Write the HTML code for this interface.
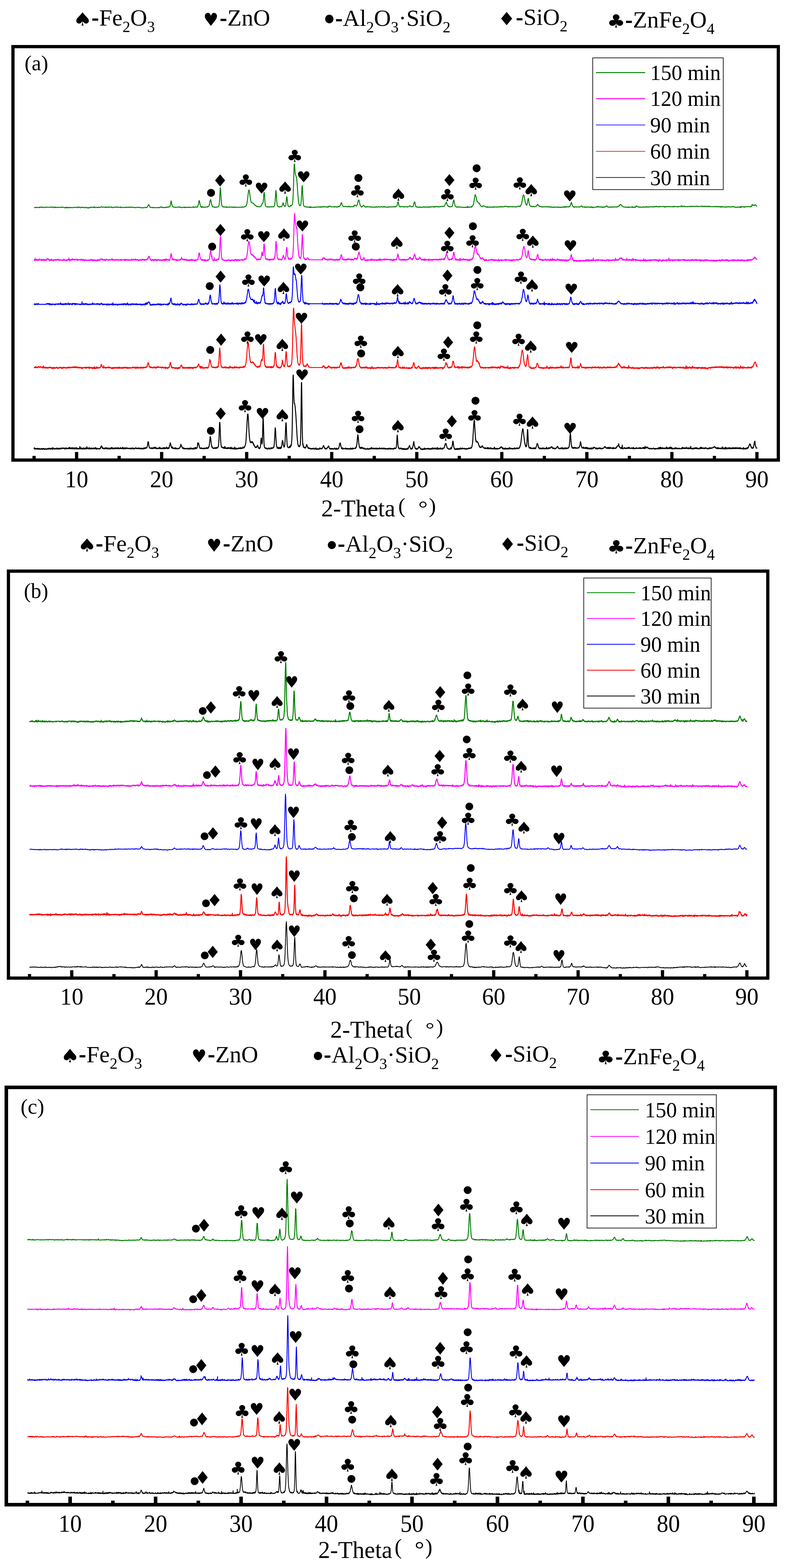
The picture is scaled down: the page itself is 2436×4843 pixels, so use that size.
<!DOCTYPE html>
<html><head><meta charset="utf-8"><style>
html,body{margin:0;padding:0;background:#fff;}
svg{display:block;}
</style></head><body>
<svg width="2436" height="4843" viewBox="0 0 2436 4843">
<rect width="2436" height="4843" fill="#fff"/>
<rect x="40.0" y="144.0" width="2363.0" height="1277.0" fill="none" stroke="#000" stroke-width="10.0"/>
<rect x="100.2" y="1408.0" width="10.0" height="9.0"/>
<rect x="231.5" y="1396.0" width="10.0" height="21.0"/>
<rect x="362.8" y="1408.0" width="10.0" height="9.0"/>
<rect x="494.1" y="1396.0" width="10.0" height="21.0"/>
<rect x="625.3" y="1408.0" width="10.0" height="9.0"/>
<rect x="756.6" y="1396.0" width="10.0" height="21.0"/>
<rect x="887.9" y="1408.0" width="10.0" height="9.0"/>
<rect x="1019.2" y="1396.0" width="10.0" height="21.0"/>
<rect x="1150.5" y="1408.0" width="10.0" height="9.0"/>
<rect x="1281.8" y="1396.0" width="10.0" height="21.0"/>
<rect x="1413.0" y="1408.0" width="10.0" height="9.0"/>
<rect x="1544.3" y="1396.0" width="10.0" height="21.0"/>
<rect x="1675.6" y="1408.0" width="10.0" height="9.0"/>
<rect x="1806.9" y="1396.0" width="10.0" height="21.0"/>
<rect x="1938.2" y="1408.0" width="10.0" height="9.0"/>
<rect x="2069.4" y="1396.0" width="10.0" height="21.0"/>
<rect x="2200.7" y="1408.0" width="10.0" height="9.0"/>
<rect x="2332.0" y="1396.0" width="10.0" height="21.0"/>
<g font-family="'Liberation Serif', serif" font-size="72.0" text-anchor="middle">
<text transform="translate(236.5 1505.0) scale(1 1.040)">10</text>
<text transform="translate(499.1 1505.0) scale(1 1.040)">20</text>
<text transform="translate(761.6 1505.0) scale(1 1.040)">30</text>
<text transform="translate(1024.2 1505.0) scale(1 1.040)">40</text>
<text transform="translate(1286.8 1505.0) scale(1 1.040)">50</text>
<text transform="translate(1549.3 1505.0) scale(1 1.040)">60</text>
<text transform="translate(1811.9 1505.0) scale(1 1.040)">70</text>
<text transform="translate(2074.4 1505.0) scale(1 1.040)">80</text>
<text transform="translate(2337.0 1505.0) scale(1 1.040)">90</text>
</g>
<text x="991.8" y="1594.5" font-family="'Liberation Serif', serif" font-size="73.5">2-Theta</text>
<text x="1229.6" y="1583.9" font-family="'Liberation Serif', serif" font-size="66.2">(</text>
<text x="1324.1" y="1583.9" font-family="'Liberation Serif', serif" font-size="66.2">)</text>
<text transform="translate(1306.0 1558.5) scale(1.189 1)" x="-12.2" y="31.3" font-family="'Liberation Serif', serif" font-size="61.0">°</text>
<text x="75.8" y="216.8" font-family="'Liberation Serif', serif" font-size="66.0">(a)</text>
<g fill="#000" font-family="'DejaVu Sans', sans-serif"><text transform="translate(254.9 58.6) scale(1.179 1)" x="-25.4" y="20.6" font-size="56.6">♠</text></g>
<text transform="translate(294.0 61.5) scale(0.962 1.283)" x="-12.0" y="17.0" font-family="'Liberation Serif', serif" font-size="72.0">-</text>
<text x="306.3" y="78.8" font-family="'Liberation Serif', serif" font-size="72.0">Fe<tspan font-size="48" dy="20">2</tspan><tspan dy="-20">O</tspan><tspan font-size="48" dy="20">3</tspan></text>
<g fill="#000" font-family="'DejaVu Sans', sans-serif"><text transform="translate(651.2 59.8) scale(0.938 1)" x="-24.9" y="20.2" font-size="55.6">♥</text></g>
<text transform="translate(689.8 62.0) scale(0.962 1.283)" x="-12.0" y="17.0" font-family="'Liberation Serif', serif" font-size="72.0">-</text>
<text x="702.1" y="79.2" font-family="'Liberation Serif', serif" font-size="72.0">ZnO</text>
<g fill="#000" font-family="'DejaVu Sans', sans-serif"><text transform="translate(1016.6 58.5) scale(0.954 1)" x="-15.4" y="9.1" font-size="35.4">●</text></g>
<text transform="translate(1046.5 62.7) scale(0.962 1.283)" x="-12.0" y="17.0" font-family="'Liberation Serif', serif" font-size="72.0">-</text>
<text x="1058.8" y="80.0" font-family="'Liberation Serif', serif" font-size="72.0">Al<tspan font-size="48" dy="20">2</tspan><tspan dy="-20">O</tspan><tspan font-size="48" dy="20">3</tspan><tspan dy="-20">·SiO</tspan><tspan font-size="48" dy="20">2</tspan></text>
<g fill="#000" font-family="'DejaVu Sans', sans-serif"><text transform="translate(1564.4 56.9) scale(1.065 1)" x="-25.4" y="20.6" font-size="56.6">♦</text></g>
<text transform="translate(1604.0 59.7) scale(0.962 1.283)" x="-12.0" y="17.0" font-family="'Liberation Serif', serif" font-size="72.0">-</text>
<text x="1616.3" y="77.0" font-family="'Liberation Serif', serif" font-size="72.0">SiO<tspan font-size="48" dy="20">2</tspan></text>
<g fill="#000" font-family="'DejaVu Sans', sans-serif"><text transform="translate(1902.5 64.4) scale(1.128 1)" x="-25.4" y="20.6" font-size="56.6">♣</text></g>
<text transform="translate(1941.8 67.7) scale(0.962 1.283)" x="-12.0" y="17.0" font-family="'Liberation Serif', serif" font-size="72.0">-</text>
<text x="1954.1" y="85.0" font-family="'Liberation Serif', serif" font-size="72.0">ZnFe<tspan font-size="48" dy="20">2</tspan><tspan dy="-20">O</tspan><tspan font-size="48" dy="20">4</tspan></text>
<rect x="1830.0" y="178.7" width="403.0" height="406.9" fill="none" stroke="#000" stroke-width="2.0"/>
<line x1="1840.0" x2="1992.0" y1="224.2" y2="224.2" stroke="#008000" stroke-width="3.0"/>
<text transform="translate(2007.2 247.0) scale(1 1.04)" font-family="'Liberation Serif', serif" font-size="66.0">150 min</text>
<line x1="1840.0" x2="1992.0" y1="304.8" y2="304.8" stroke="#ff00ff" stroke-width="3.0"/>
<text transform="translate(2007.2 326.8) scale(1 1.04)" font-family="'Liberation Serif', serif" font-size="66.0">120 min</text>
<line x1="1840.0" x2="1992.0" y1="386.0" y2="386.0" stroke="#0000ff" stroke-width="2.0"/>
<text transform="translate(2007.2 408.5) scale(1 1.04)" font-family="'Liberation Serif', serif" font-size="66.0">90 min</text>
<line x1="1840.0" x2="1992.0" y1="467.4" y2="467.4" stroke="#ff0000" stroke-width="2.0"/>
<text transform="translate(2007.2 490.0) scale(1 1.04)" font-family="'Liberation Serif', serif" font-size="66.0">60 min</text>
<line x1="1840.0" x2="1992.0" y1="548.3" y2="548.3" stroke="#000000" stroke-width="2.0"/>
<text transform="translate(2007.2 571.7) scale(1 1.04)" font-family="'Liberation Serif', serif" font-size="66.0">30 min</text>
<path d="M105.2 641.0l1 .2 1 -.5 1 .7 1 -.9 1 -.3 1 1.1 1 -.8 1 -.3 1 .4 1 .4 1 .5 1 -.9 1 .4 1 -.6 1 -.1 1 -.1 1 1.5 1 -2.1 1 .6 1 -.9 1 .9 1 -.1 1 .5 1 -.8 1 .7 1 -1.2 1 .7 1 -.1 1 .3 1 .3 1 0 1 .1 1 1 1 -.4 1 -1.4 1 .4 1 -.4 1 -.1 1 .6 1 0 1 -.5 1 .1 1 .1 1 .2 1 -.2 1 .2 1 .3 1 .1 1 -.5 1 -.5 1 .6 1 -.7 1 .6 1 -.9 1 .6 1 .5 1 .1 1 -1.2 1 1 1 .2 1 1.2 1 -.7 1 -.1 1 -2 1 1.6 1 .7 1 -1 1 .3 1 .3 1 .2 1 .3 1 -1.3 1 .6 1 -.7 1 .4 1 .8 1 .2 1 -.3 1 -.4 1 -.3 1 .5 1 -.6 1 -.7 1 .8 1 .7 1 -1.2 1 .6 1 -.5 1 .4 1 .3 1 0 1 0 1 .3 1 .8 1 .4 1 -1.3 1 .3 1 .5 1 -1.5 1 2.2 1 -1.6 1 .5 1 -1.1 1 1.6 1 -.7 1 .1 1 1.2 1 -.9 1 -.5 1 -.5 1 1.2 1 -.6 1 .6 1 -.3 1 -.8 1 .7 1 .1 1 .3 1 -.7 1 .2 1 -.3 1 .9 1 -1.2 1 .3 1 -.3 1 .5 1 -.2 1 -.7 1 -.2 1 .3 1 0 1 .9 1 .4 1 .3 1 -1.3 1 -1.5 1 1.4 1 .1 1 0 1 -.4 1 -.3 1 2.2 1 -.7 1 -.2 1 .7 1 -.8 1 -1.1 1 0 1 .9 1 .7 1 -1.3 1 .5 1 .3 1 -.2 1 -.3 1 .8 1 1.2 1 -1.4 1 -.6 1 -.4 1 .9 1 .4 1 .1 1 .4 1 -1 1 1.1 1 1.4 1 -1.8 1 -.7 1 .6 1 -.4 1 0 1 1 1 -2 1 .1 1 -.6 1 1.3 1 -.2 1 .4 1 -.4 1 0 1 -.3 1 -.3 1 1.1 1 -2.4 1 .3 1 2.2 1 -.2 1 .3 1 -1.2 1 .2 1 -.1 1 0 1 .3 1 1.3 1 -1.6 1 -.6 1 1.1 1 .3 1 -.6 1 -1 1 .9 1 .7 1 -.7 1 -.3 1 -.2 1 -.6 1 -1 1 1.1 1 .5 1 .6 1 -.1 1 -.8 1 -.2 1 .1 1 .7 1 -.3 1 -.1 1 .5 1 .5 1 -1.3 1 -.6 1 2.1 1 -.7 1 -.6 1 .7 1 -.2 1 -.5 1 .7 1 -1.2 1 1.3 1 -.1 1 -.6 1 .1 1 .2 1 -.9 1 .3 1 .7 1 -1 1 1.3 1 1.2 1 -.5 1 .1 1 -.9 1 .8 1 -.9 1 0 1 -.6 1 .5 1 -.7 1 .3 1 1 1 -.8 1 -.6 1 .5 1 -.5 1 1.3 1 -1.3 1 .6 1 .6 1 .1 1 0 1 -.3 1 -.2 1 .7 1 -1 1 -.7 1 2.5 1 -1 1 -.3 1 .2 1 .1 1 -.1 1 .5 1 -.6 1 .8 1 -.2 1 -.4 1 -.1 1 .1 1 .4 1 -.6 1 .5 1 -1.7 1 1.3 1 .4 1 -.3 1 -.4 1 .5 1 -.8 1 -.1 1 .5 1 .7 1 -1.2 1 -.1 1 -.2 1 1.1 1 0 1 -.9 1 -.4 1 1 1 .4 1 -.1 1 -.9 1 .4 1 .8 1 -.2 1 .3 1 -.6 1 .4 1 .4 1 .3 1 -.8 1 .9 1 -.5 1 -.7 1 .3 1 .2 1 -.4 1 -.2 1 -.4 1 1.1 1 -.7 1 -.1 1 .2 1 .6 1 -.6 1 .9 1 .2 1 .3 1 0 1 .1 1 -.9 1 .5 1 0 1 .8 1 -.4 1 -.4 1 -.2 1 -.3 1 -.2 1 .2 1 .1 1 -.4 1 1 1 -1.5 1 1 1 -.5 1 -.8 1 -.5 1 -2.2 1 -3.2 1 -1 1 -1 1 2.2 1 .8 1 3.9 1 .9 1 1.3 1 -.4 1 -.4 1 .5 1 -.1 1 .5 1 .3 1 -.3 1 .1 1 -1.3 1 1.6 1 -.3 1 -.3 1 .1 1 .4 1 -.4 1 .1 1 .4 1 -.1 1 -.3 1 -.2 1 .3 1 -.1 1 .9 1 -1 1 0 1 -.8 1 1.5 1 -.9 1 .4 1 -.8 1 .1 1 -1.3 1 -.8 1 1.4 1 -.5 1 1 1 -.4 1 1.1 1 -.6 1 0 1 1.3 1 -1 1 .1 1 -.5 1 0 1 .3 1 .9 1 -.5 1 -1.6 1 0 1 -.1 1 1.1 1 .1 1 -.7 1 -.5 1 .5 1 -1.3 1 .5 1 -.1 1 -1 1 -.6 1 -4.8 1 -6.1 1 -6.2 1 3.5 1 6 1 4.7 1 2.7 1 1.5 1 .3 1 .9 1 0 1 -.9 1 .4 1 .3 1 .4 1 .7 1 -1 1 -.1 1 .7 1 -.1 1 -.2 1 -.3 1 0 1 -.3 1 .3 1 -.4 1 .1 1 .1 1 1.1 1 -1.3 1 0 1 .1 1 .8 1 -.2 1 1.2 1 -.8 1 1 1 -.9 1 .1 1 -.1 1 -.8 1 .5 1 -.6 1 1 1 .7 1 -1.8 1 1.7 1 -.8 1 .3 1 -.6 1 .5 1 -.3 1 .1 1 -.5 1 .5 1 -.8 1 .6 1 .6 1 -1.3 1 .2 1 1.2 1 .2 1 -.5 1 .1 1 -.6 1 0 1 -.2 1 .5 1 -.3 1 -1 1 -1 1 2 1 -.6 1 .9 1 .1 1 -.9 1 -.8 1 .9 1 -.9 1 .8 1 .2 1 -.8 1 0 1 1.2 1 -3.1 1 -1.7 1 -2.7 1 -5.7 1 -6.1 1 -1.6 1 3.9 1 5.2 1 5.4 1 3 1 2.2 1 -.5 1 2.2 1 -1.3 1 -1.9 1 2.4 1 -.6 1 .6 1 -.2 1 -.1 1 .8 1 -.9 1 .2 1 .3 1 -.8 1 .7 1 -1.1 1 .4 1 -.3 1 -.4 1 1.3 1 -1.1 1 -.6 1 -.9 1 0 1 -1.7 1 -2.7 1 -4.5 1 -6.6 1 -3.5 1 -2 1 3.3 1 4.9 1 4.7 1 4.6 1 1.4 1 3.9 1 -1.4 1 .9 1 .3 1 .5 1 -.1 1 .1 1 1.6 1 -1.2 1 -.3 1 .3 1 .9 1 -1.2 1 -.1 1 -.1 1 0 1 0 1 -.2 1 -1.5 1 -.8 1 -2 1 -7.4 1 -12.4 1 -20.3 1 -15 1 6.4 1 18 1 17.7 1 9.1 1 4.5 1 2.6 1 .7 1 -.4 1 .9 1 -.6 1 1 1 -.7 1 -.2 1 1.1 1 -.1 1 -.1 1 .6 1 -.2 1 -1.8 1 2.2 1 -.4 1 .5 1 -.8 1 .1 1 -.2 1 .5 1 -.2 1 -.3 1 -.8 1 .9 1 .7 1 -.6 1 -.2 1 -.2 1 .4 1 -.1 1 .8 1 -1.2 1 0 1 1.4 1 -.5 1 -.4 1 -1.1 1 1.2 1 1.2 1 -.8 1 -.9 1 .9 1 .1 1 -.1 1 .1 1 -.5 1 .1 1 .3 1 .1 1 -.6 1 .3 1 0 1 0 1 -.1 1 -.4 1 .6 1 .1 1 -.4 1 .6 1 -.7 1 -.9 1 .3 1 .9 1 -.6 1 .4 1 -1 1 .1 1 -.4 1 .2 1 -.5 1 -.1 1 -1.1 1 -1.1 1 -.8 1 -3.6 1 -2.6 1 -5.2 1 -7.2 1 -9.1 1 -8.7 1 -8.3 1 -3.4 1 -.2 1 5 1 7.7 1 7.9 1 7.3 1 4.8 1 4.1 1 2.1 1 .3 1 .4 1 .1 1 0 1 .5 1 1.4 1 1 1 .3 1 1.2 1 1.1 1 2.2 1 -.3 1 .9 1 .4 1 2 1 .6 1 0 1 -.6 1 1 1 .5 1 -.6 1 -.2 1 .5 1 .1 1 .6 1 -.7 1 .2 1 -.8 1 -.6 1 -1.3 1 -2 1 -1.7 1 -2.7 1 -1.9 1 .2 1 -2.1 1 -7.8 1 -13.7 1 -10.4 1 2.2 1 12.8 1 16.4 1 8.3 1 2.4 1 1.4 1 .6 1 .9 1 .2 1 -.3 1 0 1 -.5 1 1.2 1 -.1 1 -.3 1 .3 1 0 1 -.2 1 -.4 1 .4 1 .1 1 -.9 1 .5 1 .2 1 -1 1 .2 1 .2 1 .8 1 -.8 1 -.2 1 -1 1 -2.3 1 -2.5 1 -8.3 1 -13.8 1 -17.3 1 -5.1 1 12 1 16.7 1 11.8 1 6.9 1 1.4 1 .7 1 .2 1 1.2 1 -.7 1 1.6 1 -1 1 -.7 1 .5 1 -.6 1 -.2 1 1.3 1 -.9 1 -1.5 1 -1.2 1 -4 1 -3.4 1 -1.8 1 3.9 1 2.9 1 2.9 1 .8 1 .9 1 0 1 -1.4 1 -3.4 1 -7.7 1 -9.7 1 -7.8 1 2.1 1 10.9 1 9.2 1 5 1 2.2 1 -.3 1 .9 1 .9 1 -.7 1 .4 1 -2.1 1 -1.8 1 1.6 1 -.9 1 0 1 -1.6 1 -1.4 1 -4.1 1 -10.1 1 -17.1 1 -28.7 1 -35 1 -28.2 1 -2.5 1 13 1 12.8 1 7 1 2 1 3.6 1 3.3 1 6.8 1 10.3 1 13.5 1 15.2 1 13.9 1 10.8 1 7 1 4.7 1 3.3 1 1.6 1 -1 1 .7 1 -1.5 1 -4.8 1 -10.2 1 -17.2 1 -22.1 1 -6.2 1 14.8 1 22 1 16.2 1 7.7 1 2.6 1 1 1 .4 1 .8 1 .4 1 -.4 1 .8 1 -.7 1 1.4 1 -1 1 -.1 1 0 1 1 1 -.3 1 1.2 1 -.1 1 -.4 1 -.3 1 .9 1 -3 1 2.4 1 1 1 -1.7 1 -.2 1 1.3 1 -.5 1 .4 1 -.3 1 .6 1 -.5 1 0 1 -.9 1 .5 1 .8 1 -1 1 1.1 1 -.5 1 -.7 1 -.5 1 .4 1 -.3 1 .6 1 -.4 1 -.1 1 .1 1 -.7 1 0 1 .9 1 .6 1 -.7 1 .2 1 -.6 1 1.3 1 -1.5 1 -.7 1 .5 1 .6 1 -.8 1 .5 1 -1 1 1.3 1 -.5 1 -.6 1 .3 1 .8 1 -.6 1 .2 1 -.2 1 .3 1 .5 1 .2 1 -.8 1 .3 1 1 1 -1.3 1 .5 1 -2.1 1 1.1 1 -1.5 1 .3 1 -.7 1 .5 1 -.2 1 1.4 1 .2 1 .4 1 -.1 1 .4 1 -.3 1 -.3 1 .1 1 .4 1 -.2 1 -.7 1 .5 1 1.1 1 -.8 1 -1 1 .4 1 .3 1 1.1 1 -.2 1 -.4 1 1 1 -1.1 1 -.9 1 .5 1 -1.3 1 1.3 1 -1.4 1 .3 1 -.7 1 -1.9 1 -2.3 1 -2 1 -4.4 1 0 1 2.1 1 4.3 1 1.4 1 1.1 1 1.9 1 1.4 1 -.8 1 .1 1 .1 1 .3 1 .3 1 -1.1 1 .7 1 .4 1 -.6 1 .4 1 -.1 1 .4 1 -.1 1 .8 1 -2 1 .5 1 -.6 1 -.3 1 2.5 1 .1 1 -.7 1 .2 1 -.4 1 -.4 1 .5 1 -.2 1 0 1 -.3 1 .5 1 -.8 1 1 1 -1.8 1 .2 1 -2.6 1 -1.2 1 0 1 1.4 1 .4 1 .5 1 1 1 -1.3 1 -1.7 1 -2.1 1 -4.1 1 -3.7 1 -3.8 1 -2.4 1 .4 1 3.2 1 5.5 1 3.6 1 4.1 1 2.1 1 .8 1 1.5 1 1 1 -1.5 1 -.6 1 .2 1 -1.4 1 -1.5 1 -.5 1 -.6 1 2.1 1 1.3 1 1 1 .2 1 1.4 1 -1 1 .5 1 -.6 1 -1.1 1 1.6 1 -.6 1 -.3 1 0 1 .5 1 -.2 1 .4 1 -.2 1 -.1 1 .7 1 -1.1 1 .9 1 -.1 1 -.2 1 .9 1 -.2 1 -.7 1 .4 1 .4 1 -.5 1 .8 1 .4 1 -.4 1 -.6 1 .3 1 .1 1 .2 1 -.5 1 -1.8 1 1.8 1 -.1 1 0 1 .3 1 -.3 1 -.4 1 -1.4 1 1.7 1 -.2 1 -.1 1 -.4 1 1 1 -.4 1 -.4 1 -.4 1 .8 1 -.9 1 .6 1 .1 1 .5 1 -.8 1 .3 1 -.1 1 -1.9 1 2.5 1 -.6 1 -.2 1 .6 1 -.8 1 .7 1 .7 1 .2 1 -.2 1 -.4 1 -.1 1 .1 1 .9 1 -1.7 1 .5 1 -.4 1 .3 1 -.1 1 -.4 1 .1 1 .8 1 -.6 1 -.4 1 .4 1 0 1 .2 1 -.2 1 -.5 1 .6 1 -.9 1 .3 1 .5 1 -.8 1 .9 1 -1.4 1 1.1 1 -1 1 .1 1 -1.3 1 0 1 -3.3 1 -3.8 1 -4.8 1 -1.3 1 3.3 1 5.7 1 3 1 2.9 1 .1 1 -.3 1 1.3 1 -1.7 1 .5 1 .2 1 -.5 1 .4 1 -.3 1 .3 1 .4 1 .4 1 .4 1 -1.5 1 .9 1 .2 1 -.2 1 -.3 1 -.4 1 .1 1 -.5 1 .9 1 0 1 1 1 -.5 1 -.3 1 -1.2 1 .5 1 -.4 1 -.2 1 -.8 1 -1.4 1 .6 1 .5 1 1.1 1 .8 1 .5 1 0 1 -.3 1 -.6 1 .6 1 -.6 1 -2.7 1 -2.3 1 -5.7 1 -3.4 1 -.7 1 2.6 1 5.7 1 2.8 1 4.3 1 -.3 1 .5 1 .8 1 .3 1 .6 1 -1.2 1 .3 1 -.3 1 .8 1 -.8 1 0 1 1.4 1 -.9 1 -.6 1 .8 1 .4 1 .2 1 -.3 1 -.2 1 .2 1 -1.6 1 1.2 1 -.2 1 -.6 1 -.6 1 1.5 1 .3 1 -.9 1 .6 1 -.9 1 -.1 1 .6 1 -.7 1 1.4 1 -.9 1 -.1 1 -.2 1 1.3 1 -1.2 1 .1 1 -.6 1 1.3 1 -.9 1 -.3 1 1.2 1 -1.2 1 .6 1 -.9 1 -.1 1 .4 1 -.5 1 .9 1 -.4 1 .3 1 -.9 1 .3 1 1.3 1 -1.5 1 -.2 1 1.2 1 -1.5 1 1 1 -1.1 1 .7 1 -.6 1 .5 1 -.2 1 1.1 1 -1.1 1 .4 1 1 1 -.6 1 -.2 1 -.9 1 .2 1 .7 1 -.4 1 -.6 1 -.1 1 0 1 -.5 1 1.2 1 -1 1 .4 1 -.3 1 -.6 1 .3 1 -1.3 1 -1.1 1 -2.5 1 -2.8 1 -1.7 1 -1.2 1 -2.4 1 3.7 1 3.6 1 2.4 1 1.8 1 0 1 1.9 1 .4 1 -.2 1 .7 1 .1 1 -.7 1 1.2 1 .1 1 -.4 1 -.1 1 .1 1 -1.3 1 -.6 1 -2.2 1 -4.1 1 -6.5 1 -5.1 1 -1.5 1 3.9 1 5.5 1 5 1 4.2 1 1.3 1 .9 1 1.2 1 .1 1 -.8 1 1.4 1 -.7 1 -.5 1 -.1 1 .8 1 -.7 1 .9 1 -.3 1 .5 1 -.5 1 -.1 1 -.6 1 1.4 1 -.2 1 .1 1 -.3 1 0 1 .6 1 .4 1 -.7 1 .4 1 .2 1 -.9 1 .1 1 .8 1 -.1 1 -.1 1 .4 1 -1.6 1 1.2 1 0 1 .4 1 -3.9 1 2.9 1 .8 1 -1 1 -.5 1 1.4 1 -.7 1 -.8 1 .4 1 -.2 1 .1 1 -.9 1 -.5 1 2.1 1 -2.3 1 -.9 1 -1.1 1 -1.5 1 -2.3 1 -2.8 1 -6.6 1 -5.2 1 -6.9 1 -5.5 1 -4.2 1 2.4 1 2.8 1 3.6 1 6 1 3.5 1 3.1 1 .9 1 1.4 1 .6 1 1.5 1 .5 1 1.5 1 .8 1 -.6 1 4.8 1 1.4 1 .7 1 1.1 1 .5 1 .6 1 .7 1 -.4 1 0 1 -2.8 1 .4 1 -.3 1 -.2 1 .7 1 .8 1 .6 1 1.1 1 -.3 1 .2 1 1 1 .5 1 -.5 1 1.2 1 -2.3 1 1.4 1 -.4 1 .8 1 -.4 1 .5 1 -.4 1 -.4 1 .6 1 -1.3 1 .6 1 .9 1 -.5 1 .3 1 .3 1 -.5 1 .2 1 -1.2 1 1 1 .1 1 -1.4 1 1.3 1 0 1 -.8 1 .1 1 .3 1 -.4 1 .5 1 .6 1 -1.1 1 .1 1 0 1 -.1 1 .5 1 -.9 1 .7 1 -1.2 1 .5 1 .6 1 .5 1 -.4 1 -.6 1 -1.9 1 2.2 1 -.2 1 .5 1 -.2 1 .1 1 -.9 1 .1 1 .4 1 -.2 1 -1.4 1 .8 1 -.8 1 -.2 1 .1 1 -.2 1 .5 1 .2 1 1 1 -.5 1 .5 1 -.6 1 1.4 1 -1.5 1 .6 1 -1 1 1.3 1 .1 1 -.1 1 .3 1 -.7 1 .2 1 -.5 1 .2 1 .6 1 -.4 1 .5 1 -.8 1 -.1 1 .7 1 -.5 1 .8 1 -.6 1 .3 1 -.1 1 .9 1 -1.1 1 -.5 1 .6 1 .5 1 -1.4 1 .2 1 -1.2 1 .3 1 .1 1 0 1 1 1 -1 1 -1.1 1 1.1 1 -.8 1 -2.5 1 -2 1 -2 1 -5.3 1 -4.1 1 -6.9 1 -5.1 1 -5.1 1 -1.5 1 .9 1 2.6 1 5.8 1 5.4 1 4.9 1 4.3 1 3 1 3.4 1 .9 1 .9 1 -2.5 1 -4.8 1 -6 1 -5.4 1 -2.6 1 4.7 1 7.3 1 5.2 1 2.9 1 2.4 1 1.4 1 .7 1 .7 1 -1 1 0 1 1.4 1 -.2 1 .3 1 -1 1 -.2 1 .9 1 -.3 1 .6 1 0 1 -.8 1 .6 1 -.7 1 -.3 1 0 1 -.6 1 -1.8 1 -.7 1 -2.7 1 -.2 1 1.2 1 1.9 1 1.2 1 .5 1 1.5 1 .2 1 .1 1 -1 1 1.5 1 .9 1 -.3 1 -.5 1 -.4 1 1.5 1 .2 1 -.6 1 .1 1 -.5 1 -.3 1 .6 1 -.3 1 -.2 1 0 1 .9 1 -.6 1 .6 1 -.7 1 -.9 1 .3 1 1.3 1 -.6 1 -.7 1 .3 1 1.6 1 -.5 1 -.2 1 -.8 1 .1 1 1.2 1 -.3 1 -1.2 1 1.5 1 -.1 1 1 1 -.7 1 .7 1 -.8 1 -.2 1 .5 1 -1.1 1 1.3 1 -.2 1 .3 1 -.7 1 -.3 1 -.5 1 1.1 1 -.1 1 .2 1 -.8 1 -.1 1 1.7 1 -1.2 1 .1 1 0 1 .9 1 -1.1 1 .1 1 -.1 1 .5 1 -.4 1 1.4 1 -1.4 1 1.1 1 -.9 1 0 1 -.9 1 .5 1 -.2 1 -1.3 1 2.1 1 -.5 1 -.5 1 1.2 1 -2.8 1 1.3 1 .8 1 -1.3 1 .8 1 -.1 1 -.6 1 .3 1 .3 1 .4 1 -1.4 1 .4 1 -.3 1 .6 1 -2 1 -.5 1 -2.1 1 -4 1 -3.6 1 -1.9 1 3.8 1 3.2 1 2.5 1 2.7 1 .8 1 .9 1 .7 1 -.8 1 1.8 1 -.6 1 -.8 1 -.1 1 -.1 1 .5 1 .4 1 -.8 1 .4 1 .1 1 .3 1 -.5 1 -.3 1 -.2 1 .9 1 .3 1 -.7 1 -.4 1 -.3 1 .4 1 -1 1 -2 1 .2 1 .3 1 .5 1 2.5 1 .6 1 -.8 1 .2 1 -.2 1 -.3 1 -.7 1 2.5 1 -.7 1 -.6 1 .2 1 1.1 1 -1.7 1 .7 1 .5 1 -1.3 1 .4 1 .2 1 .8 1 -.7 1 -.6 1 1 1 .9 1 -.6 1 -.6 1 -.1 1 -1.3 1 2.1 1 -.4 1 -.7 1 1.8 1 -1.4 1 2 1 -1.2 1 .1 1 -.5 1 .2 1 -.1 1 .3 1 -.4 1 -.7 1 -.1 1 .4 1 -.3 1 -.7 1 1.1 1 -1.4 1 .7 1 -2.3 1 2.2 1 .7 1 -.3 1 -.3 1 -.3 1 .8 1 .1 1 -1 1 -.1 1 1.2 1 -.1 1 .7 1 -1.3 1 1.5 1 -1 1 .4 1 .9 1 -1.5 1 .1 1 .1 1 -1 1 .2 1 .4 1 -1.4 1 -1 1 .1 1 -1.2 1 1.2 1 1.8 1 0 1 1 1 -.1 1 .5 1 -.5 1 .4 1 .3 1 -.9 1 .7 1 0 1 -.9 1 -.6 1 .5 1 1.2 1 -.4 1 -.8 1 0 1 .6 1 -.7 1 .8 1 -.1 1 -.2 1 -.1 1 -.4 1 .2 1 .2 1 -.2 1 .7 1 -.7 1 -.4 1 -1.1 1 1.2 1 -.6 1 -.4 1 -.2 1 -2.4 1 .2 1 -2.4 1 0 1 -1.1 1 -.7 1 .8 1 1.3 1 1.8 1 .9 1 .7 1 1 1 .2 1 .4 1 1 1 -.1 1 .5 1 -.1 1 -.3 1 .8 1 -.2 1 -.6 1 .8 1 -.6 1 .3 1 -.1 1 0 1 -.1 1 1.8 1 -2.2 1 1.4 1 -1 1 .1 1 .7 1 -.9 1 .7 1 0 1 -.2 1 -.2 1 -.4 1 .6 1 -2.2 1 2.7 1 .5 1 -.9 1 0 1 .6 1 -1.5 1 .7 1 .5 1 -1.8 1 1.1 1 -1.6 1 -1.1 1 -1.4 1 1.7 1 .3 1 .3 1 1.2 1 .5 1 0 1 -.9 1 .9 1 .4 1 .2 1 -1.3 1 1.1 1 .1 1 -.1 1 .6 1 -.5 1 -.2 1 .1 1 -.3 1 -1.5 1 1.5 1 -.6 1 .9 1 -.6 1 -.2 1 .5 1 .2 1 -1.2 1 1.2 1 -.9 1 -.7 1 1.1 1 .5 1 -1.2 1 .3 1 .6 1 .4 1 -.8 1 -.2 1 .7 1 -1.2 1 .5 1 -.3 1 .3 1 -.1 1 .1 1 -.7 1 -.1 1 1 1 -.1 1 -1 1 .8 1 -.7 1 1.3 1 0 1 -1.3 1 0 1 -.8 1 1.5 1 -.6 1 -1.4 1 1.8 1 -.2 1 -.5 1 0 1 .2 1 1.1 1 -.1 1 -.9 1 -.3 1 1.2 1 -1.9 1 .2 1 .7 1 .3 1 -.4 1 -.3 1 .2 1 .2 1 .2 1 -.8 1 .8 1 -1 1 .5 1 1 1 .4 1 -1.6 1 1.9 1 -1.5 1 .8 1 .5 1 -1.1 1 .3 1 -1 1 .4 1 -.1 1 .5 1 -.8 1 1.1 1 -.9 1 1 1 0 1 -.4 1 -.5 1 .4 1 -.1 1 .7 1 -.3 1 -.4 1 .3 1 .2 1 -.7 1 1.2 1 -.9 1 .3 1 -1.8 1 1.1 1 .4 1 .1 1 -.4 1 -.2 1 0 1 .6 1 .1 1 -.1 1 -.4 1 1.3 1 -1.1 1 -.7 1 .3 1 .3 1 0 1 -.5 1 .3 1 -.5 1 .2 1 .2 1 -.7 1 .1 1 -1.9 1 3.1 1 -.9 1 .3 1 -.1 1 -.4 1 -.5 1 .6 1 -.7 1 1.2 1 0 1 .6 1 -.3 1 -.2 1 .1 1 .4 1 -.1 1 0 1 -.9 1 .8 1 -.4 1 .3 1 -.5 1 -.2 1 .6 1 -.7 1 .2 1 .6 1 -.5 1 -1.2 1 1.3 1 -.1 1 -.2 1 .2 1 0 1 -.3 1 .1 1 -.3 1 -.2 1 .6 1 -.2 1 .3 1 -.1 1 -.1 1 -.4 1 -.9 1 .8 1 .1 1 .1 1 -.5 1 .9 1 .1 1 .5 1 -.8 1 -.1 1 0 1 0 1 -.1 1 -.2 1 -.1 1 .4 1 -.1 1 -.9 1 1.1 1 .9 1 -.3 1 -1 1 .8 1 -1.1 1 .6 1 -.6 1 .1 1 1.4 1 -.1 1 -.5 1 -1 1 .8 1 -.2 1 .5 1 .9 1 -1.2 1 .8 1 -1.1 1 .7 1 -1.2 1 1.3 1 0 1 .4 1 -.2 1 -.2 1 .5 1 -.3 1 .1 1 .2 1 -.2 1 .1 1 .4 1 -.7 1 .3 1 -.3 1 .5 1 -.1 1 -.4 1 -.7 1 1.7 1 -.9 1 .5 1 -.5 1 .7 1 -.6 1 -.3 1 1 1 -1.7 1 1.2 1 0 1 -.1 1 .8 1 -.8 1 1 1 -.5 1 .8 1 -1.9 1 2 1 -1 1 .5 1 -1.7 1 1.2 1 -.5 1 .5 1 .5 1 .2 1 -.1 1 .1 1 -.5 1 .4 1 1 1 -1.6 1 0 1 -.6 1 1.4 1 0 1 -.5 1 -.4 1 -.7 1 1.1 1 .1 1 -.7 1 .1 1 .8 1 0 1 .2 1 -1 1 .8 1 .2 1 -.6 1 -1 1 .4 1 -.6 1 1.3 1 -.8 1 .3 1 .7 1 -.7 1 1.7 1 -.3 1 0 1 -.2 1 .8 1 .3 1 -.9 1 -.1 1 -.6 1 .6 1 .8 1 -.8 1 -.5 1 .4 1 .3 1 -.6 1 0 1 1.6 1 -2.8 1 2.9 1 -3.3 1 1 1 -.6 1 1 1 -.3 1 0 1 -.3 1 .3 1 .7 1 -1.2 1 1.4 1 .3 1 -1.2 1 -.2 1 .1 1 -.7 1 .8 1 -.3 1 .3 1 -.5 1 -.5 1 .5 1 -.3 1 .3 1 .2 1 -.4 1 .2 1 -.4 1 .4 1 .4 1 -1.7 1 1.1 1 -.8 1 -1.4 1 -4.8 1 2.2 1 .1 1 .3 1 -.4 1 .7 1 -.2 1 .6 1 -.5 1 -1.7 1 .1 1 1.3 1 1.1 1 .3 1 1.8 1 .6" fill="none" stroke="#008000" stroke-width="2.8" stroke-linejoin="round"/>
<path d="M105.2 803.5l.5 .1 .5 -1.7 .5 2.7 .5 -1.7 .5 1 .5 -1.1 .5 -5.3 .5 6.5 .5 -.9 .5 -.1 .5 -.3 .5 -.3 .5 1.8 .5 -1.1 .5 -2.9 .5 3.4 .5 -.5 .5 .6 .5 -.7 .5 .9 .5 -.3 .5 -1.9 .5 1 .5 .8 .5 -.3 .5 1.8 .5 -3.1 .5 1.1 .5 -.6 .5 0 .5 0 .5 -3.3 .5 2.8 .5 .2 .5 2 .5 -.9 .5 -1 .5 .8 .5 -.2 .5 -.1 .5 -.1 .5 .6 .5 -2 .5 -.9 .5 3.6 .5 -1.6 .5 1.6 .5 -2.8 .5 .9 .5 2.7 .5 -2.4 .5 -.7 .5 1.9 .5 0 .5 .6 .5 -1.1 .5 .8 .5 -2.2 .5 1.9 .5 .9 .5 -4.1 .5 3 .5 -.9 .5 .5 .5 0 .5 -.7 .5 3 .5 -.9 .5 .9 .5 -1.3 .5 .5 .5 -.9 .5 -1.8 .5 .3 .5 -.4 .5 .5 .5 1.9 .5 -1.1 .5 -.3 .5 -1.6 .5 -.2 .5 -2.8 .5 1 .5 .7 .5 -.4 .5 -.3 .5 1.1 .5 .5 .5 -.6 .5 1.2 .5 1 .5 1.7 .5 -1 .5 -.1 .5 -1.5 .5 3.3 .5 -.2 .5 .3 .5 -1.3 .5 0 .5 .6 .5 -2 .5 .9 .5 1.3 .5 .4 .5 -1.2 .5 -2.9 .5 2.1 .5 -.3 .5 .6 .5 .9 .5 .6 .5 -1.8 .5 2 .5 -.9 .5 -.9 .5 .7 .5 -1.2 .5 .6 .5 1.3 .5 1.3 .5 -1.4 .5 -.6 .5 0 .5 -.5 .5 .6 .5 -2.4 .5 1.3 .5 0 .5 .2 .5 -1.1 .5 1.3 .5 1.4 .5 -1.4 .5 -.9 .5 .3 .5 1.2 .5 -.9 .5 -.3 .5 -.1 .5 1.3 .5 -.5 .5 -.9 .5 -.8 .5 2.5 .5 -1.8 .5 -1.6 .5 2.6 .5 -.6 .5 .4 .5 -1.3 .5 0 .5 1.5 .5 .4 .5 -1.8 .5 0 .5 3.3 .5 -2 .5 1.6 .5 -1.5 .5 .1 .5 1.1 .5 -.1 .5 -.9 .5 -.7 .5 -.5 .5 .3 .5 1 .5 .3 .5 -.5 .5 .7 .5 -.7 .5 .4 .5 .4 .5 .4 .5 -1.8 .5 1.7 .5 -.3 .5 -1.1 .5 -.4 .5 2.1 .5 -3.5 .5 1 .5 -1.2 .5 2.8 .5 -1.1 .5 -1.5 .5 2.6 .5 .4 .5 .2 .5 .7 .5 -1.4 .5 .8 .5 -.1 .5 .2 .5 -1.8 .5 .6 .5 1.2 .5 -1 .5 -.5 .5 -.8 .5 1.9 .5 1.7 .5 -2 .5 -.9 .5 .2 .5 -.8 .5 -.6 .5 1.4 .5 0 .5 -1.5 .5 1.8 .5 -2 .5 1.3 .5 -5.5 .5 4 .5 1.7 .5 -1.2 .5 2.2 .5 1.6 .5 -2.1 .5 1.3 .5 -3.3 .5 -.2 .5 .9 .5 1.3 .5 .6 .5 -1.2 .5 -.7 .5 .5 .5 .7 .5 -1.3 .5 1.3 .5 -1.1 .5 -2.9 .5 3 .5 -.1 .5 .1 .5 .8 .5 .7 .5 -3.6 .5 2.4 .5 -.4 .5 0 .5 -1.3 .5 .9 .5 .3 .5 -.9 .5 .3 .5 2.2 .5 -1.6 .5 -.3 .5 -.9 .5 .7 .5 .1 .5 .7 .5 -.1 .5 .5 .5 -.1 .5 -2 .5 1.6 .5 -1.7 .5 2.3 .5 -2.1 .5 1.2 .5 -1.9 .5 4.6 .5 -2.7 .5 .6 .5 .8 .5 -.3 .5 -.7 .5 1.9 .5 -1.7 .5 0 .5 -1 .5 .3 .5 -.1 .5 .5 .5 .6 .5 .1 .5 -.4 .5 -.5 .5 1.9 .5 -2.3 .5 1.7 .5 -2 .5 1.6 .5 -1.4 .5 1.1 .5 1.1 .5 -3.1 .5 2.5 .5 -3 .5 3.8 .5 -1.2 .5 -.7 .5 -.4 .5 .6 .5 -.3 .5 2.1 .5 .9 .5 -.5 .5 -2.2 .5 0 .5 1.2 .5 .1 .5 -.1 .5 -1.2 .5 3.4 .5 -.6 .5 -1.1 .5 -.5 .5 -.9 .5 1 .5 -.2 .5 -1.5 .5 1.6 .5 -1.3 .5 2.7 .5 .3 .5 -1.7 .5 .2 .5 -.4 .5 1.7 .5 -.4 .5 .2 .5 -.3 .5 .2 .5 -1.9 .5 1.2 .5 .2 .5 .1 .5 -.4 .5 -.7 .5 -.2 .5 .9 .5 .5 .5 -.1 .5 .7 .5 -2.2 .5 2.8 .5 -.9 .5 -1.2 .5 .8 .5 -1.9 .5 .7 .5 .3 .5 -.4 .5 -1.2 .5 1.6 .5 1.3 .5 -2.5 .5 .9 .5 -2.2 .5 3.2 .5 .6 .5 -.4 .5 -.4 .5 .1 .5 .4 .5 -2.1 .5 3.1 .5 -2.5 .5 2.4 .5 -3 .5 1.8 .5 .8 .5 -1.2 .5 .8 .5 -1.5 .5 2.2 .5 -2.2 .5 1.8 .5 -1.2 .5 1.1 .5 .3 .5 -2.8 .5 3.2 .5 -.9 .5 .3 .5 -.3 .5 .8 .5 -.4 .5 -.1 .5 .8 .5 -1.9 .5 .6 .5 -2.7 .5 2.8 .5 -.4 .5 2.3 .5 -3.3 .5 .8 .5 .2 .5 -.6 .5 .5 .5 .6 .5 -2.6 .5 .4 .5 2.7 .5 -1.9 .5 .1 .5 .4 .5 -.5 .5 1 .5 .8 .5 -2.3 .5 -2.2 .5 1 .5 -1.9 .5 .1 .5 1.3 .5 -1.4 .5 .8 .5 -.8 .5 .6 .5 1.3 .5 -.6 .5 .5 .5 -1.2 .5 3.4 .5 -.5 .5 .4 .5 0 .5 -1.6 .5 .2 .5 .4 .5 .7 .5 -.7 .5 1.7 .5 -.8 .5 -.1 .5 -.2 .5 -1.4 .5 .5 .5 -.3 .5 1 .5 2.1 .5 -2.2 .5 1.5 .5 -1.1 .5 1.9 .5 -3.2 .5 .3 .5 .3 .5 .1 .5 -2.1 .5 1.9 .5 .5 .5 -.5 .5 .2 .5 -1.2 .5 1.8 .5 -.3 .5 .9 .5 -.9 .5 1.3 .5 -.6 .5 -.6 .5 -.9 .5 1.6 .5 -1.7 .5 1.2 .5 -.3 .5 .8 .5 .4 .5 -2.3 .5 -.4 .5 .6 .5 .5 .5 -.2 .5 .5 .5 .6 .5 .4 .5 -.5 .5 -1.4 .5 .3 .5 .1 .5 -2.8 .5 .9 .5 1.6 .5 1 .5 -2.9 .5 2.7 .5 1.6 .5 .2 .5 -1.9 .5 -.4 .5 .3 .5 -.6 .5 .2 .5 1.2 .5 .8 .5 -1.9 .5 .6 .5 -.1 .5 1.2 .5 .5 .5 -.2 .5 -.4 .5 -.5 .5 -2 .5 1.5 .5 1 .5 -1.5 .5 -.2 .5 1.4 .5 -.5 .5 -.8 .5 -.3 .5 .3 .5 .4 .5 -.1 .5 -1.4 .5 2.9 .5 -2.1 .5 .4 .5 .4 .5 1.1 .5 -1.1 .5 .2 .5 .3 .5 -.2 .5 -.8 .5 .4 .5 1.5 .5 .2 .5 -.2 .5 -.6 .5 -.9 .5 .8 .5 -2.2 .5 3.4 .5 -1.7 .5 -.4 .5 -.6 .5 .7 .5 .9 .5 .5 .5 -1.9 .5 .1 .5 1.4 .5 -.2 .5 -1 .5 1.1 .5 -.2 .5 -.5 .5 -.7 .5 -.3 .5 .1 .5 .9 .5 .3 .5 0 .5 -.4 .5 .8 .5 -.4 .5 -.9 .5 -.1 .5 3.2 .5 -4.2 .5 3.5 .5 .2 .5 -.4 .5 -2.2 .5 1.7 .5 -2.4 .5 .7 .5 -.9 .5 2 .5 -.2 .5 .1 .5 .4 .5 -1.3 .5 -.4 .5 1.7 .5 .7 .5 -1.1 .5 1.6 .5 -2.4 .5 .9 .5 -.2 .5 -.2 .5 -1.3 .5 2.6 .5 .2 .5 -.9 .5 -.3 .5 .1 .5 .1 .5 .8 .5 -1.9 .5 -.1 .5 .3 .5 1.5 .5 -.1 .5 0 .5 -.4 .5 .4 .5 .1 .5 -3.5 .5 .9 .5 2.8 .5 -2.8 .5 2 .5 -.4 .5 -.2 .5 .4 .5 -.8 .5 .7 .5 .4 .5 -3 .5 1.7 .5 1.1 .5 -.8 .5 -.7 .5 .8 .5 -1 .5 .8 .5 .6 .5 .2 .5 -.5 .5 1.3 .5 -2.8 .5 .8 .5 -2.6 .5 3.2 .5 .2 .5 -.4 .5 1.3 .5 .2 .5 -1.8 .5 -.4 .5 1.5 .5 -1.1 .5 -.6 .5 1.9 .5 -.8 .5 .6 .5 -.4 .5 -.9 .5 2.4 .5 -.5 .5 1.1 .5 -1.2 .5 1 .5 -2 .5 .3 .5 .6 .5 .9 .5 -1.8 .5 -.3 .5 1 .5 -1.1 .5 1.5 .5 -1.4 .5 -.7 .5 1.6 .5 -.7 .5 .9 .5 0 .5 1.3 .5 -.8 .5 -2.2 .5 1.9 .5 -2.8 .5 .3 .5 .9 .5 -.1 .5 -1.4 .5 1.7 .5 0 .5 1.2 .5 -.3 .5 -2.1 .5 2 .5 .1 .5 -1.2 .5 1.2 .5 .3 .5 -1.3 .5 2.6 .5 -1.8 .5 .1 .5 -1.2 .5 1.3 .5 -.5 .5 -1.4 .5 1.1 .5 1.3 .5 -2.2 .5 1.3 .5 -.7 .5 .6 .5 -.8 .5 -.8 .5 1.3 .5 -2 .5 .5 .5 .4 .5 -1.5 .5 -2.6 .5 2.6 .5 -.8 .5 -1.6 .5 -1.3 .5 -2.1 .5 -1.1 .5 -1.3 .5 0 .5 2 .5 -.7 .5 2 .5 2.8 .5 -.5 .5 2.1 .5 1.8 .5 .1 .5 -.2 .5 .4 .5 2.4 .5 -1.9 .5 .5 .5 3.4 .5 -2 .5 -1.2 .5 1.1 .5 -2.1 .5 1.6 .5 -1.2 .5 1.2 .5 -.6 .5 -.3 .5 2.7 .5 -1.5 .5 -2.5 .5 3.2 .5 .2 .5 .4 .5 -1.6 .5 -.7 .5 1.5 .5 -2 .5 .3 .5 -.4 .5 -.7 .5 3.3 .5 -1.9 .5 -1.3 .5 1.6 .5 -.2 .5 -.1 .5 -1.9 .5 2.9 .5 .9 .5 -.5 .5 .8 .5 -1.5 .5 -.1 .5 -.6 .5 -.4 .5 3.1 .5 -1.5 .5 -1.2 .5 -1.7 .5 1.5 .5 -.6 .5 0 .5 .8 .5 -.1 .5 -.2 .5 2.1 .5 -2.3 .5 1.7 .5 1.3 .5 -1.8 .5 1.4 .5 -1.1 .5 .4 .5 .2 .5 -.3 .5 .6 .5 -2.5 .5 1.5 .5 .7 .5 -.7 .5 -.7 .5 .6 .5 0 .5 1.5 .5 -1 .5 -.3 .5 .7 .5 -.9 .5 -1.5 .5 1.7 .5 -.9 .5 -.1 .5 -1.1 .5 2.8 .5 -2.3 .5 .9 .5 -.1 .5 2 .5 -3.6 .5 2.1 .5 -.6 .5 -.7 .5 3 .5 -3.3 .5 2.1 .5 .4 .5 -.6 .5 -4.6 .5 2.9 .5 1.3 .5 1.1 .5 -.9 .5 -2.8 .5 .6 .5 1.8 .5 .2 .5 .3 .5 -.1 .5 -1.8 .5 1.1 .5 -.6 .5 0 .5 .7 .5 0 .5 1.1 .5 -.5 .5 -1.9 .5 .2 .5 3.7 .5 -2.6 .5 -1.3 .5 -.4 .5 -.4 .5 -.8 .5 -2.4 .5 -.8 .5 -6.1 .5 .4 .5 -6.3 .5 .6 .5 -1.9 .5 3 .5 1.5 .5 3.6 .5 3.7 .5 2.1 .5 4.8 .5 -3 .5 2.5 .5 .2 .5 .7 .5 -1.6 .5 .6 .5 -1.8 .5 3 .5 -1.5 .5 1.9 .5 -1.1 .5 1.5 .5 -2 .5 1.4 .5 -1.5 .5 .8 .5 -.4 .5 1.5 .5 .2 .5 .1 .5 -1.6 .5 .9 .5 -1.5 .5 1.5 .5 -.8 .5 2.7 .5 -1.1 .5 -1.4 .5 1.1 .5 -.7 .5 -.1 .5 2.6 .5 -1.4 .5 -1.2 .5 .4 .5 -.2 .5 .4 .5 .9 .5 -.1 .5 -1 .5 -.4 .5 1.4 .5 -.9 .5 -1.3 .5 .8 .5 .2 .5 .9 .5 0 .5 -1.4 .5 -.6 .5 -.4 .5 1.4 .5 -1.8 .5 .1 .5 -1.2 .5 1.5 .5 -6.5 .5 4.9 .5 -2.6 .5 2.4 .5 .4 .5 .3 .5 .3 .5 -.5 .5 2.6 .5 -1.3 .5 -.3 .5 -.1 .5 2.1 .5 -2.4 .5 1.7 .5 .8 .5 -1.8 .5 1 .5 -.4 .5 1 .5 1.3 .5 -2.9 .5 1.8 .5 -.1 .5 .2 .5 -2.2 .5 2.2 .5 -1.4 .5 -.7 .5 1.2 .5 -.2 .5 2.6 .5 -1 .5 -2 .5 1 .5 .8 .5 1.9 .5 -1.7 .5 .8 .5 .4 .5 -2.2 .5 -.1 .5 1.2 .5 -.3 .5 -.7 .5 2 .5 -1.6 .5 2.2 .5 -1.4 .5 -.8 .5 -.8 .5 2.5 .5 -.9 .5 -1.5 .5 1.4 .5 -.9 .5 .7 .5 -1.6 .5 2.4 .5 -.5 .5 -.2 .5 -.1 .5 -2.8 .5 2 .5 0 .5 2.3 .5 -3.1 .5 1.7 .5 -1.1 .5 1.4 .5 -1 .5 -1 .5 2 .5 -1.4 .5 .1 .5 .2 .5 .9 .5 -.1 .5 -.7 .5 1.6 .5 -1 .5 1.3 .5 -.8 .5 -1.3 .5 2 .5 -1.9 .5 -.4 .5 .8 .5 2.1 .5 -2.3 .5 1.2 .5 -1.4 .5 .4 .5 .9 .5 -.5 .5 -.7 .5 -.7 .5 -1.8 .5 1.4 .5 0 .5 .4 .5 -.3 .5 -2.2 .5 -1.4 .5 -3.3 .5 -2.9 .5 -2.9 .5 -4.4 .5 -1.2 .5 -2.4 .5 .3 .5 .3 .5 1.6 .5 3 .5 5.7 .5 2.6 .5 1 .5 1.2 .5 3 .5 .1 .5 .4 .5 1.1 .5 .3 .5 .9 .5 .4 .5 -1.9 .5 1.9 .5 .5 .5 -1.2 .5 1.5 .5 .1 .5 -1.3 .5 -1 .5 2.2 .5 -.2 .5 -1.4 .5 1.1 .5 -1.7 .5 1.7 .5 1.7 .5 -1.8 .5 1.3 .5 -1.3 .5 .3 .5 -.1 .5 -2.3 .5 3 .5 1.9 .5 -2.3 .5 -.7 .5 1.9 .5 -.1 .5 -.5 .5 1.3 .5 -1 .5 -.6 .5 .6 .5 .1 .5 -.2 .5 -2.4 .5 2.4 .5 .2 .5 .4 .5 -1.5 .5 -1 .5 1.1 .5 -.1 .5 -.9 .5 -.6 .5 .8 .5 -.9 .5 -1.4 .5 -1 .5 -2.3 .5 -1.9 .5 -4.3 .5 -2.5 .5 -5.9 .5 -2.5 .5 -4.4 .5 -.7 .5 -1.8 .5 2.8 .5 3.1 .5 3.5 .5 3.4 .5 6.3 .5 2.4 .5 -5.9 .5 9.9 .5 1 .5 1.1 .5 1.7 .5 -.8 .5 .7 .5 1.2 .5 -.6 .5 .4 .5 -1.3 .5 3.4 .5 -2 .5 -1 .5 -1.8 .5 3.2 .5 -.9 .5 -6.7 .5 6.6 .5 .1 .5 -.8 .5 1.7 .5 -.3 .5 .1 .5 .9 .5 -1.4 .5 0 .5 -.4 .5 -1.4 .5 3 .5 -2.7 .5 1 .5 -2.1 .5 1 .5 1.2 .5 -1.4 .5 -.3 .5 .7 .5 -.9 .5 -2.1 .5 3.1 .5 -1.4 .5 1.1 .5 -2.7 .5 -.6 .5 -6.1 .5 -2.8 .5 -8.6 .5 -9 .5 -10.1 .5 -13 .5 -10.1 .5 -7.1 .5 -2.1 .5 7.6 .5 10.8 .5 11.9 .5 11.6 .5 8.2 .5 8.5 .5 6.3 .5 3.2 .5 2.6 .5 .3 .5 -1.4 .5 1.5 .5 1.9 .5 .4 .5 -.4 .5 -.6 .5 -.4 .5 1.5 .5 -.2 .5 .5 .5 .6 .5 -.8 .5 1.7 .5 -.9 .5 .1 .5 .6 .5 -1.1 .5 0 .5 .8 .5 -.2 .5 .6 .5 -1.4 .5 .3 .5 .4 .5 1.7 .5 -.3 .5 -1.1 .5 -.6 .5 .9 .5 .5 .5 -2.3 .5 1 .5 .5 .5 .9 .5 -2.3 .5 .1 .5 .1 .5 -.6 .5 1.1 .5 -.5 .5 -1.3 .5 1.9 .5 -.2 .5 -1 .5 .9 .5 1.8 .5 -2.4 .5 1.5 .5 1 .5 -1.5 .5 .9 .5 -.1 .5 -.6 .5 .7 .5 .9 .5 -2.7 .5 -.2 .5 1.3 .5 -.9 .5 -.8 .5 1.7 .5 -1 .5 .3 .5 .7 .5 .3 .5 -.8 .5 -1 .5 1.7 .5 -1.1 .5 -.2 .5 1.4 .5 -.1 .5 -.1 .5 -.8 .5 2.6 .5 -2.2 .5 -1.6 .5 2 .5 .3 .5 -.7 .5 -1.4 .5 1.3 .5 -.9 .5 -2.2 .5 1.1 .5 1.5 .5 -.2 .5 1.4 .5 1.1 .5 -2.5 .5 -1.1 .5 1.6 .5 -.4 .5 .6 .5 -.6 .5 -.9 .5 3.3 .5 -2.6 .5 0 .5 -1.3 .5 1.4 .5 .5 .5 -.9 .5 -1.1 .5 2.1 .5 1.4 .5 -2.2 .5 .5 .5 .7 .5 -.2 .5 -1 .5 .9 .5 -1 .5 .1 .5 -.8 .5 .8 .5 -1.1 .5 .7 .5 .3 .5 0 .5 -.6 .5 1.3 .5 -1.2 .5 -.6 .5 1.7 .5 1.3 .5 -1.5 .5 -.1 .5 -.1 .5 -1.7 .5 1.9 .5 .2 .5 -.6 .5 -.3 .5 -.5 .5 -.5 .5 -.9 .5 1.1 .5 -2.7 .5 3.4 .5 -1.4 .5 -1.1 .5 1.4 .5 -.3 .5 -1.1 .5 -.9 .5 1.7 .5 -2.2 .5 -1.2 .5 -1.6 .5 -1.1 .5 -2.2 .5 -1.5 .5 -4 .5 -1.9 .5 -5.7 .5 -3.1 .5 -3.2 .5 -5.4 .5 -4.9 .5 -4.4 .5 -4.6 .5 -3 .5 -4.1 .5 -1.1 .5 .9 .5 .3 .5 2.2 .5 3.4 .5 2.8 .5 3.7 .5 5.5 .5 4.3 .5 3.3 .5 5.6 .5 2.1 .5 2.2 .5 2.2 .5 1.5 .5 -.7 .5 2.6 .5 -.3 .5 -.6 .5 -1.5 .5 3 .5 -1.5 .5 1.4 .5 -.9 .5 1.9 .5 .5 .5 -.5 .5 -.4 .5 1.8 .5 -.5 .5 2.1 .5 .9 .5 .9 .5 .6 .5 -2.3 .5 1.5 .5 2.3 .5 -.7 .5 0 .5 .7 .5 .6 .5 .8 .5 1.1 .5 -.5 .5 -.1 .5 2 .5 .5 .5 -1 .5 1 .5 1.6 .5 1.7 .5 -3 .5 1.8 .5 -1.5 .5 .6 .5 .4 .5 .1 .5 .5 .5 -.2 .5 -2.2 .5 .4 .5 2 .5 -.2 .5 -2.8 .5 1.5 .5 0 .5 .6 .5 .1 .5 1.2 .5 -2.1 .5 1 .5 -.6 .5 .2 .5 -1.5 .5 .9 .5 -1.8 .5 -3.6 .5 -3 .5 -1.9 .5 -4.5 .5 -3.7 .5 -3.1 .5 -.4 .5 3.2 .5 3.9 .5 2.9 .5 .2 .5 -.4 .5 1.4 .5 -4.9 .5 -4.4 .5 -7.1 .5 -9.5 .5 -6.5 .5 -4.9 .5 1.4 .5 2.9 .5 6.4 .5 8.2 .5 9.3 .5 5.3 .5 5.7 .5 2.8 .5 3.7 .5 1.4 .5 -.1 .5 .6 .5 .5 .5 -1.4 .5 1.2 .5 1 .5 -1.1 .5 1.7 .5 -2.7 .5 2.4 .5 -1.9 .5 3.3 .5 -2.3 .5 0 .5 1 .5 -1 .5 .5 .5 1.1 .5 -.7 .5 1 .5 -2.7 .5 3.9 .5 -.8 .5 -.3 .5 -.4 .5 1.2 .5 -2.7 .5 1.2 .5 .1 .5 -1.5 .5 -.5 .5 2.9 .5 -.9 .5 -.5 .5 -1 .5 1.3 .5 -.7 .5 .4 .5 -.7 .5 -.7 .5 1.5 .5 -.3 .5 .7 .5 -2 .5 1.8 .5 .8 .5 -2 .5 -.8 .5 .2 .5 .2 .5 .6 .5 -1.6 .5 -.9 .5 1.4 .5 -7.5 .5 2.7 .5 -6.3 .5 1.8 .5 -5.1 .5 -6.9 .5 -9.5 .5 -9.5 .5 -6.6 .5 -6.8 .5 -.7 .5 6.1 .5 6.9 .5 11 .5 7.2 .5 6.6 .5 7.4 .5 4.1 .5 .2 .5 2.8 .5 .6 .5 2.1 .5 -.1 .5 1.1 .5 .4 .5 -2.2 .5 1.6 .5 .1 .5 -.1 .5 -.7 .5 -.6 .5 1.5 .5 -.6 .5 -1.3 .5 1.5 .5 -.1 .5 -.5 .5 1.1 .5 .3 .5 .4 .5 -.6 .5 1.8 .5 -.3 .5 -3 .5 0 .5 .8 .5 .9 .5 -3.1 .5 -1.9 .5 -1 .5 -.7 .5 -.9 .5 -4 .5 -1.3 .5 -.1 .5 2.4 .5 -.7 .5 3.4 .5 1.9 .5 -.4 .5 3.7 .5 .9 .5 -1.1 .5 .5 .5 -1.3 .5 1.9 .5 -.9 .5 0 .5 -4 .5 -1.6 .5 -2 .5 -4.8 .5 -7.5 .5 -7 .5 -5 .5 -3.4 .5 .6 .5 3 .5 6 .5 5.4 .5 7 .5 5.8 .5 .9 .5 2.6 .5 2.5 .5 1.7 .5 1 .5 -.1 .5 -2.1 .5 2.6 .5 -2.1 .5 .4 .5 -.4 .5 1.4 .5 -.2 .5 1.5 .5 -.8 .5 -2.2 .5 2.4 .5 -1.1 .5 0 .5 .5 .5 -1.6 .5 -.9 .5 .3 .5 -.5 .5 1.2 .5 -1.8 .5 -1.9 .5 .5 .5 -.6 .5 -1.4 .5 -2.5 .5 -3 .5 -6.2 .5 -10.9 .5 -7 .5 -14.4 .5 -18 .5 -15.3 .5 -18.3 .5 -16.5 .5 -13.9 .5 -8.1 .5 2.1 .5 6.1 .5 5 .5 7.2 .5 6 .5 3.4 .5 3 .5 2.3 .5 2 .5 3.2 .5 1.1 .5 -.2 .5 2.7 .5 3.4 .5 -3.5 .5 12.6 .5 7.6 .5 6.6 .5 10.8 .5 7.6 .5 8.7 .5 8.1 .5 6.2 .5 6.3 .5 2.6 .5 4.8 .5 4 .5 .9 .5 3.1 .5 3.3 .5 -3.1 .5 2.6 .5 1.1 .5 .4 .5 0 .5 -1.8 .5 .3 .5 1.6 .5 -3.5 .5 -1.3 .5 -1.9 .5 -5.3 .5 -11.6 .5 -5.1 .5 -13.2 .5 -12.4 .5 -10.2 .5 -7.8 .5 -1.4 .5 8.3 .5 11.3 .5 12.5 .5 12.6 .5 8.3 .5 10.1 .5 5.3 .5 2.4 .5 3.1 .5 .2 .5 1 .5 -.3 .5 2.1 .5 -1 .5 -2.1 .5 2.2 .5 .7 .5 1.1 .5 -.6 .5 .3 .5 1.3 .5 -2.6 .5 .5 .5 -.6 .5 1.6 .5 -1.9 .5 -.5 .5 .1 .5 1 .5 -1.3 .5 -1.4 .5 .2 .5 -2.2 .5 1.6 .5 1.1 .5 1.4 .5 -1.1 .5 .7 .5 2.4 .5 -1.1 .5 1.6 .5 .6 .5 -.8 .5 .1 .5 .1 .5 .1 .5 0 .5 0 .5 0 .5 0 .5 0 .5 0 .5 0 .5 0 .5 0 .5 0 .5 0 .5 0 .5 0 .5 0 .5 0 .5 0 .5 0 .5 0 .5 0 .5 0 .5 0 .5 0 .5 0 .5 0 .5 0 .5 0 .5 0 .5 0 .5 0 .5 0 .5 0 .5 0 .5 0 .5 0 .5 0 .5 0 .5 0 .5 0 .5 0 .5 0 .5 0 .5 0 .5 0 .5 0 .5 0 .5 0 .5 0 .5 0 .5 0 .5 0 .5 0 .5 0 .5 0 .5 0 .5 0 .5 0 .5 0 .5 0 .5 0 .5 0 .5 0 .5 0 .5 0 .5 0 .5 0 .5 0 .5 0 .5 0 .5 0 .5 0 .5 0 .5 0 .5 0 .5 0 .5 0 .5 -.1 .5 -2.5 .5 3.5 .5 -3.4 .5 -2.8 .5 2.3 .5 -.5 .5 -2.6 .5 1.5 .5 -.3 .5 -.1 .5 .7 .5 .2 .5 -.2 .5 -1.8 .5 3.9 .5 -1.7 .5 .9 .5 .4 .5 1 .5 -1.1 .5 1.7 .5 -.6 .5 .5 .5 -.6 .5 .9 .5 -.6 .5 .8 .5 -.5 .5 .9 .5 -1.5 .5 1.3 .5 .4 .5 -1.4 .5 1.2 .5 2.3 .5 -1.2 .5 -.6 .5 -.7 .5 -.8 .5 1.1 .5 -2 .5 .1 .5 0 .5 .3 .5 0 .5 1.5 .5 -1.2 .5 -1.2 .5 2.7 .5 -2.5 .5 1.1 .5 .5 .5 1.5 .5 -2.6 .5 .6 .5 -.2 .5 -.5 .5 1.4 .5 -1.1 .5 1.9 .5 -.8 .5 .5 .5 -.8 .5 .5 .5 1.5 .5 -.5 .5 -.9 .5 -.7 .5 1.7 .5 .2 .5 .3 .5 0 .5 -.6 .5 .1 .5 .3 .5 -2.3 .5 .8 .5 1.4 .5 -.6 .5 .9 .5 -1.6 .5 1.2 .5 .9 .5 -2.1 .5 -.1 .5 1.2 .5 -1.3 .5 .9 .5 -2.5 .5 3 .5 .1 .5 -1.4 .5 1.7 .5 -.8 .5 -.6 .5 -.4 .5 1.8 .5 1 .5 -3.3 .5 1.5 .5 .9 .5 -.4 .5 -.8 .5 0 .5 -1 .5 -1.1 .5 1.3 .5 .3 .5 -1.9 .5 -.2 .5 1 .5 -1.8 .5 -4.7 .5 .4 .5 -2.4 .5 -3.8 .5 .1 .5 -2.1 .5 1.2 .5 .9 .5 2.5 .5 .9 .5 3.2 .5 .7 .5 3.8 .5 -.8 .5 2.8 .5 -1.6 .5 1.4 .5 -.3 .5 .6 .5 1.2 .5 -2.5 .5 2.2 .5 -1.5 .5 .7 .5 .2 .5 .3 .5 -2 .5 2.9 .5 -2.3 .5 1.1 .5 -.2 .5 .8 .5 -1.5 .5 0 .5 .2 .5 .4 .5 -.8 .5 2.7 .5 -2.8 .5 1.2 .5 -.5 .5 .4 .5 -3.2 .5 3.4 .5 -2.3 .5 2.6 .5 -.8 .5 -.2 .5 .4 .5 -1.3 .5 -.5 .5 -1.4 .5 1.5 .5 .1 .5 1 .5 .5 .5 .5 .5 -1 .5 .4 .5 -1.9 .5 1.4 .5 1 .5 -1.3 .5 .1 .5 .6 .5 2 .5 -2.4 .5 .6 .5 -.2 .5 -2.3 .5 3.4 .5 -1.6 .5 -.2 .5 1.4 .5 -1.1 .5 .2 .5 .4 .5 1.2 .5 -2.3 .5 .4 .5 -.2 .5 2.5 .5 -2.6 .5 .2 .5 -.8 .5 .6 .5 -1.8 .5 .5 .5 -1.4 .5 -1.1 .5 1.6 .5 -1.3 .5 .3 .5 1.3 .5 1.4 .5 -1.7 .5 1.4 .5 -.5 .5 1.7 .5 -2.8 .5 2.3 .5 .8 .5 -2.3 .5 -.4 .5 .5 .5 -3.7 .5 -1.6 .5 -.5 .5 -2.7 .5 -3.3 .5 -.8 .5 -3.6 .5 0 .5 -4.1 .5 -.4 .5 1.2 .5 .2 .5 3 .5 1.5 .5 2.8 .5 2.1 .5 -.4 .5 4.3 .5 1 .5 3.5 .5 -.5 .5 2.9 .5 1.5 .5 -.7 .5 .7 .5 1.6 .5 -1.3 .5 -.4 .5 1.3 .5 .1 .5 -.2 .5 -1.7 .5 -1.3 .5 .1 .5 1.2 .5 -.9 .5 -.8 .5 .5 .5 -2.3 .5 1.2 .5 -4.2 .5 3.1 .5 3 .5 1.1 .5 .5 .5 .3 .5 2.5 .5 -3.3 .5 .5 .5 .1 .5 .3 .5 .9 .5 1.1 .5 -1.1 .5 .1 .5 -.5 .5 1.1 .5 -1.4 .5 -.8 .5 -.2 .5 2.2 .5 -2.8 .5 2.8 .5 -1.6 .5 1.9 .5 .5 .5 -1.2 .5 0 .5 0 .5 -1.6 .5 .1 .5 .3 .5 1.4 .5 -.7 .5 -.6 .5 1.1 .5 .1 .5 -.8 .5 0 .5 0 .5 .4 .5 .1 .5 -3.5 .5 4.7 .5 -2.2 .5 -1 .5 1.9 .5 -1 .5 1.1 .5 1 .5 -3.7 .5 .6 .5 .7 .5 -.5 .5 -1.7 .5 1.9 .5 1.1 .5 -.7 .5 .2 .5 1.9 .5 .3 .5 -.8 .5 -1.5 .5 1.4 .5 -.7 .5 1.2 .5 -1.2 .5 -1 .5 1.4 .5 -1.4 .5 .2 .5 1.5 .5 -1.6 .5 .9 .5 .1 .5 0 .5 -.5 .5 2.5 .5 -.2 .5 -2.3 .5 1.2 .5 -1.1 .5 1.5 .5 -.4 .5 .2 .5 .4 .5 -3.1 .5 -.1 .5 1.5 .5 .9 .5 -2.1 .5 1.6 .5 -.7 .5 1 .5 .7 .5 -.7 .5 -4.3 .5 3.4 .5 1.5 .5 -3 .5 0 .5 1.2 .5 1.6 .5 -4 .5 1.5 .5 3.5 .5 -2.4 .5 -.2 .5 .2 .5 .2 .5 -.6 .5 -.7 .5 .6 .5 -.8 .5 1 .5 .1 .5 -.6 .5 .2 .5 .9 .5 -1.9 .5 1.3 .5 -.7 .5 .2 .5 .3 .5 .3 .5 -.7 .5 1.7 .5 -4.2 .5 3.4 .5 -1.3 .5 1.3 .5 -.6 .5 1.3 .5 -2 .5 .1 .5 1.8 .5 -2 .5 .8 .5 -.6 .5 -1.4 .5 .7 .5 1.7 .5 -1.8 .5 .3 .5 .5 .5 1.2 .5 -2 .5 1.6 .5 -.6 .5 -.3 .5 .9 .5 -.1 .5 -.5 .5 .7 .5 .7 .5 -1.3 .5 .7 .5 -.9 .5 1.3 .5 .5 .5 -2 .5 1.9 .5 -.6 .5 -.1 .5 -1.2 .5 2.2 .5 -1.5 .5 1.4 .5 0 .5 -2.2 .5 .7 .5 1.6 .5 -2 .5 .7 .5 1.6 .5 -1.6 .5 .7 .5 2.8 .5 -2 .5 .2 .5 .8 .5 -2.1 .5 -1.6 .5 1.6 .5 -.1 .5 1.6 .5 -3.2 .5 2.1 .5 -.6 .5 .4 .5 1 .5 -.4 .5 -1.4 .5 .2 .5 -.6 .5 .3 .5 -.1 .5 .7 .5 -.3 .5 .7 .5 -.5 .5 .3 .5 -1.5 .5 -3.7 .5 .3 .5 -2.4 .5 -2.8 .5 -2.9 .5 -2.2 .5 -3 .5 1 .5 1.6 .5 4.1 .5 -.2 .5 4.2 .5 3.2 .5 1.7 .5 2.6 .5 -1.3 .5 1.4 .5 -2.1 .5 2.1 .5 -1.7 .5 1.1 .5 -.1 .5 1.4 .5 -1.3 .5 .7 .5 -.5 .5 1.1 .5 -1.1 .5 -.2 .5 1.9 .5 -2.7 .5 1.1 .5 -1.2 .5 .7 .5 -.2 .5 -.9 .5 1.8 .5 1.3 .5 -1.8 .5 1.3 .5 .8 .5 -.9 .5 -2.4 .5 1.9 .5 .4 .5 -2.1 .5 2.4 .5 -2.7 .5 2.9 .5 -2.4 .5 .5 .5 1.4 .5 -1.4 .5 1.2 .5 1.5 .5 -.5 .5 -1.5 .5 -.6 .5 1.3 .5 -.3 .5 -1.2 .5 -.2 .5 1.3 .5 -.3 .5 -1.1 .5 1.6 .5 -1.7 .5 .1 .5 0 .5 -1.2 .5 1.2 .5 .6 .5 -1.4 .5 .9 .5 -1.4 .5 .5 .5 -.9 .5 -2.7 .5 .5 .5 -2.6 .5 2.4 .5 -2.4 .5 1.4 .5 -1.7 .5 1.5 .5 1.9 .5 1 .5 -.7 .5 3 .5 -1.7 .5 .5 .5 1.6 .5 -.8 .5 -.2 .5 -1.3 .5 -1.1 .5 2.1 .5 2.5 .5 -3.4 .5 -.3 .5 .8 .5 -2.3 .5 0 .5 -1.2 .5 -1.5 .5 -2.9 .5 -3 .5 0 .5 -2.7 .5 -1.3 .5 -.2 .5 1.5 .5 .9 .5 3.8 .5 -1.1 .5 4.2 .5 2.4 .5 1.5 .5 .4 .5 -1.1 .5 3.7 .5 -.3 .5 -1 .5 2.5 .5 -.9 .5 -1.1 .5 1 .5 -1.2 .5 2.5 .5 -.8 .5 -1.2 .5 -.9 .5 1.9 .5 -1.4 .5 .6 .5 -.2 .5 .3 .5 -1 .5 -2.1 .5 -.3 .5 -1.2 .5 1 .5 -3.2 .5 1.9 .5 .6 .5 .5 .5 2.3 .5 -.5 .5 1.8 .5 -.6 .5 .8 .5 .7 .5 .3 .5 1.4 .5 -2 .5 -.5 .5 2.1 .5 -.9 .5 1 .5 -.4 .5 -.4 .5 -.7 .5 1.6 .5 -.5 .5 .7 .5 -1.7 .5 .4 .5 -.3 .5 2.6 .5 -2.9 .5 -1.9 .5 5.2 .5 0 .5 -3 .5 .6 .5 .2 .5 -1.5 .5 1.2 .5 .6 .5 1 .5 -1.2 .5 .1 .5 -1.5 .5 .9 .5 1.4 .5 -1.3 .5 .5 .5 -.4 .5 .6 .5 -.8 .5 0 .5 0 .5 -.8 .5 1 .5 2.6 .5 -2.5 .5 -.1 .5 2.2 .5 -3.8 .5 3.1 .5 -3.5 .5 2.4 .5 .2 .5 -1.2 .5 1.2 .5 -2.1 .5 1.7 .5 .7 .5 -1 .5 .9 .5 -1.1 .5 1.3 .5 -1.5 .5 2.1 .5 0 .5 -.5 .5 -2.1 .5 1.3 .5 -.3 .5 -.9 .5 1.6 .5 1.3 .5 -1.4 .5 -.8 .5 -.3 .5 1 .5 -.3 .5 -2 .5 .3 .5 1.9 .5 -1 .5 .3 .5 1.1 .5 -1 .5 .6 .5 0 .5 -1.6 .5 1.3 .5 -.8 .5 -.2 .5 .4 .5 .8 .5 -.7 .5 1 .5 -.6 .5 -2.2 .5 2.1 .5 .5 .5 0 .5 .1 .5 -1.1 .5 .4 .5 1.2 .5 -.4 .5 -.1 .5 -.9 .5 2 .5 -2.7 .5 2.2 .5 -1.8 .5 -.5 .5 1.6 .5 -2.5 .5 1.5 .5 .5 .5 -2 .5 1 .5 -1 .5 .9 .5 .1 .5 1 .5 1.2 .5 -2.6 .5 -.3 .5 0 .5 1.4 .5 -2.3 .5 1.1 .5 .2 .5 -1 .5 1 .5 .4 .5 .1 .5 -.7 .5 1.3 .5 -.5 .5 .3 .5 -2.1 .5 1.3 .5 -.1 .5 .7 .5 -1.2 .5 -1.6 .5 4.1 .5 -4.2 .5 -.3 .5 -.7 .5 1.7 .5 -3.5 .5 -1.9 .5 .8 .5 -3.8 .5 -.7 .5 -2.2 .5 -.9 .5 -2.5 .5 .1 .5 .7 .5 -7.2 .5 6 .5 5.4 .5 -.4 .5 4 .5 -.3 .5 2.4 .5 -.6 .5 3.8 .5 1.5 .5 .5 .5 -.7 .5 1.6 .5 .1 .5 .2 .5 .6 .5 1.5 .5 -2.9 .5 -.5 .5 2 .5 .1 .5 -1.5 .5 .8 .5 .6 .5 -1.1 .5 -.3 .5 0 .5 -.1 .5 -1 .5 -.4 .5 2.1 .5 0 .5 -1.8 .5 -1.2 .5 1.6 .5 -3.1 .5 .8 .5 .8 .5 -5.4 .5 -2.9 .5 -2.2 .5 -3.6 .5 -3.8 .5 -1.7 .5 1.4 .5 -1 .5 4.3 .5 3.7 .5 2 .5 3.9 .5 2.3 .5 .8 .5 3.2 .5 .2 .5 .2 .5 2.9 .5 .6 .5 -3.1 .5 2 .5 -1.4 .5 -1.3 .5 3.4 .5 -2.6 .5 2.9 .5 .3 .5 -2.3 .5 1.9 .5 -.4 .5 -1 .5 1.5 .5 -.2 .5 -1.2 .5 .4 .5 0 .5 1.3 .5 -1.3 .5 .1 .5 -2.4 .5 1.9 .5 -2.8 .5 5.2 .5 -1.2 .5 -1 .5 .6 .5 -4.9 .5 4.3 .5 1.7 .5 -2.2 .5 .7 .5 .8 .5 -.6 .5 -.1 .5 .9 .5 -2.8 .5 1.3 .5 .9 .5 -1.1 .5 .2 .5 .5 .5 -1 .5 .8 .5 -.2 .5 -3.8 .5 4.8 .5 -1.3 .5 -.6 .5 .7 .5 -.7 .5 2.3 .5 .1 .5 -2.8 .5 1.6 .5 -1.8 .5 .7 .5 .4 .5 .1 .5 1.1 .5 -1.5 .5 2.2 .5 -.4 .5 -.6 .5 -1.8 .5 1.9 .5 -2.3 .5 2.7 .5 -1.7 .5 -.2 .5 .7 .5 .3 .5 2.1 .5 -3.1 .5 2 .5 0 .5 -.7 .5 1.4 .5 -.8 .5 .1 .5 -.3 .5 2.3 .5 -3.5 .5 -.2 .5 3 .5 -.9 .5 -3.4 .5 2.8 .5 .6 .5 -3.1 .5 -.3 .5 2.6 .5 -.8 .5 0 .5 1.1 .5 -2.7 .5 1.4 .5 -1.2 .5 2.6 .5 -2.8 .5 -1.6 .5 -.6 .5 .4 .5 -1.7 .5 3.2 .5 -4.8 .5 .3 .5 -1.6 .5 -4.4 .5 .2 .5 -3.2 .5 -4.5 .5 -3.1 .5 -3.7 .5 -.7 .5 -5.4 .5 -3.8 .5 -.2 .5 -3.7 .5 -1.3 .5 -1.3 .5 3.8 .5 -2.1 .5 3.3 .5 1.9 .5 4.4 .5 1.2 .5 2.8 .5 2.5 .5 3.4 .5 .7 .5 3.1 .5 -1.8 .5 1.1 .5 .1 .5 3.2 .5 .4 .5 -.2 .5 -1.2 .5 .1 .5 1.8 .5 .1 .5 -.6 .5 1.6 .5 1.5 .5 1.1 .5 2.1 .5 .4 .5 1.9 .5 -.4 .5 1.4 .5 1.6 .5 -.3 .5 1.3 .5 -1.1 .5 -2 .5 2.6 .5 -.9 .5 2.2 .5 -.4 .5 -1.3 .5 .1 .5 -.2 .5 -.6 .5 .1 .5 .4 .5 -2.6 .5 2.8 .5 .9 .5 2.4 .5 -1.7 .5 1.1 .5 .1 .5 .7 .5 1.2 .5 1.6 .5 -.8 .5 -1.4 .5 1.6 .5 1.4 .5 -2.6 .5 .6 .5 -.3 .5 .2 .5 1.5 .5 -3.3 .5 .3 .5 1.3 .5 -1.5 .5 .3 .5 3.2 .5 -1.9 .5 1.2 .5 -1.1 .5 .6 .5 0 .5 .3 .5 -.2 .5 .2 .5 -.6 .5 2 .5 -3.3 .5 .5 .5 -.2 .5 0 .5 .2 .5 0 .5 1.2 .5 .4 .5 -1.1 .5 0 .5 .5 .5 .2 .5 -2 .5 1.5 .5 .1 .5 -.4 .5 -2.3 .5 2.4 .5 -.7 .5 .7 .5 .6 .5 -1.1 .5 -1.9 .5 1.8 .5 -.4 .5 1.5 .5 -1.3 .5 2.3 .5 -2.7 .5 .3 .5 -.1 .5 2 .5 -1.4 .5 1.2 .5 .4 .5 -2.4 .5 1.2 .5 -.8 .5 2.9 .5 -.9 .5 -.1 .5 -.5 .5 -1.7 .5 1 .5 1.5 .5 -2.1 .5 1.7 .5 -.3 .5 -1.1 .5 .9 .5 -.7 .5 .5 .5 .3 .5 -.6 .5 2.5 .5 -1.3 .5 -1 .5 2.3 .5 -2.4 .5 1.3 .5 -.6 .5 -1.4 .5 2.5 .5 -4.4 .5 5.1 .5 -2.3 .5 1 .5 1.6 .5 -2.4 .5 1 .5 0 .5 -.9 .5 .5 .5 -.2 .5 -2.4 .5 1.4 .5 .6 .5 -.7 .5 .5 .5 .8 .5 -.7 .5 1.4 .5 -.5 .5 -3.1 .5 3.4 .5 -.7 .5 -.7 .5 .4 .5 1 .5 -.4 .5 -.8 .5 .9 .5 -1 .5 -.4 .5 0 .5 .1 .5 .2 .5 .4 .5 -1 .5 -.5 .5 .6 .5 -.2 .5 .8 .5 1 .5 -1.5 .5 -1.9 .5 1.6 .5 1.5 .5 -.2 .5 0 .5 -2.1 .5 1.5 .5 -1.2 .5 1.2 .5 -.9 .5 .2 .5 .3 .5 .6 .5 .1 .5 -.3 .5 -1.2 .5 1.6 .5 -1 .5 0 .5 .3 .5 1 .5 -1.1 .5 1.4 .5 -.2 .5 -.6 .5 .4 .5 -.6 .5 -1 .5 2 .5 -1.6 .5 1.4 .5 -.2 .5 1.3 .5 -1.3 .5 -.9 .5 -.7 .5 2.7 .5 -1.9 .5 2.8 .5 -1.5 .5 -1.8 .5 1.3 .5 .1 .5 .8 .5 -.3 .5 -1.6 .5 .5 .5 .5 .5 -1.8 .5 1.1 .5 .5 .5 .2 .5 -1.8 .5 -.2 .5 .5 .5 1.4 .5 -1.1 .5 .3 .5 0 .5 .5 .5 -1.3 .5 .3 .5 0 .5 .7 .5 -.1 .5 -.2 .5 .5 .5 -.1 .5 -2.2 .5 -.5 .5 1.3 .5 1.5 .5 -.1 .5 -.7 .5 .8 .5 -1.5 .5 .8 .5 -.4 .5 -.4 .5 1.6 .5 -1 .5 .2 .5 -.4 .5 -.1 .5 -.9 .5 -.3 .5 -1.2 .5 1 .5 -.5 .5 1.4 .5 -2.1 .5 1.8 .5 -1.8 .5 .1 .5 .7 .5 -1.2 .5 -1.3 .5 .5 .5 -2.8 .5 -.4 .5 -2.2 .5 -1.3 .5 -.3 .5 -3.7 .5 -1.8 .5 -3.9 .5 -2.9 .5 -3 .5 -4.9 .5 -.4 .5 -4.7 .5 -2.8 .5 .3 .5 -1.2 .5 -1.5 .5 3.1 .5 .8 .5 2.4 .5 1.9 .5 .7 .5 5.6 .5 2.4 .5 2.8 .5 3.1 .5 4.1 .5 1.5 .5 .7 .5 2.1 .5 1.8 .5 .4 .5 .2 .5 -.3 .5 1.4 .5 .2 .5 -3.3 .5 -2.1 .5 -3.8 .5 -4.1 .5 -2 .5 -3.2 .5 -2.9 .5 2.4 .5 -1.2 .5 5.4 .5 2.1 .5 4.7 .5 5.1 .5 1.4 .5 2.4 .5 .3 .5 1.7 .5 -.2 .5 1.5 .5 1.1 .5 -1.3 .5 -.3 .5 1.3 .5 .8 .5 -.2 .5 .8 .5 -2.5 .5 2.1 .5 0 .5 -1.8 .5 .1 .5 1.2 .5 1.7 .5 -.8 .5 -.7 .5 .7 .5 .2 .5 -.5 .5 .1 .5 -1.4 .5 1.8 .5 1.3 .5 -2.7 .5 .9 .5 -.7 .5 1.5 .5 -1.5 .5 .3 .5 2.2 .5 -.8 .5 0 .5 .2 .5 -1.5 .5 .7 .5 -.9 .5 -2 .5 .5 .5 -.3 .5 -2.5 .5 .7 .5 -3 .5 -4.9 .5 .5 .5 -2.2 .5 -1.6 .5 -1.2 .5 2 .5 3.3 .5 1.2 .5 1.2 .5 2.1 .5 .9 .5 2.3 .5 1.3 .5 .8 .5 2 .5 .3 .5 -1.6 .5 .7 .5 .1 .5 -.4 .5 1.4 .5 -.7 .5 -2.5 .5 3.3 .5 -.3 .5 -1.9 .5 1.6 .5 .9 .5 -.4 .5 .3 .5 -1.3 .5 .6 .5 1.7 .5 -1.3 .5 -1.1 .5 2.2 .5 -2.8 .5 1.8 .5 -1.3 .5 2.8 .5 -1.9 .5 1.1 .5 0 .5 .2 .5 -1.1 .5 -.1 .5 -.5 .5 .2 .5 -.5 .5 -.3 .5 -2.7 .5 2.5 .5 1.7 .5 .9 .5 -1.3 .5 1.3 .5 -.4 .5 -1.4 .5 -.2 .5 .9 .5 .6 .5 -1.4 .5 -1.1 .5 1.5 .5 .6 .5 -1.6 .5 -1.5 .5 1.8 .5 .4 .5 .7 .5 -.1 .5 -.8 .5 2.1 .5 -1.6 .5 1.3 .5 -.8 .5 1.6 .5 -2.9 .5 1.8 .5 0 .5 -.5 .5 -1.9 .5 3.4 .5 -1.6 .5 -3.7 .5 3.4 .5 -.9 .5 1.5 .5 -1.4 .5 3.6 .5 -2.6 .5 .7 .5 -1.7 .5 1.1 .5 .4 .5 -5.8 .5 5.2 .5 -2.1 .5 3.7 .5 -1.9 .5 -.9 .5 -.8 .5 .3 .5 2.8 .5 -.3 .5 -2.1 .5 2.4 .5 -3.3 .5 1.9 .5 .8 .5 -1.5 .5 0 .5 2.1 .5 -1 .5 .3 .5 1.2 .5 -.7 .5 -.2 .5 1 .5 -.8 .5 -.7 .5 -1.1 .5 -1.3 .5 1.6 .5 1.7 .5 -2.4 .5 1.4 .5 -.9 .5 -3 .5 4.3 .5 -.3 .5 -1.4 .5 .6 .5 .9 .5 -.2 .5 1.4 .5 -1.8 .5 1.8 .5 -3.5 .5 2.4 .5 -1 .5 1.2 .5 -.1 .5 .5 .5 1.6 .5 -3.3 .5 1.5 .5 .2 .5 -.9 .5 -1.5 .5 2.6 .5 -1.5 .5 -.2 .5 .7 .5 .4 .5 2 .5 -2.9 .5 .4 .5 -.1 .5 .3 .5 1.9 .5 -2.4 .5 -.5 .5 .1 .5 .8 .5 .6 .5 -.5 .5 .4 .5 1.8 .5 -2.8 .5 .5 .5 .1 .5 2.6 .5 -1 .5 -3 .5 1.8 .5 1.7 .5 .7 .5 -2.9 .5 .7 .5 1.9 .5 -2.7 .5 2.9 .5 .6 .5 -1.2 .5 -.7 .5 -2 .5 .9 .5 1.2 .5 -.5 .5 1 .5 -1.3 .5 -.4 .5 -.2 .5 .1 .5 .8 .5 -2 .5 1.8 .5 -1.3 .5 .5 .5 -.8 .5 -1 .5 -.8 .5 1.1 .5 -2.2 .5 .6 .5 -.7 .5 -3.3 .5 -4.1 .5 -3.3 .5 .6 .5 -.3 .5 -2.9 .5 2.3 .5 3.2 .5 1.4 .5 3.5 .5 .8 .5 1.4 .5 1.7 .5 -3.6 .5 5.5 .5 2.3 .5 -.7 .5 .9 .5 -1.7 .5 4 .5 -3.3 .5 -.2 .5 .9 .5 .5 .5 1 .5 -1.6 .5 -.8 .5 1.3 .5 -.5 .5 .1 .5 1.6 .5 .1 .5 -1.4 .5 -.6 .5 1.7 .5 -1.2 .5 1.6 .5 1.4 .5 -2.7 .5 .6 .5 -1.3 .5 1.8 .5 .2 .5 -.7 .5 1.3 .5 -.9 .5 -1.3 .5 1.3 .5 -1.3 .5 1.5 .5 -1 .5 .2 .5 .8 .5 -1.4 .5 .4 .5 2.7 .5 -.6 .5 -3.2 .5 1.4 .5 .8 .5 -.3 .5 -2 .5 .8 .5 2 .5 -1.3 .5 .6 .5 -1.9 .5 .9 .5 .1 .5 -.2 .5 .6 .5 0 .5 -.9 .5 1.6 .5 -1.6 .5 1 .5 .2 .5 .8 .5 -2.6 .5 1.6 .5 -.8 .5 .7 .5 -1.6 .5 .5 .5 .8 .5 .7 .5 .4 .5 .2 .5 -1.5 .5 1.7 .5 -1.4 .5 -.7 .5 .7 .5 -3.4 .5 3.4 .5 -1.6 .5 -.2 .5 2.5 .5 -.6 .5 .2 .5 -3.4 .5 3.2 .5 0 .5 -3 .5 0 .5 1.7 .5 .1 .5 .7 .5 1.1 .5 -4.6 .5 3.7 .5 -2.3 .5 .3 .5 .4 .5 .3 .5 3.1 .5 -3.9 .5 1.4 .5 .2 .5 -1.8 .5 1.8 .5 .1 .5 -.4 .5 .7 .5 -.9 .5 -1.1 .5 2.8 .5 -3.3 .5 1.6 .5 .2 .5 -2.2 .5 2.3 .5 -1.7 .5 .9 .5 1.7 .5 -2 .5 .2 .5 1 .5 .5 .5 -2.2 .5 -6.1 .5 8.9 .5 -1.8 .5 -.2 .5 .3 .5 -.5 .5 .1 .5 -.2 .5 -.5 .5 .6 .5 1.5 .5 -1.1 .5 .6 .5 1.7 .5 -.7 .5 -1.1 .5 -1.6 .5 1.8 .5 -1.9 .5 -.2 .5 1.9 .5 -.3 .5 -2 .5 .3 .5 .1 .5 -.3 .5 1.5 .5 .4 .5 -2.3 .5 3.6 .5 -3.6 .5 .5 .5 .3 .5 -.3 .5 1.1 .5 1 .5 -.9 .5 -.4 .5 -.3 .5 .7 .5 0 .5 -.3 .5 .9 .5 -1.1 .5 -.3 .5 -.5 .5 .5 .5 1.7 .5 -.2 .5 .9 .5 -1.1 .5 .2 .5 .2 .5 1.3 .5 -.2 .5 -.3 .5 -3.6 .5 3 .5 .5 .5 -.7 .5 -.5 .5 .8 .5 -1.3 .5 .9 .5 -.9 .5 -.4 .5 .8 .5 -.1 .5 1.7 .5 -1.3 .5 -1 .5 1.9 .5 .3 .5 -1.7 .5 2.3 .5 -2.4 .5 -.1 .5 1.8 .5 -.2 .5 -1.3 .5 1.3 .5 -1.3 .5 -1.3 .5 1.1 .5 .5 .5 .3 .5 -1 .5 .7 .5 -1.1 .5 -1.2 .5 1.5 .5 .9 .5 -1.1 .5 -.4 .5 1.8 .5 1.9 .5 -3.9 .5 -.2 .5 3.2 .5 -1.1 .5 .2 .5 .6 .5 -2.2 .5 .9 .5 .9 .5 -.8 .5 0 .5 -.6 .5 1.4 .5 -.4 .5 -.2 .5 0 .5 -1.1 .5 -.1 .5 2.2 .5 -2.4 .5 0 .5 .1 .5 1.4 .5 -1.7 .5 .5 .5 .3 .5 .7 .5 -.6 .5 -.2 .5 -1.4 .5 -.2 .5 2.1 .5 1 .5 -.7 .5 .7 .5 -.6 .5 -1.3 .5 2.1 .5 -2 .5 1 .5 0 .5 -6.5 .5 5.8 .5 -.9 .5 -.6 .5 2.2 .5 -1.1 .5 -.1 .5 1 .5 -1.2 .5 .7 .5 -.5 .5 1.1 .5 -3 .5 2.8 .5 -.6 .5 -.3 .5 1.1 .5 -1.2 .5 .5 .5 .2 .5 -1.8 .5 .5 .5 -.6 .5 -.6 .5 -1.6 .5 -.8 .5 1 .5 -2.4 .5 .9 .5 -.8 .5 .3 .5 .2 .5 -.8 .5 .6 .5 1.5 .5 -2 .5 -.4 .5 .9 .5 2.5 .5 -.5 .5 -3.3 .5 4.6 .5 .6 .5 0 .5 -.3 .5 2.1 .5 -1.9 .5 .7 .5 1.9 .5 -.7 .5 0 .5 0 .5 -1.4 .5 -.4 .5 .9 .5 -.1 .5 .1 .5 .9 .5 .7 .5 .1 .5 -.7 .5 -1.2 .5 2.5 .5 -1.3 .5 .2 .5 0 .5 0 .5 -1.4 .5 .5 .5 1.7 .5 -6.5 .5 5.5 .5 -1.3 .5 .1 .5 2.2 .5 -.2 .5 -.5 .5 -.8 .5 .3 .5 .1 .5 1 .5 -2.5 .5 -.3 .5 .7 .5 2.5 .5 -3.3 .5 .8 .5 -.5 .5 1.5 .5 -1 .5 1.4 .5 .1 .5 -.4 .5 1.1 .5 -.8 .5 -1.4 .5 .4 .5 1.6 .5 -1.7 .5 -1 .5 1.2 .5 .1 .5 2.8 .5 -1.6 .5 -1.4 .5 .8 .5 -1.9 .5 -3.3 .5 3.6 .5 0 .5 3.2 .5 -1.1 .5 -.9 .5 -1.4 .5 -.1 .5 1.5 .5 -1.2 .5 1 .5 .7 .5 0 .5 .1 .5 .7 .5 -1.4 .5 -1.4 .5 .3 .5 -1.6 .5 5 .5 -.6 .5 -.7 .5 .4 .5 -1.2 .5 .9 .5 .7 .5 -1.2 .5 -.5 .5 1.4 .5 -.9 .5 1.3 .5 -.7 .5 -.3 .5 -.6 .5 .6 .5 1 .5 -2 .5 1.8 .5 -1.1 .5 1.5 .5 -.9 .5 .2 .5 -.6 .5 1.6 .5 .7 .5 -.7 .5 -1.5 .5 -.6 .5 2.1 .5 1.4 .5 -2.2 .5 -1.7 .5 .1 .5 2.5 .5 -1.9 .5 1.3 .5 -.8 .5 .9 .5 -1.1 .5 .8 .5 .7 .5 -1 .5 -.6 .5 2.4 .5 -.1 .5 .1 .5 -.1 .5 -6.2 .5 5.9 .5 -1.3 .5 -1 .5 2 .5 -2.4 .5 -.4 .5 2 .5 -1.1 .5 2 .5 .7 .5 -4.5 .5 .8 .5 3.8 .5 -2.9 .5 -.7 .5 2.3 .5 .4 .5 -.5 .5 1.9 .5 -2.1 .5 -.1 .5 0 .5 -.6 .5 .5 .5 .9 .5 -2.7 .5 1.9 .5 .6 .5 -.3 .5 -.4 .5 -.5 .5 -.8 .5 1 .5 -1.6 .5 1.1 .5 -.4 .5 3 .5 -2.5 .5 1.5 .5 -2.1 .5 .9 .5 .6 .5 -3.2 .5 2.6 .5 1.9 .5 -2.6 .5 1.7 .5 -1.1 .5 -.2 .5 .2 .5 -1.1 .5 1.1 .5 -.8 .5 -.7 .5 .9 .5 .4 .5 -1.3 .5 1.2 .5 -.9 .5 .3 .5 1.4 .5 -1.8 .5 .9 .5 -.4 .5 -.3 .5 -.3 .5 -.9 .5 2.6 .5 -.7 .5 -.8 .5 -.6 .5 .8 .5 -.5 .5 -.4 .5 3.2 .5 -2.3 .5 .4 .5 -.2 .5 1.9 .5 -2.5 .5 .4 .5 .9 .5 -.1 .5 2 .5 -3 .5 1.8 .5 0 .5 -1.6 .5 .9 .5 .1 .5 1.3 .5 -2 .5 2.1 .5 2.9 .5 -6.3 .5 1.4 .5 -.9 .5 1.6 .5 -1.3 .5 2.1 .5 -1.1 .5 .2 .5 -1 .5 .9 .5 .1 .5 .7 .5 .2 .5 -.9 .5 2.1 .5 1.4 .5 -2.6 .5 1 .5 -2.7 .5 .6 .5 2.6 .5 -2.8 .5 -.5 .5 2.6 .5 -3.4 .5 1.3 .5 1.1 .5 -.8 .5 .7 .5 -1 .5 1.7 .5 -2.8 .5 1.6 .5 -.3 .5 .6 .5 .7 .5 -.6 .5 -.3 .5 .1 .5 -.2 .5 1.6 .5 -1.6 .5 0 .5 -1.7 .5 3.5 .5 -1 .5 -.1 .5 1.3 .5 -3.5 .5 1.1 .5 -2.6 .5 2.8 .5 -.4 .5 0 .5 1.2 .5 .2 .5 -1.3 .5 -.3 .5 .8 .5 -.1 .5 .2 .5 -7.2 .5 6.1 .5 1.1 .5 -.6 .5 .8 .5 -1.1 .5 1.1 .5 2.2 .5 -2.8 .5 -.5 .5 -.6 .5 -.7 .5 1.9 .5 -1.8 .5 1.7 .5 .2 .5 -1.1 .5 .2 .5 .4 .5 1.2 .5 -.7 .5 -1.2 .5 3.6 .5 -3 .5 -.2 .5 -.7 .5 1.4 .5 1.1 .5 -2.1 .5 1.2 .5 .6 .5 -.7 .5 1.4 .5 -1.6 .5 .7 .5 -1.9 .5 1.4 .5 -.8 .5 -2 .5 3 .5 -2 .5 1 .5 .8 .5 -.3 .5 -.1 .5 0 .5 .3 .5 -.9 .5 .8 .5 -.5 .5 .4 .5 -.6 .5 -1 .5 2.3 .5 -1 .5 -1.2 .5 3 .5 -2.2 .5 1.1 .5 -2 .5 1.5 .5 0 .5 -1.7 .5 3.7 .5 -2 .5 1.7 .5 -2.8 .5 1 .5 -.1 .5 -.8 .5 1.9 .5 -1.4 .5 -.4 .5 1.5 .5 -.5 .5 -1.2 .5 1 .5 .2 .5 -.6 .5 -.2 .5 .3 .5 .5 .5 -.4 .5 -.6 .5 0 .5 .7 .5 -.6 .5 -1.3 .5 .8 .5 -.1 .5 2.1 .5 -2.5 .5 1.1 .5 -1 .5 3.6 .5 -2.1 .5 -1.5 .5 2.1 .5 0 .5 -2 .5 .5 .5 .9 .5 -.8 .5 .9 .5 1.8 .5 -1.6 .5 1.5 .5 -2 .5 1.8 .5 -1.2 .5 -.4 .5 1.6 .5 -.7 .5 -.6 .5 -.5 .5 -.4 .5 2.4 .5 -2.9 .5 1.8 .5 -1.9 .5 1.1 .5 -.1 .5 -.1 .5 .6 .5 1.6 .5 -1.2 .5 .4 .5 -1.6 .5 3.2 .5 -2.3 .5 0 .5 -.5 .5 -.2 .5 1.1 .5 .1 .5 -1.7 .5 .8 .5 1.8 .5 -1.9 .5 .1 .5 .6 .5 -2.2 .5 2.9 .5 -1 .5 -.3 .5 -.5 .5 .4 .5 -1.6 .5 2 .5 .4 .5 -1.3 .5 2.8 .5 -2.5 .5 .4 .5 -.2 .5 .5 .5 -.5 .5 -.4 .5 1.6 .5 -1 .5 1.2 .5 -2.7 .5 1.9 .5 -.6 .5 -1.2 .5 1 .5 1.1 .5 -2.8 .5 1.5 .5 1.8 .5 -1.2 .5 -.9 .5 1.7 .5 -1.9 .5 1 .5 1.7 .5 -1 .5 0 .5 -.1 .5 -.8 .5 .5 .5 .3 .5 -1.4 .5 .8 .5 .5 .5 .9 .5 -1.1 .5 -.7 .5 -.1 .5 .3 .5 1.9 .5 -2.2 .5 2.8 .5 -2.5 .5 2.3 .5 -3.3 .5 1.7 .5 -.3 .5 .1 .5 3.4 .5 -4.1 .5 2.7 .5 -2.3 .5 .8 .5 .5 .5 -.3 .5 -1.4 .5 2.1 .5 -1.3 .5 .4 .5 -1 .5 1.3 .5 .5 .5 1 .5 -2 .5 1.2 .5 1.6 .5 -3.1 .5 .4 .5 .7 .5 .6 .5 -2.6 .5 2.7 .5 -.7 .5 -1.7 .5 2.3 .5 -2.6 .5 1.5 .5 -2.7 .5 1.8 .5 .2 .5 .3 .5 1.1 .5 -.3 .5 -1.7 .5 1.8 .5 -.3 .5 -2.3 .5 1.7 .5 0 .5 -.2 .5 .7 .5 -.2 .5 -.1 .5 1.6 .5 -1.1 .5 .3 .5 -1.7 .5 .9 .5 .3 .5 .5 .5 -.5 .5 1.2 .5 0 .5 -1.6 .5 1.1 .5 .1 .5 -1.3 .5 1.6 .5 -1.1 .5 .9 .5 -.7 .5 .7 .5 -1.8 .5 2.8 .5 -3 .5 2.2 .5 -1.5 .5 1.6 .5 -1.1 .5 .1 .5 1.9 .5 -.5 .5 -1 .5 -.5 .5 -1.7 .5 2.1 .5 1.2 .5 .3 .5 -1.8 .5 1.2 .5 1.3 .5 -1.9 .5 -1.2 .5 .6 .5 .7 .5 -.9 .5 1.4 .5 .9 .5 -1.1 .5 -1.3 .5 .1 .5 1.3 .5 1.4 .5 -3.5 .5 -.6 .5 1.4 .5 .8 .5 -1 .5 .4 .5 .8 .5 -.9 .5 1.2 .5 -.1 .5 -1.6 .5 1.1 .5 -.6 .5 -.8 .5 .3 .5 -.6 .5 1.6 .5 -1.2 .5 -1.1 .5 .7 .5 .7 .5 .3 .5 1.5 .5 .6 .5 -3.1 .5 .5 .5 .7 .5 -.8 .5 -.1 .5 2 .5 -.9 .5 -1.5 .5 0 .5 -.8 .5 2.8 .5 -2.4 .5 -1.2 .5 1.8 .5 -1.1 .5 1.3 .5 1.4 .5 -1.3 .5 -.4 .5 -.2 .5 0 .5 -.3 .5 1.5 .5 .4 .5 -.6 .5 .5 .5 -1 .5 .7 .5 .5 .5 -.3 .5 -.4 .5 -1.7 .5 1.8 .5 -.7 .5 -1.9 .5 3 .5 -.1 .5 -1.6 .5 1.9 .5 -1.3 .5 .3 .5 1.2 .5 -2.9 .5 1.7 .5 .3 .5 -1.3 .5 0 .5 .4 .5 .8 .5 1.4 .5 1.7 .5 -2.1 .5 -.4 .5 .3 .5 .2 .5 -1.8 .5 2.6 .5 -.6 .5 -.2 .5 -.6 .5 .5 .5 -.5 .5 -1.2 .5 1.9 .5 -.3 .5 -1 .5 0 .5 -.7 .5 .4 .5 .9 .5 -2.1 .5 .7 .5 .7 .5 .1 .5 1.7 .5 -1.9 .5 -.8 .5 1.6 .5 -2.3 .5 1.4 .5 1.3 .5 1.6 .5 -2.7 .5 .1 .5 -.1 .5 -1.8 .5 1.8 .5 -.9 .5 .9 .5 .8 .5 -1.3 .5 2.2 .5 -1.3 .5 -1.4 .5 1.4 .5 -.4 .5 -.1 .5 1.1 .5 -.8 .5 -.8 .5 1.1 .5 -.5 .5 1.9 .5 -.1 .5 -1.9 .5 -1 .5 3 .5 -2.2 .5 -1.4 .5 2 .5 .1 .5 -1.1 .5 1.5 .5 -1.6 .5 2.1 .5 -1.1 .5 .2 .5 -1.1 .5 0 .5 2.3 .5 -1.9 .5 .1 .5 1.5 .5 .2 .5 -.4 .5 -1.6 .5 .6 .5 -1.4 .5 1.7 .5 1.6 .5 -3.2 .5 2.7 .5 -1.1 .5 -.2 .5 -.6 .5 -.8 .5 1.3 .5 .1 .5 -.3 .5 2.4 .5 -2.7 .5 .7 .5 1.2 .5 -.5 .5 -.1 .5 -2 .5 2.5 .5 .1 .5 1.2 .5 -1.6 .5 -1.4 .5 1.8 .5 .4 .5 -1.7 .5 .3 .5 .1 .5 -.1 .5 1.3 .5 0 .5 -1.5 .5 -.2 .5 .3 .5 2.2 .5 -2.4 .5 0 .5 1.2 .5 -2.2 .5 -1.7 .5 3.9 .5 -.6 .5 1.6 .5 -3.1 .5 .7 .5 -.4 .5 .8 .5 -2 .5 .7 .5 -1.9 .5 2.6 .5 .5 .5 -1.2 .5 .4 .5 1.4 .5 -1.6 .5 1.5 .5 -2 .5 -1.4 .5 1.5 .5 -1 .5 .2 .5 1.4 .5 -.3 .5 1.1 .5 -.4 .5 -1.5 .5 1.5 .5 -2.1 .5 1.2 .5 -1.6 .5 -.5 .5 .3 .5 -1.2 .5 -.4 .5 .9 .5 -1.4 .5 -.2 .5 -1.9 .5 -.1 .5 1.8 .5 -.8 .5 -3.5 .5 -.4 .5 1 .5 0 .5 -.2 .5 1 .5 2.6 .5 -.7 .5 1 .5 -1.3 .5 2.2 .5 1.7 .5 -1.4 .5 1.6 .5 -1.2 .5 .8 .5 1" fill="none" stroke="#ff00ff" stroke-width="2.8" stroke-linejoin="round"/>
<path d="M105.2 938.5l.5 2 .5 -1.2 .5 -.5 .5 -.1 .5 1.2 .5 -1.9 .5 3.3 .5 -1.4 .5 .3 .5 -.4 .5 -.7 .5 1.9 .5 -.4 .5 -2.4 .5 .5 .5 -.5 .5 .9 .5 -.4 .5 .5 .5 .4 .5 -.2 .5 1.6 .5 -2.7 .5 1.9 .5 -.5 .5 -3 .5 2.8 .5 .5 .5 0 .5 0 .5 0 .5 0 .5 0 .5 0 .5 0 .5 0 .5 0 .5 0 .5 0 .5 0 .5 0 .5 0 .5 0 .5 0 .5 0 .5 0 .5 0 .5 0 .5 0 .5 0 .5 0 .5 0 .5 0 .5 0 .5 0 .5 0 .5 0 .5 0 .5 0 .5 0 .5 0 .5 0 .5 0 .5 0 .5 0 .5 0 .5 0 .5 0 .5 0 .5 0 .5 0 .5 0 .5 0 .5 0 .5 0 .5 -1.8 .5 .7 .5 .3 .5 -1.2 .5 .4 .5 -1 .5 2.1 .5 -.7 .5 -.5 .5 .8 .5 -1.5 .5 2 .5 -.9 .5 -1 .5 -.4 .5 3 .5 -.8 .5 .5 .5 -.4 .5 .4 .5 -2.7 .5 2.2 .5 .7 .5 2.1 .5 -3.4 .5 1.5 .5 -1.4 .5 .5 .5 0 .5 -.7 .5 .1 .5 .7 .5 2.4 .5 -2.5 .5 -.3 .5 0 .5 1.1 .5 .6 .5 -1.6 .5 -.3 .5 .9 .5 -.7 .5 .5 .5 .2 .5 -.7 .5 -.5 .5 1.7 .5 -.5 .5 .1 .5 .8 .5 -.9 .5 1 .5 -.1 .5 .9 .5 -1 .5 -2 .5 1.3 .5 .3 .5 -1.5 .5 2.1 .5 -1.8 .5 .8 .5 -1.2 .5 .8 .5 -.7 .5 .3 .5 -.3 .5 .3 .5 -.2 .5 1.1 .5 .8 .5 -2 .5 .6 .5 -1.6 .5 1.2 .5 1.1 .5 -2.1 .5 2.1 .5 -.4 .5 -1 .5 .7 .5 .8 .5 -1.4 .5 .6 .5 -1.2 .5 .9 .5 .2 .5 -4.6 .5 4.3 .5 1.4 .5 -1.6 .5 1.9 .5 -2.2 .5 1.8 .5 -2.1 .5 2.3 .5 -.1 .5 .6 .5 -.9 .5 -1.5 .5 1 .5 -1.2 .5 1.8 .5 -.8 .5 -.3 .5 1.6 .5 .7 .5 -.3 .5 -2.8 .5 1.9 .5 .1 .5 -1.4 .5 .2 .5 1 .5 -1.5 .5 1.6 .5 -2.7 .5 1.1 .5 2.7 .5 -2.2 .5 0 .5 -.5 .5 -2.1 .5 1.7 .5 .4 .5 .5 .5 1.9 .5 -1.3 .5 .3 .5 -.6 .5 -.1 .5 0 .5 .1 .5 -.5 .5 -3.6 .5 4.9 .5 -2.3 .5 .6 .5 .5 .5 -.6 .5 2.6 .5 -.7 .5 .3 .5 -1 .5 -1.8 .5 3.1 .5 -1.5 .5 -.9 .5 -1.1 .5 1.2 .5 .5 .5 .2 .5 -.3 .5 -.3 .5 .7 .5 -.3 .5 1.6 .5 -2.2 .5 1 .5 1.6 .5 -3.7 .5 1.6 .5 .1 .5 1.2 .5 -1 .5 -2.5 .5 1.4 .5 -.8 .5 .1 .5 .8 .5 -1 .5 .6 .5 -.1 .5 -.4 .5 3.7 .5 -2.7 .5 .3 .5 1.5 .5 -2.7 .5 2.7 .5 -2.1 .5 1.7 .5 -2.4 .5 3.8 .5 -1.3 .5 -1.1 .5 -.6 .5 1.1 .5 -.5 .5 .8 .5 -1.7 .5 .9 .5 .2 .5 .8 .5 -.2 .5 .5 .5 -.6 .5 -.6 .5 .8 .5 -.8 .5 .9 .5 -.2 .5 -.7 .5 1.7 .5 -.4 .5 -.3 .5 -.7 .5 .2 .5 1.4 .5 -.8 .5 -.7 .5 .8 .5 -.7 .5 1.6 .5 -.7 .5 -.8 .5 1.4 .5 -3 .5 1.1 .5 -.2 .5 -6.8 .5 6.9 .5 -.5 .5 1.6 .5 .7 .5 .1 .5 0 .5 -1.2 .5 -.1 .5 -2.6 .5 3.2 .5 -1.1 .5 -.4 .5 0 .5 2.5 .5 -1.6 .5 .4 .5 -1.5 .5 .3 .5 -.6 .5 1.9 .5 .1 .5 -.9 .5 -1.9 .5 2.3 .5 -1.2 .5 2.2 .5 -2.3 .5 .9 .5 1.2 .5 -2.7 .5 2.4 .5 -1.4 .5 1.8 .5 .6 .5 -1.7 .5 .5 .5 .5 .5 0 .5 .3 .5 .6 .5 .1 .5 -.8 .5 -2 .5 2.2 .5 -1.3 .5 1.6 .5 .1 .5 0 .5 -1.4 .5 -.8 .5 .2 .5 -.3 .5 .9 .5 .5 .5 -.6 .5 -.5 .5 -.1 .5 1.5 .5 -2 .5 0 .5 1.2 .5 -.3 .5 .9 .5 -3.3 .5 -2 .5 4.3 .5 .6 .5 -.1 .5 .4 .5 -2.1 .5 1.6 .5 -.4 .5 .3 .5 -.4 .5 -1.3 .5 1.1 .5 0 .5 .4 .5 -.7 .5 1.3 .5 -.8 .5 .4 .5 0 .5 -.7 .5 .3 .5 -.4 .5 1.1 .5 .6 .5 -1.5 .5 -.6 .5 -.7 .5 1.7 .5 -.8 .5 -.9 .5 1.7 .5 .1 .5 .6 .5 -2.4 .5 1.9 .5 .1 .5 -.7 .5 .9 .5 -1.5 .5 1.8 .5 -1.2 .5 1.3 .5 -1.8 .5 1.4 .5 -1.7 .5 2.8 .5 -1.5 .5 1.6 .5 -1.8 .5 .4 .5 -.5 .5 -.7 .5 .5 .5 -3.3 .5 2.5 .5 -.6 .5 -.4 .5 2.2 .5 -1 .5 1.7 .5 -1.6 .5 1.3 .5 1.4 .5 -1.6 .5 -1 .5 1.5 .5 -.6 .5 1.8 .5 -1.6 .5 -.2 .5 .6 .5 -1.2 .5 1 .5 .7 .5 -.3 .5 .2 .5 -1.4 .5 .6 .5 .6 .5 -1.3 .5 .5 .5 1 .5 -.7 .5 .2 .5 .2 .5 -.9 .5 .9 .5 2.4 .5 -4 .5 1.8 .5 -.3 .5 -.2 .5 1.7 .5 -.5 .5 -.3 .5 1.1 .5 -3.5 .5 2.1 .5 -.8 .5 1.9 .5 -1.3 .5 -1.4 .5 1.9 .5 -1.6 .5 -.1 .5 2.7 .5 -1.8 .5 .1 .5 .2 .5 .5 .5 -1.2 .5 .9 .5 -.2 .5 .3 .5 -2.3 .5 1.5 .5 1.5 .5 -1.7 .5 .6 .5 -.4 .5 -.7 .5 1.5 .5 -2.2 .5 2.8 .5 -2.1 .5 3 .5 -7.1 .5 4.8 .5 .6 .5 -.8 .5 1.5 .5 -1.1 .5 1.5 .5 -.9 .5 .1 .5 -1.6 .5 .6 .5 -.1 .5 .9 .5 1.2 .5 -1.1 .5 -.8 .5 .7 .5 .5 .5 -2 .5 .6 .5 1.1 .5 .1 .5 -1.5 .5 1.5 .5 .1 .5 .5 .5 -1.2 .5 .7 .5 -.6 .5 2.7 .5 -2 .5 -1.8 .5 .4 .5 1.6 .5 0 .5 -1.6 .5 -.5 .5 1 .5 .2 .5 .9 .5 -1.6 .5 0 .5 .4 .5 -1.2 .5 2.1 .5 .4 .5 -1.5 .5 -.5 .5 .3 .5 -.2 .5 .9 .5 -1.3 .5 -.3 .5 1.6 .5 .8 .5 -1.9 .5 .3 .5 .1 .5 -.8 .5 1.8 .5 -2.3 .5 1 .5 -1 .5 2 .5 1.3 .5 -.9 .5 -.8 .5 .8 .5 -2.6 .5 -.3 .5 2 .5 .3 .5 -2.5 .5 2.2 .5 -.9 .5 .3 .5 -.7 .5 2.5 .5 -2.8 .5 2.4 .5 1.3 .5 -2.1 .5 0 .5 -1.3 .5 1 .5 .7 .5 -1.5 .5 .4 .5 -1.7 .5 3 .5 -5 .5 6.1 .5 -1.8 .5 .2 .5 .8 .5 .1 .5 -2.1 .5 3.3 .5 -2.2 .5 1.1 .5 .7 .5 -2.6 .5 1.5 .5 .3 .5 -1.7 .5 .3 .5 1.2 .5 -1.6 .5 1.7 .5 -.3 .5 -1.4 .5 3.2 .5 -1.5 .5 -1.9 .5 -.2 .5 1.6 .5 -1.2 .5 -.3 .5 1.8 .5 -2 .5 .3 .5 .7 .5 -2 .5 1.9 .5 .4 .5 .9 .5 -.9 .5 .1 .5 -1.2 .5 1.9 .5 -.3 .5 -.3 .5 -1.5 .5 .3 .5 1.5 .5 -1.4 .5 -.2 .5 1.2 .5 .8 .5 .3 .5 -2.1 .5 .9 .5 .1 .5 .4 .5 -.8 .5 -2 .5 3.6 .5 -.3 .5 -1.8 .5 .4 .5 1.1 .5 -1.2 .5 1 .5 .4 .5 .6 .5 .2 .5 -2.1 .5 -.5 .5 1.2 .5 0 .5 .6 .5 -1.2 .5 -.5 .5 1.3 .5 -.5 .5 .3 .5 -1.1 .5 1.8 .5 .1 .5 -1.3 .5 -.2 .5 2.9 .5 -1.3 .5 -2.3 .5 1.4 .5 .8 .5 -1.2 .5 .3 .5 .1 .5 2.4 .5 -1.2 .5 -1.4 .5 -.2 .5 -.5 .5 .3 .5 1.8 .5 .2 .5 -2.1 .5 .8 .5 -.8 .5 2.4 .5 -1.8 .5 .3 .5 -.1 .5 -1.9 .5 -.1 .5 1.8 .5 .7 .5 1.4 .5 -2.3 .5 .7 .5 -1.3 .5 -3.8 .5 3.9 .5 .7 .5 -.3 .5 -2.6 .5 2.2 .5 .4 .5 -4.7 .5 2.6 .5 2.3 .5 -1.3 .5 -.9 .5 .1 .5 -2.9 .5 -.9 .5 -1.1 .5 .4 .5 -.3 .5 0 .5 -.8 .5 2.1 .5 -.6 .5 -.6 .5 2.2 .5 .8 .5 -.9 .5 1.3 .5 3.1 .5 3.2 .5 -1.5 .5 -1.4 .5 1.5 .5 -.7 .5 1.1 .5 -.4 .5 -.3 .5 1.7 .5 -1.8 .5 1.4 .5 -2 .5 -.9 .5 2.5 .5 -2.4 .5 1.7 .5 -1.6 .5 1.5 .5 .3 .5 0 .5 -1.2 .5 0 .5 -1 .5 2.8 .5 -1.2 .5 .5 .5 -2.1 .5 2.2 .5 -2.2 .5 0 .5 .3 .5 1.6 .5 .1 .5 -1.2 .5 .7 .5 -.1 .5 .7 .5 -.4 .5 -1.1 .5 -.8 .5 2.1 .5 -1.4 .5 1.1 .5 -1.5 .5 .9 .5 .6 .5 -1.5 .5 -1 .5 1.6 .5 -1.8 .5 2.4 .5 -1.5 .5 1.1 .5 -1.8 .5 2.2 .5 .4 .5 .8 .5 -1.1 .5 -1.6 .5 0 .5 2.4 .5 -3.2 .5 -.5 .5 3 .5 -1.4 .5 .3 .5 1.5 .5 1.8 .5 -.8 .5 .2 .5 -2.6 .5 -.1 .5 .4 .5 -.3 .5 -.3 .5 1.2 .5 .2 .5 -.9 .5 1.3 .5 -2.5 .5 1.5 .5 1 .5 -.6 .5 -.8 .5 0 .5 -.5 .5 .5 .5 -.3 .5 -.2 .5 -.5 .5 .4 .5 .8 .5 0 .5 .2 .5 .4 .5 -.7 .5 1.1 .5 -1.8 .5 .5 .5 .1 .5 .8 .5 -1.6 .5 .4 .5 2.2 .5 -2.1 .5 -.1 .5 1.7 .5 -1.7 .5 -.9 .5 2.6 .5 1.3 .5 -2.1 .5 -2.4 .5 1.1 .5 1 .5 -3.7 .5 1.3 .5 1.8 .5 -.6 .5 -1.9 .5 0 .5 -2.4 .5 -1 .5 -1.1 .5 -4.2 .5 -.7 .5 -3.8 .5 -.9 .5 -2 .5 -.4 .5 4.7 .5 1.9 .5 3.5 .5 4 .5 3.1 .5 -.2 .5 0 .5 1.4 .5 -1.3 .5 1.3 .5 .7 .5 .3 .5 -2 .5 1.9 .5 1.2 .5 -1.6 .5 .4 .5 .6 .5 -2.5 .5 1.8 .5 -.1 .5 -.4 .5 .2 .5 -1.7 .5 4.1 .5 -2.5 .5 1.1 .5 -1 .5 2 .5 -1.3 .5 1.6 .5 -1.5 .5 -.8 .5 2.5 .5 -1.6 .5 -.8 .5 0 .5 -.7 .5 .2 .5 2.8 .5 0 .5 -4 .5 1.9 .5 .6 .5 .6 .5 -.4 .5 -.8 .5 2.1 .5 -1 .5 -.7 .5 1.5 .5 1 .5 -1.9 .5 -2.3 .5 2.8 .5 -2.1 .5 2 .5 -.3 .5 -3.2 .5 .3 .5 -1 .5 -.6 .5 1.3 .5 -1.5 .5 -.1 .5 1.2 .5 .4 .5 2.2 .5 -.8 .5 1 .5 .5 .5 -.7 .5 1.2 .5 -.2 .5 1.5 .5 -2.3 .5 -.8 .5 .9 .5 -.1 .5 1.4 .5 -.3 .5 -.9 .5 .8 .5 -1.2 .5 .4 .5 .9 .5 .6 .5 -1.1 .5 .3 .5 .2 .5 -1.9 .5 3.5 .5 -.7 .5 -1.3 .5 .2 .5 1.4 .5 -1.6 .5 -2.1 .5 1 .5 1.6 .5 .2 .5 -2.2 .5 .5 .5 -.5 .5 -.5 .5 .3 .5 1.1 .5 -.7 .5 -.3 .5 .2 .5 1 .5 -.7 .5 .8 .5 -.7 .5 1.4 .5 -.7 .5 -1 .5 .4 .5 1.1 .5 -.8 .5 1.5 .5 -.4 .5 -1.7 .5 -.7 .5 1.1 .5 -1.8 .5 .4 .5 -.7 .5 3 .5 -2.4 .5 .1 .5 1.1 .5 .1 .5 -.1 .5 1.7 .5 -1.5 .5 .3 .5 .5 .5 -.8 .5 .5 .5 -1.9 .5 1.6 .5 .5 .5 -.9 .5 -.4 .5 1 .5 -1 .5 .6 .5 -.9 .5 -.7 .5 .9 .5 .1 .5 .9 .5 -.5 .5 -.2 .5 -.7 .5 -.6 .5 -.1 .5 1.3 .5 -.1 .5 0 .5 -1.1 .5 -.7 .5 -2.8 .5 -1.6 .5 .7 .5 -4 .5 -3 .5 -1.9 .5 .1 .5 -.6 .5 .3 .5 3 .5 1 .5 2.3 .5 1.1 .5 4.2 .5 -.7 .5 .5 .5 2.1 .5 .3 .5 2 .5 -3.2 .5 2.6 .5 .1 .5 -1.8 .5 1.3 .5 -1.3 .5 2.5 .5 -.4 .5 -1.7 .5 1.4 .5 .4 .5 -.1 .5 0 .5 -1.4 .5 1 .5 -.2 .5 -1.9 .5 1.5 .5 1.1 .5 -.3 .5 -.1 .5 -1.4 .5 1.5 .5 -1.2 .5 -.8 .5 1.1 .5 -2 .5 -.1 .5 .6 .5 0 .5 -1 .5 -1.7 .5 3.3 .5 -.3 .5 1 .5 -.4 .5 .3 .5 -.7 .5 -.9 .5 1.7 .5 -.8 .5 2.6 .5 -2.1 .5 -1.1 .5 1.9 .5 -.1 .5 -3.6 .5 2.4 .5 -1.4 .5 .4 .5 -3.6 .5 .5 .5 -3.2 .5 -2.9 .5 -3.6 .5 -2.8 .5 -5.1 .5 -1.5 .5 -3.7 .5 1.6 .5 -1 .5 4.3 .5 3.5 .5 5.2 .5 5.2 .5 -.4 .5 3.2 .5 1.1 .5 .7 .5 3.5 .5 -1 .5 2 .5 -1.6 .5 -1.1 .5 3 .5 -1.2 .5 -.3 .5 .1 .5 -.1 .5 -.1 .5 .5 .5 0 .5 -.8 .5 2.2 .5 -.9 .5 -1.4 .5 1 .5 -.7 .5 1.7 .5 -1.2 .5 .2 .5 .5 .5 1.2 .5 -2 .5 -1.2 .5 -.4 .5 2.2 .5 -.4 .5 -.9 .5 1 .5 -.9 .5 2.9 .5 -3.9 .5 .4 .5 .6 .5 0 .5 -1.3 .5 -.2 .5 .1 .5 -2.8 .5 1 .5 -3.5 .5 -3.1 .5 -7.6 .5 -5.7 .5 -9.3 .5 -9.8 .5 -10.1 .5 -5.5 .5 1.4 .5 4.1 .5 8.8 .5 9 .5 10.6 .5 7.7 .5 5.9 .5 4.6 .5 1.6 .5 1.5 .5 2.8 .5 .3 .5 -1.5 .5 1.5 .5 .8 .5 -1.9 .5 .4 .5 2.3 .5 -2.3 .5 1.6 .5 -.1 .5 -1.1 .5 .5 .5 -.3 .5 -5.7 .5 4.6 .5 1.2 .5 0 .5 .1 .5 -.2 .5 -2.6 .5 3.2 .5 .5 .5 -.9 .5 .8 .5 -.1 .5 -2.8 .5 1.9 .5 1 .5 -.6 .5 -.1 .5 1.6 .5 -3.3 .5 1.4 .5 .3 .5 -.5 .5 1.3 .5 -3.8 .5 2.5 .5 -.4 .5 -.4 .5 1.6 .5 -2.1 .5 3.1 .5 -3.6 .5 2.4 .5 -.5 .5 .7 .5 -1.4 .5 2.1 .5 -.8 .5 -1.5 .5 -.1 .5 .6 .5 1.8 .5 -1.8 .5 1.2 .5 .4 .5 -1.5 .5 .1 .5 -2.2 .5 3.3 .5 .3 .5 -2.1 .5 2.1 .5 -.9 .5 -.1 .5 -3.8 .5 4 .5 .2 .5 -2.4 .5 3.1 .5 -.5 .5 -.1 .5 -.4 .5 .2 .5 0 .5 .9 .5 -2.1 .5 .5 .5 -1 .5 .5 .5 .6 .5 -.3 .5 .6 .5 .4 .5 -1.2 .5 -.3 .5 .9 .5 .4 .5 -.1 .5 -2.2 .5 1.6 .5 1.6 .5 -.1 .5 -.9 .5 -.1 .5 -.8 .5 -1.8 .5 3.1 .5 -.6 .5 -1.8 .5 4.4 .5 -4.1 .5 1.5 .5 .8 .5 -2 .5 2 .5 -1.7 .5 -.7 .5 .8 .5 .4 .5 .4 .5 -2.2 .5 .6 .5 .6 .5 2 .5 -2.6 .5 1.1 .5 1.5 .5 -2.5 .5 2 .5 -.4 .5 .6 .5 -2.1 .5 1.1 .5 -3.2 .5 3.6 .5 -1 .5 .6 .5 -2 .5 2.7 .5 -1.3 .5 .2 .5 .7 .5 -1.1 .5 -.3 .5 -1.2 .5 2.2 .5 -1.7 .5 1 .5 -1.6 .5 .7 .5 -1.3 .5 -.5 .5 1.8 .5 -2.1 .5 -1.4 .5 2.2 .5 -.1 .5 -1.9 .5 -3.8 .5 -1.8 .5 -.7 .5 -1.8 .5 -3.6 .5 -2.7 .5 -4.3 .5 -2.5 .5 -3.6 .5 -3.9 .5 -4.9 .5 -2.4 .5 -2.9 .5 .3 .5 .3 .5 -1.2 .5 2.5 .5 2.9 .5 1.8 .5 4.6 .5 2.5 .5 2.7 .5 3.9 .5 2 .5 1.4 .5 2.3 .5 -.5 .5 1.2 .5 3.1 .5 .3 .5 1 .5 -.1 .5 1 .5 -1.6 .5 .2 .5 .8 .5 -.6 .5 -.4 .5 1 .5 -1.8 .5 2.2 .5 1.2 .5 -1.4 .5 1.6 .5 1.2 .5 -.8 .5 5.1 .5 -2.7 .5 -1.9 .5 2.8 .5 -.2 .5 2 .5 -5.9 .5 9.3 .5 -3.1 .5 1.4 .5 .3 .5 1.4 .5 .8 .5 -1.1 .5 1.2 .5 -.4 .5 -.6 .5 .4 .5 -5.4 .5 6.7 .5 -1.7 .5 1.3 .5 .4 .5 -.2 .5 1.7 .5 -3.2 .5 -1.8 .5 2.3 .5 -.6 .5 .1 .5 .7 .5 .8 .5 -.8 .5 -2.8 .5 2.4 .5 .4 .5 .3 .5 -2 .5 1.7 .5 -.6 .5 -.2 .5 .5 .5 0 .5 -4 .5 1.2 .5 -2.1 .5 -1.6 .5 -1.8 .5 -3.1 .5 -2 .5 -3.9 .5 -2.1 .5 -1.6 .5 -1.5 .5 -1.6 .5 .9 .5 .8 .5 -.3 .5 -4.7 .5 -3.1 .5 -4.7 .5 -8.6 .5 -3.3 .5 1.2 .5 6.4 .5 6.1 .5 6.6 .5 9.3 .5 7.3 .5 -2.3 .5 7.9 .5 3.8 .5 -1.3 .5 1.6 .5 1.6 .5 -.2 .5 -1.6 .5 2.5 .5 0 .5 -1.5 .5 1.2 .5 -.4 .5 0 .5 1.1 .5 .6 .5 -.4 .5 -.5 .5 -.6 .5 -.3 .5 1.5 .5 -.3 .5 .2 .5 .7 .5 -.9 .5 -.1 .5 -.8 .5 2.1 .5 -1.1 .5 -.7 .5 2.4 .5 -2.4 .5 .6 .5 1.6 .5 -1.1 .5 -1.5 .5 1.7 .5 -1.3 .5 1.2 .5 -.6 .5 .7 .5 -.6 .5 -1 .5 1.9 .5 -1.7 .5 -.3 .5 1.2 .5 .6 .5 .1 .5 -2.2 .5 -.4 .5 0 .5 -.3 .5 -.3 .5 1.2 .5 -1.1 .5 -1.7 .5 -1.4 .5 .1 .5 -4.2 .5 -5.3 .5 -4.1 .5 -9.3 .5 -7.5 .5 -4.7 .5 -6.8 .5 -.3 .5 3.2 .5 9.5 .5 5.7 .5 6.5 .5 8.8 .5 2.8 .5 3.1 .5 2.8 .5 -.4 .5 1.7 .5 1.9 .5 1.9 .5 -1.6 .5 1.5 .5 -2.3 .5 2.5 .5 -5.7 .5 5.6 .5 -2.5 .5 1.4 .5 1.4 .5 -3.8 .5 3.3 .5 .5 .5 -.5 .5 .5 .5 .2 .5 -1.2 .5 2.3 .5 -3.5 .5 2.7 .5 -1.4 .5 2.8 .5 -1.1 .5 -1.8 .5 -1.9 .5 -.8 .5 0 .5 1.2 .5 -1.9 .5 -1.6 .5 1 .5 -1.5 .5 -1.1 .5 -1 .5 2 .5 -.5 .5 4.2 .5 .2 .5 -.9 .5 2.7 .5 -1.2 .5 0 .5 -1 .5 2.2 .5 -.6 .5 -2.1 .5 .2 .5 1 .5 -2.7 .5 -1.2 .5 -4.7 .5 -3.1 .5 -2.2 .5 -7.1 .5 -4.6 .5 -3.4 .5 -.5 .5 2.9 .5 5.6 .5 4.2 .5 4.1 .5 3.2 .5 3.5 .5 1.1 .5 2.4 .5 1.8 .5 -1.1 .5 1.5 .5 1 .5 -.7 .5 .1 .5 .2 .5 .5 .5 -2.2 .5 -1 .5 1.7 .5 -2.4 .5 1.8 .5 -1.9 .5 1.2 .5 -.3 .5 1.1 .5 -2.2 .5 -.4 .5 -.6 .5 .7 .5 -.3 .5 -1.8 .5 1.1 .5 -2.5 .5 -4.6 .5 -4.7 .5 -6 .5 -8.9 .5 -12.5 .5 -16.5 .5 -15.5 .5 -16.9 .5 -14.2 .5 -5.4 .5 1.1 .5 5.8 .5 7.7 .5 6.1 .5 3.3 .5 -2.6 .5 2.9 .5 -2.8 .5 1.1 .5 -.2 .5 2 .5 2.6 .5 4 .5 1.7 .5 2.6 .5 4.9 .5 -.3 .5 2.8 .5 2 .5 8.5 .5 6.6 .5 5.3 .5 6.9 .5 5.6 .5 5.9 .5 7.9 .5 4 .5 2.5 .5 3.3 .5 2 .5 2.7 .5 0 .5 2.6 .5 .2 .5 -1.7 .5 1.7 .5 .1 .5 -1.2 .5 1 .5 -.3 .5 -.3 .5 -1.6 .5 -.8 .5 -6.4 .5 -3.9 .5 -7.6 .5 -10.6 .5 -16.1 .5 -13.2 .5 -13.6 .5 -6.3 .5 -1.4 .5 6.8 .5 15.9 .5 12.8 .5 12.9 .5 11.9 .5 4.9 .5 9.2 .5 4.1 .5 .9 .5 4 .5 .3 .5 .2 .5 .3 .5 1.1 .5 -.8 .5 2.6 .5 .8 .5 -.1 .5 -2 .5 -.3 .5 -2.8 .5 5.9 .5 -2.8 .5 .9 .5 .9 .5 -.7 .5 -2.2 .5 1.8 .5 -.4 .5 1.5 .5 -1 .5 1.1 .5 -.1 .5 -.9 .5 -.2 .5 .1 .5 -.3 .5 3.1 .5 -1.3 .5 -.5 .5 2.3 .5 -2.5 .5 .2 .5 .9 .5 1.6 .5 -3.3 .5 .8 .5 0 .5 0 .5 0 .5 0 .5 0 .5 0 .5 0 .5 0 .5 0 .5 0 .5 0 .5 0 .5 0 .5 0 .5 0 .5 0 .5 0 .5 0 .5 0 .5 0 .5 0 .5 0 .5 0 .5 0 .5 0 .5 0 .5 0 .5 0 .5 0 .5 0 .5 0 .5 0 .5 0 .5 0 .5 0 .5 0 .5 0 .5 0 .5 0 .5 0 .5 0 .5 0 .5 0 .5 0 .5 0 .5 0 .5 0 .5 0 .5 0 .5 0 .5 0 .5 0 .5 0 .5 0 .5 0 .5 0 .5 0 .5 0 .5 0 .5 0 .5 0 .5 0 .5 0 .5 0 .5 0 .5 0 .5 0 .5 0 .5 0 .5 0 .5 0 .5 0 .5 0 .5 0 .5 0 .5 0 .5 0 .5 0 .5 0 .5 -2.5 .5 1.7 .5 2 .5 .2 .5 -2.3 .5 .9 .5 1 .5 .6 .5 -1 .5 -.3 .5 .7 .5 .5 .5 -.8 .5 1.1 .5 -1.7 .5 -1.6 .5 1.5 .5 -.2 .5 .5 .5 1.2 .5 -1.2 .5 -.8 .5 .8 .5 1.2 .5 -1.1 .5 .1 .5 -.9 .5 -.8 .5 2.4 .5 -.8 .5 -.6 .5 0 .5 -.6 .5 2.3 .5 -.9 .5 .5 .5 -.6 .5 -.2 .5 .4 .5 -1.1 .5 1.9 .5 -.7 .5 -1.4 .5 2 .5 -1.4 .5 .5 .5 -2.3 .5 2.4 .5 .3 .5 -.8 .5 -.6 .5 -1 .5 2.8 .5 -.1 .5 -1.3 .5 -.8 .5 1.5 .5 .8 .5 -1.7 .5 1.8 .5 -.7 .5 -1.4 .5 1.1 .5 -1.4 .5 -.1 .5 2.7 .5 -2.5 .5 .8 .5 .1 .5 .8 .5 1 .5 -2.8 .5 .4 .5 .8 .5 -.2 .5 1 .5 -1 .5 -.5 .5 .8 .5 -.6 .5 .1 .5 -1.2 .5 1.9 .5 -.2 .5 .6 .5 -.5 .5 .3 .5 -2.3 .5 1.2 .5 .7 .5 2.1 .5 -2.8 .5 1.1 .5 .4 .5 .2 .5 -1.8 .5 2.6 .5 -1 .5 -.5 .5 .6 .5 0 .5 .6 .5 -1.2 .5 -.5 .5 -.2 .5 -.6 .5 -2.3 .5 -1.3 .5 .1 .5 -.8 .5 -2 .5 -1.7 .5 -2.7 .5 -1.9 .5 -.6 .5 3.2 .5 -1.5 .5 .6 .5 2.8 .5 1.1 .5 1.3 .5 .9 .5 2.3 .5 .6 .5 -.9 .5 .9 .5 .9 .5 .8 .5 -1.7 .5 2.6 .5 0 .5 0 .5 -1.1 .5 1 .5 -2.5 .5 3.5 .5 -2.2 .5 2.2 .5 -.6 .5 -.6 .5 -1.5 .5 .8 .5 1.1 .5 -1.3 .5 2.3 .5 -.5 .5 1.1 .5 -1.1 .5 -2 .5 .8 .5 .4 .5 1.7 .5 -1.2 .5 .9 .5 -2 .5 2.5 .5 -.8 .5 -1.4 .5 1.1 .5 -1.1 .5 -.3 .5 -.1 .5 .8 .5 2.5 .5 -1.7 .5 -.5 .5 -2.3 .5 1.8 .5 -2.2 .5 2.5 .5 -1 .5 .6 .5 -1.2 .5 2.1 .5 0 .5 -1.3 .5 -.8 .5 -.5 .5 -.1 .5 2.4 .5 -1.3 .5 2.7 .5 -.9 .5 -2.1 .5 .8 .5 1.8 .5 -.2 .5 -2.6 .5 1.1 .5 1.7 .5 1 .5 -1.3 .5 1.4 .5 -3.8 .5 -1 .5 3.8 .5 -1.9 .5 -.1 .5 0 .5 -.3 .5 -1.6 .5 1.2 .5 -.4 .5 -.9 .5 .8 .5 1.8 .5 -2.7 .5 .3 .5 0 .5 -.1 .5 -2.4 .5 1.7 .5 -1 .5 -2.3 .5 -2 .5 -2.7 .5 -2.8 .5 -2.9 .5 -2.3 .5 -4.8 .5 -.5 .5 -.8 .5 -3.2 .5 .4 .5 1.1 .5 .8 .5 2.6 .5 3.2 .5 3.7 .5 3.3 .5 4.4 .5 -.4 .5 2.1 .5 2.5 .5 1.9 .5 -.7 .5 .1 .5 1.6 .5 .2 .5 1 .5 -1.7 .5 4.5 .5 -3 .5 .9 .5 -2 .5 1.7 .5 -.5 .5 1 .5 -.3 .5 -.8 .5 2 .5 -2.4 .5 3.4 .5 -2.3 .5 1.1 .5 -1.7 .5 1 .5 -.2 .5 -1.1 .5 1.6 .5 .2 .5 -1.2 .5 -.8 .5 1.9 .5 1.9 .5 -3.5 .5 .8 .5 .7 .5 -2.9 .5 1.3 .5 3.5 .5 -3.1 .5 2.4 .5 -1.4 .5 -.5 .5 -1.2 .5 1.6 .5 -.1 .5 1.5 .5 -1.5 .5 1.4 .5 -.8 .5 -.2 .5 -.4 .5 .7 .5 -.5 .5 1.4 .5 -1.3 .5 -.1 .5 .7 .5 .3 .5 -.9 .5 2.1 .5 -1 .5 -1 .5 -2.9 .5 4.3 .5 -2.4 .5 1.9 .5 -.2 .5 .1 .5 -1.6 .5 -.4 .5 1.2 .5 -1.1 .5 .8 .5 0 .5 -.5 .5 .1 .5 -.4 .5 -.7 .5 1.3 .5 -.6 .5 -.1 .5 -.7 .5 .1 .5 1.8 .5 .8 .5 -1.1 .5 -.1 .5 .4 .5 -1.4 .5 .1 .5 1.4 .5 1 .5 -1.6 .5 3.2 .5 -2.3 .5 -1.6 .5 3.1 .5 -1.9 .5 1.2 .5 -.5 .5 2.5 .5 -3.5 .5 2.2 .5 -7.6 .5 4.4 .5 1.7 .5 1 .5 0 .5 -.7 .5 -.6 .5 -.1 .5 -.1 .5 .4 .5 -1.5 .5 3.4 .5 -1.7 .5 -.1 .5 -1.1 .5 -.3 .5 3.1 .5 -.2 .5 -1.6 .5 0 .5 -.4 .5 .1 .5 -.4 .5 -.9 .5 1.5 .5 -.3 .5 -1.1 .5 1 .5 -.8 .5 -.9 .5 1.5 .5 -.4 .5 1.5 .5 -1.4 .5 .7 .5 -3.8 .5 3.2 .5 -.5 .5 -.4 .5 2 .5 -2.8 .5 .6 .5 1 .5 .4 .5 0 .5 .2 .5 -.4 .5 -.8 .5 2.2 .5 -1.9 .5 -.1 .5 -1.7 .5 2.9 .5 -1.6 .5 2.3 .5 -3.1 .5 -.9 .5 3.4 .5 -2.3 .5 -1.4 .5 2.5 .5 -.6 .5 1.4 .5 -.7 .5 -.5 .5 .5 .5 -2.2 .5 .4 .5 .8 .5 -.9 .5 1.2 .5 -1 .5 .9 .5 1.2 .5 -.8 .5 .7 .5 -1.9 .5 1.5 .5 1.3 .5 -1.3 .5 .4 .5 -.9 .5 .5 .5 .8 .5 -.4 .5 -1 .5 .8 .5 .6 .5 -2.5 .5 1.2 .5 -1 .5 .9 .5 -.1 .5 0 .5 .1 .5 .4 .5 .6 .5 1.6 .5 -4.1 .5 2.4 .5 -.5 .5 -.7 .5 .5 .5 -.3 .5 -.5 .5 .8 .5 -.6 .5 -1.1 .5 2.1 .5 -1.3 .5 .2 .5 -2.8 .5 2.1 .5 .6 .5 .6 .5 -.6 .5 .6 .5 -.2 .5 -1.2 .5 .1 .5 0 .5 -1 .5 -2.9 .5 .8 .5 -2.3 .5 -3.2 .5 -2.2 .5 -4.7 .5 -2.3 .5 -1.1 .5 2.8 .5 4.8 .5 3.7 .5 1.9 .5 2.2 .5 -.9 .5 2.8 .5 2 .5 .5 .5 -5.3 .5 5.4 .5 1.4 .5 -.5 .5 -.7 .5 -1.5 .5 2.9 .5 -.1 .5 -1.1 .5 -1 .5 1.3 .5 -1.2 .5 .7 .5 .6 .5 .5 .5 -.2 .5 .4 .5 -1.8 .5 1 .5 1.3 .5 -2.1 .5 .3 .5 -.2 .5 -.2 .5 .5 .5 .3 .5 -.4 .5 1.6 .5 -3.5 .5 2 .5 -.5 .5 2 .5 .2 .5 -3.4 .5 3 .5 -.1 .5 1.2 .5 -6.8 .5 5.3 .5 -.2 .5 .5 .5 -.8 .5 .5 .5 -.6 .5 -1.1 .5 2.1 .5 -.7 .5 -.7 .5 -.1 .5 1.3 .5 -1 .5 -2.5 .5 1.5 .5 3.2 .5 -.4 .5 -.2 .5 -3.2 .5 2.4 .5 -.1 .5 -3 .5 -.2 .5 -1.8 .5 -1.4 .5 1.2 .5 3 .5 -3.5 .5 1.3 .5 .8 .5 -.1 .5 .3 .5 -.7 .5 1.9 .5 .6 .5 .8 .5 .4 .5 -1.2 .5 .4 .5 -.1 .5 2 .5 -2.3 .5 .2 .5 -.6 .5 .2 .5 .9 .5 -2.4 .5 -2.4 .5 -.3 .5 -3.3 .5 -2.2 .5 -1.4 .5 -1.9 .5 -1.3 .5 -.1 .5 1.6 .5 .6 .5 1.8 .5 3.2 .5 2 .5 1.7 .5 1.3 .5 1.6 .5 -1 .5 1.1 .5 3.9 .5 -.6 .5 -2.6 .5 1 .5 1 .5 -.8 .5 0 .5 -.6 .5 .7 .5 .8 .5 -.6 .5 -1.1 .5 -.9 .5 -1.2 .5 2.1 .5 -1.5 .5 .2 .5 -.5 .5 1.1 .5 -1.5 .5 -1.5 .5 .9 .5 -.8 .5 .4 .5 1 .5 -.5 .5 -.5 .5 1 .5 1.9 .5 -.4 .5 .7 .5 1.5 .5 -2.7 .5 -.9 .5 3.4 .5 -1 .5 1.2 .5 0 .5 -2.5 .5 3.7 .5 -2.9 .5 -.4 .5 2.1 .5 0 .5 1.1 .5 -2.1 .5 2.5 .5 -.8 .5 -.5 .5 -1 .5 -1 .5 .8 .5 2.5 .5 -2.6 .5 -.1 .5 1.4 .5 .8 .5 -2.3 .5 2.1 .5 -1.6 .5 -.2 .5 1.8 .5 -1.8 .5 1.1 .5 .2 .5 -1.6 .5 .4 .5 2.5 .5 -1.3 .5 .3 .5 .1 .5 .2 .5 -1.4 .5 1.6 .5 -.9 .5 -.3 .5 .8 .5 -2.7 .5 .7 .5 1.6 .5 -.1 .5 0 .5 -1 .5 1.2 .5 -.3 .5 .1 .5 1.2 .5 -2.8 .5 2.5 .5 -1.2 .5 2.3 .5 -1.9 .5 -.3 .5 0 .5 .6 .5 -1.4 .5 .6 .5 -.8 .5 1.1 .5 -.9 .5 .6 .5 .3 .5 .5 .5 -2.5 .5 .3 .5 2.2 .5 -.4 .5 .7 .5 -1.1 .5 -1.2 .5 -.6 .5 1.2 .5 -.3 .5 1.7 .5 -.9 .5 -.8 .5 .1 .5 2.3 .5 -.8 .5 -.5 .5 .2 .5 -.5 .5 .9 .5 -.2 .5 -2 .5 3.3 .5 -1.4 .5 1.2 .5 -2.1 .5 -.9 .5 2.9 .5 -1.7 .5 .7 .5 -2.1 .5 1.4 .5 -.9 .5 .4 .5 0 .5 1.7 .5 -1.5 .5 2.1 .5 -1.5 .5 .7 .5 -.6 .5 .1 .5 0 .5 -.4 .5 1.4 .5 -1.1 .5 1.3 .5 -2 .5 .4 .5 -1.1 .5 1.6 .5 -.6 .5 -.3 .5 .5 .5 .6 .5 -1.4 .5 2.2 .5 -1.4 .5 .1 .5 -1.4 .5 1.5 .5 -.5 .5 1.5 .5 -2.1 .5 1 .5 1 .5 -1.3 .5 .3 .5 -1.3 .5 1.9 .5 -.2 .5 1.3 .5 -1.8 .5 -2.5 .5 .4 .5 .5 .5 -2.4 .5 -2.3 .5 -.1 .5 -1.7 .5 -2.4 .5 .9 .5 -2.9 .5 -.1 .5 .9 .5 0 .5 1.2 .5 .3 .5 2.4 .5 1 .5 2.6 .5 -.7 .5 1.2 .5 -.2 .5 .6 .5 1.2 .5 1.6 .5 -.4 .5 .5 .5 1.2 .5 -1.8 .5 3 .5 -2.8 .5 -1.1 .5 2.6 .5 -.8 .5 0 .5 -1 .5 .4 .5 1.1 .5 -.7 .5 1.1 .5 -2.1 .5 1.6 .5 -2.4 .5 1.9 .5 -2.5 .5 .8 .5 -2.1 .5 0 .5 -1.5 .5 -3.4 .5 -3.4 .5 -2.7 .5 -3 .5 -2.4 .5 -4.1 .5 .4 .5 1.1 .5 6.9 .5 .9 .5 4.3 .5 1.8 .5 3.5 .5 .1 .5 3 .5 .4 .5 .7 .5 3.3 .5 -1 .5 -1.2 .5 -1.6 .5 1.5 .5 .1 .5 1.7 .5 -1.2 .5 -.3 .5 .9 .5 -1 .5 -.5 .5 .7 .5 -.9 .5 3.2 .5 -2.2 .5 -.5 .5 1.4 .5 -1.8 .5 2.7 .5 -2.3 .5 1.5 .5 -.7 .5 0 .5 -.1 .5 -1.2 .5 .6 .5 .3 .5 -2.1 .5 3.9 .5 -1.3 .5 -1.2 .5 .8 .5 1.2 .5 -.1 .5 -.9 .5 .7 .5 1 .5 -2.3 .5 1.5 .5 .1 .5 -1.1 .5 .3 .5 -.3 .5 -2.5 .5 3.4 .5 .4 .5 -1.1 .5 1 .5 0 .5 -.9 .5 1.9 .5 -.4 .5 -3.3 .5 1.5 .5 -2.3 .5 3.2 .5 -1.5 .5 -.1 .5 .4 .5 -.1 .5 -.1 .5 -1.5 .5 3 .5 -1 .5 -2.5 .5 2.2 .5 .1 .5 .2 .5 .7 .5 -.7 .5 -.3 .5 -.3 .5 -.5 .5 .7 .5 -.7 .5 1.3 .5 -.5 .5 .2 .5 0 .5 2 .5 -.6 .5 .3 .5 -2.5 .5 -.5 .5 1.3 .5 1.4 .5 -1.8 .5 -.9 .5 .6 .5 -.8 .5 .7 .5 1.1 .5 -1.8 .5 -.6 .5 1.2 .5 -1.5 .5 .1 .5 1.8 .5 -2.8 .5 1.5 .5 1.2 .5 -2.6 .5 -.2 .5 .7 .5 -1.8 .5 -.7 .5 -1.9 .5 -.8 .5 -1.7 .5 -1.6 .5 -4.2 .5 -1.7 .5 -3.1 .5 -2 .5 -4.2 .5 -5 .5 -.4 .5 -5.4 .5 -2.8 .5 1.2 .5 -.8 .5 3.9 .5 -1.8 .5 1.6 .5 5.1 .5 .2 .5 3.1 .5 3.3 .5 .4 .5 2.6 .5 1.3 .5 2.5 .5 .9 .5 2.4 .5 1.2 .5 -2.3 .5 .4 .5 1.4 .5 -1.9 .5 .8 .5 2.5 .5 -2.1 .5 1.5 .5 1.2 .5 -.4 .5 1.6 .5 -.1 .5 1.5 .5 2.5 .5 -1.2 .5 2.5 .5 .3 .5 2.1 .5 2 .5 -2.1 .5 -1.1 .5 2.2 .5 -.3 .5 .6 .5 -1.4 .5 3 .5 -1 .5 -1.9 .5 0 .5 -1.6 .5 .7 .5 -.2 .5 -2.6 .5 -.2 .5 .9 .5 1 .5 -2.9 .5 1.8 .5 2.9 .5 -.4 .5 -.2 .5 1.7 .5 -.6 .5 1.3 .5 1.7 .5 -1.2 .5 -.2 .5 1.5 .5 .3 .5 -.7 .5 -.3 .5 -1.3 .5 1.5 .5 .1 .5 1.5 .5 -1.6 .5 -1.1 .5 2.2 .5 -1.6 .5 2.1 .5 -1.2 .5 -.1 .5 .7 .5 -.3 .5 -.4 .5 -.8 .5 1.1 .5 .1 .5 -1.9 .5 1.3 .5 -.5 .5 3 .5 -2.2 .5 .3 .5 .6 .5 -1.5 .5 .7 .5 3 .5 -3.5 .5 -1 .5 .3 .5 .5 .5 .2 .5 .4 .5 .6 .5 -1 .5 .6 .5 .4 .5 -2.3 .5 2.7 .5 -1.6 .5 .7 .5 .1 .5 -.6 .5 -4.8 .5 4 .5 -.1 .5 3.5 .5 -2 .5 -3.8 .5 4.4 .5 .7 .5 -2.3 .5 1 .5 .6 .5 -1.9 .5 1 .5 .4 .5 .7 .5 -1.4 .5 3.1 .5 -2.1 .5 .9 .5 -.6 .5 -1 .5 .6 .5 1.2 .5 .1 .5 -3 .5 1.5 .5 -.3 .5 1.8 .5 -.7 .5 -1.5 .5 1.1 .5 -.3 .5 -1.6 .5 .8 .5 -.1 .5 1 .5 1 .5 -2.9 .5 .5 .5 .8 .5 1.7 .5 -2.2 .5 -.6 .5 -1 .5 1.2 .5 1 .5 -.1 .5 -2.2 .5 1.5 .5 .6 .5 -.4 .5 .3 .5 .6 .5 -3.5 .5 2 .5 .5 .5 -.6 .5 .7 .5 -3 .5 3.7 .5 -.4 .5 -2.5 .5 -1.1 .5 -.6 .5 -.5 .5 -.1 .5 -1.9 .5 1.1 .5 2.2 .5 .3 .5 1 .5 -1 .5 1.3 .5 0 .5 1.6 .5 .7 .5 -.5 .5 -.5 .5 .4 .5 -1.4 .5 1.9 .5 1.8 .5 -1.7 .5 -.8 .5 2 .5 .2 .5 -2.1 .5 1.4 .5 .9 .5 -1.4 .5 -1.1 .5 1.1 .5 -2.8 .5 2.7 .5 .1 .5 1.1 .5 -1.3 .5 .2 .5 .1 .5 -1.2 .5 .8 .5 -1.4 .5 1.4 .5 -.6 .5 1.9 .5 -2.6 .5 -.2 .5 4.1 .5 -2.8 .5 1.3 .5 -1.5 .5 .2 .5 -.6 .5 .7 .5 2.2 .5 0 .5 -2.9 .5 -.5 .5 1 .5 -.8 .5 .9 .5 -1.4 .5 2.3 .5 -.7 .5 -1 .5 -.4 .5 .6 .5 1 .5 .7 .5 -1.6 .5 1.5 .5 -1.7 .5 -1.1 .5 .6 .5 .2 .5 .5 .5 .8 .5 -.1 .5 -.2 .5 .5 .5 -.5 .5 -2.3 .5 2.5 .5 -1.3 .5 1.2 .5 -.4 .5 .3 .5 -.5 .5 -1.4 .5 1.5 .5 -.9 .5 .3 .5 -.1 .5 .3 .5 -.1 .5 -.6 .5 1.3 .5 -1.3 .5 1.2 .5 -.9 .5 -.8 .5 1.7 .5 -1 .5 1.8 .5 -1.1 .5 -1.3 .5 .2 .5 2.2 .5 -1.8 .5 .8 .5 -.8 .5 -.7 .5 -.9 .5 -.4 .5 0 .5 -1.5 .5 .1 .5 -.4 .5 -2.5 .5 .8 .5 -4.1 .5 -1.7 .5 -1.5 .5 -3 .5 -.5 .5 -3.4 .5 -3.7 .5 -3.8 .5 -2.8 .5 -3 .5 -3.3 .5 -3.5 .5 -2.7 .5 -1.1 .5 .8 .5 3 .5 -.2 .5 3.4 .5 2.1 .5 2.5 .5 3.9 .5 3 .5 3.3 .5 4.1 .5 1.8 .5 3.1 .5 1.1 .5 2.8 .5 1.2 .5 1.2 .5 .2 .5 .3 .5 .3 .5 -3.2 .5 .7 .5 -1.9 .5 -4.4 .5 -1.1 .5 -5.3 .5 -1.5 .5 -4.1 .5 1.6 .5 1 .5 2.5 .5 2.2 .5 7 .5 1.6 .5 3 .5 3.1 .5 1.3 .5 2 .5 1 .5 -1.6 .5 .2 .5 1.3 .5 -.5 .5 3.4 .5 -.8 .5 -.9 .5 .4 .5 -1.4 .5 -.2 .5 -.2 .5 1.2 .5 .5 .5 .2 .5 -3.6 .5 4.2 .5 -1.2 .5 .1 .5 0 .5 -.8 .5 .8 .5 .6 .5 -.8 .5 -1.9 .5 1.5 .5 1 .5 1.3 .5 -2.9 .5 .4 .5 -.2 .5 -1.2 .5 .5 .5 1.3 .5 -.8 .5 -1 .5 .4 .5 -.5 .5 .7 .5 1.8 .5 -1.4 .5 -2.7 .5 .7 .5 .2 .5 -1.7 .5 -2 .5 -1.4 .5 -1.6 .5 -3.6 .5 -1.3 .5 2.4 .5 2 .5 1.7 .5 .5 .5 1.5 .5 1.5 .5 1.5 .5 1 .5 -1.1 .5 2.8 .5 2.1 .5 -.2 .5 -.6 .5 -.6 .5 .3 .5 1 .5 -2.5 .5 1.5 .5 -.3 .5 1.6 .5 -.6 .5 .1 .5 -.6 .5 .6 .5 -1.6 .5 1.4 .5 -1.7 .5 .9 .5 -.6 .5 .8 .5 .3 .5 -.9 .5 1.4 .5 -1.8 .5 .9 .5 1.4 .5 -2.7 .5 1.3 .5 1.8 .5 .3 .5 -7.8 .5 6.3 .5 3.1 .5 -4.3 .5 2.4 .5 -1.1 .5 -2 .5 2.6 .5 -.7 .5 .1 .5 -1.4 .5 1.2 .5 -.8 .5 -.6 .5 -.1 .5 1.4 .5 .3 .5 -1.5 .5 1.4 .5 0 .5 -.1 .5 1.6 .5 -.7 .5 -.7 .5 1.4 .5 -2.7 .5 .7 .5 -.2 .5 2.7 .5 -2.3 .5 -2.5 .5 5.2 .5 -4.7 .5 2.6 .5 .2 .5 -1.1 .5 .7 .5 .2 .5 .1 .5 -.3 .5 2.6 .5 -2.2 .5 1.3 .5 -.4 .5 .7 .5 .2 .5 -3.5 .5 -2.2 .5 4 .5 -.5 .5 -.5 .5 1.9 .5 -1.2 .5 .2 .5 -.7 .5 2.3 .5 -1.9 .5 .5 .5 -.6 .5 .8 .5 1.2 .5 -.9 .5 -1.5 .5 -.5 .5 -.1 .5 1.8 .5 -.5 .5 .6 .5 -.8 .5 -.3 .5 1.4 .5 .5 .5 -1 .5 -.8 .5 -.4 .5 -.1 .5 2.5 .5 -2 .5 1.2 .5 -.3 .5 -1.3 .5 -1.9 .5 3.9 .5 -3.4 .5 1.6 .5 -.4 .5 .1 .5 1.8 .5 .2 .5 -1.3 .5 -.8 .5 1.4 .5 -.7 .5 -1.7 .5 1.9 .5 -2.2 .5 1.4 .5 1.9 .5 -2.1 .5 3.3 .5 -1.7 .5 .2 .5 -1.1 .5 -.2 .5 -.5 .5 -.9 .5 2.1 .5 -.2 .5 .8 .5 -.7 .5 -1.2 .5 .6 .5 .8 .5 1.2 .5 -1.9 .5 -.9 .5 -.9 .5 .2 .5 1.7 .5 -.1 .5 -.9 .5 .2 .5 -.7 .5 .9 .5 1.3 .5 -.3 .5 -1.9 .5 .3 .5 2.1 .5 -1 .5 -.4 .5 .4 .5 1.8 .5 -2.2 .5 -1.3 .5 2.3 .5 .1 .5 1.2 .5 -.5 .5 -.9 .5 -1.9 .5 1.9 .5 -1.2 .5 2.4 .5 -1.5 .5 .3 .5 -.6 .5 -.1 .5 1.2 .5 -1.8 .5 .7 .5 -1.2 .5 .1 .5 1.3 .5 -1.1 .5 -1 .5 -2 .5 -1.7 .5 -.3 .5 -1.4 .5 -5 .5 -.5 .5 -3.5 .5 -4.8 .5 .5 .5 1.8 .5 -.3 .5 2.1 .5 4.2 .5 .8 .5 4.7 .5 2.5 .5 -.5 .5 1.7 .5 .7 .5 -.2 .5 2.4 .5 1.3 .5 .5 .5 -1.9 .5 2.2 .5 -2.4 .5 2.1 .5 -1.6 .5 2.9 .5 -.2 .5 -3.4 .5 .8 .5 1.5 .5 -.3 .5 .1 .5 -2.4 .5 1.6 .5 -1.4 .5 1.7 .5 -.6 .5 .7 .5 -.5 .5 -.2 .5 .5 .5 -.6 .5 -2.3 .5 3.5 .5 .4 .5 -.3 .5 -1 .5 1.9 .5 -1.5 .5 .4 .5 -1.4 .5 .4 .5 2.6 .5 -2 .5 1.1 .5 -1.7 .5 -2.2 .5 -.4 .5 2.8 .5 -3.5 .5 1.5 .5 -1.9 .5 -1.6 .5 .3 .5 -1.5 .5 -1.9 .5 1 .5 .2 .5 1 .5 .2 .5 2.8 .5 1.7 .5 -2 .5 1.6 .5 1.6 .5 -.1 .5 0 .5 1.4 .5 -3.3 .5 3.1 .5 1.7 .5 -.9 .5 -2.9 .5 3.1 .5 0 .5 -.8 .5 -1.5 .5 1 .5 1.7 .5 -1.4 .5 .6 .5 .1 .5 -.6 .5 -.1 .5 .2 .5 -1.3 .5 .9 .5 .2 .5 -.8 .5 .4 .5 .1 .5 -.2 .5 -.3 .5 1.6 .5 -1.2 .5 -2.7 .5 .5 .5 2 .5 -.1 .5 -.4 .5 -.9 .5 1.3 .5 -1.5 .5 1.5 .5 1.3 .5 -.9 .5 -1.3 .5 1.3 .5 -2 .5 .7 .5 .2 .5 -.6 .5 -1 .5 -.7 .5 1.9 .5 2 .5 -2.1 .5 -.4 .5 .4 .5 -1.1 .5 1.8 .5 -.3 .5 .9 .5 -.6 .5 -.6 .5 1.2 .5 -.3 .5 -1.1 .5 1 .5 -.8 .5 .5 .5 1.4 .5 -1 .5 .2 .5 -1.9 .5 .9 .5 -.9 .5 -.3 .5 0 .5 2.6 .5 -1.2 .5 .7 .5 -1.7 .5 2 .5 -2.4 .5 -.3 .5 1.1 .5 .3 .5 -1.7 .5 1.4 .5 .5 .5 -.7 .5 1.7 .5 -1.2 .5 -.4 .5 .1 .5 1.4 .5 -1.6 .5 0 .5 0 .5 .1 .5 1.9 .5 -.5 .5 -2 .5 1.1 .5 -1.2 .5 .9 .5 -.2 .5 -.7 .5 1.2 .5 -2.1 .5 1.9 .5 -.2 .5 2 .5 -2.8 .5 .8 .5 .7 .5 .7 .5 -1.5 .5 -.7 .5 -.2 .5 .6 .5 -.3 .5 .7 .5 -1 .5 -.1 .5 -.2 .5 2 .5 -1.1 .5 1.7 .5 -1.8 .5 2.4 .5 -2.1 .5 1.6 .5 -1.9 .5 1.7 .5 -.1 .5 1 .5 -1.7 .5 -.8 .5 2.3 .5 -3.6 .5 2.7 .5 -.4 .5 -2 .5 .2 .5 2 .5 -.3 .5 -3.2 .5 1.4 .5 1 .5 -1.2 .5 .6 .5 -.4 .5 .6 .5 .8 .5 -1.8 .5 1.9 .5 -.1 .5 -.2 .5 -1.1 .5 1 .5 .9 .5 -1.7 .5 1.3 .5 -.2 .5 -.5 .5 1.8 .5 -1.4 .5 .2 .5 .5 .5 -.8 .5 -.4 .5 -1.1 .5 -.5 .5 3.5 .5 -2.1 .5 1.6 .5 -.9 .5 .2 .5 .4 .5 .2 .5 -.7 .5 .5 .5 -.8 .5 -.8 .5 .1 .5 1.7 .5 -.5 .5 1.1 .5 0 .5 -1.3 .5 -.1 .5 .9 .5 -.2 .5 -.9 .5 1.5 .5 .8 .5 -1.4 .5 -.1 .5 1.7 .5 -.6 .5 -.7 .5 0 .5 .3 .5 -.7 .5 .1 .5 .1 .5 1.5 .5 -.9 .5 -1.6 .5 0 .5 2.2 .5 -1.3 .5 -2 .5 3.1 .5 -1.2 .5 -.3 .5 .1 .5 -.8 .5 -.4 .5 -2.2 .5 1.6 .5 -1.8 .5 -.7 .5 -.5 .5 -.8 .5 -1.5 .5 1.1 .5 -1.4 .5 -.5 .5 .5 .5 -.6 .5 1.5 .5 .7 .5 1.1 .5 .1 .5 .6 .5 -.5 .5 -.3 .5 1.3 .5 2.1 .5 -.6 .5 .7 .5 1.4 .5 -.5 .5 1.4 .5 .2 .5 -1.3 .5 -.6 .5 1.6 .5 -.4 .5 -.5 .5 1 .5 -1.5 .5 .9 .5 -.1 .5 .7 .5 .7 .5 -.1 .5 .6 .5 -1.5 .5 .3 .5 -.8 .5 2.4 .5 -3.7 .5 2.3 .5 -.4 .5 .3 .5 .6 .5 -1.1 .5 1.3 .5 -.4 .5 0 .5 -.6 .5 .5 .5 1.1 .5 -3.2 .5 -.5 .5 .8 .5 1.5 .5 -.8 .5 .5 .5 -1.3 .5 2.2 .5 -1.3 .5 -1 .5 -.9 .5 2.6 .5 -1.6 .5 .3 .5 -1.5 .5 .7 .5 1.2 .5 .7 .5 .8 .5 -1.9 .5 -1.1 .5 .7 .5 .2 .5 .8 .5 0 .5 -.2 .5 .7 .5 -.1 .5 -.2 .5 -.6 .5 1.8 .5 -2.2 .5 -.3 .5 1 .5 .9 .5 .5 .5 -1.6 .5 1.1 .5 -.8 .5 .7 .5 -.3 .5 1.3 .5 -.4 .5 1.4 .5 -2.9 .5 .1 .5 .9 .5 2 .5 -2.7 .5 1.8 .5 0 .5 -.9 .5 -2.5 .5 .5 .5 1.4 .5 1.3 .5 -1.8 .5 .6 .5 1 .5 -.1 .5 -1.6 .5 .2 .5 .5 .5 1.3 .5 1.1 .5 -2.1 .5 .3 .5 -2 .5 .3 .5 1.6 .5 -.8 .5 -1.2 .5 2.2 .5 1.1 .5 -.7 .5 -1 .5 .2 .5 -.4 .5 -.6 .5 -.7 .5 2.6 .5 -2 .5 .6 .5 -1.8 .5 2.1 .5 -.8 .5 -2.1 .5 3.6 .5 -1.6 .5 .7 .5 -1.1 .5 .2 .5 -.7 .5 1.1 .5 -.2 .5 1.5 .5 -1.2 .5 1.2 .5 -.6 .5 -.3 .5 -2.8 .5 2.3 .5 .2 .5 1.7 .5 -1 .5 .3 .5 -2.5 .5 1.6 .5 1.5 .5 -.3 .5 -.6 .5 .2 .5 -1.3 .5 1.9 .5 -1.3 .5 1.5 .5 -2.7 .5 2 .5 -.2 .5 1 .5 -1.7 .5 1.7 .5 -1.7 .5 -.1 .5 1.5 .5 -.6 .5 -.8 .5 1.2 .5 -1.7 .5 1.8 .5 -2.6 .5 1.9 .5 0 .5 .3 .5 -1.3 .5 -.5 .5 .3 .5 .3 .5 -1.1 .5 2.8 .5 -1.5 .5 -.8 .5 .3 .5 -.5 .5 .2 .5 -.5 .5 .3 .5 1.8 .5 -1.7 .5 .9 .5 -.9 .5 0 .5 -.5 .5 .3 .5 -1.5 .5 3.1 .5 -.5 .5 0 .5 -.9 .5 .6 .5 2.5 .5 -4.1 .5 1.5 .5 -1.2 .5 .3 .5 1.3 .5 -2.2 .5 1 .5 -.2 .5 -.9 .5 -.2 .5 .1 .5 .6 .5 .8 .5 -.4 .5 .3 .5 2.3 .5 -1.3 .5 -.6 .5 -.1 .5 1.6 .5 -3.3 .5 .9 .5 .9 .5 1.5 .5 0 .5 -.7 .5 -.8 .5 -1 .5 2.1 .5 -1.1 .5 .5 .5 1.4 .5 -3.1 .5 1.1 .5 .4 .5 -.6 .5 -.3 .5 .8 .5 -1.5 .5 1 .5 .3 .5 -1.4 .5 1.8 .5 .7 .5 -.2 .5 .7 .5 -.9 .5 -.4 .5 -1.1 .5 .2 .5 0 .5 -.3 .5 1.2 .5 .4 .5 -1.1 .5 .8 .5 -.8 .5 .7 .5 -1 .5 1.1 .5 -.8 .5 2.2 .5 -1.2 .5 1.6 .5 -.8 .5 -1.9 .5 1.2 .5 1.2 .5 -1.8 .5 .8 .5 .7 .5 -1.6 .5 -.4 .5 .2 .5 1.5 .5 -1 .5 -1.3 .5 .4 .5 1.7 .5 -2.2 .5 1.2 .5 -.1 .5 0 .5 1.7 .5 -1.1 .5 -.6 .5 0 .5 -1.9 .5 1 .5 1.1 .5 -1.1 .5 .6 .5 1.5 .5 -4 .5 2.2 .5 1.2 .5 .9 .5 -1.8 .5 .2 .5 1 .5 -.1 .5 -2.3 .5 1.5 .5 -.8 .5 .6 .5 -1 .5 1.1 .5 -.2 .5 -1.5 .5 2 .5 -1.1 .5 .6 .5 .2 .5 .7 .5 0 .5 .2 .5 .3 .5 -1.1 .5 0 .5 -1.6 .5 1.6 .5 -.2 .5 1.6 .5 -.9 .5 .9 .5 -2.3 .5 1.1 .5 -.6 .5 .8 .5 -1.6 .5 1.5 .5 -.6 .5 2.1 .5 -1.6 .5 .5 .5 -3.3 .5 5.6 .5 -3.6 .5 -1 .5 .8 .5 2.2 .5 -.9 .5 -1.1 .5 3.4 .5 -2.4 .5 -.1 .5 .3 .5 .3 .5 .5 .5 -.4 .5 -.7 .5 -.4 .5 -.2 .5 -3.2 .5 1.7 .5 1.5 .5 -1.5 .5 .9 .5 .4 .5 1.9 .5 .2 .5 -1.6 .5 -.6 .5 1 .5 1.7 .5 -3.5 .5 1.2 .5 2.1 .5 -2.8 .5 .8 .5 -1.3 .5 .7 .5 .2 .5 1.1 .5 1 .5 0 .5 -1.8 .5 -.7 .5 -.1 .5 2.1 .5 .3 .5 -1.4 .5 -.2 .5 .9 .5 -1.4 .5 .9 .5 .5 .5 0 .5 -.8 .5 -2.3 .5 3 .5 -.5 .5 -.7 .5 1.4 .5 -1.8 .5 -.1 .5 1 .5 -.8 .5 -.8 .5 2.3 .5 -.4 .5 .6 .5 -2.2 .5 .5 .5 0 .5 2.8 .5 -3 .5 .1 .5 1.8 .5 -2.4 .5 3.1 .5 -2.7 .5 .3 .5 1.5 .5 -1.1 .5 .8 .5 .2 .5 -1 .5 -.1 .5 -1.4 .5 1.3 .5 1.1 .5 .4 .5 -1 .5 -.5 .5 -.3 .5 1.5 .5 .2 .5 -1.9 .5 2.1 .5 .5 .5 -1.7 .5 -.4 .5 1.5 .5 -2.7 .5 1.3 .5 -1.5 .5 .3 .5 -1.6 .5 3.7 .5 -.4 .5 -.6 .5 1.8 .5 -1 .5 .7 .5 -1.7 .5 -3.2 .5 2.6 .5 .5 .5 -1.4 .5 2.8 .5 -1.4 .5 -4.2 .5 6.1 .5 -.6 .5 -1.6 .5 -.2 .5 -1 .5 3.3 .5 -1.2 .5 -.8 .5 1.2 .5 .7 .5 -1.9 .5 1.4 .5 -1.2 .5 2.1 .5 -2.3 .5 .4 .5 .8 .5 .9 .5 -1.1 .5 .3 .5 -.8 .5 .4 .5 .1 .5 0 .5 -.1 .5 .3 .5 .5 .5 -1.1 .5 .2 .5 1.1 .5 .5 .5 -1.3 .5 -.7 .5 2 .5 -1.2 .5 -.1 .5 1.6 .5 .2 .5 -.3 .5 .2 .5 -1.5 .5 1.4 .5 -.1 .5 -.4 .5 .6 .5 .3 .5 .3 .5 -2.4 .5 -1.4 .5 1.9 .5 -.2 .5 .5 .5 -.9 .5 .6 .5 -1.9 .5 3 .5 -1.1 .5 -.5 .5 .7 .5 -.2 .5 2 .5 -.3 .5 -1.4 .5 2 .5 -2.4 .5 2.3 .5 -.6 .5 -1.1 .5 .7 .5 .6 .5 -1.5 .5 .8 .5 -2.5 .5 0 .5 1.9 .5 -.6 .5 -.2 .5 -1.7 .5 1.9 .5 1 .5 -1.8 .5 -.3 .5 0 .5 1.2 .5 .4 .5 -2.5 .5 -1.1 .5 2.5 .5 1.8 .5 -1.8 .5 -.6 .5 .9 .5 -.1 .5 -.4 .5 .3 .5 1.3 .5 -1.2 .5 -.6 .5 -.8 .5 .9 .5 -1.9 .5 1 .5 -.3 .5 -.2 .5 .5 .5 .3 .5 .1 .5 1.7 .5 .2 .5 -1.1 .5 -.3 .5 -.3 .5 1.6 .5 .3 .5 -1.9 .5 .8 .5 .6 .5 -2.7 .5 2.6 .5 -2.1 .5 1 .5 -.8 .5 1 .5 2 .5 -.2 .5 .6 .5 -4.4 .5 -.9 .5 4.1 .5 -2.1 .5 .4 .5 -.3 .5 .3 .5 .2 .5 1.2 .5 -.6 .5 .2 .5 -2.3 .5 1.1 .5 -1.1 .5 .3 .5 .7 .5 1.2 .5 -2.3 .5 1.6 .5 -.5 .5 1.5 .5 1 .5 -1.9 .5 .1 .5 .1 .5 2.5 .5 -3.1 .5 .1 .5 .9 .5 .2 .5 2 .5 -1.3 .5 -.6 .5 -.1 .5 0 .5 .8 .5 .5 .5 -1.2 .5 1.3 .5 -1 .5 .8 .5 -1.5 .5 .3 .5 .5 .5 1.3 .5 .4 .5 -1.7 .5 -1.8 .5 .5 .5 .5 .5 1.2 .5 .3 .5 -1.4 .5 -1.5 .5 2.8 .5 .2 .5 -.3 .5 .4 .5 -.6 .5 .4 .5 -2.9 .5 4.8 .5 -3 .5 -1.3 .5 .3 .5 .8 .5 .9 .5 1 .5 -1.2 .5 .1 .5 -1.1 .5 -1 .5 2.6 .5 -1.6 .5 .8 .5 -.2 .5 -1.7 .5 .2 .5 0 .5 2.5 .5 -1.2 .5 -.4 .5 -.3 .5 1.9 .5 -.5 .5 -2.8 .5 1.4 .5 .7 .5 .2 .5 -.1 .5 .7 .5 .4 .5 -1.3 .5 .1 .5 .3 .5 1.3 .5 -2 .5 .8 .5 2.4 .5 -2.6 .5 -.1 .5 1.1 .5 -2.9 .5 2.9 .5 -.7 .5 -.5 .5 -1.5 .5 3.3 .5 -2.2 .5 .4 .5 -.9 .5 -3.4 .5 4.6 .5 -.4 .5 -.3 .5 2.4 .5 -1.6 .5 .1 .5 1 .5 -1.3 .5 .7 .5 -2.3 .5 .9 .5 .7 .5 -.4 .5 0 .5 -.2 .5 .4 .5 -1.4 .5 1 .5 -1.3 .5 .7 .5 .4 .5 -.7 .5 .6 .5 -1 .5 1.4 .5 .1 .5 -2.8 .5 .5 .5 .8 .5 -.2 .5 .8 .5 -.4 .5 .7 .5 .7 .5 -2.9 .5 2.3 .5 -1.8 .5 2.3 .5 -.7 .5 .8 .5 -.6 .5 1.2 .5 .3 .5 -.9 .5 -2.1 .5 1.3 .5 -.6 .5 -1.2 .5 1.4 .5 .6 .5 -1.1 .5 1.3 .5 1.2 .5 .1 .5 -1.9 .5 -1.2 .5 .8 .5 -1.1 .5 1.6 .5 -.9 .5 1 .5 -1 .5 1.7 .5 .1 .5 -1.9 .5 .6 .5 1.1 .5 0 .5 -1.1 .5 -1 .5 .5 .5 .8 .5 -.2 .5 .5 .5 -2.9 .5 2.3 .5 1.6 .5 -1.1 .5 .7 .5 -1 .5 1 .5 .2 .5 -.5 .5 .9 .5 -1.8 .5 -.5 .5 1.2 .5 1.1 .5 -.7 .5 .5 .5 -1.6 .5 -.3 .5 -.8 .5 -2.8 .5 5 .5 1.9 .5 -3 .5 1.3 .5 -.2 .5 .2 .5 -.3 .5 0 .5 -3.5 .5 2.3 .5 -.7 .5 2.7 .5 -1.5 .5 2 .5 -.3 .5 -.6 .5 .6 .5 -2 .5 -.1 .5 1.5 .5 .3 .5 -.7 .5 -1 .5 .3 .5 .5 .5 -2.8 .5 1.3 .5 .3 .5 -.5 .5 .3 .5 .1 .5 1.7 .5 -.2 .5 -2.2 .5 -1.6 .5 1.8 .5 .7 .5 -3 .5 .7 .5 -3.6 .5 .3 .5 -.5 .5 -2.2 .5 2.1 .5 -3.2 .5 -1.7 .5 1 .5 -.2 .5 .8 .5 -2 .5 4.6 .5 -1.4 .5 1.3 .5 1.6 .5 -1.4 .5 2.2 .5 -.4 .5 .9 .5 2.2 .5 1.4 .5 -.9 .5 3.3 .5 -1.6" fill="none" stroke="#0000ff" stroke-width="2.8" stroke-linejoin="round"/>
<path d="M105.2 1133.8l.5 1.2 .5 1.2 .5 -.5 .5 -1.5 .5 0 .5 1.1 .5 .1 .5 -1.2 .5 -2.1 .5 2.6 .5 .9 .5 -.1 .5 -2.1 .5 .1 .5 2.1 .5 -.7 .5 -.9 .5 .5 .5 1.2 .5 -1.1 .5 -.7 .5 2.2 .5 -3.1 .5 .8 .5 -.1 .5 .6 .5 -1.6 .5 .4 .5 -1.4 .5 .4 .5 2.1 .5 -.4 .5 0 .5 1.1 .5 -1.2 .5 1.3 .5 .2 .5 -.6 .5 -2.2 .5 -.3 .5 1.8 .5 -.8 .5 .4 .5 .1 .5 .5 .5 .2 .5 -.7 .5 2.5 .5 -.8 .5 -1 .5 .2 .5 -.3 .5 .8 .5 -1 .5 3.1 .5 -1.2 .5 -5.7 .5 6.2 .5 -2 .5 .8 .5 -.3 .5 -1.8 .5 2.7 .5 -1.4 .5 0 .5 2.7 .5 -2.1 .5 1.9 .5 -.3 .5 -.8 .5 1 .5 -1.5 .5 .5 .5 -2.1 .5 .1 .5 2.5 .5 -1.1 .5 .2 .5 .3 .5 1.4 .5 .2 .5 -2.5 .5 0 .5 1.2 .5 -.1 .5 1.4 .5 -2.1 .5 -.4 .5 -.2 .5 2.1 .5 -.2 .5 -.3 .5 -1.2 .5 -.6 .5 .4 .5 .1 .5 -1.3 .5 1 .5 -.3 .5 1.7 .5 -.5 .5 -1.2 .5 .9 .5 -.8 .5 .6 .5 1.4 .5 .4 .5 -1.7 .5 3.4 .5 -2.5 .5 -.5 .5 .3 .5 -.5 .5 1.4 .5 .2 .5 1.4 .5 -2.7 .5 2.1 .5 -1.5 .5 -.6 .5 1 .5 -2.2 .5 3.3 .5 -.9 .5 -.7 .5 -.1 .5 -.5 .5 .4 .5 .8 .5 1.7 .5 -1.9 .5 -.9 .5 -.4 .5 .2 .5 0 .5 -.5 .5 .2 .5 1.6 .5 -.4 .5 -.6 .5 -1.9 .5 2.6 .5 -.8 .5 0 .5 1.6 .5 1.1 .5 -1.2 .5 -1.1 .5 1.3 .5 -1.4 .5 .3 .5 0 .5 -.4 .5 .1 .5 .6 .5 .6 .5 -2 .5 -.4 .5 -.6 .5 1.5 .5 -1 .5 1.1 .5 -1.4 .5 1.8 .5 -.8 .5 .7 .5 0 .5 .5 .5 -1.8 .5 .1 .5 3.6 .5 -2.8 .5 3 .5 -2.3 .5 -1.4 .5 1.8 .5 -.6 .5 .7 .5 .4 .5 -.3 .5 -.3 .5 -2.5 .5 -.6 .5 2.8 .5 -1 .5 .3 .5 -.3 .5 -.3 .5 1.7 .5 -1.5 .5 .4 .5 -.8 .5 .1 .5 .8 .5 .1 .5 1.3 .5 -1.9 .5 1.4 .5 -.6 .5 -.1 .5 1.6 .5 -.8 .5 -1 .5 .4 .5 -1.9 .5 1 .5 1 .5 -.8 .5 -.2 .5 0 .5 1.7 .5 -1.5 .5 -1.8 .5 2.2 .5 -2.7 .5 3.4 .5 -1.5 .5 -.7 .5 .3 .5 1.4 .5 -1.5 .5 1.6 .5 -1.5 .5 .8 .5 -.4 .5 0 .5 .8 .5 -.7 .5 -.7 .5 1.5 .5 -.7 .5 0 .5 -1.5 .5 .6 .5 -.7 .5 1.5 .5 .4 .5 -1 .5 0 .5 .9 .5 -2 .5 2 .5 -.8 .5 -1.3 .5 1.5 .5 .4 .5 -.6 .5 -1.5 .5 .4 .5 .8 .5 -1 .5 2.6 .5 -2.2 .5 -1.5 .5 .1 .5 2.7 .5 -1 .5 .5 .5 -.4 .5 .5 .5 -1 .5 -.4 .5 3.5 .5 -2.7 .5 -.7 .5 1 .5 -.2 .5 .4 .5 .2 .5 .4 .5 -.6 .5 -1 .5 3.1 .5 -.9 .5 -.4 .5 .2 .5 .5 .5 -1.5 .5 .2 .5 2 .5 -1.8 .5 1.7 .5 -1 .5 .2 .5 -1.7 .5 .8 .5 1.4 .5 .1 .5 -.5 .5 .2 .5 .3 .5 1 .5 -1.5 .5 -.1 .5 -1.6 .5 1.8 .5 2.7 .5 -3.3 .5 2.7 .5 -2.1 .5 .4 .5 -.4 .5 -.5 .5 .4 .5 .4 .5 -1.2 .5 .4 .5 -.4 .5 .1 .5 .9 .5 -1.7 .5 1.8 .5 -1.5 .5 1.6 .5 -1.3 .5 .9 .5 -.6 .5 1 .5 1.4 .5 -1.8 .5 -2.5 .5 3.6 .5 -1.8 .5 1.1 .5 0 .5 -1.2 .5 .8 .5 -1.5 .5 1 .5 -.1 .5 -.4 .5 .5 .5 -1.4 .5 2.8 .5 -2.6 .5 .3 .5 -.2 .5 1.3 .5 -1.7 .5 1.5 .5 3.1 .5 -2.1 .5 0 .5 -2 .5 1.8 .5 -1.4 .5 -.1 .5 .5 .5 1.6 .5 0 .5 -.5 .5 -1.1 .5 -.1 .5 -.1 .5 2.5 .5 -.2 .5 -1.5 .5 0 .5 -1.1 .5 1.7 .5 .7 .5 1.5 .5 -.2 .5 -1.3 .5 -.7 .5 -.8 .5 -1.2 .5 1.4 .5 1 .5 1.4 .5 .3 .5 -1.3 .5 .7 .5 -5.4 .5 4.5 .5 1.3 .5 -1.4 .5 -.8 .5 1.9 .5 .3 .5 -1.1 .5 -1.3 .5 2 .5 -.2 .5 -4.2 .5 2.7 .5 .8 .5 -1 .5 1.1 .5 -.6 .5 -3.1 .5 3 .5 -.3 .5 1.6 .5 -.3 .5 -1.1 .5 -.8 .5 1 .5 -.1 .5 -.9 .5 .5 .5 -.5 .5 .4 .5 .4 .5 -1.4 .5 -.1 .5 .2 .5 1 .5 -.7 .5 -1.8 .5 -.8 .5 -2.4 .5 .1 .5 -5.4 .5 4 .5 -1.5 .5 -.5 .5 2.2 .5 1.9 .5 .8 .5 .6 .5 2.3 .5 -1.1 .5 1.5 .5 .2 .5 -.2 .5 1.3 .5 -.6 .5 .9 .5 -7.8 .5 6.2 .5 -.5 .5 .8 .5 -.8 .5 1 .5 -.1 .5 .8 .5 -.7 .5 -1 .5 0 .5 1.1 .5 1 .5 -2.1 .5 2.7 .5 -1.7 .5 .5 .5 -1 .5 1 .5 -1.8 .5 .2 .5 -.4 .5 .4 .5 .2 .5 .6 .5 -1 .5 .4 .5 .2 .5 -1.4 .5 -.2 .5 3.3 .5 -2.8 .5 .6 .5 1.1 .5 -2 .5 .8 .5 .7 .5 1.3 .5 -.2 .5 -1.5 .5 -.2 .5 1.8 .5 -1 .5 -1 .5 1 .5 1 .5 -.6 .5 .5 .5 2.1 .5 -1.6 .5 -.3 .5 0 .5 2.2 .5 -2.4 .5 -.1 .5 -1.5 .5 .9 .5 1.9 .5 .8 .5 -.8 .5 -.4 .5 -1.4 .5 -.6 .5 .9 .5 -1 .5 2.9 .5 -1.8 .5 -.3 .5 1.4 .5 -2.3 .5 -.2 .5 1.3 .5 .9 .5 -1.8 .5 -.5 .5 1.6 .5 -.4 .5 1.4 .5 -1.1 .5 .1 .5 -.2 .5 1.8 .5 -2.1 .5 -.7 .5 .2 .5 -.8 .5 .6 .5 -.4 .5 3.5 .5 -1.8 .5 -.7 .5 1.2 .5 -.4 .5 -.6 .5 -.3 .5 -2.1 .5 3.6 .5 .4 .5 .7 .5 -2.6 .5 -.3 .5 .1 .5 .4 .5 1.2 .5 -.7 .5 .9 .5 -1.1 .5 .1 .5 -1.4 .5 .9 .5 1.6 .5 .3 .5 .8 .5 -2.1 .5 1.7 .5 -3 .5 1.4 .5 -1 .5 1.1 .5 .5 .5 -2 .5 2.3 .5 -1.3 .5 -.7 .5 1.1 .5 -1 .5 -.7 .5 2.7 .5 -.9 .5 -1.2 .5 .3 .5 -1.3 .5 1.7 .5 -1.5 .5 2.5 .5 -1.8 .5 1 .5 -1.6 .5 -.2 .5 1.2 .5 1.5 .5 -2.1 .5 1.2 .5 1.1 .5 -2.6 .5 2.6 .5 .8 .5 -2.9 .5 2.2 .5 -.8 .5 .5 .5 0 .5 -1.2 .5 1 .5 .9 .5 -1.2 .5 -1.4 .5 1.9 .5 -1.2 .5 -.1 .5 .9 .5 -.4 .5 1.5 .5 -2.1 .5 .6 .5 .6 .5 -1.6 .5 1.4 .5 -.7 .5 .5 .5 -.3 .5 -.1 .5 .1 .5 -.4 .5 1.1 .5 -1.1 .5 .6 .5 -.6 .5 -.6 .5 -1.7 .5 3 .5 -.9 .5 .7 .5 -.9 .5 -.1 .5 .8 .5 -1.7 .5 1.2 .5 -.6 .5 0 .5 .1 .5 1.7 .5 .2 .5 -2.1 .5 -1.1 .5 .3 .5 1.5 .5 2.6 .5 -.9 .5 -1.4 .5 .8 .5 -2.4 .5 3 .5 -1.8 .5 -1.5 .5 1.2 .5 -1.1 .5 1.2 .5 2.6 .5 -1.6 .5 .3 .5 -2.7 .5 2.2 .5 -.3 .5 .9 .5 .7 .5 -.1 .5 -1 .5 -1.3 .5 .6 .5 .9 .5 -1.2 .5 .1 .5 -.7 .5 2.1 .5 -1.4 .5 -.2 .5 2.6 .5 -3.7 .5 .4 .5 -.2 .5 3.3 .5 -2.7 .5 .4 .5 -.1 .5 -.9 .5 1.8 .5 -.5 .5 -.1 .5 0 .5 2 .5 -.6 .5 -2.1 .5 .4 .5 -1.4 .5 2.5 .5 .8 .5 -.6 .5 -.5 .5 .2 .5 -1 .5 -1.2 .5 .4 .5 1.7 .5 -1.3 .5 .9 .5 .2 .5 -.4 .5 .3 .5 0 .5 .1 .5 -2.8 .5 2.7 .5 -1.4 .5 -.9 .5 -.4 .5 -1.1 .5 -.6 .5 1.8 .5 -6.4 .5 0 .5 -1.1 .5 .3 .5 -5.5 .5 .4 .5 -.2 .5 .2 .5 .7 .5 1.3 .5 3.3 .5 3.2 .5 2.5 .5 1.7 .5 -1.6 .5 2 .5 -.4 .5 .2 .5 .1 .5 1.6 .5 .1 .5 -2.1 .5 -.5 .5 3.3 .5 -1.4 .5 .8 .5 -.1 .5 -1.2 .5 1.2 .5 .9 .5 -1.4 .5 .5 .5 -.6 .5 -.4 .5 2 .5 -.6 .5 1.1 .5 -2.9 .5 1 .5 .1 .5 -.4 .5 0 .5 1.3 .5 -.9 .5 -.2 .5 -1 .5 -1 .5 1.6 .5 -.5 .5 2.5 .5 .3 .5 -3 .5 .3 .5 1.3 .5 2 .5 -2.6 .5 -.5 .5 -.3 .5 -.9 .5 2.8 .5 -2.9 .5 1.2 .5 .8 .5 -1.7 .5 .4 .5 1.2 .5 -2.1 .5 -.5 .5 .9 .5 1.6 .5 -.1 .5 -.8 .5 0 .5 -.6 .5 1.9 .5 -.2 .5 -.1 .5 .1 .5 -.4 .5 -.3 .5 .4 .5 .4 .5 -.8 .5 -.6 .5 .5 .5 2.1 .5 -.3 .5 .8 .5 -1.1 .5 -1.7 .5 .6 .5 1.9 .5 -3.2 .5 .6 .5 -.5 .5 1.2 .5 .2 .5 .7 .5 .9 .5 -1.8 .5 .1 .5 .4 .5 .8 .5 1 .5 -.9 .5 -.3 .5 0 .5 -.2 .5 0 .5 -2.2 .5 1.2 .5 3.2 .5 -3 .5 3.1 .5 -.7 .5 -2.3 .5 2.1 .5 -1.9 .5 2 .5 .2 .5 -1.3 .5 -.1 .5 .5 .5 .8 .5 -2 .5 1.1 .5 -.2 .5 2.4 .5 -3.2 .5 -.1 .5 -.4 .5 .6 .5 .5 .5 -1.6 .5 1.2 .5 -2.3 .5 .9 .5 -2.7 .5 -3 .5 .1 .5 -4.8 .5 -1.3 .5 -2.8 .5 0 .5 2.1 .5 2.7 .5 2 .5 2.5 .5 2.1 .5 3.4 .5 -.7 .5 2 .5 -2.6 .5 2.3 .5 -1.5 .5 3.3 .5 0 .5 -2.1 .5 1.1 .5 .1 .5 -.9 .5 .5 .5 .1 .5 .9 .5 -1.2 .5 -.5 .5 1.5 .5 -.2 .5 -.3 .5 1.8 .5 -.5 .5 -.9 .5 -.7 .5 2.1 .5 -1.7 .5 1.5 .5 -1.4 .5 2.1 .5 -3.1 .5 2.4 .5 -.5 .5 .7 .5 -1.7 .5 1 .5 -1.1 .5 .4 .5 .6 .5 .5 .5 -1.2 .5 4 .5 -3 .5 -2.3 .5 1.5 .5 -1 .5 1 .5 -.8 .5 .7 .5 -1.3 .5 3.1 .5 -2.5 .5 .4 .5 -1.9 .5 2.2 .5 -2.2 .5 -.9 .5 -.8 .5 -.3 .5 -1.1 .5 -2.3 .5 -2.1 .5 .5 .5 1.2 .5 .7 .5 .4 .5 .6 .5 2.4 .5 3.2 .5 -1.5 .5 .7 .5 1.8 .5 -2.1 .5 .8 .5 2.6 .5 -1 .5 -.6 .5 -2 .5 2.1 .5 -.9 .5 -.4 .5 -.5 .5 1 .5 .3 .5 -.4 .5 2.7 .5 -2.5 .5 .1 .5 .2 .5 -1.1 .5 1 .5 .2 .5 -1.1 .5 1.2 .5 -1.4 .5 2 .5 -1.8 .5 2.6 .5 -1.2 .5 .6 .5 -2.4 .5 1.9 .5 -2.4 .5 1.3 .5 .7 .5 -1.8 .5 2.5 .5 .1 .5 .6 .5 .2 .5 -3 .5 1.9 .5 -.6 .5 .5 .5 .1 .5 -2.8 .5 3.8 .5 -3 .5 .5 .5 1.7 .5 -1.9 .5 .6 .5 1.2 .5 -2.1 .5 1.8 .5 -1.1 .5 -.8 .5 2.4 .5 -1 .5 -.1 .5 1.7 .5 -2.5 .5 1.7 .5 -1.4 .5 1.5 .5 -1.7 .5 3.4 .5 -3.9 .5 1.5 .5 -1 .5 -.9 .5 .2 .5 .2 .5 0 .5 -.9 .5 2.3 .5 -.3 .5 -1.1 .5 -.8 .5 .8 .5 1.4 .5 -.2 .5 .4 .5 -1.3 .5 .5 .5 -.9 .5 -.5 .5 1.3 .5 -2.2 .5 -.3 .5 -.4 .5 -1.2 .5 -.7 .5 2.2 .5 -2.6 .5 -.9 .5 -2.3 .5 -.8 .5 -2.3 .5 -.1 .5 .5 .5 1.3 .5 1.3 .5 2.9 .5 1.6 .5 1 .5 1.9 .5 .6 .5 -1.9 .5 2 .5 -.2 .5 2.1 .5 -6 .5 2 .5 3.1 .5 .5 .5 .6 .5 -5.1 .5 3.9 .5 -.3 .5 .2 .5 -.6 .5 -1.6 .5 4 .5 -1.2 .5 -2.3 .5 .6 .5 1.4 .5 -.5 .5 .1 .5 1 .5 .5 .5 -1 .5 0 .5 1.7 .5 -1.5 .5 -1.8 .5 1.5 .5 .5 .5 -1.6 .5 .9 .5 -.2 .5 -.6 .5 .2 .5 -.2 .5 -.4 .5 1.7 .5 -1.5 .5 0 .5 .4 .5 -1.3 .5 2.9 .5 -1.7 .5 1.9 .5 -2.8 .5 .5 .5 1 .5 .6 .5 -1 .5 -1.7 .5 -1 .5 -1.3 .5 -.3 .5 -2.8 .5 -4.6 .5 -3.4 .5 -.9 .5 -3.8 .5 -5.5 .5 1.9 .5 0 .5 .6 .5 2 .5 3.5 .5 4.1 .5 3.5 .5 .4 .5 4 .5 1.8 .5 .3 .5 .4 .5 -.4 .5 1.3 .5 .8 .5 .7 .5 -.5 .5 -.2 .5 -.5 .5 .2 .5 0 .5 1.8 .5 -1.8 .5 -1.1 .5 2 .5 -.8 .5 .7 .5 .1 .5 -.6 .5 .9 .5 -.6 .5 1.3 .5 -1 .5 -1.2 .5 1.4 .5 -1 .5 2.3 .5 -.3 .5 -.5 .5 -.2 .5 .1 .5 -2.7 .5 1.5 .5 .3 .5 -1.7 .5 1.1 .5 .7 .5 .4 .5 -2.7 .5 -1.1 .5 1.5 .5 .4 .5 -4.5 .5 -1.3 .5 -5.1 .5 -3.7 .5 -9.9 .5 -9.3 .5 -10.1 .5 -9.1 .5 -4.8 .5 0 .5 6.5 .5 6.6 .5 10.1 .5 10.2 .5 7.6 .5 8.1 .5 2.3 .5 2.1 .5 4.2 .5 .1 .5 .8 .5 -.7 .5 -.5 .5 .2 .5 2.6 .5 -1.3 .5 1.3 .5 -.6 .5 1 .5 -1.1 .5 1.4 .5 -.1 .5 -2.2 .5 .8 .5 -.3 .5 .3 .5 .8 .5 -1 .5 -.2 .5 0 .5 .6 .5 -3 .5 3.4 .5 -1 .5 2.1 .5 -1.5 .5 .5 .5 -.1 .5 1 .5 -1.3 .5 .5 .5 -2.4 .5 1.2 .5 .3 .5 1.4 .5 -.7 .5 -.1 .5 -.4 .5 1.9 .5 -2.2 .5 1.4 .5 -.3 .5 1.1 .5 -.2 .5 -2.1 .5 1.4 .5 -.8 .5 .2 .5 1.9 .5 -2.6 .5 1.3 .5 -5.3 .5 2.6 .5 1.6 .5 -.7 .5 .6 .5 -.2 .5 -1.3 .5 1.8 .5 .5 .5 -.1 .5 .8 .5 -1.1 .5 1 .5 -2.7 .5 1.5 .5 .6 .5 -.2 .5 1.6 .5 -2.4 .5 .1 .5 1.4 .5 -.7 .5 -.7 .5 .3 .5 2.1 .5 -1 .5 -.1 .5 .2 .5 -1.2 .5 .5 .5 -3.7 .5 3.4 .5 .5 .5 -.8 .5 .3 .5 .7 .5 -.5 .5 -1.3 .5 -1 .5 1.3 .5 1.7 .5 -3.1 .5 3.2 .5 -1.3 .5 .2 .5 -.1 .5 .4 .5 -.6 .5 1.2 .5 -2.1 .5 1.3 .5 .1 .5 -.4 .5 -.7 .5 0 .5 3.1 .5 -1.5 .5 .3 .5 -.4 .5 -2.2 .5 2.1 .5 .9 .5 -2.5 .5 .9 .5 -.5 .5 1.6 .5 -2.1 .5 1 .5 -1.6 .5 1.5 .5 -.2 .5 -.6 .5 .4 .5 .3 .5 -.9 .5 .2 .5 .2 .5 1.1 .5 -.8 .5 -.8 .5 -.1 .5 .7 .5 -2.8 .5 3.1 .5 -1.3 .5 2.3 .5 -4 .5 .6 .5 .5 .5 0 .5 -.1 .5 .9 .5 -1 .5 -.8 .5 -1.7 .5 -1.5 .5 .2 .5 -2.2 .5 -2.2 .5 -1.5 .5 -4.1 .5 -4.1 .5 -5.8 .5 -2.8 .5 -4.6 .5 -7.1 .5 -5.9 .5 -8.8 .5 -3.5 .5 -8.2 .5 -3.3 .5 -2.9 .5 -1.9 .5 -2.9 .5 4.3 .5 2 .5 3.3 .5 7.3 .5 4.5 .5 5.7 .5 7.3 .5 4.8 .5 1.9 .5 8 .5 4.7 .5 1.5 .5 3.2 .5 1.9 .5 -1 .5 3.4 .5 .3 .5 .8 .5 -1.6 .5 1.5 .5 -1.3 .5 -.3 .5 .3 .5 .1 .5 -.1 .5 .6 .5 -.8 .5 -2 .5 2.1 .5 .6 .5 -.9 .5 1.2 .5 1.4 .5 .6 .5 1.6 .5 -.7 .5 .4 .5 -.6 .5 3.3 .5 -1.4 .5 3 .5 -.8 .5 0 .5 2.2 .5 .8 .5 -1.2 .5 1 .5 2.4 .5 -1.1 .5 .4 .5 .7 .5 -.2 .5 .2 .5 .3 .5 .4 .5 2.3 .5 -2.4 .5 1.3 .5 -1.3 .5 -1.9 .5 .3 .5 2.2 .5 .7 .5 -.2 .5 .4 .5 -2 .5 .5 .5 .8 .5 -.4 .5 -3.4 .5 2.9 .5 -1 .5 -1.8 .5 1.5 .5 -3.8 .5 -1.5 .5 -1 .5 -3.3 .5 -.8 .5 -7.5 .5 -1.2 .5 -1.2 .5 -1.1 .5 .7 .5 2.6 .5 1 .5 -.4 .5 -4.9 .5 -.6 .5 -8.5 .5 -8.6 .5 -11.2 .5 -11.2 .5 -5.1 .5 -.5 .5 5.1 .5 12.5 .5 9.3 .5 12.8 .5 10.7 .5 2.4 .5 8.7 .5 2.8 .5 1.4 .5 2.3 .5 -1.1 .5 .5 .5 2.4 .5 -1.4 .5 .1 .5 2.5 .5 -1.8 .5 .2 .5 2.4 .5 -2.5 .5 2.1 .5 .8 .5 -1.1 .5 -1.7 .5 1.7 .5 -1.1 .5 .8 .5 -.5 .5 1 .5 1.3 .5 -3.2 .5 .5 .5 -.5 .5 .5 .5 .6 .5 0 .5 -1.2 .5 2.4 .5 -.8 .5 0 .5 1.4 .5 -3.2 .5 -.1 .5 1.9 .5 .5 .5 1.4 .5 -4.2 .5 3.3 .5 .1 .5 -.6 .5 -2.1 .5 3.5 .5 -1.2 .5 .5 .5 -.2 .5 -1.6 .5 1.1 .5 0 .5 .4 .5 -2.8 .5 -1.5 .5 2.6 .5 -2 .5 -.9 .5 -1.8 .5 -3.2 .5 -3.3 .5 -6.7 .5 -9.4 .5 -4.9 .5 -7.9 .5 -4.5 .5 -.2 .5 3.4 .5 8 .5 6.5 .5 7.1 .5 6.1 .5 3.9 .5 6.3 .5 .5 .5 2.1 .5 -2.8 .5 4.8 .5 -.3 .5 -1.6 .5 2.2 .5 -.7 .5 .1 .5 -1 .5 -.3 .5 3.3 .5 -2.3 .5 1.8 .5 .4 .5 .5 .5 -.6 .5 .9 .5 -2 .5 -.3 .5 .8 .5 -.6 .5 .5 .5 -1.9 .5 3.3 .5 -1.5 .5 -1.2 .5 .2 .5 -.4 .5 -2.2 .5 -.5 .5 -3.2 .5 -.2 .5 -6.3 .5 -1.5 .5 -7.5 .5 2.3 .5 -.2 .5 3.2 .5 2.5 .5 3.6 .5 3.3 .5 .1 .5 3.2 .5 .3 .5 -1.6 .5 4.1 .5 -3 .5 .7 .5 .3 .5 -.2 .5 -3.2 .5 -3.5 .5 -4.7 .5 -4.7 .5 -10.2 .5 -5.2 .5 -7.2 .5 -6.4 .5 0 .5 4.5 .5 6.1 .5 9.6 .5 7.4 .5 5.5 .5 5.3 .5 3.1 .5 2.9 .5 -.4 .5 1 .5 1.9 .5 -1.4 .5 .4 .5 -.6 .5 .1 .5 1.4 .5 -1.8 .5 1.4 .5 -1 .5 -.1 .5 1.5 .5 -3.1 .5 2.5 .5 -2.2 .5 .2 .5 .2 .5 -1.1 .5 .4 .5 -.7 .5 -2.3 .5 .3 .5 -3.2 .5 .5 .5 -4.7 .5 -6.6 .5 -6.1 .5 -10.5 .5 -13.5 .5 -17.8 .5 -20 .5 -25.4 .5 -24.4 .5 -20.7 .5 -16.1 .5 -6.8 .5 1 .5 5.9 .5 8.8 .5 13.9 .5 10.2 .5 4.4 .5 7.5 .5 3.1 .5 3.7 .5 5.9 .5 2.4 .5 4.6 .5 3.6 .5 4.6 .5 6.2 .5 4.7 .5 9.8 .5 8.5 .5 3.8 .5 13.4 .5 10.3 .5 6.5 .5 8.2 .5 2.5 .5 6.9 .5 5 .5 2.2 .5 3.3 .5 2.2 .5 .1 .5 -.3 .5 1.5 .5 1.1 .5 .7 .5 .2 .5 -1.1 .5 1 .5 -1.9 .5 -1.7 .5 -.8 .5 -3.4 .5 -7.6 .5 -6.7 .5 -12.2 .5 -14.7 .5 -21.9 .5 -22 .5 -20.1 .5 -13.7 .5 .4 .5 11.3 .5 19.4 .5 22.9 .5 19.7 .5 18.2 .5 13.1 .5 9.4 .5 5.2 .5 2.2 .5 2.9 .5 1.9 .5 2.2 .5 -.4 .5 2.4 .5 -.8 .5 -1.2 .5 .5 .5 .9 .5 -.8 .5 .4 .5 -.7 .5 1.5 .5 -.1 .5 -.1 .5 .1 .5 -1.7 .5 2.1 .5 -1.3 .5 -3.2 .5 2.1 .5 -1.5 .5 -1.7 .5 .1 .5 -3 .5 1.5 .5 -.3 .5 .9 .5 0 .5 3.5 .5 .1 .5 1.4 .5 1.1 .5 1 .5 -1.7 .5 .5 .5 1.7 .5 1.2 .5 .2 .5 .1 .5 .1 .5 .1 .5 .1 .5 0 .5 0 .5 0 .5 0 .5 0 .5 0 .5 0 .5 0 .5 0 .5 0 .5 0 .5 0 .5 0 .5 0 .5 0 .5 0 .5 0 .5 0 .5 0 .5 0 .5 0 .5 0 .5 0 .5 0 .5 0 .5 0 .5 0 .5 0 .5 0 .5 0 .5 0 .5 0 .5 0 .5 0 .5 0 .5 0 .5 0 .5 0 .5 0 .5 0 .5 0 .5 0 .5 0 .5 0 .5 0 .5 0 .5 0 .5 0 .5 0 .5 0 .5 0 .5 0 .5 0 .5 0 .5 0 .5 0 .5 0 .5 0 .5 0 .5 0 .5 0 .5 0 .5 0 .5 0 .5 0 .5 0 .5 0 .5 0 .5 0 .5 0 .5 0 .5 -.1 .5 -.1 .5 -.1 .5 -.2 .5 1 .5 -2.1 .5 0 .5 -2.3 .5 .6 .5 -1.1 .5 .2 .5 -.2 .5 -1.5 .5 3.6 .5 -1.3 .5 -1.3 .5 3.1 .5 -.3 .5 1.1 .5 -.2 .5 2.2 .5 .6 .5 -1.3 .5 -.6 .5 .6 .5 1.7 .5 .4 .5 -2.6 .5 .8 .5 .9 .5 -.1 .5 -1.1 .5 .3 .5 1 .5 -.5 .5 -.2 .5 -2 .5 1 .5 -1.3 .5 .7 .5 -4.3 .5 1.8 .5 -.4 .5 .9 .5 .6 .5 -2.8 .5 1.6 .5 .6 .5 -.1 .5 1.1 .5 .2 .5 1.7 .5 .4 .5 .6 .5 -2.2 .5 -.3 .5 1.4 .5 .4 .5 .2 .5 -.7 .5 1.7 .5 -1.7 .5 2.3 .5 -3.2 .5 2.8 .5 -1.4 .5 .7 .5 -.4 .5 .2 .5 -.9 .5 -.7 .5 -.2 .5 1.4 .5 -2.2 .5 1.5 .5 -.3 .5 .2 .5 1.4 .5 -2.3 .5 .8 .5 2.5 .5 -1 .5 .6 .5 -1.5 .5 .8 .5 -1.4 .5 -1 .5 2 .5 -.3 .5 -.3 .5 -.5 .5 2.7 .5 -1.5 .5 -.2 .5 -.1 .5 -.2 .5 .2 .5 -2.2 .5 1.1 .5 1.2 .5 .2 .5 -.9 .5 -.6 .5 -.1 .5 -.3 .5 .4 .5 .1 .5 .8 .5 -1.8 .5 1.8 .5 -3.1 .5 .3 .5 -3.1 .5 1.1 .5 -1.4 .5 -3.2 .5 -3 .5 -.1 .5 -2.5 .5 1.3 .5 .9 .5 -1.6 .5 5.6 .5 -1.7 .5 3.1 .5 3.3 .5 .8 .5 1.9 .5 -1.8 .5 1.7 .5 2.1 .5 -.9 .5 -.1 .5 3.6 .5 -2 .5 -.1 .5 .4 .5 .1 .5 -.8 .5 -.6 .5 1.9 .5 -.3 .5 .7 .5 -2.1 .5 2.5 .5 -1.4 .5 -.9 .5 1.8 .5 -2.4 .5 1.7 .5 -.2 .5 -.3 .5 -1.2 .5 1.3 .5 -.8 .5 2 .5 -2.8 .5 1.6 .5 -3 .5 1.9 .5 1.8 .5 -1.3 .5 .1 .5 -1 .5 1 .5 -.5 .5 1 .5 -4.6 .5 4.1 .5 -2.3 .5 1.5 .5 .8 .5 1.6 .5 -2.8 .5 .8 .5 -.5 .5 -.7 .5 .9 .5 .4 .5 -1 .5 .7 .5 .6 .5 1.7 .5 -2.1 .5 .2 .5 -1.6 .5 -.6 .5 .4 .5 .9 .5 .2 .5 -.3 .5 -.2 .5 .9 .5 .1 .5 -.5 .5 -.2 .5 1.8 .5 -2.7 .5 -.5 .5 .2 .5 .6 .5 1.2 .5 -.2 .5 -.3 .5 .2 .5 -.5 .5 -.7 .5 -.5 .5 1.3 .5 -3.5 .5 1.2 .5 -.8 .5 -1 .5 -2.8 .5 .9 .5 -2.1 .5 -.7 .5 -3.7 .5 -4.1 .5 -1.9 .5 -4.1 .5 -.4 .5 -2.3 .5 -2 .5 .6 .5 -.5 .5 1.8 .5 3.7 .5 1.7 .5 5.8 .5 -1.1 .5 4.7 .5 1.8 .5 2.7 .5 3 .5 -.9 .5 2.4 .5 -.6 .5 0 .5 1.7 .5 1.5 .5 .4 .5 -.6 .5 0 .5 0 .5 -1.5 .5 3.2 .5 -1.1 .5 -1.2 .5 -.5 .5 .4 .5 1.1 .5 -.8 .5 .5 .5 -1 .5 1.8 .5 .5 .5 -2.9 .5 1.5 .5 .3 .5 -.9 .5 .7 .5 .7 .5 -2.5 .5 .4 .5 1.7 .5 -1 .5 .3 .5 .5 .5 .7 .5 -3.2 .5 1.6 .5 1.4 .5 -2.1 .5 1.8 .5 -3.5 .5 1.6 .5 .2 .5 2.7 .5 -3 .5 1.8 .5 -.8 .5 -.3 .5 .8 .5 2.2 .5 -.5 .5 -1.3 .5 .3 .5 1.5 .5 -2.4 .5 1.4 .5 -.2 .5 .1 .5 -.2 .5 .1 .5 -.3 .5 1.5 .5 -1.1 .5 1.5 .5 -2.2 .5 -1.3 .5 2.1 .5 -.1 .5 -1.6 .5 3.4 .5 -.8 .5 -2 .5 2.4 .5 -.9 .5 -1.8 .5 0 .5 -3.6 .5 4.9 .5 -.5 .5 1.2 .5 -.1 .5 -.9 .5 2.3 .5 -2.9 .5 1.6 .5 .6 .5 -1.6 .5 1.2 .5 -1.3 .5 -.6 .5 -.3 .5 1.4 .5 -.5 .5 .7 .5 -.3 .5 .4 .5 -.2 .5 -.5 .5 0 .5 1.7 .5 -1.8 .5 .3 .5 -1.4 .5 1.9 .5 -.2 .5 -1.1 .5 -.3 .5 1.3 .5 .2 .5 0 .5 -.9 .5 -2.2 .5 2.4 .5 -.6 .5 -.3 .5 -.2 .5 .5 .5 1.1 .5 -2 .5 1 .5 0 .5 1.1 .5 -.7 .5 -1 .5 1.5 .5 -.1 .5 .2 .5 -1.8 .5 .5 .5 1.3 .5 -1.7 .5 1.4 .5 -.4 .5 0 .5 .4 .5 -1.5 .5 .4 .5 .1 .5 .3 .5 .5 .5 -1.6 .5 .6 .5 1.4 .5 -.9 .5 -.1 .5 -.7 .5 2.6 .5 -.5 .5 -.5 .5 -.3 .5 .8 .5 -.7 .5 -1.1 .5 -.5 .5 .5 .5 1.3 .5 -1.8 .5 1.6 .5 .2 .5 -.6 .5 -.3 .5 -1.3 .5 3.1 .5 .1 .5 -1.9 .5 .1 .5 .6 .5 .6 .5 -1.4 .5 -.1 .5 .9 .5 -.6 .5 .7 .5 .8 .5 -1.7 .5 1.8 .5 -3 .5 .5 .5 -1.5 .5 1.3 .5 -.8 .5 -.5 .5 1.3 .5 1.3 .5 -1.2 .5 -.4 .5 -.2 .5 1.5 .5 .9 .5 -2.5 .5 1.1 .5 .5 .5 -.7 .5 1.1 .5 -.7 .5 0 .5 .5 .5 .8 .5 -2.1 .5 -.1 .5 1.4 .5 -1 .5 .2 .5 .8 .5 .1 .5 -1.6 .5 2.6 .5 -1.9 .5 1.3 .5 -.9 .5 .1 .5 -.3 .5 .6 .5 0 .5 .2 .5 -.8 .5 1.5 .5 -1.5 .5 0 .5 -.2 .5 -1.4 .5 .7 .5 -.1 .5 .6 .5 -5.3 .5 4.7 .5 -4.7 .5 3.4 .5 -4.2 .5 -2.3 .5 -5.1 .5 -3.9 .5 -2.6 .5 -1.3 .5 -3.2 .5 2.9 .5 4.1 .5 3.2 .5 4.3 .5 4 .5 1.9 .5 1 .5 3.5 .5 -1.1 .5 2 .5 -1.8 .5 .7 .5 .7 .5 -.1 .5 -1.6 .5 1.2 .5 -.8 .5 2.5 .5 .3 .5 .2 .5 -1.3 .5 -.3 .5 -.1 .5 1.2 .5 -.3 .5 .1 .5 -.6 .5 .6 .5 -1.5 .5 -2.8 .5 3.8 .5 1.6 .5 -.4 .5 -1 .5 -.6 .5 1.6 .5 .2 .5 -2.6 .5 -.7 .5 2 .5 -2.9 .5 3.6 .5 -.4 .5 -.4 .5 1.3 .5 -1.3 .5 .9 .5 -.1 .5 -.6 .5 .3 .5 -.5 .5 -.1 .5 1 .5 -1.5 .5 -.8 .5 2.2 .5 .3 .5 .2 .5 0 .5 -.4 .5 -1.3 .5 .9 .5 -.8 .5 .6 .5 1.9 .5 -1.8 .5 1.6 .5 -2.5 .5 .1 .5 1.2 .5 -1.9 .5 3.3 .5 -.6 .5 -1.7 .5 1.8 .5 -.9 .5 0 .5 -.7 .5 .8 .5 1 .5 -1.6 .5 .3 .5 -.5 .5 .7 .5 -2.9 .5 2 .5 1.1 .5 -3 .5 1.7 .5 -.8 .5 -.3 .5 -.9 .5 -2 .5 -.4 .5 -4.7 .5 0 .5 -4.3 .5 -1.1 .5 -1.6 .5 .1 .5 1.6 .5 3.6 .5 -.1 .5 2.7 .5 4.5 .5 1.5 .5 1.7 .5 -1.1 .5 2 .5 .3 .5 -1 .5 0 .5 -.7 .5 3 .5 -.3 .5 -.7 .5 .4 .5 -.4 .5 .3 .5 -.4 .5 -1.4 .5 .4 .5 -.5 .5 -1.6 .5 -1.6 .5 -.5 .5 1.3 .5 -2 .5 .1 .5 -.7 .5 1.4 .5 .7 .5 .9 .5 2.2 .5 -1.2 .5 -.3 .5 2.8 .5 -.6 .5 1.2 .5 -1.1 .5 1.7 .5 -.4 .5 -.5 .5 1.2 .5 -1.8 .5 .4 .5 -.1 .5 -.7 .5 .6 .5 3.2 .5 -2.2 .5 -1.3 .5 1.1 .5 -1.2 .5 0 .5 -1 .5 1 .5 .8 .5 -2.9 .5 2.7 .5 .2 .5 1.7 .5 -.9 .5 -.4 .5 0 .5 -2 .5 2.1 .5 -.8 .5 -.2 .5 -1.8 .5 2.6 .5 -2.5 .5 -.1 .5 2 .5 1.3 .5 -2.1 .5 -.9 .5 -.4 .5 -.2 .5 3 .5 -1 .5 -.5 .5 0 .5 2 .5 -.9 .5 -2 .5 3.1 .5 -2.5 .5 1.8 .5 .3 .5 -3.1 .5 2.6 .5 0 .5 -3 .5 1.4 .5 .4 .5 -.9 .5 1.3 .5 -.9 .5 -.5 .5 3.3 .5 -2.8 .5 1.1 .5 .1 .5 .9 .5 -.4 .5 0 .5 -.5 .5 -1 .5 .2 .5 0 .5 -1.7 .5 1.2 .5 -.5 .5 1.7 .5 -2 .5 2.2 .5 .7 .5 0 .5 -2.8 .5 2.7 .5 .6 .5 -1.4 .5 -1.4 .5 .9 .5 1.5 .5 -3.5 .5 1 .5 .3 .5 3.3 .5 -2.4 .5 -2.9 .5 2.1 .5 1.4 .5 -.8 .5 -1.7 .5 2.6 .5 -1.3 .5 1.3 .5 -2.1 .5 0 .5 -.8 .5 3.8 .5 -2.7 .5 .7 .5 1.9 .5 -1 .5 -.2 .5 -.7 .5 .4 .5 .7 .5 -1.4 .5 1 .5 -.6 .5 .8 .5 -1.3 .5 1.2 .5 -.2 .5 -.1 .5 -1.2 .5 1.5 .5 .5 .5 -.6 .5 .4 .5 -1.3 .5 .5 .5 -.8 .5 -1.5 .5 2.1 .5 -1.1 .5 .8 .5 -.2 .5 .5 .5 1.3 .5 -1.7 .5 .9 .5 3 .5 -5 .5 1 .5 3.1 .5 -2 .5 .6 .5 -1.2 .5 .5 .5 -1.6 .5 .9 .5 -.2 .5 -.7 .5 -1.7 .5 -.7 .5 .3 .5 -2 .5 -1.5 .5 -.3 .5 -3.4 .5 -1.1 .5 -1.4 .5 -3.2 .5 3 .5 -2.5 .5 3.6 .5 -.4 .5 .2 .5 3.4 .5 -3.6 .5 5.8 .5 -.5 .5 4 .5 -.7 .5 1.8 .5 -.3 .5 1.2 .5 .4 .5 .3 .5 .7 .5 -.2 .5 -.7 .5 -.1 .5 -1.7 .5 3 .5 -2 .5 .8 .5 -2 .5 .1 .5 1.3 .5 0 .5 .9 .5 -2.2 .5 1.5 .5 -.8 .5 -.1 .5 -.3 .5 -1.3 .5 1.3 .5 -1.9 .5 -2 .5 -2.5 .5 -2.7 .5 -2.4 .5 -2.1 .5 -4.8 .5 .6 .5 -.6 .5 1.4 .5 2.4 .5 -.6 .5 3.4 .5 5.6 .5 .8 .5 1.1 .5 4.3 .5 -1 .5 .7 .5 -.9 .5 .5 .5 2.3 .5 .5 .5 -1.1 .5 -1.5 .5 1.9 .5 -.8 .5 -.3 .5 0 .5 .4 .5 -.5 .5 -.5 .5 -.1 .5 1 .5 -.6 .5 -1.9 .5 2.1 .5 1.9 .5 -2.3 .5 1.1 .5 1 .5 .3 .5 1.7 .5 -6.1 .5 3.8 .5 .3 .5 0 .5 -2.3 .5 2 .5 0 .5 1.2 .5 -1.2 .5 -1.6 .5 1.5 .5 -1.5 .5 1 .5 1 .5 -1 .5 1.9 .5 -3.3 .5 -1.7 .5 4.3 .5 -1.3 .5 -.3 .5 2.3 .5 -4 .5 3.7 .5 -2.4 .5 -.6 .5 .7 .5 .5 .5 -1 .5 -1.2 .5 2 .5 .4 .5 -1 .5 .6 .5 -.5 .5 1.3 .5 -.8 .5 2.2 .5 -2.1 .5 -1.4 .5 1.5 .5 -1.3 .5 .5 .5 2 .5 -1.5 .5 -.4 .5 .2 .5 1.7 .5 -1.1 .5 -.1 .5 1.4 .5 .3 .5 -1.1 .5 .8 .5 -2.6 .5 -.4 .5 1.6 .5 .4 .5 1 .5 -.5 .5 -.6 .5 2 .5 -.3 .5 -1 .5 -2.5 .5 .1 .5 -.2 .5 .5 .5 1.3 .5 .1 .5 -2.6 .5 1.6 .5 -.8 .5 -.7 .5 2.1 .5 -1.8 .5 1.1 .5 -1 .5 -1.6 .5 -.7 .5 .6 .5 -1.2 .5 -.7 .5 -2 .5 -.7 .5 -3.8 .5 -4.4 .5 -2.5 .5 -4.8 .5 -4.8 .5 -4.7 .5 -7.2 .5 -6.6 .5 -6.6 .5 -2.3 .5 -4.7 .5 -.5 .5 -2.8 .5 2.8 .5 0 .5 4.4 .5 8 .5 4 .5 5 .5 4.6 .5 3 .5 1.5 .5 8.5 .5 -.4 .5 1.4 .5 3.1 .5 -.6 .5 .6 .5 -.2 .5 -3.4 .5 3.5 .5 -1.8 .5 1.8 .5 .8 .5 0 .5 0 .5 1.7 .5 .8 .5 1.6 .5 1.1 .5 2.1 .5 -4 .5 6.6 .5 -.2 .5 2.2 .5 2.8 .5 .3 .5 .5 .5 1.2 .5 -1.5 .5 3.1 .5 -1.3 .5 .3 .5 2.4 .5 -2.9 .5 -.1 .5 1.8 .5 -1.1 .5 -.9 .5 .1 .5 1.8 .5 -.6 .5 -.4 .5 .8 .5 .1 .5 .8 .5 -1.1 .5 1.8 .5 -1 .5 .4 .5 -.2 .5 -1.1 .5 -.5 .5 .3 .5 1.5 .5 .2 .5 -2.1 .5 .2 .5 -.8 .5 2.7 .5 -1.9 .5 1.8 .5 -.7 .5 .5 .5 -.5 .5 -.7 .5 .4 .5 -.2 .5 -.4 .5 .4 .5 .6 .5 -.3 .5 -.2 .5 -.5 .5 -.1 .5 -.8 .5 2.4 .5 .2 .5 -.9 .5 -.6 .5 -.6 .5 2.3 .5 -1.8 .5 -.2 .5 .6 .5 -1.9 .5 .8 .5 .9 .5 1.3 .5 -1.8 .5 .1 .5 1.1 .5 -.4 .5 -1.7 .5 0 .5 1.4 .5 .2 .5 -2.6 .5 1.3 .5 2 .5 -2.3 .5 2.4 .5 -4 .5 2.2 .5 1 .5 -.8 .5 -1.2 .5 1.7 .5 -.7 .5 -.7 .5 .4 .5 0 .5 -1.2 .5 1.4 .5 .9 .5 .5 .5 .3 .5 -.4 .5 -1.2 .5 -1.3 .5 .7 .5 1.1 .5 .3 .5 -1.3 .5 1.9 .5 -2.1 .5 .2 .5 1.2 .5 .8 .5 .3 .5 -1 .5 -1.4 .5 .6 .5 2.8 .5 -2.8 .5 .6 .5 -.3 .5 -1 .5 -.6 .5 1.1 .5 1.5 .5 -3.3 .5 2.4 .5 -.3 .5 -1.4 .5 1.9 .5 2.7 .5 -3.2 .5 1.4 .5 -1.7 .5 -.4 .5 1.5 .5 .7 .5 -1.1 .5 -4.8 .5 3 .5 0 .5 -1.6 .5 -.4 .5 1 .5 0 .5 -.9 .5 -.4 .5 .9 .5 -.4 .5 1.6 .5 -.4 .5 2 .5 -2 .5 3.1 .5 -1.4 .5 -1.9 .5 2.1 .5 -.3 .5 .3 .5 -1.4 .5 1.9 .5 1 .5 -2.2 .5 .9 .5 -.8 .5 3.4 .5 -2.1 .5 -.2 .5 -.7 .5 .6 .5 .1 .5 -1.7 .5 1.8 .5 1.3 .5 -2 .5 .5 .5 1.6 .5 -.4 .5 1 .5 -1 .5 -.7 .5 -5 .5 5.6 .5 -2.2 .5 1.3 .5 .4 .5 2.7 .5 -1.7 .5 .1 .5 1 .5 -1.4 .5 1.9 .5 -1.6 .5 -1.8 .5 .9 .5 -.8 .5 2.4 .5 .9 .5 -3.9 .5 1 .5 2.6 .5 -2.6 .5 .5 .5 -.1 .5 1 .5 -1.1 .5 0 .5 1 .5 -.6 .5 -1.7 .5 1.3 .5 0 .5 .1 .5 .7 .5 -1.7 .5 1.5 .5 -1 .5 -.3 .5 1.3 .5 -1.2 .5 3.1 .5 -3.3 .5 1 .5 -.4 .5 -.6 .5 .4 .5 -1.4 .5 3.3 .5 -1 .5 -.2 .5 -1.5 .5 1.2 .5 -.3 .5 .2 .5 -.3 .5 .8 .5 -.9 .5 0 .5 .3 .5 .1 .5 .6 .5 -1.3 .5 .3 .5 .1 .5 -1.3 .5 3.2 .5 -1.5 .5 -1.5 .5 1.1 .5 -3.1 .5 .9 .5 -3.1 .5 .6 .5 1.1 .5 -3.6 .5 -.5 .5 -1.7 .5 -1.9 .5 -1.4 .5 -3.5 .5 -3 .5 -3.7 .5 -4.7 .5 -3.2 .5 -3.5 .5 -3.5 .5 -5.7 .5 -2.2 .5 -4.3 .5 .7 .5 -4.6 .5 .1 .5 1.7 .5 1.6 .5 3.1 .5 2 .5 6 .5 2.6 .5 5 .5 4.8 .5 3.4 .5 6.1 .5 .3 .5 4.4 .5 2.3 .5 .4 .5 .4 .5 2.5 .5 1.3 .5 1.1 .5 -.6 .5 .8 .5 1.7 .5 -3.4 .5 1.2 .5 -2.7 .5 .2 .5 -3.8 .5 -6 .5 -3.8 .5 -6 .5 -3.3 .5 -4.7 .5 -4.9 .5 1.6 .5 2.4 .5 2.6 .5 7.6 .5 5 .5 4 .5 4.6 .5 3.1 .5 4.7 .5 1.4 .5 .5 .5 .4 .5 .9 .5 -.5 .5 -.1 .5 3 .5 -.9 .5 -1.3 .5 -1.1 .5 3.9 .5 -1.8 .5 1 .5 -.2 .5 1.4 .5 -.7 .5 -.6 .5 2.6 .5 -2 .5 .3 .5 -.2 .5 .4 .5 -1.8 .5 1.4 .5 -.9 .5 1.6 .5 .1 .5 -2.1 .5 2.8 .5 -1.9 .5 1.1 .5 -1.1 .5 .3 .5 -.2 .5 -.4 .5 -.8 .5 1.3 .5 0 .5 -2 .5 1.6 .5 -2.1 .5 -.5 .5 -.2 .5 0 .5 .2 .5 -3.5 .5 -2 .5 -1.5 .5 -2.2 .5 -2.6 .5 1.8 .5 -.8 .5 0 .5 1.5 .5 .4 .5 3.6 .5 .7 .5 .9 .5 3.7 .5 1.3 .5 -1.5 .5 2.2 .5 -1.8 .5 1.4 .5 .5 .5 .2 .5 -1.1 .5 .1 .5 1.2 .5 -1.7 .5 1 .5 .6 .5 1.5 .5 -.6 .5 -1 .5 .8 .5 -1.2 .5 .1 .5 -1.2 .5 .6 .5 1.3 .5 -.5 .5 .4 .5 1.9 .5 -2.7 .5 1.4 .5 -.6 .5 1.8 .5 -.2 .5 -1 .5 -.6 .5 1.4 .5 -3 .5 2.7 .5 -.6 .5 -.7 .5 .7 .5 .5 .5 -.3 .5 -.2 .5 -.3 .5 -.6 .5 -.5 .5 -.5 .5 -.2 .5 3 .5 -1.3 .5 -2.2 .5 .8 .5 .2 .5 -4.9 .5 4.3 .5 1.4 .5 -.2 .5 1.8 .5 -.6 .5 -.9 .5 .7 .5 -.9 .5 .4 .5 -.3 .5 2.1 .5 -3 .5 .1 .5 -.3 .5 1.4 .5 2.4 .5 -1.4 .5 -2.6 .5 .4 .5 1 .5 -1.4 .5 -2.2 .5 2.1 .5 2.4 .5 -1.9 .5 -.2 .5 .8 .5 -.6 .5 2.3 .5 -.1 .5 -2.1 .5 -1.6 .5 .5 .5 2.1 .5 -1.1 .5 -.3 .5 1.5 .5 -.9 .5 -.2 .5 1 .5 -.7 .5 1.6 .5 -1.7 .5 -.3 .5 .6 .5 1.3 .5 -1.7 .5 .9 .5 -.4 .5 -.5 .5 1.1 .5 .5 .5 -2 .5 .3 .5 .7 .5 -.5 .5 2.3 .5 -1 .5 -.8 .5 -.1 .5 -2.1 .5 3 .5 -2.1 .5 .6 .5 .8 .5 -.2 .5 -.2 .5 .2 .5 -1.8 .5 .6 .5 1.5 .5 1 .5 -1 .5 -.1 .5 -1.9 .5 1.3 .5 -.8 .5 .8 .5 -1.7 .5 2.1 .5 -1.1 .5 -.6 .5 1.3 .5 -1.6 .5 1.4 .5 -1.6 .5 -3.9 .5 6.2 .5 -.8 .5 1.3 .5 -1.5 .5 1.6 .5 -1.3 .5 .1 .5 -1.4 .5 -1.3 .5 2.5 .5 1.3 .5 -3.2 .5 2.6 .5 1.1 .5 -.7 .5 -.9 .5 -.9 .5 1.4 .5 -.6 .5 .3 .5 .4 .5 -.2 .5 .8 .5 -1.2 .5 -.4 .5 1 .5 -1.3 .5 -.7 .5 1.3 .5 .1 .5 .1 .5 .6 .5 -.9 .5 -.3 .5 .3 .5 .8 .5 -1.8 .5 1.8 .5 -1.7 .5 1.4 .5 .2 .5 -1.6 .5 -.2 .5 0 .5 2.5 .5 -.7 .5 -1.9 .5 0 .5 0 .5 1.8 .5 -1.7 .5 -3.1 .5 -.8 .5 -.5 .5 -3.1 .5 -3 .5 -4.1 .5 -5.2 .5 -5.7 .5 -2.5 .5 -1 .5 2.1 .5 5.7 .5 5.8 .5 3.6 .5 5.8 .5 2.8 .5 -.5 .5 3.2 .5 .8 .5 2.1 .5 -1.5 .5 -1.6 .5 1.3 .5 -.3 .5 1 .5 .5 .5 -1.2 .5 .5 .5 .4 .5 -.4 .5 .1 .5 .6 .5 -1.1 .5 -.5 .5 2 .5 -.1 .5 -.1 .5 .7 .5 -.8 .5 -1.3 .5 0 .5 1.2 .5 -1.1 .5 .9 .5 -.6 .5 .7 .5 -2.1 .5 2.9 .5 -.5 .5 -.5 .5 -.1 .5 .2 .5 0 .5 -5.5 .5 6.7 .5 -1.2 .5 .7 .5 -1.1 .5 1.1 .5 1.2 .5 -4.5 .5 1.8 .5 -.4 .5 -1.6 .5 -1.1 .5 -1.7 .5 -1.6 .5 -2.4 .5 -1.1 .5 -2.8 .5 3.3 .5 1.1 .5 3.4 .5 -.3 .5 .4 .5 2.9 .5 3 .5 -.6 .5 -.8 .5 .4 .5 -.6 .5 .5 .5 .9 .5 -1.7 .5 1.6 .5 -.8 .5 -.3 .5 1 .5 -1.7 .5 1.2 .5 .1 .5 1.2 .5 -.9 .5 -1.1 .5 2.6 .5 -1.4 .5 -1.1 .5 2.3 .5 -1.1 .5 -.1 .5 -.8 .5 1.2 .5 2.4 .5 -2.1 .5 -1.1 .5 .7 .5 .4 .5 -2.3 .5 -.3 .5 2.1 .5 -1.6 .5 .9 .5 .9 .5 -1.7 .5 2.9 .5 -.6 .5 -1.4 .5 1 .5 0 .5 -1.9 .5 .6 .5 .8 .5 -.3 .5 -1.1 .5 .8 .5 -1.1 .5 2.4 .5 -2.1 .5 .9 .5 -.3 .5 .2 .5 .4 .5 1.1 .5 -.8 .5 0 .5 1.5 .5 -1.7 .5 -.1 .5 -1.8 .5 2.7 .5 -.3 .5 -1.1 .5 -1.1 .5 .2 .5 2.2 .5 -3 .5 2.7 .5 .1 .5 -1.5 .5 .4 .5 -.4 .5 1.3 .5 -.9 .5 .7 .5 -.1 .5 -1.9 .5 1 .5 -1.7 .5 2.4 .5 -1.6 .5 -1 .5 3.7 .5 -1.5 .5 .4 .5 .6 .5 -.6 .5 .4 .5 .2 .5 -.5 .5 -1.3 .5 1.4 .5 -.8 .5 -.4 .5 2.1 .5 -.7 .5 -.8 .5 .1 .5 .6 .5 -3.1 .5 2.2 .5 .8 .5 -.9 .5 1.7 .5 -1.1 .5 -.3 .5 1.6 .5 -.5 .5 -2.3 .5 .4 .5 3.7 .5 -3.2 .5 1.2 .5 -1.4 .5 .9 .5 -.6 .5 -.4 .5 .8 .5 -.6 .5 .7 .5 1 .5 .9 .5 -1.2 .5 1.6 .5 -1.7 .5 -.5 .5 .3 .5 -.7 .5 -.9 .5 -.6 .5 1.3 .5 0 .5 1.8 .5 -1.4 .5 -.3 .5 .1 .5 -1.9 .5 2.8 .5 -.8 .5 -1.3 .5 .9 .5 1.2 .5 -.7 .5 1.2 .5 -1 .5 .5 .5 -.1 .5 1.3 .5 -1.7 .5 .8 .5 -2.1 .5 .9 .5 1.2 .5 -.6 .5 -.4 .5 -.3 .5 .8 .5 -2.9 .5 1 .5 .7 .5 -.3 .5 2 .5 -1.1 .5 -.9 .5 1.1 .5 -1.1 .5 1.3 .5 -1.9 .5 1.6 .5 1.4 .5 -3.3 .5 -.2 .5 2.5 .5 -2.3 .5 .8 .5 .5 .5 -.4 .5 1.4 .5 -1.2 .5 .7 .5 .5 .5 -.6 .5 1.2 .5 -1 .5 -.4 .5 .2 .5 1 .5 -1.8 .5 1.8 .5 -.8 .5 -.5 .5 -.3 .5 -.2 .5 .1 .5 -.2 .5 1.2 .5 -.4 .5 1 .5 -2.5 .5 2.4 .5 -1.9 .5 -.3 .5 2 .5 -1.9 .5 -.6 .5 0 .5 1 .5 -.5 .5 1.4 .5 -1.3 .5 -.4 .5 -1.9 .5 -1 .5 1.6 .5 1.9 .5 -2.9 .5 -1.4 .5 -.3 .5 -1.9 .5 -.5 .5 -.6 .5 .3 .5 -1.3 .5 -3.7 .5 1.9 .5 -1.2 .5 2.8 .5 -1.3 .5 .7 .5 1 .5 3.4 .5 -2.4 .5 1.3 .5 1.9 .5 -.2 .5 2.2 .5 .9 .5 -1.5 .5 2.1 .5 .2 .5 2.2 .5 -1.5 .5 .8 .5 -.4 .5 -.6 .5 3.5 .5 -1.7 .5 -.6 .5 0 .5 .6 .5 -2 .5 2.9 .5 -1.9 .5 -.4 .5 .4 .5 .2 .5 -2.3 .5 1.1 .5 .5 .5 2.3 .5 -1.9 .5 -1.7 .5 .3 .5 3 .5 -1.4 .5 -.7 .5 1.1 .5 1 .5 -.3 .5 -1.8 .5 2.7 .5 -.6 .5 .3 .5 -1.7 .5 .6 .5 .4 .5 .8 .5 -.1 .5 -.9 .5 1.4 .5 -1.8 .5 .8 .5 -1.9 .5 3.8 .5 -3.2 .5 1.4 .5 -1.7 .5 -5.4 .5 4.7 .5 1.7 .5 .3 .5 1.7 .5 -2.2 .5 .9 .5 -1.1 .5 1.1 .5 -.3 .5 -1 .5 .3 .5 -.6 .5 1.2 .5 1.3 .5 -.9 .5 -.1 .5 2.1 .5 -1.8 .5 -.1 .5 1.7 .5 -.8 .5 .2 .5 -1.8 .5 1.2 .5 -2.5 .5 .5 .5 2.8 .5 -2.6 .5 2.9 .5 0 .5 -1.9 .5 .1 .5 .9 .5 1 .5 -.2 .5 -1.2 .5 1.9 .5 -.2 .5 -1 .5 .1 .5 -.2 .5 -1.2 .5 1.6 .5 .3 .5 -1.8 .5 .9 .5 -.5 .5 .4 .5 -.6 .5 0 .5 -.2 .5 .5 .5 2.4 .5 -2.8 .5 1.8 .5 .4 .5 -2.3 .5 .1 .5 .7 .5 -.5 .5 .9 .5 -.6 .5 3 .5 -3.2 .5 1.3 .5 -1.4 .5 0 .5 .3 .5 1.4 .5 -1.9 .5 0 .5 .6 .5 -.6 .5 -.4 .5 -.4 .5 .3 .5 2.2 .5 -1.5 .5 -.4 .5 -.3 .5 -.8 .5 .5 .5 .6 .5 -1 .5 1.4 .5 .8 .5 -.9 .5 -.9 .5 1.5 .5 -.2 .5 -.1 .5 1.6 .5 -2.3 .5 .6 .5 1.5 .5 -.6 .5 .8 .5 -2.5 .5 1.4 .5 -.8 .5 -1.1 .5 1.6 .5 .9 .5 -2.8 .5 2.8 .5 -1.4 .5 -.4 .5 1.2 .5 -2.7 .5 1.8 .5 0 .5 .8 .5 -1.1 .5 2.2 .5 -2.8 .5 2.4 .5 -1.8 .5 .7 .5 -.2 .5 1.6 .5 -.6 .5 -1.2 .5 .4 .5 -.7 .5 1.2 .5 -1.8 .5 1.2 .5 .8 .5 1 .5 -1.2 .5 .1 .5 -.7 .5 1 .5 -.8 .5 -1 .5 .4 .5 -.2 .5 -1.4 .5 2.7 .5 -1.5 .5 3 .5 -1.4 .5 0 .5 -1.3 .5 0 .5 -.1 .5 -.6 .5 2.4 .5 -2.3 .5 2.4 .5 -2.7 .5 2 .5 .5 .5 -3.2 .5 -.7 .5 .4 .5 1.7 .5 .4 .5 -1.2 .5 1.3 .5 -.9 .5 1.3 .5 -2.3 .5 3.5 .5 -1.7 .5 1 .5 -1.8 .5 -.2 .5 .8 .5 1.3 .5 -.7 .5 .1 .5 -3.6 .5 4.3 .5 -1.6 .5 -1 .5 -.7 .5 -.8 .5 2.3 .5 -.3 .5 1 .5 -1.8 .5 -.9 .5 3.7 .5 -.3 .5 -1.7 .5 .3 .5 2.8 .5 -2.9 .5 .3 .5 .1 .5 1.4 .5 -2.4 .5 .6 .5 -.4 .5 -.2 .5 1.5 .5 -.8 .5 .3 .5 -1.6 .5 .4 .5 .1 .5 .7 .5 .7 .5 -1.5 .5 1.3 .5 .4 .5 -2.2 .5 .7 .5 .9 .5 .5 .5 -2.3 .5 -1.3 .5 -.9 .5 3.1 .5 1.3 .5 -.9 .5 1 .5 .1 .5 -.2 .5 -.1 .5 .3 .5 .8 .5 -2.7 .5 1.3 .5 .1 .5 .4 .5 -2.1 .5 .9 .5 -.7 .5 .8 .5 .7 .5 .3 .5 -1.5 .5 -.6 .5 2.6 .5 -.8 .5 -2 .5 2.3 .5 -.8 .5 -1.1 .5 -.2 .5 1.9 .5 -1.1 .5 .1 .5 -2 .5 1.6 .5 1.5 .5 -.6 .5 -2.2 .5 .7 .5 1.6 .5 -1.4 .5 .7 .5 .7 .5 .2 .5 -.1 .5 -2.9 .5 -.1 .5 3 .5 -.4 .5 -.6 .5 .8 .5 -.7 .5 1.3 .5 -1.9 .5 1.4 .5 -.3 .5 -.4 .5 3.8 .5 -1.8 .5 -.1 .5 -2.2 .5 1.9 .5 -2.3 .5 2.5 .5 -.8 .5 -1.3 .5 .5 .5 .7 .5 -.7 .5 -.5 .5 -1 .5 1.1 .5 .7 .5 -.9 .5 1.7 .5 -.7 .5 1.5 .5 -1.3 .5 -1 .5 1.4 .5 .5 .5 .1 .5 -1.1 .5 .6 .5 -.4 .5 .4 .5 -.4 .5 -.6 .5 -.6 .5 .7 .5 -1.3 .5 1.3 .5 -.9 .5 1.4 .5 -1.1 .5 .9 .5 -.3 .5 .3 .5 -1.1 .5 .2 .5 1.2 .5 -.2 .5 -2.1 .5 3 .5 -1.1 .5 -1.3 .5 2.8 .5 -.7 .5 -1.9 .5 1 .5 .5 .5 -1 .5 -.3 .5 -.1 .5 1.7 .5 .4 .5 .2 .5 .2 .5 0 .5 -1.5 .5 .7 .5 -2.1 .5 1.7 .5 .1 .5 -2.2 .5 3.2 .5 .2 .5 .5 .5 -1.9 .5 .5 .5 .3 .5 .7 .5 .9 .5 -2.7 .5 1.9 .5 .5 .5 -.8 .5 -1 .5 -1 .5 1.1 .5 2.3 .5 -8.1 .5 4.8 .5 2.6 .5 -2 .5 -1.9 .5 -.2 .5 2.5 .5 -.8 .5 2.8 .5 -4.5 .5 2.2 .5 -.9 .5 2 .5 -.8 .5 1.8 .5 -.2 .5 -1.8 .5 -.7 .5 -1.2 .5 1.5 .5 .4 .5 -.8 .5 -.1 .5 -1.9 .5 2.4 .5 .8 .5 1.2 .5 -.3 .5 -1.4 .5 -.4 .5 1.4 .5 -.8 .5 2.3 .5 -1.3 .5 -2.5 .5 .8 .5 -1.5 .5 2.8 .5 -4.8 .5 4.8 .5 -5.5 .5 5.8 .5 -1.1 .5 .2 .5 .4 .5 .1 .5 .1 .5 -2.5 .5 1.8 .5 1 .5 -2.4 .5 2.9 .5 -.8 .5 -.3 .5 -1.5 .5 .6 .5 1.4 .5 -.6 .5 1 .5 .3 .5 -1.5 .5 0 .5 -.7 .5 -.7 .5 2.7 .5 -.5 .5 1.2 .5 -.6 .5 -1.4 .5 1.1 .5 1.6 .5 -3.6 .5 1 .5 1.5 .5 -.6 .5 -2.4 .5 3.3 .5 -.8 .5 .4 .5 -2 .5 -.5 .5 .3 .5 -.3 .5 2 .5 -1.2 .5 .2 .5 .3 .5 -.2 .5 1.4 .5 -1.4 .5 .1 .5 -.3 .5 .1 .5 .2 .5 2.2 .5 -1.4 .5 1.5 .5 -4 .5 .9 .5 1.7 .5 .5 .5 -1.8 .5 -.3 .5 1.4 .5 1 .5 -1.7 .5 -1 .5 2.1 .5 -1.9 .5 1.5 .5 1.3 .5 -1.7 .5 .3 .5 1.3 .5 -.1 .5 -.3 .5 -3 .5 3.1 .5 -.1 .5 -.2 .5 .5 .5 .5 .5 -2.6 .5 1.6 .5 -.3 .5 .1 .5 1.1 .5 .3 .5 -1.8 .5 0 .5 .1 .5 3.1 .5 -.8 .5 -1.2 .5 -1 .5 -.6 .5 -.3 .5 .3 .5 1 .5 .3 .5 -1.4 .5 -.4 .5 -.1 .5 .1 .5 .1 .5 -.9 .5 -.7 .5 1.4 .5 .4 .5 -.9 .5 2.3 .5 .4 .5 -1.5 .5 -1.6 .5 .4 .5 -.1 .5 .7 .5 .1 .5 -.5 .5 -1.7 .5 1.2 .5 1 .5 0 .5 -1.7 .5 .4 .5 1.4 .5 -2 .5 .4 .5 -.4 .5 1 .5 -1 .5 .9 .5 -.1 .5 .4 .5 -1.6 .5 .6 .5 -1.1 .5 2.4 .5 -1.5 .5 .9 .5 -1.2 .5 1.3 .5 -2.3 .5 2.2 .5 -.3 .5 -.5 .5 1.3 .5 -.7 .5 .7 .5 -2.6 .5 .7 .5 -.1 .5 -.8 .5 1.9 .5 -.7 .5 0 .5 .6 .5 .3 .5 -.7 .5 -.6 .5 .2 .5 .2 .5 -.6 .5 2.8 .5 -3.6 .5 1.6 .5 -.7 .5 -.3 .5 -.1 .5 0 .5 -.2 .5 2.1 .5 -.7 .5 .1 .5 0 .5 -1.6 .5 1.6 .5 1 .5 -.5 .5 -2.2 .5 2.5 .5 -2.3 .5 2.3 .5 .3 .5 .1 .5 -2 .5 .4 .5 .5 .5 .2 .5 -1 .5 .9 .5 -.4 .5 -1.4 .5 3 .5 1.6 .5 -1.8 .5 -.9 .5 1.3 .5 -1.6 .5 -.6 .5 .8 .5 .3 .5 -.9 .5 1.1 .5 -1.8 .5 3 .5 -1.7 .5 -.7 .5 1.9 .5 -.2 .5 -1.3 .5 -.6 .5 2.5 .5 -3.8 .5 2.4 .5 1 .5 -1.2 .5 .2 .5 2.6 .5 -.4 .5 -1.5 .5 -1.1 .5 .3 .5 -1.6 .5 .3 .5 2 .5 -.8 .5 .2 .5 .8 .5 0 .5 -.8 .5 -1.4 .5 -.1 .5 .8 .5 3.2 .5 -1.4 .5 -.1 .5 -1.6 .5 .1 .5 1.6 .5 -.4 .5 -1.2 .5 1 .5 -.7 .5 -.3 .5 1.2 .5 -1.4 .5 1.1 .5 1.2 .5 0 .5 -1.9 .5 3.1 .5 -2 .5 -.1 .5 .2 .5 .3 .5 1.7 .5 -2.3 .5 -.5 .5 .3 .5 -1.7 .5 2 .5 -.8 .5 .1 .5 2 .5 -.5 .5 -3.1 .5 3.6 .5 -3.9 .5 3.7 .5 .9 .5 -.1 .5 -1.8 .5 1 .5 -1.2 .5 -1.5 .5 2.8 .5 -2.5 .5 1.9 .5 .2 .5 -1.1 .5 -.1 .5 -2 .5 2.8 .5 .4 .5 .9 .5 .4 .5 -.2 .5 -2.3 .5 1.1 .5 .2 .5 1.3 .5 -1.6 .5 -.5 .5 .6 .5 .9 .5 -6.5 .5 5.8 .5 .4 .5 -1.4 .5 .5 .5 -.4 .5 -2.2 .5 3.7 .5 .3 .5 -.8 .5 -.1 .5 -.8 .5 1.3 .5 -2 .5 1.2 .5 -3.5 .5 5 .5 -1.7 .5 1.7 .5 -3.3 .5 1.8 .5 -1 .5 1.6 .5 -2.7 .5 1.5 .5 -.2 .5 -.2 .5 .5 .5 -1 .5 1.7 .5 -.7 .5 -.1 .5 1.4 .5 -1.2 .5 .2 .5 .6 .5 -.4 .5 -.7 .5 .7 .5 -.5 .5 .9 .5 -.9 .5 -.9 .5 1.1 .5 2 .5 -3.7 .5 1.5 .5 -1.4 .5 .4 .5 -.6 .5 .8 .5 1.5 .5 -.6 .5 1.1 .5 -2.2 .5 -.8 .5 1.6 .5 -.5 .5 .3 .5 .2 .5 .6 .5 .5 .5 .7 .5 -2.4 .5 .4 .5 -1.2 .5 .9 .5 2.3 .5 -1.9 .5 -2.2 .5 2 .5 -1.4 .5 -.7 .5 -1.2 .5 2.5 .5 -.6 .5 -.6 .5 -2.1 .5 .7 .5 -.3 .5 -3.7 .5 -.6 .5 -.4 .5 -1.8 .5 -.1 .5 -1.8 .5 -1.7 .5 -1.9 .5 -.1 .5 -.1 .5 -.4 .5 -.5 .5 .6 .5 .4 .5 3 .5 1.5 .5 1.6 .5 1.9 .5 1.3 .5 1.1 .5 -1.8 .5 2.9 .5 3.4" fill="none" stroke="#ff0000" stroke-width="2.8" stroke-linejoin="round"/>
<path d="M105.2 1387.4l.5 -4.1 .5 2.1 .5 1.6 .5 -1.2 .5 -1.9 .5 2 .5 1.1 .5 -.2 .5 -1.2 .5 .4 .5 1.1 .5 -.1 .5 -1 .5 -.8 .5 1.3 .5 .2 .5 -.3 .5 .5 .5 -2.2 .5 1.8 .5 -1 .5 1.5 .5 -1.8 .5 .8 .5 -1.3 .5 2.6 .5 -.2 .5 -.4 .5 -.4 .5 1.2 .5 -1.1 .5 -.3 .5 -1 .5 .4 .5 .9 .5 1.3 .5 -.2 .5 -1.1 .5 -.1 .5 1.1 .5 -.4 .5 .2 .5 .1 .5 -1.5 .5 1 .5 .5 .5 -2.3 .5 1.7 .5 .2 .5 .8 .5 0 .5 -1.3 .5 1 .5 -.6 .5 .8 .5 -2.6 .5 1.8 .5 -1.7 .5 1.6 .5 .3 .5 -.9 .5 .9 .5 .6 .5 -.3 .5 .4 .5 -.2 .5 -2 .5 1 .5 .8 .5 -1.1 .5 0 .5 1.3 .5 -.1 .5 -.8 .5 1.2 .5 -1.2 .5 1 .5 -.2 .5 -.7 .5 .6 .5 -.5 .5 .6 .5 -.9 .5 -1.4 .5 1.2 .5 -1 .5 -.7 .5 2.4 .5 -1.8 .5 1.9 .5 -.6 .5 -.7 .5 -1.1 .5 1.1 .5 .8 .5 -2.2 .5 1 .5 .9 .5 .1 .5 .6 .5 -2.2 .5 2.6 .5 -1.9 .5 .2 .5 -.3 .5 .3 .5 .6 .5 .2 .5 -2.4 .5 3.1 .5 -1.7 .5 1.6 .5 .3 .5 -4.3 .5 2.7 .5 1.5 .5 -3.5 .5 0 .5 2.7 .5 -2.6 .5 2.5 .5 -.6 .5 .4 .5 -1.1 .5 -.1 .5 1.3 .5 .1 .5 .8 .5 -1.5 .5 1.5 .5 -.8 .5 -.6 .5 -.5 .5 .1 .5 -.6 .5 1.1 .5 .2 .5 -2.1 .5 3 .5 -.2 .5 -.3 .5 -.3 .5 -1.1 .5 -1.1 .5 3 .5 -1.5 .5 .8 .5 -1 .5 1.6 .5 -2 .5 1.6 .5 -.7 .5 .7 .5 .4 .5 -2.1 .5 1.7 .5 .7 .5 -.3 .5 -1.7 .5 1.3 .5 -.3 .5 -1.6 .5 -.9 .5 2.7 .5 -1.5 .5 .9 .5 .3 .5 -1.8 .5 .7 .5 -.2 .5 -.9 .5 1.7 .5 -.1 .5 .1 .5 -1.3 .5 .7 .5 -.6 .5 -.8 .5 1.2 .5 -.4 .5 -.4 .5 -.2 .5 1.4 .5 -.4 .5 .3 .5 .4 .5 -1.8 .5 2.1 .5 1 .5 -1.3 .5 -.7 .5 1.4 .5 -1.1 .5 1.4 .5 -3.3 .5 2.4 .5 -1.2 .5 1.9 .5 -.5 .5 -1.3 .5 1 .5 -1.9 .5 1.9 .5 -.5 .5 .8 .5 .3 .5 -.8 .5 .4 .5 -.1 .5 .3 .5 -.1 .5 -1.5 .5 .7 .5 .8 .5 -3.7 .5 3.5 .5 -.9 .5 -.2 .5 -2.5 .5 3.6 .5 -2.6 .5 .7 .5 1.1 .5 1.2 .5 -.5 .5 -.8 .5 .3 .5 -1.9 .5 2.4 .5 .7 .5 -1.3 .5 -1.5 .5 .8 .5 1.7 .5 -1.3 .5 1.7 .5 -3.8 .5 1.5 .5 2.1 .5 .1 .5 0 .5 -.3 .5 0 .5 .4 .5 -.5 .5 -3.2 .5 3.1 .5 .5 .5 -1.1 .5 .5 .5 .5 .5 -1 .5 1.5 .5 -3.1 .5 2 .5 -1.2 .5 -.1 .5 1.6 .5 -.7 .5 -2.6 .5 3 .5 1.1 .5 -1.6 .5 1.5 .5 -.8 .5 -1.8 .5 1.8 .5 .7 .5 -1.2 .5 1.5 .5 -1.1 .5 1 .5 -.2 .5 -.6 .5 .8 .5 -.4 .5 .1 .5 .3 .5 -2.9 .5 .9 .5 1.5 .5 0 .5 -6.9 .5 6.8 .5 -1.1 .5 1.2 .5 -1.3 .5 1.2 .5 .5 .5 -1.4 .5 -2.3 .5 2.4 .5 1.6 .5 -1.2 .5 0 .5 .2 .5 .1 .5 -.9 .5 -.6 .5 2.8 .5 -1.4 .5 -1.6 .5 2.1 .5 -1 .5 -.7 .5 -1.2 .5 2 .5 .6 .5 -2.4 .5 3.2 .5 -.4 .5 .2 .5 .3 .5 -.4 .5 -.8 .5 .1 .5 .1 .5 -3 .5 2.7 .5 -.1 .5 1.3 .5 -.8 .5 -.1 .5 .2 .5 -1.7 .5 -4.6 .5 4.5 .5 .2 .5 0 .5 1.2 .5 -1.5 .5 1 .5 -1.1 .5 1.5 .5 -.5 .5 -1.2 .5 2.3 .5 -.2 .5 -1 .5 1.7 .5 -2.6 .5 -1.5 .5 3 .5 .6 .5 -.3 .5 0 .5 .5 .5 -.4 .5 -.4 .5 -1.5 .5 2 .5 -1.3 .5 .7 .5 -1.9 .5 2.6 .5 .4 .5 -1 .5 -1.1 .5 1.4 .5 -1.9 .5 2.3 .5 .2 .5 -1.4 .5 .4 .5 0 .5 .4 .5 -2 .5 .7 .5 -.4 .5 1.5 .5 .2 .5 .2 .5 .3 .5 -2.8 .5 1.3 .5 .1 .5 -.3 .5 1 .5 .4 .5 -3.9 .5 2.9 .5 1.4 .5 -1.5 .5 .5 .5 1.9 .5 -.4 .5 0 .5 -2.8 .5 1.8 .5 -1 .5 .9 .5 -.5 .5 .6 .5 -.8 .5 .4 .5 .6 .5 -.1 .5 -.3 .5 -.3 .5 -.7 .5 1.5 .5 .6 .5 -.4 .5 -.2 .5 .4 .5 -.3 .5 -1.3 .5 1.1 .5 -.7 .5 -2.5 .5 .7 .5 -4.1 .5 .2 .5 .3 .5 -.5 .5 -2.6 .5 1.4 .5 .2 .5 3.1 .5 -1.6 .5 4.1 .5 .8 .5 0 .5 0 .5 -2 .5 1.3 .5 1.3 .5 -.9 .5 .4 .5 .8 .5 -.7 .5 .9 .5 -.9 .5 1.1 .5 -1.5 .5 1.3 .5 -2.4 .5 0 .5 -.1 .5 1 .5 1.2 .5 -1.8 .5 -.9 .5 1.4 .5 -1.7 .5 2.6 .5 .8 .5 -2 .5 .7 .5 .7 .5 -1.9 .5 2.5 .5 .4 .5 -1.5 .5 1.2 .5 -2.1 .5 .5 .5 1.4 .5 -.5 .5 -1.8 .5 2.6 .5 -2.1 .5 1.9 .5 -2.3 .5 1.4 .5 1.2 .5 -1.5 .5 .2 .5 1.6 .5 -.4 .5 -.6 .5 1 .5 -.8 .5 -3 .5 1.4 .5 1.1 .5 -3.6 .5 3.3 .5 -2.4 .5 2.9 .5 -.1 .5 0 .5 -.7 .5 -1.2 .5 -.9 .5 3.3 .5 -2.3 .5 2.7 .5 -2.3 .5 1.7 .5 -1 .5 .7 .5 -.7 .5 1.4 .5 -.6 .5 -.3 .5 -1.9 .5 1.9 .5 .4 .5 .2 .5 -2.4 .5 1 .5 -1.6 .5 2.4 .5 0 .5 -2.2 .5 1 .5 -.9 .5 2.4 .5 .2 .5 -1.5 .5 .2 .5 1.2 .5 0 .5 -.4 .5 -.5 .5 -.3 .5 -2.8 .5 3.7 .5 -1.2 .5 .5 .5 1.1 .5 -.2 .5 -.2 .5 .7 .5 -1.7 .5 -.3 .5 .9 .5 -.4 .5 .9 .5 -.3 .5 -.6 .5 -2.5 .5 2 .5 -.8 .5 2.4 .5 -.5 .5 -.2 .5 -.4 .5 .7 .5 -1 .5 .9 .5 .3 .5 -1 .5 -1.7 .5 2.5 .5 -.7 .5 1 .5 -4.4 .5 4.5 .5 -.4 .5 1 .5 -2 .5 2.1 .5 -1 .5 .3 .5 -1.5 .5 -.1 .5 1.9 .5 -.6 .5 -1.1 .5 -2.2 .5 3.1 .5 .6 .5 -.1 .5 -1 .5 1.4 .5 -.3 .5 -.1 .5 -2.3 .5 .5 .5 -.8 .5 -.2 .5 1.5 .5 .4 .5 .2 .5 -.7 .5 1.5 .5 -1.4 .5 .4 .5 -.5 .5 1.2 .5 .1 .5 0 .5 -.1 .5 -.2 .5 -.7 .5 .6 .5 -.9 .5 1.5 .5 -.7 .5 -.4 .5 -.1 .5 1.4 .5 -.9 .5 .9 .5 -1.9 .5 1 .5 -1.2 .5 1.3 .5 .4 .5 .9 .5 -2.8 .5 2.1 .5 -.4 .5 .5 .5 -1.1 .5 -.2 .5 -.2 .5 .5 .5 -1.8 .5 1.5 .5 1.3 .5 .6 .5 -.8 .5 -1 .5 1.4 .5 .5 .5 -.5 .5 -.9 .5 -.3 .5 1 .5 -1.3 .5 .4 .5 -1.7 .5 1.5 .5 -1.3 .5 -.5 .5 .8 .5 -.1 .5 1.1 .5 .9 .5 -1.3 .5 .6 .5 .3 .5 -1.2 .5 .2 .5 .9 .5 -1 .5 .8 .5 .3 .5 -1.4 .5 1.9 .5 -.9 .5 -.2 .5 -.5 .5 1.3 .5 -.3 .5 -2.2 .5 3 .5 -.5 .5 .5 .5 -.7 .5 .3 .5 .1 .5 -.5 .5 .2 .5 .7 .5 -2 .5 .7 .5 1.5 .5 -2.4 .5 2.7 .5 -1.1 .5 -.4 .5 -.1 .5 .4 .5 .4 .5 .9 .5 -.2 .5 -2.1 .5 1.8 .5 .4 .5 -.6 .5 -1.1 .5 .8 .5 -2.4 .5 2.3 .5 -1.5 .5 .9 .5 1 .5 -2.4 .5 1.5 .5 .2 .5 .3 .5 -3.5 .5 2.1 .5 -1.1 .5 .1 .5 .5 .5 .1 .5 .4 .5 -1 .5 .8 .5 -1.8 .5 1.1 .5 -1.7 .5 -2.5 .5 .3 .5 -2.8 .5 -3.4 .5 -3.4 .5 -3.7 .5 -2 .5 .5 .5 .4 .5 3.9 .5 3.7 .5 2.8 .5 3.3 .5 1.8 .5 1.3 .5 1.4 .5 .6 .5 -.5 .5 1.5 .5 0 .5 -.2 .5 -.3 .5 -.6 .5 .7 .5 -.3 .5 -1.1 .5 2.3 .5 -.2 .5 -1.6 .5 1.5 .5 -.8 .5 -.1 .5 -.5 .5 1.9 .5 -1.1 .5 -1.4 .5 .4 .5 1.4 .5 -.9 .5 1.3 .5 -.4 .5 -.1 .5 -3.2 .5 .6 .5 -.8 .5 3.3 .5 -1.4 .5 -1.6 .5 2 .5 .3 .5 -.4 .5 -.1 .5 -2.2 .5 3 .5 1.4 .5 -.8 .5 .9 .5 -2.4 .5 .4 .5 1.3 .5 .5 .5 -.5 .5 -.4 .5 0 .5 1.1 .5 .1 .5 -1.2 .5 -.1 .5 1.2 .5 -.7 .5 -.7 .5 -1.1 .5 1.5 .5 -.5 .5 -.8 .5 1.6 .5 -1.9 .5 2.3 .5 -4.3 .5 4.7 .5 -3.3 .5 2.4 .5 -.1 .5 -.1 .5 -.3 .5 .4 .5 1.2 .5 -.3 .5 -1.3 .5 .5 .5 -.6 .5 1.2 .5 -.4 .5 -1.2 .5 1.2 .5 .6 .5 -.4 .5 .1 .5 -1 .5 -1.4 .5 2.4 .5 -.7 .5 -1.6 .5 2 .5 .9 .5 -3.9 .5 3.8 .5 .3 .5 -3.1 .5 1.5 .5 -1.5 .5 2 .5 .4 .5 -2 .5 2.1 .5 -.1 .5 -.4 .5 -.3 .5 -2.3 .5 -1.8 .5 3.3 .5 -.1 .5 .5 .5 -2 .5 3.3 .5 -2.7 .5 2.7 .5 -2.2 .5 1.6 .5 -1.4 .5 1.8 .5 0 .5 -1.1 .5 -2.2 .5 2.9 .5 -1.5 .5 -.2 .5 -3.1 .5 -3.8 .5 .7 .5 -3 .5 -.4 .5 -4.1 .5 -1.9 .5 .7 .5 1.7 .5 1.5 .5 2.2 .5 3.9 .5 1.8 .5 1.2 .5 1.8 .5 .8 .5 0 .5 -.1 .5 .5 .5 -4 .5 2.5 .5 2.7 .5 -3.3 .5 2.9 .5 .2 .5 .1 .5 -1.2 .5 .6 .5 .1 .5 1.2 .5 .5 .5 -1.6 .5 .1 .5 -.3 .5 .7 .5 -2 .5 2.6 .5 .4 .5 -2.9 .5 2.7 .5 -2.1 .5 2.2 .5 -.8 .5 0 .5 -.5 .5 1.4 .5 -1 .5 .8 .5 .3 .5 -.3 .5 .1 .5 -.8 .5 .5 .5 -.3 .5 .8 .5 -.8 .5 .8 .5 -1.4 .5 .9 .5 -.3 .5 -1.5 .5 .1 .5 1 .5 -.1 .5 -1.7 .5 .3 .5 -.9 .5 -2.8 .5 .7 .5 -1.6 .5 -.9 .5 -5.9 .5 3.6 .5 .2 .5 0 .5 .3 .5 2 .5 -.2 .5 1.8 .5 2.5 .5 .3 .5 .5 .5 .8 .5 .7 .5 .9 .5 .1 .5 -.8 .5 -2.2 .5 2.6 .5 1 .5 -.9 .5 0 .5 -1 .5 1 .5 .9 .5 -1.3 .5 1.6 .5 -.7 .5 .2 .5 -.2 .5 .7 .5 -1.4 .5 -.1 .5 .9 .5 -.7 .5 .7 .5 0 .5 .2 .5 -.8 .5 1.2 .5 -.2 .5 -.4 .5 -1.4 .5 1.6 .5 -1.5 .5 2 .5 -.4 .5 -1.4 .5 2.1 .5 -.1 .5 -.1 .5 .1 .5 .6 .5 -1.3 .5 .1 .5 .3 .5 -3.1 .5 3 .5 -1.3 .5 1 .5 -.9 .5 1.5 .5 -.7 .5 -.2 .5 -2.3 .5 -.1 .5 2.1 .5 .6 .5 -1 .5 2 .5 -1 .5 -.8 .5 .5 .5 .3 .5 -.1 .5 -1.1 .5 1.8 .5 0 .5 .6 .5 -1.7 .5 -1.8 .5 1.6 .5 1.1 .5 .4 .5 -1.9 .5 1 .5 -1.9 .5 1.5 .5 -.2 .5 .2 .5 -3.9 .5 3.9 .5 .6 .5 -1 .5 .7 .5 -3.2 .5 2.2 .5 .5 .5 -1.4 .5 1 .5 -.2 .5 -2.4 .5 .3 .5 -3 .5 -.2 .5 -11.6 .5 6.3 .5 -1.7 .5 -3.9 .5 .4 .5 -.7 .5 -.1 .5 3.9 .5 2 .5 1.4 .5 1.9 .5 2.4 .5 2.9 .5 .6 .5 .4 .5 1.2 .5 -.9 .5 1.3 .5 -.7 .5 -.4 .5 -1 .5 .9 .5 1.4 .5 -2.2 .5 1.2 .5 .6 .5 .1 .5 .2 .5 -.6 .5 1 .5 -.2 .5 -.6 .5 -.1 .5 1 .5 -1.6 .5 .4 .5 1.1 .5 .3 .5 -.8 .5 -1 .5 .7 .5 .7 .5 -1.6 .5 1.6 .5 -.6 .5 .2 .5 0 .5 -1.5 .5 1.8 .5 -.9 .5 .7 .5 -.6 .5 .4 .5 -.4 .5 -2.4 .5 1.3 .5 -.1 .5 -.7 .5 2.3 .5 -1.6 .5 1.3 .5 -.2 .5 -.6 .5 1 .5 -.2 .5 -3.7 .5 1.5 .5 -2.4 .5 2.4 .5 -2.5 .5 -1.1 .5 -2 .5 -4.1 .5 -1.7 .5 -4.9 .5 -5.6 .5 -5.5 .5 -4.6 .5 -2.3 .5 .7 .5 3.6 .5 2.1 .5 5.3 .5 5.3 .5 5.1 .5 3.6 .5 2.8 .5 .2 .5 3.5 .5 -1.8 .5 2.9 .5 1.9 .5 -.9 .5 .2 .5 .2 .5 1 .5 .2 .5 0 .5 1.1 .5 -1.2 .5 .5 .5 -.3 .5 -.8 .5 -.9 .5 2.4 .5 -1.7 .5 -.1 .5 1.4 .5 -.3 .5 -.6 .5 1.2 .5 .1 .5 -1 .5 -2.1 .5 2.8 .5 -.3 .5 -1.3 .5 -.7 .5 1.9 .5 -1.9 .5 -.2 .5 .1 .5 1.5 .5 -1.1 .5 -.4 .5 -.2 .5 -.8 .5 -2.8 .5 0 .5 -5.2 .5 -3.7 .5 -8.1 .5 -9.8 .5 -15.2 .5 -11.7 .5 -14.1 .5 -6.3 .5 .1 .5 6.3 .5 11.8 .5 12.8 .5 14.3 .5 10.6 .5 4.7 .5 6.1 .5 4.9 .5 1.8 .5 2.6 .5 1.2 .5 -1.7 .5 1.2 .5 -.1 .5 .9 .5 -.1 .5 -.1 .5 -.1 .5 1.2 .5 1.2 .5 -1 .5 -1.3 .5 2 .5 -.2 .5 -1 .5 2.3 .5 -.8 .5 .7 .5 -4.9 .5 4.9 .5 -.7 .5 -4.6 .5 4.5 .5 1 .5 -.1 .5 -1.4 .5 1.3 .5 -1.1 .5 -.1 .5 1.7 .5 -.3 .5 -.2 .5 .1 .5 -.7 .5 1.3 .5 -2.9 .5 1.5 .5 1.7 .5 -.9 .5 -.7 .5 -1.1 .5 1 .5 -1.2 .5 2 .5 -2.2 .5 1.5 .5 .8 .5 -.2 .5 -.9 .5 1.1 .5 -.6 .5 -1.5 .5 2.2 .5 .3 .5 -.2 .5 -.1 .5 .8 .5 0 .5 -4.9 .5 4.7 .5 -1.2 .5 1.3 .5 -2.5 .5 2.7 .5 -.2 .5 -1 .5 1.6 .5 -2 .5 2 .5 -2.3 .5 -.5 .5 .4 .5 1.6 .5 .7 .5 .1 .5 .2 .5 -2 .5 .3 .5 .6 .5 .9 .5 -.4 .5 -5.1 .5 2.6 .5 3.7 .5 -1.1 .5 .1 .5 -1.5 .5 .3 .5 -.9 .5 2.8 .5 -3 .5 1.2 .5 .8 .5 -.7 .5 1.7 .5 -.9 .5 .1 .5 -.5 .5 .4 .5 -.6 .5 .7 .5 -.8 .5 .2 .5 -1.8 .5 2.4 .5 -2.7 .5 .1 .5 1.8 .5 .1 .5 -.3 .5 0 .5 -.4 .5 .7 .5 -.2 .5 -2.7 .5 1.2 .5 1.4 .5 .3 .5 -.5 .5 .7 .5 -2.9 .5 2 .5 -1.5 .5 1.2 .5 .9 .5 -.1 .5 -.6 .5 -.3 .5 -.3 .5 -.1 .5 .3 .5 -3.4 .5 3.1 .5 -.3 .5 .4 .5 -1 .5 -1.5 .5 1.7 .5 -.1 .5 -.2 .5 -.7 .5 -.4 .5 -2.6 .5 .5 .5 -2.2 .5 -.8 .5 -1.9 .5 -1.6 .5 -2.5 .5 -2.1 .5 -4.4 .5 -6.1 .5 -7.1 .5 -10.3 .5 -4.8 .5 -10.2 .5 -9.2 .5 -12.3 .5 -7.1 .5 -8 .5 -6.7 .5 -3.5 .5 0 .5 .4 .5 7.7 .5 3.8 .5 11.3 .5 8.7 .5 10.4 .5 9.6 .5 8.1 .5 6 .5 6.3 .5 3.7 .5 3.9 .5 3.1 .5 -.2 .5 4.3 .5 -.9 .5 2.1 .5 .1 .5 -.1 .5 -1 .5 -1.1 .5 1.3 .5 .1 .5 -1.9 .5 .3 .5 -1.3 .5 1.6 .5 -1 .5 2.9 .5 -.5 .5 1.8 .5 1.5 .5 -2.1 .5 4.5 .5 1.2 .5 -.3 .5 .9 .5 -1.2 .5 3.7 .5 .9 .5 .4 .5 -.4 .5 1.7 .5 1.3 .5 .1 .5 1.2 .5 -.6 .5 -.9 .5 2.5 .5 -.3 .5 -.4 .5 -1.9 .5 1.2 .5 .4 .5 -1.9 .5 -1.5 .5 -.1 .5 .4 .5 -3.4 .5 .7 .5 2.3 .5 -.3 .5 1.8 .5 1.5 .5 -.1 .5 2.8 .5 .6 .5 -1 .5 -.2 .5 -.4 .5 2.9 .5 -.1 .5 -.8 .5 -.9 .5 -1.2 .5 0 .5 -3.3 .5 -2.3 .5 -5.9 .5 -6.7 .5 -6.1 .5 -4.1 .5 -1.3 .5 3.3 .5 5.5 .5 5 .5 3.7 .5 .5 .5 -4.5 .5 -9 .5 -14.2 .5 -17.7 .5 -21.1 .5 -12.2 .5 0 .5 11.5 .5 19.8 .5 16.4 .5 18.9 .5 9.4 .5 7.8 .5 3.6 .5 1.5 .5 1.2 .5 .3 .5 1.1 .5 -1.1 .5 1 .5 1.1 .5 .3 .5 -1.2 .5 -.9 .5 1.3 .5 1.5 .5 -1.5 .5 1.5 .5 -.2 .5 -.3 .5 -.6 .5 1.3 .5 .7 .5 -1.9 .5 -.3 .5 1.7 .5 0 .5 -.2 .5 -.5 .5 0 .5 0 .5 -2.6 .5 2.4 .5 .2 .5 -.8 .5 1.6 .5 .6 .5 -1.1 .5 .1 .5 .1 .5 -.3 .5 -2.1 .5 -.2 .5 2.2 .5 -2.5 .5 -.6 .5 2.6 .5 -.5 .5 1.2 .5 -.8 .5 -.5 .5 -1.2 .5 -.4 .5 1.6 .5 -.7 .5 .3 .5 -.3 .5 -1.9 .5 -.5 .5 1.7 .5 -2.3 .5 .5 .5 -1.7 .5 -2.2 .5 -5.2 .5 -5.5 .5 -10.8 .5 -7.6 .5 -10 .5 -9.6 .5 -7.4 .5 .8 .5 4.7 .5 8.7 .5 11.5 .5 9.6 .5 8.1 .5 6.9 .5 3 .5 5 .5 .4 .5 .3 .5 3.6 .5 .1 .5 0 .5 -.2 .5 .9 .5 -3.3 .5 3.1 .5 .6 .5 -2.7 .5 1.8 .5 .2 .5 -.3 .5 -.1 .5 1.1 .5 -3.9 .5 4.1 .5 -.5 .5 -.8 .5 -.1 .5 1.7 .5 -3 .5 2.4 .5 -4.4 .5 4.3 .5 -1.2 .5 -.6 .5 -1 .5 -1.5 .5 -2.5 .5 -3.4 .5 -4.5 .5 -4.7 .5 -1.8 .5 -3.6 .5 1 .5 1.3 .5 2.7 .5 4.8 .5 2.3 .5 3.9 .5 1 .5 -.3 .5 4 .5 -1.8 .5 1.3 .5 -1.4 .5 -1.4 .5 -4.4 .5 -5.5 .5 -5.3 .5 -10.4 .5 -12.7 .5 -16.4 .5 -9.3 .5 -7 .5 -1 .5 5.8 .5 13.5 .5 13 .5 12.8 .5 8.8 .5 8.2 .5 6.5 .5 3.8 .5 1.9 .5 .8 .5 .9 .5 -.3 .5 .4 .5 .5 .5 .3 .5 .5 .5 -1.7 .5 1.2 .5 -.1 .5 .1 .5 -4 .5 2.9 .5 -.9 .5 -1 .5 2.1 .5 -.9 .5 -3.1 .5 2.5 .5 -6.3 .5 4.7 .5 -2.4 .5 -.6 .5 -2.4 .5 -4.3 .5 -7 .5 -7.5 .5 -14.1 .5 -20 .5 -27.2 .5 -32.3 .5 -36.4 .5 -32.9 .5 -24.9 .5 -8.4 .5 7.7 .5 16 .5 21.9 .5 18.2 .5 12.1 .5 9.1 .5 3.1 .5 0 .5 0 .5 4.1 .5 3.5 .5 2.6 .5 4.8 .5 7.7 .5 2.4 .5 7.3 .5 6.8 .5 8.6 .5 8.2 .5 9.1 .5 9.4 .5 6.7 .5 11.4 .5 8.2 .5 6.9 .5 6 .5 2.3 .5 6.1 .5 3.2 .5 2.3 .5 .1 .5 2.6 .5 2.1 .5 -.5 .5 .5 .5 -1.6 .5 3 .5 -3.2 .5 1.2 .5 .5 .5 -2.3 .5 .1 .5 -1.8 .5 -4.2 .5 -8.7 .5 -11.5 .5 -25 .5 -30 .5 -39.8 .5 -43.1 .5 -29.8 .5 -1.3 .5 27 .5 41.9 .5 37.5 .5 37.7 .5 21.9 .5 15.4 .5 7.6 .5 5 .5 -3.9 .5 6 .5 3.2 .5 .8 .5 .6 .5 -2 .5 2.2 .5 -.5 .5 1.6 .5 -1.8 .5 1.4 .5 -1.3 .5 2.3 .5 -.1 .5 -.3 .5 .2 .5 -2.5 .5 1.4 .5 -2.5 .5 .2 .5 -2.5 .5 -2.7 .5 -2.1 .5 1.2 .5 1.4 .5 .6 .5 .4 .5 2.3 .5 .9 .5 1.5 .5 1.9 .5 -.4 .5 1.5 .5 .1 .5 1.1 .5 -.3 .5 -2.7 .5 3.2 .5 -1.2 .5 .9 .5 .4 .5 -1.1 .5 .8 .5 -.9 .5 1.1 .5 -.6 .5 .1 .5 .7 .5 1.2 .5 -1.4 .5 1.3 .5 -1.4 .5 .6 .5 .3 .5 .4 .5 -1.7 .5 1.8 .5 -.2 .5 0 .5 -1.6 .5 -.1 .5 .9 .5 -1 .5 1.5 .5 -.6 .5 0 .5 -1.5 .5 0 .5 0 .5 2.6 .5 0 .5 .4 .5 -.8 .5 1.1 .5 -1.5 .5 .5 .5 -.9 .5 -1.2 .5 1.2 .5 .7 .5 -3.2 .5 4.5 .5 -1.1 .5 .9 .5 -.9 .5 .9 .5 .2 .5 .2 .5 -.1 .5 -.3 .5 -2 .5 2.1 .5 -1 .5 .1 .5 .7 .5 -1 .5 1 .5 -.3 .5 -.2 .5 .6 .5 -2.4 .5 -.3 .5 1.9 .5 -3.3 .5 2.2 .5 -.4 .5 .2 .5 -.7 .5 1.6 .5 -1.6 .5 1.4 .5 -.7 .5 .3 .5 -1.1 .5 1.8 .5 -.2 .5 .1 .5 -.4 .5 -.6 .5 -1.1 .5 -.8 .5 -1.9 .5 -.8 .5 -.1 .5 -1.3 .5 -2.5 .5 -.9 .5 .4 .5 .8 .5 2.6 .5 1 .5 1.3 .5 .9 .5 1.4 .5 .2 .5 1.3 .5 -2.1 .5 2.5 .5 .2 .5 .3 .5 -1.5 .5 .4 .5 .7 .5 .2 .5 .4 .5 -.5 .5 -.8 .5 -.4 .5 -1.9 .5 .4 .5 -.1 .5 -1.4 .5 .4 .5 -.9 .5 -2.1 .5 .4 .5 .3 .5 -3 .5 3.3 .5 -2.1 .5 1 .5 2.4 .5 1.4 .5 1.2 .5 1.4 .5 -.3 .5 -1 .5 1.7 .5 .8 .5 -.3 .5 -.3 .5 .5 .5 -1.7 .5 .4 .5 1 .5 -.2 .5 .1 .5 .5 .5 -2.1 .5 1.3 .5 -1.1 .5 1.8 .5 -.8 .5 .2 .5 .5 .5 -.4 .5 -.8 .5 1.5 .5 .1 .5 -1.6 .5 -.1 .5 .5 .5 -1.1 .5 1.5 .5 -3 .5 3.1 .5 -.7 .5 -.8 .5 .7 .5 .3 .5 1.6 .5 -1.1 .5 .8 .5 -1.3 .5 .6 .5 -2.7 .5 1.3 .5 .5 .5 1.8 .5 -1 .5 -.7 .5 1.9 .5 -.5 .5 -.3 .5 -1.2 .5 -.4 .5 1.5 .5 -.6 .5 -1.3 .5 .7 .5 -1.5 .5 -2.1 .5 -.9 .5 -2.6 .5 -1.3 .5 -3.8 .5 -2.4 .5 -1.8 .5 -.4 .5 -.8 .5 1.2 .5 2.5 .5 1.9 .5 3 .5 1.3 .5 2.7 .5 1.1 .5 1.6 .5 2 .5 .5 .5 .2 .5 -1.5 .5 1.5 .5 .2 .5 -3.2 .5 1.7 .5 2.2 .5 .1 .5 -1.6 .5 .5 .5 -.7 .5 .3 .5 -.1 .5 .6 .5 -.5 .5 -.4 .5 .2 .5 .3 .5 .3 .5 .2 .5 -1 .5 .9 .5 -2.3 .5 1.9 .5 .6 .5 .7 .5 -.5 .5 -1.5 .5 2 .5 -.9 .5 -.7 .5 .9 .5 -.7 .5 1.6 .5 0 .5 -1.9 .5 -.6 .5 1.4 .5 .4 .5 -.6 .5 .5 .5 0 .5 .1 .5 -.8 .5 1 .5 .4 .5 .4 .5 -.1 .5 -2.1 .5 .2 .5 1 .5 .4 .5 .1 .5 -.2 .5 -3.2 .5 3.4 .5 -1 .5 .6 .5 -1.2 .5 .2 .5 1.8 .5 -1.8 .5 1.7 .5 -1.5 .5 -.2 .5 -1.8 .5 2.3 .5 .5 .5 -1.2 .5 -.5 .5 -.1 .5 1 .5 -.9 .5 0 .5 .6 .5 0 .5 -.4 .5 -.3 .5 .2 .5 .3 .5 .1 .5 -.2 .5 -.1 .5 -1.5 .5 1.3 .5 -.3 .5 -3 .5 -1.1 .5 1.3 .5 -.3 .5 -3.5 .5 -1.1 .5 -3.6 .5 -4.8 .5 -4.2 .5 -6.2 .5 -6.9 .5 -3.4 .5 -5.1 .5 2.2 .5 1.9 .5 4.5 .5 5.1 .5 6.8 .5 5.8 .5 2.9 .5 4.1 .5 1.6 .5 3.8 .5 -.7 .5 2.6 .5 -.2 .5 1.5 .5 -2 .5 2.1 .5 -3 .5 3.3 .5 -2.7 .5 2.5 .5 -1.1 .5 1.1 .5 -2.1 .5 -1.9 .5 3.4 .5 -2.2 .5 2.7 .5 -1 .5 1 .5 -.2 .5 -1.8 .5 .1 .5 2.9 .5 -1.3 .5 1.1 .5 1.1 .5 -2 .5 .5 .5 0 .5 .8 .5 -1.9 .5 1.6 .5 1.2 .5 -.4 .5 -1 .5 -.1 .5 1.8 .5 -1.3 .5 .8 .5 .1 .5 .8 .5 -.5 .5 .6 .5 -.4 .5 .3 .5 -.8 .5 -.4 .5 .8 .5 -2.7 .5 2.7 .5 -.4 .5 .2 .5 -.3 .5 1 .5 -.5 .5 .5 .5 -1.6 .5 .7 .5 .7 .5 -.2 .5 -.7 .5 -1.1 .5 -.5 .5 1.7 .5 -1.9 .5 1.8 .5 -.9 .5 -.1 .5 1.2 .5 -.4 .5 -.3 .5 .3 .5 -4 .5 1.7 .5 -.1 .5 .1 .5 2.2 .5 -2.7 .5 1.8 .5 .5 .5 -.1 .5 -.1 .5 -.6 .5 1.7 .5 -2.7 .5 1.4 .5 .2 .5 -.3 .5 -.4 .5 1.4 .5 -1.5 .5 .8 .5 -.9 .5 .6 .5 1.1 .5 -.6 .5 -1 .5 -.6 .5 2.6 .5 -1.5 .5 -.1 .5 .1 .5 -1.3 .5 .7 .5 .9 .5 1.5 .5 0 .5 -2.1 .5 -.6 .5 1.9 .5 -1.4 .5 1.3 .5 -1.3 .5 1.6 .5 -1.1 .5 -.1 .5 1 .5 .1 .5 -.1 .5 -.4 .5 -.8 .5 -1.3 .5 -.2 .5 2.9 .5 -.5 .5 -2.3 .5 2.3 .5 -.5 .5 .7 .5 -.4 .5 -1.1 .5 1.3 .5 -.3 .5 -.8 .5 -.1 .5 .3 .5 .5 .5 .5 .5 -2.5 .5 2.1 .5 -1 .5 1 .5 -.4 .5 1 .5 .5 .5 -.7 .5 -1.5 .5 1.9 .5 -2.2 .5 -.7 .5 2.4 .5 -1.3 .5 -.2 .5 .1 .5 1.1 .5 1 .5 -.1 .5 -.1 .5 -1.9 .5 2.4 .5 -1.9 .5 1.9 .5 -.1 .5 -.2 .5 -1 .5 -.2 .5 -.1 .5 .7 .5 -.5 .5 -.5 .5 2.2 .5 -1 .5 .2 .5 .3 .5 .4 .5 -.1 .5 -1.9 .5 1.5 .5 -.5 .5 .3 .5 .3 .5 -2.6 .5 1.7 .5 -.1 .5 .7 .5 -1.5 .5 -.3 .5 2 .5 .5 .5 -2 .5 .8 .5 -.9 .5 -.6 .5 2.4 .5 -.3 .5 -1 .5 .9 .5 -1.1 .5 1.2 .5 .1 .5 -1.1 .5 -.2 .5 1.3 .5 -.3 .5 -.2 .5 .5 .5 -.9 .5 1 .5 -1.5 .5 1.5 .5 -1.8 .5 .6 .5 1 .5 -1.6 .5 .2 .5 -.1 .5 -.9 .5 -.8 .5 1.6 .5 -.8 .5 .8 .5 .8 .5 -.4 .5 -.5 .5 -.5 .5 -1.1 .5 -1 .5 -2.9 .5 -5 .5 -5.8 .5 -8.1 .5 -9.9 .5 -6.5 .5 1.2 .5 4.3 .5 8 .5 10.5 .5 7.1 .5 3.4 .5 1.8 .5 3 .5 .7 .5 -1.5 .5 1 .5 1.6 .5 1 .5 -.1 .5 .5 .5 -.8 .5 -.6 .5 -.7 .5 1.6 .5 -.5 .5 .6 .5 -1.2 .5 .5 .5 -2.1 .5 1.9 .5 -.5 .5 .7 .5 2 .5 -.8 .5 -1.3 .5 .9 .5 1.1 .5 -1.9 .5 2.1 .5 -1.3 .5 -.3 .5 1.4 .5 .1 .5 -2.6 .5 2.9 .5 .2 .5 -.6 .5 .9 .5 -2.4 .5 .7 .5 -1 .5 2 .5 .8 .5 -1 .5 0 .5 -.7 .5 -.7 .5 .7 .5 1 .5 .7 .5 -.4 .5 -1.9 .5 1.5 .5 -1.5 .5 -.5 .5 2.2 .5 -.7 .5 -1.6 .5 -1.1 .5 1 .5 1.7 .5 -.9 .5 .1 .5 -1.4 .5 -3.2 .5 -.3 .5 -.9 .5 -.2 .5 -.8 .5 -2.8 .5 -1 .5 3.4 .5 -1 .5 3.4 .5 .8 .5 1.1 .5 1.3 .5 .1 .5 1.9 .5 .2 .5 .5 .5 -1.2 .5 -1.1 .5 2 .5 -2.6 .5 1.5 .5 .2 .5 -.6 .5 -.2 .5 -1.8 .5 -1.8 .5 -1.6 .5 -2.9 .5 -2.7 .5 -4.2 .5 -2.9 .5 .2 .5 -4.1 .5 4.8 .5 2.9 .5 2.1 .5 2.8 .5 2.5 .5 1.8 .5 2.4 .5 1.8 .5 .5 .5 .9 .5 -.1 .5 -.7 .5 .8 .5 -1.5 .5 .9 .5 2.1 .5 -1.2 .5 .9 .5 .3 .5 -.3 .5 -.2 .5 -1.7 .5 1.4 .5 -.4 .5 -.3 .5 -.9 .5 -.9 .5 -2.2 .5 .6 .5 -2.3 .5 -.9 .5 .7 .5 0 .5 -.5 .5 1.7 .5 .7 .5 1.2 .5 .7 .5 .8 .5 .6 .5 -1.5 .5 3.2 .5 -.6 .5 .7 .5 .4 .5 0 .5 -1 .5 .7 .5 .2 .5 1.2 .5 -2.6 .5 1.9 .5 -.1 .5 .1 .5 -1.4 .5 .9 .5 1 .5 -.2 .5 -1.3 .5 -.8 .5 1.8 .5 -.3 .5 -1.5 .5 .5 .5 -3 .5 3.7 .5 .3 .5 -.6 .5 -.4 .5 -.5 .5 .9 .5 -2.1 .5 .4 .5 2 .5 -.5 .5 -.6 .5 .3 .5 -.8 .5 0 .5 -.4 .5 .1 .5 0 .5 1.3 .5 0 .5 -.3 .5 .5 .5 -2.2 .5 .7 .5 -.6 .5 2 .5 -.3 .5 -.3 .5 -1.4 .5 .4 .5 2.5 .5 -.8 .5 -.4 .5 .5 .5 -1.3 .5 1.3 .5 -.6 .5 -.8 .5 .8 .5 .7 .5 -1.4 .5 2.2 .5 -1.5 .5 .3 .5 -1.9 .5 1.2 .5 .4 .5 -.3 .5 .2 .5 -2.4 .5 1.8 .5 -2.7 .5 3.9 .5 -.4 .5 -1.7 .5 .5 .5 -.1 .5 -.8 .5 2.2 .5 -.7 .5 .7 .5 -1.8 .5 .5 .5 -1.7 .5 .4 .5 2.2 .5 -1.4 .5 -.7 .5 1.9 .5 -1.1 .5 1.4 .5 -.5 .5 -1.6 .5 1.5 .5 -2.2 .5 3.4 .5 -2.4 .5 2.1 .5 .7 .5 -.4 .5 -1.1 .5 .4 .5 -4.3 .5 5.2 .5 -1.1 .5 -.3 .5 -.1 .5 1.7 .5 -.4 .5 -.7 .5 .3 .5 .2 .5 -1 .5 -1.7 .5 1.9 .5 .1 .5 0 .5 .5 .5 .2 .5 -1.4 .5 -.4 .5 -1.9 .5 3.7 .5 -1.4 .5 1 .5 .5 .5 0 .5 .2 .5 -1 .5 .9 .5 -1.1 .5 1.3 .5 -2.6 .5 -.7 .5 1.7 .5 .2 .5 -.4 .5 -.6 .5 -.7 .5 -.1 .5 .6 .5 -.7 .5 -1.9 .5 -.4 .5 -2.1 .5 -.4 .5 -3.3 .5 0 .5 -2.6 .5 -2.4 .5 -.7 .5 .2 .5 -.6 .5 .6 .5 1.1 .5 -.6 .5 4.4 .5 1.6 .5 .6 .5 2.9 .5 2 .5 .9 .5 .4 .5 1.3 .5 -.8 .5 1.3 .5 .4 .5 .3 .5 -.4 .5 .5 .5 -.7 .5 2.1 .5 .1 .5 -.6 .5 .4 .5 -.1 .5 -.5 .5 .3 .5 -1.7 .5 .9 .5 -1.5 .5 .4 .5 -2.6 .5 4.2 .5 -2.4 .5 1.3 .5 .5 .5 -.7 .5 -1.1 .5 -2.8 .5 -1.7 .5 -.1 .5 -3.7 .5 -1.7 .5 -5.2 .5 -5.6 .5 -1.3 .5 .5 .5 3.6 .5 2.6 .5 5.1 .5 1.9 .5 5.4 .5 .8 .5 .8 .5 3.3 .5 .9 .5 -1.5 .5 2 .5 -1.4 .5 .1 .5 1 .5 .2 .5 .6 .5 -2.1 .5 2.2 .5 -.7 .5 -1.7 .5 1.8 .5 -1.9 .5 2.2 .5 -.5 .5 .2 .5 -2.2 .5 -.2 .5 1 .5 1.2 .5 -2.9 .5 2.3 .5 1.2 .5 -2.5 .5 1.7 .5 .2 .5 0 .5 0 .5 -.3 .5 -1.8 .5 2.1 .5 -1.9 .5 1.2 .5 -.5 .5 -2.5 .5 2.7 .5 .2 .5 -.8 .5 -2.4 .5 3.1 .5 -.4 .5 -1.1 .5 1.8 .5 -1.4 .5 .3 .5 .1 .5 0 .5 -2.1 .5 1.7 .5 -.9 .5 1.1 .5 -.9 .5 1.4 .5 -1.7 .5 1.3 .5 .2 .5 0 .5 -.3 .5 -.3 .5 -.6 .5 1.3 .5 -1.6 .5 0 .5 2.4 .5 -1 .5 .7 .5 -1 .5 .4 .5 -.1 .5 .5 .5 1.1 .5 -1.2 .5 -.2 .5 1.3 .5 -.5 .5 -.6 .5 -1.5 .5 1.2 .5 -1.1 .5 .6 .5 .7 .5 -.1 .5 .6 .5 -.5 .5 -.6 .5 -.1 .5 -.1 .5 -2.1 .5 1.7 .5 -.2 .5 .5 .5 -.9 .5 -.2 .5 .3 .5 .4 .5 -.2 .5 -1.4 .5 1.1 .5 -1.5 .5 1.9 .5 -2.2 .5 1.8 .5 -.4 .5 -1.2 .5 0 .5 -1.5 .5 -1.1 .5 -2.1 .5 -2.7 .5 -2.7 .5 -1.8 .5 -4.7 .5 -7.1 .5 -5.5 .5 -11.7 .5 -5.7 .5 -10 .5 -7.1 .5 -8.8 .5 -6.2 .5 -3.4 .5 -2.7 .5 4.1 .5 5.5 .5 8.1 .5 7.5 .5 8.6 .5 7.1 .5 7.5 .5 6.2 .5 5.5 .5 2 .5 2.3 .5 1.9 .5 .8 .5 -.2 .5 -2.7 .5 1.9 .5 1 .5 .4 .5 -1.1 .5 1 .5 -.8 .5 1.9 .5 .1 .5 2.2 .5 .1 .5 1.2 .5 3.2 .5 1.2 .5 1.8 .5 -.5 .5 2.8 .5 -.1 .5 .7 .5 1.7 .5 -1.6 .5 2.8 .5 .4 .5 -.7 .5 -.8 .5 1.1 .5 -1.7 .5 .1 .5 .4 .5 .5 .5 -1.1 .5 -1.1 .5 -.7 .5 .8 .5 -2.9 .5 .3 .5 2.3 .5 .5 .5 1.3 .5 .8 .5 -.2 .5 -.2 .5 .9 .5 .6 .5 .2 .5 0 .5 1.8 .5 -1.1 .5 .6 .5 -1.1 .5 1.8 .5 -.9 .5 .7 .5 .5 .5 -2.4 .5 2.7 .5 .1 .5 -1.1 .5 .7 .5 -1 .5 .9 .5 -.1 .5 -1.4 .5 1.2 .5 .4 .5 .2 .5 -2.7 .5 2.6 .5 -.6 .5 1.1 .5 -3.8 .5 4.1 .5 -.5 .5 .2 .5 -2.1 .5 1.2 .5 -.9 .5 .8 .5 0 .5 1.3 .5 -.7 .5 .2 .5 -2 .5 .4 .5 1.4 .5 -1.1 .5 1.8 .5 -3.4 .5 0 .5 1.9 .5 1.2 .5 -.1 .5 -.4 .5 .5 .5 -.3 .5 .8 .5 -.4 .5 .2 .5 .4 .5 -1.1 .5 -.9 .5 2 .5 -.6 .5 -.1 .5 -.7 .5 -1 .5 1.2 .5 1 .5 -.4 .5 -.9 .5 -4.2 .5 5.8 .5 .3 .5 -.1 .5 -2.4 .5 1.8 .5 -1.2 .5 .7 .5 .9 .5 -.5 .5 -.6 .5 1.6 .5 -2.1 .5 .3 .5 .4 .5 -1.1 .5 2 .5 -1.6 .5 1.5 .5 -1 .5 .9 .5 0 .5 -1.1 .5 .4 .5 -.5 .5 .9 .5 -.2 .5 0 .5 -.7 .5 .5 .5 -1.3 .5 -1.2 .5 2.2 .5 -1.8 .5 -.6 .5 .4 .5 .8 .5 -.7 .5 -1.8 .5 .5 .5 -2.3 .5 1 .5 .4 .5 -1.5 .5 1.1 .5 .4 .5 -.3 .5 2.6 .5 .4 .5 .7 .5 .9 .5 -2.4 .5 1.8 .5 1.1 .5 .6 .5 -2.5 .5 2 .5 -1.6 .5 1.9 .5 .3 .5 -1.1 .5 1.5 .5 -.8 .5 .2 .5 -.3 .5 -2.7 .5 2.5 .5 .6 .5 -1.5 .5 -1 .5 1.9 .5 .5 .5 -.6 .5 -.4 .5 .9 .5 -1.8 .5 1.9 .5 -.7 .5 -.1 .5 -.4 .5 1.8 .5 -.4 .5 0 .5 -1 .5 -1.6 .5 1.1 .5 .6 .5 -1.3 .5 1.9 .5 -1.3 .5 .2 .5 .9 .5 -.1 .5 -4.1 .5 4.4 .5 -.5 .5 -.3 .5 .6 .5 -1.8 .5 1.1 .5 -1.3 .5 .9 .5 .5 .5 0 .5 -.1 .5 .4 .5 -1.5 .5 1.5 .5 .9 .5 -1.6 .5 0 .5 .9 .5 .1 .5 -1.6 .5 .7 .5 .9 .5 -.2 .5 -.6 .5 1.1 .5 -1.8 .5 .7 .5 -.6 .5 .8 .5 -1.9 .5 1.6 .5 -2.1 .5 3.2 .5 -.8 .5 -1.2 .5 1.7 .5 -1.4 .5 .9 .5 0 .5 -.2 .5 -.8 .5 -1.2 .5 2.1 .5 -1.7 .5 -.2 .5 -.2 .5 1.8 .5 .6 .5 -.4 .5 -1.3 .5 -.7 .5 2.1 .5 -.5 .5 -1.6 .5 1.9 .5 -.7 .5 -.3 .5 -.6 .5 .8 .5 -2 .5 .4 .5 -.9 .5 -1 .5 -2.8 .5 1 .5 -2.9 .5 -2.3 .5 -1.3 .5 -2.8 .5 -3.9 .5 -2.4 .5 -5.2 .5 -3.8 .5 -5.4 .5 -5 .5 -4.1 .5 -3.3 .5 -3.7 .5 -3.5 .5 -2.9 .5 -1.1 .5 -1.5 .5 2.2 .5 1.9 .5 4 .5 4.3 .5 3 .5 5.2 .5 5.3 .5 .9 .5 5.5 .5 5 .5 3.1 .5 4.2 .5 -.7 .5 5.3 .5 1.2 .5 1.3 .5 1.5 .5 0 .5 2.8 .5 -2.8 .5 -2.4 .5 3.9 .5 -2.9 .5 -2.7 .5 -5.5 .5 -9.3 .5 -11.6 .5 -11 .5 -9.4 .5 .7 .5 6.9 .5 12.2 .5 12 .5 7.7 .5 8.5 .5 2.5 .5 3.4 .5 .6 .5 2.1 .5 -1.8 .5 .3 .5 .2 .5 2 .5 1.1 .5 -.1 .5 -2.1 .5 1 .5 1.6 .5 -3.6 .5 2.4 .5 .7 .5 -.3 .5 .5 .5 0 .5 -.7 .5 .1 .5 1.2 .5 -.1 .5 -.9 .5 1.1 .5 .1 .5 -1.7 .5 .3 .5 .8 .5 -.4 .5 .4 .5 -1.7 .5 1.3 .5 -2.1 .5 3.2 .5 -.8 .5 -1.4 .5 1.7 .5 .5 .5 -.7 .5 -1.3 .5 .9 .5 -1.3 .5 2.2 .5 -2.1 .5 -1.4 .5 -1.7 .5 -1 .5 -1.5 .5 -1.4 .5 -1.8 .5 -2.7 .5 -1.5 .5 -.8 .5 .6 .5 .2 .5 1.6 .5 1.6 .5 2.2 .5 4 .5 1.7 .5 .4 .5 -1 .5 2.4 .5 -.3 .5 2.2 .5 -.8 .5 .1 .5 1.5 .5 -2.2 .5 0 .5 2.1 .5 -.9 .5 .1 .5 .5 .5 -2 .5 1.8 .5 .4 .5 -1.7 .5 2.1 .5 -.8 .5 .3 .5 -1.2 .5 .5 .5 -1 .5 1.9 .5 -1.5 .5 -.6 .5 -1.1 .5 .5 .5 2.4 .5 -.6 .5 -.2 .5 -1 .5 1.9 .5 0 .5 .4 .5 -1.9 .5 .9 .5 .2 .5 -1.1 .5 .9 .5 1 .5 -.5 .5 -.6 .5 -.3 .5 .6 .5 -1.5 .5 -.7 .5 2.8 .5 -3.3 .5 -1.7 .5 3.8 .5 -.7 .5 .6 .5 .9 .5 .6 .5 -1.9 .5 2 .5 -1.3 .5 -.3 .5 .7 .5 0 .5 -2 .5 1.3 .5 -3 .5 3.2 .5 -1.7 .5 2 .5 -.9 .5 .2 .5 -.8 .5 .9 .5 -2 .5 1 .5 -.2 .5 -1.6 .5 .3 .5 -1.9 .5 .5 .5 .3 .5 0 .5 .1 .5 -1.7 .5 2.7 .5 -1.5 .5 3.2 .5 1 .5 -.9 .5 .1 .5 -.6 .5 .5 .5 .6 .5 -.5 .5 -.5 .5 .7 .5 .6 .5 1.4 .5 -.6 .5 -.5 .5 .1 .5 -1.4 .5 1.9 .5 0 .5 -.7 .5 -.2 .5 -.3 .5 1.3 .5 -1.2 .5 -.8 .5 .1 .5 -.1 .5 -.5 .5 -.9 .5 -.4 .5 -1.6 .5 -1.6 .5 1.5 .5 -2 .5 2 .5 -.1 .5 -.7 .5 3.4 .5 .5 .5 -.1 .5 1.7 .5 .1 .5 -.9 .5 .3 .5 .5 .5 .9 .5 .1 .5 -.4 .5 .2 .5 .2 .5 -1.8 .5 .1 .5 1 .5 -.9 .5 -1.2 .5 2.3 .5 -1 .5 0 .5 .4 .5 -.5 .5 .1 .5 1.2 .5 -4.2 .5 1.9 .5 2.1 .5 0 .5 .4 .5 -1.1 .5 .4 .5 1.1 .5 -.7 .5 .1 .5 .6 .5 -3.3 .5 1.1 .5 1.9 .5 -2.3 .5 1.3 .5 .4 .5 -1 .5 1 .5 -.2 .5 -2.7 .5 1 .5 1.3 .5 -.8 .5 .2 .5 1.9 .5 -1.9 .5 .3 .5 -.1 .5 -1.4 .5 1.6 .5 .6 .5 -.1 .5 -.7 .5 -.3 .5 .6 .5 -.5 .5 -1.3 .5 .1 .5 .2 .5 -1.5 .5 -.4 .5 -.6 .5 -2.2 .5 -2.6 .5 -5.1 .5 -4.9 .5 -8.4 .5 -8.1 .5 -5.4 .5 -4 .5 -.4 .5 4.5 .5 5.8 .5 7.2 .5 7.8 .5 6.3 .5 3.7 .5 2.3 .5 3 .5 -1.5 .5 2.4 .5 2.3 .5 .6 .5 .1 .5 -.4 .5 .6 .5 -1.9 .5 1.2 .5 .7 .5 -1.9 .5 .9 .5 1.2 .5 -.2 .5 -2.5 .5 2 .5 -2.1 .5 0 .5 1.8 .5 -.5 .5 -1.7 .5 2.7 .5 -.2 .5 -.3 .5 1 .5 -1.2 .5 0 .5 .2 .5 .6 .5 -.7 .5 .4 .5 -.8 .5 .4 .5 1 .5 -.1 .5 -.4 .5 .1 .5 -.2 .5 -1.1 .5 .8 .5 -1 .5 -.3 .5 .9 .5 .1 .5 -1.2 .5 -.7 .5 -1.7 .5 -2.1 .5 .7 .5 -1.5 .5 -3.1 .5 -2.7 .5 -3 .5 -3.8 .5 1.7 .5 1 .5 4.8 .5 2.2 .5 .7 .5 4 .5 1.9 .5 .5 .5 1.3 .5 1.2 .5 -1.3 .5 .2 .5 1.1 .5 .5 .5 -1.1 .5 1.3 .5 -3.3 .5 2.9 .5 0 .5 .7 .5 -3.3 .5 1.7 .5 .8 .5 .5 .5 .6 .5 -.3 .5 .1 .5 -1.2 .5 -.7 .5 -.7 .5 2 .5 1 .5 .2 .5 -1.4 .5 .6 .5 -3 .5 1.8 .5 2.3 .5 0 .5 -1.4 .5 -.1 .5 1.9 .5 -.3 .5 -3.6 .5 4 .5 -.1 .5 0 .5 -.7 .5 .6 .5 -1.8 .5 1.8 .5 -.2 .5 .8 .5 -.2 .5 .3 .5 -2.2 .5 1.4 .5 .9 .5 -2 .5 1.4 .5 -1.8 .5 1.2 .5 -.8 .5 2 .5 -3.4 .5 2.4 .5 .7 .5 0 .5 -2.1 .5 2.5 .5 -2.6 .5 1.4 .5 .6 .5 -.1 .5 -2.9 .5 2.4 .5 -.2 .5 -2.1 .5 0 .5 1.3 .5 -3 .5 1.9 .5 -.5 .5 -1 .5 -.3 .5 -.1 .5 .6 .5 .2 .5 .5 .5 -.5 .5 1.7 .5 -.1 .5 1.8 .5 -.8 .5 .9 .5 .6 .5 -1.5 .5 1.1 .5 -2.7 .5 1.3 .5 -1.3 .5 3 .5 -.8 .5 1.5 .5 -1.1 .5 -.1 .5 -1.1 .5 -.1 .5 .5 .5 .6 .5 .1 .5 -.4 .5 -2.3 .5 1.7 .5 -.5 .5 .3 .5 -1.2 .5 1.7 .5 .2 .5 -1.4 .5 -.8 .5 1 .5 -.3 .5 2.2 .5 .3 .5 -1.1 .5 .6 .5 -.1 .5 -1.2 .5 0 .5 1.5 .5 -1.1 .5 1.1 .5 -.4 .5 .2 .5 -.9 .5 -.4 .5 .7 .5 -1.1 .5 .2 .5 .3 .5 0 .5 -.3 .5 -1.2 .5 -1 .5 -.1 .5 -2.1 .5 1.6 .5 -.1 .5 .1 .5 -.4 .5 -2.2 .5 1.7 .5 1.2 .5 -.7 .5 1.3 .5 .8 .5 .8 .5 .2 .5 .1 .5 -1.2 .5 -.1 .5 1.3 .5 -.1 .5 .8 .5 -2.4 .5 1.9 .5 -1.4 .5 -1.5 .5 2.2 .5 .5 .5 .9 .5 -1.7 .5 .5 .5 .4 .5 .6 .5 -4.1 .5 4.2 .5 -1.7 .5 2 .5 -2.3 .5 1.3 .5 -1 .5 -.4 .5 .8 .5 .5 .5 -2.5 .5 1.8 .5 .7 .5 .2 .5 -.2 .5 -.2 .5 .3 .5 -.3 .5 1.3 .5 -2 .5 1.1 .5 .1 .5 1.4 .5 -1.4 .5 -2.4 .5 1.3 .5 1.4 .5 .5 .5 -2.1 .5 1.5 .5 .5 .5 -1.8 .5 1 .5 -.1 .5 0 .5 .7 .5 -1.3 .5 -.4 .5 1 .5 .6 .5 -.3 .5 -.6 .5 -.3 .5 .2 .5 -3 .5 1.4 .5 -1.2 .5 .8 .5 -3 .5 .6 .5 -.7 .5 -1.5 .5 .3 .5 -.7 .5 -.4 .5 -1.2 .5 1.4 .5 -2 .5 1.2 .5 -5.5 .5 6 .5 1.5 .5 -.5 .5 3 .5 -1.1 .5 1.5 .5 1.2 .5 -.2 .5 .7 .5 .6 .5 -.3 .5 .7 .5 1.8 .5 -.4 .5 .2 .5 -3.6 .5 2.8 .5 1.3 .5 -.1 .5 -.4 .5 -1.8 .5 -8.8 .5 7.5 .5 3.8 .5 -2.1 .5 2.1 .5 0 .5 -.3 .5 .2 .5 -.7 .5 -.2 .5 -.3 .5 -1.7 .5 -.7 .5 2.2 .5 -1 .5 -.3 .5 1.7 .5 -.8 .5 1.5 .5 -1 .5 .9 .5 -1.3 .5 1.3 .5 -2.2 .5 1.4 .5 -.8 .5 1.4 .5 -.4 .5 -.6 .5 -.7 .5 .8 .5 .4 .5 0 .5 -2.1 .5 1.7 .5 .6 .5 .3 .5 -.8 .5 .4 .5 -3.5 .5 3.5 .5 -1.1 .5 0 .5 -1 .5 -1 .5 2.5 .5 .5 .5 -.4 .5 1 .5 -.7 .5 -.2 .5 -.1 .5 .5 .5 -.5 .5 .2 .5 -.3 .5 -1.1 .5 .2 .5 1.3 .5 .2 .5 -1.1 .5 1.2 .5 .2 .5 .3 .5 -2.1 .5 2.1 .5 -2.4 .5 -.2 .5 2.4 .5 -3.5 .5 3.5 .5 .5 .5 -.5 .5 .7 .5 -1.3 .5 .1 .5 1.1 .5 -.6 .5 .3 .5 -.7 .5 .3 .5 -.6 .5 -.3 .5 1.3 .5 -2 .5 1 .5 -1.6 .5 1.3 .5 -1.5 .5 2.4 .5 -.3 .5 -.2 .5 .1 .5 .3 .5 -.7 .5 -.4 .5 -.1 .5 .6 .5 .5 .5 .3 .5 -1.9 .5 1.3 .5 .2 .5 -.1 .5 .3 .5 -1 .5 .3 .5 .6 .5 -.2 .5 -2.9 .5 2.9 .5 -1.8 .5 2.1 .5 .1 .5 -.3 .5 .5 .5 -1.5 .5 1.2 .5 -1.2 .5 1.2 .5 -.2 .5 .1 .5 -.1 .5 -.4 .5 -.8 .5 .5 .5 0 .5 .4 .5 -2.8 .5 1.1 .5 1.9 .5 .2 .5 -.4 .5 .5 .5 .1 .5 -4 .5 4.6 .5 -2.7 .5 .4 .5 1.4 .5 -1.6 .5 1 .5 -5.6 .5 4.9 .5 0 .5 1 .5 0 .5 -2.4 .5 .8 .5 -1.6 .5 .3 .5 .1 .5 -.2 .5 -.4 .5 -.6 .5 .5 .5 2 .5 .2 .5 1.1 .5 -.4 .5 .4 .5 .7 .5 -1.6 .5 .6 .5 1.1 .5 .4 .5 .1 .5 .7 .5 -1 .5 -.7 .5 .7 .5 -.7 .5 1.5 .5 .3 .5 -.3 .5 -.1 .5 0 .5 -1.1 .5 -.6 .5 .4 .5 .8 .5 -.2 .5 1.6 .5 -.5 .5 .2 .5 -.4 .5 .2 .5 -.3 .5 -1 .5 .5 .5 -.5 .5 .4 .5 -.2 .5 -1.8 .5 1.7 .5 -.2 .5 1.2 .5 -1.6 .5 .5 .5 .4 .5 1.7 .5 -.1 .5 -1.7 .5 1.2 .5 -1.3 .5 1.5 .5 -.2 .5 -1.1 .5 1.4 .5 -2 .5 .6 .5 -.3 .5 .4 .5 -.4 .5 .4 .5 .6 .5 -.2 .5 -.2 .5 -.8 .5 -.9 .5 2.2 .5 -1.3 .5 -1.5 .5 2.6 .5 .4 .5 -3 .5 1.1 .5 -2.5 .5 .1 .5 3.8 .5 -1 .5 .8 .5 .4 .5 -4.6 .5 1.1 .5 .3 .5 2.7 .5 -4.1 .5 4 .5 -.1 .5 -2.7 .5 2.8 .5 -1 .5 -.5 .5 .1 .5 1 .5 -1.3 .5 -1.2 .5 .6 .5 2.4 .5 -2.5 .5 -.3 .5 2.5 .5 -1.7 .5 1.7 .5 0 .5 .2 .5 0 .5 -1.4 .5 .3 .5 .4 .5 .1 .5 .5 .5 -.7 .5 -1.6 .5 1.1 .5 1.6 .5 -.9 .5 -.3 .5 0 .5 .3 .5 -.5 .5 .3 .5 -4.3 .5 3.8 .5 .2 .5 1.3 .5 -3.6 .5 3.7 .5 -1.1 .5 .5 .5 .2 .5 -.8 .5 -1.3 .5 1.6 .5 -.5 .5 .9 .5 -1.3 .5 .8 .5 .4 .5 -.9 .5 -3.1 .5 4 .5 -1.6 .5 -.9 .5 2.7 .5 -.2 .5 -.3 .5 -.2 .5 -4.5 .5 4 .5 -.3 .5 .9 .5 .6 .5 .8 .5 -1.3 .5 -3.1 .5 2 .5 2.5 .5 -1.1 .5 1.4 .5 -1.2 .5 -.2 .5 .9 .5 -1.3 .5 .2 .5 .3 .5 -.8 .5 -.1 .5 1.2 .5 .3 .5 -1.9 .5 2.3 .5 -2 .5 1.7 .5 -.4 .5 .4 .5 -.8 .5 -2.9 .5 2.6 .5 .8 .5 -2.1 .5 1.5 .5 -1.2 .5 -.8 .5 .8 .5 1.3 .5 -.8 .5 0 .5 0 .5 1.1 .5 .6 .5 -.1 .5 -.4 .5 -.9 .5 -.5 .5 .4 .5 .9 .5 -.4 .5 .7 .5 -1.6 .5 0 .5 1.6 .5 .1 .5 0 .5 -1.5 .5 1.5 .5 -.7 .5 .1 .5 .5 .5 0 .5 -.1 .5 0 .5 .1 .5 .2 .5 -.8 .5 .1 .5 -2.3 .5 2.6 .5 -2.3 .5 .9 .5 -2 .5 2.4 .5 -3.3 .5 4.2 .5 -.1 .5 -.1 .5 -.5 .5 -1.4 .5 1.3 .5 -1.6 .5 .8 .5 .1 .5 .5 .5 -1.5 .5 1.3 .5 1.2 .5 -1 .5 -.9 .5 1.3 .5 -.4 .5 -.1 .5 .8 .5 -.3 .5 -.3 .5 -3.7 .5 4 .5 -.4 .5 -.9 .5 .7 .5 -.3 .5 .9 .5 -.9 .5 -.7 .5 1.1 .5 .7 .5 -1 .5 1.6 .5 .1 .5 -3.1 .5 2.7 .5 -1.1 .5 1.4 .5 -1.3 .5 .2 .5 -.4 .5 1.4 .5 -.1 .5 -3 .5 1.1 .5 1.8 .5 -.5 .5 .1 .5 -6.5 .5 6.4 .5 -.5 .5 .6 .5 .2 .5 -.5 .5 1.5 .5 -1.6 .5 1.6 .5 .2 .5 -2.2 .5 .2 .5 1.6 .5 -.7 .5 1 .5 0 .5 -.3 .5 -2.2 .5 2.5 .5 -.8 .5 -.2 .5 .4 .5 -1.9 .5 1.6 .5 -.7 .5 -.5 .5 -.9 .5 1.6 .5 -2.5 .5 2.3 .5 .5 .5 -1.4 .5 -.1 .5 1.5 .5 -2.7 .5 3 .5 -.9 .5 .9 .5 -1.4 .5 -1.3 .5 1.9 .5 -.1 .5 -.8 .5 2.2 .5 .3 .5 -.2 .5 -1.1 .5 .9 .5 .2 .5 -.4 .5 .1 .5 0 .5 -.6 .5 .2 .5 .6 .5 -2.4 .5 1.6 .5 -.1 .5 -2.7 .5 1.9 .5 .8 .5 -2.8 .5 2.2 .5 -3.6 .5 3 .5 1.5 .5 -3.4 .5 .2 .5 1.7 .5 .1 .5 1 .5 -1.6 .5 1.6 .5 -.4 .5 -1.4 .5 1.1 .5 -.1 .5 .3 .5 -.6 .5 .8 .5 .5 .5 0 .5 .4 .5 -2.9 .5 1.8 .5 .4 .5 -.7 .5 1.3 .5 -1 .5 .3 .5 -.4 .5 .8 .5 -.5 .5 -3.1 .5 2.9 .5 0 .5 0 .5 .2 .5 .2 .5 .3 .5 -.5 .5 .7 .5 -.7 .5 1.7 .5 -1.4 .5 -.3 .5 .3 .5 1.3 .5 -1.6 .5 1.3 .5 -1.7 .5 0 .5 1 .5 -.6 .5 .9 .5 -3.1 .5 .9 .5 -.8 .5 2.4 .5 -1 .5 -.8 .5 1.8 .5 -.9 .5 1.1 .5 -1.2 .5 -.7 .5 .3 .5 -.6 .5 1.5 .5 -.6 .5 .3 .5 -1.3 .5 0 .5 .2 .5 .2 .5 -.6 .5 .3 .5 -.7 .5 -.1 .5 .4 .5 -.6 .5 -1.3 .5 .4 .5 -.8 .5 0 .5 -1.1 .5 1.2 .5 -.6 .5 1 .5 -.2 .5 1 .5 0 .5 .8 .5 -1 .5 1.8 .5 .2 .5 .9 .5 -1.4 .5 2 .5 -1.8 .5 1.3 .5 -.5 .5 1.3 .5 -1.2 .5 1.2 .5 .5 .5 -3.5 .5 3.7 .5 -1.1 .5 -2.2 .5 1.8 .5 .6 .5 -.4 .5 .5 .5 -1.7 .5 .5 .5 .9 .5 .2 .5 .3 .5 .3 .5 -1.6 .5 .3 .5 1.2 .5 -.8 .5 .2 .5 .8 .5 -.2 .5 -1.8 .5 2 .5 .2 .5 -2.2 .5 2.4 .5 -1.9 .5 .1 .5 .1 .5 -4.5 .5 5.5 .5 -1.9 .5 .5 .5 .7 .5 1.2 .5 -1.8 .5 1.7 .5 -2.4 .5 -.2 .5 2.8 .5 -.7 .5 1.2 .5 0 .5 -1.9 .5 1.7 .5 -.8 .5 .4 .5 -4.8 .5 4 .5 .9 .5 .4 .5 -.1 .5 -1 .5 -3.1 .5 2.9 .5 -.5 .5 1.6 .5 -.2 .5 -1.5 .5 -.5 .5 1.3 .5 -.8 .5 .6 .5 -1.9 .5 2.9 .5 -1.1 .5 -1.1 .5 -.9 .5 1 .5 1.1 .5 -.6 .5 -1.6 .5 1 .5 -1.2 .5 2 .5 1.3 .5 -.4 .5 -2.6 .5 1.3 .5 -.7 .5 2.2 .5 .1 .5 -.1 .5 -.9 .5 .1 .5 -1.2 .5 1.5 .5 -.2 .5 -2 .5 1.6 .5 -1.8 .5 2.8 .5 .1 .5 -.7 .5 -.6 .5 .2 .5 -2.5 .5 3.2 .5 -1.3 .5 -.2 .5 .4 .5 -.8 .5 1.6 .5 .4 .5 -.7 .5 -.7 .5 -.9 .5 -.8 .5 2.6 .5 -2.1 .5 1.4 .5 1 .5 -.1 .5 -2 .5 .6 .5 -1.3 .5 2.3 .5 -.8 .5 .5 .5 -1.2 .5 1 .5 .9 .5 -2 .5 -.3 .5 2.5 .5 -2.8 .5 1.3 .5 1.1 .5 -.9 .5 .3 .5 -.8 .5 1.8 .5 -1.2 .5 1.4 .5 -1.1 .5 .1 .5 .8 .5 -3.8 .5 4 .5 -.1 .5 -1.5 .5 1.4 .5 .3 .5 -1.1 .5 -1 .5 2 .5 .1 .5 -.2 .5 -.3 .5 -.5 .5 .4 .5 -.4 .5 .1 .5 1.2 .5 -1.7 .5 .7 .5 1.9 .5 -.1 .5 -2.1 .5 1.1 .5 -3.7 .5 4.4 .5 .3 .5 -.7 .5 .1 .5 -.3 .5 -.7 .5 .3 .5 -.6 .5 1.6 .5 -.3 .5 -.4 .5 -1.9 .5 2.7 .5 -2.3 .5 2.5 .5 -1 .5 0 .5 .1 .5 -1.4 .5 -1.4 .5 2.1 .5 .3 .5 -2.8 .5 -.4 .5 2.4 .5 -2.7 .5 2.1 .5 -1.2 .5 -.2 .5 -2.4 .5 -.1 .5 -1.2 .5 -1.7 .5 -1.8 .5 -.9 .5 -.4 .5 -2.4 .5 .6 .5 -1.6 .5 1.7 .5 1 .5 1.4 .5 -1.8 .5 2.7 .5 3.5 .5 -.5 .5 1.3 .5 -.7 .5 3.4 .5 .8 .5 .6 .5 .3 .5 -.2 .5 -.4 .5 -.1 .5 -1.8 .5 2.5 .5 0 .5 -1.9 .5 .4 .5 -2 .5 -1.1 .5 -2.4 .5 -3.3 .5 -2.2 .5 -4.8 .5 .6 .5 -3.8 .5 1.9 .5 -3.5 .5 6.4 .5 4 .5 1.8 .5 3.1 .5 1.3 .5 .2 .5 3.8 .5 .6 .5 .1 .5 .5 .5 .1 .5 -.8 .5 1.6" fill="none" stroke="#000000" stroke-width="3.0" stroke-linejoin="round"/>
<g fill="#000" font-family="'DejaVu Sans', sans-serif">
<text transform="translate(651.5 596.0) scale(1.001 1)" x="-14.0" y="8.3" font-size="32.1">●</text>
<text transform="translate(679.5 557.5) scale(1.076 1)" x="-23.0" y="18.8" font-size="51.5">♦</text>
<text transform="translate(759.0 557.5) scale(1.125 1)" x="-23.1" y="18.8" font-size="51.5">♣</text>
<text transform="translate(807.5 581.0) scale(1.058 1)" x="-20.9" y="17.0" font-size="46.7">♥</text>
<text transform="translate(880.0 579.0) scale(1.180 1)" x="-23.2" y="18.9" font-size="51.8">♠</text>
<text transform="translate(910.0 481.0) scale(1.125 1)" x="-23.1" y="18.8" font-size="51.5">♣</text>
<text transform="translate(937.5 546.0) scale(1.058 1)" x="-20.9" y="17.0" font-size="46.7">♥</text>
<text transform="translate(1106.5 550.0) scale(1.001 1)" x="-14.0" y="8.3" font-size="32.1">●</text>
<text transform="translate(1103.5 590.0) scale(1.125 1)" x="-23.1" y="18.8" font-size="51.5">♣</text>
<text transform="translate(1230.0 601.0) scale(1.180 1)" x="-23.2" y="18.9" font-size="51.8">♠</text>
<text transform="translate(1387.5 556.5) scale(1.076 1)" x="-23.0" y="18.8" font-size="51.5">♦</text>
<text transform="translate(1381.5 602.5) scale(1.125 1)" x="-23.1" y="18.8" font-size="51.5">♣</text>
<text transform="translate(1471.5 520.0) scale(1.001 1)" x="-14.0" y="8.3" font-size="32.1">●</text>
<text transform="translate(1468.5 567.5) scale(1.125 1)" x="-23.1" y="18.8" font-size="51.5">♣</text>
<text transform="translate(1605.0 566.0) scale(1.125 1)" x="-23.1" y="18.8" font-size="51.5">♣</text>
<text transform="translate(1640.0 587.5) scale(1.180 1)" x="-23.2" y="18.9" font-size="51.8">♠</text>
<text transform="translate(1759.0 605.0) scale(1.058 1)" x="-20.9" y="17.0" font-size="46.7">♥</text>
<text transform="translate(655.0 761.5) scale(1.001 1)" x="-14.0" y="8.3" font-size="32.1">●</text>
<text transform="translate(680.5 710.0) scale(1.076 1)" x="-23.0" y="18.8" font-size="51.5">♦</text>
<text transform="translate(763.5 726.5) scale(1.125 1)" x="-23.1" y="18.8" font-size="51.5">♣</text>
<text transform="translate(814.5 731.0) scale(1.058 1)" x="-20.9" y="17.0" font-size="46.7">♥</text>
<text transform="translate(876.5 724.0) scale(1.180 1)" x="-23.2" y="18.9" font-size="51.8">♠</text>
<text transform="translate(933.5 697.5) scale(1.058 1)" x="-20.9" y="17.0" font-size="46.7">♥</text>
<text transform="translate(1095.0 730.0) scale(1.125 1)" x="-23.1" y="18.8" font-size="51.5">♣</text>
<text transform="translate(1098.5 761.5) scale(1.001 1)" x="-14.0" y="8.3" font-size="32.1">●</text>
<text transform="translate(1225.0 749.0) scale(1.180 1)" x="-23.2" y="18.9" font-size="51.8">♠</text>
<text transform="translate(1387.5 719.0) scale(1.076 1)" x="-23.0" y="18.8" font-size="51.5">♦</text>
<text transform="translate(1381.0 762.5) scale(1.125 1)" x="-23.1" y="18.8" font-size="51.5">♣</text>
<text transform="translate(1460.0 699.0) scale(1.001 1)" x="-14.0" y="8.3" font-size="32.1">●</text>
<text transform="translate(1459.0 745.0) scale(1.125 1)" x="-23.1" y="18.8" font-size="51.5">♣</text>
<text transform="translate(1614.0 725.0) scale(1.125 1)" x="-23.1" y="18.8" font-size="51.5">♣</text>
<text transform="translate(1645.0 746.0) scale(1.180 1)" x="-23.2" y="18.9" font-size="51.8">♠</text>
<text transform="translate(1761.0 758.5) scale(1.058 1)" x="-20.9" y="17.0" font-size="46.7">♥</text>
<text transform="translate(647.5 884.0) scale(1.001 1)" x="-14.0" y="8.3" font-size="32.1">●</text>
<text transform="translate(681.0 854.0) scale(1.076 1)" x="-23.0" y="18.8" font-size="51.5">♦</text>
<text transform="translate(767.0 866.0) scale(1.125 1)" x="-23.1" y="18.8" font-size="51.5">♣</text>
<text transform="translate(815.5 867.5) scale(1.058 1)" x="-20.9" y="17.0" font-size="46.7">♥</text>
<text transform="translate(875.0 889.0) scale(1.180 1)" x="-23.2" y="18.9" font-size="51.8">♠</text>
<text transform="translate(928.5 831.0) scale(1.058 1)" x="-20.9" y="17.0" font-size="46.7">♥</text>
<text transform="translate(1109.0 863.5) scale(1.125 1)" x="-23.1" y="18.8" font-size="51.5">♣</text>
<text transform="translate(1112.5 887.5) scale(1.001 1)" x="-14.0" y="8.3" font-size="32.1">●</text>
<text transform="translate(1227.5 896.0) scale(1.180 1)" x="-23.2" y="18.9" font-size="51.8">♠</text>
<text transform="translate(1381.5 851.0) scale(1.076 1)" x="-23.0" y="18.8" font-size="51.5">♦</text>
<text transform="translate(1375.0 896.0) scale(1.125 1)" x="-23.1" y="18.8" font-size="51.5">♣</text>
<text transform="translate(1474.0 834.0) scale(1.001 1)" x="-14.0" y="8.3" font-size="32.1">●</text>
<text transform="translate(1473.5 877.5) scale(1.125 1)" x="-23.1" y="18.8" font-size="51.5">♣</text>
<text transform="translate(1608.5 857.5) scale(1.125 1)" x="-23.1" y="18.8" font-size="51.5">♣</text>
<text transform="translate(1642.5 881.5) scale(1.180 1)" x="-23.2" y="18.9" font-size="51.8">♠</text>
<text transform="translate(1763.5 892.5) scale(1.058 1)" x="-20.9" y="17.0" font-size="46.7">♥</text>
<text transform="translate(649.0 1081.0) scale(1.001 1)" x="-14.0" y="8.3" font-size="32.1">●</text>
<text transform="translate(682.5 1049.0) scale(1.076 1)" x="-23.0" y="18.8" font-size="51.5">♦</text>
<text transform="translate(764.0 1042.5) scale(1.125 1)" x="-23.1" y="18.8" font-size="51.5">♣</text>
<text transform="translate(805.0 1048.5) scale(1.058 1)" x="-20.9" y="17.0" font-size="46.7">♥</text>
<text transform="translate(871.5 1065.0) scale(1.180 1)" x="-23.2" y="18.9" font-size="51.8">♠</text>
<text transform="translate(930.5 982.5) scale(1.058 1)" x="-20.9" y="17.0" font-size="46.7">♥</text>
<text transform="translate(1114.0 1055.0) scale(1.125 1)" x="-23.1" y="18.8" font-size="51.5">♣</text>
<text transform="translate(1115.0 1091.5) scale(1.001 1)" x="-14.0" y="8.3" font-size="32.1">●</text>
<text transform="translate(1228.5 1087.5) scale(1.180 1)" x="-23.2" y="18.9" font-size="51.8">♠</text>
<text transform="translate(1383.5 1057.5) scale(1.076 1)" x="-23.0" y="18.8" font-size="51.5">♦</text>
<text transform="translate(1370.5 1095.0) scale(1.125 1)" x="-23.1" y="18.8" font-size="51.5">♣</text>
<text transform="translate(1473.5 1005.0) scale(1.001 1)" x="-14.0" y="8.3" font-size="32.1">●</text>
<text transform="translate(1470.5 1042.5) scale(1.125 1)" x="-23.1" y="18.8" font-size="51.5">♣</text>
<text transform="translate(1601.0 1049.0) scale(1.125 1)" x="-23.1" y="18.8" font-size="51.5">♣</text>
<text transform="translate(1638.5 1070.0) scale(1.180 1)" x="-23.2" y="18.9" font-size="51.8">♠</text>
<text transform="translate(1765.0 1072.5) scale(1.058 1)" x="-20.9" y="17.0" font-size="46.7">♥</text>
<text transform="translate(651.0 1331.0) scale(1.001 1)" x="-14.0" y="8.3" font-size="32.1">●</text>
<text transform="translate(681.4 1277.0) scale(1.076 1)" x="-23.0" y="18.8" font-size="51.5">♦</text>
<text transform="translate(756.6 1254.0) scale(1.125 1)" x="-23.1" y="18.8" font-size="51.5">♣</text>
<text transform="translate(810.3 1276.6) scale(1.058 1)" x="-20.9" y="17.0" font-size="46.7">♥</text>
<text transform="translate(871.5 1282.0) scale(1.180 1)" x="-23.2" y="18.9" font-size="51.8">♠</text>
<text transform="translate(932.5 1157.5) scale(1.058 1)" x="-20.9" y="17.0" font-size="46.7">♥</text>
<text transform="translate(1105.5 1287.5) scale(1.125 1)" x="-23.1" y="18.8" font-size="51.5">♣</text>
<text transform="translate(1110.0 1326.0) scale(1.001 1)" x="-14.0" y="8.3" font-size="32.1">●</text>
<text transform="translate(1228.5 1316.0) scale(1.180 1)" x="-23.2" y="18.9" font-size="51.8">♠</text>
<text transform="translate(1395.0 1301.0) scale(1.076 1)" x="-23.0" y="18.8" font-size="51.5">♦</text>
<text transform="translate(1376.0 1342.5) scale(1.125 1)" x="-23.1" y="18.8" font-size="51.5">♣</text>
<text transform="translate(1468.0 1237.5) scale(1.001 1)" x="-14.0" y="8.3" font-size="32.1">●</text>
<text transform="translate(1465.0 1285.0) scale(1.125 1)" x="-23.1" y="18.8" font-size="51.5">♣</text>
<text transform="translate(1604.0 1296.0) scale(1.125 1)" x="-23.1" y="18.8" font-size="51.5">♣</text>
<text transform="translate(1644.0 1305.0) scale(1.180 1)" x="-23.2" y="18.9" font-size="51.8">♠</text>
<text transform="translate(1760.0 1322.5) scale(1.058 1)" x="-20.9" y="17.0" font-size="46.7">♥</text>
</g>
<rect x="26.0" y="1764.0" width="2344.5" height="1257.0" fill="none" stroke="#000" stroke-width="10.0"/>
<rect x="86.2" y="3008.5" width="10.0" height="8.5"/>
<rect x="216.5" y="2996.5" width="10.0" height="20.5"/>
<rect x="346.8" y="3008.5" width="10.0" height="8.5"/>
<rect x="477.1" y="2996.5" width="10.0" height="20.5"/>
<rect x="607.3" y="3008.5" width="10.0" height="8.5"/>
<rect x="737.6" y="2996.5" width="10.0" height="20.5"/>
<rect x="867.9" y="3008.5" width="10.0" height="8.5"/>
<rect x="998.2" y="2996.5" width="10.0" height="20.5"/>
<rect x="1128.5" y="3008.5" width="10.0" height="8.5"/>
<rect x="1258.8" y="2996.5" width="10.0" height="20.5"/>
<rect x="1389.0" y="3008.5" width="10.0" height="8.5"/>
<rect x="1519.3" y="2996.5" width="10.0" height="20.5"/>
<rect x="1649.6" y="3008.5" width="10.0" height="8.5"/>
<rect x="1779.9" y="2996.5" width="10.0" height="20.5"/>
<rect x="1910.2" y="3008.5" width="10.0" height="8.5"/>
<rect x="2040.4" y="2996.5" width="10.0" height="20.5"/>
<rect x="2170.7" y="3008.5" width="10.0" height="8.5"/>
<rect x="2301.0" y="2996.5" width="10.0" height="20.5"/>
<g font-family="'Liberation Serif', serif" font-size="72.0" text-anchor="middle">
<text transform="translate(221.5 3103.0) scale(1 1.040)">10</text>
<text transform="translate(482.1 3103.0) scale(1 1.040)">20</text>
<text transform="translate(742.6 3103.0) scale(1 1.040)">30</text>
<text transform="translate(1003.2 3103.0) scale(1 1.040)">40</text>
<text transform="translate(1263.8 3103.0) scale(1 1.040)">50</text>
<text transform="translate(1524.3 3103.0) scale(1 1.040)">60</text>
<text transform="translate(1784.9 3103.0) scale(1 1.040)">70</text>
<text transform="translate(2045.4 3103.0) scale(1 1.040)">80</text>
<text transform="translate(2306.0 3103.0) scale(1 1.040)">90</text>
</g>
<text x="1019.8" y="3204.5" font-family="'Liberation Serif', serif" font-size="73.5">2-Theta</text>
<text x="1252.2" y="3194.3" font-family="'Liberation Serif', serif" font-size="64.5">(</text>
<text x="1346.7" y="3194.3" font-family="'Liberation Serif', serif" font-size="64.5">)</text>
<text transform="translate(1327.2 3168.8) scale(1.200 1)" x="-11.5" y="29.6" font-family="'Liberation Serif', serif" font-size="57.7">°</text>
<text x="73.7" y="1847.2" font-family="'Liberation Serif', serif" font-size="64.5">(b)</text>
<g fill="#000" font-family="'DejaVu Sans', sans-serif"><text transform="translate(268.8 1682.5) scale(1.208 1)" x="-24.6" y="20.0" font-size="54.9">♠</text></g>
<text transform="translate(307.0 1685.2) scale(0.962 1.283)" x="-12.0" y="17.0" font-family="'Liberation Serif', serif" font-size="72.0">-</text>
<text x="319.3" y="1702.5" font-family="'Liberation Serif', serif" font-size="72.0">Fe<tspan font-size="48" dy="20">2</tspan><tspan dy="-20">O</tspan><tspan font-size="48" dy="20">3</tspan></text>
<g fill="#000" font-family="'DejaVu Sans', sans-serif"><text transform="translate(661.2 1683.8) scale(0.950 1)" x="-24.6" y="20.0" font-size="54.9">♥</text></g>
<text transform="translate(699.8 1685.2) scale(0.962 1.283)" x="-12.0" y="17.0" font-family="'Liberation Serif', serif" font-size="72.0">-</text>
<text x="712.1" y="1702.5" font-family="'Liberation Serif', serif" font-size="72.0">ZnO</text>
<g fill="#000" font-family="'DejaVu Sans', sans-serif"><text transform="translate(1024.5 1683.0) scale(1.001 1)" x="-14.3" y="8.5" font-size="32.7">●</text></g>
<text transform="translate(1054.0 1686.5) scale(0.962 1.283)" x="-12.0" y="17.0" font-family="'Liberation Serif', serif" font-size="72.0">-</text>
<text x="1066.3" y="1703.8" font-family="'Liberation Serif', serif" font-size="72.0">Al<tspan font-size="48" dy="20">2</tspan><tspan dy="-20">O</tspan><tspan font-size="48" dy="20">3</tspan><tspan dy="-20">·SiO</tspan><tspan font-size="48" dy="20">2</tspan></text>
<g fill="#000" font-family="'DejaVu Sans', sans-serif"><text transform="translate(1567.2 1680.6) scale(1.042 1)" x="-25.4" y="20.6" font-size="56.6">♦</text></g>
<text transform="translate(1606.5 1683.5) scale(0.962 1.283)" x="-12.0" y="17.0" font-family="'Liberation Serif', serif" font-size="72.0">-</text>
<text x="1618.8" y="1700.8" font-family="'Liberation Serif', serif" font-size="72.0">SiO<tspan font-size="48" dy="20">2</tspan></text>
<g fill="#000" font-family="'DejaVu Sans', sans-serif"><text transform="translate(1903.0 1688.6) scale(1.128 1)" x="-25.4" y="20.6" font-size="56.6">♣</text></g>
<text transform="translate(1942.5 1692.0) scale(0.962 1.283)" x="-12.0" y="17.0" font-family="'Liberation Serif', serif" font-size="72.0">-</text>
<text x="1954.8" y="1709.2" font-family="'Liberation Serif', serif" font-size="72.0">ZnFe<tspan font-size="48" dy="20">2</tspan><tspan dy="-20">O</tspan><tspan font-size="48" dy="20">4</tspan></text>
<rect x="1802.3" y="1785.3" width="393.4" height="401.9" fill="none" stroke="#000" stroke-width="2.0"/>
<line x1="1812.0" x2="1961.0" y1="1830.4" y2="1830.4" stroke="#008000" stroke-width="2.5"/>
<text transform="translate(1977.2 1853.5) scale(1 1.04)" font-family="'Liberation Serif', serif" font-size="66.0">150 min</text>
<line x1="1812.0" x2="1961.0" y1="1910.3" y2="1910.3" stroke="#ff00ff" stroke-width="2.5"/>
<text transform="translate(1977.2 1933.3) scale(1 1.04)" font-family="'Liberation Serif', serif" font-size="66.0">120 min</text>
<line x1="1812.0" x2="1961.0" y1="1990.1" y2="1990.1" stroke="#0000ff" stroke-width="2.5"/>
<text transform="translate(1977.2 2013.2) scale(1 1.04)" font-family="'Liberation Serif', serif" font-size="66.0">90 min</text>
<line x1="1812.0" x2="1961.0" y1="2070.0" y2="2070.0" stroke="#ff0000" stroke-width="2.5"/>
<text transform="translate(1977.2 2093.0) scale(1 1.04)" font-family="'Liberation Serif', serif" font-size="66.0">60 min</text>
<line x1="1812.0" x2="1961.0" y1="2149.8" y2="2149.8" stroke="#000000" stroke-width="2.5"/>
<text transform="translate(1977.2 2172.9) scale(1 1.04)" font-family="'Liberation Serif', serif" font-size="66.0">30 min</text>
<path d="M91.2 2227.3l.5 1.1 .5 .9 .5 -1 .5 .3 .5 -.7 .5 .4 .5 .2 .5 -.1 .5 -.3 .5 -1.2 .5 1.7 .5 -.4 .5 -1.2 .5 1.4 .5 .7 .5 -1.8 .5 -1.2 .5 1.5 .5 -.9 .5 1.6 .5 -.1 .5 .6 .5 .4 .5 -1.1 .5 .6 .5 -.6 .5 1.5 .5 -.1 .5 -1 .5 -.1 .5 -.1 .5 .3 .5 .9 .5 -1.1 .5 -1 .5 .4 .5 .2 .5 -2.1 .5 2.2 .5 .9 .5 -.6 .5 0 .5 -3.8 .5 2.6 .5 .4 .5 2.5 .5 -2.1 .5 -.7 .5 .1 .5 1.6 .5 -.7 .5 .9 .5 -2.3 .5 -2.6 .5 3.7 .5 -1.2 .5 1.8 .5 -1 .5 -.4 .5 1 .5 .2 .5 -1.1 .5 1.3 .5 -.1 .5 -.2 .5 -.9 .5 -.8 .5 2.6 .5 -.8 .5 0 .5 -.1 .5 .7 .5 -1.1 .5 1.6 .5 -1.5 .5 1.2 .5 -.3 .5 .7 .5 -4.7 .5 3.1 .5 -.3 .5 -.9 .5 1.8 .5 .6 .5 .6 .5 -.9 .5 .1 .5 -1.5 .5 0 .5 1.1 .5 -.4 .5 -1.3 .5 3.5 .5 -2 .5 1.1 .5 -1 .5 -.7 .5 .6 .5 1.1 .5 -1.7 .5 -.7 .5 1.2 .5 -1.1 .5 1.1 .5 .9 .5 -1 .5 .8 .5 -.7 .5 1.5 .5 -1.2 .5 1.1 .5 -1.4 .5 .9 .5 -.6 .5 -.2 .5 .9 .5 -1.3 .5 -.5 .5 -.4 .5 .8 .5 -1.2 .5 .2 .5 1.1 .5 1.8 .5 -1.9 .5 .3 .5 1.8 .5 -1.8 .5 1.1 .5 -.8 .5 -.4 .5 -.4 .5 -.3 .5 .4 .5 .8 .5 -.3 .5 .4 .5 .4 .5 -.4 .5 1 .5 -.8 .5 .2 .5 .8 .5 -1 .5 -.3 .5 1.5 .5 -.5 .5 .2 .5 -.9 .5 -.2 .5 0 .5 -.4 .5 -.4 .5 .9 .5 -.4 .5 -.2 .5 .5 .5 -.5 .5 .5 .5 -.3 .5 .6 .5 -1.4 .5 1.3 .5 -.4 .5 .8 .5 -1.7 .5 .9 .5 -.8 .5 .5 .5 .3 .5 -.6 .5 .4 .5 -.6 .5 .1 .5 -.4 .5 0 .5 0 .5 -.1 .5 0 .5 -.2 .5 .7 .5 .1 .5 .1 .5 .1 .5 .7 .5 -.9 .5 1.2 .5 -1.3 .5 .8 .5 .8 .5 -.9 .5 .5 .5 0 .5 -1.4 .5 .3 .5 -.5 .5 .5 .5 0 .5 .3 .5 -.1 .5 -1.4 .5 2 .5 -2 .5 1 .5 .2 .5 .9 .5 -.7 .5 .1 .5 -.3 .5 1.6 .5 .3 .5 -.3 .5 -.3 .5 1.3 .5 -1.2 .5 0 .5 .2 .5 -1.3 .5 -.7 .5 2 .5 -.7 .5 -.4 .5 .4 .5 -.4 .5 -.1 .5 1.2 .5 .3 .5 -.2 .5 -1.7 .5 .5 .5 2 .5 -.9 .5 -1.4 .5 .7 .5 .3 .5 0 .5 -.6 .5 -1 .5 .8 .5 -1.5 .5 .7 .5 1.1 .5 -.6 .5 -.1 .5 -.7 .5 -.1 .5 .3 .5 -.5 .5 0 .5 0 .5 .3 .5 -.2 .5 1.4 .5 -.1 .5 .4 .5 .6 .5 .8 .5 -1.8 .5 -1.5 .5 1.6 .5 .6 .5 -1.4 .5 -.6 .5 1.2 .5 .5 .5 -1 .5 -.6 .5 1 .5 -1.1 .5 1.4 .5 -.3 .5 -.4 .5 -.3 .5 2.7 .5 -2.5 .5 -.7 .5 2.3 .5 -2.1 .5 1.1 .5 -.6 .5 .7 .5 -1 .5 .9 .5 -.6 .5 1.1 .5 -.4 .5 1.3 .5 -.8 .5 -.5 .5 1 .5 0 .5 -.5 .5 2.3 .5 -2.1 .5 1.7 .5 -1.2 .5 -.3 .5 1.3 .5 -.5 .5 -1.5 .5 .2 .5 .4 .5 1.1 .5 .9 .5 -2.7 .5 -.3 .5 -.4 .5 1.1 .5 .3 .5 0 .5 -.7 .5 -.9 .5 -.6 .5 1.9 .5 .4 .5 -1.5 .5 .4 .5 .3 .5 -.9 .5 -.5 .5 .2 .5 1.5 .5 -1.6 .5 1.2 .5 .3 .5 -.3 .5 -.2 .5 1 .5 -1.3 .5 -.5 .5 .2 .5 1.3 .5 -.5 .5 1 .5 -1.6 .5 1.1 .5 -1 .5 1 .5 -1.5 .5 -.4 .5 1.3 .5 2.1 .5 -1.5 .5 -1.1 .5 1.9 .5 -.3 .5 -.1 .5 -1.1 .5 1.3 .5 -.7 .5 -.7 .5 .9 .5 0 .5 -2.3 .5 2.4 .5 -1.1 .5 .7 .5 0 .5 .2 .5 1.4 .5 -2.9 .5 2.6 .5 -2.6 .5 1.2 .5 -.4 .5 .2 .5 .2 .5 1.4 .5 -.9 .5 -.8 .5 .6 .5 -.4 .5 .2 .5 1.2 .5 -1.4 .5 1.4 .5 -.4 .5 -.7 .5 1.6 .5 -1.1 .5 1.9 .5 -1.8 .5 1.3 .5 -.4 .5 -.3 .5 -1.6 .5 1.2 .5 -.6 .5 .7 .5 0 .5 -1.6 .5 1 .5 1.8 .5 -.8 .5 -.2 .5 -.8 .5 -.8 .5 .4 .5 -.8 .5 1.6 .5 -.4 .5 .2 .5 -.4 .5 -.3 .5 .3 .5 -.6 .5 .4 .5 -1.6 .5 1 .5 .4 .5 -2.1 .5 1.1 .5 -.3 .5 .5 .5 0 .5 .5 .5 -.7 .5 1.1 .5 1.1 .5 -.6 .5 -1.6 .5 .6 .5 -.2 .5 .8 .5 -.8 .5 .7 .5 -1 .5 -.3 .5 .3 .5 1 .5 .5 .5 -.7 .5 1.6 .5 -.8 .5 -.7 .5 -.1 .5 .5 .5 1.8 .5 -1.8 .5 -.5 .5 .7 .5 -4.4 .5 2.7 .5 1.8 .5 -.8 .5 0 .5 1.2 .5 -.3 .5 .1 .5 -.2 .5 1.4 .5 -.9 .5 -1.5 .5 1 .5 -.7 .5 -.5 .5 2.8 .5 -.6 .5 -1.1 .5 -.1 .5 .1 .5 -.4 .5 .5 .5 -2.3 .5 1.6 .5 .3 .5 -.2 .5 .4 .5 0 .5 -1 .5 -.9 .5 2 .5 -1.6 .5 -1 .5 .1 .5 .7 .5 .2 .5 2.3 .5 -.9 .5 -1.2 .5 -.7 .5 1 .5 -.3 .5 .5 .5 -.9 .5 .2 .5 -.1 .5 1.1 .5 -1.6 .5 .7 .5 -.5 .5 .4 .5 .6 .5 -1.9 .5 1.2 .5 -1.8 .5 3.6 .5 -1.5 .5 .3 .5 -.4 .5 1.2 .5 0 .5 1.4 .5 -2.4 .5 .7 .5 1.5 .5 -2.6 .5 .8 .5 -.2 .5 .6 .5 -.6 .5 .1 .5 .1 .5 .5 .5 .8 .5 -1.6 .5 .6 .5 .6 .5 1.1 .5 -1.9 .5 1.1 .5 .5 .5 -2.2 .5 .4 .5 1.4 .5 .6 .5 -1.3 .5 2.2 .5 -2.9 .5 .6 .5 .1 .5 -.2 .5 .9 .5 .5 .5 -1.2 .5 -.9 .5 .2 .5 -.7 .5 .7 .5 1.2 .5 .4 .5 -1.7 .5 0 .5 2.5 .5 -2.8 .5 .5 .5 1.9 .5 -2.7 .5 0 .5 1 .5 .3 .5 -.5 .5 1.1 .5 -1 .5 -.1 .5 .5 .5 .9 .5 .7 .5 -1.4 .5 -.7 .5 .8 .5 2.6 .5 -3.7 .5 1.4 .5 -.2 .5 .9 .5 .3 .5 -2.2 .5 1.2 .5 -.4 .5 -.6 .5 2.1 .5 -1.2 .5 -.3 .5 .4 .5 .1 .5 .1 .5 -1.3 .5 .7 .5 .9 .5 .5 .5 -.8 .5 -.4 .5 -.5 .5 .3 .5 -.4 .5 .6 .5 -.2 .5 -1.9 .5 .3 .5 .3 .5 1.6 .5 -1 .5 1.2 .5 -.2 .5 -1 .5 -.6 .5 .7 .5 -1.2 .5 1.9 .5 0 .5 -1.4 .5 -.6 .5 1.5 .5 .5 .5 -1.7 .5 1 .5 .3 .5 -.3 .5 .4 .5 -.5 .5 -.8 .5 1.4 .5 -1.5 .5 .3 .5 .3 .5 -1.5 .5 1 .5 1.4 .5 -1.3 .5 -1.1 .5 .5 .5 -.7 .5 -.3 .5 1.2 .5 -1.2 .5 1.3 .5 -1.3 .5 .9 .5 .8 .5 -.6 .5 .4 .5 -.5 .5 -1 .5 .6 .5 .7 .5 1 .5 -1.3 .5 2.5 .5 -3.1 .5 1.5 .5 .9 .5 -2.9 .5 1.2 .5 -.2 .5 .1 .5 .7 .5 .4 .5 -1.6 .5 1.9 .5 -.6 .5 -1.1 .5 .4 .5 .7 .5 -.6 .5 -.1 .5 -.1 .5 -.3 .5 .6 .5 .5 .5 .4 .5 -.6 .5 -.7 .5 0 .5 .2 .5 1.8 .5 -.2 .5 -1 .5 0 .5 .9 .5 .5 .5 -1.5 .5 -.1 .5 1.3 .5 -.5 .5 -.5 .5 .6 .5 .2 .5 1.1 .5 -1.5 .5 .1 .5 -.3 .5 -1 .5 .4 .5 -1.9 .5 -1.1 .5 -1.2 .5 -.1 .5 -.6 .5 -1.8 .5 -3.2 .5 2 .5 .2 .5 1.2 .5 .9 .5 2.3 .5 1.1 .5 -.6 .5 .9 .5 .9 .5 1.5 .5 -.6 .5 .2 .5 1.1 .5 -.8 .5 .8 .5 -.3 .5 -.3 .5 .9 .5 .2 .5 -1.3 .5 -.4 .5 -.8 .5 .9 .5 2.6 .5 -.6 .5 -1.2 .5 1.1 .5 -1.4 .5 .3 .5 1.3 .5 -.3 .5 -1.5 .5 -3.4 .5 4.7 .5 -.2 .5 .5 .5 -1.1 .5 -.5 .5 1.9 .5 -2 .5 1.7 .5 -.3 .5 -.3 .5 -1.2 .5 .2 .5 1 .5 -1.6 .5 1.4 .5 -1.3 .5 -.1 .5 1.8 .5 -.8 .5 1.9 .5 -2.2 .5 .2 .5 1 .5 -.2 .5 .3 .5 -1.8 .5 3 .5 -.9 .5 -2 .5 .8 .5 -.4 .5 .4 .5 .5 .5 1 .5 -1.1 .5 .3 .5 -.9 .5 .6 .5 -1.5 .5 -.4 .5 .6 .5 .7 .5 -.6 .5 .9 .5 -1.1 .5 1 .5 -1.3 .5 1.8 .5 .3 .5 -2.1 .5 1.8 .5 -1.4 .5 .6 .5 .1 .5 .2 .5 .5 .5 -.8 .5 .6 .5 -.9 .5 .8 .5 -.3 .5 -.3 .5 .1 .5 -.1 .5 .1 .5 -.5 .5 .8 .5 -.9 .5 .8 .5 -.1 .5 -1.4 .5 .6 .5 2.6 .5 -1.4 .5 .9 .5 0 .5 -.2 .5 -.7 .5 1.5 .5 -3.1 .5 .7 .5 1 .5 0 .5 -.1 .5 -.5 .5 -.5 .5 .4 .5 .5 .5 .9 .5 .1 .5 -.3 .5 .5 .5 -.8 .5 .5 .5 -1.5 .5 2.1 .5 1.1 .5 -.6 .5 -2.2 .5 -.1 .5 .3 .5 .6 .5 .1 .5 .6 .5 -.6 .5 -.2 .5 1.1 .5 -1.7 .5 1.3 .5 1 .5 .3 .5 -.8 .5 .4 .5 .5 .5 -1.5 .5 .1 .5 -.1 .5 .2 .5 .5 .5 -1.8 .5 1.2 .5 -1.9 .5 .6 .5 -.1 .5 .6 .5 -1.6 .5 2.4 .5 -1.3 .5 1.2 .5 1.3 .5 -4.5 .5 1 .5 1.5 .5 .1 .5 -.2 .5 -.4 .5 .1 .5 .8 .5 .7 .5 -2.8 .5 .2 .5 .1 .5 2.5 .5 -1.1 .5 -.2 .5 .8 .5 -.6 .5 -1 .5 .4 .5 1.4 .5 -1.7 .5 .7 .5 .3 .5 -.9 .5 -.2 .5 .3 .5 -1 .5 .4 .5 -.7 .5 .7 .5 0 .5 2.2 .5 -3.9 .5 .7 .5 .6 .5 -1 .5 .5 .5 -.9 .5 1.4 .5 -1.2 .5 -2.5 .5 1.7 .5 .2 .5 .4 .5 .2 .5 .3 .5 1.7 .5 -1.4 .5 .4 .5 0 .5 1 .5 .9 .5 -.4 .5 0 .5 0 .5 .3 .5 1 .5 -2.3 .5 .4 .5 -.1 .5 1.9 .5 -.6 .5 .1 .5 -1 .5 .6 .5 -.6 .5 -1.1 .5 2.5 .5 -1.2 .5 .6 .5 -.3 .5 -.5 .5 .6 .5 -.7 .5 -1.1 .5 1.1 .5 -.8 .5 .4 .5 1.3 .5 -.3 .5 -1 .5 1.4 .5 -1.4 .5 -.9 .5 0 .5 .4 .5 1.4 .5 -1.3 .5 .9 .5 -.3 .5 .9 .5 -.9 .5 -.9 .5 1.5 .5 -.9 .5 -.1 .5 1.4 .5 -1.5 .5 .2 .5 -.2 .5 -.7 .5 0 .5 1.2 .5 -.7 .5 -1 .5 1 .5 .3 .5 -.6 .5 .7 .5 -.5 .5 -.5 .5 .6 .5 1.5 .5 -.7 .5 -.3 .5 -1.9 .5 1.4 .5 .6 .5 -.9 .5 2 .5 -1.8 .5 1.1 .5 -.7 .5 -.6 .5 1.4 .5 -.1 .5 1.8 .5 -2.4 .5 .8 .5 -.2 .5 1.5 .5 -2.5 .5 1.7 .5 .5 .5 -1.1 .5 -2.1 .5 1.3 .5 -.4 .5 -.7 .5 .6 .5 .7 .5 -.3 .5 1.9 .5 -1.3 .5 -.6 .5 1.6 .5 1.5 .5 -2.4 .5 1.3 .5 -.8 .5 -.3 .5 -.9 .5 1.3 .5 -1 .5 -.9 .5 -2 .5 2.7 .5 1.7 .5 -1.4 .5 -1.7 .5 2.1 .5 -.2 .5 .3 .5 .6 .5 -.7 .5 1.2 .5 -.7 .5 -1 .5 1.4 .5 -1.3 .5 -.9 .5 1 .5 .3 .5 1.4 .5 -1.3 .5 -.2 .5 .1 .5 2.2 .5 -2.6 .5 .5 .5 1.3 .5 0 .5 -.1 .5 .6 .5 -.7 .5 -1.1 .5 .5 .5 .3 .5 -1.2 .5 -.1 .5 .6 .5 -.4 .5 -2 .5 2 .5 -.1 .5 1.3 .5 -1.3 .5 1 .5 -1 .5 .1 .5 -.8 .5 .4 .5 1.2 .5 -.1 .5 -1.3 .5 -.7 .5 0 .5 .6 .5 -1.4 .5 -.5 .5 -2.4 .5 2.3 .5 -2.7 .5 -.8 .5 -3 .5 .1 .5 -1.1 .5 -2.2 .5 1.9 .5 -2.9 .5 3.6 .5 -.1 .5 2.3 .5 -.6 .5 4 .5 -.2 .5 1 .5 .6 .5 1.3 .5 -.7 .5 .4 .5 .4 .5 1.2 .5 -.6 .5 -1.3 .5 .1 .5 2.1 .5 -.4 .5 -1 .5 .8 .5 .9 .5 .5 .5 -.4 .5 -2.8 .5 3.8 .5 1.4 .5 -1.1 .5 -1 .5 -.7 .5 1.4 .5 1.4 .5 -2 .5 -.2 .5 -1.1 .5 1.5 .5 -.1 .5 -.9 .5 .8 .5 -.5 .5 1.4 .5 -1.1 .5 .8 .5 .9 .5 -1.4 .5 -.2 .5 -1.2 .5 .8 .5 -.6 .5 .1 .5 .4 .5 -.5 .5 1.3 .5 -1.3 .5 -.2 .5 1.2 .5 -1 .5 1.2 .5 -.9 .5 1.2 .5 -.7 .5 0 .5 0 .5 .1 .5 .3 .5 -1.3 .5 -.4 .5 .9 .5 .8 .5 .3 .5 -.6 .5 .3 .5 -.2 .5 0 .5 -.4 .5 -.2 .5 -1.9 .5 1.7 .5 -.8 .5 2 .5 -1.8 .5 -.6 .5 .4 .5 1.2 .5 -.9 .5 .7 .5 .7 .5 -2.5 .5 .3 .5 .1 .5 1.4 .5 -1 .5 1.4 .5 .3 .5 -1 .5 -.5 .5 .4 .5 1.3 .5 -.2 .5 -.5 .5 1 .5 -.5 .5 .3 .5 .2 .5 -1.5 .5 .2 .5 -.6 .5 2.1 .5 -1.3 .5 .8 .5 -1.4 .5 -.6 .5 1.9 .5 .5 .5 1.6 .5 -2 .5 0 .5 -.7 .5 -.2 .5 -1.1 .5 .8 .5 -.2 .5 1.5 .5 -1.3 .5 .2 .5 0 .5 -.9 .5 2 .5 -1.9 .5 -.2 .5 1 .5 .8 .5 -.7 .5 -1.8 .5 .2 .5 .8 .5 1 .5 -.8 .5 -1.2 .5 .6 .5 2.1 .5 -1.5 .5 .2 .5 .8 .5 -.6 .5 -.6 .5 -.4 .5 .9 .5 -.8 .5 .6 .5 -1.8 .5 1.4 .5 -1.7 .5 1.2 .5 .8 .5 -1.2 .5 .5 .5 .4 .5 -.1 .5 .1 .5 .4 .5 .8 .5 -1.6 .5 .2 .5 -1.5 .5 1.2 .5 -.2 .5 -.6 .5 .7 .5 -.5 .5 1.6 .5 -1.7 .5 .5 .5 -.3 .5 -.8 .5 2 .5 -.6 .5 .7 .5 -.4 .5 -.4 .5 -.3 .5 1.7 .5 -.1 .5 -.3 .5 .1 .5 -1.1 .5 -1 .5 1.4 .5 -1 .5 -.3 .5 .8 .5 -1.3 .5 0 .5 1.8 .5 -.1 .5 -1.2 .5 -.1 .5 1.7 .5 -3.1 .5 2.4 .5 -.8 .5 1.8 .5 -.9 .5 .4 .5 -.4 .5 -1.6 .5 .9 .5 -.3 .5 -.3 .5 .8 .5 .8 .5 -2.2 .5 1.2 .5 -1 .5 .5 .5 -2 .5 .9 .5 1.1 .5 -1.1 .5 -2.1 .5 -.9 .5 .7 .5 -4.6 .5 -4 .5 -4.8 .5 -5.8 .5 -9.2 .5 -6.7 .5 -8.4 .5 -7.1 .5 -4.7 .5 1.7 .5 2.5 .5 8.4 .5 8.4 .5 5.8 .5 8.6 .5 8.1 .5 4.3 .5 3.4 .5 4 .5 -.3 .5 2.7 .5 .6 .5 .3 .5 .7 .5 -1.4 .5 1.7 .5 1.2 .5 -1.9 .5 1.3 .5 -.5 .5 1 .5 -1.3 .5 .9 .5 1.5 .5 -.6 .5 -1.9 .5 1.4 .5 -.1 .5 1.4 .5 -1.7 .5 -.1 .5 -.5 .5 .6 .5 -1.1 .5 .4 .5 .1 .5 -.5 .5 1.8 .5 -.5 .5 .2 .5 -.1 .5 .3 .5 0 .5 .8 .5 -.5 .5 -1.7 .5 2.1 .5 -.9 .5 -.8 .5 1 .5 -.1 .5 -1.3 .5 -1.5 .5 1.4 .5 -1 .5 .1 .5 -.4 .5 -1 .5 .8 .5 .4 .5 -2.1 .5 -.5 .5 .3 .5 .2 .5 .2 .5 1.9 .5 -.5 .5 -.4 .5 1.4 .5 -.3 .5 .4 .5 .6 .5 .1 .5 -2.5 .5 3 .5 -1.3 .5 .5 .5 -1.8 .5 2.7 .5 -2.2 .5 1.3 .5 -1.4 .5 .5 .5 -1.1 .5 -1.8 .5 .7 .5 -3.2 .5 -2.4 .5 -4.2 .5 -7.1 .5 -8.6 .5 -8 .5 -8.4 .5 -3.8 .5 -2.3 .5 6 .5 8.8 .5 6.3 .5 7.7 .5 7.1 .5 4.3 .5 4.5 .5 1.2 .5 3.4 .5 -1 .5 -.1 .5 1.6 .5 -.2 .5 .1 .5 .6 .5 .9 .5 -1.3 .5 1.9 .5 -.7 .5 -.9 .5 1.7 .5 -1 .5 -.5 .5 .9 .5 .2 .5 -.4 .5 -.5 .5 1.9 .5 -.1 .5 -.1 .5 .1 .5 -.7 .5 .7 .5 .6 .5 -.1 .5 .6 .5 -1.3 .5 1.1 .5 .1 .5 -1.1 .5 -.2 .5 .5 .5 -.2 .5 .4 .5 .2 .5 -1.9 .5 .1 .5 .3 .5 1.4 .5 -.6 .5 .9 .5 -.3 .5 .3 .5 -1.2 .5 3 .5 -3.1 .5 1 .5 -.5 .5 .4 .5 .1 .5 -.5 .5 -.9 .5 -.5 .5 -.4 .5 2.2 .5 -2 .5 1.5 .5 -.1 .5 -.5 .5 .2 .5 .3 .5 -1.4 .5 .8 .5 -.9 .5 .1 .5 2.1 .5 -1.4 .5 .5 .5 -.7 .5 -.4 .5 1.7 .5 -2.7 .5 .8 .5 .4 .5 -.7 .5 .4 .5 1.1 .5 -1.4 .5 1.2 .5 -.4 .5 0 .5 .1 .5 -1.3 .5 1.7 .5 -.5 .5 .6 .5 -.7 .5 0 .5 -.7 .5 1.4 .5 .3 .5 -4.7 .5 3.3 .5 1 .5 -1.7 .5 .3 .5 1.3 .5 .5 .5 -.8 .5 -.6 .5 .2 .5 .7 .5 .6 .5 -.1 .5 -.2 .5 -2 .5 .6 .5 -.4 .5 1 .5 .2 .5 -.2 .5 1.1 .5 -2.1 .5 .5 .5 .2 .5 -.4 .5 -.4 .5 -1 .5 -.2 .5 -1.1 .5 -3.9 .5 -3.4 .5 -3.7 .5 -5.7 .5 -7.1 .5 -5.1 .5 -3.1 .5 -.6 .5 2.4 .5 4.3 .5 5.8 .5 8.1 .5 5.3 .5 2 .5 1.9 .5 2.2 .5 1.4 .5 .2 .5 0 .5 .6 .5 0 .5 -1.1 .5 -.8 .5 .8 .5 -.5 .5 .6 .5 .6 .5 -1.1 .5 .3 .5 .8 .5 -1.5 .5 -.5 .5 -.3 .5 -.9 .5 .6 .5 -2.4 .5 .6 .5 -.9 .5 -1.3 .5 -2.8 .5 -5.1 .5 -4 .5 -7.1 .5 -8.4 .5 -16.4 .5 -19.3 .5 -20.8 .5 -26.4 .5 -24.2 .5 -19.3 .5 -12.9 .5 -4.4 .5 13.3 .5 20.7 .5 22.7 .5 21.8 .5 23.3 .5 17.5 .5 12.2 .5 5.7 .5 14.4 .5 5.4 .5 5.8 .5 2.8 .5 2.1 .5 3.2 .5 1.1 .5 1.7 .5 1.3 .5 1.2 .5 -.2 .5 .6 .5 .1 .5 -.2 .5 1.1 .5 0 .5 1.3 .5 -1 .5 -.6 .5 .6 .5 -.6 .5 .8 .5 -.7 .5 1.6 .5 .1 .5 -.8 .5 .6 .5 -.5 .5 .9 .5 -1.7 .5 -2.2 .5 2.7 .5 -1.8 .5 -1.3 .5 -2.7 .5 -5.4 .5 -5.1 .5 -8.3 .5 -10.3 .5 -16.7 .5 -14.5 .5 -14.2 .5 -8.8 .5 -.9 .5 7.7 .5 13 .5 16.5 .5 14.5 .5 13 .5 6.3 .5 8.5 .5 2.8 .5 2.8 .5 2.3 .5 1.2 .5 0 .5 1 .5 -.6 .5 1.3 .5 -1.2 .5 .1 .5 1 .5 0 .5 -1.2 .5 1 .5 -.3 .5 -.3 .5 -.1 .5 -.5 .5 -2.7 .5 -1.3 .5 -1.9 .5 -1.6 .5 0 .5 .6 .5 -.4 .5 2.2 .5 .1 .5 2.5 .5 1.2 .5 1.8 .5 2.1 .5 .2 .5 -1.3 .5 1.8 .5 1.4 .5 -1.1 .5 -.7 .5 1.3 .5 -.2 .5 .4 .5 1.5 .5 -1.6 .5 -.3 .5 -2.7 .5 4.7 .5 -2.7 .5 0 .5 .7 .5 .2 .5 .4 .5 1.1 .5 -.5 .5 -1.6 .5 1.9 .5 -.1 .5 -.6 .5 -1.1 .5 .8 .5 -1.1 .5 1 .5 -1.3 .5 0 .5 1.6 .5 .1 .5 -.4 .5 -.4 .5 .4 .5 -1.5 .5 .6 .5 2.5 .5 -2.2 .5 1.2 .5 1 .5 -1.3 .5 -.4 .5 -.3 .5 0 .5 -.9 .5 .4 .5 -.2 .5 .3 .5 -.8 .5 2 .5 -.6 .5 -.2 .5 .2 .5 -.3 .5 1.5 .5 -1.6 .5 1.2 .5 -1 .5 .2 .5 .1 .5 0 .5 .8 .5 .3 .5 -1.6 .5 .5 .5 .3 .5 -.7 .5 1.1 .5 -.3 .5 -.3 .5 .6 .5 -1.3 .5 1 .5 -.1 .5 -1.2 .5 .3 .5 -.3 .5 0 .5 1.3 .5 -.6 .5 -1.5 .5 .8 .5 -2.2 .5 .6 .5 -1.2 .5 -.1 .5 -2.4 .5 2.5 .5 -1.8 .5 1.3 .5 -.8 .5 1 .5 -2.9 .5 2.5 .5 .9 .5 .7 .5 .4 .5 1.1 .5 -1.4 .5 .1 .5 1.8 .5 -1.5 .5 1.7 .5 -.7 .5 1.2 .5 -.7 .5 .1 .5 -1.7 .5 2.1 .5 -1.2 .5 -.4 .5 .7 .5 .3 .5 .2 .5 -.6 .5 -.9 .5 2.2 .5 -.5 .5 -.7 .5 1 .5 .1 .5 -.4 .5 1.6 .5 -2.1 .5 .5 .5 -.2 .5 .6 .5 .5 .5 -1 .5 .9 .5 -2.8 .5 1 .5 1 .5 -.2 .5 .4 .5 .6 .5 1.7 .5 -3.6 .5 1 .5 1.6 .5 -1.2 .5 .4 .5 -.9 .5 1 .5 -.3 .5 1.1 .5 -1.4 .5 -.4 .5 .7 .5 0 .5 .6 .5 -1.2 .5 .9 .5 -.3 .5 -1.2 .5 .3 .5 1.5 .5 -.9 .5 .8 .5 -.3 .5 .4 .5 -.8 .5 1.5 .5 -2.3 .5 -.4 .5 1.2 .5 -.2 .5 2.1 .5 -.9 .5 -.5 .5 .5 .5 -.5 .5 -.3 .5 -1.3 .5 1.7 .5 .1 .5 -.9 .5 1.1 .5 -.1 .5 -.8 .5 .9 .5 .5 .5 .6 .5 -.3 .5 .5 .5 -2.8 .5 .7 .5 1 .5 -.6 .5 -.1 .5 -.2 .5 .8 .5 .1 .5 -.7 .5 1.7 .5 -1.1 .5 .1 .5 0 .5 -.4 .5 -.9 .5 .7 .5 .4 .5 -1.4 .5 1.3 .5 -.8 .5 .3 .5 1.3 .5 -.5 .5 -.2 .5 -.1 .5 0 .5 -1.2 .5 3 .5 -2.4 .5 .4 .5 -4.8 .5 4.9 .5 1 .5 -.9 .5 1.6 .5 -.9 .5 .1 .5 -.9 .5 -.1 .5 1.3 .5 -1.4 .5 .2 .5 .1 .5 -.2 .5 .2 .5 -.2 .5 -.4 .5 .8 .5 -.3 .5 -.5 .5 .7 .5 1 .5 -2.6 .5 3.4 .5 -2.2 .5 -.4 .5 -.2 .5 -.4 .5 1.1 .5 -.9 .5 0 .5 1.6 .5 -.7 .5 -1.3 .5 .1 .5 .7 .5 -.6 .5 .6 .5 1.1 .5 -1.1 .5 -1.2 .5 1 .5 1.3 .5 -2.3 .5 -.2 .5 .9 .5 -1.2 .5 2.3 .5 -2.8 .5 1.6 .5 .4 .5 -2 .5 1.4 .5 1.3 .5 -.6 .5 .2 .5 -1.6 .5 1.6 .5 -1.4 .5 .2 .5 -.5 .5 .6 .5 0 .5 -.4 .5 .4 .5 -.1 .5 -.2 .5 -.1 .5 .9 .5 -.9 .5 -1.5 .5 2.3 .5 -.3 .5 -.2 .5 -.5 .5 -.5 .5 -.6 .5 .4 .5 -2.6 .5 -2.2 .5 -1.5 .5 -2.2 .5 -3.8 .5 -2.7 .5 -3.8 .5 -3.7 .5 -2.1 .5 -.5 .5 -.3 .5 1.3 .5 2.2 .5 2.9 .5 3.8 .5 2 .5 3.5 .5 4 .5 2.6 .5 .1 .5 1.3 .5 2.3 .5 -.1 .5 .6 .5 1.2 .5 -1.1 .5 .8 .5 .6 .5 -.5 .5 -.2 .5 .5 .5 1.4 .5 -1.6 .5 .7 .5 -1.9 .5 2 .5 -.2 .5 -.7 .5 -.3 .5 1.3 .5 -1.5 .5 2.9 .5 -3.3 .5 .5 .5 .8 .5 -.7 .5 1.4 .5 -1.2 .5 -1 .5 -.1 .5 1.4 .5 -.5 .5 -1.4 .5 .8 .5 .3 .5 -.2 .5 .4 .5 .3 .5 .3 .5 -1.5 .5 2.1 .5 -2.9 .5 2.8 .5 1.5 .5 -.6 .5 -.3 .5 -.4 .5 -1 .5 -.2 .5 1.6 .5 -2.4 .5 1.2 .5 -1.2 .5 -.9 .5 3.3 .5 -.6 .5 .2 .5 0 .5 -.9 .5 -.3 .5 -1.3 .5 2.4 .5 -.2 .5 .7 .5 -.9 .5 .1 .5 -1.5 .5 .9 .5 .2 .5 -.2 .5 0 .5 -.3 .5 1 .5 .2 .5 -.5 .5 -.3 .5 -.6 .5 .6 .5 .5 .5 -2 .5 2.1 .5 -1.1 .5 -.6 .5 2.2 .5 -2.3 .5 1.1 .5 -.3 .5 0 .5 .2 .5 -.8 .5 1.3 .5 -.6 .5 0 .5 1.4 .5 -.8 .5 -1.2 .5 1.3 .5 -4.3 .5 3.1 .5 -.6 .5 .6 .5 .5 .5 1.1 .5 -1.2 .5 1.2 .5 -2.3 .5 -.2 .5 .9 .5 -.5 .5 -.6 .5 2.4 .5 -1 .5 .9 .5 -2.3 .5 .1 .5 1.7 .5 -.8 .5 .8 .5 -.3 .5 1.9 .5 -.4 .5 -1.9 .5 1.7 .5 -2.1 .5 1.5 .5 2.1 .5 -1.2 .5 -1.7 .5 1.8 .5 .8 .5 1 .5 -2.1 .5 -.2 .5 -1 .5 .2 .5 1.3 .5 -1.5 .5 1.1 .5 -.7 .5 -1 .5 -.6 .5 1.7 .5 .8 .5 -.8 .5 1.3 .5 -1 .5 -.7 .5 1.2 .5 -.9 .5 -.2 .5 -.5 .5 1.8 .5 .6 .5 -1.6 .5 .2 .5 .1 .5 -.1 .5 2.1 .5 .1 .5 -1.2 .5 .2 .5 .4 .5 -.2 .5 -1.5 .5 -.5 .5 1 .5 1 .5 -.1 .5 -1.3 .5 2.5 .5 -2.7 .5 2.6 .5 -1.7 .5 .5 .5 -.8 .5 .8 .5 -.8 .5 .3 .5 .6 .5 -1.3 .5 .1 .5 .4 .5 -.5 .5 0 .5 .5 .5 -.3 .5 .8 .5 -.6 .5 -.6 .5 1 .5 -.6 .5 -1.3 .5 .1 .5 2.1 .5 .7 .5 -2.5 .5 .5 .5 -1.2 .5 1.9 .5 -.6 .5 -.2 .5 -.2 .5 .1 .5 -.4 .5 .2 .5 1 .5 .7 .5 -.9 .5 -.1 .5 .9 .5 -.4 .5 -.7 .5 -1.4 .5 2.9 .5 -.3 .5 .3 .5 -3.5 .5 1 .5 .8 .5 1 .5 -.4 .5 .8 .5 -.2 .5 -2.3 .5 .8 .5 -1.7 .5 -1 .5 -2.1 .5 -4.4 .5 -2.1 .5 -4.5 .5 -4.5 .5 -3.2 .5 .8 .5 1.5 .5 3.7 .5 6.6 .5 2.1 .5 4 .5 1.8 .5 2.3 .5 0 .5 1.1 .5 .4 .5 -2.9 .5 .6 .5 2.7 .5 -1.3 .5 -1 .5 2.2 .5 -2.2 .5 .8 .5 0 .5 1.3 .5 -1.9 .5 .7 .5 .6 .5 .2 .5 -1.2 .5 .7 .5 .6 .5 -.8 .5 1.3 .5 -.1 .5 -.9 .5 1.1 .5 -2 .5 1.7 .5 -.4 .5 .6 .5 -.5 .5 -2.2 .5 1 .5 1.3 .5 .2 .5 -1.4 .5 0 .5 1.9 .5 -.9 .5 -.4 .5 .1 .5 -.4 .5 1.8 .5 -1.1 .5 -1 .5 1.5 .5 -.3 .5 .3 .5 -.3 .5 .4 .5 -1 .5 1.1 .5 -1 .5 -.5 .5 1.5 .5 -1.9 .5 -.1 .5 1.1 .5 -1.3 .5 .3 .5 -.5 .5 -1.1 .5 -.8 .5 .7 .5 -1.1 .5 -1.1 .5 -.4 .5 .4 .5 1.3 .5 -.2 .5 .5 .5 .1 .5 .8 .5 .7 .5 -.4 .5 1.7 .5 1.3 .5 -1.1 .5 1.9 .5 -1.4 .5 -.9 .5 2.2 .5 -1.2 .5 .4 .5 .6 .5 -1.9 .5 1.5 .5 .8 .5 -2.1 .5 1.2 .5 0 .5 -.7 .5 .2 .5 1.3 .5 -.8 .5 -.5 .5 .3 .5 -1.7 .5 2.5 .5 -.1 .5 -.1 .5 -1 .5 .8 .5 .9 .5 1.6 .5 -1.8 .5 -.8 .5 1 .5 -2.4 .5 1.3 .5 1.1 .5 0 .5 -.9 .5 .7 .5 -.5 .5 .8 .5 -1.1 .5 1.1 .5 -1 .5 -1.1 .5 .4 .5 1.5 .5 -1.4 .5 .5 .5 -.1 .5 -1.4 .5 2 .5 -1.1 .5 1 .5 -1.1 .5 -.9 .5 1.1 .5 .7 .5 -.5 .5 -1.2 .5 2.4 .5 -2.8 .5 1 .5 .9 .5 -.7 .5 -.7 .5 1.7 .5 -1.1 .5 .4 .5 -.9 .5 -.6 .5 .7 .5 .9 .5 -.2 .5 2.5 .5 -2.3 .5 -.1 .5 .5 .5 .9 .5 -2.5 .5 2.5 .5 -1.7 .5 1.4 .5 -.8 .5 .6 .5 -.7 .5 -.7 .5 -.7 .5 1.4 .5 .6 .5 -.3 .5 -3.7 .5 3.9 .5 -2 .5 1.6 .5 -1.2 .5 .4 .5 .4 .5 .5 .5 -1.3 .5 2.9 .5 -2.6 .5 2 .5 -1.4 .5 1.2 .5 -.2 .5 -.9 .5 1.6 .5 -.1 .5 -1.7 .5 .9 .5 .8 .5 -.6 .5 -.5 .5 2.3 .5 -2.7 .5 2.7 .5 -.9 .5 -1.5 .5 -1.1 .5 2.1 .5 -1.5 .5 1.8 .5 .9 .5 -3.2 .5 2.6 .5 -.4 .5 -1.5 .5 1.8 .5 -.6 .5 .4 .5 -1.3 .5 .1 .5 .7 .5 -1.3 .5 1.3 .5 -1.5 .5 1.5 .5 -.5 .5 -.2 .5 .9 .5 .1 .5 .8 .5 -1.3 .5 -.7 .5 1.2 .5 -.8 .5 .1 .5 -.5 .5 .8 .5 .2 .5 -.7 .5 -1.3 .5 1.2 .5 -.6 .5 .1 .5 .1 .5 .8 .5 -.4 .5 -.4 .5 .7 .5 -1.3 .5 1.9 .5 -.4 .5 .1 .5 -.4 .5 1.7 .5 -1.6 .5 -.1 .5 -.2 .5 .8 .5 -.4 .5 -.7 .5 -.8 .5 1.2 .5 0 .5 -1.2 .5 .6 .5 .8 .5 -1.2 .5 .2 .5 .7 .5 -1 .5 -.2 .5 -2 .5 3.5 .5 -3.1 .5 2.6 .5 -.7 .5 1.5 .5 -.1 .5 -1.2 .5 .1 .5 .5 .5 -1.2 .5 -1.9 .5 1.6 .5 -1.6 .5 .3 .5 -.6 .5 -4 .5 1.6 .5 -2 .5 -2 .5 -1.7 .5 -2 .5 -2.3 .5 -1.1 .5 -2.1 .5 .8 .5 -1.2 .5 .2 .5 1.5 .5 2.9 .5 .6 .5 1.7 .5 1.9 .5 2.1 .5 .6 .5 2.3 .5 .6 .5 1.2 .5 .7 .5 .2 .5 1.4 .5 .7 .5 -.2 .5 -1.3 .5 1.6 .5 -.5 .5 -.7 .5 1.2 .5 -.5 .5 .1 .5 .2 .5 -1.1 .5 -.2 .5 1.6 .5 -1.7 .5 -1.9 .5 2.9 .5 .3 .5 -.8 .5 1.1 .5 -.5 .5 .2 .5 -.4 .5 .8 .5 -1 .5 1.3 .5 0 .5 -2.3 .5 1 .5 3.2 .5 -2.8 .5 -.6 .5 2.2 .5 -1.2 .5 -.7 .5 .6 .5 -1.6 .5 .6 .5 .7 .5 -1 .5 2.8 .5 -2.7 .5 1.3 .5 .4 .5 -.5 .5 -.7 .5 1.1 .5 .4 .5 .1 .5 -2.2 .5 1.4 .5 .1 .5 -1.7 .5 1 .5 .1 .5 -.9 .5 1.7 .5 -1.7 .5 .3 .5 .3 .5 -.1 .5 -.2 .5 .9 .5 0 .5 -2 .5 2.9 .5 -.1 .5 -1 .5 -1.1 .5 2.7 .5 -2.7 .5 1.2 .5 .1 .5 .4 .5 -.1 .5 .2 .5 -.4 .5 -.2 .5 -1.3 .5 2.7 .5 -1.4 .5 .2 .5 -.6 .5 -1 .5 1.8 .5 -.4 .5 1.3 .5 1 .5 -.2 .5 -2 .5 1.8 .5 -.1 .5 -1.5 .5 .8 .5 -.7 .5 -4.8 .5 3.7 .5 .7 .5 -.7 .5 -.3 .5 .4 .5 .9 .5 -.6 .5 2.3 .5 -3.2 .5 1.8 .5 -.1 .5 1.8 .5 -1.4 .5 -.8 .5 .7 .5 1.7 .5 -1.8 .5 -.5 .5 1.2 .5 -.1 .5 -1.6 .5 -.3 .5 1.1 .5 -.6 .5 1 .5 -.1 .5 -1 .5 .6 .5 -.4 .5 -1.7 .5 1.5 .5 -.1 .5 0 .5 -.6 .5 1 .5 -1.6 .5 1.6 .5 -1.3 .5 -.7 .5 .3 .5 1 .5 -2.3 .5 1.9 .5 -.2 .5 -.1 .5 0 .5 1.3 .5 -1.4 .5 .2 .5 -3.2 .5 2.2 .5 -.4 .5 .3 .5 2.2 .5 -2.5 .5 1.2 .5 -.9 .5 -1.9 .5 -1.1 .5 -.3 .5 0 .5 -3.3 .5 -2.6 .5 -5.4 .5 -6.2 .5 -7.9 .5 -8.2 .5 -9.8 .5 -10 .5 -8.8 .5 -8 .5 -3.2 .5 .1 .5 2.6 .5 9.7 .5 5.6 .5 12 .5 8.7 .5 9 .5 6.5 .5 6.3 .5 4.8 .5 3 .5 3.6 .5 1.2 .5 2.1 .5 -1.3 .5 2.2 .5 .6 .5 1.1 .5 -1.6 .5 .1 .5 1.5 .5 -.4 .5 -.5 .5 1.1 .5 -.2 .5 1.6 .5 -1.9 .5 -.6 .5 .9 .5 .5 .5 .2 .5 -.6 .5 1.6 .5 -.5 .5 .4 .5 -.9 .5 1.1 .5 .1 .5 .7 .5 -1.1 .5 .6 .5 .3 .5 -1.4 .5 2.1 .5 -2.6 .5 2.2 .5 .1 .5 1.4 .5 -2 .5 .5 .5 0 .5 -1.2 .5 -.9 .5 .2 .5 .4 .5 .5 .5 .4 .5 2.2 .5 -2.7 .5 0 .5 .4 .5 .4 .5 -.8 .5 .5 .5 1.6 .5 -1.5 .5 -.3 .5 -.9 .5 1 .5 -.3 .5 .8 .5 -1.1 .5 .7 .5 -.6 .5 -.5 .5 0 .5 1.4 .5 -.1 .5 -.8 .5 -1.5 .5 1.6 .5 -.9 .5 .9 .5 -.3 .5 .5 .5 -.4 .5 -.3 .5 .8 .5 -3.8 .5 3.2 .5 -.1 .5 2 .5 -3.1 .5 1.2 .5 -.5 .5 2.1 .5 -.9 .5 0 .5 -1 .5 -.5 .5 .6 .5 .1 .5 .8 .5 -2.1 .5 1.7 .5 -.8 .5 -.2 .5 -.1 .5 .9 .5 .2 .5 -.7 .5 2.2 .5 -1.7 .5 -.1 .5 1.1 .5 .5 .5 .3 .5 -1.1 .5 -.1 .5 1.2 .5 -2.5 .5 .8 .5 -.4 .5 -.1 .5 -.2 .5 1.1 .5 1.2 .5 .4 .5 -2.3 .5 .6 .5 -4.1 .5 3 .5 1.8 .5 -.7 .5 -.3 .5 1.7 .5 -1.1 .5 .3 .5 -.5 .5 .7 .5 -.8 .5 .2 .5 .7 .5 .2 .5 -2.3 .5 1.6 .5 .5 .5 -1 .5 .5 .5 .3 .5 .3 .5 0 .5 .2 .5 .7 .5 -.8 .5 -.5 .5 .7 .5 .3 .5 -.4 .5 -1.1 .5 .6 .5 1.5 .5 -1.1 .5 -1.3 .5 2.7 .5 -1.4 .5 -.4 .5 .9 .5 -.6 .5 .9 .5 -.5 .5 .3 .5 -.5 .5 .2 .5 1.5 .5 -2.4 .5 .8 .5 2.1 .5 -1.4 .5 -.2 .5 -1 .5 2.3 .5 -.9 .5 -1.4 .5 -.2 .5 -.6 .5 1.6 .5 -1.2 .5 .5 .5 -1.2 .5 1.3 .5 -1.2 .5 0 .5 1 .5 1.6 .5 -2.2 .5 1.3 .5 -3.2 .5 3.3 .5 -.5 .5 -.5 .5 1 .5 .7 .5 -1.5 .5 .3 .5 -1.3 .5 .9 .5 -2.2 .5 1.5 .5 -1.2 .5 1.4 .5 .7 .5 -.8 .5 1.9 .5 -2.6 .5 -.2 .5 1.4 .5 -.6 .5 .7 .5 -1 .5 -.8 .5 .9 .5 -.3 .5 -.2 .5 1.7 .5 -.6 .5 -.6 .5 .9 .5 -1.2 .5 -1.7 .5 .6 .5 1 .5 -.1 .5 -1.2 .5 1.2 .5 .3 .5 .5 .5 -.7 .5 -.2 .5 -.7 .5 1.2 .5 1.1 .5 -.7 .5 -.9 .5 .4 .5 .5 .5 -1.3 .5 .1 .5 .7 .5 0 .5 1.4 .5 -.7 .5 -.8 .5 -.9 .5 -.3 .5 2.2 .5 -1.1 .5 -1.1 .5 .1 .5 -.7 .5 .1 .5 .9 .5 .1 .5 -.9 .5 -.1 .5 -.6 .5 1.9 .5 -1.9 .5 1.1 .5 -1.7 .5 1.6 .5 -1 .5 .3 .5 -1.5 .5 1.5 .5 -.3 .5 -1.5 .5 -.6 .5 .8 .5 -1.5 .5 -2.3 .5 -2.4 .5 -4.8 .5 -4.1 .5 -5.9 .5 -7.2 .5 -7 .5 -8.1 .5 -6.6 .5 -6.2 .5 -2.2 .5 .2 .5 2.7 .5 6.5 .5 5.8 .5 5.6 .5 9 .5 6.2 .5 5.8 .5 6.5 .5 1.9 .5 3.3 .5 1.8 .5 1.7 .5 -.4 .5 1.4 .5 .5 .5 1.3 .5 -1 .5 .2 .5 0 .5 -.1 .5 .6 .5 -1.3 .5 -2.5 .5 .7 .5 -1.1 .5 -2.8 .5 -2.7 .5 -1.4 .5 -1.5 .5 0 .5 2.6 .5 1.6 .5 2.1 .5 .9 .5 3.2 .5 1 .5 1.9 .5 0 .5 .8 .5 -.5 .5 2.1 .5 -1.9 .5 1.4 .5 -.9 .5 -.3 .5 1.4 .5 .2 .5 -1 .5 -.1 .5 .3 .5 .5 .5 1 .5 -1.1 .5 1 .5 0 .5 -.5 .5 0 .5 1 .5 -1.4 .5 -.3 .5 .2 .5 -1 .5 2.5 .5 -1.5 .5 -.1 .5 1.5 .5 -.4 .5 -1.7 .5 -.9 .5 1 .5 -.2 .5 1.3 .5 -1.5 .5 -.1 .5 .7 .5 -.3 .5 -.2 .5 .9 .5 -1.5 .5 1.3 .5 -.7 .5 -.5 .5 .2 .5 1.7 .5 -.4 .5 -2 .5 1 .5 -.6 .5 2.2 .5 .3 .5 -3 .5 2.5 .5 .5 .5 -2.5 .5 1.3 .5 2.5 .5 -2.5 .5 1.1 .5 .3 .5 .9 .5 -1 .5 -2.1 .5 1.5 .5 .1 .5 -.1 .5 -1.6 .5 1.2 .5 -.5 .5 .5 .5 .7 .5 -1.4 .5 1.3 .5 .3 .5 -.3 .5 -.7 .5 .4 .5 .8 .5 1 .5 -.3 .5 -.7 .5 -.2 .5 -.7 .5 .7 .5 -1.6 .5 1.2 .5 -.6 .5 .9 .5 -1.6 .5 2.8 .5 -1.2 .5 -.4 .5 1.2 .5 -2.4 .5 3.1 .5 -2 .5 -.1 .5 1.5 .5 .1 .5 -.2 .5 -.2 .5 -.7 .5 .8 .5 -.6 .5 -.7 .5 -.8 .5 -.4 .5 1.9 .5 .7 .5 -3.3 .5 3 .5 -.6 .5 1.6 .5 -2.3 .5 -.5 .5 3 .5 -1 .5 -1.5 .5 1.4 .5 -1.2 .5 .1 .5 .6 .5 -1.4 .5 .1 .5 -.9 .5 1.3 .5 -1.4 .5 1.6 .5 .1 .5 0 .5 -2.4 .5 1.7 .5 .3 .5 0 .5 -.9 .5 2.4 .5 -1 .5 -1.1 .5 1.5 .5 .1 .5 -1.3 .5 .4 .5 .6 .5 -.3 .5 -.5 .5 1.6 .5 -1.1 .5 1.8 .5 -.7 .5 -.6 .5 0 .5 .4 .5 -.8 .5 -.8 .5 .7 .5 2.3 .5 -2.8 .5 .1 .5 1.7 .5 -.6 .5 -.5 .5 -.6 .5 .8 .5 .2 .5 .1 .5 0 .5 0 .5 -.4 .5 .7 .5 -1.9 .5 1.1 .5 -.6 .5 1.8 .5 -1.2 .5 1.5 .5 -1.7 .5 1.2 .5 .5 .5 -.4 .5 -1.1 .5 .8 .5 1.3 .5 -1.5 .5 -1.1 .5 .9 .5 .4 .5 .1 .5 -.2 .5 -.4 .5 0 .5 1.5 .5 -1.1 .5 -.6 .5 0 .5 .2 .5 0 .5 -1.7 .5 2.3 .5 -.9 .5 -2.5 .5 3.2 .5 -1.4 .5 1.5 .5 -.6 .5 -1 .5 0 .5 .3 .5 0 .5 .8 .5 .8 .5 -1.4 .5 -.7 .5 1.2 .5 -.6 .5 -.3 .5 .6 .5 -.7 .5 -.7 .5 1 .5 1.4 .5 -1.1 .5 -.5 .5 1 .5 -.9 .5 .3 .5 1 .5 -.6 .5 -.5 .5 1.7 .5 -.8 .5 -.7 .5 .9 .5 -1.2 .5 -.8 .5 1.4 .5 -1.1 .5 .5 .5 -.2 .5 2.4 .5 -2.9 .5 1.2 .5 -2.3 .5 1.3 .5 .2 .5 1 .5 -2.3 .5 .7 .5 -.3 .5 -.1 .5 .6 .5 -.9 .5 -.3 .5 -2.8 .5 -.6 .5 -2.7 .5 -2.7 .5 -4.1 .5 -5.2 .5 -1.7 .5 2.1 .5 .8 .5 4.3 .5 1.6 .5 3.1 .5 3.2 .5 2.4 .5 .7 .5 .3 .5 .7 .5 .6 .5 1.5 .5 1 .5 -1.8 .5 -.5 .5 .9 .5 1 .5 -1.3 .5 1.2 .5 -.5 .5 1.1 .5 .3 .5 -2.3 .5 1.3 .5 .2 .5 0 .5 .9 .5 -.6 .5 -.2 .5 -.4 .5 1.7 .5 -1.1 .5 -.6 .5 0 .5 .2 .5 -.6 .5 1.1 .5 -.4 .5 0 .5 -.5 .5 -.4 .5 -.9 .5 2.4 .5 .8 .5 -1.1 .5 .6 .5 1 .5 -2.6 .5 .5 .5 0 .5 .7 .5 -1.2 .5 -.2 .5 -.2 .5 -2.1 .5 -2 .5 -1.7 .5 -1.8 .5 -3.7 .5 .2 .5 .8 .5 1 .5 .9 .5 2.8 .5 .1 .5 1.1 .5 2.7 .5 .5 .5 -1.7 .5 2.6 .5 .6 .5 .5 .5 -1.6 .5 0 .5 .6 .5 1 .5 -1.3 .5 1.1 .5 -.8 .5 1.4 .5 .8 .5 -1.9 .5 1.9 .5 -1.3 .5 1.4 .5 -.4 .5 -.4 .5 1.3 .5 .4 .5 -.4 .5 .1 .5 -1.5 .5 -.3 .5 1.6 .5 -.6 .5 -.3 .5 -.9 .5 .7 .5 .7 .5 -.4 .5 -.5 .5 .9 .5 -.6 .5 -.8 .5 .4 .5 .7 .5 .2 .5 .1 .5 -.3 .5 -2.8 .5 1.9 .5 -.9 .5 2.3 .5 -2 .5 .9 .5 -1.5 .5 2.4 .5 -2.2 .5 1.6 .5 .4 .5 -2.6 .5 2.1 .5 -.4 .5 .5 .5 -.4 .5 -.6 .5 .6 .5 -1.2 .5 -.4 .5 -.4 .5 -.9 .5 -2.6 .5 1.6 .5 .4 .5 -1.4 .5 .4 .5 1.6 .5 .5 .5 1.4 .5 -1.5 .5 2 .5 1.1 .5 .2 .5 -.5 .5 .8 .5 .3 .5 .2 .5 -1.1 .5 -1.1 .5 1.3 .5 -.4 .5 -.7 .5 1 .5 -.2 .5 1 .5 -.4 .5 .5 .5 .8 .5 -.7 .5 -1.2 .5 -.7 .5 .4 .5 .9 .5 0 .5 -1.4 .5 -.7 .5 -.2 .5 1.6 .5 .2 .5 -.6 .5 .9 .5 -.4 .5 -.8 .5 1.8 .5 -.9 .5 .7 .5 .4 .5 -.7 .5 -.5 .5 .3 .5 0 .5 -1.6 .5 2 .5 -1 .5 .4 .5 -.4 .5 .7 .5 -1.4 .5 1 .5 -2.5 .5 2.7 .5 .7 .5 -1 .5 -.1 .5 2.2 .5 -2.4 .5 2.5 .5 -1.8 .5 .6 .5 -.1 .5 .3 .5 -.8 .5 .2 .5 -1 .5 1.3 .5 -.8 .5 -.1 .5 .6 .5 -.5 .5 1.2 .5 0 .5 -1.3 .5 .3 .5 -.7 .5 1.1 .5 -1.2 .5 -.2 .5 .2 .5 .2 .5 -.5 .5 .6 .5 .2 .5 -.4 .5 -.1 .5 2.2 .5 -.5 .5 -2.1 .5 .9 .5 .2 .5 .8 .5 1.2 .5 -3.3 .5 -.5 .5 .6 .5 1.4 .5 -.2 .5 .3 .5 -1.1 .5 .5 .5 -.8 .5 1 .5 -.9 .5 1.4 .5 -1.7 .5 .5 .5 .6 .5 -.3 .5 -2.5 .5 2.6 .5 .3 .5 .3 .5 -1.3 .5 2.4 .5 -.2 .5 .1 .5 0 .5 -1.1 .5 .2 .5 1.4 .5 -.8 .5 -.4 .5 -.5 .5 .1 .5 -.3 .5 .3 .5 .8 .5 -.2 .5 .1 .5 -1.1 .5 -.2 .5 1.4 .5 -.7 .5 -1.1 .5 .2 .5 .9 .5 .2 .5 -1.1 .5 .3 .5 .6 .5 -1.1 .5 -.3 .5 -.4 .5 -1.4 .5 .2 .5 -.7 .5 -.3 .5 -1.4 .5 -1 .5 .5 .5 -3.2 .5 -.6 .5 -.3 .5 -3.3 .5 1.6 .5 1.3 .5 .3 .5 -.4 .5 1.5 .5 1.1 .5 1.5 .5 1.4 .5 2.4 .5 -.6 .5 .6 .5 .2 .5 2.1 .5 -.6 .5 -.3 .5 1 .5 -1.6 .5 .9 .5 -.1 .5 1.5 .5 -.6 .5 1.6 .5 -.7 .5 -.4 .5 -.1 .5 0 .5 -.8 .5 .3 .5 2.5 .5 -.8 .5 -1.5 .5 .7 .5 -1.7 .5 2.4 .5 -1 .5 1.4 .5 -4.4 .5 3.8 .5 -.9 .5 -.4 .5 .6 .5 .2 .5 -.7 .5 .5 .5 -1.2 .5 .9 .5 -1.8 .5 1 .5 -2.7 .5 -.2 .5 -2.3 .5 -.3 .5 -.4 .5 -1 .5 1.9 .5 1.9 .5 -.7 .5 1.6 .5 .4 .5 .3 .5 2.6 .5 -2 .5 1.2 .5 .7 .5 .8 .5 -1 .5 1.6 .5 -1.8 .5 1.6 .5 -1.8 .5 -.2 .5 .4 .5 -.3 .5 1.1 .5 -1.5 .5 1 .5 -.9 .5 -1.8 .5 1.9 .5 1.6 .5 -1.8 .5 0 .5 .1 .5 1 .5 -.7 .5 0 .5 -.3 .5 -.4 .5 -.3 .5 1.3 .5 -.2 .5 -1 .5 .8 .5 -.3 .5 .2 .5 .1 .5 -.5 .5 -.3 .5 2.1 .5 -1.5 .5 -.2 .5 .6 .5 .3 .5 .8 .5 -.9 .5 .7 .5 -.4 .5 -.9 .5 -.2 .5 .6 .5 .3 .5 -.6 .5 1.2 .5 -.2 .5 .1 .5 -1.8 .5 1.8 .5 -.2 .5 -1.4 .5 .4 .5 .4 .5 1.4 .5 -1.2 .5 -.4 .5 0 .5 .7 .5 .2 .5 -1.3 .5 1.6 .5 -1 .5 .8 .5 -.8 .5 -.9 .5 .3 .5 1 .5 .6 .5 -2 .5 1.2 .5 -.7 .5 .7 .5 .2 .5 1.6 .5 -1.4 .5 -1.7 .5 .2 .5 1.9 .5 -1.6 .5 .2 .5 -2.4 .5 2.7 .5 -.8 .5 .7 .5 .8 .5 .5 .5 0 .5 -1.1 .5 1.5 .5 -.8 .5 -.1 .5 -1.2 .5 .6 .5 -.2 .5 -.1 .5 .1 .5 -.3 .5 -1.6 .5 1.1 .5 .1 .5 -1.3 .5 .1 .5 -.6 .5 -.7 .5 .2 .5 .3 .5 -.1 .5 .5 .5 -.1 .5 1.8 .5 -1.1 .5 1.7 .5 -.8 .5 2.3 .5 -1 .5 -1.3 .5 1.6 .5 -.3 .5 -.8 .5 -.7 .5 .5 .5 1.6 .5 -1.3 .5 .1 .5 -.7 .5 -1.3 .5 2.6 .5 -2.3 .5 2 .5 -.3 .5 -.3 .5 .6 .5 .9 .5 -1.4 .5 1.4 .5 -3.4 .5 1.2 .5 2.6 .5 -1.7 .5 0 .5 -.4 .5 1.3 .5 .5 .5 -.4 .5 -.7 .5 -.9 .5 .6 .5 .8 .5 -.1 .5 1.7 .5 -1.2 .5 -.2 .5 0 .5 -.8 .5 .3 .5 -1.4 .5 1.3 .5 -.5 .5 -1.2 .5 .4 .5 1.5 .5 -.1 .5 1.2 .5 -2.8 .5 1.3 .5 .8 .5 -1 .5 1.2 .5 -.9 .5 .2 .5 .1 .5 -1.1 .5 .7 .5 -1.5 .5 -.2 .5 1.5 .5 -1.1 .5 2.7 .5 -1.2 .5 .7 .5 -.2 .5 -1 .5 .9 .5 -2 .5 .9 .5 -1.2 .5 .5 .5 .2 .5 .3 .5 -.1 .5 -.7 .5 1.4 .5 -.5 .5 -.8 .5 .8 .5 -.5 .5 .3 .5 .2 .5 -2.2 .5 .5 .5 2.3 .5 -4.3 .5 3.5 .5 -.3 .5 1 .5 .5 .5 -.7 .5 .2 .5 .7 .5 -1.5 .5 -.2 .5 1.5 .5 .5 .5 -2 .5 1.2 .5 -.4 .5 -.8 .5 0 .5 1.1 .5 1.3 .5 -1.3 .5 .3 .5 -1.1 .5 1.5 .5 -1.2 .5 2.7 .5 -1.7 .5 .6 .5 -1.7 .5 -.6 .5 2.3 .5 -.8 .5 -1.1 .5 1.8 .5 -.4 .5 -1.4 .5 1.7 .5 -.1 .5 .1 .5 -.9 .5 -.7 .5 3.2 .5 -2.5 .5 .4 .5 -.5 .5 .3 .5 .7 .5 -.1 .5 -1.1 .5 1.4 .5 .4 .5 -1.4 .5 .3 .5 1 .5 -1.8 .5 1 .5 -.5 .5 -.4 .5 1.1 .5 0 .5 -.9 .5 0 .5 -2.3 .5 1.9 .5 2.2 .5 .4 .5 -.2 .5 -1.9 .5 .3 .5 .2 .5 -.8 .5 1.8 .5 -1.5 .5 -.9 .5 .1 .5 1.7 .5 -2 .5 .7 .5 -2.1 .5 1.5 .5 .7 .5 -1.4 .5 3.3 .5 -1.3 .5 -2 .5 1.3 .5 1.3 .5 -1.4 .5 .2 .5 -1.2 .5 .9 .5 -.2 .5 -.9 .5 -1 .5 2.4 .5 -1.3 .5 1.6 .5 -.5 .5 -1.5 .5 1.8 .5 -.5 .5 -1 .5 .5 .5 -1.3 .5 2.1 .5 0 .5 -.7 .5 1.9 .5 .2 .5 -1.6 .5 .1 .5 .1 .5 .3 .5 -.4 .5 .5 .5 .8 .5 -.9 .5 -.6 .5 -.5 .5 .8 .5 .2 .5 -.9 .5 1.4 .5 .4 .5 -1 .5 1.1 .5 -1 .5 -.6 .5 -.8 .5 1.1 .5 -.8 .5 -.4 .5 -.8 .5 .7 .5 0 .5 -.7 .5 -1.3 .5 -.8 .5 1.4 .5 0 .5 -1.7 .5 .7 .5 -.2 .5 .8 .5 1.4 .5 .3 .5 .8 .5 -1 .5 .1 .5 -.6 .5 1.7 .5 -2.1 .5 1.7 .5 .3 .5 1.7 .5 -2.3 .5 -4.3 .5 4.4 .5 -.4 .5 .9 .5 -.1 .5 -.9 .5 -.5 .5 .6 .5 -.1 .5 .4 .5 1.5 .5 -.9 .5 -.5 .5 -.3 .5 .1 .5 1.9 .5 -.1 .5 -1.2 .5 1.9 .5 -1.4 .5 -1.1 .5 .7 .5 -1 .5 1.3 .5 -.5 .5 -.5 .5 .5 .5 .4 .5 .2 .5 -.6 .5 -.3 .5 .3 .5 .7 .5 -.4 .5 -.2 .5 .8 .5 -.9 .5 -.7 .5 2.3 .5 .9 .5 -1.9 .5 -.4 .5 3.3 .5 -2.6 .5 .2 .5 -2.2 .5 2.6 .5 -.1 .5 -2.4 .5 2 .5 -.7 .5 .6 .5 -1.1 .5 2.8 .5 -1.9 .5 -1.4 .5 2.6 .5 -1.2 .5 -1.1 .5 .5 .5 1 .5 -2 .5 .8 .5 .3 .5 -.9 .5 1.6 .5 -.3 .5 0 .5 .4 .5 -.6 .5 .1 .5 -.3 .5 .2 .5 -1 .5 .6 .5 .9 .5 -.3 .5 .3 .5 -2.6 .5 2.5 .5 -4.7 .5 2.8 .5 .3 .5 1.3 .5 -.1 .5 -.2 .5 1.1 .5 -.7 .5 -.8 .5 .5 .5 .7 .5 -1.3 .5 1.2 .5 -1.2 .5 -.7 .5 1.3 .5 .6 .5 -.8 .5 -.4 .5 1.4 .5 -.8 .5 -.4 .5 -.5 .5 3.2 .5 -2 .5 -.4 .5 .1 .5 -1.4 .5 1.5 .5 -.5 .5 -1.9 .5 2.4 .5 -3 .5 2.1 .5 -.2 .5 .1 .5 -.6 .5 -.7 .5 1.5 .5 -1.2 .5 1.8 .5 -1.3 .5 -.3 .5 .9 .5 -1.1 .5 1.3 .5 1.1 .5 -.2 .5 .3 .5 .1 .5 -.8 .5 -.7 .5 -.7 .5 .9 .5 -.7 .5 1.2 .5 -.3 .5 .4 .5 .7 .5 .3 .5 -2.1 .5 .7 .5 .6 .5 -.1 .5 .9 .5 -1.2 .5 -.2 .5 2.1 .5 -1.7 .5 -.5 .5 -.1 .5 .6 .5 -1.2 .5 2.2 .5 -.3 .5 .5 .5 -.7 .5 -.9 .5 .3 .5 0 .5 .9 .5 -1.2 .5 .6 .5 -3.1 .5 .9 .5 1 .5 .4 .5 -.8 .5 2.2 .5 -.3 .5 -.2 .5 .5 .5 -.2 .5 -.3 .5 .2 .5 -1.1 .5 .3 .5 -.2 .5 1.5 .5 -2.4 .5 .2 .5 -.6 .5 0 .5 1.3 .5 .9 .5 -.6 .5 0 .5 .5 .5 -1.6 .5 1.5 .5 -.5 .5 1.1 .5 -.6 .5 0 .5 -.7 .5 .7 .5 1.1 .5 -1.8 .5 -.7 .5 1 .5 .4 .5 .1 .5 -.6 .5 1.1 .5 -1 .5 .3 .5 -.7 .5 .5 .5 .3 .5 .8 .5 -3.6 .5 1.9 .5 0 .5 .4 .5 .7 .5 .9 .5 -2.3 .5 .6 .5 .3 .5 -.7 .5 -.6 .5 1.7 .5 -1.2 .5 -2 .5 .3 .5 .3 .5 .8 .5 .5 .5 -.5 .5 -2.2 .5 1.8 .5 -.5 .5 .9 .5 -.5 .5 -1 .5 -.1 .5 2.9 .5 -.6 .5 .6 .5 1.4 .5 -1.7 .5 -.3 .5 .6 .5 1.5 .5 -1.7 .5 -1 .5 1 .5 -.3 .5 .4 .5 -1.5 .5 1 .5 .9 .5 -1.3 .5 2 .5 -.3 .5 -.7 .5 .7 .5 -1.5 .5 .8 .5 -.3 .5 1.1 .5 -.9 .5 -.5 .5 .8 .5 -.7 .5 1 .5 .4 .5 -.4 .5 -.3 .5 1.2 .5 -2 .5 1.6 .5 .4 .5 -1.9 .5 .2 .5 2.7 .5 -1.9 .5 -.8 .5 .9 .5 1 .5 -1.5 .5 2.5 .5 -.9 .5 -.1 .5 -1.3 .5 .4 .5 .4 .5 -.8 .5 -.3 .5 1 .5 .4 .5 -.8 .5 -.4 .5 1.1 .5 .6 .5 -.7 .5 .2 .5 1.3 .5 -1.5 .5 0 .5 -.6 .5 1.1 .5 -.1 .5 -1.2 .5 .5 .5 -.4 .5 -.2 .5 .9 .5 -.6 .5 .2 .5 .6 .5 -.1 .5 .4 .5 .3 .5 -1.7 .5 .4 .5 .8 .5 -.2 .5 .2 .5 -.5 .5 -.8 .5 0 .5 2 .5 .2 .5 -1 .5 .3 .5 -1.4 .5 .1 .5 .4 .5 -1 .5 1.5 .5 -1.2 .5 1.6 .5 -.6 .5 -.1 .5 .7 .5 -2.1 .5 1.5 .5 -.4 .5 .1 .5 .8 .5 -.6 .5 .9 .5 -.9 .5 .4 .5 -.9 .5 .9 .5 -.8 .5 1.3 .5 -.4 .5 .3 .5 -1.5 .5 2 .5 -1.8 .5 1.1 .5 -.2 .5 0 .5 0 .5 -1.3 .5 1.5 .5 -.1 .5 -1 .5 .1 .5 -.1 .5 0 .5 -1.4 .5 .8 .5 -.3 .5 1.6 .5 -1.2 .5 -.2 .5 -1.1 .5 .1 .5 -.1 .5 -.9 .5 -.6 .5 -2.8 .5 .4 .5 -2.2 .5 -1.1 .5 -2.1 .5 -1.8 .5 -2.6 .5 .5 .5 -.7 .5 1.9 .5 -1.4 .5 1.9 .5 2.1 .5 1.5 .5 1.3 .5 .5 .5 2 .5 2 .5 .8 .5 .1 .5 -.7 .5 2 .5 1.3 .5 -.9 .5 -.2 .5 .8 .5 -4 .5 3.6 .5 1.3 .5 -2.4 .5 -.9 .5 -1.6 .5 .1 .5 .1 .5 -1.4 .5 -1.6 .5 .1 .5 .4 .5 0 .5 1.6 .5 1.4 .5 0 .5 3.1 .5 -.3 .5 .9 .5 .2 .5 1.2 .5 -1.4 .5 .1 .5 .3 .5 -.7 .5 2.2 .5 0" fill="none" stroke="#008000" stroke-width="3.0" stroke-linejoin="round"/>
<path d="M91.2 2426.3l.5 .3 .5 .2 .5 1 .5 .1 .5 -2 .5 1.7 .5 1.4 .5 -2.5 .5 1.5 .5 .1 .5 -.5 .5 .1 .5 0 .5 .8 .5 0 .5 .1 .5 -.1 .5 -.3 .5 -1.1 .5 2.2 .5 -.9 .5 -1.2 .5 .9 .5 -.6 .5 -.3 .5 .6 .5 -.9 .5 .6 .5 2.8 .5 -.6 .5 -.5 .5 -2.6 .5 1.7 .5 -1.2 .5 .8 .5 -.1 .5 -1.3 .5 1.2 .5 -.4 .5 1.1 .5 -1.6 .5 .1 .5 2.1 .5 -1.9 .5 -.1 .5 1 .5 -.5 .5 0 .5 -.2 .5 .4 .5 -1.1 .5 .7 .5 .3 .5 .1 .5 .1 .5 -1.2 .5 .8 .5 -.1 .5 .7 .5 -.5 .5 -.8 .5 .9 .5 .6 .5 -3 .5 2.2 .5 .3 .5 -1.2 .5 2.7 .5 -2.7 .5 .7 .5 1.6 .5 -2.1 .5 .9 .5 1.3 .5 .1 .5 -1.1 .5 -1.1 .5 -.2 .5 1.7 .5 .1 .5 -1.7 .5 2.9 .5 -2.1 .5 -.3 .5 1.2 .5 -.6 .5 .6 .5 -.6 .5 .1 .5 .1 .5 .5 .5 .2 .5 .4 .5 .5 .5 -2 .5 .2 .5 .6 .5 -.3 .5 -.4 .5 .9 .5 -1.4 .5 1.2 .5 -1.3 .5 .6 .5 -.9 .5 .6 .5 .7 .5 -.9 .5 .1 .5 -.6 .5 1.9 .5 -2.6 .5 1.2 .5 1 .5 -1.1 .5 -.8 .5 1.1 .5 -1.4 .5 1.8 .5 .1 .5 .2 .5 -1.1 .5 .2 .5 .9 .5 -.3 .5 -1.5 .5 1.2 .5 -1.2 .5 1.9 .5 .3 .5 -.8 .5 -.1 .5 -1.4 .5 1.2 .5 .7 .5 -.4 .5 1.1 .5 -1.5 .5 -.3 .5 1.2 .5 -.5 .5 -.4 .5 0 .5 -.3 .5 .6 .5 .5 .5 -.9 .5 .6 .5 -.1 .5 -1 .5 1.3 .5 .8 .5 -.5 .5 -.3 .5 0 .5 -.2 .5 .5 .5 -.2 .5 -.4 .5 1.7 .5 -2.2 .5 1.1 .5 -1.1 .5 -.5 .5 1.2 .5 0 .5 -.4 .5 -1.5 .5 1.5 .5 3.2 .5 -3.1 .5 1 .5 .1 .5 -.8 .5 .1 .5 .7 .5 -2.2 .5 1.7 .5 .4 .5 -2.6 .5 1.4 .5 -.1 .5 -.9 .5 2.4 .5 -1.2 .5 -.4 .5 -.3 .5 .5 .5 .6 .5 -.6 .5 -.3 .5 1.6 .5 -2.9 .5 1.5 .5 .2 .5 .1 .5 -.5 .5 .4 .5 .1 .5 .1 .5 .7 .5 -1.6 .5 .5 .5 1.3 .5 -.7 .5 .8 .5 -.3 .5 -2 .5 -.6 .5 1.4 .5 -.3 .5 0 .5 1.1 .5 -1.3 .5 .8 .5 -.9 .5 1.5 .5 .7 .5 -.3 .5 -1.1 .5 -.6 .5 .4 .5 -.7 .5 .1 .5 1.4 .5 -.3 .5 -1.1 .5 1.5 .5 -1.2 .5 .5 .5 .4 .5 -1.6 .5 2.5 .5 -1.4 .5 1 .5 -.5 .5 .5 .5 -1.7 .5 .9 .5 .4 .5 -.1 .5 0 .5 -1 .5 1.3 .5 .5 .5 -1.2 .5 .6 .5 -2.1 .5 1.4 .5 .2 .5 1 .5 -1.6 .5 -.4 .5 1.6 .5 .8 .5 -.3 .5 -1.4 .5 0 .5 -.2 .5 1.2 .5 -.7 .5 .5 .5 0 .5 -1.7 .5 -.3 .5 -.1 .5 -.1 .5 -.6 .5 2.1 .5 -.9 .5 -.3 .5 1.1 .5 -2 .5 1.4 .5 -.3 .5 -2.7 .5 1 .5 .5 .5 .7 .5 1.3 .5 1.6 .5 -1.8 .5 -1 .5 .5 .5 1 .5 -2.4 .5 .9 .5 .9 .5 -1.3 .5 1.9 .5 -.9 .5 -.1 .5 1.1 .5 -1 .5 .2 .5 -.9 .5 -2.8 .5 1.6 .5 1.4 .5 -.2 .5 -1.3 .5 3.1 .5 -1.8 .5 1.1 .5 -.5 .5 .8 .5 -1.2 .5 .6 .5 .1 .5 .4 .5 -.7 .5 1.2 .5 -.7 .5 .1 .5 1.1 .5 -1.8 .5 -.9 .5 2 .5 .6 .5 -3.7 .5 2.3 .5 .7 .5 -.6 .5 1.4 .5 -2 .5 1.7 .5 -.6 .5 1.1 .5 -1.4 .5 -1 .5 1.4 .5 0 .5 .5 .5 -1 .5 .8 .5 -1.1 .5 0 .5 -.4 .5 2.3 .5 -.8 .5 -1.4 .5 1.4 .5 -1 .5 .9 .5 -.3 .5 0 .5 .7 .5 -.2 .5 -.8 .5 .3 .5 1.1 .5 -2.6 .5 3.4 .5 -.8 .5 .1 .5 -.5 .5 -.1 .5 -.8 .5 1.5 .5 0 .5 -1.2 .5 .4 .5 .8 .5 -.3 .5 -.5 .5 .8 .5 1.5 .5 -2.7 .5 -.1 .5 .9 .5 -.6 .5 .4 .5 0 .5 1.7 .5 -1.5 .5 .5 .5 -1 .5 -.6 .5 .5 .5 1 .5 -.1 .5 -.3 .5 .1 .5 .3 .5 .1 .5 1 .5 -2.3 .5 .5 .5 -1.1 .5 .5 .5 -1.1 .5 .8 .5 2 .5 -2.4 .5 -.3 .5 0 .5 .2 .5 .3 .5 1.7 .5 -.7 .5 1.1 .5 -.4 .5 .2 .5 -.2 .5 -1 .5 -2.8 .5 2.5 .5 .5 .5 -.2 .5 -.2 .5 .7 .5 .4 .5 -.8 .5 .7 .5 1 .5 -1.7 .5 -.3 .5 -.7 .5 0 .5 1.6 .5 -1 .5 .4 .5 -1.1 .5 .5 .5 .3 .5 -.4 .5 1.9 .5 -2.4 .5 -.2 .5 3.3 .5 -1.8 .5 .5 .5 -1.5 .5 1.9 .5 0 .5 .1 .5 -.8 .5 .4 .5 1.5 .5 -2.2 .5 -.5 .5 .8 .5 .7 .5 -.7 .5 .9 .5 -.3 .5 .9 .5 -1.6 .5 -.6 .5 1.1 .5 .3 .5 -.7 .5 -1.3 .5 2.6 .5 -1.5 .5 .8 .5 -.3 .5 .1 .5 -1.5 .5 2.3 .5 -1 .5 1.3 .5 -1.5 .5 -.2 .5 .5 .5 -.5 .5 1.2 .5 -1.1 .5 -.7 .5 1.2 .5 -.1 .5 .2 .5 -1 .5 .4 .5 -.3 .5 1.8 .5 0 .5 -.5 .5 -.1 .5 .3 .5 -.3 .5 -.5 .5 .2 .5 .2 .5 -1.2 .5 1.1 .5 .4 .5 .9 .5 -2.8 .5 1.9 .5 -2.7 .5 2.4 .5 -1.2 .5 -.6 .5 .9 .5 -.3 .5 .7 .5 -2.2 .5 1.1 .5 -.1 .5 1.5 .5 -.7 .5 -.1 .5 -1 .5 2.3 .5 -2.1 .5 1.4 .5 .1 .5 -.9 .5 -.3 .5 .8 .5 -1.1 .5 .9 .5 -1 .5 1.4 .5 -1.8 .5 -1.1 .5 -.1 .5 3.8 .5 -2.2 .5 -.4 .5 -.9 .5 .5 .5 1.6 .5 -.3 .5 -.8 .5 .7 .5 -1.7 .5 1.6 .5 -.7 .5 1 .5 -1.3 .5 .9 .5 .9 .5 -.5 .5 .1 .5 1.1 .5 -1.8 .5 .3 .5 -1.8 .5 .7 .5 .9 .5 -.5 .5 -1.2 .5 .7 .5 -.2 .5 2.1 .5 -.7 .5 -1.6 .5 2.1 .5 -.5 .5 -.8 .5 1.8 .5 .3 .5 -1 .5 -1.3 .5 0 .5 -.8 .5 1.2 .5 1.2 .5 -.3 .5 -2 .5 -.4 .5 1 .5 -.2 .5 .1 .5 .7 .5 .6 .5 -1.1 .5 .3 .5 .5 .5 -.6 .5 -1 .5 1 .5 -.2 .5 .6 .5 0 .5 -1.5 .5 1.5 .5 -.5 .5 .7 .5 -.7 .5 .4 .5 .6 .5 -.7 .5 .3 .5 .4 .5 -.6 .5 .3 .5 .6 .5 -.2 .5 -.9 .5 1.8 .5 -1.3 .5 .2 .5 .7 .5 -.3 .5 -.9 .5 .1 .5 -.1 .5 1.3 .5 -1.2 .5 1.8 .5 -1.7 .5 .8 .5 0 .5 -.9 .5 1.6 .5 .4 .5 0 .5 -2.6 .5 .8 .5 .8 .5 .2 .5 -.6 .5 1.9 .5 -1.6 .5 .4 .5 .7 .5 -.1 .5 .3 .5 -1.3 .5 1 .5 -1.2 .5 .1 .5 .8 .5 -2.2 .5 1.1 .5 -1 .5 1 .5 0 .5 .8 .5 0 .5 -.8 .5 .2 .5 -1.1 .5 0 .5 .3 .5 -.7 .5 .8 .5 -1.5 .5 -.4 .5 1.4 .5 .7 .5 -.8 .5 -.1 .5 .2 .5 -.8 .5 .3 .5 .4 .5 1.3 .5 .6 .5 -.2 .5 -1.6 .5 1.3 .5 -1.3 .5 .6 .5 -.8 .5 -.2 .5 -.6 .5 1.2 .5 -.2 .5 -1.1 .5 1.4 .5 -.4 .5 .3 .5 -.5 .5 -1.5 .5 .6 .5 1.7 .5 .4 .5 .5 .5 -2.9 .5 2.7 .5 .4 .5 -1.3 .5 0 .5 -1 .5 1.7 .5 -1.7 .5 -.1 .5 -.4 .5 .1 .5 -1.4 .5 -.2 .5 -1.8 .5 -.8 .5 -.3 .5 -3.3 .5 .9 .5 -1.2 .5 -3 .5 2.9 .5 1 .5 2 .5 .9 .5 2.4 .5 -1.7 .5 2.5 .5 0 .5 .3 .5 1.3 .5 -.2 .5 .4 .5 -.2 .5 0 .5 .2 .5 1.5 .5 -1.1 .5 1.2 .5 -.7 .5 -1.6 .5 2.9 .5 -1 .5 -1.6 .5 3.1 .5 -.2 .5 -.4 .5 -1.5 .5 1.1 .5 -.9 .5 -.4 .5 .5 .5 .3 .5 .6 .5 -2.8 .5 2.6 .5 .3 .5 -1.8 .5 1.9 .5 -2.3 .5 1.9 .5 -.4 .5 -1.6 .5 2 .5 -.1 .5 .3 .5 1.2 .5 -2.4 .5 1.3 .5 -.1 .5 -.4 .5 1.7 .5 -.8 .5 .3 .5 .6 .5 -.8 .5 -1.2 .5 1.3 .5 -1 .5 .2 .5 -.1 .5 .1 .5 .1 .5 1 .5 -.2 .5 -1 .5 .3 .5 .1 .5 -1 .5 2.2 .5 -1.9 .5 -.4 .5 1.4 .5 -.3 .5 -1.1 .5 1.9 .5 .5 .5 -1.5 .5 1 .5 -1.7 .5 .7 .5 .4 .5 -.9 .5 1.9 .5 -1.4 .5 1.7 .5 -1 .5 -1.8 .5 1.5 .5 -.1 .5 .3 .5 -1.7 .5 1.5 .5 -.4 .5 -2.1 .5 1.6 .5 -.3 .5 .4 .5 1.5 .5 -.6 .5 .3 .5 -1 .5 1.7 .5 -1.2 .5 .2 .5 .4 .5 -.8 .5 -1 .5 2 .5 -.8 .5 .3 .5 -.5 .5 .1 .5 1.2 .5 -1 .5 -1.4 .5 2.2 .5 .1 .5 -1.5 .5 1.2 .5 -1.2 .5 -.9 .5 1.7 .5 -1.4 .5 -.6 .5 1.2 .5 -.3 .5 1.2 .5 -.5 .5 0 .5 -2.4 .5 2.5 .5 -1.3 .5 -1.1 .5 .8 .5 -.6 .5 1 .5 1.5 .5 -1.7 .5 .5 .5 .1 .5 -.6 .5 -.1 .5 1.1 .5 -.5 .5 .2 .5 -1.6 .5 1.3 .5 -.1 .5 -1.2 .5 .7 .5 1.4 .5 -2.3 .5 .3 .5 -.4 .5 0 .5 1.9 .5 .1 .5 -.5 .5 .1 .5 .7 .5 -1.2 .5 1.9 .5 -1.4 .5 -.4 .5 1.4 .5 .2 .5 -1.3 .5 .9 .5 -2.1 .5 .8 .5 .5 .5 .8 .5 -1.7 .5 2 .5 -.4 .5 -.8 .5 .2 .5 1.5 .5 -.3 .5 -1.1 .5 1.1 .5 -.7 .5 -.2 .5 .7 .5 .5 .5 -.9 .5 -.2 .5 .1 .5 -.5 .5 .1 .5 -.6 .5 1.3 .5 .1 .5 -.7 .5 -1 .5 -.6 .5 -1.1 .5 .6 .5 -1.1 .5 1.4 .5 -2 .5 .5 .5 -.7 .5 1.2 .5 -1.2 .5 .5 .5 .3 .5 -.6 .5 1.9 .5 1.5 .5 -1 .5 3 .5 -1.2 .5 -.9 .5 .9 .5 -.1 .5 -1.8 .5 3.2 .5 -1.6 .5 -.1 .5 1.2 .5 -.1 .5 .1 .5 -.1 .5 -.4 .5 .6 .5 .4 .5 -4.1 .5 4.4 .5 -.2 .5 -.1 .5 -1.2 .5 .7 .5 -.2 .5 -.2 .5 -.4 .5 .4 .5 .7 .5 -.8 .5 -.2 .5 .6 .5 -.8 .5 -1.2 .5 3.7 .5 -1.1 .5 -1.2 .5 -.2 .5 .2 .5 .9 .5 0 .5 -1.1 .5 .5 .5 .3 .5 0 .5 -.7 .5 .4 .5 1.1 .5 -1.2 .5 1.2 .5 -3.9 .5 3.4 .5 -1.6 .5 1.3 .5 -.2 .5 -1.8 .5 .8 .5 .9 .5 -1.1 .5 -.9 .5 1.8 .5 -1 .5 0 .5 .5 .5 .9 .5 -1.4 .5 2.1 .5 -1.3 .5 -.2 .5 -.7 .5 -.5 .5 1.4 .5 -.9 .5 -.2 .5 .5 .5 1 .5 -.3 .5 -.5 .5 1.4 .5 -1.7 .5 1.1 .5 -.1 .5 -1.2 .5 1.3 .5 .3 .5 -.5 .5 1.2 .5 -1.3 .5 -.1 .5 1 .5 -1.7 .5 1.1 .5 -1 .5 1.4 .5 -1.5 .5 2.5 .5 .2 .5 -1.9 .5 -.3 .5 .5 .5 .1 .5 -1.1 .5 1.3 .5 -3.1 .5 1.2 .5 2.4 .5 .3 .5 -1.4 .5 .3 .5 -.9 .5 -5.9 .5 6.3 .5 -.7 .5 .6 .5 1.8 .5 -1 .5 -1.1 .5 -1.2 .5 2.2 .5 -2.3 .5 1.8 .5 -.3 .5 -.5 .5 .5 .5 .3 .5 0 .5 .3 .5 -3.3 .5 2.7 .5 -1.3 .5 -.2 .5 2.8 .5 -3.6 .5 1 .5 1.3 .5 .7 .5 -.2 .5 -.6 .5 .4 .5 .3 .5 -3.4 .5 2.2 .5 -.2 .5 .5 .5 -.6 .5 2.1 .5 .2 .5 -2 .5 -.1 .5 1.2 .5 -1.9 .5 .8 .5 -.5 .5 .7 .5 -.5 .5 1.2 .5 .3 .5 -2.2 .5 .2 .5 .4 .5 1.3 .5 -.1 .5 -2.9 .5 -.7 .5 -.5 .5 -3.2 .5 -.5 .5 -1.7 .5 -.1 .5 -3.5 .5 .3 .5 -.6 .5 .7 .5 2.8 .5 0 .5 1.4 .5 2.1 .5 1.6 .5 -.8 .5 2.6 .5 -.8 .5 1.7 .5 .2 .5 -.7 .5 1.8 .5 .5 .5 .8 .5 -1.4 .5 .3 .5 0 .5 .3 .5 -.5 .5 .5 .5 -1.6 .5 1.3 .5 .3 .5 1.1 .5 -2.5 .5 .9 .5 1.2 .5 .9 .5 -.7 .5 -.3 .5 -1.3 .5 1.1 .5 .2 .5 -.5 .5 -.2 .5 -.8 .5 .8 .5 -.1 .5 -.5 .5 .8 .5 -.5 .5 1.3 .5 .5 .5 -1.9 .5 .4 .5 -.9 .5 -2.4 .5 3.8 .5 -1.4 .5 -.7 .5 .2 .5 .9 .5 .2 .5 .3 .5 .6 .5 -1.3 .5 .9 .5 -1.6 .5 .8 .5 .3 .5 -.4 .5 -1 .5 .9 .5 .6 .5 .5 .5 -.5 .5 -1.5 .5 1.5 .5 0 .5 -.4 .5 .2 .5 -1.3 .5 1.5 .5 .5 .5 -.6 .5 .2 .5 -.4 .5 -.7 .5 .4 .5 1.1 .5 .6 .5 -.3 .5 -1.2 .5 -.2 .5 1.3 .5 -.5 .5 -.5 .5 1 .5 -.1 .5 -.1 .5 -.8 .5 1.5 .5 -.1 .5 -1.3 .5 -.7 .5 -.1 .5 .8 .5 -.5 .5 -.2 .5 1.1 .5 -1.4 .5 2 .5 -1.6 .5 -.6 .5 .4 .5 2.2 .5 -.5 .5 .3 .5 -.4 .5 .3 .5 -.2 .5 -2.4 .5 1.3 .5 -.7 .5 1.8 .5 .1 .5 -.3 .5 -1.6 .5 .5 .5 1.7 .5 -1.3 .5 -.1 .5 -.5 .5 1.7 .5 -4.3 .5 3.9 .5 -.1 .5 1.1 .5 -2.8 .5 2 .5 -.1 .5 -.1 .5 -1 .5 1.6 .5 -.8 .5 -.1 .5 .7 .5 -2.5 .5 1.8 .5 -.5 .5 .5 .5 1 .5 -1 .5 -2.1 .5 1.7 .5 -.2 .5 -1.5 .5 1.9 .5 -.3 .5 -1.1 .5 .5 .5 -.3 .5 -.8 .5 1.6 .5 .8 .5 -.5 .5 .7 .5 -.2 .5 -.3 .5 -.3 .5 1.5 .5 -.9 .5 -.1 .5 .5 .5 -2.3 .5 2.1 .5 -1.8 .5 -.5 .5 2.1 .5 .3 .5 -1.5 .5 1.3 .5 -.5 .5 -.3 .5 -.6 .5 1 .5 -1.8 .5 2.6 .5 -.9 .5 -3 .5 3.2 .5 -.6 .5 .9 .5 -.6 .5 -.9 .5 .2 .5 .5 .5 1.3 .5 -1.7 .5 -.9 .5 1.3 .5 -1.1 .5 1 .5 1.3 .5 -.3 .5 -.3 .5 -1.6 .5 2 .5 -1.4 .5 -.2 .5 -.2 .5 1.1 .5 .5 .5 -.9 .5 -.4 .5 -.2 .5 -.3 .5 1 .5 -1.2 .5 -.4 .5 .3 .5 -.8 .5 .1 .5 -.2 .5 2.2 .5 -.7 .5 -4.1 .5 .3 .5 1.4 .5 -2 .5 -1.2 .5 -3.4 .5 -2.7 .5 -7.3 .5 -5.9 .5 -6.3 .5 -10.7 .5 -8.7 .5 -5.6 .5 -4.5 .5 -1 .5 6.1 .5 4.6 .5 9.6 .5 9.4 .5 6.3 .5 7.6 .5 3.4 .5 5.5 .5 1.8 .5 2.7 .5 1.7 .5 -.3 .5 1.1 .5 .8 .5 -.2 .5 -.1 .5 1.1 .5 .5 .5 -.7 .5 .5 .5 1.6 .5 -1.3 .5 .3 .5 -.6 .5 -.1 .5 -.1 .5 .5 .5 -.4 .5 .5 .5 -2.8 .5 2.7 .5 -.1 .5 .2 .5 1.3 .5 -2.3 .5 1.6 .5 -1.3 .5 1 .5 -1.1 .5 .2 .5 -1 .5 .1 .5 .9 .5 -1.2 .5 2.9 .5 -1.9 .5 1.3 .5 -.9 .5 .2 .5 .7 .5 -1.4 .5 1.1 .5 -.7 .5 -.2 .5 .6 .5 .1 .5 -.5 .5 .3 .5 -.7 .5 -.1 .5 .8 .5 1.8 .5 -.4 .5 -1.4 .5 .1 .5 .1 .5 -.8 .5 -.7 .5 1.9 .5 -.3 .5 -.1 .5 -.5 .5 .7 .5 -.2 .5 -1.5 .5 .5 .5 -.5 .5 -.5 .5 -1.5 .5 .8 .5 -.2 .5 .5 .5 -1.2 .5 -1 .5 -.5 .5 -1.6 .5 .3 .5 -2.5 .5 -5.2 .5 -3.6 .5 -4.9 .5 -8.8 .5 -6.5 .5 -4.5 .5 .7 .5 2.6 .5 5.9 .5 9 .5 6.6 .5 5.3 .5 2.7 .5 4.2 .5 -.1 .5 3.1 .5 2.2 .5 .4 .5 -.3 .5 -.7 .5 -1.3 .5 2.4 .5 -.3 .5 .6 .5 -.6 .5 -.3 .5 1.7 .5 -.3 .5 -2.1 .5 2.1 .5 -2.4 .5 2.2 .5 -.6 .5 .1 .5 -.7 .5 1.5 .5 -.8 .5 1 .5 -.9 .5 -.9 .5 -.5 .5 2.9 .5 -.9 .5 -.1 .5 -1.2 .5 1.8 .5 .2 .5 .5 .5 -2.1 .5 1 .5 -3.6 .5 4.3 .5 -1.7 .5 -1.5 .5 2.3 .5 -1.1 .5 .7 .5 -.8 .5 .4 .5 -.9 .5 .5 .5 .4 .5 -1.4 .5 1.3 .5 -1 .5 1.1 .5 -.2 .5 -2.2 .5 2.2 .5 -1.1 .5 -1.7 .5 .3 .5 -1.5 .5 1.1 .5 -.5 .5 0 .5 0 .5 .1 .5 .5 .5 1.5 .5 -.7 .5 1.3 .5 1 .5 .6 .5 -2.8 .5 .7 .5 .5 .5 -.4 .5 1.4 .5 -.4 .5 .3 .5 -.8 .5 .8 .5 -.2 .5 1.8 .5 -1.4 .5 .6 .5 -1.2 .5 1.1 .5 .3 .5 -1.6 .5 2.2 .5 -.6 .5 -1.1 .5 0 .5 .7 .5 .4 .5 -1.1 .5 -.8 .5 -.8 .5 2.6 .5 -1.4 .5 -.6 .5 -.5 .5 -.6 .5 -2.2 .5 -3 .5 .1 .5 -.9 .5 -3.8 .5 -1.3 .5 1.4 .5 -2.9 .5 2.1 .5 1.8 .5 2.5 .5 -.9 .5 2.8 .5 .6 .5 2.5 .5 -.3 .5 3.7 .5 -1.1 .5 1 .5 -1.1 .5 .6 .5 .3 .5 -5 .5 -.6 .5 -1.5 .5 -4.9 .5 -5.4 .5 -5.2 .5 -4.3 .5 -1.4 .5 -2 .5 3.2 .5 4.3 .5 5.5 .5 6 .5 4.6 .5 1.2 .5 2.6 .5 1.3 .5 .2 .5 .6 .5 .3 .5 .3 .5 -1.3 .5 .8 .5 .2 .5 1.2 .5 -.9 .5 1.1 .5 -1.1 .5 .1 .5 -1.6 .5 1.3 .5 -1.3 .5 -.2 .5 1.2 .5 -1.6 .5 -.8 .5 -.4 .5 -.4 .5 -.3 .5 -2.3 .5 -2.6 .5 -3.2 .5 -7.2 .5 -6.1 .5 -10.1 .5 -15.4 .5 -18.1 .5 -22.5 .5 -23.9 .5 -25.9 .5 -19.5 .5 -13 .5 -1.8 .5 13 .5 15.7 .5 24.7 .5 23.2 .5 19.6 .5 20.5 .5 13.8 .5 11.3 .5 7 .5 6 .5 3.7 .5 5.6 .5 4.1 .5 .8 .5 .6 .5 2.7 .5 -.5 .5 1.4 .5 2.6 .5 -2.7 .5 2.4 .5 -.5 .5 -.9 .5 1 .5 -1 .5 1.8 .5 -1 .5 .1 .5 -.5 .5 1.8 .5 -.4 .5 -1.5 .5 1.5 .5 .2 .5 -.2 .5 -.6 .5 .5 .5 -1 .5 -.6 .5 -.3 .5 -1.2 .5 -1.2 .5 -.4 .5 -3.9 .5 -4.8 .5 -5.2 .5 -10.8 .5 -12.9 .5 -10.5 .5 -11.6 .5 -6 .5 -2.1 .5 7.4 .5 10.4 .5 13.9 .5 10.9 .5 8.9 .5 7.2 .5 6.5 .5 2.8 .5 2 .5 -.3 .5 1.1 .5 1.4 .5 .3 .5 -.1 .5 -1 .5 1.1 .5 1.7 .5 -1.4 .5 1.2 .5 .1 .5 -.8 .5 -2.1 .5 1.1 .5 -2.8 .5 .2 .5 -.7 .5 -2.5 .5 -1.6 .5 -3.2 .5 1.3 .5 -2 .5 1.2 .5 1.5 .5 3 .5 -.3 .5 2.9 .5 2.2 .5 .2 .5 0 .5 1.2 .5 .4 .5 .8 .5 .2 .5 -.8 .5 .9 .5 -.1 .5 -.2 .5 .4 .5 -.9 .5 .5 .5 2 .5 -.6 .5 -.2 .5 -2 .5 2.3 .5 -1.4 .5 0 .5 -1.3 .5 2.3 .5 -.1 .5 .2 .5 .1 .5 -1.4 .5 1.4 .5 -1.5 .5 .7 .5 0 .5 .8 .5 -.2 .5 0 .5 -1.4 .5 .5 .5 1 .5 -.7 .5 -.1 .5 -.1 .5 -1.5 .5 1.9 .5 0 .5 -1.4 .5 1 .5 .6 .5 -.5 .5 .1 .5 -1.7 .5 2.1 .5 -1.1 .5 -1.5 .5 2.8 .5 -4.3 .5 4.1 .5 -.8 .5 -.4 .5 -1 .5 1.3 .5 .2 .5 -.4 .5 1.8 .5 -2.8 .5 .8 .5 -1 .5 .6 .5 -.3 .5 .3 .5 1.1 .5 .3 .5 -.9 .5 .2 .5 .2 .5 .9 .5 -1.9 .5 0 .5 .4 .5 -.4 .5 -.1 .5 .1 .5 -.2 .5 1.1 .5 -1.9 .5 -.8 .5 -1.8 .5 2.7 .5 .3 .5 -1 .5 -.7 .5 0 .5 -.8 .5 -.9 .5 -1.2 .5 .7 .5 -.4 .5 .2 .5 .4 .5 1.8 .5 -1.1 .5 .5 .5 3 .5 -1.5 .5 .6 .5 .6 .5 -1.1 .5 .7 .5 -.4 .5 1.5 .5 .3 .5 -.3 .5 -.1 .5 1.1 .5 1 .5 -1.7 .5 .2 .5 .3 .5 -.5 .5 .4 .5 -.6 .5 1.3 .5 .7 .5 -1.7 .5 .1 .5 1.1 .5 .7 .5 -.9 .5 -1.1 .5 1.2 .5 1.7 .5 -2.3 .5 .4 .5 -.8 .5 .6 .5 .5 .5 -1.6 .5 2.2 .5 1 .5 -1.1 .5 -1.6 .5 .2 .5 -.5 .5 1 .5 .3 .5 .8 .5 .1 .5 -.9 .5 .9 .5 -2.5 .5 2.2 .5 0 .5 -.5 .5 -.7 .5 .7 .5 -2.7 .5 3.9 .5 -1.7 .5 1.1 .5 .2 .5 -2.4 .5 1.5 .5 .5 .5 -1.5 .5 -1.6 .5 2.1 .5 -.6 .5 -.3 .5 1 .5 .1 .5 -.4 .5 -.5 .5 -1.2 .5 2.3 .5 -2.4 .5 1.8 .5 .3 .5 .5 .5 -.2 .5 0 .5 .5 .5 -.3 .5 1.7 .5 -.7 .5 -1.1 .5 -.9 .5 1 .5 -.9 .5 .9 .5 -.4 .5 -.3 .5 .2 .5 -.3 .5 -.8 .5 -1 .5 .6 .5 .4 .5 -.6 .5 -1.2 .5 .6 .5 1.1 .5 .3 .5 1.6 .5 -2.8 .5 .8 .5 0 .5 .8 .5 .3 .5 -.1 .5 -.1 .5 -.1 .5 -1.2 .5 1.3 .5 -.8 .5 0 .5 1.7 .5 -1.7 .5 .2 .5 -.2 .5 .5 .5 -2.2 .5 1 .5 -.2 .5 .5 .5 .4 .5 .1 .5 -.5 .5 0 .5 0 .5 -.2 .5 1.9 .5 .1 .5 -2.5 .5 1.6 .5 -1 .5 .6 .5 1 .5 -.4 .5 -.7 .5 1.2 .5 -.2 .5 .4 .5 -1.2 .5 .6 .5 -.4 .5 1.5 .5 -.8 .5 1.1 .5 .1 .5 -.9 .5 -.7 .5 -.1 .5 .3 .5 -1 .5 -.4 .5 1.2 .5 .4 .5 -1.3 .5 1.1 .5 .7 .5 -.1 .5 .1 .5 -.5 .5 -.2 .5 .9 .5 -.2 .5 -.3 .5 1.8 .5 -1.4 .5 -.1 .5 .7 .5 -.4 .5 -.9 .5 .9 .5 -1.6 .5 .4 .5 .6 .5 -.9 .5 1.5 .5 .7 .5 -1.5 .5 1.4 .5 -.1 .5 -.4 .5 -.1 .5 .9 .5 -1.1 .5 -1.9 .5 2.2 .5 -2.5 .5 1.2 .5 -.4 .5 -.7 .5 .9 .5 -1 .5 -.6 .5 -2.5 .5 -1.9 .5 1.2 .5 -.8 .5 -3.7 .5 -1.9 .5 -3.9 .5 -1.9 .5 -5.3 .5 -2.5 .5 -3 .5 -1.5 .5 -1 .5 1.1 .5 2.1 .5 3.8 .5 4.4 .5 3.8 .5 2 .5 3.6 .5 2.3 .5 2.4 .5 1.3 .5 .6 .5 1.5 .5 .3 .5 -.4 .5 -.5 .5 .8 .5 -.4 .5 -.5 .5 .2 .5 2.5 .5 -.9 .5 .7 .5 -.6 .5 .5 .5 .3 .5 2.8 .5 -2.4 .5 0 .5 .3 .5 -2.1 .5 .3 .5 1.3 .5 .5 .5 -2.4 .5 .7 .5 1.8 .5 -.9 .5 1 .5 -.8 .5 -2.2 .5 3.7 .5 -2.6 .5 1.4 .5 -.8 .5 -.7 .5 .7 .5 -.5 .5 2 .5 -.1 .5 -.6 .5 -.3 .5 .3 .5 -.2 .5 1 .5 -.2 .5 -1.4 .5 1.3 .5 .4 .5 -1.9 .5 1.3 .5 -2.4 .5 1.8 .5 -.9 .5 1 .5 -.8 .5 0 .5 1.4 .5 -2 .5 1.5 .5 -1.2 .5 .7 .5 .2 .5 -.3 .5 -.5 .5 1.4 .5 -1.8 .5 .1 .5 1.9 .5 .4 .5 -2.2 .5 -.5 .5 1.3 .5 -.9 .5 1.4 .5 -.2 .5 -.6 .5 1.3 .5 .3 .5 -2.1 .5 1.8 .5 -.7 .5 .4 .5 .8 .5 -.3 .5 -2.2 .5 .9 .5 -1.1 .5 1.7 .5 .1 .5 -.7 .5 -.1 .5 1 .5 -.8 .5 -.9 .5 .7 .5 1.7 .5 -1 .5 -.8 .5 1.2 .5 -.6 .5 -.4 .5 -.2 .5 2.4 .5 -1.1 .5 .8 .5 -1.8 .5 2 .5 -2 .5 0 .5 .2 .5 .1 .5 -.3 .5 -.3 .5 .8 .5 -.5 .5 1.2 .5 -2 .5 0 .5 .2 .5 .3 .5 -1.5 .5 1.3 .5 1.3 .5 -2 .5 1.7 .5 -1.2 .5 -1.2 .5 2.2 .5 -1 .5 .8 .5 -.8 .5 .2 .5 1 .5 .6 .5 -1.6 .5 .8 .5 .1 .5 -.1 .5 -.6 .5 -.3 .5 -.4 .5 -.3 .5 -.9 .5 3.2 .5 -1.6 .5 1.6 .5 -1.2 .5 .5 .5 .4 .5 .2 .5 .1 .5 -1.2 .5 -.2 .5 .7 .5 -1.5 .5 1.9 .5 .1 .5 -.9 .5 .1 .5 .1 .5 -2.3 .5 2.5 .5 -3.3 .5 .9 .5 .5 .5 0 .5 .2 .5 .6 .5 -1.1 .5 1.1 .5 .6 .5 -.6 .5 -.3 .5 -.9 .5 2.9 .5 -.5 .5 -2 .5 1.2 .5 .3 .5 -1 .5 2.3 .5 -1.1 .5 -.7 .5 1.9 .5 -1.9 .5 -.4 .5 -1.1 .5 2.6 .5 -1 .5 .3 .5 1.3 .5 .4 .5 -.9 .5 -.3 .5 .6 .5 0 .5 -1.6 .5 -.4 .5 2.3 .5 -.6 .5 -2.3 .5 1.9 .5 -.4 .5 .3 .5 0 .5 -.2 .5 -.2 .5 1.4 .5 -.6 .5 -2 .5 1.2 .5 1 .5 -2.7 .5 2.4 .5 -1.1 .5 .6 .5 .1 .5 -1.3 .5 -.3 .5 .2 .5 .2 .5 .5 .5 .3 .5 -.6 .5 -.8 .5 -1.2 .5 -.9 .5 -1.3 .5 -.7 .5 -2.8 .5 -2.6 .5 -2.6 .5 -2.7 .5 -1.7 .5 -.4 .5 1 .5 1.7 .5 4.2 .5 2 .5 3.9 .5 1.2 .5 1.8 .5 -.9 .5 -.3 .5 .9 .5 2.3 .5 -.1 .5 1.2 .5 -.6 .5 -1.1 .5 0 .5 1.3 .5 -.6 .5 -1.8 .5 2.5 .5 -.2 .5 .4 .5 -.4 .5 -.7 .5 .5 .5 -.4 .5 0 .5 -.5 .5 1.1 .5 .4 .5 -.7 .5 -.2 .5 -.8 .5 1.4 .5 -.8 .5 .7 .5 .7 .5 -.4 .5 -1 .5 .7 .5 1.5 .5 -2 .5 -1.1 .5 2.7 .5 -.6 .5 -.7 .5 -.2 .5 1.5 .5 -.7 .5 -1.1 .5 1.1 .5 -.3 .5 1.8 .5 -1 .5 -.9 .5 .5 .5 -.5 .5 -.2 .5 .8 .5 -1 .5 1.2 .5 -1.1 .5 .6 .5 -.3 .5 -.5 .5 -.3 .5 -2 .5 .9 .5 -1.7 .5 .3 .5 -1 .5 -.3 .5 .8 .5 .5 .5 .2 .5 2 .5 -.7 .5 .6 .5 -1.4 .5 .5 .5 2.4 .5 1.2 .5 -2.1 .5 1 .5 .7 .5 -1.8 .5 .6 .5 .2 .5 -.2 .5 1.2 .5 -.4 .5 .3 .5 -1 .5 1.1 .5 -1 .5 .5 .5 -.4 .5 -.6 .5 3.2 .5 -1.3 .5 -1 .5 .7 .5 -1.1 .5 .8 .5 -.8 .5 .5 .5 .5 .5 .3 .5 -.8 .5 -.7 .5 -.2 .5 2.2 .5 -2.9 .5 -.4 .5 4.4 .5 .2 .5 -1.2 .5 -.6 .5 .3 .5 .1 .5 0 .5 -1.1 .5 -.7 .5 -.1 .5 1.2 .5 -.5 .5 1.1 .5 -1.4 .5 1 .5 0 .5 -.7 .5 -.3 .5 -1 .5 .4 .5 -.9 .5 -.5 .5 -.3 .5 -.6 .5 .1 .5 -.2 .5 -1 .5 1.4 .5 -.2 .5 -.1 .5 2.7 .5 .2 .5 .3 .5 -1.1 .5 1.5 .5 0 .5 -2.2 .5 0 .5 2.1 .5 .8 .5 -1.2 .5 .6 .5 .2 .5 -1.5 .5 .6 .5 1 .5 -.2 .5 .2 .5 -1.3 .5 .5 .5 .5 .5 -.9 .5 .3 .5 1.3 .5 -1.8 .5 1.2 .5 -.2 .5 -.2 .5 -.3 .5 1.4 .5 .6 .5 -1.6 .5 .7 .5 .9 .5 -1.3 .5 1.7 .5 -1.3 .5 -.9 .5 1.7 .5 -.3 .5 -.5 .5 -.6 .5 .3 .5 -.7 .5 .5 .5 -2.1 .5 .7 .5 1 .5 .8 .5 -3 .5 2 .5 .5 .5 -.4 .5 -.5 .5 -2.2 .5 2 .5 0 .5 .2 .5 1 .5 -4.4 .5 4.3 .5 -.5 .5 -.3 .5 .4 .5 .1 .5 1.8 .5 -1.2 .5 -.9 .5 1.2 .5 -1.2 .5 .7 .5 .1 .5 -.4 .5 .3 .5 -.5 .5 1.5 .5 .3 .5 -.5 .5 .6 .5 -1.7 .5 .6 .5 -.5 .5 -.2 .5 2.4 .5 -3.3 .5 2.1 .5 .1 .5 -.9 .5 -2.6 .5 .9 .5 0 .5 .2 .5 .9 .5 -.9 .5 -.2 .5 1.2 .5 -1.4 .5 .2 .5 -.2 .5 1.4 .5 .9 .5 -.2 .5 -.8 .5 .1 .5 -1.5 .5 -.4 .5 1.8 .5 .6 .5 .3 .5 -1.2 .5 .6 .5 -.6 .5 -.1 .5 -.3 .5 -.3 .5 .2 .5 .1 .5 .3 .5 .9 .5 -2 .5 1.5 .5 -.3 .5 -.8 .5 1.3 .5 -.6 .5 .3 .5 -.6 .5 .9 .5 .3 .5 -.1 .5 -1.4 .5 -1.6 .5 -.1 .5 .1 .5 1.5 .5 .6 .5 -3.8 .5 -.7 .5 -1.2 .5 -1.4 .5 -3.6 .5 -2.8 .5 -.1 .5 -3.4 .5 -1.4 .5 -2.3 .5 0 .5 -.3 .5 .5 .5 1.1 .5 3.3 .5 1 .5 2.2 .5 2.8 .5 1.2 .5 1.4 .5 2.1 .5 .7 .5 1.6 .5 -.7 .5 .2 .5 2.8 .5 .8 .5 -2.6 .5 1.7 .5 -.6 .5 .9 .5 -1.2 .5 .6 .5 -.5 .5 1.5 .5 -1.7 .5 -.1 .5 .7 .5 -.2 .5 .8 .5 -1.8 .5 1.2 .5 .3 .5 1.1 .5 -.2 .5 -.9 .5 2.1 .5 -2.1 .5 .8 .5 .7 .5 -.3 .5 -3.5 .5 3.8 .5 -1.1 .5 .4 .5 -.8 .5 1.1 .5 .3 .5 -1.9 .5 -.6 .5 1.7 .5 .9 .5 -2.2 .5 1.5 .5 .3 .5 -.8 .5 .7 .5 -.5 .5 -1.1 .5 .2 .5 .5 .5 .3 .5 .8 .5 -.4 .5 -1.1 .5 .2 .5 -.2 .5 1.1 .5 -.9 .5 .2 .5 1.4 .5 -1.4 .5 1.6 .5 -.1 .5 -.3 .5 -.3 .5 .4 .5 -2 .5 1.3 .5 .1 .5 -.1 .5 -.2 .5 -.3 .5 .4 .5 .5 .5 -.9 .5 .8 .5 .6 .5 .1 .5 -1.6 .5 0 .5 .5 .5 -.6 .5 1.9 .5 -1.6 .5 1.6 .5 -.3 .5 1 .5 -1.3 .5 -3.5 .5 4.8 .5 -.1 .5 -2.1 .5 .9 .5 .7 .5 -1 .5 .3 .5 .5 .5 0 .5 .8 .5 -1.6 .5 .4 .5 .7 .5 .5 .5 -.1 .5 .4 .5 -1.8 .5 -.5 .5 1.4 .5 -.8 .5 1.1 .5 -.8 .5 .8 .5 -1 .5 -.4 .5 1.3 .5 -3 .5 3.1 .5 0 .5 -.6 .5 0 .5 .8 .5 -1 .5 .5 .5 -.2 .5 -.4 .5 1.8 .5 -2.3 .5 .1 .5 1 .5 -1 .5 0 .5 -.4 .5 -.1 .5 .5 .5 .6 .5 -.2 .5 -.2 .5 -1 .5 1.1 .5 -1 .5 -.6 .5 .1 .5 1.8 .5 .6 .5 -1.5 .5 -.9 .5 -1 .5 .4 .5 .9 .5 -1.6 .5 -1.1 .5 1.3 .5 -1.1 .5 -.1 .5 .1 .5 .4 .5 -1.8 .5 -2.4 .5 -.6 .5 -3.1 .5 -3.4 .5 -4.3 .5 -5 .5 -8.3 .5 -6.7 .5 -11.1 .5 -9 .5 -8.5 .5 -7 .5 -3.6 .5 -.2 .5 2.2 .5 8 .5 9.9 .5 8.3 .5 9.3 .5 7.9 .5 8.4 .5 5.6 .5 3.7 .5 4.7 .5 1.7 .5 3.4 .5 .2 .5 1.5 .5 -2.2 .5 2.5 .5 .8 .5 -.2 .5 .3 .5 1.8 .5 -2.3 .5 3 .5 -1.3 .5 -2 .5 1.9 .5 -.3 .5 .7 .5 1.1 .5 -1.1 .5 -.3 .5 1.3 .5 -.6 .5 0 .5 .5 .5 -.8 .5 .2 .5 -.3 .5 1 .5 -1.5 .5 .5 .5 -.6 .5 .6 .5 .6 .5 -.2 .5 -.2 .5 .8 .5 .6 .5 -.2 .5 .6 .5 0 .5 -.3 .5 0 .5 -2.1 .5 .8 .5 -.4 .5 1.1 .5 .9 .5 -.9 .5 .1 .5 -.4 .5 1.2 .5 -2.6 .5 1.9 .5 -1.1 .5 -1 .5 3.1 .5 -1.5 .5 1.1 .5 -.2 .5 -1.8 .5 2 .5 -.1 .5 .5 .5 -2.1 .5 1.5 .5 .8 .5 -2.8 .5 3.2 .5 -5.9 .5 4.3 .5 -.1 .5 .6 .5 -.2 .5 .2 .5 -.4 .5 -2.5 .5 2.1 .5 .1 .5 1 .5 .2 .5 .7 .5 .5 .5 -.6 .5 1.1 .5 -1.8 .5 -3.3 .5 3.8 .5 -1.9 .5 1.3 .5 -1.5 .5 1 .5 .5 .5 -2.2 .5 2 .5 -.6 .5 2.7 .5 -2.8 .5 1 .5 -.4 .5 .3 .5 -1 .5 .8 .5 -.9 .5 2.1 .5 -2 .5 .2 .5 -.1 .5 -.1 .5 .6 .5 -.3 .5 .9 .5 -.7 .5 .7 .5 -.9 .5 1.2 .5 -2.3 .5 1.1 .5 .7 .5 .5 .5 -3 .5 2.1 .5 -.4 .5 -.6 .5 1.6 .5 -2.2 .5 .8 .5 -1 .5 .7 .5 -.6 .5 1.9 .5 -.1 .5 .5 .5 .4 .5 -.7 .5 .4 .5 -1.2 .5 1.3 .5 .5 .5 -1.1 .5 -1.4 .5 -.2 .5 2.6 .5 -1.2 .5 .6 .5 -1.3 .5 1.7 .5 .5 .5 .9 .5 -2.2 .5 1.9 .5 -1.8 .5 .2 .5 .8 .5 -1.7 .5 1.2 .5 -1 .5 -1.9 .5 2.9 .5 -1.4 .5 1.2 .5 -.3 .5 -.6 .5 0 .5 .8 .5 1.2 .5 -2.2 .5 .3 .5 -.8 .5 1.6 .5 -2.4 .5 1.4 .5 .4 .5 .1 .5 -.5 .5 1.6 .5 -1.1 .5 .6 .5 .1 .5 -2.4 .5 1.8 .5 -1.1 .5 .8 .5 .1 .5 -.6 .5 .5 .5 -.2 .5 .2 .5 -.4 .5 -.2 .5 -.4 .5 .9 .5 -.2 .5 -.1 .5 -.5 .5 .5 .5 .8 .5 .2 .5 -1.7 .5 .9 .5 -.9 .5 .7 .5 1.3 .5 -.9 .5 .4 .5 -1.5 .5 .4 .5 -.2 .5 .3 .5 -.4 .5 .8 .5 .5 .5 -.6 .5 -.6 .5 1.8 .5 -.9 .5 .3 .5 -1.1 .5 -1.2 .5 2.4 .5 -1.3 .5 .7 .5 .8 .5 -.9 .5 -1 .5 .2 .5 .8 .5 -.9 .5 -.4 .5 1.1 .5 -.3 .5 .6 .5 .4 .5 -.4 .5 -.1 .5 .8 .5 -1.7 .5 .8 .5 .8 .5 .3 .5 -1 .5 1.3 .5 -.8 .5 .2 .5 1 .5 -1 .5 -.9 .5 1.1 .5 -1.2 .5 0 .5 .3 .5 -1.1 .5 .7 .5 .3 .5 -.1 .5 -.9 .5 1.6 .5 -.6 .5 -1.5 .5 .7 .5 1.1 .5 -3 .5 2.3 .5 .4 .5 -1.2 .5 -1.3 .5 -.6 .5 -.3 .5 -.4 .5 -2.2 .5 -2.8 .5 -3.6 .5 -4.6 .5 -4.2 .5 -3.2 .5 -8.6 .5 -9.2 .5 -7.6 .5 -7 .5 -6.9 .5 -2.9 .5 .3 .5 .4 .5 7.9 .5 6.4 .5 7.7 .5 10.2 .5 6.9 .5 7.7 .5 4.2 .5 5.7 .5 .5 .5 2.6 .5 2.7 .5 -.2 .5 .8 .5 -.1 .5 2.6 .5 -.4 .5 .3 .5 -.9 .5 -.4 .5 2.3 .5 -1.6 .5 -.1 .5 .3 .5 -.8 .5 -.6 .5 .3 .5 -3.6 .5 -1.5 .5 -3.6 .5 -5.8 .5 -4.5 .5 -7 .5 -1.2 .5 -.6 .5 4.2 .5 3.6 .5 6.1 .5 4.9 .5 2.2 .5 5.6 .5 1.1 .5 -1.5 .5 2.7 .5 1.2 .5 -1.2 .5 -.3 .5 .5 .5 1.3 .5 -.9 .5 1.6 .5 -1.6 .5 -.1 .5 .4 .5 -1.3 .5 2.8 .5 -.3 .5 -1.6 .5 .9 .5 -.3 .5 -.3 .5 -.9 .5 1.2 .5 -.3 .5 .3 .5 -.9 .5 1.8 .5 -2.2 .5 -.4 .5 1.1 .5 -.5 .5 1.5 .5 -1.1 .5 -1 .5 2.2 .5 -.5 .5 -1.1 .5 1.1 .5 -1 .5 -.5 .5 -1.2 .5 -1 .5 2 .5 .7 .5 -1.7 .5 1.3 .5 .6 .5 1 .5 -.4 .5 1 .5 -1.8 .5 .9 .5 -1.1 .5 1 .5 .3 .5 .3 .5 -.3 .5 .1 .5 -1.4 .5 1.2 .5 -.1 .5 .2 .5 -1.8 .5 .7 .5 1.9 .5 -1.1 .5 .7 .5 -.7 .5 -2.2 .5 2.4 .5 -.5 .5 .2 .5 -1.1 .5 1.8 .5 -1.9 .5 1.1 .5 .7 .5 .1 .5 .9 .5 -.3 .5 -1.5 .5 1.8 .5 -1.1 .5 -2.3 .5 2.3 .5 2.6 .5 -2.6 .5 .8 .5 -.2 .5 .9 .5 -1.3 .5 1.2 .5 -.3 .5 .1 .5 -.3 .5 -.7 .5 .9 .5 -2.6 .5 2.8 .5 -.1 .5 .4 .5 1.1 .5 -2.6 .5 1.3 .5 -.3 .5 -.4 .5 .2 .5 1.5 .5 -1.1 .5 .6 .5 -1.3 .5 -.1 .5 -.2 .5 -1.4 .5 2.1 .5 -.1 .5 -1.6 .5 .7 .5 .9 .5 -.5 .5 .2 .5 -.9 .5 .9 .5 -1 .5 -.2 .5 1 .5 0 .5 1 .5 -2 .5 1.3 .5 -1.6 .5 1.9 .5 0 .5 -1 .5 .5 .5 0 .5 .1 .5 -1.3 .5 2.4 .5 -.6 .5 .6 .5 -1.2 .5 1 .5 -2 .5 1.4 .5 -1.6 .5 1.6 .5 -.1 .5 .2 .5 0 .5 -.5 .5 -1.6 .5 1.4 .5 -.5 .5 -.4 .5 2.1 .5 -2.4 .5 1 .5 -.4 .5 -.1 .5 1 .5 -.2 .5 1.3 .5 -.8 .5 -2.2 .5 .6 .5 .9 .5 -.1 .5 -1 .5 1.6 .5 -.8 .5 2.2 .5 -.6 .5 -1.1 .5 -1.3 .5 -.3 .5 2.7 .5 -1.1 .5 .4 .5 .9 .5 -2.9 .5 3 .5 -2.2 .5 1.6 .5 -.5 .5 0 .5 .2 .5 -1.8 .5 2.2 .5 -1 .5 -.4 .5 .4 .5 -.3 .5 .4 .5 .3 .5 -2.2 .5 2.8 .5 -3.9 .5 1.9 .5 .2 .5 1.2 .5 -1.4 .5 .2 .5 -1.2 .5 2.1 .5 -.4 .5 1 .5 1.4 .5 -2.3 .5 1 .5 -.5 .5 .3 .5 .2 .5 -1.5 .5 0 .5 .2 .5 .2 .5 -.7 .5 .2 .5 1.1 .5 -1.1 .5 -.5 .5 1 .5 -.5 .5 .4 .5 -.8 .5 1 .5 -.2 .5 .1 .5 -.2 .5 .8 .5 -.4 .5 .5 .5 -.2 .5 -.3 .5 -1.1 .5 1 .5 0 .5 -.2 .5 -.6 .5 1.5 .5 -1.2 .5 -.3 .5 .8 .5 -1.7 .5 -.3 .5 1.1 .5 .8 .5 -2.2 .5 .8 .5 -1.6 .5 -1.2 .5 -1.9 .5 -3.9 .5 -2.7 .5 -3.7 .5 -3.2 .5 -1.9 .5 -1 .5 2.5 .5 1.3 .5 4.6 .5 3.8 .5 3.3 .5 2.3 .5 2.1 .5 1.1 .5 -.6 .5 .4 .5 .5 .5 -.8 .5 1.1 .5 1.2 .5 -1.9 .5 -.3 .5 2 .5 -.6 .5 .7 .5 -1 .5 -1 .5 2.3 .5 -.2 .5 .5 .5 -2.2 .5 .4 .5 1 .5 -.5 .5 0 .5 -.4 .5 -.2 .5 .6 .5 .8 .5 .3 .5 -1.5 .5 1.4 .5 -1.8 .5 .9 .5 -.1 .5 -.2 .5 -1 .5 -.2 .5 .5 .5 .9 .5 1.7 .5 -1 .5 0 .5 .3 .5 -2.2 .5 1.9 .5 -.6 .5 -1.3 .5 1.1 .5 -.8 .5 -1.3 .5 -2.2 .5 -1 .5 -1.7 .5 -.3 .5 -1.4 .5 2 .5 .9 .5 1.6 .5 1.1 .5 1.2 .5 -.3 .5 -.3 .5 1 .5 1 .5 .6 .5 -.2 .5 -.1 .5 -1.2 .5 .4 .5 .7 .5 1.3 .5 -1.3 .5 -.1 .5 .9 .5 -.6 .5 -.4 .5 -.7 .5 1.4 .5 .9 .5 .3 .5 -.9 .5 -.4 .5 0 .5 -1.1 .5 .8 .5 1.4 .5 -2.9 .5 2.6 .5 -1.3 .5 1.3 .5 -1.7 .5 -.1 .5 .8 .5 0 .5 -.6 .5 .5 .5 1.5 .5 -2.4 .5 .6 .5 1.1 .5 -.4 .5 -1.9 .5 2.5 .5 -2.1 .5 2 .5 .3 .5 -1.4 .5 1.3 .5 -.3 .5 .8 .5 -2 .5 .5 .5 0 .5 -.8 .5 .9 .5 -.8 .5 .9 .5 -2.1 .5 .6 .5 -.4 .5 1 .5 -.8 .5 -.3 .5 .8 .5 -2.5 .5 .1 .5 -1.3 .5 .9 .5 -2 .5 -2.6 .5 4.8 .5 1.9 .5 -.8 .5 1.7 .5 .5 .5 1.2 .5 -2.1 .5 1.7 .5 .6 .5 -.6 .5 .1 .5 .2 .5 -.2 .5 2.1 .5 -2 .5 .5 .5 -.4 .5 -1 .5 .3 .5 .4 .5 -.3 .5 1.4 .5 -1.5 .5 .2 .5 .2 .5 .8 .5 -1.2 .5 -1 .5 2.2 .5 -.3 .5 0 .5 -1 .5 .9 .5 -.1 .5 .7 .5 -1.2 .5 -.5 .5 1.6 .5 -2.1 .5 2.2 .5 -1.2 .5 -1 .5 .9 .5 .1 .5 .4 .5 -.9 .5 .7 .5 -.4 .5 -1.1 .5 .4 .5 -.1 .5 -.6 .5 1.1 .5 .5 .5 -1.1 .5 1 .5 -1.4 .5 1.7 .5 .4 .5 -.9 .5 .5 .5 .8 .5 -.8 .5 .3 .5 -.7 .5 -.2 .5 .4 .5 -1.4 .5 1.8 .5 -.8 .5 .8 .5 -.3 .5 0 .5 .9 .5 -.1 .5 -.3 .5 -.1 .5 .2 .5 -.5 .5 -1 .5 2.3 .5 -.2 .5 -2.1 .5 0 .5 -.4 .5 1.4 .5 -.2 .5 -1.2 .5 .4 .5 -.4 .5 -.2 .5 1 .5 1.1 .5 -.3 .5 -1.6 .5 1.7 .5 -1.6 .5 .3 .5 .2 .5 -1 .5 1.3 .5 -.9 .5 1 .5 .1 .5 -1 .5 .9 .5 -.1 .5 .6 .5 -.6 .5 .7 .5 .3 .5 -.4 .5 -.6 .5 -.7 .5 -2.4 .5 4.9 .5 -2.5 .5 .8 .5 -.6 .5 1.4 .5 -.6 .5 .4 .5 -.2 .5 .6 .5 -.3 .5 -.3 .5 -.4 .5 .6 .5 -.8 .5 1.1 .5 -.5 .5 -.7 .5 1.1 .5 .7 .5 -1.7 .5 1 .5 -.9 .5 -.3 .5 2.2 .5 -1.5 .5 -1.4 .5 0 .5 0 .5 -.4 .5 .6 .5 -.5 .5 -2.5 .5 .8 .5 .5 .5 -2.2 .5 -1.1 .5 -1.2 .5 -.8 .5 -.8 .5 -.2 .5 -3.4 .5 -.3 .5 .4 .5 -.1 .5 -1.4 .5 1.9 .5 .2 .5 1.1 .5 1.7 .5 1.5 .5 3 .5 -.5 .5 0 .5 2.6 .5 -1 .5 1.2 .5 -.1 .5 1.7 .5 -.9 .5 .3 .5 .2 .5 .2 .5 -.6 .5 .7 .5 .9 .5 -.3 .5 -1.3 .5 0 .5 -.3 .5 -.1 .5 .6 .5 -.9 .5 1.2 .5 -2.2 .5 -.7 .5 3.1 .5 -1.8 .5 .9 .5 .7 .5 .3 .5 -.2 .5 1.2 .5 .3 .5 -.4 .5 -1.2 .5 0 .5 0 .5 -.4 .5 .9 .5 1.7 .5 -3.6 .5 1 .5 1.1 .5 -2.5 .5 -1.1 .5 1.1 .5 .5 .5 -1.1 .5 .5 .5 .1 .5 1.7 .5 1 .5 -.4 .5 -.3 .5 2.2 .5 -.5 .5 -1.7 .5 .3 .5 1.2 .5 -.3 .5 -.6 .5 -.9 .5 .7 .5 .3 .5 1.4 .5 -1.4 .5 1.4 .5 -1.5 .5 2.8 .5 -2.1 .5 -.7 .5 1.4 .5 -.8 .5 1 .5 .4 .5 -.3 .5 .2 .5 .6 .5 -1.2 .5 1.3 .5 -.9 .5 -.3 .5 .4 .5 -.3 .5 .9 .5 -3.1 .5 3.8 .5 -1.5 .5 -.4 .5 -4.2 .5 3.7 .5 2.1 .5 -1.4 .5 .2 .5 -.5 .5 .8 .5 -.3 .5 1.9 .5 -2 .5 .5 .5 -.6 .5 .2 .5 -.8 .5 .7 .5 -.5 .5 .1 .5 -.7 .5 .3 .5 .7 .5 1.4 .5 -1.6 .5 -.5 .5 1.4 .5 -2.3 .5 2.7 .5 -2.8 .5 0 .5 -.2 .5 .4 .5 .7 .5 -.2 .5 1.4 .5 -.9 .5 .6 .5 -.4 .5 .6 .5 -.1 .5 .4 .5 -1.6 .5 2.4 .5 .1 .5 -1.9 .5 1 .5 .9 .5 -.4 .5 -1.2 .5 1.5 .5 -1.3 .5 1.5 .5 -3.6 .5 2.2 .5 .7 .5 -.5 .5 -.1 .5 -.5 .5 -1.2 .5 1.8 .5 -1.4 .5 1.4 .5 .5 .5 -.8 .5 .8 .5 -1 .5 2 .5 -1.3 .5 -.9 .5 -.5 .5 1.6 .5 -2.4 .5 -.1 .5 1.1 .5 -1.7 .5 .8 .5 -.8 .5 2.3 .5 -1.7 .5 1.4 .5 .8 .5 -1.1 .5 0 .5 -.1 .5 .5 .5 -1.6 .5 .9 .5 1.6 .5 -2 .5 3.1 .5 -1.7 .5 .8 .5 -.8 .5 1.2 .5 -1.1 .5 .4 .5 -.7 .5 .1 .5 -.1 .5 1.1 .5 -1.9 .5 1 .5 .3 .5 -1.2 .5 1.5 .5 -1.1 .5 -1.4 .5 1.1 .5 .4 .5 -.1 .5 -.9 .5 .7 .5 1.4 .5 -1.1 .5 .2 .5 -1.2 .5 .5 .5 -.8 .5 .5 .5 1.1 .5 .6 .5 -3.4 .5 2 .5 1.7 .5 -.4 .5 0 .5 .2 .5 -1.1 .5 -.2 .5 .4 .5 .5 .5 -.5 .5 -1.2 .5 2.2 .5 -.6 .5 -.1 .5 .4 .5 .1 .5 -.9 .5 -.8 .5 1.6 .5 .1 .5 -.6 .5 .1 .5 .5 .5 -1.4 .5 -1.7 .5 1.8 .5 .5 .5 -.1 .5 .9 .5 -.9 .5 -.5 .5 .1 .5 1.7 .5 -2.4 .5 1.2 .5 -.9 .5 -.8 .5 2.4 .5 -1.9 .5 -.3 .5 -.4 .5 -1.1 .5 .8 .5 -1.5 .5 -.1 .5 .5 .5 .7 .5 -.1 .5 -.4 .5 1.3 .5 -.6 .5 1.2 .5 -.3 .5 1.4 .5 -2.1 .5 1.4 .5 -3.8 .5 2.9 .5 1 .5 -.3 .5 .1 .5 2 .5 -.3 .5 -.7 .5 -.4 .5 -.6 .5 .7 .5 .6 .5 -1.9 .5 .7 .5 .8 .5 -.2 .5 -.3 .5 -.3 .5 .7 .5 .2 .5 -1.3 .5 1.4 .5 -1.1 .5 -.4 .5 -.3 .5 1.7 .5 0 .5 -.1 .5 -.3 .5 -.3 .5 -.6 .5 2.1 .5 -.3 .5 -1.4 .5 .3 .5 1.1 .5 .9 .5 -3.2 .5 2.3 .5 1.2 .5 -1.9 .5 -.1 .5 -1 .5 .4 .5 .3 .5 -.2 .5 .9 .5 -.6 .5 1.3 .5 -.3 .5 -.2 .5 -.7 .5 -.9 .5 1 .5 -.1 .5 -1.3 .5 .4 .5 0 .5 -.3 .5 -.1 .5 .4 .5 1.1 .5 -.7 .5 -.3 .5 .1 .5 .6 .5 -.2 .5 -1.6 .5 .2 .5 -1.1 .5 1.1 .5 .2 .5 -.1 .5 .3 .5 -.6 .5 -.7 .5 .5 .5 -2.6 .5 2 .5 2 .5 -.8 .5 1.1 .5 -.2 .5 -1.7 .5 -.4 .5 2.8 .5 .5 .5 -1.2 .5 -1 .5 .3 .5 .1 .5 -1.2 .5 .6 .5 1.4 .5 -.9 .5 .4 .5 -.1 .5 .3 .5 .8 .5 -.5 .5 -.2 .5 .7 .5 -1.4 .5 -.2 .5 -.4 .5 1.9 .5 -1.6 .5 1.3 .5 -5.2 .5 5.5 .5 -.5 .5 .3 .5 .2 .5 .1 .5 .3 .5 -2.5 .5 1.7 .5 .7 .5 0 .5 -.7 .5 1 .5 -1 .5 .3 .5 -.2 .5 1.3 .5 -.1 .5 -.6 .5 -.2 .5 -.3 .5 1.1 .5 -.2 .5 -.5 .5 -.3 .5 .4 .5 -.7 .5 .4 .5 -.2 .5 -1.7 .5 1 .5 -4 .5 3.5 .5 .9 .5 -.9 .5 1 .5 -.7 .5 2.6 .5 -1.2 .5 -.7 .5 -1.5 .5 .7 .5 0 .5 1.9 .5 -.7 .5 .2 .5 -.5 .5 -1.3 .5 1.8 .5 -1.8 .5 .4 .5 1.3 .5 -1.5 .5 .3 .5 .5 .5 -.2 .5 -1.3 .5 1.2 .5 -.2 .5 .4 .5 .4 .5 -.8 .5 .8 .5 -3.3 .5 .6 .5 1.8 .5 -1.6 .5 .7 .5 1.5 .5 -1.2 .5 -.2 .5 .9 .5 1.1 .5 .8 .5 -2.1 .5 .7 .5 .3 .5 .6 .5 .1 .5 -.7 .5 -1 .5 .6 .5 -1 .5 -.5 .5 1.3 .5 .3 .5 .1 .5 -.8 .5 2.2 .5 -1.4 .5 .6 .5 -.7 .5 -.6 .5 -.3 .5 .5 .5 .7 .5 -.3 .5 -1.3 .5 .2 .5 .6 .5 -2.2 .5 2.9 .5 -1.9 .5 1.4 .5 -.6 .5 .1 .5 .1 .5 .5 .5 .1 .5 1.1 .5 -1.5 .5 .2 .5 .8 .5 0 .5 -.6 .5 -.6 .5 -.5 .5 .7 .5 -.4 .5 2.1 .5 -2 .5 -.6 .5 1.1 .5 -.4 .5 -.8 .5 .6 .5 .9 .5 -1.3 .5 1.1 .5 -.9 .5 3.2 .5 -2.4 .5 -.2 .5 .2 .5 1.2 .5 -.6 .5 -4.8 .5 5.6 .5 -.3 .5 -1.3 .5 1.2 .5 -.7 .5 -1.9 .5 2.1 .5 -1.8 .5 1.6 .5 .4 .5 0 .5 0 .5 -.4 .5 -.4 .5 .9 .5 -.9 .5 -.1 .5 .4 .5 0 .5 -1 .5 1 .5 -.3 .5 -.4 .5 .3 .5 -.5 .5 .2 .5 1 .5 .2 .5 -1.4 .5 1.1 .5 -.8 .5 .4 .5 1.6 .5 -2 .5 .7 .5 .7 .5 -.3 .5 .1 .5 1.2 .5 -1.6 .5 -.2 .5 -.4 .5 -.3 .5 1.4 .5 -1.1 .5 -.2 .5 1 .5 -.8 .5 -.7 .5 2 .5 -1.8 .5 1.1 .5 .3 .5 1.1 .5 -1.8 .5 .5 .5 1.2 .5 -.4 .5 -1 .5 0 .5 .1 .5 -1.4 .5 .4 .5 1.6 .5 -1.5 .5 .8 .5 .3 .5 -.6 .5 -.6 .5 .9 .5 .3 .5 -.7 .5 1.1 .5 .2 .5 -.8 .5 -1.5 .5 1 .5 1.5 .5 -2.5 .5 1.9 .5 -.4 .5 0 .5 .3 .5 -1.2 .5 -1.6 .5 2.9 .5 -.6 .5 .1 .5 .9 .5 -1.6 .5 -.1 .5 .1 .5 -.2 .5 1.6 .5 -1.1 .5 -2.4 .5 1.7 .5 .4 .5 .6 .5 0 .5 2.3 .5 -1.7 .5 0 .5 -.3 .5 .8 .5 -2.1 .5 .1 .5 1.3 .5 -.3 .5 .8 .5 -.6 .5 .3 .5 -.8 .5 .9 .5 -.3 .5 .9 .5 -1.4 .5 1.6 .5 -1.4 .5 1.4 .5 -1.2 .5 .9 .5 -2.8 .5 2.9 .5 -1.3 .5 1.4 .5 -3 .5 2.6 .5 -.6 .5 -1.3 .5 .3 .5 -.2 .5 3.1 .5 -1.4 .5 -1.9 .5 .4 .5 -.5 .5 2.5 .5 -2.6 .5 1 .5 .5 .5 -.6 .5 .4 .5 .9 .5 0 .5 -2.2 .5 2.6 .5 -2 .5 0 .5 .4 .5 1.5 .5 -1 .5 -.1 .5 .6 .5 -.5 .5 .5 .5 .6 .5 .8 .5 -5.3 .5 3.9 .5 -1.1 .5 1.6 .5 -1.2 .5 1 .5 -.4 .5 -.6 .5 1.7 .5 -1.2 .5 -.2 .5 -1 .5 2.3 .5 -.1 .5 -1.2 .5 1.1 .5 0 .5 .2 .5 -2.1 .5 .7 .5 -.2 .5 2.8 .5 -1.3 .5 -.6 .5 -.5 .5 .6 .5 .5 .5 -.5 .5 -.7 .5 1.4 .5 -1.3 .5 .9 .5 -.3 .5 -2.1 .5 2.1 .5 -.3 .5 1.2 .5 -1.6 .5 .1 .5 -.8 .5 1.7 .5 -.7 .5 .3 .5 .2 .5 .3 .5 .1 .5 -2.2 .5 .2 .5 .7 .5 -.5 .5 .8 .5 -.2 .5 -.7 .5 0 .5 1.2 .5 .6 .5 -2.6 .5 .7 .5 1.1 .5 .4 .5 -1 .5 -.9 .5 1.6 .5 -.2 .5 -1.1 .5 .7 .5 0 .5 -1.4 .5 1.3 .5 1.7 .5 -1.2 .5 -.2 .5 .1 .5 0 .5 -.9 .5 1.4 .5 .1 .5 -1 .5 .7 .5 .8 .5 -1.3 .5 2 .5 -3.6 .5 -.1 .5 1.9 .5 -.1 .5 -.3 .5 1.3 .5 .1 .5 -1.3 .5 .8 .5 -.7 .5 -.3 .5 1.6 .5 -.2 .5 -.8 .5 -.5 .5 0 .5 .6 .5 0 .5 -.7 .5 3 .5 -2.3 .5 .4 .5 -.6 .5 -.1 .5 -.1 .5 .7 .5 -.6 .5 .6 .5 -1 .5 .9 .5 -.1 .5 2.4 .5 -1.4 .5 -.3 .5 -.5 .5 0 .5 -.9 .5 .1 .5 -.4 .5 -.5 .5 -.9 .5 -.8 .5 -2.9 .5 1 .5 -2.3 .5 -3 .5 .1 .5 -2.4 .5 -1.4 .5 -.4 .5 -.1 .5 .9 .5 -.1 .5 2.5 .5 1.6 .5 1.3 .5 1 .5 1.5 .5 1.9 .5 -.7 .5 2.1 .5 -.3 .5 1.6 .5 .2 .5 1.1 .5 -1 .5 .3 .5 .3 .5 -.2 .5 -.2 .5 -1.6 .5 -.2 .5 -.1 .5 0 .5 -.9 .5 -1.2 .5 .1 .5 -.9 .5 1.5 .5 1.5 .5 -1.9 .5 1.4 .5 1.1 .5 .7 .5 1 .5 -.2 .5 .4 .5 -.6 .5 1.3 .5 .6 .5 -1 .5 .6 .5 .6 .5 -1.4 .5 .8" fill="none" stroke="#ff00ff" stroke-width="3.0" stroke-linejoin="round"/>
<path d="M91.2 2623.6l1 -.5 1 .3 1 -.1 1 -.6 1 -.1 1 .4 1 .6 1 -.1 1 -.2 1 .7 1 .1 1 -.7 1 .4 1 .1 1 -.5 1 .4 1 .6 1 0 1 -.7 1 .6 1 -.5 1 -.1 1 .8 1 -.8 1 0 1 1 1 -.9 1 .9 1 -.5 1 .4 1 .7 1 -2.2 1 .8 1 -.3 1 1.6 1 -.3 1 -.2 1 .1 1 -.6 1 -.3 1 .2 1 .1 1 -.8 1 .4 1 .5 1 -.8 1 .6 1 -1 1 1.7 1 -.4 1 .5 1 -.5 1 -.7 1 1.1 1 0 1 -1 1 0 1 .8 1 -.4 1 .4 1 -.9 1 .7 1 .1 1 -.4 1 -.5 1 -.1 1 .1 1 .4 1 .7 1 .1 1 -.2 1 -1.1 1 .1 1 .8 1 .2 1 -.4 1 -.6 1 -.6 1 .9 1 .3 1 .6 1 -.4 1 .1 1 -.8 1 1 1 0 1 .4 1 -.1 1 -.1 1 -.5 1 -.7 1 -.2 1 -.5 1 0 1 .2 1 .3 1 .3 1 -1.8 1 1.3 1 -.5 1 -.7 1 .8 1 .8 1 .1 1 -.2 1 -.5 1 .3 1 -.3 1 .8 1 -.1 1 -.8 1 1.7 1 -2 1 .6 1 -.6 1 1.2 1 -1.2 1 1 1 -.6 1 -.1 1 -.3 1 1 1 -.7 1 -.4 1 .7 1 .6 1 -.7 1 .4 1 .7 1 -.9 1 -.1 1 .4 1 -.5 1 -.2 1 -.1 1 .7 1 -1 1 .5 1 .4 1 -.1 1 -.5 1 -.5 1 0 1 1.3 1 -.5 1 -.9 1 .7 1 .6 1 .4 1 -.4 1 .5 1 -.6 1 1.1 1 -.9 1 -.1 1 -1.5 1 .4 1 .8 1 -.8 1 0 1 1.2 1 .4 1 -1.7 1 1 1 0 1 -.5 1 .5 1 -.2 1 .7 1 -.3 1 .3 1 -1.6 1 .3 1 1 1 -.3 1 .1 1 .9 1 -.4 1 .4 1 -1.1 1 1.4 1 -.2 1 0 1 .3 1 .9 1 .1 1 -1.6 1 1.2 1 -.9 1 -1 1 .2 1 .8 1 .2 1 -.8 1 .6 1 -1.1 1 .4 1 1.5 1 -.1 1 -1.5 1 1.4 1 -.7 1 0 1 .4 1 -.2 1 -.9 1 .5 1 -.1 1 0 1 -.6 1 .9 1 .4 1 -.4 1 .6 1 .4 1 -1 1 -.2 1 -.7 1 1.2 1 .5 1 .6 1 -1.1 1 .9 1 -.5 1 0 1 -.2 1 .3 1 .1 1 .6 1 -1.1 1 .5 1 -.4 1 0 1 -.9 1 .8 1 -.3 1 .9 1 -1.4 1 .8 1 -.4 1 0 1 -.1 1 -.3 1 .5 1 -.5 1 -.4 1 .6 1 -1 1 0 1 1.1 1 .2 1 -.2 1 -.5 1 -1 1 1.4 1 .1 1 -.5 1 -.4 1 .1 1 .3 1 -.5 1 .4 1 -.6 1 .4 1 -1.9 1 1.7 1 -.1 1 -.2 1 .5 1 -.1 1 -.8 1 .3 1 -.1 1 -1.2 1 .5 1 .8 1 -.5 1 -.1 1 .3 1 .2 1 0 1 -.4 1 .3 1 -.3 1 .7 1 .1 1 0 1 -.5 1 -.1 1 0 1 .5 1 -.2 1 .2 1 -.6 1 0 1 1 1 -.9 1 -.5 1 .1 1 .1 1 .9 1 -.2 1 -.7 1 .9 1 -.4 1 -.5 1 -.7 1 .5 1 .4 1 .2 1 .3 1 -.2 1 -.7 1 -.2 1 .4 1 .3 1 -.5 1 -.3 1 .6 1 .2 1 -.1 1 1 1 -1.4 1 -.3 1 1.1 1 -.1 1 -.6 1 -1.2 1 .5 1 .3 1 -.5 1 .7 1 .8 1 0 1 .4 1 -.4 1 -.4 1 0 1 0 1 -1 1 1 1 -1.3 1 -1.8 1 -1.7 1 -1.9 1 -1.3 1 1.2 1 2.8 1 .8 1 1.2 1 1 1 1.1 1 -.6 1 .7 1 -.3 1 0 1 .8 1 .3 1 0 1 .1 1 .3 1 .3 1 -1 1 .7 1 -.7 1 -.2 1 .1 1 .3 1 -.1 1 1.3 1 -.4 1 0 1 -.7 1 1.3 1 -1.3 1 .2 1 -.5 1 .1 1 0 1 .3 1 -.2 1 .4 1 -.8 1 -.4 1 0 1 .5 1 .1 1 -.6 1 -.7 1 1.3 1 .4 1 -1.2 1 .6 1 .5 1 -1 1 1.5 1 -1.5 1 1.8 1 -.2 1 .3 1 -.1 1 .3 1 -.5 1 .8 1 -1.2 1 0 1 .5 1 .4 1 .6 1 -.2 1 .2 1 .1 1 -.7 1 .9 1 -.8 1 0 1 -.2 1 .4 1 -.5 1 .2 1 .6 1 -.1 1 .1 1 .8 1 -.6 1 .5 1 -1.1 1 .5 1 -.5 1 -.1 1 -.5 1 .8 1 -1.1 1 .3 1 .2 1 -.1 1 .2 1 -.2 1 -.3 1 .5 1 -1.1 1 0 1 .2 1 -1.8 1 -.6 1 -.4 1 -2 1 1.9 1 -.1 1 1 1 .6 1 .4 1 .1 1 1.5 1 -1.4 1 .3 1 0 1 -.3 1 .7 1 .1 1 -.8 1 .4 1 -.9 1 .7 1 -.7 1 .5 1 .8 1 -1.6 1 .3 1 1 1 -.7 1 .3 1 .1 1 0 1 -.2 1 -.8 1 .2 1 .2 1 -.7 1 .8 1 -.3 1 .4 1 .3 1 .1 1 .2 1 -1 1 .1 1 .1 1 .2 1 .3 1 -1.3 1 1.2 1 .2 1 -.7 1 0 1 .6 1 1 1 -.9 1 -.3 1 .4 1 -.2 1 -.8 1 1.6 1 -1 1 -.5 1 2 1 -1.1 1 -.8 1 -.2 1 1 1 -.7 1 .5 1 0 1 -.4 1 .3 1 .8 1 -1.4 1 1.3 1 .2 1 -.9 1 0 1 .7 1 -.3 1 0 1 -.7 1 1 1 -.1 1 -1.2 1 .5 1 -1.1 1 .4 1 -1.6 1 -.9 1 -3.2 1 -2.1 1 -2.6 1 1.8 1 1.8 1 3 1 1.9 1 2.1 1 .6 1 1.5 1 -.4 1 0 1 .5 1 .1 1 -.1 1 -.5 1 .8 1 -1.1 1 .9 1 .1 1 -.8 1 .7 1 -.6 1 .3 1 1.1 1 -1 1 -.8 1 -.4 1 -.7 1 -.3 1 -1 1 .1 1 .4 1 1 1 -.4 1 -.3 1 1.3 1 .1 1 .1 1 .2 1 -.1 1 .2 1 -1.2 1 1.2 1 -.9 1 .5 1 .6 1 -.5 1 -.7 1 .2 1 .5 1 0 1 .1 1 .5 1 -.7 1 -.1 1 .6 1 -1.2 1 .8 1 -.1 1 -.4 1 .1 1 -.6 1 .4 1 -.6 1 -.1 1 .1 1 .2 1 .7 1 -1.1 1 .6 1 -.8 1 .8 1 -.2 1 -.5 1 .6 1 .7 1 .8 1 -1.1 1 .1 1 -.5 1 .1 1 .5 1 .1 1 1.1 1 -1 1 -.1 1 -.3 1 .2 1 -.7 1 .3 1 .2 1 .5 1 -.4 1 .3 1 .2 1 -1 1 1.1 1 -.1 1 -.1 1 -.2 1 .1 1 -.2 1 -.5 1 .6 1 1.8 1 .1 1 -1 1 -.9 1 -.7 1 .1 1 -.7 1 -.3 1 -3.1 1 -4 1 -7.8 1 -13.9 1 -16.7 1 -10.4 1 2.9 1 14.8 1 15.7 1 11.4 1 5.7 1 5 1 .7 1 -.3 1 1.5 1 -.1 1 1 1 -.3 1 -.8 1 0 1 .7 1 -.3 1 -.4 1 -.3 1 -1.9 1 0 1 .8 1 -1.9 1 1.7 1 1.1 1 .8 1 -.2 1 -.2 1 -.9 1 .5 1 .3 1 .3 1 -1 1 1.5 1 -.5 1 -1.1 1 0 1 .1 1 .5 1 -.5 1 -.8 1 -.6 1 .6 1 -1.8 1 -3.2 1 -6.8 1 -16.1 1 -15.5 1 -5.1 1 13 1 16 1 10.8 1 6.7 1 1.7 1 1 1 .3 1 .5 1 -.2 1 .4 1 .7 1 -.3 1 -1.1 1 1.2 1 .8 1 -.9 1 -.6 1 1.3 1 .4 1 .4 1 -.6 1 .1 1 -.6 1 .8 1 -.4 1 -.8 1 1.3 1 0 1 -.2 1 .6 1 -.1 1 0 1 .1 1 .3 1 -1 1 .3 1 .2 1 -1.1 1 .7 1 0 1 -.2 1 1.3 1 -1.9 1 .5 1 -.8 1 0 1 .8 1 -1.6 1 .6 1 -.9 1 -.3 1 .3 1 -.4 1 -1.8 1 -1.9 1 -2.1 1 -4.6 1 -1.2 1 3 1 3.3 1 2.6 1 2.1 1 -.1 1 -.3 1 -2.8 1 -5.7 1 -8.8 1 -11.5 1 -3.9 1 9 1 10.7 1 8.6 1 2.6 1 1.4 1 1.6 1 -1.4 1 1.3 1 -.2 1 -.7 1 -.4 1 -.8 1 -.9 1 -.6 1 -3.2 1 -4.4 1 -13.2 1 -25.6 1 -40.1 1 -46.8 1 -32.1 1 8.8 1 40.2 1 43.4 1 32.6 1 18.7 1 10.4 1 6.1 1 4 1 3.1 1 .4 1 .7 1 -.3 1 .7 1 -.3 1 1.1 1 -.5 1 .3 1 -1.1 1 -.2 1 0 1 -1.3 1 -3.9 1 -10.1 1 -20.1 1 -31.2 1 -23 1 8.3 1 29.9 1 26.9 1 15.2 1 5.7 1 2.6 1 2.8 1 -.7 1 .3 1 1.4 1 -1.6 1 -.1 1 -.8 1 -4.3 1 -2.9 1 -1.9 1 -.4 1 3.5 1 2.7 1 2.2 1 1.9 1 .1 1 .4 1 .6 1 -.2 1 -.4 1 .3 1 -.6 1 .9 1 -.1 1 -.2 1 -1 1 .9 1 .3 1 -.8 1 1.5 1 -1.6 1 .6 1 .9 1 -.2 1 -.8 1 -.3 1 .2 1 .2 1 -.1 1 -.9 1 .2 1 1.3 1 -1.7 1 .8 1 .6 1 -.3 1 .8 1 -1.1 1 .2 1 -.6 1 1.3 1 -1.5 1 .8 1 .2 1 -.7 1 -1.2 1 -.8 1 -.9 1 -1.3 1 -.5 1 -.4 1 .8 1 .4 1 .8 1 2.3 1 -.2 1 1.5 1 -1.1 1 .7 1 .4 1 .7 1 -.1 1 -.9 1 0 1 -.4 1 1.5 1 .3 1 -.7 1 -.1 1 .1 1 .5 1 -.5 1 -.2 1 .2 1 .1 1 -.4 1 -.4 1 .3 1 .8 1 -1.1 1 .5 1 0 1 .4 1 -.2 1 .6 1 -.4 1 0 1 -.7 1 -.4 1 -.5 1 1.8 1 -.5 1 -.1 1 -.8 1 .2 1 -.2 1 .6 1 .6 1 -1.2 1 .9 1 -.7 1 -.5 1 -.2 1 .4 1 -1.4 1 -.3 1 -1.8 1 .8 1 1.2 1 2.2 1 -.4 1 -.3 1 .6 1 1.1 1 -.2 1 0 1 -.2 1 1 1 -.6 1 .4 1 -1.1 1 .4 1 -.3 1 .7 1 -.2 1 -.1 1 -.1 1 .5 1 -.1 1 1 1 -.9 1 -.3 1 -.2 1 .1 1 .2 1 -.3 1 -1 1 .4 1 .4 1 .3 1 0 1 -.2 1 .3 1 -1.1 1 -.2 1 -1 1 1 1 .2 1 -.5 1 -.7 1 -1.5 1 -1.5 1 -3.6 1 -5.1 1 -6.8 1 -6.3 1 -1.7 1 4.7 1 5.6 1 7.3 1 3.6 1 4 1 1.5 1 -.6 1 1.1 1 0 1 .2 1 .5 1 -.8 1 -.1 1 .6 1 -.5 1 .8 1 .1 1 -.1 1 -.1 1 .3 1 -1.2 1 .2 1 -.6 1 .8 1 -.1 1 -.6 1 0 1 .8 1 .1 1 -.8 1 -.4 1 .9 1 -.3 1 .6 1 -.9 1 1.1 1 -.4 1 -.7 1 .6 1 1.1 1 -1.9 1 1.5 1 -1.3 1 .8 1 -.2 1 .5 1 -.1 1 -.6 1 1.3 1 -.6 1 .3 1 -.9 1 .2 1 .2 1 .2 1 -1.5 1 1.2 1 -.4 1 1.2 1 .2 1 -.3 1 .1 1 -.1 1 .3 1 -.2 1 -.2 1 -.1 1 -.6 1 .1 1 .1 1 .3 1 .1 1 0 1 .6 1 -1.3 1 .3 1 .1 1 .6 1 -.4 1 -.5 1 .5 1 -.4 1 -.7 1 1.5 1 1.3 1 -1.5 1 1 1 -.7 1 -.2 1 .2 1 -.3 1 .6 1 -1 1 .8 1 0 1 -.6 1 -.6 1 1 1 -.2 1 0 1 -.5 1 .1 1 .4 1 .3 1 -1.3 1 .8 1 -.8 1 .9 1 -.5 1 .3 1 -.2 1 .6 1 .1 1 -.4 1 .6 1 -1 1 .6 1 -1.9 1 -2.5 1 -4.3 1 -8.7 1 -6.3 1 1.6 1 8.6 1 6.6 1 4.1 1 .8 1 1 1 0 1 .3 1 .4 1 -.8 1 1 1 .5 1 -.2 1 -.1 1 -1.4 1 .5 1 .4 1 -.2 1 -.6 1 .2 1 2.2 1 -.9 1 -.2 1 0 1 -.5 1 .9 1 -.5 1 -.3 1 .4 1 .6 1 -.3 1 -1.2 1 -1.2 1 1.4 1 -2.8 1 -.9 1 0 1 .7 1 1.4 1 1.7 1 1.2 1 -.3 1 .5 1 .2 1 -1 1 -.1 1 -.7 1 .7 1 .2 1 .3 1 -.9 1 .9 1 -.4 1 -.2 1 .1 1 -.5 1 .8 1 -.6 1 .5 1 -.1 1 .5 1 -.2 1 -.3 1 .4 1 -.9 1 -.2 1 .8 1 0 1 .4 1 0 1 -.5 1 .4 1 .4 1 .3 1 -.7 1 .3 1 -1.5 1 2.4 1 -2.3 1 .2 1 .8 1 .7 1 0 1 .4 1 .3 1 -2.1 1 1.7 1 -1 1 .4 1 -.6 1 -.1 1 -.1 1 -.1 1 -.1 1 .1 1 -.6 1 .1 1 .3 1 -.3 1 .9 1 -.6 1 .6 1 -.3 1 1.1 1 .4 1 -1.7 1 1.6 1 -.9 1 .8 1 .3 1 -.3 1 .8 1 .2 1 .2 1 -.8 1 -.8 1 0 1 1.3 1 -.4 1 -.2 1 -.6 1 .4 1 .4 1 .4 1 -1.4 1 .3 1 1.1 1 -1 1 -.1 1 -.4 1 .8 1 -1.8 1 .7 1 -.4 1 1 1 -.9 1 -.8 1 .3 1 -.5 1 -1 1 -3.3 1 -3.4 1 -3.4 1 -3.7 1 -2.4 1 1.3 1 3.1 1 3.3 1 4.8 1 2.2 1 1.1 1 1.7 1 .4 1 0 1 .7 1 .8 1 -.5 1 .1 1 -.2 1 .7 1 -.5 1 -1 1 .1 1 0 1 -.4 1 -.4 1 .1 1 0 1 -.4 1 -.8 1 .6 1 .9 1 1 1 -1 1 -.4 1 .6 1 -.7 1 .5 1 -.1 1 -.1 1 .3 1 0 1 -1.4 1 -.8 1 1.3 1 -.5 1 -.2 1 .7 1 -.3 1 .4 1 -.8 1 .8 1 -.1 1 .3 1 -.6 1 -.3 1 .8 1 .7 1 -1.1 1 -.3 1 -.9 1 .4 1 .3 1 .4 1 -.7 1 -.2 1 .3 1 .6 1 -.1 1 -.9 1 .8 1 -1 1 1 1 -.3 1 -.1 1 .5 1 -.5 1 -.7 1 .2 1 .8 1 .7 1 -1 1 0 1 -.2 1 -.6 1 -.1 1 -1.2 1 -.6 1 -1.4 1 -3.6 1 -5.6 1 -10 1 -16.3 1 -17.5 1 -16.7 1 -3.9 1 9.9 1 18 1 18 1 13.3 1 8.8 1 4 1 2 1 1.7 1 .9 1 -.1 1 .9 1 -.1 1 .5 1 .5 1 1 1 -.4 1 -.1 1 .1 1 -.2 1 -.4 1 0 1 1 1 -.9 1 .3 1 -1.2 1 .5 1 -.4 1 .6 1 0 1 -1.1 1 1.2 1 -.5 1 .1 1 0 1 0 1 1.2 1 -.7 1 .6 1 -.5 1 .4 1 -1.4 1 1 1 -.3 1 -.6 1 .3 1 .9 1 -.6 1 -.2 1 .4 1 0 1 -1.4 1 1.8 1 .8 1 -.6 1 -.8 1 .4 1 .6 1 .5 1 -.8 1 .4 1 .3 1 -.1 1 .9 1 .1 1 .1 1 -.4 1 .3 1 -.2 1 .1 1 -.6 1 1 1 -.2 1 .8 1 -1.1 1 -.2 1 .4 1 .2 1 -.1 1 .2 1 -.6 1 .3 1 .5 1 -.8 1 .2 1 .7 1 0 1 -.7 1 .9 1 -.6 1 -.5 1 .4 1 -1 1 -.6 1 .6 1 .2 1 .9 1 -1.2 1 -.2 1 .7 1 -1.1 1 .9 1 .2 1 -.6 1 -1.2 1 2.1 1 -.3 1 -.7 1 0 1 -.6 1 1 1 -.3 1 .5 1 .2 1 .3 1 -.5 1 -.1 1 .4 1 -.6 1 -.7 1 .4 1 -.8 1 -.3 1 .6 1 .6 1 .3 1 -.2 1 -2.5 1 1.1 1 .5 1 -.7 1 -.8 1 1.4 1 -1.4 1 .7 1 -.8 1 -.9 1 0 1 -.2 1 -.9 1 -2.4 1 -4.4 1 -7.9 1 -11.2 1 -14 1 -11.9 1 -3.4 1 8.3 1 12.6 1 13.3 1 10.3 1 6.8 1 3.2 1 1 1 1.6 1 -.2 1 1.1 1 -.5 1 -.7 1 -.4 1 -3.7 1 -7.3 1 -10.1 1 -7.5 1 1.5 1 11.2 1 8.6 1 5.8 1 1.7 1 .9 1 .8 1 .9 1 -.8 1 1.5 1 -.3 1 .3 1 -.3 1 .1 1 .1 1 0 1 -.2 1 0 1 -.2 1 .9 1 -.1 1 .4 1 -.4 1 -.3 1 .6 1 -.4 1 -.3 1 1.4 1 -1 1 .5 1 .1 1 .1 1 .4 1 -.5 1 -.5 1 -.1 1 -.9 1 .1 1 1.3 1 -.5 1 .4 1 -.3 1 .1 1 .5 1 -.9 1 -.8 1 -.1 1 1.7 1 -.8 1 -1.1 1 1.4 1 -1.3 1 .9 1 -.5 1 -.5 1 .6 1 -.5 1 1.8 1 -.9 1 -1.3 1 .4 1 0 1 .4 1 -.1 1 -.1 1 .3 1 -1.2 1 1.1 1 .2 1 1 1 -1.4 1 -.2 1 -.5 1 .3 1 .8 1 -.3 1 -.3 1 .7 1 -.4 1 .1 1 .8 1 -.4 1 .1 1 -.8 1 .3 1 -.1 1 .5 1 -1.1 1 -.5 1 -1.8 1 .4 1 -.8 1 1.4 1 .3 1 1.5 1 .9 1 .3 1 0 1 0 1 .1 1 -.9 1 .6 1 .4 1 -.3 1 .5 1 .1 1 .3 1 .3 1 1.1 1 -1.6 1 1 1 .6 1 -.3 1 -.5 1 0 1 -.6 1 -.6 1 1.3 1 -.5 1 -.5 1 .8 1 -.5 1 -1.1 1 .7 1 .3 1 -.1 1 -1.9 1 -1.4 1 -2.1 1 -5.4 1 -8.1 1 -5.2 1 1.8 1 7 1 6.7 1 5.3 1 1.6 1 .6 1 1.4 1 -1.1 1 .4 1 .6 1 -.9 1 .5 1 .4 1 -1 1 .1 1 .4 1 .2 1 -1 1 .8 1 -.2 1 0 1 .9 1 -.3 1 -.2 1 -1.2 1 -.2 1 -1.5 1 -3.3 1 -3.1 1 -2.9 1 1.2 1 3 1 3.9 1 1.6 1 1.2 1 -.5 1 .1 1 .6 1 -.4 1 -.6 1 .7 1 1.1 1 -1.4 1 .3 1 -.1 1 0 1 -.2 1 1.7 1 -.5 1 -1 1 .3 1 -.5 1 .8 1 -.5 1 -.3 1 -.8 1 .5 1 -.1 1 .1 1 1 1 -.5 1 .6 1 -.6 1 -1.2 1 -1.8 1 .4 1 -.8 1 .9 1 .9 1 1.5 1 .5 1 1 1 .1 1 -.2 1 .3 1 -.4 1 0 1 .1 1 1.3 1 -.3 1 -.7 1 .1 1 .3 1 .4 1 -.3 1 -.5 1 -.9 1 -.5 1 1.6 1 -.5 1 -.1 1 .1 1 .9 1 -.3 1 -1.4 1 .5 1 .3 1 -1 1 .9 1 -.1 1 -.1 1 .4 1 .6 1 -1.6 1 .4 1 .3 1 .2 1 .5 1 -.3 1 -1.2 1 .1 1 .9 1 -.3 1 -.2 1 .5 1 -.5 1 .2 1 -.5 1 -.3 1 .1 1 -.1 1 -.6 1 .4 1 -1.3 1 1.1 1 -.2 1 1.2 1 -2 1 .7 1 -.1 1 1 1 -.6 1 .2 1 .2 1 -1.5 1 1.1 1 .4 1 -.4 1 -.5 1 -.5 1 .1 1 -1.3 1 -.4 1 -2.7 1 -1.7 1 -2.5 1 -.9 1 .6 1 1 1 2.6 1 1 1 3.1 1 .5 1 .7 1 -.3 1 .9 1 .5 1 -.7 1 -.3 1 .5 1 -.8 1 .5 1 .5 1 .3 1 -1.2 1 .5 1 -.6 1 .2 1 -.9 1 -.8 1 -1.3 1 -2.2 1 -.8 1 0 1 2.5 1 1.9 1 .7 1 2.5 1 -1.4 1 .4 1 -.1 1 -.3 1 1 1 .4 1 -.1 1 .9 1 -.8 1 .7 1 -.6 1 0 1 .2 1 -.6 1 0 1 .7 1 -.1 1 .6 1 -.7 1 .5 1 0 1 -.3 1 .3 1 -.2 1 .4 1 .4 1 -.7 1 1 1 -1 1 -.3 1 -.8 1 1.5 1 0 1 .5 1 -.4 1 0 1 1 1 -.5 1 .1 1 -.8 1 -.2 1 1.5 1 -1.3 1 1 1 -1.8 1 1.2 1 .1 1 -.4 1 .4 1 -.2 1 -.4 1 1 1 0 1 -.1 1 -.4 1 1 1 -.4 1 .2 1 .1 1 .3 1 -.4 1 -.1 1 1.3 1 -.3 1 -.9 1 .5 1 -.4 1 -.3 1 0 1 1 1 -1 1 1.4 1 -.4 1 -.7 1 -.1 1 1 1 -1.8 1 1.9 1 -.7 1 -.5 1 .7 1 -.6 1 .7 1 -.6 1 .5 1 -.8 1 .2 1 .5 1 0 1 .5 1 -.5 1 -.5 1 1.5 1 -.4 1 1.1 1 -.7 1 -.9 1 .8 1 .7 1 -.4 1 -.6 1 -.4 1 0 1 -.4 1 1.3 1 0 1 -.5 1 -1 1 .2 1 1 1 .2 1 -.3 1 -.7 1 -.3 1 .1 1 .5 1 .1 1 .3 1 -1 1 -.4 1 .6 1 .2 1 -1 1 1.1 1 -.2 1 .1 1 .3 1 -.6 1 .5 1 -.1 1 -.3 1 -.1 1 1.1 1 -.1 1 -1 1 .1 1 -.5 1 .4 1 1.5 1 -1.4 1 -.5 1 1.5 1 -.5 1 .1 1 -.7 1 .4 1 -.8 1 .3 1 -.8 1 0 1 1.6 1 -1.1 1 .1 1 -.1 1 .2 1 -.9 1 .4 1 .3 1 -.2 1 .8 1 -1 1 -.3 1 .8 1 -.3 1 -1.3 1 .7 1 .4 1 1.1 1 -1 1 -.1 1 .4 1 -.2 1 .3 1 -1 1 .6 1 .4 1 -.5 1 .3 1 .5 1 -.5 1 .6 1 -1.1 1 .4 1 .2 1 .5 1 .2 1 -.5 1 .5 1 .5 1 -1.8 1 1.5 1 -.2 1 -.1 1 .7 1 -1.4 1 1 1 -1.3 1 .6 1 .4 1 -.1 1 -.5 1 0 1 .8 1 .2 1 -.6 1 .9 1 1 1 0 1 -1 1 .4 1 .1 1 -1 1 .1 1 .2 1 -.5 1 .9 1 -.3 1 0 1 -.3 1 -.6 1 .8 1 .1 1 1 1 -.2 1 -.4 1 -.1 1 -.6 1 .1 1 -.9 1 .6 1 -.3 1 .4 1 -1.1 1 .3 1 0 1 .1 1 -.7 1 1 1 .1 1 -.3 1 -.8 1 .9 1 .1 1 -.6 1 .7 1 -.6 1 1.1 1 .5 1 -1.7 1 -.5 1 .8 1 -.7 1 -.1 1 -.2 1 1.8 1 -1.8 1 .3 1 .2 1 .4 1 -.3 1 .2 1 0 1 -.6 1 .2 1 .4 1 -.1 1 -.1 1 .3 1 -.3 1 .6 1 0 1 .1 1 -.6 1 1 1 -.4 1 -.5 1 .9 1 -.1 1 -1.6 1 .4 1 1.4 1 -.8 1 0 1 1 1 -.1 1 0 1 -.9 1 -.2 1 1.1 1 -1.4 1 .5 1 -.2 1 .1 1 -.7 1 1.1 1 -.3 1 -.7 1 1 1 -.6 1 .2 1 -.5 1 .3 1 .4 1 -.5 1 1.5 1 -.7 1 -.9 1 1.4 1 -1.4 1 .3 1 -.7 1 -.5 1 .8 1 -.1 1 0 1 -.9 1 1.2 1 -.2 1 -.6 1 .6 1 .2 1 0 1 -.1 1 0 1 0 1 .3 1 .4 1 -2.1 1 .3 1 .7 1 -1.1 1 0 1 -.2 1 .8 1 1 1 -1.6 1 -.1 1 .6 1 -1 1 .3 1 .8 1 -1 1 .5 1 1 1 -.6 1 -.1 1 -.3 1 1.4 1 -.7 1 .4 1 -.7 1 .1 1 -.9 1 -.3 1 .6 1 -.3 1 .4 1 -.5 1 -.6 1 1.1 1 .8 1 -1.3 1 .6 1 -.4 1 .2 1 -1 1 .4 1 -1 1 -1.2 1 -3.5 1 -2.8 1 -1.4 1 -1.4 1 1.7 1 1.8 1 2.5 1 2.4 1 1.1 1 1.8 1 -.2 1 -.3 1 1.2 1 .2 1 -.5 1 -3 1 -.4 1 -.9 1 -.6 1 2.3 1 .9 1 1.9 1 .1 1 .4 1 -.7 1 0" fill="none" stroke="#0000ff" stroke-width="2.6" stroke-linejoin="round"/>
<path d="M91.2 2826.6l.5 -1.6 .5 -1 .5 2 .5 -1.5 .5 -.2 .5 1.5 .5 -.8 .5 .2 .5 -1.3 .5 1.8 .5 -1 .5 1.2 .5 -1.4 .5 1.8 .5 -1.7 .5 .1 .5 -.7 .5 1.7 .5 -.4 .5 .3 .5 -1 .5 0 .5 .1 .5 .5 .5 -.6 .5 -.2 .5 1.4 .5 -1.2 .5 -.2 .5 1.2 .5 -1 .5 .9 .5 -.5 .5 .3 .5 -.8 .5 -.7 .5 1.2 .5 -.4 .5 .4 .5 .4 .5 .1 .5 -1.2 .5 -.5 .5 1.3 .5 -.7 .5 .1 .5 -.5 .5 -1.4 .5 1.9 .5 -1.1 .5 2.2 .5 -1.5 .5 .2 .5 -1.1 .5 .9 .5 1.3 .5 -1.9 .5 1.3 .5 -2.5 .5 2.1 .5 .9 .5 -2.3 .5 1.6 .5 -.3 .5 .5 .5 -.4 .5 1 .5 .3 .5 -2.2 .5 .7 .5 1.8 .5 -.5 .5 -.5 .5 -1.6 .5 2.7 .5 -1.1 .5 .2 .5 .7 .5 -1 .5 -.6 .5 1.8 .5 -1.3 .5 .4 .5 -.3 .5 -.6 .5 1.4 .5 -.6 .5 .9 .5 .1 .5 -1.1 .5 .2 .5 .1 .5 -.3 .5 -.4 .5 -.6 .5 1 .5 -.4 .5 .7 .5 .8 .5 -1.5 .5 .7 .5 -.4 .5 -.2 .5 -.5 .5 .6 .5 -1 .5 1 .5 .6 .5 -2.1 .5 3.9 .5 -1.5 .5 .4 .5 .3 .5 -2.5 .5 2.9 .5 -3.4 .5 1.6 .5 2 .5 -2.1 .5 .3 .5 .4 .5 .4 .5 -1.3 .5 -.4 .5 .8 .5 1.5 .5 -2.3 .5 2.9 .5 .8 .5 -5.6 .5 4.1 .5 -.7 .5 1.3 .5 -3 .5 1.6 .5 -1.2 .5 1.4 .5 -.9 .5 -.8 .5 .6 .5 .8 .5 -1.1 .5 1.1 .5 -1.7 .5 1.5 .5 .2 .5 -.3 .5 -.4 .5 -.6 .5 .1 .5 -.3 .5 .9 .5 .6 .5 -.7 .5 .2 .5 -.9 .5 .7 .5 .5 .5 -.3 .5 -.6 .5 .3 .5 -1.1 .5 -2.5 .5 3.8 .5 .6 .5 -.4 .5 -.5 .5 -.3 .5 -.9 .5 2.9 .5 -2.1 .5 1.7 .5 -.8 .5 -.8 .5 .5 .5 .6 .5 -1.1 .5 .7 .5 -.6 .5 .9 .5 -.9 .5 1.8 .5 -1.7 .5 -.8 .5 .5 .5 1.1 .5 .4 .5 -1 .5 .5 .5 -.1 .5 1.2 .5 -.6 .5 -1.3 .5 .6 .5 1.3 .5 -.1 .5 -1.6 .5 .6 .5 .4 .5 -.1 .5 1.2 .5 -1.5 .5 -.2 .5 -1.1 .5 .5 .5 -.7 .5 0 .5 .2 .5 .4 .5 .9 .5 -.3 .5 .3 .5 -.8 .5 -1.3 .5 2.3 .5 -.8 .5 -1.2 .5 -.5 .5 .8 .5 -1.5 .5 .8 .5 -.2 .5 .7 .5 .2 .5 .9 .5 .8 .5 -1 .5 .2 .5 -.1 .5 -.3 .5 .6 .5 .1 .5 -1.4 .5 2.1 .5 -1.6 .5 .9 .5 -.7 .5 1.5 .5 -1.8 .5 -.2 .5 -.8 .5 1.5 .5 .2 .5 -.2 .5 .5 .5 -1.6 .5 -.9 .5 2.8 .5 -.4 .5 -2 .5 -.3 .5 -.1 .5 3.6 .5 -2 .5 0 .5 2.6 .5 -3 .5 -.4 .5 -.7 .5 1.9 .5 -2.1 .5 2 .5 -1.2 .5 .4 .5 .4 .5 1.6 .5 -1.4 .5 -.8 .5 -.6 .5 3.3 .5 -2.9 .5 1 .5 .6 .5 -.8 .5 -.3 .5 1.2 .5 .2 .5 .1 .5 0 .5 -1.9 .5 .2 .5 -.1 .5 -.9 .5 1 .5 .6 .5 -1 .5 1.2 .5 -1.1 .5 1.8 .5 .6 .5 -2.8 .5 2.3 .5 -.8 .5 -.3 .5 1.5 .5 -.9 .5 1.3 .5 -1.5 .5 .8 .5 -.2 .5 .9 .5 -.7 .5 .7 .5 -1.5 .5 .4 .5 -.5 .5 .7 .5 -2.1 .5 .5 .5 1.1 .5 1.5 .5 -1.4 .5 .6 .5 -.1 .5 1.2 .5 -3 .5 1.5 .5 -1 .5 1.4 .5 .8 .5 -1 .5 1.4 .5 -1.7 .5 .6 .5 1.7 .5 -.2 .5 -1.8 .5 -.7 .5 2 .5 -1.8 .5 1.4 .5 -.9 .5 1.1 .5 .1 .5 -.2 .5 -2 .5 -.4 .5 .8 .5 1.1 .5 -.5 .5 .8 .5 -2.6 .5 1.7 .5 -.6 .5 -.4 .5 .7 .5 1.1 .5 -1.7 .5 1.4 .5 .7 .5 -2 .5 -.8 .5 .7 .5 0 .5 .5 .5 0 .5 -.8 .5 2.4 .5 -1.6 .5 -.5 .5 2.2 .5 -1.1 .5 -.4 .5 .7 .5 -.7 .5 -.3 .5 1.6 .5 -.2 .5 -1 .5 .5 .5 -.3 .5 -1.2 .5 1.2 .5 -.2 .5 .6 .5 -1 .5 .2 .5 1 .5 -1.4 .5 .6 .5 -.8 .5 .8 .5 -.1 .5 -.7 .5 -.4 .5 3.7 .5 -2.3 .5 -.5 .5 .6 .5 -1.9 .5 2.4 .5 -2.1 .5 1.4 .5 .2 .5 -.5 .5 .2 .5 .8 .5 -1.1 .5 -1.3 .5 1.5 .5 -1.1 .5 -.3 .5 1.7 .5 -1.2 .5 .8 .5 -.8 .5 .3 .5 .9 .5 .7 .5 -3.7 .5 1.6 .5 2.4 .5 -1.4 .5 .5 .5 .6 .5 -.8 .5 -.3 .5 -.1 .5 -.7 .5 -.2 .5 1.9 .5 -.3 .5 -2.7 .5 2.4 .5 .3 .5 1.4 .5 -3.6 .5 2.6 .5 -.6 .5 -1.9 .5 1.1 .5 -.2 .5 .4 .5 -.4 .5 1.2 .5 .5 .5 .5 .5 -1.7 .5 2 .5 -3.3 .5 .8 .5 .7 .5 -.5 .5 -.2 .5 .1 .5 .7 .5 -1.4 .5 1 .5 -.7 .5 .4 .5 .5 .5 .9 .5 -2.2 .5 1.6 .5 -1.5 .5 .9 .5 1.3 .5 -3.6 .5 3.3 .5 -.2 .5 -.9 .5 -2 .5 2.8 .5 -1.5 .5 -1.2 .5 1.8 .5 1.1 .5 -.8 .5 -.1 .5 .2 .5 -1.7 .5 3.4 .5 -2.1 .5 .1 .5 1.5 .5 -.5 .5 -1.5 .5 -5.2 .5 6.1 .5 1.5 .5 -1.4 .5 .1 .5 -1.3 .5 1.7 .5 -1.5 .5 2.2 .5 -4.4 .5 2.9 .5 .5 .5 -.6 .5 1.5 .5 1.3 .5 -3.1 .5 -.2 .5 .8 .5 1 .5 -.3 .5 .1 .5 -1.2 .5 .4 .5 1 .5 -.3 .5 .5 .5 -.9 .5 .7 .5 -.2 .5 -.6 .5 .6 .5 -.9 .5 1 .5 -1 .5 .3 .5 -.4 .5 -.3 .5 0 .5 .8 .5 0 .5 -.5 .5 .5 .5 1.1 .5 -.9 .5 -.5 .5 .3 .5 -.9 .5 .7 .5 -.4 .5 .3 .5 .8 .5 -2.3 .5 .8 .5 .8 .5 .1 .5 -.3 .5 .7 .5 -1.1 .5 1.7 .5 -1.7 .5 .7 .5 .5 .5 -.3 .5 -.5 .5 .3 .5 .4 .5 .9 .5 -.4 .5 -1.1 .5 0 .5 .4 .5 -.9 .5 1.7 .5 .2 .5 -.9 .5 -.7 .5 2.9 .5 -1.2 .5 -1.3 .5 .8 .5 -1.4 .5 2.1 .5 -.7 .5 -.9 .5 .2 .5 .3 .5 -1.2 .5 1.3 .5 1 .5 -1.6 .5 -.7 .5 -.1 .5 -.7 .5 .1 .5 .9 .5 .7 .5 -1.3 .5 .7 .5 .1 .5 .2 .5 -.6 .5 -.7 .5 1.4 .5 -2.1 .5 .4 .5 2.2 .5 .1 .5 -.5 .5 -3.7 .5 2.6 .5 -1.4 .5 1.2 .5 .9 .5 -1.1 .5 -.6 .5 1.6 .5 -.9 .5 -.4 .5 .7 .5 .8 .5 -.7 .5 0 .5 -.6 .5 -.6 .5 2.6 .5 -.5 .5 -1.6 .5 .3 .5 .3 .5 .3 .5 -.2 .5 -.3 .5 1 .5 -.5 .5 -.8 .5 .9 .5 .8 .5 -.1 .5 .3 .5 -.4 .5 -1 .5 1 .5 -1.4 .5 1.9 .5 -1.9 .5 .3 .5 0 .5 .2 .5 .7 .5 .8 .5 -1.2 .5 -.7 .5 1 .5 .5 .5 -1.1 .5 0 .5 .6 .5 .5 .5 -.6 .5 -.6 .5 1.4 .5 .1 .5 -1.4 .5 1 .5 -1.2 .5 .3 .5 .7 .5 .6 .5 -.9 .5 1.1 .5 -.7 .5 -1.9 .5 3.5 .5 -.8 .5 -.3 .5 -.3 .5 -.7 .5 -.1 .5 .4 .5 -1.3 .5 1.6 .5 1.4 .5 -.9 .5 -.3 .5 .9 .5 -2.2 .5 .8 .5 -1.6 .5 2.4 .5 -.2 .5 -1.3 .5 -.5 .5 .9 .5 -2.3 .5 2.1 .5 -1.5 .5 .5 .5 -.2 .5 .5 .5 .1 .5 -.7 .5 .1 .5 1.4 .5 -.9 .5 .1 .5 .4 .5 .2 .5 -1.8 .5 2.3 .5 -3.9 .5 -1.8 .5 -.7 .5 -2.5 .5 -.5 .5 .1 .5 1.3 .5 .7 .5 3.3 .5 -1 .5 2.3 .5 0 .5 2.1 .5 .8 .5 -.2 .5 -.1 .5 0 .5 .8 .5 -.5 .5 .2 .5 -.2 .5 -.5 .5 1.4 .5 -1.1 .5 .2 .5 .7 .5 -.4 .5 .6 .5 -.8 .5 -.4 .5 1 .5 -.3 .5 1.7 .5 -1.3 .5 -.8 .5 -.6 .5 2.1 .5 -2.2 .5 2.2 .5 -.5 .5 -1.5 .5 1.4 .5 -2 .5 .9 .5 .5 .5 .5 .5 -.6 .5 .9 .5 -.3 .5 -1.5 .5 .8 .5 1 .5 -1.2 .5 -.4 .5 .2 .5 .6 .5 -1 .5 -.1 .5 .2 .5 .8 .5 -.3 .5 .4 .5 -2.8 .5 2.8 .5 -2 .5 1.1 .5 0 .5 1.1 .5 -1.3 .5 .1 .5 .8 .5 -1.1 .5 1.2 .5 -.6 .5 1.9 .5 -3.1 .5 1.5 .5 -.4 .5 .3 .5 .2 .5 1 .5 .2 .5 -.8 .5 -.5 .5 -1 .5 1.4 .5 .3 .5 -.5 .5 1.1 .5 -.6 .5 .6 .5 -1.1 .5 0 .5 1.9 .5 -1 .5 -.7 .5 .3 .5 .1 .5 -.9 .5 .4 .5 1.4 .5 -1.2 .5 .6 .5 -.9 .5 .4 .5 -.3 .5 1.1 .5 -1.1 .5 .1 .5 1.2 .5 -.5 .5 -.3 .5 1.1 .5 -.5 .5 .6 .5 -.6 .5 -.4 .5 .2 .5 -.6 .5 2 .5 -1.6 .5 -.3 .5 3 .5 -1.3 .5 -1.2 .5 .4 .5 -.4 .5 0 .5 -.2 .5 1.7 .5 -.4 .5 -1.5 .5 .1 .5 -.2 .5 -1 .5 1.2 .5 1.1 .5 -1.9 .5 .6 .5 -.7 .5 .5 .5 -.3 .5 -.6 .5 -.7 .5 .5 .5 1.5 .5 -1.2 .5 1.2 .5 -1 .5 -.1 .5 1.5 .5 -1.1 .5 .6 .5 .9 .5 -.3 .5 -1 .5 .1 .5 -.3 .5 -.9 .5 .5 .5 .5 .5 -.1 .5 1.9 .5 -1 .5 -2.1 .5 -.1 .5 .7 .5 .9 .5 -1.3 .5 1.5 .5 -1.9 .5 -.1 .5 1.3 .5 -.9 .5 .6 .5 1.6 .5 -.5 .5 -3.5 .5 4.1 .5 -1.3 .5 -.3 .5 -.8 .5 .7 .5 0 .5 -.4 .5 -1.2 .5 2.8 .5 0 .5 -.6 .5 .2 .5 .7 .5 -.5 .5 -1.1 .5 -.3 .5 1 .5 .4 .5 -1.4 .5 1.2 .5 1.8 .5 -2.8 .5 -1 .5 -.4 .5 .9 .5 -1 .5 -.8 .5 .2 .5 -1.3 .5 .7 .5 -1.6 .5 .7 .5 1.5 .5 -.8 .5 3.2 .5 -.8 .5 -.3 .5 .1 .5 -.9 .5 .2 .5 2.9 .5 -2.4 .5 2.4 .5 .3 .5 -.8 .5 -2 .5 2.4 .5 -.2 .5 -.3 .5 -.3 .5 1.7 .5 -.4 .5 -.4 .5 -.2 .5 .6 .5 -.7 .5 2.4 .5 -1.6 .5 .9 .5 -.7 .5 .4 .5 -1.2 .5 1.6 .5 -1.8 .5 1.5 .5 -.4 .5 -.8 .5 -.8 .5 -1.1 .5 2.2 .5 .6 .5 .7 .5 -2 .5 1.6 .5 -1.2 .5 1 .5 -1.1 .5 -.5 .5 .3 .5 .4 .5 -.9 .5 1.4 .5 -1.9 .5 1.8 .5 -2.4 .5 3 .5 -2.4 .5 2 .5 -.1 .5 -.6 .5 -1.2 .5 1.6 .5 .5 .5 -1.2 .5 -1.4 .5 1.2 .5 .3 .5 -1.7 .5 1 .5 .4 .5 0 .5 -.7 .5 1.3 .5 -7.8 .5 6.7 .5 -1.1 .5 1.3 .5 .4 .5 .1 .5 -1.3 .5 1.3 .5 2.1 .5 -1.1 .5 -.6 .5 -1.6 .5 1 .5 1.2 .5 -.9 .5 1.3 .5 -.6 .5 -.9 .5 .8 .5 -.4 .5 -2 .5 1.8 .5 -1.1 .5 1.8 .5 -1.8 .5 2.3 .5 .2 .5 -.5 .5 1 .5 -.8 .5 -.7 .5 .5 .5 0 .5 .9 .5 .6 .5 0 .5 -1.9 .5 .4 .5 .8 .5 -.4 .5 1.8 .5 -1.2 .5 .6 .5 -1.5 .5 1.6 .5 -.3 .5 -5.6 .5 5.4 .5 -.7 .5 .1 .5 .4 .5 -.6 .5 2 .5 -.1 .5 -1.8 .5 -.9 .5 1.9 .5 -1.1 .5 1.3 .5 -1.6 .5 1 .5 -.4 .5 0 .5 -2.8 .5 2.9 .5 -1.1 .5 1.1 .5 0 .5 -.6 .5 -.1 .5 -.3 .5 .6 .5 .3 .5 -1.2 .5 2.5 .5 -3.3 .5 2.4 .5 -.4 .5 .4 .5 -1 .5 -1.2 .5 1.3 .5 .9 .5 -1.6 .5 0 .5 .6 .5 -.9 .5 -.4 .5 1 .5 -1.2 .5 1.1 .5 -1.6 .5 1 .5 .3 .5 .6 .5 -.5 .5 0 .5 -.7 .5 -1.2 .5 -.2 .5 -1.6 .5 1.2 .5 -2.3 .5 .3 .5 -3 .5 -1.3 .5 -.6 .5 .7 .5 -.8 .5 .8 .5 1 .5 2.2 .5 -1.2 .5 3.8 .5 -.6 .5 .8 .5 1.1 .5 -.5 .5 .1 .5 1.8 .5 -2.4 .5 3.2 .5 -1.4 .5 .1 .5 1.3 .5 1 .5 -1.5 .5 -.1 .5 -1 .5 1.4 .5 .6 .5 -1.1 .5 1.8 .5 -3.4 .5 1.4 .5 -1.7 .5 4.1 .5 -.5 .5 -1.3 .5 -.6 .5 -.2 .5 .4 .5 .1 .5 -1.4 .5 1.9 .5 -.7 .5 -.4 .5 1.4 .5 -2.1 .5 1.8 .5 -.7 .5 -1.1 .5 -.2 .5 .5 .5 .3 .5 .7 .5 -.6 .5 .5 .5 -.1 .5 -.2 .5 .2 .5 -.1 .5 .2 .5 .4 .5 -.8 .5 .6 .5 -.9 .5 1 .5 0 .5 .3 .5 .1 .5 -.2 .5 -.2 .5 .4 .5 0 .5 -.2 .5 1.5 .5 -1.3 .5 -.8 .5 .7 .5 .7 .5 -1.2 .5 .4 .5 .3 .5 -.7 .5 .6 .5 .4 .5 .2 .5 -.2 .5 .2 .5 -1.6 .5 1.3 .5 -1.2 .5 -.8 .5 1.7 .5 -.8 .5 -.7 .5 1 .5 -.4 .5 2.2 .5 -2 .5 .8 .5 -.4 .5 .6 .5 .5 .5 -.8 .5 .6 .5 .4 .5 -.9 .5 .5 .5 0 .5 .3 .5 .2 .5 -.6 .5 .1 .5 1.1 .5 -.7 .5 -1 .5 2.1 .5 -2 .5 -.1 .5 .2 .5 .4 .5 -.7 .5 1.8 .5 -1.6 .5 .9 .5 -.5 .5 .4 .5 .4 .5 .5 .5 -1.6 .5 1.3 .5 -1.3 .5 .1 .5 -1.3 .5 1.8 .5 -.3 .5 -1.6 .5 1.1 .5 .3 .5 1.5 .5 -.9 .5 -.5 .5 1.3 .5 -2.2 .5 .1 .5 .4 .5 1.7 .5 .3 .5 -2.1 .5 1.1 .5 -.6 .5 .2 .5 -.8 .5 .6 .5 .1 .5 .1 .5 .1 .5 -.3 .5 .5 .5 -1.5 .5 1.2 .5 1.3 .5 -1.9 .5 1 .5 .1 .5 .3 .5 -.7 .5 .1 .5 -.3 .5 1.4 .5 -.6 .5 -1.1 .5 1.1 .5 0 .5 -.6 .5 -1.1 .5 1.5 .5 -.2 .5 -1.3 .5 1.4 .5 .7 .5 .4 .5 -7.7 .5 5.9 .5 -.5 .5 .9 .5 1.7 .5 -.8 .5 -1.2 .5 .9 .5 -1 .5 -.1 .5 .6 .5 -1 .5 2 .5 -1.8 .5 .2 .5 -.5 .5 .7 .5 -1.1 .5 1.8 .5 .5 .5 -.9 .5 1.5 .5 -1.2 .5 -1.4 .5 1.2 .5 -.9 .5 -.1 .5 -.7 .5 0 .5 .6 .5 .2 .5 -2 .5 1.7 .5 -.4 .5 1.6 .5 -1.2 .5 -1.3 .5 .9 .5 -.1 .5 -.4 .5 .9 .5 -.4 .5 -1 .5 1.2 .5 -2.7 .5 1.4 .5 -1.9 .5 -1.2 .5 -3.9 .5 -4.8 .5 -6.8 .5 -7.3 .5 -10.1 .5 -9.4 .5 -10.1 .5 -6.8 .5 1.8 .5 5.3 .5 6.4 .5 12.3 .5 8.9 .5 9.1 .5 5.1 .5 4.8 .5 3.6 .5 1.9 .5 .2 .5 1 .5 -.5 .5 2.3 .5 -.7 .5 1.6 .5 -.3 .5 -1 .5 .5 .5 -2.1 .5 2.2 .5 1.3 .5 -1 .5 -.6 .5 .1 .5 .6 .5 .9 .5 -.3 .5 -1.3 .5 .5 .5 .3 .5 1.5 .5 -1.1 .5 1.6 .5 .1 .5 -.3 .5 -1.2 .5 .8 .5 .4 .5 -1.3 .5 .7 .5 .8 .5 -.9 .5 -.3 .5 1 .5 -.3 .5 1 .5 -.4 .5 1 .5 -1.1 .5 -1.4 .5 .5 .5 -.2 .5 1.4 .5 -1.6 .5 .2 .5 1.9 .5 -2.3 .5 1.1 .5 1.1 .5 -.6 .5 .9 .5 -.6 .5 -1.4 .5 2.5 .5 -1.7 .5 -1 .5 -.1 .5 -1.1 .5 1.3 .5 .6 .5 -.6 .5 .7 .5 -.9 .5 .6 .5 -.4 .5 1 .5 .3 .5 .1 .5 .1 .5 -.4 .5 -1 .5 -.3 .5 -.1 .5 -1.6 .5 -.9 .5 -2.9 .5 -.3 .5 -2.3 .5 -6.2 .5 -7.5 .5 -8.9 .5 -9.9 .5 -5.8 .5 -6.5 .5 .5 .5 3.7 .5 8.1 .5 9.1 .5 9 .5 6.2 .5 5.4 .5 4.4 .5 3 .5 -.5 .5 2 .5 1.1 .5 .3 .5 -1 .5 .3 .5 .4 .5 1 .5 -.6 .5 .5 .5 .5 .5 .5 .5 -1.1 .5 1.3 .5 -.6 .5 .2 .5 -1.7 .5 1.7 .5 -.8 .5 -.4 .5 1.5 .5 .4 .5 -.6 .5 1.5 .5 -1.4 .5 .7 .5 -.8 .5 .9 .5 -.4 .5 .1 .5 -.9 .5 .7 .5 0 .5 -.3 .5 1 .5 0 .5 -.3 .5 -1.8 .5 1.3 .5 .8 .5 .3 .5 -.2 .5 -.5 .5 -.1 .5 1.5 .5 -1.2 .5 .7 .5 -.8 .5 .1 .5 .1 .5 .4 .5 -1.3 .5 1.2 .5 -.6 .5 .7 .5 -1.4 .5 .9 .5 -1.1 .5 .4 .5 .4 .5 -.7 .5 -1 .5 1.5 .5 -.2 .5 .6 .5 -.3 .5 .4 .5 -2.3 .5 1.8 .5 .1 .5 .1 .5 .4 .5 1.5 .5 -3.4 .5 1.7 .5 .4 .5 -1.7 .5 1.3 .5 -.1 .5 .2 .5 -1.1 .5 .8 .5 .3 .5 -.6 .5 .7 .5 .3 .5 -3.5 .5 2.1 .5 -.2 .5 .6 .5 -.8 .5 -.8 .5 0 .5 2.1 .5 -1.2 .5 -1.5 .5 2.9 .5 -2.4 .5 -1.3 .5 -1.1 .5 -.7 .5 -1 .5 -1.7 .5 -.1 .5 -1.2 .5 -1.6 .5 1.7 .5 -.6 .5 .2 .5 1.8 .5 2.1 .5 1.5 .5 -.9 .5 1 .5 .3 .5 1.1 .5 2.1 .5 -1.1 .5 -.3 .5 -1.3 .5 .8 .5 -.2 .5 -1.6 .5 .2 .5 -3.2 .5 -4.4 .5 -7.9 .5 -6.7 .5 -7.8 .5 -5.6 .5 -1.6 .5 6 .5 5 .5 10.9 .5 7 .5 2.2 .5 5.6 .5 1.5 .5 -2.7 .5 3.2 .5 .1 .5 0 .5 -.2 .5 .2 .5 -.5 .5 1.6 .5 -.7 .5 0 .5 1.1 .5 -1.6 .5 .1 .5 -.8 .5 1 .5 -.1 .5 -.4 .5 -.1 .5 -1.4 .5 -.5 .5 .2 .5 -.7 .5 -1 .5 -1.2 .5 -2.4 .5 -1 .5 -1.6 .5 -5.1 .5 -6.9 .5 -11.5 .5 -17.5 .5 -22 .5 -28.2 .5 -29.8 .5 -26.6 .5 -19.1 .5 -2.1 .5 13.7 .5 23.6 .5 28.8 .5 26.7 .5 21.9 .5 14.4 .5 11.5 .5 5.8 .5 2.6 .5 5.3 .5 3.8 .5 2.8 .5 3.6 .5 3.6 .5 1.6 .5 3.7 .5 2.4 .5 -.1 .5 .8 .5 -.2 .5 1.9 .5 .4 .5 1.5 .5 -2 .5 .2 .5 .6 .5 -.3 .5 .3 .5 -.2 .5 -1.1 .5 .8 .5 0 .5 -.3 .5 .5 .5 1.2 .5 -.7 .5 .9 .5 -.8 .5 -.9 .5 -.8 .5 .1 .5 -2.2 .5 .3 .5 -1.8 .5 -3.3 .5 -5.5 .5 -9.3 .5 -16.1 .5 -17.1 .5 -20.1 .5 -11.7 .5 -3.2 .5 13.6 .5 19.2 .5 18.2 .5 15.3 .5 9.4 .5 5.5 .5 4.3 .5 2.9 .5 -.4 .5 2.5 .5 -.9 .5 .9 .5 -.7 .5 2.1 .5 -2.1 .5 1.7 .5 .6 .5 -.4 .5 -.4 .5 .6 .5 .3 .5 -.8 .5 -.1 .5 -.4 .5 -1.6 .5 -1.1 .5 -2.1 .5 -2.3 .5 -4.1 .5 -1.4 .5 -1.7 .5 -.3 .5 3.4 .5 .6 .5 2.8 .5 2.7 .5 2.6 .5 .6 .5 3 .5 -1.3 .5 -.3 .5 2.4 .5 .1 .5 .1 .5 1.8 .5 -.7 .5 -3.1 .5 1.5 .5 .2 .5 1.7 .5 -1 .5 -.1 .5 .9 .5 -1.2 .5 .2 .5 .6 .5 -.4 .5 -.2 .5 1.1 .5 .4 .5 -1.3 .5 2 .5 -2.2 .5 .7 .5 -.2 .5 1.4 .5 -2.1 .5 1.6 .5 -1.9 .5 1.5 .5 -.7 .5 1.2 .5 -.9 .5 2.1 .5 -2.3 .5 .5 .5 .2 .5 2 .5 -3 .5 1.4 .5 .4 .5 -.5 .5 -.5 .5 1.7 .5 -1 .5 -2.8 .5 2.9 .5 1.4 .5 -2.6 .5 .8 .5 .2 .5 .9 .5 -1 .5 -.9 .5 -1 .5 .1 .5 .3 .5 1.7 .5 .4 .5 -.5 .5 .3 .5 1.4 .5 0 .5 -2.7 .5 .3 .5 .7 .5 .7 .5 -1.2 .5 .3 .5 .9 .5 -.3 .5 -1.1 .5 -.1 .5 .4 .5 .3 .5 -2.3 .5 2.7 .5 -1.4 .5 .6 .5 .5 .5 -.9 .5 -.4 .5 .7 .5 .2 .5 -3.4 .5 2.2 .5 -1.2 .5 -.2 .5 -.1 .5 -.7 .5 -.3 .5 -.2 .5 -.2 .5 -1.6 .5 .9 .5 1 .5 -.3 .5 .6 .5 .8 .5 .6 .5 1.1 .5 -1.9 .5 2 .5 0 .5 .9 .5 -1.9 .5 1.8 .5 -1.1 .5 .2 .5 0 .5 1.3 .5 -.5 .5 -.5 .5 .2 .5 .1 .5 .1 .5 -.4 .5 -.3 .5 2 .5 -.1 .5 -2.8 .5 .8 .5 0 .5 .5 .5 -.1 .5 0 .5 .3 .5 -.2 .5 .5 .5 .7 .5 -2.2 .5 .2 .5 .5 .5 -1.1 .5 2.3 .5 -.3 .5 .1 .5 -.9 .5 .3 .5 -.4 .5 .9 .5 0 .5 1.3 .5 -.5 .5 -.2 .5 .4 .5 -.1 .5 -1.6 .5 1.8 .5 -3.1 .5 2.3 .5 -2 .5 1.5 .5 -1 .5 2 .5 -1.1 .5 .7 .5 -1.5 .5 .4 .5 -.5 .5 -.1 .5 1.1 .5 -2 .5 2.1 .5 -.2 .5 -.6 .5 .3 .5 .4 .5 -.6 .5 .9 .5 -.9 .5 -.3 .5 -.1 .5 0 .5 -.2 .5 1.7 .5 -1.3 .5 -.5 .5 1.7 .5 -3 .5 1.7 .5 .5 .5 .7 .5 -.6 .5 -.5 .5 .3 .5 -.3 .5 -.6 .5 -.1 .5 -.1 .5 -1.4 .5 -.2 .5 .1 .5 -2.5 .5 1.9 .5 -.4 .5 .2 .5 .2 .5 2.7 .5 -2.5 .5 1.9 .5 .7 .5 .2 .5 .2 .5 .4 .5 -1.3 .5 .3 .5 -.5 .5 .9 .5 .2 .5 1.1 .5 -1 .5 1 .5 -1.6 .5 1.1 .5 -2 .5 1.5 .5 -.3 .5 1.1 .5 -.3 .5 .2 .5 .3 .5 -.6 .5 1.2 .5 -1.9 .5 1.1 .5 0 .5 -.5 .5 -.7 .5 1.4 .5 -.3 .5 -.4 .5 -4.1 .5 3.6 .5 .5 .5 -.6 .5 .6 .5 -.5 .5 1.7 .5 -1.3 .5 0 .5 .9 .5 -1.9 .5 1.2 .5 2.2 .5 -2.7 .5 1.4 .5 .3 .5 .9 .5 -1.8 .5 -.3 .5 -1 .5 -.2 .5 .9 .5 -.4 .5 .4 .5 .2 .5 -1.9 .5 2.1 .5 -2.4 .5 1.6 .5 .1 .5 -.8 .5 1 .5 .5 .5 -.5 .5 -.6 .5 -.5 .5 1.4 .5 0 .5 -1 .5 .9 .5 -.7 .5 2.7 .5 -1.8 .5 -.2 .5 -.1 .5 -.5 .5 -1 .5 1.2 .5 -1 .5 .8 .5 .7 .5 -2.4 .5 2.5 .5 .9 .5 -1.8 .5 0 .5 -1.3 .5 .6 .5 .6 .5 -.9 .5 -.9 .5 -1.6 .5 -1.8 .5 -2.2 .5 -2.6 .5 -5.6 .5 -5.5 .5 -4 .5 -3.3 .5 -2.3 .5 1.1 .5 -.4 .5 5 .5 3.4 .5 4.9 .5 3.6 .5 4.6 .5 2.7 .5 2.7 .5 .5 .5 .7 .5 1.4 .5 .8 .5 .5 .5 -.4 .5 -2.3 .5 2.5 .5 0 .5 1.8 .5 -2.3 .5 1.1 .5 -.3 .5 -.1 .5 1.2 .5 -1.6 .5 -.4 .5 .5 .5 -.6 .5 .8 .5 -.5 .5 -1.5 .5 .6 .5 3 .5 -2.8 .5 0 .5 0 .5 1.1 .5 -.2 .5 0 .5 .2 .5 -1 .5 2.2 .5 -1.3 .5 .4 .5 1 .5 0 .5 -2.1 .5 2.3 .5 -1.1 .5 .1 .5 -.1 .5 -.9 .5 1.1 .5 -1.7 .5 1.2 .5 -.4 .5 0 .5 -1.5 .5 1.7 .5 -.5 .5 .4 .5 .1 .5 -.7 .5 .5 .5 .4 .5 -1.5 .5 -.3 .5 2.4 .5 -1.3 .5 .6 .5 -.4 .5 -.5 .5 1.2 .5 1.2 .5 -.8 .5 -2.6 .5 2.1 .5 0 .5 0 .5 -.3 .5 -.6 .5 -.4 .5 2 .5 -2.4 .5 2 .5 -1.1 .5 .7 .5 -.2 .5 -1.8 .5 2 .5 -1.9 .5 .5 .5 -.4 .5 .4 .5 -.7 .5 3.1 .5 -2.6 .5 1.7 .5 -1.4 .5 .8 .5 .4 .5 -1.6 .5 -.3 .5 .4 .5 .3 .5 -1 .5 2.6 .5 -2.2 .5 1 .5 -1 .5 .9 .5 -.2 .5 1.2 .5 -3.4 .5 1.7 .5 .9 .5 -.7 .5 -.6 .5 1.4 .5 .2 .5 -.4 .5 -.7 .5 .3 .5 -2.9 .5 2.8 .5 1.2 .5 -.7 .5 -.7 .5 0 .5 -.4 .5 -.6 .5 .7 .5 -.1 .5 -.5 .5 .7 .5 .1 .5 -.1 .5 1.7 .5 -.8 .5 -.9 .5 -.2 .5 .5 .5 .2 .5 -.9 .5 1.5 .5 -.3 .5 -1.6 .5 .8 .5 1 .5 -1.2 .5 .1 .5 .2 .5 -2 .5 1.8 .5 -1 .5 1 .5 -.8 .5 2.2 .5 -1 .5 .9 .5 .5 .5 -1.3 .5 .4 .5 -.1 .5 .5 .5 -.6 .5 .3 .5 -.1 .5 0 .5 -1.1 .5 .7 .5 0 .5 1 .5 .1 .5 -1.6 .5 .1 .5 1.6 .5 .3 .5 -1 .5 -.3 .5 -.3 .5 -.7 .5 2.1 .5 -1.7 .5 1.1 .5 -.1 .5 -.1 .5 .6 .5 -1.1 .5 -.8 .5 .1 .5 1 .5 -.5 .5 1.5 .5 -1.4 .5 .8 .5 0 .5 1.2 .5 -2.3 .5 1.5 .5 -1.6 .5 .7 .5 .5 .5 .3 .5 -.3 .5 .1 .5 -.4 .5 .6 .5 -1.2 .5 -1.3 .5 1.6 .5 -1.9 .5 .2 .5 -.5 .5 .5 .5 -2.2 .5 .3 .5 -3.1 .5 3 .5 .7 .5 .3 .5 2.2 .5 -.9 .5 .3 .5 1.1 .5 .3 .5 -2 .5 1.3 .5 .2 .5 .7 .5 -1 .5 .4 .5 -1.1 .5 .4 .5 .4 .5 -.8 .5 1.1 .5 -2.4 .5 -1.5 .5 -2.2 .5 -2.1 .5 -3.1 .5 -5 .5 -2.9 .5 -2.5 .5 .6 .5 1 .5 4 .5 3.6 .5 3.4 .5 3 .5 1.6 .5 3.3 .5 .8 .5 -.5 .5 0 .5 1.2 .5 -1.1 .5 -.5 .5 1.7 .5 -1.6 .5 2 .5 -.3 .5 1.2 .5 .4 .5 .3 .5 -.1 .5 -.2 .5 -1.3 .5 .8 .5 1.5 .5 -1.7 .5 .1 .5 .9 .5 -.3 .5 1.1 .5 -1.2 .5 1.1 .5 -2.2 .5 .1 .5 1.2 .5 0 .5 .5 .5 -.5 .5 0 .5 .4 .5 0 .5 .7 .5 -.8 .5 -1.8 .5 1.4 .5 .1 .5 .1 .5 -.3 .5 -.3 .5 1.1 .5 1.8 .5 -1.8 .5 -.4 .5 -.8 .5 1.1 .5 -.3 .5 .4 .5 -.2 .5 -1.4 .5 -.3 .5 1.6 .5 -1 .5 .8 .5 -.6 .5 -1.3 .5 1.2 .5 -.7 .5 -2.1 .5 1.7 .5 -.6 .5 -1.9 .5 2.1 .5 -2.2 .5 .6 .5 -2.4 .5 -.4 .5 .3 .5 .5 .5 .7 .5 -.4 .5 .3 .5 1.9 .5 .7 .5 -.6 .5 2.7 .5 -1.7 .5 -.2 .5 .4 .5 .7 .5 -.6 .5 -.9 .5 .9 .5 -.5 .5 -.2 .5 .6 .5 -1.1 .5 1.1 .5 1 .5 -.5 .5 .1 .5 -.3 .5 -.7 .5 -.2 .5 1.5 .5 .3 .5 -.5 .5 -.4 .5 -1.2 .5 1.4 .5 -2 .5 1.9 .5 -.2 .5 .6 .5 1.3 .5 -3 .5 1.8 .5 -.2 .5 .5 .5 -.4 .5 .9 .5 -1.7 .5 1.1 .5 -.9 .5 .1 .5 .6 .5 .2 .5 -.7 .5 -.2 .5 .4 .5 .3 .5 1.1 .5 .6 .5 -1.8 .5 -.2 .5 .8 .5 1.2 .5 -1.8 .5 -.8 .5 .3 .5 1.2 .5 1.4 .5 -1.2 .5 -.5 .5 1.5 .5 -1.5 .5 -.1 .5 .8 .5 .2 .5 -.2 .5 -.4 .5 -.5 .5 1.1 .5 -1.3 .5 .2 .5 .1 .5 .8 .5 -.6 .5 -.4 .5 .2 .5 -.4 .5 -.2 .5 .7 .5 -.5 .5 .7 .5 -.2 .5 -.9 .5 .7 .5 .4 .5 -.4 .5 .9 .5 -2.1 .5 1.6 .5 1.8 .5 -1.8 .5 .4 .5 0 .5 .7 .5 -1.2 .5 -1.1 .5 .1 .5 1.3 .5 -.7 .5 .5 .5 -.5 .5 .6 .5 -.2 .5 0 .5 -.5 .5 .1 .5 .9 .5 .4 .5 -2.1 .5 .7 .5 1.1 .5 -1 .5 -.3 .5 -.2 .5 1.4 .5 -1.6 .5 .8 .5 .3 .5 -.3 .5 .3 .5 -.6 .5 .4 .5 .1 .5 -.4 .5 0 .5 .3 .5 .5 .5 -.5 .5 -.7 .5 .5 .5 .9 .5 0 .5 0 .5 .9 .5 -1 .5 -.9 .5 .5 .5 -.4 .5 1 .5 -1.4 .5 .7 .5 -1 .5 .8 .5 .7 .5 -.4 .5 .9 .5 -2.6 .5 1.7 .5 1.2 .5 -1.4 .5 -2 .5 1.1 .5 1.2 .5 .3 .5 0 .5 -.8 .5 -1.6 .5 2.1 .5 -1.3 .5 1.7 .5 -.4 .5 .2 .5 -1.1 .5 -.2 .5 .1 .5 -.3 .5 1 .5 -5.1 .5 4.7 .5 .1 .5 .1 .5 -1.7 .5 1.6 .5 -.1 .5 -1.6 .5 2.1 .5 -1.6 .5 1.3 .5 0 .5 -.7 .5 -.5 .5 1.1 .5 .4 .5 -1.6 .5 .4 .5 .4 .5 0 .5 -.7 .5 .5 .5 0 .5 .2 .5 -1.9 .5 2.9 .5 -.8 .5 -.9 .5 -.7 .5 -.6 .5 1 .5 -3.1 .5 -1.1 .5 -1.3 .5 -.5 .5 -7.5 .5 2.6 .5 -1.7 .5 -2.4 .5 -.9 .5 -1.4 .5 -.1 .5 -.6 .5 3.1 .5 1.6 .5 4 .5 2.7 .5 -.4 .5 4.5 .5 -.3 .5 2.4 .5 1 .5 -.4 .5 1.2 .5 -1.5 .5 .2 .5 .4 .5 .3 .5 -.3 .5 -.6 .5 1.7 .5 .5 .5 -.5 .5 1.5 .5 -2.5 .5 .6 .5 1.8 .5 -2.6 .5 .1 .5 .9 .5 -.9 .5 -.5 .5 .5 .5 .5 .5 .9 .5 -.2 .5 -1.4 .5 .8 .5 .5 .5 .3 .5 .5 .5 -.9 .5 -1.1 .5 1 .5 -.5 .5 -.6 .5 .9 .5 -1 .5 0 .5 2 .5 -.4 .5 -.6 .5 -.6 .5 .9 .5 1.2 .5 -2.4 .5 1.7 .5 -.4 .5 .1 .5 -.4 .5 .5 .5 .5 .5 .7 .5 -.8 .5 .4 .5 -.8 .5 -1.5 .5 1.9 .5 -1.1 .5 -2.5 .5 3.4 .5 -1.3 .5 1.5 .5 -.8 .5 1.2 .5 -2.3 .5 1.8 .5 -2.1 .5 2.5 .5 -.2 .5 .3 .5 -.5 .5 .3 .5 -.7 .5 -.8 .5 1.5 .5 -.3 .5 -.1 .5 -.6 .5 -.8 .5 -.2 .5 2.3 .5 -1.8 .5 1.6 .5 -1 .5 .2 .5 .3 .5 -.8 .5 .7 .5 -.1 .5 1.3 .5 -.9 .5 -.6 .5 .6 .5 2 .5 -1.6 .5 0 .5 .5 .5 -.8 .5 .1 .5 0 .5 -1.4 .5 1.6 .5 -.2 .5 .6 .5 -.4 .5 -1.8 .5 -.4 .5 2.2 .5 -.1 .5 -.8 .5 .7 .5 -.6 .5 -.7 .5 1.5 .5 -.4 .5 -1.6 .5 1.6 .5 -2.1 .5 1.3 .5 .2 .5 .5 .5 -.7 .5 -.4 .5 -.3 .5 1.5 .5 -.1 .5 -.6 .5 -.4 .5 .7 .5 .2 .5 .4 .5 -1.9 .5 .7 .5 1 .5 -1.1 .5 .3 .5 -1.2 .5 1.2 .5 .2 .5 .1 .5 -.9 .5 .2 .5 -.1 .5 -.9 .5 1.5 .5 -1.4 .5 -.2 .5 -.2 .5 -.6 .5 2.9 .5 -3.5 .5 1.4 .5 -1.6 .5 0 .5 1 .5 .1 .5 -1.9 .5 -.1 .5 1.1 .5 -1.2 .5 -3.7 .5 -2.7 .5 -5.2 .5 -4 .5 -7.3 .5 -9.8 .5 -7.2 .5 -8.5 .5 -5.9 .5 -7.5 .5 2.8 .5 2.2 .5 6.9 .5 8 .5 10.9 .5 8.2 .5 7.4 .5 3.9 .5 5.3 .5 2.5 .5 2.6 .5 0 .5 .5 .5 1.4 .5 2.8 .5 -5 .5 3 .5 .7 .5 -.3 .5 .1 .5 1.5 .5 -1.6 .5 .9 .5 .1 .5 -.2 .5 -.5 .5 1.8 .5 -1.5 .5 1.4 .5 -.2 .5 -.8 .5 .3 .5 .4 .5 -.1 .5 -.4 .5 -1.8 .5 2.1 .5 1.6 .5 -1.2 .5 -.8 .5 2.2 .5 -.5 .5 -.5 .5 -1.5 .5 .9 .5 .4 .5 -.4 .5 .1 .5 .7 .5 .9 .5 -1.8 .5 -2 .5 3.7 .5 -1.6 .5 1.9 .5 -2.6 .5 .9 .5 .3 .5 .3 .5 -1.5 .5 -.5 .5 .8 .5 1 .5 -1 .5 1.3 .5 -.8 .5 0 .5 .1 .5 1 .5 -1.1 .5 -.9 .5 .7 .5 -1.1 .5 2.7 .5 -2 .5 -.1 .5 .6 .5 .2 .5 .8 .5 .7 .5 -.6 .5 -1.3 .5 1.1 .5 -.7 .5 .2 .5 -1.7 .5 2.5 .5 1 .5 -1.9 .5 .9 .5 -2.2 .5 3 .5 -.4 .5 -1.8 .5 .3 .5 1.3 .5 .3 .5 -1.7 .5 1.4 .5 -.7 .5 .9 .5 .2 .5 -.8 .5 1 .5 -.1 .5 -.1 .5 -.3 .5 .7 .5 -.8 .5 .6 .5 -.9 .5 1.1 .5 -1.7 .5 .8 .5 .8 .5 -1.4 .5 1.3 .5 -.2 .5 -.8 .5 1.6 .5 -.7 .5 -.3 .5 .1 .5 -.2 .5 -.2 .5 .7 .5 -.7 .5 -1.1 .5 .8 .5 .5 .5 -.1 .5 -.4 .5 .1 .5 .4 .5 -.9 .5 1.7 .5 -.9 .5 .3 .5 -.2 .5 1.1 .5 -1.9 .5 .2 .5 1.8 .5 -1.6 .5 .1 .5 1.1 .5 -.4 .5 .4 .5 0 .5 -.9 .5 -.9 .5 2.6 .5 -4.4 .5 2.9 .5 -1.4 .5 1.4 .5 -1.4 .5 2.8 .5 -3.1 .5 1.6 .5 .6 .5 0 .5 -.5 .5 -.9 .5 .4 .5 -.3 .5 -2.3 .5 2 .5 -.1 .5 1.5 .5 -1.2 .5 -1.3 .5 .6 .5 .3 .5 -.1 .5 -1.5 .5 2.2 .5 .1 .5 -1.2 .5 1.1 .5 .9 .5 -1 .5 0 .5 -1 .5 -1.1 .5 2.3 .5 -1 .5 1.6 .5 -.4 .5 -1.5 .5 2.2 .5 -.6 .5 -1.1 .5 .4 .5 .2 .5 -.5 .5 -.6 .5 .8 .5 .1 .5 .3 .5 .5 .5 -2.2 .5 1.6 .5 .1 .5 -.8 .5 0 .5 -.1 .5 .4 .5 -.2 .5 .5 .5 -2.7 .5 3.9 .5 -2.7 .5 .8 .5 1.3 .5 -.9 .5 -1.3 .5 2.7 .5 -2.2 .5 .7 .5 .1 .5 .9 .5 .7 .5 -2.5 .5 1.2 .5 1.2 .5 -1.3 .5 .3 .5 .7 .5 -2 .5 1.6 .5 -.8 .5 .2 .5 .3 .5 -1.2 .5 .6 .5 -1.5 .5 1.5 .5 1.2 .5 .1 .5 -1.4 .5 .9 .5 -.1 .5 -.8 .5 0 .5 -1.1 .5 2.9 .5 -1.2 .5 .6 .5 -.1 .5 1.8 .5 .3 .5 -2.9 .5 -.4 .5 -.2 .5 0 .5 .6 .5 -.4 .5 -.3 .5 .9 .5 -2.2 .5 1.7 .5 -.4 .5 1 .5 -1.3 .5 .5 .5 .6 .5 .9 .5 -.3 .5 -.7 .5 .3 .5 -1.3 .5 -.6 .5 .8 .5 .3 .5 -2.5 .5 2.5 .5 -1.8 .5 -.9 .5 .3 .5 -2.5 .5 -1 .5 -3.7 .5 -4.6 .5 -4.9 .5 -5.6 .5 -7.6 .5 -6.5 .5 -5.5 .5 -5.3 .5 3.1 .5 .7 .5 7.1 .5 5.1 .5 7.9 .5 5.9 .5 5.5 .5 3.9 .5 3.9 .5 2.2 .5 1.4 .5 -1.1 .5 2.6 .5 -.2 .5 -.5 .5 2.2 .5 .5 .5 -.9 .5 .6 .5 -.1 .5 -.5 .5 .2 .5 .6 .5 -1.5 .5 .9 .5 -.8 .5 -1.8 .5 .6 .5 -1.2 .5 -1.3 .5 -2.5 .5 -5 .5 -1.9 .5 -4.8 .5 -4.5 .5 -1.8 .5 -1.9 .5 3.8 .5 5.1 .5 3.3 .5 5.1 .5 1.1 .5 2.9 .5 3.2 .5 .5 .5 1.1 .5 -.8 .5 1.3 .5 .4 .5 1.1 .5 -.6 .5 -1.4 .5 1.2 .5 .6 .5 -5.7 .5 5.2 .5 .6 .5 .2 .5 -1.5 .5 .8 .5 -.3 .5 -.2 .5 2 .5 -1 .5 -1.5 .5 .7 .5 -1.4 .5 2.6 .5 -1.3 .5 1.9 .5 -1.6 .5 -1.1 .5 1 .5 .5 .5 -.4 .5 1.1 .5 -1.5 .5 1.6 .5 -1.2 .5 -.4 .5 0 .5 -.5 .5 1.7 .5 -1.1 .5 0 .5 .5 .5 1.4 .5 -2.9 .5 2.3 .5 .1 .5 0 .5 -.8 .5 -.2 .5 .6 .5 -.4 .5 1.2 .5 1.3 .5 -.9 .5 -1 .5 1 .5 .1 .5 .6 .5 -1.8 .5 -.3 .5 -.1 .5 .6 .5 -1.3 .5 .2 .5 2.5 .5 -2 .5 -.5 .5 1.2 .5 -1.7 .5 .8 .5 .4 .5 -.2 .5 -1.4 .5 2.2 .5 -1.5 .5 1.4 .5 -.5 .5 -.9 .5 -.3 .5 -.4 .5 -.7 .5 -.2 .5 2.4 .5 -2 .5 1.3 .5 -.8 .5 .4 .5 .4 .5 -1.1 .5 1.3 .5 -.1 .5 -.6 .5 .1 .5 -.6 .5 .6 .5 -.6 .5 1 .5 -1.6 .5 .5 .5 -.4 .5 1.7 .5 -1.1 .5 1 .5 -.1 .5 -.9 .5 1.6 .5 -1.7 .5 1.4 .5 -.4 .5 1.2 .5 -1.5 .5 .5 .5 1.2 .5 -1.3 .5 .8 .5 -.2 .5 .3 .5 -1.5 .5 1.6 .5 -1.5 .5 1.3 .5 -.3 .5 -1 .5 1.7 .5 -.7 .5 .3 .5 -.7 .5 .8 .5 -1 .5 -.8 .5 1.8 .5 .2 .5 -.8 .5 .1 .5 .2 .5 .2 .5 0 .5 -1 .5 .1 .5 .7 .5 -.6 .5 -2.1 .5 .9 .5 2.1 .5 -.2 .5 -.7 .5 -.2 .5 .6 .5 -.7 .5 1.8 .5 -.7 .5 -.7 .5 .9 .5 .4 .5 -.5 .5 -.2 .5 .7 .5 -.4 .5 -.3 .5 -.4 .5 .5 .5 -.2 .5 -.9 .5 1.4 .5 .9 .5 -.8 .5 .4 .5 -1 .5 1.8 .5 -2.9 .5 .4 .5 1.5 .5 -1.9 .5 .8 .5 -.2 .5 -.1 .5 .5 .5 -.2 .5 -.2 .5 .8 .5 .1 .5 -1.4 .5 0 .5 .3 .5 -.2 .5 .6 .5 -.5 .5 .4 .5 -1.2 .5 .8 .5 -.9 .5 .1 .5 -1.2 .5 2.4 .5 .7 .5 -.4 .5 -1.6 .5 .2 .5 -.4 .5 1.2 .5 .9 .5 .3 .5 -1.6 .5 1.2 .5 -1.2 .5 1.4 .5 -.6 .5 .3 .5 -1.7 .5 -4.1 .5 3.3 .5 1.6 .5 .4 .5 -1.1 .5 .8 .5 .8 .5 .6 .5 -2.9 .5 1.5 .5 1.4 .5 -1.3 .5 -.8 .5 1.4 .5 -.2 .5 .4 .5 -3 .5 2.5 .5 .1 .5 -.5 .5 .8 .5 .1 .5 .8 .5 0 .5 -.3 .5 .1 .5 -1.4 .5 .9 .5 -.5 .5 .3 .5 1 .5 -1.3 .5 -.1 .5 -.9 .5 1.1 .5 -.5 .5 -.9 .5 -.3 .5 -1 .5 1.9 .5 -2.4 .5 -2.4 .5 -3.4 .5 -3.3 .5 -2.9 .5 -4.6 .5 -.4 .5 .3 .5 2.3 .5 1.2 .5 3.6 .5 5 .5 1 .5 3.1 .5 1.6 .5 2 .5 .3 .5 .5 .5 -1.9 .5 .3 .5 1.8 .5 -.5 .5 .5 .5 -.3 .5 -.6 .5 .4 .5 .3 .5 -1.4 .5 .5 .5 .3 .5 .9 .5 -1.1 .5 .4 .5 -.1 .5 -.2 .5 -.6 .5 2.3 .5 -2.5 .5 -.1 .5 3.3 .5 -2.4 .5 -.2 .5 0 .5 1.6 .5 -.6 .5 -1.4 .5 .4 .5 1.7 .5 -1.8 .5 .8 .5 .7 .5 -.8 .5 -.4 .5 1.7 .5 -2.5 .5 -.5 .5 .8 .5 -.3 .5 -.1 .5 -.9 .5 -.4 .5 .1 .5 -3.7 .5 -.1 .5 -2.8 .5 -1.5 .5 .7 .5 -.7 .5 1.8 .5 -.1 .5 3.1 .5 1.4 .5 .9 .5 1.3 .5 .4 .5 1.1 .5 .2 .5 .1 .5 -.6 .5 -.2 .5 1.4 .5 -.1 .5 -.4 .5 -.2 .5 -.4 .5 -1.1 .5 1.5 .5 .1 .5 0 .5 -.6 .5 .4 .5 .4 .5 -.5 .5 -.4 .5 .5 .5 -.6 .5 -.8 .5 2.5 .5 -2 .5 1.6 .5 -.2 .5 -1.2 .5 1.3 .5 -1.3 .5 0 .5 1.2 .5 .6 .5 -1.6 .5 .4 .5 0 .5 .5 .5 -.5 .5 .6 .5 .3 .5 -.2 .5 -1.1 .5 1 .5 0 .5 .4 .5 -.2 .5 -.1 .5 -.5 .5 -3.4 .5 2.2 .5 1.2 .5 -1.5 .5 .1 .5 1.8 .5 .3 .5 1.2 .5 -3.3 .5 1 .5 -.3 .5 -.8 .5 -.7 .5 1.1 .5 -1.7 .5 .6 .5 .1 .5 -2 .5 -1.4 .5 2.4 .5 -.4 .5 -1.4 .5 .9 .5 1.3 .5 -.3 .5 1 .5 .9 .5 -.1 .5 .8 .5 .3 .5 .4 .5 -1.2 .5 -.9 .5 .8 .5 1.1 .5 -.9 .5 -.4 .5 .7 .5 .6 .5 1 .5 -1.9 .5 .1 .5 1.1 .5 .8 .5 -.7 .5 -.8 .5 .2 .5 .1 .5 .1 .5 .3 .5 .3 .5 -1.4 .5 .5 .5 -1 .5 2.4 .5 -.2 .5 -1.9 .5 1.3 .5 .7 .5 -.1 .5 .6 .5 -1.2 .5 0 .5 .7 .5 -3.2 .5 .6 .5 1.2 .5 -.5 .5 .2 .5 .5 .5 -1.2 .5 .3 .5 2 .5 -.7 .5 -1.7 .5 1.4 .5 -1.3 .5 1.6 .5 .3 .5 -.7 .5 .3 .5 -.9 .5 .5 .5 0 .5 .1 .5 -1.6 .5 2 .5 -2.4 .5 .5 .5 .7 .5 .3 .5 -.8 .5 -.2 .5 1.9 .5 -2.3 .5 1.9 .5 .3 .5 -1 .5 -1 .5 .7 .5 .4 .5 -.6 .5 .4 .5 1.6 .5 -1.9 .5 -1.4 .5 2.8 .5 -.5 .5 .4 .5 -.4 .5 -.3 .5 -.7 .5 -.5 .5 2.7 .5 -1.9 .5 .8 .5 .6 .5 -1.1 .5 .5 .5 -.5 .5 -.2 .5 .5 .5 -.2 .5 1.3 .5 .9 .5 -1.5 .5 2.2 .5 -3.2 .5 -.8 .5 1.7 .5 -.3 .5 .5 .5 .5 .5 -2.5 .5 .7 .5 -.7 .5 1 .5 -.5 .5 -.8 .5 2.5 .5 -.5 .5 0 .5 0 .5 -1.4 .5 1.8 .5 .1 .5 -.6 .5 .1 .5 0 .5 .3 .5 -1 .5 1.3 .5 -1.1 .5 -1.3 .5 .8 .5 2.2 .5 -.5 .5 -2 .5 1.2 .5 -1.6 .5 2.1 .5 -1 .5 -.7 .5 -.1 .5 .7 .5 -1.7 .5 1 .5 1.3 .5 -1.5 .5 .2 .5 -1.1 .5 -1.4 .5 -.9 .5 -1.5 .5 .5 .5 -1.2 .5 -.2 .5 -.7 .5 .6 .5 1.6 .5 1.3 .5 1.3 .5 -1.7 .5 2.7 .5 1 .5 -.1 .5 1 .5 -1 .5 .2 .5 1.2 .5 1 .5 -1.7 .5 -.8 .5 1.4 .5 -1.4 .5 1.7 .5 .3 .5 .4 .5 .1 .5 -1.1 .5 -1 .5 .5 .5 .8 .5 -.3 .5 -.2 .5 -.3 .5 -1.3 .5 .7 .5 1.3 .5 -1.8 .5 1 .5 -.4 .5 -.5 .5 .8 .5 .1 .5 -2.1 .5 1 .5 -.3 .5 .7 .5 .1 .5 1 .5 -1 .5 .2 .5 .4 .5 .6 .5 -.1 .5 1 .5 -2.2 .5 2 .5 -1.8 .5 -2.8 .5 3.5 .5 .1 .5 1 .5 -1.3 .5 .1 .5 -.3 .5 1.1 .5 -1.4 .5 .1 .5 -.9 .5 .7 .5 0 .5 -.4 .5 1.3 .5 1.4 .5 -.6 .5 -.7 .5 -.5 .5 .8 .5 .5 .5 -.8 .5 -.1 .5 -1.3 .5 .9 .5 -.7 .5 2.1 .5 -1.8 .5 .4 .5 .1 .5 -1.1 .5 1 .5 .7 .5 -.2 .5 .9 .5 -.5 .5 1.2 .5 -.3 .5 -1.5 .5 1.2 .5 -1.6 .5 1.6 .5 -1.1 .5 1 .5 -.5 .5 1 .5 -1.6 .5 -4.1 .5 4.5 .5 -.7 .5 -.2 .5 1.1 .5 .6 .5 -.6 .5 .8 .5 -.7 .5 .7 .5 0 .5 1.4 .5 -2.3 .5 1.7 .5 -2.1 .5 -.4 .5 1.5 .5 1 .5 -2 .5 -.2 .5 .9 .5 -.3 .5 -.6 .5 -.5 .5 1.4 .5 -1 .5 .3 .5 .1 .5 0 .5 1.2 .5 -1.8 .5 2.1 .5 -.8 .5 -1 .5 .4 .5 -.8 .5 .2 .5 .7 .5 .1 .5 0 .5 -.3 .5 0 .5 1.1 .5 -.9 .5 .7 .5 .6 .5 -.6 .5 .7 .5 -1 .5 0 .5 .2 .5 .3 .5 1 .5 -2.5 .5 2.6 .5 -1.5 .5 -.4 .5 -.9 .5 .1 .5 2.6 .5 -.7 .5 -1.2 .5 2.1 .5 -2.6 .5 .5 .5 -.1 .5 .7 .5 -.7 .5 0 .5 -.5 .5 2.2 .5 -.9 .5 -.7 .5 1.5 .5 -3 .5 1 .5 -.4 .5 -1.8 .5 2 .5 -1.5 .5 2.1 .5 -.2 .5 -.1 .5 -2.7 .5 2.1 .5 .1 .5 .6 .5 -1.1 .5 -1.8 .5 4.3 .5 -.7 .5 -.5 .5 -.8 .5 .5 .5 -1.1 .5 2 .5 -.7 .5 -1.3 .5 .4 .5 .7 .5 -.2 .5 .5 .5 .1 .5 -.5 .5 -.5 .5 -.1 .5 -2 .5 2 .5 .5 .5 -1.5 .5 2 .5 -.5 .5 .9 .5 -1.6 .5 2.1 .5 -.9 .5 .7 .5 -1 .5 -3.1 .5 2.7 .5 0 .5 -2.1 .5 3.3 .5 -.2 .5 -.3 .5 -.2 .5 -.4 .5 .3 .5 -1.5 .5 1.1 .5 -.9 .5 2.2 .5 -2.2 .5 1 .5 .7 .5 .3 .5 1.2 .5 -.3 .5 -1.6 .5 .9 .5 -.9 .5 .5 .5 -.1 .5 -1.3 .5 1.7 .5 -.4 .5 .7 .5 .3 .5 -3.2 .5 1.8 .5 .9 .5 -1 .5 1.9 .5 -.7 .5 0 .5 -.6 .5 1.3 .5 -.3 .5 -.4 .5 1.3 .5 -1.4 .5 .4 .5 .1 .5 .7 .5 -1.3 .5 -.2 .5 -.1 .5 2.1 .5 -1.5 .5 .2 .5 .8 .5 -1.7 .5 -.2 .5 .4 .5 .5 .5 -1 .5 .6 .5 0 .5 1 .5 .5 .5 -1.9 .5 0 .5 .8 .5 0 .5 .4 .5 -1.4 .5 -.8 .5 1.6 .5 -1 .5 .5 .5 .5 .5 .6 .5 -.9 .5 -1.5 .5 2.6 .5 -1.5 .5 -.3 .5 1.5 .5 .2 .5 .6 .5 .6 .5 -1.6 .5 .9 .5 -.2 .5 .9 .5 -1.2 .5 -.4 .5 .9 .5 -1 .5 1.4 .5 -1.5 .5 .1 .5 1 .5 -.9 .5 .2 .5 -.2 .5 .8 .5 -.8 .5 .4 .5 -3 .5 1.7 .5 1.6 .5 -.3 .5 .5 .5 -3 .5 1.8 .5 1 .5 .2 .5 .3 .5 -.3 .5 -.3 .5 2.2 .5 -3.2 .5 -1.7 .5 2.7 .5 -.8 .5 .4 .5 .3 .5 -1.3 .5 1.2 .5 -1.1 .5 .4 .5 1.2 .5 -.4 .5 -3.8 .5 3 .5 1.1 .5 -.9 .5 -.1 .5 -.1 .5 -.4 .5 1.2 .5 -1.2 .5 .3 .5 .9 .5 .4 .5 0 .5 -.6 .5 -.8 .5 -.4 .5 -.9 .5 1.4 .5 1.8 .5 -.2 .5 -.8 .5 .8 .5 -1.6 .5 0 .5 2 .5 -.8 .5 -1.8 .5 1.7 .5 .5 .5 .2 .5 -1.4 .5 -.2 .5 .6 .5 .3 .5 .9 .5 .5 .5 -.2 .5 .1 .5 -2.5 .5 2.2 .5 -.8 .5 -.1 .5 .8 .5 -.4 .5 -.2 .5 1.6 .5 -1.1 .5 -.7 .5 .5 .5 .4 .5 -.2 .5 -.3 .5 -.8 .5 1.2 .5 -1 .5 1.6 .5 -1.7 .5 -.8 .5 0 .5 .1 .5 2.2 .5 -1.9 .5 .1 .5 .4 .5 -.2 .5 -.9 .5 2.5 .5 -1.7 .5 -.1 .5 1 .5 -.7 .5 1 .5 -.2 .5 -.7 .5 -.4 .5 .1 .5 -.2 .5 1 .5 -.1 .5 .9 .5 -.6 .5 -.3 .5 -.5 .5 1.2 .5 -.7 .5 -1.5 .5 -.1 .5 1 .5 -.1 .5 1.4 .5 -1.3 .5 .2 .5 .9 .5 -.6 .5 -1.5 .5 .8 .5 -1.2 .5 -.7 .5 1.8 .5 -.4 .5 .2 .5 -1.1 .5 1.3 .5 -1.6 .5 .2 .5 .4 .5 1.4 .5 1.3 .5 -1.2 .5 1.4 .5 -1.6 .5 -1.7 .5 1.4 .5 .6 .5 .7 .5 -.7 .5 -.4 .5 -.2 .5 -1.2 .5 3 .5 -2.6 .5 .8 .5 .9 .5 0 .5 -1.9 .5 1.3 .5 -.4 .5 -.7 .5 -1 .5 1.7 .5 -.7 .5 .3 .5 -.2 .5 .4 .5 -.8 .5 .6 .5 -.4 .5 1.1 .5 -.3 .5 0 .5 1.6 .5 -1.9 .5 .2 .5 -1.9 .5 2.6 .5 -2.4 .5 2.3 .5 .5 .5 -2 .5 .4 .5 -.6 .5 2.4 .5 -1.5 .5 -1.7 .5 3.2 .5 .1 .5 -1 .5 -.1 .5 -.3 .5 .4 .5 -1 .5 .5 .5 -1.8 .5 .4 .5 1.6 .5 -.5 .5 1.4 .5 -1.4 .5 .7 .5 .2 .5 .9 .5 -.8 .5 .3 .5 -.4 .5 .8 .5 -2.2 .5 1 .5 -.7 .5 .4 .5 2.1 .5 -.3 .5 -3.7 .5 4.7 .5 -3 .5 -1.1 .5 .6 .5 1.2 .5 -1.8 .5 1.7 .5 -.2 .5 -.7 .5 1.4 .5 -1.7 .5 2.1 .5 -.6 .5 -.7 .5 2.3 .5 -2.4 .5 -.8 .5 2 .5 -1.9 .5 -.2 .5 1.2 .5 -.9 .5 1.5 .5 -.5 .5 .7 .5 -.8 .5 -.1 .5 -.3 .5 .6 .5 -.1 .5 0 .5 -.7 .5 .4 .5 .2 .5 .8 .5 -.2 .5 -.2 .5 -1.6 .5 0 .5 .7 .5 .7 .5 -.3 .5 .7 .5 -1.7 .5 .1 .5 1.4 .5 -1.1 .5 -1.6 .5 2.6 .5 -.7 .5 1.7 .5 -.9 .5 -.3 .5 -.9 .5 .2 .5 -.3 .5 -.4 .5 -.1 .5 .5 .5 -1 .5 .6 .5 -.2 .5 1.6 .5 -.9 .5 .5 .5 1.4 .5 -1.7 .5 .7 .5 0 .5 -.1 .5 -1 .5 1 .5 .3 .5 1.4 .5 -1.8 .5 -.2 .5 -.9 .5 .9 .5 -.3 .5 .6 .5 -.4 .5 0 .5 2 .5 -2.2 .5 -.3 .5 -.8 .5 2 .5 .1 .5 -1.5 .5 3.1 .5 -2.2 .5 1.5 .5 -3 .5 .9 .5 1.4 .5 -2.1 .5 1 .5 -.6 .5 -.1 .5 .5 .5 .2 .5 1.4 .5 .3 .5 -.8 .5 -.9 .5 .2 .5 1.6 .5 -.4 .5 -.3 .5 -.3 .5 .6 .5 .3 .5 -.8 .5 1 .5 -1.4 .5 .6 .5 .4 .5 -1.2 .5 .6 .5 -.2 .5 .6 .5 .1 .5 -1.7 .5 .8 .5 .7 .5 .3 .5 .7 .5 -1.1 .5 .1 .5 .1 .5 .9 .5 .1 .5 -2.5 .5 2.4 .5 .4 .5 0 .5 -1.6 .5 .6 .5 -.4 .5 .5 .5 -.4 .5 .5 .5 -.5 .5 -1.1 .5 1.4 .5 1.1 .5 -.4 .5 -1.8 .5 1.1 .5 -1.2 .5 .9 .5 -.8 .5 .2 .5 1.2 .5 1.3 .5 -3.5 .5 1.8 .5 -2.6 .5 1.2 .5 .8 .5 .4 .5 -.7 .5 1.6 .5 -2.5 .5 1.2 .5 -1.1 .5 1.2 .5 -.5 .5 .5 .5 -2 .5 2.6 .5 -1 .5 -.6 .5 .2 .5 -.3 .5 .8 .5 0 .5 -.6 .5 .5 .5 .4 .5 -.9 .5 2.4 .5 -1.3 .5 -.8 .5 -.2 .5 .5 .5 1 .5 -1.5 .5 .2 .5 .4 .5 -.8 .5 .3 .5 .8 .5 -.4 .5 -.9 .5 .5 .5 .5 .5 .1 .5 .7 .5 -.1 .5 -1.3 .5 .7 .5 .7 .5 -.5 .5 -1.3 .5 .2 .5 .6 .5 -.1 .5 -.6 .5 .5 .5 .6 .5 0 .5 -.6 .5 .8 .5 -.5 .5 -.2 .5 .5 .5 1.6 .5 -1.9 .5 .3 .5 -.9 .5 .2 .5 1.5 .5 -1.5 .5 -.9 .5 .3 .5 1.2 .5 -.4 .5 0 .5 1.1 .5 -.5 .5 -5 .5 3.8 .5 .2 .5 -.2 .5 1.4 .5 -1.6 .5 .1 .5 .5 .5 -.8 .5 0 .5 1 .5 -.8 .5 .5 .5 -1 .5 -.1 .5 .6 .5 -.2 .5 .4 .5 .3 .5 -1.1 .5 .9 .5 -.1 .5 -.3 .5 1.6 .5 -.7 .5 .3 .5 -.6 .5 -1.2 .5 .7 .5 .8 .5 -.9 .5 .5 .5 -.7 .5 .1 .5 3.5 .5 -3.8 .5 .6 .5 -.8 .5 -.2 .5 -.5 .5 -1.4 .5 -.6 .5 -1.8 .5 -.3 .5 -5.6 .5 3 .5 -3.9 .5 2.2 .5 -1.5 .5 .8 .5 -.4 .5 1.8 .5 -1.2 .5 2.2 .5 .5 .5 2.9 .5 .5 .5 1 .5 1.8 .5 -.9 .5 2.7 .5 -.9 .5 2.1 .5 -1.8 .5 -.6 .5 1.7 .5 -1.7 .5 1.1 .5 .3 .5 1.1 .5 -.5 .5 .2 .5 -1.5 .5 .8 .5 -1 .5 -1 .5 1 .5 -2.4 .5 -1.5 .5 -.4 .5 1 .5 -1.3 .5 -.6 .5 1.8 .5 -.8 .5 3 .5 .1 .5 0 .5 -.3 .5 1.3 .5 .4 .5 1.7 .5 -5.2 .5 3.4" fill="none" stroke="#ff0000" stroke-width="3.0" stroke-linejoin="round"/>
<path d="M91.2 2987.0l1 1 1 0 1 -1.3 1 -.1 1 .4 1 -.4 1 1 1 .1 1 -.4 1 -.6 1 -.8 1 1.1 1 .3 1 -.6 1 .3 1 .5 1 -1.2 1 .6 1 .4 1 -.4 1 .3 1 .5 1 -.7 1 .2 1 0 1 1.1 1 -.3 1 .5 1 -.5 1 -.6 1 .7 1 -.9 1 .2 1 -.8 1 1.2 1 -.4 1 .3 1 .6 1 -1.3 1 .3 1 .4 1 1.1 1 -.3 1 -.7 1 -.2 1 .8 1 -1 1 -.9 1 -.2 1 1.4 1 -.4 1 1 1 -.5 1 -.3 1 .7 1 .4 1 -.2 1 -1.1 1 .3 1 .6 1 .4 1 -1.2 1 -.3 1 .5 1 .6 1 -.3 1 .1 1 1.4 1 -1.8 1 0 1 -.1 1 .1 1 .6 1 -.5 1 0 1 -.6 1 .6 1 .3 1 .6 1 -1.8 1 .7 1 -.8 1 .2 1 .4 1 -1.1 1 1 1 -1.8 1 .4 1 .1 1 -.7 1 .9 1 -.1 1 -.5 1 -1 1 .1 1 1.6 1 -.7 1 .1 1 1.5 1 -1 1 .6 1 -.8 1 .5 1 -.1 1 .5 1 -1 1 .6 1 .1 1 1.1 1 -1.1 1 1.2 1 -.9 1 .1 1 -.1 1 -.1 1 .3 1 .2 1 -.1 1 -.7 1 .5 1 -.1 1 .4 1 .3 1 .1 1 -.6 1 -.4 1 -.2 1 .6 1 .6 1 -.5 1 -.6 1 .1 1 -.6 1 .3 1 .3 1 -.5 1 .3 1 .2 1 .3 1 -.6 1 -1 1 1.1 1 .4 1 -.1 1 -.6 1 .7 1 -2.5 1 1.9 1 .1 1 -.8 1 -.5 1 .2 1 1.1 1 -.1 1 .7 1 -.7 1 -.6 1 1.3 1 -1.6 1 1.4 1 -.8 1 .4 1 .7 1 -.1 1 -.4 1 .5 1 -.4 1 -.2 1 0 1 .5 1 -.4 1 .1 1 0 1 -.3 1 -.8 1 1 1 .9 1 .7 1 -.3 1 -.1 1 -.1 1 -.2 1 .6 1 -.3 1 .5 1 .1 1 0 1 -.4 1 -.4 1 .7 1 -.9 1 .5 1 .1 1 .5 1 -1.9 1 .7 1 .2 1 -.1 1 -.3 1 .9 1 -1.6 1 1.5 1 -.1 1 -.4 1 -.4 1 1.6 1 -1.2 1 -.8 1 1.3 1 .4 1 -.8 1 .8 1 -1.3 1 .6 1 -.6 1 -.1 1 .5 1 -.6 1 .9 1 .3 1 .2 1 -.9 1 .4 1 1.6 1 -1.4 1 .4 1 .1 1 -.5 1 -.2 1 .7 1 -.8 1 -.1 1 .6 1 .3 1 -1.1 1 .1 1 .3 1 .5 1 -.5 1 .4 1 -.5 1 .6 1 0 1 -.5 1 .1 1 -.7 1 0 1 -.5 1 .2 1 .7 1 .7 1 -.9 1 .3 1 .3 1 .2 1 .3 1 -1 1 .4 1 0 1 -.2 1 .4 1 0 1 -.6 1 -.3 1 0 1 -.2 1 .5 1 -1.2 1 1.8 1 -1.2 1 0 1 1.5 1 -.9 1 -.4 1 .1 1 -.1 1 -.3 1 -.2 1 -.1 1 .5 1 -1 1 .7 1 .3 1 0 1 -.3 1 .3 1 -.2 1 .3 1 0 1 .6 1 -.3 1 0 1 .6 1 0 1 -1.5 1 .5 1 1.6 1 -.6 1 -.5 1 1 1 .4 1 0 1 -.6 1 .1 1 -.1 1 .4 1 .3 1 -.5 1 .4 1 .2 1 -.8 1 -.4 1 1 1 .2 1 .4 1 -.5 1 .6 1 -1.2 1 1.5 1 -.8 1 0 1 .1 1 -.6 1 1.2 1 -.7 1 .3 1 -1.1 1 -.2 1 .8 1 -.6 1 -.1 1 -.6 1 .6 1 -.5 1 -.1 1 .5 1 -1.8 1 .9 1 1.4 1 -.7 1 -1.4 1 -.5 1 -1.4 1 -2.3 1 -2.1 1 -1.2 1 1.3 1 3.7 1 .8 1 2.1 1 1.4 1 -.9 1 .9 1 0 1 -.5 1 .8 1 -1.2 1 .3 1 .1 1 -.1 1 -1.1 1 1.4 1 -1.8 1 1.4 1 -.8 1 .8 1 -.2 1 2 1 -1.1 1 -.5 1 -.1 1 -.1 1 .8 1 0 1 .2 1 .7 1 -1.6 1 -.3 1 -.4 1 0 1 1.6 1 -1.1 1 .1 1 .6 1 0 1 -1.1 1 .1 1 .7 1 -.6 1 -.2 1 .4 1 -.4 1 -.3 1 .8 1 -.5 1 1 1 -.9 1 .7 1 .7 1 -.4 1 -.4 1 -.1 1 .2 1 -1.6 1 .6 1 -.2 1 .6 1 .1 1 1.2 1 -1.4 1 .8 1 .3 1 .1 1 -.4 1 -.2 1 .6 1 -1.7 1 .2 1 0 1 -.4 1 .8 1 .1 1 -.8 1 -.7 1 1.1 1 -.2 1 .3 1 -.2 1 .1 1 -.7 1 -.4 1 .4 1 .8 1 0 1 -.2 1 -.2 1 -.1 1 -.1 1 .5 1 .4 1 .5 1 -1.8 1 .6 1 -1.5 1 0 1 -1.3 1 -.2 1 -.8 1 .8 1 1.6 1 1.3 1 .3 1 1.4 1 -.6 1 -.3 1 .9 1 -1.2 1 .3 1 -.6 1 .9 1 -.4 1 .3 1 -.3 1 .1 1 .4 1 .7 1 -1 1 -.8 1 .2 1 -.5 1 .3 1 .4 1 -.5 1 .7 1 -.6 1 -.4 1 .8 1 -.4 1 -.4 1 .3 1 .9 1 -1.9 1 .9 1 .4 1 -.8 1 .3 1 .5 1 -.8 1 .5 1 .2 1 1.8 1 .5 1 -1.8 1 .3 1 -.5 1 -.5 1 .3 1 .4 1 -.4 1 1.1 1 -1.1 1 -.2 1 1.6 1 -.9 1 -.3 1 .3 1 -.1 1 -.5 1 .4 1 1.5 1 -.5 1 -.3 1 -1.2 1 1.7 1 -1.2 1 .4 1 1 1 -.5 1 -.6 1 -.4 1 .5 1 .1 1 -.3 1 -.1 1 .2 1 -.7 1 .8 1 .4 1 -1.2 1 -.8 1 -.1 1 -.1 1 -.6 1 -3.4 1 -1.6 1 -3 1 -1.8 1 -.1 1 1.3 1 2.5 1 2.2 1 2.3 1 1.4 1 1.4 1 .5 1 .4 1 -.1 1 -.4 1 .5 1 .3 1 -.4 1 -.1 1 -.1 1 -.8 1 1.1 1 -.2 1 -.5 1 -.5 1 .7 1 -.9 1 -.3 1 .6 1 -.3 1 -1.4 1 -.9 1 -.5 1 .2 1 .9 1 .3 1 1.4 1 0 1 2.9 1 -1.1 1 0 1 -1.2 1 .5 1 0 1 -.4 1 .2 1 -.3 1 .8 1 .3 1 .3 1 -1.1 1 .2 1 .4 1 .1 1 -.2 1 -.3 1 -.7 1 .9 1 -.6 1 .9 1 -.1 1 -.5 1 1.2 1 0 1 .3 1 -1.2 1 1.3 1 -.6 1 .3 1 -1 1 1 1 -1.1 1 0 1 -.1 1 .3 1 -.7 1 .2 1 -.7 1 .9 1 .2 1 .6 1 0 1 -.6 1 .4 1 -.3 1 -.4 1 -.5 1 -.2 1 .3 1 .9 1 -.2 1 -.6 1 -.2 1 .2 1 -.3 1 -.3 1 .6 1 .8 1 -1.2 1 .6 1 .4 1 -1.3 1 1.3 1 .1 1 -1 1 .5 1 -.6 1 .3 1 -2.1 1 1.9 1 -.5 1 -.5 1 -1.9 1 -2.3 1 -1.3 1 -5.6 1 -7.7 1 -9.9 1 -10.4 1 -8.4 1 -1.7 1 5.9 1 9.6 1 11.5 1 8.4 1 5.7 1 4.3 1 2.2 1 .9 1 .2 1 .7 1 .2 1 .1 1 0 1 1.3 1 .3 1 .6 1 -.1 1 -.5 1 .2 1 0 1 -.9 1 1.4 1 -1.5 1 .3 1 .1 1 .5 1 .4 1 .1 1 -.9 1 -.1 1 .3 1 -.9 1 .2 1 -.4 1 -.6 1 .5 1 -.1 1 -1 1 1.6 1 -2.2 1 -1.2 1 -3.1 1 -5.5 1 -8.6 1 -12.6 1 -12.6 1 -7.7 1 2 1 11.1 1 12.1 1 11.4 1 7.4 1 3.9 1 1.5 1 1.3 1 .9 1 .3 1 .1 1 .3 1 .6 1 .6 1 .3 1 -.3 1 -.8 1 1.2 1 -.3 1 .8 1 .4 1 -.3 1 -1.4 1 -.4 1 1.5 1 -.5 1 .5 1 -.8 1 -.3 1 .1 1 .6 1 .2 1 -.8 1 0 1 -.1 1 .7 1 -.1 1 .6 1 -.2 1 -1.1 1 .4 1 -.3 1 .2 1 .5 1 -1.5 1 1.6 1 -.4 1 .7 1 -1.3 1 -.6 1 1.1 1 -2.1 1 .7 1 -.4 1 -1.2 1 -1.6 1 -.5 1 -1.5 1 .9 1 1.6 1 1.7 1 -.4 1 -.3 1 -.1 1 -3.7 1 -5 1 -7.3 1 -10.9 1 -7.3 1 3.3 1 8.5 1 8.8 1 8.9 1 3.3 1 2.7 1 -.5 1 -.9 1 1.8 1 -.6 1 -.4 1 -.3 1 -.2 1 -.8 1 -2.1 1 -2.1 1 -4.4 1 -11.3 1 -17.9 1 -28.9 1 -33 1 -27.6 1 -8.7 1 17.4 1 30.2 1 31.8 1 21.8 1 15.1 1 8.9 1 5.2 1 2.5 1 2.5 1 .8 1 .2 1 1.8 1 -.9 1 .1 1 -.2 1 .5 1 -.8 1 -.5 1 .9 1 -2.6 1 -2.9 1 -4.9 1 -14.7 1 -25.2 1 -29 1 -9.2 1 21.6 1 29.9 1 20.3 1 9.9 1 4.8 1 1.8 1 .6 1 .6 1 .2 1 .2 1 -.5 1 -.1 1 -2.7 1 -1.5 1 -2.9 1 .2 1 .1 1 3.7 1 2.7 1 2.4 1 .4 1 1.3 1 -.6 1 -.2 1 -.2 1 -.5 1 -.1 1 0 1 .1 1 -.3 1 .3 1 -1.1 1 1 1 -.9 1 -.6 1 .2 1 .3 1 -1.3 1 1.3 1 1.2 1 -1.6 1 .7 1 0 1 .3 1 .5 1 .2 1 -.2 1 .5 1 .8 1 .1 1 -.1 1 -2.1 1 1.9 1 -1.3 1 1 1 -1.2 1 .5 1 -.1 1 .4 1 -1 1 -.4 1 -1.2 1 -.9 1 -.5 1 -.3 1 .6 1 .6 1 1.3 1 -.4 1 2.1 1 -.7 1 .6 1 -.7 1 1 1 -.9 1 .8 1 -.5 1 .6 1 -.5 1 .2 1 .5 1 -.2 1 -.3 1 -.4 1 .3 1 -.5 1 .6 1 .2 1 -1 1 -.7 1 1.1 1 .7 1 .1 1 -.4 1 .1 1 -.9 1 .6 1 .3 1 -.8 1 .3 1 .1 1 .4 1 -.1 1 -.1 1 -.6 1 .7 1 .2 1 -.5 1 .4 1 -.6 1 .1 1 -.1 1 .2 1 .1 1 -.8 1 1.5 1 -.3 1 -1.4 1 1.3 1 -.2 1 -.3 1 0 1 -.2 1 .2 1 -.1 1 .7 1 -.2 1 .8 1 .3 1 -.8 1 .3 1 -.8 1 .3 1 .6 1 -.4 1 1.2 1 -.2 1 0 1 -.6 1 -1.7 1 1.6 1 -1 1 1.4 1 .5 1 -1.1 1 .2 1 -.9 1 .4 1 1 1 -1.3 1 -.2 1 1.7 1 -1.5 1 1 1 -.2 1 -.6 1 -.3 1 -.6 1 .3 1 .4 1 -.3 1 -.9 1 .3 1 -.8 1 -2.1 1 -.3 1 -3.2 1 -2.4 1 -5.9 1 -3.3 1 -1.8 1 -.4 1 2.7 1 3.6 1 5.8 1 3.1 1 1.3 1 1.3 1 .9 1 1.6 1 0 1 .6 1 -.7 1 -.7 1 .3 1 2.1 1 -1.4 1 -.5 1 .5 1 -.2 1 .2 1 -.4 1 .6 1 -.4 1 .2 1 .5 1 .9 1 -.9 1 .5 1 .1 1 -.7 1 .3 1 .6 1 -1.3 1 .4 1 -.2 1 .6 1 -.2 1 1 1 -.5 1 .8 1 -.6 1 -.6 1 0 1 .9 1 .1 1 .5 1 0 1 .4 1 -.3 1 -.6 1 .1 1 0 1 -.2 1 -.4 1 .4 1 -.5 1 -.5 1 1.2 1 -1.4 1 .9 1 -1.3 1 .1 1 .2 1 .7 1 -1 1 1.4 1 -.4 1 -.2 1 .9 1 -.5 1 -.3 1 0 1 1.1 1 -.8 1 .4 1 -1 1 1.1 1 -.8 1 -.4 1 .2 1 -.3 1 .3 1 0 1 -.5 1 1 1 .4 1 -.6 1 .8 1 -1 1 .6 1 0 1 -.1 1 .2 1 -.3 1 -1.1 1 .7 1 -.5 1 -.4 1 1.5 1 -.9 1 .8 1 -.6 1 -.1 1 1 1 -1.1 1 1 1 -.2 1 -1 1 -.1 1 -.1 1 .6 1 -.3 1 .7 1 -.3 1 -.5 1 .5 1 -.6 1 -1.6 1 -1 1 -4.5 1 -6.1 1 -7 1 -2.4 1 5.2 1 7.8 1 4.8 1 2.8 1 1 1 .2 1 .6 1 0 1 -1.2 1 .3 1 .2 1 -.1 1 .4 1 -.3 1 .1 1 -.4 1 -.2 1 0 1 -.5 1 1.1 1 -1.6 1 .7 1 .9 1 .2 1 -1.1 1 .6 1 .5 1 .3 1 .2 1 -.7 1 .5 1 -.1 1 -1.1 1 -.8 1 -1.3 1 -.5 1 -.6 1 .5 1 1.3 1 2 1 .2 1 .9 1 .5 1 -.1 1 .3 1 .6 1 -2.1 1 1.4 1 -.4 1 .1 1 .3 1 -1.2 1 .9 1 -.6 1 -.8 1 .7 1 .7 1 .3 1 -1.2 1 .4 1 .7 1 -.1 1 -.4 1 -.2 1 .3 1 .6 1 0 1 -.4 1 .1 1 0 1 -.1 1 0 1 -.1 1 -.1 1 .6 1 -.8 1 1.1 1 -1.2 1 .3 1 .1 1 -.4 1 .4 1 .2 1 -.1 1 0 1 -.5 1 1.3 1 .1 1 -.8 1 0 1 .1 1 .6 1 -.3 1 -.1 1 -1.3 1 1.2 1 -.2 1 -.9 1 .7 1 .1 1 .1 1 -.4 1 .6 1 -1.9 1 1.4 1 .5 1 .3 1 -.6 1 -.1 1 -.5 1 1.2 1 -.7 1 1.3 1 -1.5 1 .9 1 -1.5 1 1.1 1 -.5 1 1.3 1 -1 1 -.7 1 .8 1 .4 1 -1.2 1 0 1 -.4 1 .7 1 .3 1 -.2 1 .6 1 .1 1 -1.1 1 .9 1 -.4 1 -.8 1 -.9 1 .2 1 -.4 1 -.9 1 -.7 1 -3.3 1 -2 1 -1.9 1 -3.1 1 -1 1 -.2 1 1.4 1 1.4 1 1.9 1 2 1 3.3 1 1.3 1 .1 1 1.2 1 1 1 -.6 1 1.2 1 -.1 1 .9 1 -.4 1 .3 1 .1 1 -.5 1 .1 1 -.7 1 .3 1 0 1 -.2 1 .3 1 -.3 1 .4 1 .3 1 .5 1 -1.4 1 1.2 1 -.2 1 -1.2 1 .1 1 .6 1 .8 1 .3 1 -.2 1 -1.1 1 .7 1 -.5 1 -.1 1 -.6 1 1.1 1 -.5 1 .5 1 -.3 1 .2 1 0 1 0 1 .2 1 0 1 -.3 1 .7 1 -.5 1 -.3 1 -.4 1 .1 1 1.1 1 -1 1 -1.5 1 1.9 1 -.1 1 -.1 1 .2 1 .4 1 -1 1 1.1 1 -.1 1 -1.1 1 .9 1 0 1 .2 1 -.8 1 .1 1 -.2 1 -.7 1 -.1 1 .1 1 0 1 -.5 1 -.4 1 -2.2 1 -2.8 1 -3.4 1 -7.5 1 -11.2 1 -13.4 1 -14.9 1 -12.2 1 -3 1 8.6 1 13.2 1 15.5 1 12.7 1 9.5 1 4.8 1 3.1 1 1.8 1 2 1 .7 1 -.5 1 .2 1 1.8 1 -.8 1 .2 1 -.7 1 .4 1 -.6 1 1.2 1 .8 1 -.7 1 1.1 1 -.6 1 -.2 1 1.4 1 -1.7 1 .6 1 1.7 1 -1.4 1 -.2 1 .8 1 -1.2 1 .6 1 .6 1 -.7 1 -.3 1 .2 1 -.7 1 1 1 -1.2 1 .8 1 .2 1 -.7 1 .6 1 -.2 1 -.9 1 .5 1 -1 1 0 1 .3 1 -.9 1 -.1 1 .3 1 1.5 1 0 1 -1.2 1 -.1 1 .7 1 .2 1 .3 1 .2 1 -.5 1 -.1 1 1.3 1 -.5 1 -.3 1 -.1 1 .2 1 .5 1 -.4 1 -.1 1 .2 1 -.7 1 .7 1 -.6 1 .2 1 .1 1 -1.2 1 1.1 1 -.6 1 .6 1 1.6 1 .7 1 -.3 1 -1.1 1 .3 1 -.1 1 -.1 1 -.1 1 -.6 1 1.5 1 -1.8 1 .4 1 .5 1 .6 1 -1.2 1 -.2 1 .7 1 .6 1 -1.2 1 -.7 1 1.2 1 -1 1 .9 1 -1 1 .7 1 .1 1 -1 1 .8 1 -.8 1 .8 1 -.4 1 .8 1 .6 1 .2 1 -1.1 1 0 1 .1 1 -.4 1 -.1 1 .7 1 -.4 1 -.3 1 0 1 -2.2 1 1.7 1 -.1 1 .5 1 -1.5 1 .6 1 .4 1 0 1 -.2 1 -.8 1 1 1 -.8 1 -1.2 1 -1.3 1 -1.6 1 -2.9 1 -5.8 1 -6.9 1 -9.2 1 -7.7 1 -6.8 1 -.3 1 2.9 1 8.2 1 7.6 1 8.4 1 5.8 1 5 1 3 1 .9 1 1.1 1 .5 1 .5 1 -.6 1 -.7 1 -3.1 1 -4.3 1 -7.9 1 -9.3 1 -4.7 1 8.5 1 9.2 1 7.5 1 4.5 1 2 1 1 1 -.8 1 -.3 1 .2 1 .4 1 1.3 1 -1 1 1 1 -1.1 1 .7 1 .8 1 .5 1 -1.4 1 -.4 1 .4 1 .4 1 -.3 1 0 1 -.8 1 .8 1 .7 1 -.4 1 .3 1 -.9 1 1.3 1 0 1 -.1 1 0 1 -.3 1 .3 1 -.8 1 .5 1 -.4 1 -.6 1 .9 1 .9 1 -1 1 -.8 1 .6 1 -.1 1 -.1 1 -.4 1 .3 1 0 1 -.2 1 -.7 1 .1 1 -.3 1 .6 1 .3 1 -1.3 1 .8 1 -.3 1 -.2 1 -.5 1 1.6 1 -1.2 1 0 1 .9 1 -.3 1 0 1 -1.2 1 -1.9 1 .2 1 0 1 .5 1 1.3 1 .9 1 -.3 1 2 1 -1.1 1 .4 1 -.4 1 .9 1 -.9 1 -.4 1 .4 1 -.7 1 -.2 1 .8 1 -.7 1 0 1 .2 1 .4 1 0 1 -.2 1 -.5 1 -.2 1 -.1 1 1.9 1 -1.8 1 .2 1 -.2 1 1.2 1 -1.1 1 1 1 -.4 1 -.7 1 .7 1 .6 1 .1 1 -.6 1 .6 1 .2 1 -1.3 1 .9 1 .3 1 -1 1 0 1 .5 1 -.3 1 .2 1 .3 1 -1.1 1 .1 1 .3 1 1.2 1 -1.6 1 .7 1 .4 1 -.3 1 -1.9 1 .1 1 -4.3 1 -7.1 1 -7.5 1 -1.9 1 5 1 7.8 1 4.8 1 3.2 1 1.4 1 .6 1 .2 1 .6 1 0 1 -.8 1 -.5 1 .6 1 -1.6 1 .3 1 .3 1 0 1 .5 1 0 1 -1.1 1 .1 1 .2 1 1.3 1 -1 1 -1.5 1 0 1 -.7 1 -.8 1 -4.7 1 -3 1 -1.1 1 3.1 1 3.8 1 2.6 1 1.1 1 -.4 1 1.1 1 .2 1 -.2 1 .1 1 .2 1 -.2 1 -.2 1 1.3 1 -.8 1 .3 1 -.1 1 -.3 1 -.1 1 .6 1 -.5 1 -.2 1 -.4 1 1 1 -.5 1 -.2 1 .1 1 .2 1 -.2 1 .9 1 -1.2 1 -.1 1 -.7 1 .8 1 -1.5 1 1.2 1 -2 1 -.7 1 .8 1 .8 1 .7 1 1.3 1 .4 1 .8 1 -1.1 1 1 1 0 1 0 1 -1.1 1 1.4 1 -.7 1 .1 1 -.1 1 -.7 1 .8 1 .2 1 -1.1 1 -.1 1 1.2 1 -1 1 .4 1 1 1 -.8 1 .6 1 -.2 1 -.5 1 .7 1 -.1 1 -.2 1 -.1 1 0 1 -.2 1 0 1 -.2 1 .1 1 -.6 1 .5 1 .1 1 -.5 1 1.4 1 -.9 1 1.2 1 -2 1 .4 1 .3 1 .7 1 -1 1 .3 1 -.6 1 .8 1 -.3 1 .1 1 1.1 1 -.9 1 .4 1 .8 1 -.2 1 .1 1 0 1 -.3 1 1.3 1 -.6 1 -.6 1 .4 1 .7 1 .8 1 -.5 1 -.6 1 .7 1 -1.8 1 1.2 1 -2.3 1 -.4 1 -2 1 -1.1 1 -2.3 1 1 1 .2 1 1.4 1 1.8 1 .7 1 1.6 1 .7 1 -.9 1 1.3 1 .8 1 .3 1 -.5 1 .5 1 -.7 1 .1 1 -.5 1 1.1 1 -.6 1 .5 1 -.1 1 .4 1 -.2 1 .3 1 -2.3 1 1.5 1 0 1 -.5 1 .3 1 .1 1 -.1 1 -.5 1 .5 1 -.2 1 -.7 1 .2 1 1.6 1 -1 1 0 1 .6 1 -.3 1 1.1 1 -.1 1 -.3 1 -1.4 1 1.4 1 -.9 1 .9 1 .3 1 -1 1 .2 1 .4 1 -1.2 1 -.5 1 1.7 1 -1.4 1 .5 1 .2 1 -.7 1 .9 1 0 1 -.5 1 -1.5 1 1.2 1 -1 1 1.4 1 -1.2 1 .5 1 .4 1 .4 1 0 1 -.8 1 .5 1 -.2 1 -.8 1 1.2 1 -1.9 1 .7 1 .5 1 -.3 1 -.1 1 .4 1 -.9 1 -.2 1 .3 1 .6 1 -1 1 1.6 1 -.7 1 1 1 -1 1 0 1 1 1 -.4 1 .4 1 .2 1 -.7 1 0 1 .1 1 .1 1 -.6 1 -.3 1 -.1 1 .4 1 -.4 1 .4 1 -.3 1 .1 1 .3 1 .2 1 -1 1 .5 1 -.4 1 .7 1 -.1 1 -.4 1 -.3 1 .1 1 .5 1 .7 1 .8 1 -1.6 1 -.8 1 .3 1 .4 1 -.9 1 .5 1 .2 1 -.4 1 .5 1 -.8 1 -.4 1 1 1 -.4 1 1.2 1 -.1 1 -1.2 1 .5 1 0 1 -.2 1 .6 1 0 1 -1.4 1 1.3 1 .4 1 -1.4 1 .1 1 -1.2 1 1.3 1 -.3 1 -.6 1 .2 1 -.2 1 .9 1 -.1 1 .2 1 .4 1 .9 1 -.5 1 .6 1 -.3 1 .3 1 .6 1 -.2 1 -.1 1 -.5 1 1.1 1 -1 1 -.2 1 1 1 0 1 -.4 1 .2 1 .9 1 -.2 1 -.5 1 -.2 1 -.8 1 1 1 .4 1 -.9 1 .5 1 -.1 1 .1 1 .7 1 -1 1 -.3 1 .6 1 .3 1 -.4 1 0 1 1.2 1 -1.4 1 -.3 1 0 1 .8 1 .2 1 -.5 1 .1 1 .2 1 -1.8 1 1.9 1 -1.6 1 .5 1 .1 1 -.6 1 .4 1 .2 1 -1 1 1.6 1 -1.4 1 .3 1 -.9 1 .7 1 -.1 1 .1 1 -1 1 .6 1 -.3 1 -.5 1 .4 1 -.9 1 .9 1 0 1 .4 1 -.5 1 .4 1 -1.2 1 -.6 1 2.6 1 -1 1 -.8 1 .8 1 -1.5 1 1.9 1 -1.3 1 -.1 1 .3 1 .2 1 -.5 1 .5 1 -1.4 1 1.2 1 .1 1 -.8 1 .4 1 -.1 1 .2 1 .5 1 -.2 1 -1 1 .5 1 .6 1 -.2 1 .2 1 1.1 1 .3 1 -1.1 1 1 1 -.7 1 -.1 1 -.3 1 0 1 -.7 1 .8 1 -1 1 1.2 1 -1.1 1 2.3 1 -1.4 1 -.7 1 1.1 1 -.3 1 -.9 1 1 1 -1.6 1 .6 1 1.1 1 .2 1 -.4 1 .7 1 .4 1 .8 1 -.6 1 0 1 -.3 1 -.4 1 .7 1 -.6 1 -.3 1 .7 1 0 1 -.1 1 -.4 1 .2 1 -.1 1 -.9 1 1.7 1 -1.2 1 -.2 1 .1 1 -.5 1 .7 1 -.1 1 -.4 1 .2 1 .4 1 -.5 1 -.2 1 .3 1 -.3 1 .4 1 -1 1 -.3 1 .4 1 .5 1 -1.4 1 1.2 1 1.4 1 -.9 1 -.3 1 -.1 1 -.2 1 .6 1 -1.1 1 -.1 1 2 1 -2 1 1.7 1 .2 1 -1.2 1 -.2 1 .2 1 .5 1 -.8 1 .4 1 .5 1 -.6 1 .6 1 -.8 1 -.1 1 .5 1 0 1 .1 1 -.2 1 -.6 1 .9 1 .3 1 -.5 1 .4 1 -.7 1 .9 1 -1.2 1 .5 1 .1 1 -.2 1 .9 1 -.1 1 -.3 1 -.5 1 .7 1 -.3 1 0 1 -.5 1 1.9 1 -.6 1 .6 1 -.5 1 -.5 1 -.2 1 .2 1 .6 1 -.9 1 1.3 1 .4 1 -.5 1 -.3 1 .7 1 -.5 1 -1 1 .3 1 .8 1 -1.5 1 .3 1 -.2 1 -.4 1 .7 1 -.4 1 -.2 1 -.6 1 .5 1 .2 1 -.2 1 .7 1 .2 1 -2.2 1 -.1 1 .1 1 -.6 1 -1.1 1 -2.4 1 -2.9 1 -1.1 1 -1.7 1 -1.1 1 .3 1 3.1 1 2.4 1 2.1 1 2.3 1 .6 1 .4 1 .8 1 -2 1 .8 1 -1.9 1 -1.3 1 -2.7 1 -3.1 1 .5 1 .8 1 3.8 1 1.9 1 1 1 .6 1 .8 1 -.6" fill="none" stroke="#000000" stroke-width="2.4" stroke-linejoin="round"/>
<g fill="#000" font-family="'DejaVu Sans', sans-serif">
<text transform="translate(626.0 2196.0) scale(1.001 1)" x="-13.7" y="8.1" font-size="31.4">●</text>
<text transform="translate(651.0 2185.0) scale(1.071 1)" x="-23.4" y="19.0" font-size="52.2">♦</text>
<text transform="translate(738.5 2137.5) scale(1.148 1)" x="-22.8" y="18.5" font-size="50.8">♣</text>
<text transform="translate(783.5 2149.0) scale(0.949 1)" x="-22.0" y="17.9" font-size="49.1">♥</text>
<text transform="translate(855.5 2167.5) scale(1.168 1)" x="-22.3" y="18.1" font-size="49.8">♠</text>
<text transform="translate(867.5 2029.0) scale(1.148 1)" x="-22.8" y="18.5" font-size="50.8">♣</text>
<text transform="translate(900.5 2106.0) scale(0.949 1)" x="-22.0" y="17.9" font-size="49.1">♥</text>
<text transform="translate(1077.5 2150.0) scale(1.148 1)" x="-22.8" y="18.5" font-size="50.8">♣</text>
<text transform="translate(1081.5 2181.0) scale(1.001 1)" x="-13.7" y="8.1" font-size="31.4">●</text>
<text transform="translate(1200.5 2180.0) scale(1.168 1)" x="-22.3" y="18.1" font-size="49.8">♠</text>
<text transform="translate(1359.0 2137.5) scale(1.071 1)" x="-23.4" y="19.0" font-size="52.2">♦</text>
<text transform="translate(1353.5 2179.0) scale(1.148 1)" x="-22.8" y="18.5" font-size="50.8">♣</text>
<text transform="translate(1443.0 2086.0) scale(1.001 1)" x="-13.7" y="8.1" font-size="31.4">●</text>
<text transform="translate(1445.5 2129.0) scale(1.148 1)" x="-22.8" y="18.5" font-size="50.8">♣</text>
<text transform="translate(1576.0 2132.5) scale(1.148 1)" x="-22.8" y="18.5" font-size="50.8">♣</text>
<text transform="translate(1613.5 2176.0) scale(1.168 1)" x="-22.3" y="18.1" font-size="49.8">♠</text>
<text transform="translate(1720.5 2184.0) scale(0.949 1)" x="-22.0" y="17.9" font-size="49.1">♥</text>
<text transform="translate(639.0 2394.0) scale(1.001 1)" x="-13.7" y="8.1" font-size="31.4">●</text>
<text transform="translate(665.0 2382.5) scale(1.071 1)" x="-23.4" y="19.0" font-size="52.2">♦</text>
<text transform="translate(740.0 2341.0) scale(1.148 1)" x="-22.8" y="18.5" font-size="50.8">♣</text>
<text transform="translate(796.0 2361.0) scale(0.949 1)" x="-22.0" y="17.9" font-size="49.1">♥</text>
<text transform="translate(849.0 2359.0) scale(1.168 1)" x="-22.3" y="18.1" font-size="49.8">♠</text>
<text transform="translate(906.0 2329.0) scale(0.949 1)" x="-22.0" y="17.9" font-size="49.1">♥</text>
<text transform="translate(1075.0 2343.5) scale(1.148 1)" x="-22.8" y="18.5" font-size="50.8">♣</text>
<text transform="translate(1078.5 2378.5) scale(1.001 1)" x="-13.7" y="8.1" font-size="31.4">●</text>
<text transform="translate(1197.5 2380.0) scale(1.168 1)" x="-22.3" y="18.1" font-size="49.8">♠</text>
<text transform="translate(1357.5 2335.0) scale(1.071 1)" x="-23.4" y="19.0" font-size="52.2">♦</text>
<text transform="translate(1351.5 2378.5) scale(1.148 1)" x="-22.8" y="18.5" font-size="50.8">♣</text>
<text transform="translate(1441.0 2284.0) scale(1.001 1)" x="-13.7" y="8.1" font-size="31.4">●</text>
<text transform="translate(1449.0 2328.5) scale(1.148 1)" x="-22.8" y="18.5" font-size="50.8">♣</text>
<text transform="translate(1576.0 2336.5) scale(1.148 1)" x="-22.8" y="18.5" font-size="50.8">♣</text>
<text transform="translate(1609.0 2367.5) scale(1.168 1)" x="-22.3" y="18.1" font-size="49.8">♠</text>
<text transform="translate(1718.5 2382.5) scale(0.949 1)" x="-22.0" y="17.9" font-size="49.1">♥</text>
<text transform="translate(631.5 2582.5) scale(1.001 1)" x="-13.7" y="8.1" font-size="31.4">●</text>
<text transform="translate(657.5 2574.0) scale(1.071 1)" x="-23.4" y="19.0" font-size="52.2">♦</text>
<text transform="translate(744.0 2542.5) scale(1.148 1)" x="-22.8" y="18.5" font-size="50.8">♣</text>
<text transform="translate(791.0 2545.0) scale(0.949 1)" x="-22.0" y="17.9" font-size="49.1">♥</text>
<text transform="translate(849.0 2564.0) scale(1.168 1)" x="-22.3" y="18.1" font-size="49.8">♠</text>
<text transform="translate(906.0 2509.0) scale(0.949 1)" x="-22.0" y="17.9" font-size="49.1">♥</text>
<text transform="translate(1083.0 2550.0) scale(1.148 1)" x="-22.8" y="18.5" font-size="50.8">♣</text>
<text transform="translate(1086.5 2585.0) scale(1.001 1)" x="-13.7" y="8.1" font-size="31.4">●</text>
<text transform="translate(1205.0 2585.0) scale(1.168 1)" x="-22.3" y="18.1" font-size="49.8">♠</text>
<text transform="translate(1365.0 2541.0) scale(1.071 1)" x="-23.4" y="19.0" font-size="52.2">♦</text>
<text transform="translate(1358.5 2585.0) scale(1.148 1)" x="-22.8" y="18.5" font-size="50.8">♣</text>
<text transform="translate(1449.0 2491.0) scale(1.001 1)" x="-13.7" y="8.1" font-size="31.4">●</text>
<text transform="translate(1445.5 2528.5) scale(1.148 1)" x="-22.8" y="18.5" font-size="50.8">♣</text>
<text transform="translate(1581.5 2531.5) scale(1.148 1)" x="-22.8" y="18.5" font-size="50.8">♣</text>
<text transform="translate(1617.5 2556.0) scale(1.168 1)" x="-22.3" y="18.1" font-size="49.8">♠</text>
<text transform="translate(1725.5 2590.0) scale(0.949 1)" x="-22.0" y="17.9" font-size="49.1">♥</text>
<text transform="translate(636.0 2790.0) scale(1.001 1)" x="-13.7" y="8.1" font-size="31.4">●</text>
<text transform="translate(662.5 2780.0) scale(1.071 1)" x="-23.4" y="19.0" font-size="52.2">♦</text>
<text transform="translate(741.0 2731.0) scale(1.148 1)" x="-22.8" y="18.5" font-size="50.8">♣</text>
<text transform="translate(793.5 2746.0) scale(0.949 1)" x="-22.0" y="17.9" font-size="49.1">♥</text>
<text transform="translate(855.0 2756.0) scale(1.168 1)" x="-22.3" y="18.1" font-size="49.8">♠</text>
<text transform="translate(908.5 2706.0) scale(0.949 1)" x="-22.0" y="17.9" font-size="49.1">♥</text>
<text transform="translate(1088.0 2739.0) scale(1.148 1)" x="-22.8" y="18.5" font-size="50.8">♣</text>
<text transform="translate(1092.5 2775.0) scale(1.001 1)" x="-13.7" y="8.1" font-size="31.4">●</text>
<text transform="translate(1195.0 2779.0) scale(1.168 1)" x="-22.3" y="18.1" font-size="49.8">♠</text>
<text transform="translate(1336.0 2742.5) scale(1.071 1)" x="-23.4" y="19.0" font-size="52.2">♦</text>
<text transform="translate(1345.5 2779.0) scale(1.148 1)" x="-22.8" y="18.5" font-size="50.8">♣</text>
<text transform="translate(1453.5 2681.0) scale(1.001 1)" x="-13.7" y="8.1" font-size="31.4">●</text>
<text transform="translate(1450.0 2729.0) scale(1.148 1)" x="-22.8" y="18.5" font-size="50.8">♣</text>
<text transform="translate(1576.0 2745.0) scale(1.148 1)" x="-22.8" y="18.5" font-size="50.8">♣</text>
<text transform="translate(1610.0 2767.5) scale(1.168 1)" x="-22.3" y="18.1" font-size="49.8">♠</text>
<text transform="translate(1731.0 2777.5) scale(0.949 1)" x="-22.0" y="17.9" font-size="49.1">♥</text>
<text transform="translate(632.1 2950.4) scale(1.001 1)" x="-13.7" y="8.1" font-size="31.4">●</text>
<text transform="translate(656.9 2939.8) scale(1.071 1)" x="-23.4" y="19.0" font-size="52.2">♦</text>
<text transform="translate(735.4 2905.2) scale(1.148 1)" x="-22.8" y="18.5" font-size="50.8">♣</text>
<text transform="translate(788.8 2917.1) scale(0.949 1)" x="-22.0" y="17.9" font-size="49.1">♥</text>
<text transform="translate(855.6 2919.4) scale(1.168 1)" x="-22.3" y="18.1" font-size="49.8">♠</text>
<text transform="translate(908.5 2876.5) scale(0.949 1)" x="-22.0" y="17.9" font-size="49.1">♥</text>
<text transform="translate(1076.5 2909.0) scale(1.148 1)" x="-22.8" y="18.5" font-size="50.8">♣</text>
<text transform="translate(1086.5 2950.0) scale(1.001 1)" x="-13.7" y="8.1" font-size="31.4">●</text>
<text transform="translate(1190.0 2952.5) scale(1.168 1)" x="-22.3" y="18.1" font-size="49.8">♠</text>
<text transform="translate(1330.0 2917.5) scale(1.071 1)" x="-23.4" y="19.0" font-size="52.2">♦</text>
<text transform="translate(1340.0 2951.0) scale(1.148 1)" x="-22.8" y="18.5" font-size="50.8">♣</text>
<text transform="translate(1449.0 2854.0) scale(1.001 1)" x="-13.7" y="8.1" font-size="31.4">●</text>
<text transform="translate(1445.5 2892.5) scale(1.148 1)" x="-22.8" y="18.5" font-size="50.8">♣</text>
<text transform="translate(1576.0 2907.5) scale(1.148 1)" x="-22.8" y="18.5" font-size="50.8">♣</text>
<text transform="translate(1608.5 2925.0) scale(1.168 1)" x="-22.3" y="18.1" font-size="49.8">♠</text>
<text transform="translate(1725.5 2952.5) scale(0.949 1)" x="-22.0" y="17.9" font-size="49.1">♥</text>
</g>
<rect x="19.5" y="3358.5" width="2374.0" height="1289.0" fill="none" stroke="#000" stroke-width="11.0"/>
<rect x="79.1" y="4635.0" width="11.0" height="8.0"/>
<rect x="211.0" y="4622.5" width="11.0" height="20.5"/>
<rect x="342.9" y="4635.0" width="11.0" height="8.0"/>
<rect x="474.9" y="4622.5" width="11.0" height="20.5"/>
<rect x="606.8" y="4635.0" width="11.0" height="8.0"/>
<rect x="738.8" y="4622.5" width="11.0" height="20.5"/>
<rect x="870.7" y="4635.0" width="11.0" height="8.0"/>
<rect x="1002.6" y="4622.5" width="11.0" height="20.5"/>
<rect x="1134.6" y="4635.0" width="11.0" height="8.0"/>
<rect x="1266.5" y="4622.5" width="11.0" height="20.5"/>
<rect x="1398.4" y="4635.0" width="11.0" height="8.0"/>
<rect x="1530.4" y="4622.5" width="11.0" height="20.5"/>
<rect x="1662.3" y="4635.0" width="11.0" height="8.0"/>
<rect x="1794.2" y="4622.5" width="11.0" height="20.5"/>
<rect x="1926.2" y="4635.0" width="11.0" height="8.0"/>
<rect x="2058.1" y="4622.5" width="11.0" height="20.5"/>
<rect x="2190.1" y="4635.0" width="11.0" height="8.0"/>
<rect x="2322.0" y="4622.5" width="11.0" height="20.5"/>
<g font-family="'Liberation Serif', serif" font-size="72.0" text-anchor="middle">
<text transform="translate(216.5 4730.5) scale(1 1.060)">10</text>
<text transform="translate(480.4 4730.5) scale(1 1.060)">20</text>
<text transform="translate(744.2 4730.5) scale(1 1.060)">30</text>
<text transform="translate(1008.1 4730.5) scale(1 1.060)">40</text>
<text transform="translate(1272.0 4730.5) scale(1 1.060)">50</text>
<text transform="translate(1535.9 4730.5) scale(1 1.060)">60</text>
<text transform="translate(1799.8 4730.5) scale(1 1.060)">70</text>
<text transform="translate(2063.6 4730.5) scale(1 1.060)">80</text>
<text transform="translate(2327.5 4730.5) scale(1 1.060)">90</text>
</g>
<text x="982.5" y="4812.0" font-family="'Liberation Serif', serif" font-size="73.5">2-Theta</text>
<text x="1218.3" y="4800.2" font-family="'Liberation Serif', serif" font-size="67.0">(</text>
<text x="1312.8" y="4800.2" font-family="'Liberation Serif', serif" font-size="67.0">)</text>
<text transform="translate(1295.0 4772.8) scale(1.098 1)" x="-13.5" y="34.7" font-family="'Liberation Serif', serif" font-size="67.6">°</text>
<text x="63.6" y="3440.0" font-family="'Liberation Serif', serif" font-size="66.0">(c)</text>
<g fill="#000" font-family="'DejaVu Sans', sans-serif"><text transform="translate(216.2 3259.6) scale(1.157 1)" x="-25.7" y="20.9" font-size="57.3">♠</text></g>
<text transform="translate(254.5 3263.2) scale(0.962 1.283)" x="-12.0" y="17.0" font-family="'Liberation Serif', serif" font-size="72.0">-</text>
<text x="266.8" y="3280.5" font-family="'Liberation Serif', serif" font-size="72.0">Fe<tspan font-size="48" dy="20">2</tspan><tspan dy="-20">O</tspan><tspan font-size="48" dy="20">3</tspan></text>
<g fill="#000" font-family="'DejaVu Sans', sans-serif"><text transform="translate(614.5 3261.2) scale(0.950 1)" x="-24.6" y="20.0" font-size="54.9">♥</text></g>
<text transform="translate(652.8 3263.4) scale(0.962 1.283)" x="-12.0" y="17.0" font-family="'Liberation Serif', serif" font-size="72.0">-</text>
<text x="665.1" y="3280.8" font-family="'Liberation Serif', serif" font-size="72.0">ZnO</text>
<g fill="#000" font-family="'DejaVu Sans', sans-serif"><text transform="translate(981.6 3260.9) scale(1.001 1)" x="-14.7" y="8.7" font-size="33.7">●</text></g>
<text transform="translate(1011.0 3264.4) scale(0.962 1.283)" x="-12.0" y="17.0" font-family="'Liberation Serif', serif" font-size="72.0">-</text>
<text x="1023.3" y="3281.8" font-family="'Liberation Serif', serif" font-size="72.0">Al<tspan font-size="48" dy="20">2</tspan><tspan dy="-20">O</tspan><tspan font-size="48" dy="20">3</tspan><tspan dy="-20">·SiO</tspan><tspan font-size="48" dy="20">2</tspan></text>
<g fill="#000" font-family="'DejaVu Sans', sans-serif"><text transform="translate(1531.2 3258.8) scale(1.051 1)" x="-25.5" y="20.8" font-size="57.0">♦</text></g>
<text transform="translate(1571.0 3261.9) scale(0.962 1.283)" x="-12.0" y="17.0" font-family="'Liberation Serif', serif" font-size="72.0">-</text>
<text x="1583.3" y="3279.2" font-family="'Liberation Serif', serif" font-size="72.0">SiO<tspan font-size="48" dy="20">2</tspan></text>
<g fill="#000" font-family="'DejaVu Sans', sans-serif"><text transform="translate(1870.0 3266.0) scale(1.095 1)" x="-25.8" y="21.0" font-size="57.7">♣</text></g>
<text transform="translate(1911.5 3269.7) scale(0.962 1.283)" x="-12.0" y="17.0" font-family="'Liberation Serif', serif" font-size="72.0">-</text>
<text x="1923.8" y="3287.0" font-family="'Liberation Serif', serif" font-size="72.0">ZnFe<tspan font-size="48" dy="20">2</tspan><tspan dy="-20">O</tspan><tspan font-size="48" dy="20">4</tspan></text>
<rect x="1812.5" y="3381.4" width="399.1" height="411.6" fill="none" stroke="#000" stroke-width="2.0"/>
<line x1="1822.6" x2="1972.6" y1="3427.4" y2="3427.4" stroke="#008000" stroke-width="2.5"/>
<text transform="translate(1990.9 3450.7) scale(1 1.04)" font-family="'Liberation Serif', serif" font-size="66.0">150 min</text>
<line x1="1822.6" x2="1972.6" y1="3510.0" y2="3510.0" stroke="#ff00ff" stroke-width="2.5"/>
<text transform="translate(1990.9 3533.0) scale(1 1.04)" font-family="'Liberation Serif', serif" font-size="66.0">120 min</text>
<line x1="1822.6" x2="1972.6" y1="3592.2" y2="3592.2" stroke="#0000ff" stroke-width="2.5"/>
<text transform="translate(1990.9 3615.2) scale(1 1.04)" font-family="'Liberation Serif', serif" font-size="66.0">90 min</text>
<line x1="1822.6" x2="1972.6" y1="3674.4" y2="3674.4" stroke="#ff0000" stroke-width="2.5"/>
<text transform="translate(1990.9 3697.8) scale(1 1.04)" font-family="'Liberation Serif', serif" font-size="66.0">60 min</text>
<line x1="1822.6" x2="1972.6" y1="3755.2" y2="3755.2" stroke="#000000" stroke-width="2.5"/>
<text transform="translate(1990.9 3779.3) scale(1 1.04)" font-family="'Liberation Serif', serif" font-size="66.0">30 min</text>
<path d="M84.6 3828.9l1 .3 1 -1.1 1 1.6 1 -.5 1 -1.4 1 1.1 1 -.3 1 .9 1 -.7 1 -.4 1 1.2 1 0 1 -.4 1 -.4 1 1 1 -2 1 1.3 1 .7 1 -.6 1 .8 1 .4 1 -1.4 1 .2 1 .5 1 -.5 1 .6 1 0 1 -.5 1 -.1 1 -.6 1 -.5 1 .7 1 .1 1 .4 1 -.1 1 0 1 .1 1 0 1 .5 1 .2 1 -1 1 .1 1 .6 1 -.6 1 .6 1 -.3 1 -.1 1 -.3 1 .6 1 .2 1 -.2 1 .1 1 -.7 1 .5 1 -.7 1 -.2 1 .5 1 -.4 1 .7 1 0 1 0 1 -1 1 .1 1 1.1 1 -.9 1 .7 1 .2 1 -1.1 1 -.7 1 1 1 .1 1 -.1 1 .4 1 -.5 1 .2 1 .4 1 -.7 1 .4 1 0 1 -.5 1 .7 1 -.1 1 1.3 1 -.9 1 .2 1 .2 1 -1 1 -.5 1 .7 1 .8 1 -.8 1 -.5 1 1.1 1 -.4 1 .6 1 -1.1 1 .2 1 .7 1 -1.2 1 1.2 1 -.1 1 0 1 .3 1 -.5 1 -1.1 1 1.5 1 -.7 1 .4 1 -.2 1 .7 1 -.1 1 -.1 1 .4 1 -.2 1 -.4 1 -.7 1 .5 1 -.7 1 0 1 -.2 1 .1 1 -1.2 1 2.2 1 -2 1 1.1 1 .9 1 -1.1 1 .2 1 .5 1 -.5 1 -.5 1 .1 1 1.5 1 -1 1 .1 1 0 1 1.2 1 -1.6 1 1.2 1 -.4 1 -1.6 1 .8 1 .1 1 .7 1 .2 1 -1.4 1 1.2 1 .3 1 .6 1 -.9 1 -.4 1 .5 1 -.6 1 .5 1 .2 1 -.4 1 -.4 1 .1 1 .1 1 0 1 .2 1 .1 1 -.4 1 .5 1 -.2 1 -.4 1 -.2 1 .7 1 .6 1 -.3 1 -.4 1 .1 1 .8 1 -.9 1 .2 1 .3 1 .4 1 -1.3 1 1.3 1 -.3 1 -.6 1 .8 1 -1.1 1 .1 1 .3 1 .6 1 -.7 1 .8 1 -1 1 1.1 1 -.9 1 1.2 1 -1.7 1 .1 1 .1 1 1.2 1 -1.3 1 .4 1 -.3 1 .4 1 0 1 0 1 -.1 1 -.4 1 1.1 1 -.6 1 -.2 1 0 1 .6 1 .1 1 .3 1 -1.3 1 .8 1 .5 1 -.7 1 .6 1 -.2 1 -.5 1 -3 1 3.5 1 -.1 1 -.1 1 1.1 1 -.6 1 .1 1 -.2 1 -.2 1 -.4 1 1.1 1 -.7 1 -.4 1 .3 1 -.1 1 .3 1 -.4 1 .1 1 -.2 1 -1 1 1.3 1 0 1 .6 1 -.5 1 -.5 1 -1.6 1 1.8 1 -.6 1 -.3 1 -.2 1 1.1 1 -.8 1 -.1 1 1.4 1 -.7 1 .1 1 .5 1 -.3 1 .9 1 -1.4 1 .2 1 1.5 1 -.4 1 -1.2 1 -.2 1 .7 1 .6 1 .6 1 -1.4 1 .2 1 .3 1 .6 1 -.9 1 1 1 -1.5 1 2.2 1 -1.5 1 .7 1 .2 1 -.4 1 -.3 1 .3 1 -.3 1 .6 1 -.3 1 1.5 1 -.4 1 -.1 1 -.4 1 .3 1 0 1 1.5 1 -1.2 1 -.4 1 .3 1 .3 1 -.8 1 1.5 1 -1.2 1 .3 1 -.3 1 0 1 -.1 1 -.7 1 .8 1 -.5 1 .3 1 .7 1 -.7 1 .3 1 -.2 1 .1 1 -.8 1 .7 1 -1.4 1 .4 1 .5 1 -.7 1 .9 1 -.3 1 .2 1 .4 1 -.3 1 -.2 1 .4 1 -1.2 1 1.1 1 -.5 1 .1 1 -.4 1 .2 1 .7 1 -.4 1 -.8 1 1 1 -.5 1 .2 1 .1 1 -.9 1 -.2 1 .3 1 -.1 1 .2 1 .4 1 -.2 1 -.2 1 .5 1 -1 1 -1 1 .3 1 -2.5 1 -2.7 1 -1.5 1 .6 1 2.2 1 2.1 1 2.2 1 0 1 .6 1 .3 1 .1 1 -.6 1 .3 1 .3 1 .9 1 -.6 1 -1.6 1 1 1 1 1 -1.4 1 .7 1 .2 1 -.2 1 .3 1 -.2 1 .5 1 -.5 1 .5 1 -.6 1 1.1 1 -.4 1 -.1 1 .9 1 -.5 1 .2 1 -1.1 1 1.2 1 -1 1 0 1 .4 1 -.6 1 -.7 1 1.1 1 -.5 1 1 1 .3 1 -1.3 1 0 1 .2 1 1.4 1 -1 1 -.4 1 -.5 1 .7 1 -1 1 1.6 1 -.6 1 -.7 1 1.4 1 .4 1 -1.4 1 -.1 1 .7 1 -.5 1 -.1 1 .6 1 .1 1 .3 1 0 1 -.6 1 -.4 1 .2 1 -.2 1 .4 1 -.5 1 .4 1 0 1 -1 1 1.2 1 -.3 1 .2 1 -.2 1 .8 1 -.3 1 -1.9 1 .5 1 1.1 1 -.8 1 0 1 .4 1 0 1 -.2 1 .3 1 -.2 1 -.4 1 .3 1 -.2 1 .1 1 -.7 1 .5 1 -.1 1 -.1 1 -1.9 1 -.6 1 0 1 .1 1 -.3 1 1 1 1 1 -.1 1 2.6 1 -1.4 1 .1 1 -.1 1 1.5 1 -.3 1 .1 1 -1.1 1 .8 1 .1 1 .5 1 -1.2 1 .4 1 -.7 1 -.6 1 1.2 1 .2 1 -.1 1 -.5 1 -.6 1 .5 1 .6 1 .1 1 -.1 1 -.7 1 -.4 1 -.4 1 1.5 1 -.1 1 .2 1 -1.1 1 .5 1 -.7 1 .6 1 .4 1 -.1 1 -1.3 1 1.4 1 -1.1 1 .8 1 0 1 .1 1 -.7 1 1.7 1 -.9 1 -.7 1 1 1 -.5 1 -.4 1 -.6 1 .3 1 .9 1 -.5 1 .1 1 .9 1 -1.1 1 -1.2 1 1.4 1 .5 1 .6 1 -.7 1 .5 1 -.8 1 .8 1 .2 1 -.2 1 -.3 1 .2 1 -.5 1 .5 1 -.2 1 -.3 1 1.4 1 -1.2 1 .7 1 -.3 1 .1 1 -.7 1 -1.2 1 .3 1 -.1 1 -2 1 -1.5 1 -2 1 -2.7 1 -2.2 1 .3 1 2.3 1 2.9 1 3.1 1 .9 1 .6 1 .9 1 -2.3 1 1.7 1 .9 1 .3 1 -.3 1 -.6 1 .4 1 .4 1 .6 1 .3 1 -.7 1 .1 1 1.4 1 -.6 1 -.3 1 -.7 1 -.2 1 .3 1 -.1 1 -1.6 1 -1.4 1 -.7 1 1.8 1 1.7 1 -.2 1 0 1 .9 1 -.1 1 .2 1 .3 1 -1.2 1 .9 1 .7 1 -1 1 .2 1 -.4 1 .2 1 .1 1 .9 1 .3 1 .1 1 -1 1 .3 1 .1 1 -.2 1 -.3 1 .5 1 .1 1 .5 1 -.4 1 .6 1 -.9 1 .4 1 0 1 -.6 1 0 1 0 1 .1 1 1.1 1 -1 1 -.5 1 1.1 1 -.8 1 -.5 1 .4 1 .4 1 -.4 1 -.3 1 -.1 1 1 1 .4 1 0 1 .2 1 -1.2 1 .4 1 -.7 1 -.1 1 1 1 -.3 1 .6 1 -.1 1 -.4 1 .6 1 .4 1 -1.1 1 .8 1 -.2 1 -.6 1 .9 1 -1.3 1 .8 1 .1 1 -.9 1 -.1 1 -.2 1 -.5 1 .6 1 -.7 1 0 1 .3 1 -1.4 1 1.5 1 -1.1 1 -1.4 1 -1.6 1 -3.4 1 -9.4 1 -13 1 -18.1 1 -13.7 1 1.8 1 13.6 1 19 1 11.6 1 9.5 1 2.4 1 2.8 1 -.7 1 2.1 1 -1 1 -.5 1 .2 1 -.5 1 1.3 1 .7 1 -1.5 1 .8 1 -.8 1 1.5 1 -.9 1 -.5 1 -.4 1 -1.5 1 -.1 1 0 1 1 1 .8 1 1.5 1 .1 1 -.6 1 -1.9 1 1.7 1 .5 1 .5 1 -1.4 1 .8 1 -.7 1 -.7 1 .9 1 .5 1 -.1 1 .1 1 -2 1 -1.8 1 -4.4 1 -11.6 1 -18.1 1 -14.5 1 .5 1 18.1 1 15.4 1 10.1 1 4.5 1 2 1 0 1 .8 1 -.5 1 .3 1 .8 1 -.9 1 .5 1 .5 1 0 1 -.4 1 .4 1 -.6 1 .7 1 -.1 1 .5 1 -.3 1 0 1 0 1 -.6 1 0 1 .7 1 -.3 1 .2 1 -.5 1 -.7 1 1.8 1 -2.9 1 2.9 1 .5 1 -2.2 1 1.1 1 .4 1 -.3 1 .2 1 -.2 1 1.2 1 -.9 1 .1 1 .7 1 -.5 1 -.3 1 -.5 1 1.2 1 -1 1 0 1 -.4 1 -.1 1 .4 1 -.7 1 -1.1 1 -1.3 1 -3.3 1 -3.3 1 -2.4 1 1.2 1 4.9 1 2.9 1 2.9 1 -1.7 1 0 1 -3 1 -8.7 1 -11.2 1 -9.2 1 .3 1 11.5 1 11 1 6.8 1 1.5 1 1.4 1 1.1 1 .2 1 -.8 1 .2 1 -1 1 -.7 1 -.1 1 -1.2 1 -1.7 1 -1.9 1 -5.1 1 -5.5 1 -18.6 1 -32.8 1 -48.6 1 -49.8 1 -20.3 1 25.3 1 49.3 1 46.3 1 30.5 1 16.7 1 7.9 1 4 1 2.5 1 1.3 1 1 1 .8 1 -.4 1 .3 1 .2 1 .4 1 -.7 1 -.6 1 -.6 1 1.1 1 -.8 1 -1 1 -4.3 1 -8.7 1 -20.4 1 -30.9 1 -28.3 1 1.3 1 30.7 1 30.4 1 18.7 1 8.4 1 2.7 1 1.8 1 .4 1 1.1 1 -.1 1 -.7 1 .5 1 -.9 1 -3.3 1 -1.8 1 -4.9 1 .3 1 4.1 1 3.8 1 2.8 1 .5 1 1.6 1 -.9 1 .1 1 .6 1 -.9 1 1.2 1 .7 1 -.8 1 .1 1 .1 1 .9 1 -1.2 1 0 1 .5 1 -.3 1 -.2 1 .6 1 -1 1 .7 1 .6 1 .4 1 -.7 1 -.5 1 -.1 1 .2 1 .1 1 -.2 1 -.5 1 -.2 1 -.1 1 .4 1 -.4 1 .1 1 1.6 1 -.9 1 -.1 1 -.7 1 .2 1 .5 1 .2 1 -.2 1 -2.7 1 .5 1 -.6 1 -1.4 1 -1.1 1 .7 1 -.7 1 2.8 1 .8 1 .9 1 .3 1 -.1 1 -.7 1 .9 1 .6 1 -.9 1 1 1 .1 1 .3 1 -.1 1 -.5 1 .1 1 -.1 1 -.3 1 -.1 1 1.6 1 -1.5 1 .4 1 -.2 1 .3 1 .2 1 -.1 1 -.2 1 .2 1 -1.6 1 .7 1 1.1 1 -.4 1 1.4 1 -2.1 1 .9 1 -1.4 1 1 1 -.1 1 1 1 -.9 1 .2 1 .1 1 -.4 1 .6 1 -.1 1 .4 1 -1.4 1 -.4 1 .9 1 .1 1 -.5 1 -.4 1 .7 1 .4 1 .6 1 -.8 1 .2 1 -1 1 1.7 1 -.7 1 -.8 1 .5 1 .3 1 -.4 1 .3 1 0 1 -.4 1 -.2 1 1.3 1 -.4 1 .4 1 .4 1 -1.1 1 -.2 1 .7 1 -.6 1 -.5 1 .5 1 1 1 -1 1 .3 1 .2 1 .2 1 .4 1 -.8 1 .4 1 -1.3 1 .9 1 .6 1 -.1 1 -1.7 1 1 1 0 1 -.5 1 -.1 1 -.7 1 .5 1 -.6 1 -1.7 1 .2 1 -3.3 1 -3.4 1 -6.6 1 -8.8 1 -5 1 1.2 1 4.8 1 7.9 1 6.7 1 3.6 1 2.7 1 2.3 1 1 1 -.1 1 .4 1 -.1 1 -.6 1 .8 1 -.1 1 -.1 1 -1.4 1 1.8 1 0 1 -.1 1 -.9 1 1.9 1 -1.1 1 -.7 1 .5 1 -.5 1 1.2 1 -.5 1 -.1 1 -.2 1 -.1 1 .7 1 -.7 1 .1 1 .2 1 .3 1 -.3 1 -.2 1 .5 1 .3 1 -.3 1 -1.1 1 -.8 1 1.7 1 -.7 1 -1.1 1 0 1 .5 1 .3 1 .2 1 -.8 1 .2 1 -.7 1 1.9 1 -.1 1 -.2 1 -1.2 1 1.1 1 -.1 1 .2 1 -.2 1 1.2 1 -1.4 1 .3 1 .5 1 -.7 1 0 1 .1 1 0 1 .3 1 -1 1 -.4 1 .7 1 .5 1 .4 1 -1.5 1 1 1 -1.4 1 -.2 1 1.5 1 .4 1 -.3 1 .1 1 .4 1 -1.1 1 .2 1 .8 1 -.4 1 -.3 1 -.5 1 .2 1 1 1 0 1 .1 1 .1 1 -.4 1 -.5 1 .8 1 .1 1 .2 1 .1 1 -.7 1 -.4 1 1 1 .3 1 -.5 1 .8 1 -.9 1 -1 1 .3 1 .7 1 -.5 1 .7 1 -.3 1 .4 1 .6 1 -.9 1 .4 1 -.7 1 .1 1 -1.6 1 -2.5 1 -4.7 1 -8.8 1 -7.8 1 .6 1 8.5 1 9 1 3.3 1 2.8 1 .6 1 .7 1 -.1 1 -1 1 .9 1 .1 1 -.1 1 0 1 .9 1 -.6 1 -.1 1 .1 1 -.1 1 -1 1 1.7 1 -.4 1 -1.1 1 .8 1 0 1 -.9 1 1 1 -.6 1 1.6 1 -1.1 1 .6 1 .3 1 -.5 1 -.3 1 .7 1 -1.3 1 .2 1 .7 1 -.8 1 .1 1 -2.3 1 -.2 1 -.9 1 .1 1 .5 1 1.7 1 -.3 1 .9 1 -.3 1 .4 1 .6 1 0 1 -.1 1 .3 1 .4 1 -.9 1 -.5 1 .9 1 -.1 1 -.4 1 1.4 1 -.6 1 -.5 1 -.3 1 -.4 1 1.1 1 .2 1 -.9 1 -.1 1 .5 1 .4 1 -1.4 1 .7 1 .7 1 -.8 1 -.5 1 .9 1 -.2 1 .7 1 -1.3 1 .9 1 -.4 1 -1.1 1 .3 1 .8 1 .8 1 -1.6 1 -.5 1 .1 1 .2 1 .7 1 -1 1 .8 1 -.3 1 .3 1 -.2 1 .7 1 -.3 1 -.6 1 .2 1 .6 1 -1 1 -.4 1 .8 1 .9 1 -.8 1 .8 1 -1 1 -1 1 0 1 1.5 1 -.4 1 .7 1 -.1 1 -.6 1 .3 1 .1 1 -.9 1 .2 1 .6 1 1.1 1 -.2 1 -.9 1 1.1 1 -.6 1 -.8 1 1.1 1 .4 1 -1 1 -.2 1 -.8 1 1 1 .2 1 -1.2 1 .4 1 0 1 -.2 1 -.9 1 1 1 -.2 1 .3 1 -.9 1 -.2 1 -1 1 -1.7 1 -1.4 1 -2.8 1 -3.7 1 -3.9 1 -1.6 1 -.2 1 3.1 1 3.9 1 3 1 2.5 1 2.6 1 .9 1 .4 1 1.2 1 -.4 1 1.5 1 -.5 1 -.9 1 .6 1 .9 1 -.1 1 -.2 1 -.1 1 -.3 1 1.1 1 .4 1 -1.3 1 -1.1 1 -.7 1 -1.1 1 -1.1 1 .6 1 -.1 1 2.2 1 .2 1 .7 1 .7 1 -.4 1 .4 1 .2 1 -1.4 1 1.2 1 -.5 1 .3 1 .5 1 -.9 1 1.2 1 -.9 1 .4 1 -.4 1 2 1 -1.4 1 -.3 1 -.9 1 1.1 1 -.9 1 -.5 1 1.1 1 -.4 1 .1 1 -.7 1 0 1 1.2 1 -.5 1 -.1 1 -.1 1 -1.1 1 1.1 1 .7 1 -.8 1 .6 1 -.7 1 .8 1 .3 1 -1.9 1 1 1 .2 1 .4 1 -.8 1 .4 1 -.4 1 -1.2 1 .2 1 1.2 1 -.3 1 -.9 1 -1.2 1 -.6 1 -1 1 -2.5 1 -3.8 1 -7.7 1 -13.2 1 -18.6 1 -19.8 1 -12.9 1 1.4 1 15.2 1 18.8 1 17 1 13.5 1 6.9 1 3.5 1 2.2 1 .4 1 -.1 1 .4 1 -.5 1 1.4 1 .8 1 -.5 1 1.6 1 -2.2 1 1.1 1 .8 1 -1.4 1 -.2 1 1.3 1 -.1 1 .7 1 -.6 1 .7 1 -.5 1 -.5 1 .9 1 -.4 1 -1.2 1 1.6 1 -.8 1 -.3 1 -.3 1 -.2 1 1.3 1 -2.1 1 .8 1 .7 1 1 1 -1.6 1 .6 1 -.9 1 .9 1 -.1 1 .3 1 .6 1 -1.6 1 2 1 -.9 1 -.2 1 -1 1 1.5 1 -.3 1 -.2 1 1.4 1 -.8 1 0 1 -.6 1 .8 1 .8 1 -1.2 1 -.2 1 1.4 1 -.9 1 .3 1 0 1 -1.2 1 .9 1 .9 1 -1.1 1 .6 1 1.7 1 -1.4 1 .1 1 -.3 1 -1 1 0 1 -1.6 1 1.1 1 .3 1 -.3 1 .5 1 .7 1 .3 1 -1 1 -.6 1 .3 1 .9 1 -1 1 1.2 1 -.1 1 -.6 1 -.4 1 1.1 1 -1.2 1 .9 1 0 1 .1 1 -.5 1 -1 1 1.4 1 -.2 1 -.9 1 1 1 .3 1 -.4 1 -.1 1 .1 1 -.4 1 -.5 1 -.5 1 -1.6 1 1.1 1 -1.7 1 1.5 1 .2 1 .4 1 0 1 .8 1 -.3 1 .8 1 .2 1 -1.9 1 1.5 1 -.8 1 -.6 1 .4 1 -.8 1 .5 1 .5 1 -.5 1 -.5 1 1.4 1 -.1 1 -1 1 .1 1 -.9 1 -.3 1 -.7 1 -2 1 -3.5 1 -8.9 1 -12.9 1 -14.9 1 -12.7 1 -5.8 1 7.7 1 13.2 1 14.6 1 12.2 1 6.5 1 5.4 1 .7 1 1.3 1 1.5 1 -.8 1 .5 1 .1 1 -.6 1 -2.9 1 -5.9 1 -11.5 1 -9 1 .5 1 9.3 1 11.5 1 6.4 1 1.8 1 1.7 1 .7 1 -.8 1 1.5 1 0 1 -.8 1 1 1 0 1 -.3 1 -.4 1 -.2 1 .2 1 .7 1 -.3 1 -.5 1 .7 1 -.7 1 .4 1 -2.3 1 2.5 1 .2 1 -.4 1 .9 1 -1.1 1 -.9 1 1.5 1 -.8 1 1.8 1 -.3 1 -3.1 1 2.2 1 .5 1 -.3 1 -1.2 1 1.6 1 -.5 1 .8 1 -1 1 .8 1 -.7 1 .4 1 -.1 1 -1.2 1 .5 1 -.5 1 .1 1 .6 1 .6 1 -1.5 1 .6 1 -.4 1 1.1 1 -.9 1 .6 1 -.9 1 1.4 1 -1.3 1 .8 1 -1.2 1 .7 1 1.2 1 -1.1 1 -.9 1 -.2 1 -1 1 2.2 1 -1.5 1 -.6 1 -1 1 -1.3 1 0 1 .9 1 .6 1 1.9 1 -.4 1 .1 1 1.2 1 -.7 1 1 1 -.9 1 -.5 1 1.2 1 -.5 1 -.8 1 -.5 1 .8 1 -.7 1 -1.1 1 .8 1 .1 1 .3 1 1 1 -.1 1 .2 1 1.4 1 -.1 1 .2 1 .5 1 -1 1 .5 1 -.3 1 .5 1 -.1 1 -.4 1 .6 1 0 1 -.6 1 -.1 1 -.3 1 -.1 1 .9 1 -.1 1 .2 1 -.4 1 -.9 1 1.2 1 1.4 1 -1.8 1 .7 1 -.4 1 -.7 1 .8 1 -.1 1 -1.1 1 -.6 1 -1.9 1 -4.4 1 -6.1 1 -7 1 1.2 1 5.5 1 7.6 1 3.3 1 3.7 1 -.8 1 .7 1 -.1 1 .5 1 .6 1 -1.4 1 -.1 1 .9 1 .8 1 -1.3 1 .4 1 -.3 1 -.1 1 .5 1 -.2 1 -.4 1 -.7 1 -1.6 1 1.1 1 1.1 1 -1.2 1 1 1 -.6 1 -.3 1 -.3 1 .8 1 .3 1 -1.3 1 0 1 2.5 1 -.1 1 -1.3 1 -.3 1 .7 1 .5 1 -.7 1 .7 1 -1.5 1 .3 1 .5 1 .5 1 -.9 1 .5 1 0 1 -.3 1 -.1 1 .9 1 -.7 1 -.1 1 .9 1 -1.6 1 .3 1 1 1 -.9 1 1 1 0 1 -1.5 1 1.6 1 -.5 1 1.5 1 -1.2 1 .2 1 .3 1 .3 1 -.2 1 .3 1 -.2 1 .1 1 .2 1 -1.9 1 1.4 1 .1 1 -.8 1 1 1 -.5 1 -.2 1 -.1 1 -.1 1 .4 1 -.7 1 .1 1 -.9 1 .9 1 -.3 1 .6 1 .1 1 -1.8 1 1.1 1 .5 1 -.8 1 1.1 1 -1 1 .6 1 -.6 1 .4 1 -.5 1 1.5 1 -.7 1 -1 1 .1 1 1.1 1 -.3 1 -.2 1 .3 1 0 1 -1.3 1 1.1 1 .5 1 .3 1 -.1 1 -.7 1 .2 1 -.6 1 .1 1 0 1 .2 1 -1 1 1 1 -.8 1 .2 1 -.3 1 2 1 0 1 -1.4 1 -.4 1 .2 1 .4 1 .4 1 .4 1 -1 1 -1 1 1.2 1 -.1 1 .2 1 -.3 1 -1.2 1 0 1 -.3 1 -.7 1 -2.1 1 -1.6 1 -1.5 1 -2 1 -.2 1 1.7 1 2.9 1 2 1 1.5 1 .8 1 .6 1 -.7 1 -.1 1 1.3 1 -.4 1 .7 1 -1.3 1 .2 1 .6 1 -.2 1 0 1 -.3 1 .3 1 .8 1 -1.2 1 0 1 .1 1 -1.8 1 -1.7 1 -1.5 1 .8 1 -.5 1 2.8 1 1.8 1 .4 1 .6 1 .1 1 .2 1 -.6 1 .4 1 1.2 1 -.8 1 0 1 .5 1 -.6 1 -.1 1 -.2 1 .6 1 -.7 1 .5 1 -.2 1 -.3 1 1.2 1 -.8 1 .1 1 .4 1 -.9 1 -.3 1 -1.2 1 1.5 1 -.3 1 .5 1 -.6 1 -.3 1 1.2 1 .1 1 1.4 1 -1.8 1 .6 1 .1 1 .1 1 .1 1 0 1 -.6 1 1.2 1 -.7 1 -.1 1 .1 1 -.4 1 .2 1 .8 1 -.5 1 .3 1 -.5 1 -1.3 1 1.5 1 -.2 1 .6 1 -1.4 1 1.9 1 -1.3 1 0 1 .7 1 .1 1 -.1 1 -.8 1 -.3 1 0 1 -.2 1 -.1 1 -1.3 1 2.6 1 -1.3 1 .3 1 -.4 1 0 1 -.3 1 .4 1 -.3 1 .5 1 -.7 1 0 1 .4 1 .3 1 .8 1 -1.1 1 .2 1 1.1 1 -.6 1 .3 1 -.2 1 -.1 1 .1 1 .2 1 .2 1 -1.4 1 .7 1 .7 1 -1.6 1 .9 1 .3 1 -.7 1 0 1 .3 1 .3 1 -.1 1 .1 1 -.4 1 .3 1 .3 1 -.8 1 .5 1 0 1 -.7 1 -.2 1 .5 1 -.5 1 .3 1 -1.1 1 .8 1 .6 1 -.5 1 .1 1 0 1 -.6 1 -.4 1 .1 1 .1 1 -.3 1 .2 1 .6 1 .7 1 -.8 1 1 1 -.5 1 .8 1 -.6 1 .2 1 -1 1 .5 1 .6 1 .3 1 -.6 1 .1 1 -.1 1 -.3 1 1.1 1 -.6 1 0 1 .3 1 .3 1 .4 1 -.8 1 .5 1 -.2 1 -.1 1 -.5 1 1 1 0 1 .8 1 -.2 1 -.3 1 -.2 1 .4 1 -.5 1 0 1 -.5 1 1 1 -.8 1 .3 1 .3 1 .2 1 -.4 1 -.2 1 .5 1 .5 1 .2 1 -.2 1 .5 1 -2.1 1 .6 1 -.2 1 .9 1 -.1 1 -.3 1 1.4 1 -.5 1 -1.5 1 .6 1 -1.2 1 1.6 1 .1 1 -.9 1 .7 1 -.8 1 0 1 .4 1 .4 1 -.1 1 -.2 1 .1 1 -.4 1 .2 1 -.3 1 .7 1 -.7 1 -.5 1 0 1 1.2 1 -1.8 1 .9 1 -.3 1 .6 1 .3 1 -.6 1 .7 1 -.7 1 -.2 1 .5 1 .3 1 -.5 1 .3 1 .2 1 -1.4 1 1.1 1 -1 1 1.2 1 -.2 1 .8 1 -.9 1 .5 1 .3 1 -.9 1 .6 1 .3 1 -.5 1 -.7 1 .8 1 .2 1 .6 1 -.1 1 -3 1 2.7 1 .5 1 -.3 1 .8 1 -.3 1 -.2 1 -.5 1 -1 1 .3 1 .1 1 .8 1 -.3 1 -.5 1 .5 1 .5 1 -.4 1 -1.1 1 .9 1 -.8 1 1.1 1 -1.3 1 1 1 -.1 1 -.2 1 .4 1 -1.1 1 1.4 1 -2.1 1 1.7 1 -1.2 1 -.3 1 .5 1 .2 1 0 1 1 1 -.6 1 -.4 1 -.6 1 .1 1 .4 1 -.6 1 .1 1 .8 1 -1.3 1 1.3 1 .1 1 -1.5 1 .2 1 .2 1 .8 1 -.5 1 .5 1 -.6 1 -.3 1 1.4 1 -.9 1 -.5 1 1 1 .3 1 -.1 1 -.8 1 .9 1 -.7 1 -.1 1 -.4 1 .5 1 -.5 1 -.1 1 .5 1 -.4 1 .7 1 0 1 .2 1 .3 1 -.7 1 .7 1 .3 1 -.2 1 0 1 -1.2 1 .6 1 -.7 1 .7 1 .3 1 .1 1 .3 1 -1.4 1 1.1 1 -.5 1 .1 1 -.3 1 -.8 1 .6 1 -.2 1 .8 1 -.6 1 -.2 1 -.2 1 .5 1 .3 1 -.7 1 .3 1 0 1 .6 1 -.4 1 -.3 1 .8 1 -.4 1 -.2 1 -.1 1 .4 1 .3 1 -1.2 1 1.1 1 .8 1 -.4 1 -.4 1 -.6 1 .2 1 .3 1 -.2 1 -.1 1 1.2 1 -1.4 1 .5 1 -.2 1 -.7 1 -.1 1 .8 1 -.2 1 -.3 1 .7 1 -1.5 1 .8 1 -.8 1 -.6 1 -.8 1 -.8 1 -3.2 1 -2.5 1 -1.9 1 -1.7 1 1.6 1 1.8 1 3.2 1 1.8 1 2.8 1 0 1 .6 1 -.3 1 .5 1 -.1 1 -1.5 1 -.3 1 -1 1 -1.8 1 -.4 1 .1 1 2 1 .6 1 1.8 1 -.1 1 .7 1 .3 1 -.4" fill="none" stroke="#008000" stroke-width="2.8" stroke-linejoin="round"/>
<path d="M84.6 4043.7l1 .5 1 -1 1 1 1 -.2 1 -.1 1 .9 1 -1.2 1 .2 1 -.1 1 -.2 1 .4 1 .6 1 0 1 -1.1 1 .3 1 .1 1 .4 1 -.1 1 -.3 1 -.2 1 .1 1 .3 1 -.5 1 .4 1 -.1 1 .3 1 -.3 1 1.2 1 -2.2 1 1.4 1 -.5 1 2.2 1 -.9 1 -.6 1 -1 1 0 1 1.1 1 -1.3 1 .3 1 -.7 1 1.4 1 -.8 1 0 1 2.4 1 -1.7 1 -.1 1 .6 1 -.8 1 .1 1 .6 1 -.5 1 1 1 -.3 1 -.7 1 .1 1 .2 1 .9 1 -1.1 1 .8 1 .1 1 -1.7 1 .5 1 -.7 1 1.3 1 0 1 -.3 1 .5 1 -1.2 1 1 1 .6 1 -.1 1 -.3 1 -.1 1 -.4 1 1 1 -.4 1 .3 1 -.9 1 -.9 1 1.7 1 -2.1 1 .5 1 1.8 1 -1.2 1 -.6 1 .4 1 .1 1 -.2 1 .7 1 -.8 1 -.1 1 .1 1 -.1 1 .8 1 -.9 1 .3 1 0 1 -1.1 1 .3 1 .1 1 1 1 1.1 1 -.8 1 -.1 1 -.7 1 .2 1 0 1 -.4 1 .4 1 -.2 1 -.4 1 1.2 1 -.2 1 -1.3 1 .7 1 .8 1 -1 1 1.3 1 -1.3 1 -.1 1 1 1 -1.3 1 .3 1 -.7 1 1.6 1 0 1 -3.5 1 3.2 1 -.9 1 .5 1 .1 1 -.3 1 1.1 1 -.9 1 -.2 1 .6 1 .9 1 -.4 1 .1 1 -1.3 1 1.1 1 -1.5 1 0 1 .9 1 -1.4 1 1 1 -1.7 1 2.6 1 -.3 1 -.4 1 .2 1 .9 1 -2.3 1 1 1 -.4 1 1.1 1 -.4 1 1.5 1 -.6 1 .6 1 -.5 1 -.6 1 .6 1 -.3 1 .4 1 -1.9 1 1.6 1 .8 1 -2.1 1 .1 1 1.7 1 .2 1 -1 1 .8 1 -1.6 1 1.3 1 -.2 1 -.9 1 .5 1 1 1 .6 1 -1.5 1 -.1 1 .4 1 .5 1 -.4 1 -1 1 1.2 1 -.6 1 .3 1 .2 1 -.7 1 1.3 1 -1.4 1 .8 1 .2 1 -.9 1 .4 1 -.9 1 1.1 1 -.4 1 .1 1 .9 1 -1.3 1 .8 1 .2 1 .4 1 -.9 1 .4 1 -.3 1 .4 1 -.6 1 .6 1 -1 1 .5 1 .4 1 -.8 1 .6 1 -.4 1 .9 1 -.2 1 -1.3 1 -.6 1 1.5 1 -.9 1 .5 1 .8 1 .7 1 -.8 1 -.4 1 -.1 1 -.2 1 .2 1 .2 1 -1 1 1.4 1 .1 1 -.3 1 -.2 1 -.4 1 -.1 1 .8 1 -.6 1 .5 1 -1 1 1.2 1 .3 1 .5 1 -.8 1 .5 1 -.2 1 -.1 1 -1.6 1 1.1 1 -.2 1 .2 1 -.6 1 .6 1 .7 1 -2.2 1 .7 1 1.4 1 -1.6 1 -.3 1 1 1 -.4 1 .7 1 -4.2 1 4.5 1 -.1 1 1.5 1 -2.2 1 1.1 1 .1 1 -1.6 1 .8 1 .4 1 .1 1 -.1 1 .1 1 .5 1 .3 1 .2 1 -1.7 1 0 1 .9 1 .7 1 -.3 1 -.1 1 -1.1 1 1 1 -1.5 1 .5 1 .5 1 1.1 1 -1.7 1 .2 1 .2 1 .7 1 -.8 1 .5 1 -1 1 1.3 1 -.4 1 .1 1 0 1 -.1 1 -.1 1 -.7 1 1.2 1 -.8 1 .4 1 .3 1 -.1 1 -1.2 1 1.5 1 .9 1 -1.5 1 -.4 1 1.2 1 -.7 1 .3 1 .1 1 -.5 1 0 1 .1 1 0 1 1 1 -.9 1 1.4 1 -1.5 1 0 1 -1.1 1 .6 1 .1 1 -1.2 1 .6 1 -.6 1 .5 1 .3 1 1.3 1 -2 1 1 1 .1 1 -1.1 1 1.1 1 -1.5 1 -.6 1 -2.5 1 -1.4 1 -2.9 1 .4 1 2.2 1 .7 1 3.6 1 2 1 -2.2 1 1.8 1 -.5 1 -.1 1 1 1 -1.1 1 0 1 1.4 1 .3 1 -2.1 1 -.1 1 1.1 1 .1 1 -.6 1 .4 1 -.4 1 .2 1 -.1 1 .7 1 0 1 .1 1 -.7 1 -.5 1 0 1 -.2 1 .4 1 .8 1 -.2 1 -.2 1 -.4 1 .7 1 .9 1 -1.4 1 -.3 1 -.2 1 .7 1 -.7 1 .9 1 -.8 1 -.6 1 1.3 1 -.3 1 .5 1 .2 1 -1.2 1 .2 1 .3 1 .9 1 -1.6 1 -.1 1 -.4 1 2 1 -1.5 1 .8 1 .1 1 .1 1 -1.3 1 1.8 1 -1.5 1 0 1 .1 1 1 1 .9 1 -.9 1 -.2 1 .2 1 -.5 1 1.3 1 -.7 1 .9 1 -.1 1 -1.3 1 -.2 1 1 1 .2 1 0 1 -.7 1 .6 1 -1.1 1 -.1 1 1 1 -.8 1 1.4 1 -.6 1 -.1 1 1.1 1 -1.1 1 -.1 1 .7 1 -1.6 1 1.3 1 -.8 1 .2 1 -1.1 1 -1.7 1 -2.5 1 1.5 1 .7 1 .2 1 1 1 -.7 1 1.8 1 0 1 .6 1 -.1 1 -.5 1 1.2 1 .1 1 -.5 1 .9 1 .1 1 .3 1 .1 1 -.8 1 -.8 1 .8 1 -.5 1 0 1 1.5 1 .8 1 -1.3 1 0 1 0 1 -4.1 1 2.9 1 1.8 1 -.4 1 .1 1 0 1 .8 1 -1.7 1 .2 1 1.4 1 -.8 1 .1 1 -.9 1 1.3 1 .1 1 .6 1 -.6 1 -.8 1 0 1 -.8 1 .1 1 1.6 1 -1.2 1 .7 1 .5 1 -.1 1 -1.5 1 .3 1 1 1 -1 1 .1 1 .3 1 -.2 1 .3 1 -.1 1 -.6 1 1.8 1 -2.7 1 -.3 1 0 1 .3 1 .7 1 .8 1 -.1 1 .6 1 -2.3 1 .8 1 .6 1 .6 1 -1.2 1 .4 1 1.2 1 -1.4 1 .8 1 -1.3 1 1.1 1 -1.7 1 1 1 .3 1 -1.8 1 -1.5 1 -1.7 1 -2.7 1 -2.9 1 -2.4 1 .5 1 2.6 1 1.9 1 3.1 1 2.2 1 .7 1 .5 1 -.7 1 1.8 1 .3 1 -1 1 .7 1 -.5 1 -.6 1 0 1 1.4 1 -1.3 1 .9 1 -.1 1 -.2 1 .6 1 .8 1 -1.7 1 .2 1 -.5 1 -.8 1 -2 1 .2 1 -2.4 1 1.5 1 1.7 1 1 1 1.8 1 -.3 1 .3 1 -.9 1 .3 1 .3 1 -.2 1 .7 1 -.5 1 .9 1 -1.9 1 .9 1 .3 1 .4 1 0 1 .7 1 0 1 -.3 1 .6 1 -.4 1 -.5 1 1.8 1 -2.2 1 .2 1 1 1 .6 1 -1.3 1 -.4 1 -.3 1 -.4 1 .8 1 .4 1 -.6 1 .9 1 .1 1 -.5 1 .2 1 .4 1 -.5 1 -.4 1 -.8 1 -1.2 1 -1 1 -.6 1 -.3 1 1.4 1 .6 1 .7 1 .1 1 2 1 -.6 1 -.8 1 -1.9 1 2 1 -.4 1 .7 1 -1 1 .4 1 -.5 1 .1 1 .4 1 -2.6 1 2.6 1 -.6 1 -1.7 1 0 1 1.2 1 -1 1 1.5 1 0 1 -.2 1 -.6 1 -.3 1 -.3 1 -.6 1 1.5 1 -1.5 1 -.2 1 -.8 1 -.9 1 -1.9 1 -5.6 1 -14.6 1 -20.6 1 -19.4 1 2.2 1 19 1 22 1 12 1 5.8 1 1.3 1 3 1 -1.4 1 1 1 .3 1 -.4 1 1.9 1 -.2 1 -1 1 .7 1 .1 1 -.3 1 -.4 1 1.2 1 -.7 1 .5 1 -1 1 .6 1 .3 1 -.2 1 0 1 -.7 1 0 1 1.3 1 -.7 1 -.7 1 1.4 1 -1.5 1 1.1 1 0 1 -1.7 1 2.6 1 -.4 1 -1.1 1 .5 1 -1.4 1 1.1 1 -1.4 1 -1.5 1 -4.6 1 -11.1 1 -14.6 1 -14 1 2 1 13.9 1 13.7 1 9.9 1 5.5 1 .5 1 .9 1 -.5 1 .6 1 .6 1 -1.1 1 .9 1 1.1 1 -1 1 1.5 1 -.3 1 -.1 1 -2.8 1 3.5 1 -.6 1 -1.2 1 .5 1 1.2 1 -.1 1 -.8 1 0 1 .9 1 -.5 1 -.8 1 .8 1 -.8 1 1.7 1 -1 1 .9 1 -.4 1 -.5 1 .3 1 .2 1 -.9 1 .2 1 -1 1 .3 1 .4 1 0 1 1.8 1 -.3 1 -.4 1 -.4 1 1.2 1 -.2 1 -.3 1 0 1 1.2 1 -1.4 1 -1.3 1 -.4 1 .2 1 -2.4 1 -5 1 -2.1 1 .2 1 3.2 1 3.6 1 2.9 1 -1 1 -.6 1 -1.2 1 -4.6 1 -10.5 1 -9.8 1 -6.3 1 8 1 10.4 1 8.5 1 4.1 1 2.1 1 .8 1 -1 1 1 1 .9 1 0 1 -.1 1 -.7 1 -.4 1 -1 1 -.8 1 -.6 1 -2.9 1 -3 1 -11.8 1 -26.4 1 -51.8 1 -63.6 1 -30.7 1 36.1 1 58.8 1 45.3 1 19.7 1 10.6 1 6.6 1 6.1 1 3.5 1 2.7 1 1.1 1 1.7 1 -.3 1 .3 1 0 1 -.2 1 1.1 1 -1.1 1 0 1 -.3 1 -1.7 1 -1.9 1 -3.2 1 -10.4 1 -20.8 1 -25.4 1 -11.6 1 14.9 1 25.6 1 17.9 1 10.8 1 4.6 1 1 1 .6 1 .6 1 -1.3 1 2.5 1 -1.2 1 -.2 1 -.3 1 -3 1 -3.9 1 -2.7 1 -.6 1 4.3 1 3.1 1 3.2 1 .3 1 .4 1 .9 1 0 1 -.7 1 1 1 -.3 1 -.3 1 .4 1 -1.2 1 -.1 1 .1 1 -1.3 1 1.7 1 -1 1 1.2 1 -1.5 1 -2.3 1 2.7 1 .5 1 -.1 1 -.7 1 .3 1 .4 1 -1.2 1 0 1 .2 1 -.1 1 .7 1 -.4 1 -.9 1 -1.8 1 3 1 1.3 1 -1.5 1 .7 1 -1.6 1 .4 1 .7 1 -.3 1 -.4 1 .2 1 -2.3 1 -.5 1 -.9 1 .1 1 -.1 1 0 1 1.6 1 .3 1 .4 1 .5 1 .5 1 1.7 1 -1 1 -.4 1 -1 1 2.5 1 -.4 1 .7 1 -1.2 1 .7 1 .6 1 -.9 1 .4 1 .8 1 -.7 1 -.3 1 .3 1 -1.2 1 1 1 -.2 1 .5 1 0 1 .4 1 .7 1 -.8 1 -.1 1 -1.1 1 1.8 1 -1.5 1 .8 1 -.9 1 0 1 1.5 1 -.8 1 .1 1 -.1 1 .5 1 -1.1 1 1.7 1 -1.1 1 .9 1 -1.8 1 1.1 1 -.9 1 -1.4 1 .2 1 -1.3 1 -.4 1 1.7 1 .9 1 .5 1 -.6 1 -.3 1 2.3 1 -2.7 1 1.8 1 -1.1 1 1.8 1 -.4 1 -.5 1 0 1 .8 1 -.3 1 -.4 1 1.5 1 -1.7 1 -.7 1 1.4 1 -.4 1 .4 1 -2 1 1.9 1 -.6 1 .8 1 .2 1 .5 1 -.4 1 .8 1 -.8 1 .2 1 -.6 1 .7 1 1.2 1 -.9 1 -.4 1 -.7 1 .7 1 -.6 1 -.1 1 -1.4 1 1.7 1 -.1 1 -.7 1 .7 1 0 1 -3.8 1 -1.2 1 -5.9 1 -8.8 1 -7.9 1 -3.6 1 4.2 1 9.4 1 7.6 1 4.4 1 1.8 1 2.4 1 -.7 1 .8 1 1.3 1 -1.5 1 1.1 1 -.2 1 -.2 1 .3 1 .7 1 -1 1 .5 1 -.5 1 0 1 -.9 1 .6 1 -.3 1 0 1 .2 1 -1.1 1 1.1 1 .6 1 1.1 1 -.4 1 -.2 1 .4 1 -1.5 1 1.8 1 -.2 1 -1.3 1 .4 1 -.9 1 1.4 1 -.2 1 -.8 1 .8 1 .6 1 -1.5 1 1 1 -1.1 1 .8 1 -.1 1 -1.3 1 1.7 1 -.6 1 -1.4 1 1.3 1 0 1 .7 1 -.6 1 1.1 1 -1.1 1 .2 1 .1 1 .6 1 -1 1 .1 1 -1 1 .2 1 .2 1 -.2 1 .3 1 -.6 1 .8 1 .6 1 -1.1 1 1.5 1 -1.8 1 -.3 1 1.6 1 -1.2 1 0 1 1.3 1 -2.1 1 1 1 -.3 1 -1 1 .6 1 .5 1 .5 1 -.1 1 .5 1 .2 1 -.1 1 -1.3 1 1.3 1 -1.5 1 1.1 1 -.1 1 .3 1 .9 1 -1.7 1 1.1 1 .8 1 -1.1 1 -.1 1 .1 1 .6 1 -1.2 1 .5 1 .5 1 -.6 1 .2 1 -.4 1 -1.1 1 2.4 1 -.2 1 -1.2 1 .1 1 -.7 1 .7 1 -.2 1 .4 1 -1 1 -.1 1 -1.4 1 -1.7 1 -4.4 1 -6.8 1 -3.9 1 4 1 6.8 1 4.3 1 3 1 .2 1 1.1 1 .7 1 -.6 1 1.2 1 -.3 1 -.2 1 -1.3 1 1.4 1 0 1 -.3 1 .2 1 -.7 1 -.5 1 .8 1 -.4 1 0 1 -.4 1 1.2 1 -1.1 1 -1.6 1 -.5 1 -1.1 1 0 1 .8 1 .5 1 0 1 2.4 1 -.1 1 .3 1 .3 1 .4 1 -.4 1 .1 1 -1.1 1 1.6 1 -2 1 .7 1 .5 1 -2.4 1 .6 1 -1.3 1 .2 1 -2.1 1 .5 1 2 1 .5 1 1.4 1 -.1 1 .1 1 .8 1 .1 1 -.3 1 -.9 1 .3 1 0 1 .3 1 .3 1 -.8 1 .2 1 .2 1 .6 1 -.3 1 .9 1 -1.8 1 1.8 1 -2 1 .4 1 .9 1 -1.3 1 1.3 1 .6 1 -.2 1 .5 1 -.6 1 -.7 1 .3 1 .3 1 -.4 1 -.1 1 -.3 1 .8 1 1.4 1 -2.8 1 .8 1 1.4 1 -.7 1 -.4 1 .6 1 .3 1 -.2 1 -.3 1 -.4 1 .7 1 -.7 1 .2 1 -.7 1 1.9 1 -.6 1 -.5 1 .1 1 -.3 1 -.8 1 .8 1 .3 1 0 1 -.3 1 .8 1 -1.5 1 1.5 1 -.4 1 0 1 .8 1 0 1 -.3 1 0 1 -.3 1 -.2 1 -.3 1 -.2 1 .5 1 .3 1 .1 1 0 1 -.5 1 .3 1 .1 1 .1 1 -1.5 1 1 1 -.9 1 .5 1 -.1 1 .3 1 -.8 1 -.4 1 .1 1 .1 1 -1.1 1 -1.7 1 -6.4 1 -3 1 -7.1 1 -.3 1 .1 1 4.6 1 4.3 1 4.5 1 3 1 2 1 1 1 -.9 1 .5 1 .4 1 -.3 1 .1 1 -.5 1 -.5 1 .6 1 .6 1 .4 1 -2 1 -.2 1 1.3 1 -.7 1 .7 1 -.9 1 -.3 1 1.4 1 .6 1 -.8 1 -.8 1 .9 1 -.5 1 -.1 1 1.4 1 -1.2 1 -1 1 1.5 1 -.4 1 0 1 0 1 .4 1 -.5 1 .2 1 .2 1 1.2 1 -1.1 1 0 1 .1 1 -.2 1 -.5 1 .1 1 .6 1 .9 1 -2 1 1.1 1 .3 1 -1.5 1 1.6 1 -.2 1 1 1 -1.2 1 -.1 1 .6 1 -.9 1 1.1 1 -.4 1 -.4 1 .3 1 -1.1 1 1.4 1 1 1 -1.1 1 -.2 1 .2 1 .6 1 0 1 -3.5 1 3 1 -.1 1 -.9 1 -.5 1 1.3 1 -1.1 1 .7 1 -1.7 1 -.9 1 -.9 1 -2.6 1 -6 1 -11 1 -18.1 1 -22.8 1 -17.5 1 2.2 1 17.3 1 23.5 1 18 1 10.4 1 5.2 1 2.6 1 .3 1 -.3 1 1.5 1 -1.2 1 .1 1 -.3 1 .7 1 1.2 1 -1.1 1 .3 1 .7 1 -.1 1 -.7 1 -.7 1 1.9 1 -1.5 1 .2 1 1.9 1 -2.2 1 2 1 -.3 1 .5 1 -1.3 1 -.3 1 1.8 1 -1.5 1 .8 1 .2 1 -1 1 -.2 1 .1 1 -.7 1 1.3 1 -.1 1 -.6 1 .8 1 -.6 1 1 1 -1.9 1 1.8 1 .5 1 -1.3 1 .7 1 -.6 1 .2 1 .7 1 -.8 1 .9 1 -1.8 1 2.3 1 -.6 1 .8 1 -.1 1 -.4 1 -.6 1 .7 1 .2 1 -.9 1 .9 1 -2.4 1 1.1 1 .9 1 -1.2 1 .8 1 -.2 1 -.6 1 -.8 1 .5 1 -.8 1 -.5 1 -.7 1 -.5 1 .5 1 3 1 .6 1 -1.4 1 1.9 1 -.2 1 .4 1 -.3 1 -.3 1 .4 1 -1.8 1 .9 1 .3 1 -1.7 1 1.2 1 -.8 1 0 1 .7 1 -1.2 1 .4 1 1.2 1 -1.7 1 1.2 1 .2 1 -.6 1 .6 1 .1 1 0 1 -.4 1 .7 1 -2.2 1 1.8 1 -.1 1 0 1 .3 1 -.2 1 -1 1 -.1 1 .8 1 -.3 1 -.1 1 -.5 1 1.2 1 -.6 1 .3 1 0 1 .2 1 -.7 1 .5 1 .6 1 -.7 1 0 1 0 1 .2 1 -.5 1 -.4 1 .9 1 -1.3 1 -.5 1 1.3 1 -.9 1 -1.3 1 -1.7 1 -5.3 1 -10.8 1 -15.3 1 -21.4 1 -15.3 1 .3 1 17.9 1 20.8 1 15.5 1 9.2 1 4.5 1 1.4 1 .2 1 1 1 .8 1 -.7 1 .2 1 -1.8 1 -.6 1 -5.7 1 -9.7 1 -6.8 1 -.8 1 8.1 1 9.6 1 4.7 1 3 1 1.3 1 .7 1 -1.6 1 1.3 1 -.1 1 -.1 1 .7 1 .1 1 -.8 1 0 1 .4 1 .7 1 .5 1 -1.1 1 .4 1 -.3 1 0 1 .4 1 .5 1 .3 1 .6 1 -1.9 1 -.1 1 .6 1 1.4 1 -1.2 1 .1 1 1.6 1 -1.6 1 .8 1 .2 1 0 1 -.5 1 .3 1 1.1 1 -3.4 1 3.2 1 -1.5 1 1.4 1 -.8 1 -1.4 1 -.1 1 .9 1 .4 1 0 1 .2 1 -.7 1 -.6 1 1.3 1 -.3 1 -.5 1 .1 1 .3 1 .3 1 -.4 1 .5 1 -.3 1 -.1 1 0 1 -.2 1 .3 1 -.1 1 -.3 1 .1 1 .5 1 1.2 1 -1.2 1 0 1 -.1 1 .1 1 0 1 -.1 1 -1.1 1 1.9 1 -1.6 1 .7 1 .6 1 -.4 1 -.1 1 -1 1 .9 1 .3 1 .3 1 -.9 1 .5 1 .1 1 -.7 1 .4 1 1 1 -1 1 .1 1 -1 1 1.6 1 -.5 1 .4 1 -.2 1 .4 1 -.7 1 .6 1 -.3 1 -.7 1 .7 1 -.6 1 -.1 1 .7 1 .2 1 -.6 1 0 1 .3 1 -1.6 1 1 1 .4 1 -1.1 1 .6 1 -1.4 1 .4 1 .4 1 .5 1 -1.2 1 -2.3 1 2.7 1 -.9 1 .4 1 -.9 1 -.1 1 -2.3 1 -6.6 1 -6.9 1 -7.1 1 -.2 1 8.7 1 6.6 1 5.8 1 1.6 1 1.3 1 .1 1 -.2 1 1.2 1 -.7 1 1.3 1 -1 1 -.9 1 .2 1 -.4 1 1 1 -2.1 1 1.7 1 -.3 1 0 1 -.6 1 -.3 1 .6 1 -.2 1 1 1 -.8 1 -.4 1 -3.5 1 -4.1 1 -2.6 1 -.5 1 4.4 1 3 1 2.6 1 1.5 1 -1.1 1 2.2 1 -.5 1 .2 1 .8 1 -1.2 1 1 1 -1.9 1 1.7 1 -1.4 1 .7 1 .8 1 .7 1 -.9 1 .1 1 -.7 1 .6 1 -.2 1 .2 1 -.2 1 .1 1 0 1 -.1 1 0 1 -.2 1 1.2 1 -1.4 1 -.8 1 -.2 1 .9 1 -3.1 1 0 1 -2.7 1 -.7 1 1.8 1 2.3 1 1.6 1 -.1 1 -.1 1 1.3 1 -.1 1 -1.3 1 .8 1 .7 1 .2 1 -2 1 .4 1 .4 1 -.4 1 -.1 1 .4 1 -.7 1 .1 1 .8 1 .5 1 -.1 1 0 1 .5 1 -.5 1 -.7 1 1.1 1 -.9 1 1.9 1 -2.1 1 .6 1 0 1 -.4 1 1.3 1 -1.4 1 -.1 1 1.1 1 -1.2 1 .1 1 .9 1 -.3 1 .5 1 -2.4 1 3.2 1 -2 1 1 1 -1.5 1 .3 1 1.1 1 -3.7 1 2.6 1 1.2 1 -.9 1 1.5 1 -1.3 1 0 1 .5 1 -1 1 1 1 -1.1 1 .6 1 -1 1 1.4 1 -.1 1 -1.1 1 1.5 1 .1 1 -.3 1 -3 1 3.4 1 .2 1 -.7 1 .6 1 -.4 1 -1.8 1 -3.8 1 -1.8 1 -2 1 -2.7 1 .6 1 2.1 1 3.1 1 3.2 1 1.6 1 1.1 1 1.3 1 .4 1 -.2 1 -.7 1 1.2 1 -.5 1 1.2 1 -1.8 1 .7 1 .4 1 -.5 1 -.6 1 .3 1 .4 1 -.6 1 -.1 1 -1.4 1 1.5 1 -1.9 1 0 1 -2.4 1 2 1 .7 1 .8 1 .3 1 -.6 1 1.6 1 -.1 1 .4 1 -1 1 -.5 1 1.1 1 -.2 1 .3 1 -.1 1 -1.7 1 .7 1 -.1 1 .6 1 .5 1 -1.7 1 .4 1 -.3 1 -1.2 1 1 1 1.3 1 -.6 1 .1 1 1.6 1 -1.6 1 .3 1 .2 1 -.5 1 .6 1 -1.7 1 1.6 1 1.1 1 -1.1 1 .4 1 -.2 1 .2 1 -.7 1 .4 1 -.2 1 -.2 1 .2 1 -.2 1 .4 1 1.3 1 -1.2 1 -.7 1 1.2 1 -1.3 1 .5 1 1.4 1 -.2 1 -.6 1 .2 1 -1.2 1 1.4 1 -1.2 1 1.1 1 -.9 1 1.4 1 -1.6 1 .3 1 .7 1 .3 1 -.7 1 -.2 1 .6 1 -1.8 1 .6 1 -.5 1 .9 1 .3 1 0 1 .2 1 -.2 1 .3 1 -.5 1 .5 1 -1 1 -.1 1 -.3 1 .7 1 0 1 .4 1 0 1 -.9 1 -.3 1 .8 1 .8 1 .2 1 -.3 1 -1.5 1 -.1 1 1.6 1 -.5 1 1.4 1 -.6 1 -1.4 1 1.2 1 .7 1 -.5 1 .3 1 -.7 1 .3 1 0 1 -.1 1 1 1 -.2 1 -.3 1 -.1 1 -.6 1 .7 1 -.2 1 .1 1 -.2 1 -1 1 1 1 .6 1 -1 1 -1.4 1 1.1 1 2.1 1 -1.3 1 -1.7 1 1.6 1 -1.3 1 1.4 1 -1.1 1 .7 1 -.7 1 -.2 1 -.1 1 .4 1 0 1 -.2 1 .9 1 -.6 1 .8 1 -2.2 1 -2.4 1 2.2 1 .8 1 .6 1 -.3 1 -.1 1 .5 1 -.6 1 -.2 1 .8 1 -1.6 1 .7 1 0 1 -.9 1 1 1 -.2 1 .2 1 -1.8 1 1.9 1 1 1 -2 1 1.1 1 1.9 1 -.7 1 -1 1 .3 1 -.8 1 1.3 1 -.3 1 .5 1 -.9 1 1.1 1 -1.6 1 .7 1 .4 1 -1.6 1 -1.6 1 2.4 1 -.6 1 1 1 -1.4 1 .4 1 .5 1 .5 1 -.1 1 -1.7 1 1.3 1 .9 1 -1.9 1 0 1 -.4 1 1.6 1 .3 1 -1.5 1 1.3 1 .8 1 -1.5 1 .2 1 -.9 1 1.1 1 -1.4 1 .7 1 .8 1 -.6 1 1.1 1 -.4 1 -.1 1 .1 1 0 1 0 1 -.2 1 .6 1 -.4 1 -.2 1 .3 1 -1.3 1 .2 1 .3 1 -.6 1 .6 1 1.1 1 -.8 1 .1 1 .4 1 .3 1 .4 1 -1.2 1 .8 1 -.4 1 .5 1 -.1 1 -.5 1 .6 1 .3 1 -1.2 1 .4 1 -.9 1 .9 1 .7 1 .7 1 -.7 1 -.4 1 -.3 1 1.1 1 .8 1 -2.5 1 .7 1 .8 1 -.2 1 .1 1 -1.5 1 1.4 1 -.4 1 .9 1 -.4 1 -.1 1 0 1 1 1 -.6 1 1.3 1 -1.2 1 -.4 1 1.5 1 -2 1 .3 1 .5 1 -.6 1 .7 1 -.2 1 1.1 1 -1.4 1 1.2 1 -.6 1 -1.5 1 .9 1 0 1 -.1 1 -.3 1 -.3 1 .6 1 -.7 1 .8 1 -.4 1 0 1 .3 1 .8 1 -.8 1 -1 1 1.5 1 .3 1 -1.5 1 .4 1 1.8 1 -2 1 .9 1 .4 1 .7 1 -.6 1 -.4 1 .1 1 -1 1 1.5 1 -1.8 1 -.6 1 1.1 1 1.3 1 -1.1 1 -.5 1 .8 1 .3 1 -.5 1 .5 1 -.5 1 -.5 1 -.3 1 .5 1 0 1 -.9 1 2.2 1 .7 1 -2.3 1 .6 1 .4 1 -.2 1 -.9 1 .9 1 0 1 -.6 1 -.2 1 .4 1 -1.7 1 2.3 1 -.7 1 -.7 1 .5 1 .5 1 -1 1 .3 1 .9 1 .1 1 -.6 1 -1.5 1 2.3 1 -2 1 1 1 -.2 1 -.1 1 .3 1 .4 1 .5 1 -1.6 1 .7 1 .3 1 .7 1 -1.7 1 .5 1 .2 1 -.1 1 -.7 1 1.6 1 -1.3 1 -.9 1 2.1 1 -2 1 2.2 1 .2 1 -1.2 1 .3 1 .3 1 -1.8 1 1.2 1 .1 1 .1 1 -1.6 1 -1.5 1 -1.6 1 -3.6 1 -3.2 1 -4.2 1 -2.3 1 1 1 3.6 1 3.5 1 3.4 1 2.6 1 2.3 1 -.6 1 1.6 1 .9 1 .2 1 -1.2 1 -.4 1 -1.6 1 -1.2 1 -1.2 1 1.4 1 1.7 1 1 1 .2 1 .7 1 .2 1 .5 1 -.9 1 -1" fill="none" stroke="#ff00ff" stroke-width="2.8" stroke-linejoin="round"/>
<path d="M84.6 4262.3l.5 -1.1 .5 1.4 .5 -.5 .5 1 .5 -.6 .5 .9 .5 -1.5 .5 .5 .5 .4 .5 -.6 .5 .2 .5 -3.4 .5 3.4 .5 -2.1 .5 2 .5 -.2 .5 .6 .5 -.8 .5 -.1 .5 .8 .5 -1.6 .5 1.4 .5 -.9 .5 .9 .5 .1 .5 -1.5 .5 .5 .5 -1.2 .5 1.4 .5 1.1 .5 -.2 .5 -1 .5 1.1 .5 -1.7 .5 1.2 .5 -.1 .5 .8 .5 0 .5 .3 .5 .3 .5 .4 .5 -2.6 .5 2.2 .5 -.3 .5 -.3 .5 .7 .5 .4 .5 -2.5 .5 2.4 .5 -.6 .5 .5 .5 -.4 .5 -1.4 .5 -.4 .5 1.3 .5 -.2 .5 .5 .5 -.7 .5 .7 .5 -1.3 .5 -.7 .5 .8 .5 .8 .5 -.4 .5 -1.2 .5 .7 .5 .2 .5 -1.1 .5 .1 .5 .7 .5 1.2 .5 -.6 .5 -.1 .5 .8 .5 -2.9 .5 2.5 .5 -2.4 .5 1.6 .5 -.4 .5 1 .5 .2 .5 .1 .5 -.8 .5 -1.7 .5 2.2 .5 .3 .5 -1.3 .5 .1 .5 .7 .5 -1.7 .5 1.3 .5 -1 .5 -.5 .5 1.1 .5 -.5 .5 1.4 .5 -1.8 .5 1.2 .5 -.7 .5 -.3 .5 .6 .5 -.3 .5 -.1 .5 .3 .5 -.6 .5 -.7 .5 1 .5 0 .5 -.8 .5 1.1 .5 .1 .5 1 .5 -.8 .5 -1.4 .5 2.1 .5 -1 .5 1 .5 -1.3 .5 .4 .5 .3 .5 -.2 .5 1.4 .5 -.4 .5 -.3 .5 -.5 .5 1.2 .5 -.7 .5 -1.9 .5 -2 .5 2.9 .5 .2 .5 -.1 .5 -1.3 .5 2.2 .5 -.2 .5 -.1 .5 0 .5 -.3 .5 .8 .5 -1.5 .5 -.3 .5 .3 .5 -2.5 .5 1.7 .5 .2 .5 .9 .5 .1 .5 -.7 .5 .7 .5 -1.2 .5 1.3 .5 .2 .5 -1.9 .5 2 .5 -1.1 .5 .5 .5 .2 .5 1.4 .5 -1.8 .5 1.1 .5 .1 .5 .1 .5 -2.5 .5 1.7 .5 0 .5 -.5 .5 1.9 .5 -.3 .5 -.5 .5 -.1 .5 -1.6 .5 .9 .5 -.6 .5 .6 .5 -1.5 .5 .7 .5 1.9 .5 .3 .5 -1.4 .5 -.2 .5 .7 .5 .8 .5 -.8 .5 .1 .5 .1 .5 .3 .5 .6 .5 -2 .5 .4 .5 1.4 .5 -.3 .5 -.7 .5 -1.9 .5 1.7 .5 1.1 .5 -1.4 .5 1.8 .5 -1.2 .5 -.1 .5 -.5 .5 1 .5 .8 .5 0 .5 .6 .5 -.8 .5 .6 .5 -.9 .5 .7 .5 -.5 .5 .7 .5 -1.8 .5 1.5 .5 -1.9 .5 2.1 .5 -1 .5 -1.1 .5 -.4 .5 -.5 .5 2.4 .5 -1.3 .5 .7 .5 -.7 .5 -.8 .5 -1.1 .5 1.8 .5 1.2 .5 0 .5 -.4 .5 -1.2 .5 1.4 .5 -1.9 .5 0 .5 1.4 .5 .4 .5 -.8 .5 .7 .5 -.5 .5 .5 .5 -.4 .5 .2 .5 .5 .5 -.9 .5 .6 .5 -1.9 .5 2.2 .5 -2 .5 .9 .5 .1 .5 .9 .5 -.1 .5 .3 .5 -.2 .5 -.8 .5 -.6 .5 0 .5 1.5 .5 -1.3 .5 1.6 .5 -1.8 .5 .8 .5 -.1 .5 1.6 .5 -.7 .5 .4 .5 -.8 .5 -.2 .5 .9 .5 -.6 .5 -1.1 .5 2.4 .5 -.5 .5 -1.6 .5 .2 .5 .9 .5 -2.2 .5 -.6 .5 2.1 .5 .1 .5 .1 .5 .4 .5 -.3 .5 0 .5 -.3 .5 -.2 .5 -.5 .5 1.7 .5 -1.8 .5 .6 .5 1 .5 -.3 .5 .3 .5 -1.7 .5 -1.3 .5 2.7 .5 -.9 .5 .9 .5 -.5 .5 -.1 .5 .2 .5 -.4 .5 -1.5 .5 2 .5 .2 .5 -3.4 .5 3.8 .5 -1.3 .5 1 .5 0 .5 -.2 .5 -1.8 .5 .6 .5 1.7 .5 -.1 .5 -1.9 .5 1.2 .5 0 .5 .4 .5 .2 .5 -.3 .5 .7 .5 .1 .5 -2.8 .5 2.4 .5 -2.6 .5 1.5 .5 .9 .5 -1.7 .5 2.9 .5 -1.4 .5 .8 .5 .3 .5 -1.8 .5 1.4 .5 .6 .5 -.6 .5 -1.1 .5 1.3 .5 -.4 .5 -.8 .5 -.7 .5 2.4 .5 -1.8 .5 .1 .5 1.5 .5 -.2 .5 -.4 .5 -.4 .5 .1 .5 0 .5 1.1 .5 -1.2 .5 .2 .5 .8 .5 -.6 .5 -.4 .5 .6 .5 .9 .5 -1.7 .5 .5 .5 -1.7 .5 1.5 .5 1.6 .5 -.4 .5 -.8 .5 1.4 .5 -.2 .5 -.4 .5 -1.2 .5 1.5 .5 .5 .5 .2 .5 .1 .5 -1.3 .5 .3 .5 -.2 .5 .3 .5 .1 .5 -.3 .5 -.7 .5 1.1 .5 0 .5 -.7 .5 -.7 .5 -.2 .5 .8 .5 .2 .5 -.7 .5 .3 .5 -.7 .5 .4 .5 .4 .5 .6 .5 -1.5 .5 .2 .5 -1.4 .5 3 .5 -.2 .5 .3 .5 -.6 .5 .6 .5 -.6 .5 -.7 .5 .1 .5 .8 .5 -1.1 .5 1.3 .5 -1.7 .5 1 .5 -.9 .5 1.2 .5 .1 .5 -.8 .5 0 .5 -2 .5 1.7 .5 .3 .5 -.1 .5 .9 .5 -.1 .5 .5 .5 -.3 .5 -.3 .5 .8 .5 -.2 .5 -4.8 .5 4.1 .5 0 .5 -.2 .5 .1 .5 -.2 .5 -1.9 .5 1.9 .5 -1.2 .5 .8 .5 -.6 .5 .7 .5 -.4 .5 -.7 .5 1.5 .5 -1.3 .5 .5 .5 .5 .5 -.3 .5 -.6 .5 -.9 .5 .5 .5 1 .5 -2.5 .5 .3 .5 1.4 .5 -.4 .5 1.1 .5 0 .5 -.6 .5 .2 .5 -.9 .5 .7 .5 .3 .5 -1 .5 -.4 .5 1.4 .5 -1.3 .5 .9 .5 .2 .5 -2.5 .5 1.4 .5 -.7 .5 1.3 .5 .8 .5 -.3 .5 -1.9 .5 1.7 .5 .4 .5 -1.3 .5 .7 .5 0 .5 1.2 .5 -.5 .5 -.6 .5 .9 .5 .5 .5 -.5 .5 -.7 .5 .2 .5 -.1 .5 -1.4 .5 1.3 .5 1.4 .5 -.9 .5 .2 .5 .7 .5 -.6 .5 -.1 .5 .3 .5 .9 .5 -1.8 .5 -.1 .5 .8 .5 -1.3 .5 2 .5 -.5 .5 -1.4 .5 1.1 .5 -2.2 .5 2.2 .5 -.2 .5 .1 .5 -1.6 .5 1.3 .5 .4 .5 .5 .5 -1.5 .5 .6 .5 -.1 .5 .1 .5 -.4 .5 -.5 .5 .9 .5 .5 .5 -2.4 .5 1.5 .5 .7 .5 -2.3 .5 2.5 .5 -1.6 .5 -.2 .5 2 .5 -2.8 .5 1 .5 1.6 .5 .3 .5 -1.3 .5 1.1 .5 -.8 .5 .6 .5 .4 .5 -1.4 .5 1.7 .5 -1.9 .5 .7 .5 .9 .5 .1 .5 .3 .5 -1.4 .5 1.3 .5 -.4 .5 -.3 .5 .3 .5 -.7 .5 -.5 .5 0 .5 1.7 .5 -1.7 .5 .9 .5 0 .5 .3 .5 .8 .5 -2.3 .5 1.3 .5 -.1 .5 .6 .5 .2 .5 -3.2 .5 1 .5 1.2 .5 .2 .5 1.5 .5 -.1 .5 -1.5 .5 -.4 .5 -1.4 .5 2.3 .5 -.5 .5 1.8 .5 -2.3 .5 1.8 .5 -1.7 .5 -.2 .5 2.4 .5 -1.7 .5 0 .5 .7 .5 -.8 .5 1.2 .5 -.7 .5 .8 .5 -1.2 .5 .9 .5 -.5 .5 -1.2 .5 -.7 .5 2.4 .5 -2 .5 1.2 .5 .1 .5 -1.1 .5 -.8 .5 -1.4 .5 3.2 .5 .3 .5 -2 .5 2.1 .5 -.8 .5 .3 .5 .6 .5 -.2 .5 -1.3 .5 1.3 .5 -1.6 .5 -.4 .5 -.3 .5 2.2 .5 -.3 .5 -.8 .5 .8 .5 -.4 .5 -.3 .5 -.6 .5 1.3 .5 -.4 .5 0 .5 -1.4 .5 -3.4 .5 3.5 .5 0 .5 .6 .5 -.5 .5 -.2 .5 -.4 .5 .5 .5 .2 .5 .4 .5 -1.5 .5 2 .5 .5 .5 -.5 .5 .5 .5 -.9 .5 -.2 .5 -.6 .5 -.6 .5 .3 .5 .2 .5 0 .5 1.1 .5 -1.4 .5 -.3 .5 .2 .5 2.3 .5 0 .5 .4 .5 -.1 .5 -1.1 .5 1.4 .5 -1.1 .5 -.8 .5 2.6 .5 -.8 .5 1 .5 -2 .5 1.4 .5 .1 .5 -1.9 .5 2.2 .5 -.6 .5 -1.1 .5 2.1 .5 -3.1 .5 3.1 .5 -.2 .5 .5 .5 -.8 .5 1.2 .5 -3 .5 2.2 .5 -.9 .5 .8 .5 -2.8 .5 -.8 .5 3.5 .5 -.9 .5 1.1 .5 -.5 .5 -.2 .5 .3 .5 -.4 .5 .9 .5 -.9 .5 .5 .5 -.2 .5 .3 .5 -1.7 .5 1.6 .5 -.2 .5 -.8 .5 -.7 .5 -2 .5 .1 .5 -2.9 .5 -2 .5 -.8 .5 -5.3 .5 3.2 .5 -.5 .5 2 .5 2.1 .5 .3 .5 1.7 .5 2.9 .5 -1 .5 .4 .5 1.5 .5 .7 .5 -6.6 .5 6.6 .5 -.5 .5 -.8 .5 .9 .5 .5 .5 -2.2 .5 1.9 .5 -1 .5 .5 .5 -.7 .5 1.1 .5 .3 .5 -.1 .5 -1 .5 0 .5 1.1 .5 -.2 .5 -.8 .5 -1.8 .5 2 .5 .9 .5 -.8 .5 -.1 .5 .3 .5 -.2 .5 .4 .5 .7 .5 -.8 .5 -1.4 .5 0 .5 2.2 .5 -.6 .5 .1 .5 .4 .5 -2.2 .5 1.5 .5 .7 .5 -.5 .5 .1 .5 -.4 .5 .9 .5 -.1 .5 -1.1 .5 .8 .5 .2 .5 -1.7 .5 .7 .5 .5 .5 .1 .5 .1 .5 .2 .5 -.7 .5 -.6 .5 -.8 .5 2.7 .5 -.8 .5 .9 .5 -.2 .5 0 .5 -1.7 .5 .2 .5 -.7 .5 .4 .5 .3 .5 1.7 .5 -1.4 .5 1.3 .5 -.2 .5 -.2 .5 .2 .5 .3 .5 .2 .5 -1.5 .5 .8 .5 .9 .5 -1.7 .5 -.9 .5 1.8 .5 -.6 .5 .7 .5 -.9 .5 -.9 .5 1.8 .5 -1.8 .5 1.2 .5 1.2 .5 -.7 .5 .8 .5 -.3 .5 -2.4 .5 2.3 .5 .6 .5 -2.8 .5 .9 .5 -1.3 .5 1 .5 2.1 .5 -1.5 .5 1.9 .5 -.5 .5 -2.2 .5 -.2 .5 2.7 .5 .1 .5 -.5 .5 -2.2 .5 2.5 .5 -.8 .5 -2.2 .5 2.7 .5 -2.7 .5 .1 .5 .9 .5 2.2 .5 0 .5 -1.6 .5 1.3 .5 -.7 .5 .1 .5 .9 .5 -.9 .5 .8 .5 -.2 .5 -2.1 .5 1.7 .5 .8 .5 -.3 .5 -.2 .5 .8 .5 -.2 .5 -1.4 .5 -.5 .5 1.5 .5 -.7 .5 .9 .5 -.5 .5 .4 .5 -.3 .5 -1.8 .5 1 .5 .3 .5 -.8 .5 .1 .5 -.1 .5 -1.1 .5 .8 .5 .7 .5 -.3 .5 -.1 .5 -.9 .5 .5 .5 .9 .5 -.7 .5 .5 .5 -.5 .5 -.2 .5 -.4 .5 1.2 .5 .1 .5 -2.1 .5 -1.4 .5 3 .5 -.1 .5 -1.1 .5 1.7 .5 -1.3 .5 .4 .5 .2 .5 -.6 .5 -.4 .5 -.4 .5 .4 .5 .2 .5 1.9 .5 -1 .5 .4 .5 .5 .5 .4 .5 -.7 .5 -1.4 .5 1 .5 -.7 .5 1.4 .5 -1.6 .5 .1 .5 -2.2 .5 2.4 .5 -.7 .5 -2.3 .5 1 .5 .2 .5 -.1 .5 -.1 .5 0 .5 -1.4 .5 1.9 .5 .1 .5 .5 .5 -.8 .5 2 .5 -2.1 .5 2.4 .5 0 .5 .8 .5 .1 .5 .8 .5 .5 .5 -.4 .5 -.9 .5 1.1 .5 -.3 .5 .5 .5 -.7 .5 -1.8 .5 1.8 .5 -.1 .5 .9 .5 -.9 .5 .6 .5 -.6 .5 -.7 .5 -.5 .5 .4 .5 .4 .5 -.8 .5 1.5 .5 -.8 .5 .8 .5 -.7 .5 1 .5 -.2 .5 -.4 .5 .3 .5 .1 .5 -.1 .5 -1.9 .5 1.6 .5 -.4 .5 -1.2 .5 .3 .5 .4 .5 -.5 .5 -1 .5 1.1 .5 -1.5 .5 2.7 .5 -1.6 .5 .9 .5 -1.7 .5 -.6 .5 2.4 .5 -.5 .5 -.1 .5 1.1 .5 .1 .5 -4.1 .5 3.5 .5 -.1 .5 .2 .5 -1.3 .5 -1 .5 1.1 .5 1.2 .5 -.3 .5 .2 .5 .5 .5 -4.3 .5 4 .5 -3 .5 2.5 .5 -.2 .5 .9 .5 0 .5 -.4 .5 -1.2 .5 -.4 .5 .6 .5 .8 .5 -.2 .5 .1 .5 -1.2 .5 1.1 .5 -1.9 .5 2.4 .5 -2.8 .5 2.5 .5 -.8 .5 .9 .5 -2.2 .5 2.5 .5 -.5 .5 -1 .5 1.4 .5 .8 .5 -1 .5 .8 .5 -1.1 .5 -.5 .5 .9 .5 -1.9 .5 2.6 .5 -.4 .5 -1.4 .5 1.1 .5 0 .5 -.3 .5 .5 .5 -.1 .5 -.3 .5 0 .5 -.2 .5 .1 .5 .8 .5 -1.8 .5 0 .5 1.2 .5 -1.1 .5 1.2 .5 -2.9 .5 2.2 .5 -.6 .5 -.3 .5 -1.2 .5 2.4 .5 -1.9 .5 2.4 .5 -1.3 .5 -.7 .5 -.7 .5 1.9 .5 -.5 .5 .4 .5 -.8 .5 1 .5 .3 .5 -.1 .5 -.8 .5 .8 .5 -1.8 .5 .6 .5 .5 .5 .7 .5 -.6 .5 -1.1 .5 1.4 .5 -1.3 .5 .4 .5 1.4 .5 -.5 .5 .1 .5 0 .5 -2.3 .5 1.7 .5 .3 .5 .1 .5 -2.9 .5 1.4 .5 1.2 .5 -.5 .5 .5 .5 .8 .5 -.2 .5 -.3 .5 -.6 .5 -2.1 .5 .9 .5 -1.4 .5 1.3 .5 -1 .5 -1.7 .5 0 .5 -2.6 .5 -.7 .5 -.7 .5 -.4 .5 -.4 .5 -1.9 .5 .6 .5 .6 .5 1.7 .5 1.7 .5 1.2 .5 -.2 .5 -.7 .5 -3.3 .5 8.1 .5 -.3 .5 -1.2 .5 2.5 .5 .2 .5 .1 .5 .2 .5 -1.1 .5 1.3 .5 .8 .5 -1.5 .5 1.2 .5 .5 .5 .4 .5 -2.2 .5 1.4 .5 -1.1 .5 1.2 .5 -.3 .5 -1.9 .5 1.6 .5 .2 .5 -2.9 .5 2.5 .5 .4 .5 -.3 .5 -.4 .5 .8 .5 -.4 .5 -.5 .5 .2 .5 -.8 .5 .4 .5 -1 .5 .1 .5 1.2 .5 -1.9 .5 2.5 .5 -.5 .5 .7 .5 -.1 .5 -.9 .5 1 .5 -1.7 .5 -.6 .5 1 .5 -.4 .5 -.1 .5 -2 .5 1.6 .5 .6 .5 -1.1 .5 1.4 .5 .5 .5 .1 .5 1.1 .5 -.9 .5 .5 .5 .8 .5 -.3 .5 -.4 .5 .6 .5 0 .5 -.5 .5 -1.4 .5 1.4 .5 -3.3 .5 1.8 .5 1.8 .5 .7 .5 -1.5 .5 .5 .5 -.6 .5 -1.5 .5 -9.1 .5 9.7 .5 1.9 .5 .9 .5 -1.4 .5 1.5 .5 -.2 .5 -1.5 .5 1.7 .5 -2.3 .5 2 .5 -.9 .5 -.1 .5 -1.2 .5 0 .5 1.8 .5 -1.1 .5 -.9 .5 2.3 .5 0 .5 -1.3 .5 -.5 .5 .7 .5 .7 .5 -2.8 .5 1.4 .5 1 .5 -1.7 .5 1.5 .5 -1.9 .5 .8 .5 -2 .5 3.3 .5 -.7 .5 -.9 .5 1.6 .5 -1.3 .5 1.4 .5 -.4 .5 -.5 .5 .7 .5 .2 .5 .5 .5 -3.2 .5 2.6 .5 -.7 .5 -.7 .5 1 .5 .3 .5 -.1 .5 .1 .5 0 .5 1 .5 -1.4 .5 .2 .5 1.1 .5 -.1 .5 -.1 .5 .7 .5 -1.2 .5 -1.6 .5 1.5 .5 -.6 .5 1.2 .5 -.2 .5 -2.1 .5 0 .5 1.1 .5 -1.2 .5 .5 .5 .2 .5 1 .5 .4 .5 -.3 .5 -1.4 .5 1.5 .5 .2 .5 -.8 .5 .9 .5 .2 .5 -.1 .5 .3 .5 -2.5 .5 2.6 .5 -1.5 .5 -.9 .5 .8 .5 1.2 .5 0 .5 -1.4 .5 1.2 .5 0 .5 -1.8 .5 .8 .5 -1.5 .5 1.7 .5 .7 .5 -1.8 .5 .5 .5 -.7 .5 2.2 .5 -.5 .5 1 .5 -.5 .5 -.3 .5 0 .5 .7 .5 -.2 .5 -1.5 .5 1.5 .5 .1 .5 -.1 .5 .2 .5 -2 .5 1.1 .5 -1.3 .5 -.8 .5 1.7 .5 .3 .5 -.2 .5 .3 .5 -1 .5 -.1 .5 1 .5 -1.4 .5 .6 .5 -.2 .5 -.8 .5 2.2 .5 -.8 .5 -2.5 .5 1.8 .5 .7 .5 -1.3 .5 -.4 .5 1.4 .5 -.5 .5 .5 .5 -.5 .5 -.9 .5 -.2 .5 0 .5 -2.3 .5 -.1 .5 -1.6 .5 -3.3 .5 -2.8 .5 -5.7 .5 -8.2 .5 -10.7 .5 -10.4 .5 -12 .5 -7.4 .5 -2.5 .5 4.2 .5 9 .5 11.9 .5 9.7 .5 9.5 .5 8 .5 6.2 .5 2.4 .5 3.2 .5 1.2 .5 .7 .5 -.4 .5 1.7 .5 -.1 .5 -.6 .5 .5 .5 1.1 .5 -.4 .5 -.4 .5 1.4 .5 -.3 .5 -.1 .5 .5 .5 -1 .5 -.7 .5 -1.4 .5 2.3 .5 .3 .5 -.5 .5 1.4 .5 -.7 .5 -.9 .5 -.7 .5 1.9 .5 -1.6 .5 -.3 .5 1.4 .5 -2.7 .5 2 .5 .1 .5 1.3 .5 -.2 .5 -.2 .5 -2.3 .5 2.7 .5 -.6 .5 -.1 .5 -.4 .5 -1 .5 .7 .5 -.1 .5 -.1 .5 -.5 .5 .4 .5 .1 .5 -.1 .5 -1 .5 1.4 .5 -3.1 .5 3 .5 .2 .5 .7 .5 -.8 .5 -.7 .5 1.4 .5 -.6 .5 -1.1 .5 .4 .5 .4 .5 -.3 .5 .9 .5 -.4 .5 -1.4 .5 1 .5 -.2 .5 0 .5 .5 .5 -2.2 .5 1.1 .5 .1 .5 .5 .5 -.5 .5 -1 .5 -1.1 .5 -1.1 .5 2 .5 -2.1 .5 -1.4 .5 -.7 .5 -4.7 .5 -3.8 .5 -8.5 .5 -8.2 .5 -10.7 .5 -10.1 .5 -9.4 .5 .3 .5 4.1 .5 1.7 .5 16 .5 9.6 .5 8.4 .5 6.7 .5 5.4 .5 1.7 .5 2.2 .5 3.1 .5 -2.6 .5 3.6 .5 -.1 .5 -1.8 .5 1.4 .5 .8 .5 .9 .5 -.4 .5 -2.4 .5 3.4 .5 -.4 .5 .7 .5 -.5 .5 -.6 .5 0 .5 .9 .5 -3.3 .5 3.1 .5 .9 .5 -1.3 .5 .7 .5 .4 .5 -1 .5 1 .5 -.1 .5 -.9 .5 .3 .5 -.3 .5 -1 .5 1.8 .5 .2 .5 -2.2 .5 1.9 .5 .2 .5 -.2 .5 .3 .5 .6 .5 -.4 .5 -.6 .5 .3 .5 -.9 .5 .3 .5 -.8 .5 1.4 .5 -1.9 .5 1.4 .5 .7 .5 -.4 .5 -.5 .5 1 .5 -.8 .5 -1.3 .5 -1.8 .5 .9 .5 .3 .5 .9 .5 -.3 .5 -.8 .5 -.4 .5 -1.2 .5 -1.2 .5 1.3 .5 -.5 .5 -.4 .5 .8 .5 2.5 .5 -1.1 .5 .9 .5 .5 .5 1 .5 -.3 .5 .8 .5 -.4 .5 0 .5 -.2 .5 0 .5 .5 .5 -1 .5 .8 .5 -.8 .5 -.2 .5 -.2 .5 .2 .5 -1.2 .5 .2 .5 .4 .5 1 .5 -.6 .5 1.1 .5 -1.4 .5 .8 .5 .5 .5 -2 .5 .1 .5 -.3 .5 .9 .5 .5 .5 .3 .5 -.7 .5 -.9 .5 -.6 .5 -2.1 .5 -3.3 .5 .6 .5 -.7 .5 -3.2 .5 .9 .5 -.3 .5 1 .5 1.1 .5 3.3 .5 1.3 .5 -1.1 .5 -.4 .5 3.2 .5 1.4 .5 -1.7 .5 1.6 .5 -1.8 .5 .4 .5 -1.5 .5 -.1 .5 -1.6 .5 -4.4 .5 -6.5 .5 -9.2 .5 -7.1 .5 -8.4 .5 -1.9 .5 4.1 .5 6.1 .5 8.7 .5 8.4 .5 7 .5 2 .5 3.8 .5 .3 .5 .8 .5 .9 .5 -.9 .5 -1.5 .5 2.1 .5 -.4 .5 -.9 .5 1 .5 -.2 .5 .3 .5 -1.9 .5 1.6 .5 -2.3 .5 .6 .5 -.3 .5 -.3 .5 1.2 .5 -.9 .5 -.6 .5 -.5 .5 -.1 .5 .4 .5 -1.1 .5 -.5 .5 -3.1 .5 -.4 .5 -3.9 .5 -4 .5 -5.4 .5 -12.1 .5 -15.5 .5 -22.6 .5 -29.9 .5 -33 .5 -30 .5 -23.9 .5 -8 .5 12.2 .5 24.2 .5 30.7 .5 29.5 .5 25.2 .5 20.3 .5 13.5 .5 7.4 .5 5.6 .5 3.8 .5 4 .5 3.1 .5 3.9 .5 2.8 .5 1.6 .5 2.8 .5 1.1 .5 .2 .5 1.8 .5 0 .5 .4 .5 .1 .5 -.6 .5 .7 .5 1.6 .5 -.8 .5 .1 .5 .8 .5 .1 .5 -.8 .5 1.1 .5 0 .5 -.8 .5 1.7 .5 -.8 .5 0 .5 .2 .5 -1 .5 1.1 .5 -4.2 .5 3.8 .5 -.9 .5 0 .5 -1.7 .5 -.7 .5 -4.7 .5 -3.6 .5 -9.9 .5 -14.4 .5 -18.7 .5 -20.8 .5 -17.7 .5 -6.8 .5 10.7 .5 17.4 .5 21.4 .5 19.2 .5 12.6 .5 7.9 .5 5 .5 2.2 .5 .5 .5 2 .5 -.1 .5 1.2 .5 .1 .5 -1.1 .5 1.4 .5 -1.2 .5 1.4 .5 -.4 .5 .8 .5 .3 .5 -.8 .5 .3 .5 .4 .5 -4.5 .5 2.9 .5 -1.6 .5 -1 .5 -5 .5 -1.8 .5 -1.6 .5 -2.6 .5 -.3 .5 .6 .5 2.7 .5 3 .5 1.5 .5 2.4 .5 1.3 .5 .5 .5 3.5 .5 -1.1 .5 2 .5 -.1 .5 -.2 .5 -2.2 .5 3.3 .5 -.5 .5 -.2 .5 .4 .5 -.1 .5 -2.8 .5 2.5 .5 0 .5 -1.2 .5 .9 .5 -.7 .5 -.1 .5 0 .5 .2 .5 -.7 .5 1 .5 -.9 .5 -.7 .5 2.5 .5 -1.9 .5 1.6 .5 -1.5 .5 2 .5 -.3 .5 .6 .5 -.5 .5 -1.3 .5 -1.1 .5 .5 .5 1.9 .5 -1.3 .5 1.2 .5 .2 .5 -2 .5 1.8 .5 -.9 .5 1.5 .5 -1.9 .5 0 .5 2 .5 .3 .5 -2.7 .5 2.1 .5 .6 .5 -.6 .5 -.7 .5 .9 .5 -.4 .5 -7.3 .5 8.2 .5 .3 .5 -1.3 .5 .8 .5 -.5 .5 .2 .5 -.2 .5 .9 .5 -.9 .5 -.4 .5 1.6 .5 -1.7 .5 .3 .5 -.4 .5 1.2 .5 .8 .5 -.9 .5 -.6 .5 1 .5 -.6 .5 .2 .5 .6 .5 -.2 .5 .1 .5 -.2 .5 .6 .5 -2.4 .5 2.2 .5 -.7 .5 -.2 .5 -1.5 .5 1.5 .5 -2.3 .5 -.2 .5 1.5 .5 .2 .5 -2.2 .5 -2.3 .5 2.3 .5 .4 .5 -.9 .5 -.1 .5 -.3 .5 -1 .5 -1.4 .5 .6 .5 .9 .5 .6 .5 -.6 .5 1.6 .5 -.5 .5 1.4 .5 .9 .5 -1.5 .5 2.5 .5 .2 .5 -1 .5 -1.3 .5 2.1 .5 .2 .5 .3 .5 -.9 .5 -1 .5 .8 .5 .1 .5 .2 .5 -1.2 .5 .9 .5 .2 .5 -.2 .5 -1 .5 .1 .5 .3 .5 1.3 .5 -.5 .5 .7 .5 -1.9 .5 1.7 .5 -.5 .5 1.1 .5 -2.1 .5 -.2 .5 2.1 .5 -1.4 .5 1.1 .5 0 .5 -1.3 .5 1.1 .5 -1.6 .5 1.6 .5 -.6 .5 .3 .5 -.1 .5 .4 .5 0 .5 -.3 .5 -1.1 .5 .1 .5 -.7 .5 1.7 .5 .1 .5 -1.9 .5 1.1 .5 -1.5 .5 2.1 .5 -2.2 .5 -1.6 .5 3.5 .5 .3 .5 -1.8 .5 -.1 .5 .8 .5 .7 .5 -.6 .5 .9 .5 -2.5 .5 2.5 .5 -.4 .5 -.8 .5 -.9 .5 1.7 .5 -.8 .5 1 .5 -.1 .5 -.2 .5 -1.6 .5 .8 .5 -.2 .5 .2 .5 -2.5 .5 2 .5 -4.6 .5 5.2 .5 -3.1 .5 2 .5 -.5 .5 .8 .5 -2.4 .5 -2.6 .5 2.2 .5 -.5 .5 -1.1 .5 1.6 .5 .7 .5 1 .5 .3 .5 .8 .5 -1.3 .5 .5 .5 .9 .5 -.7 .5 1.2 .5 0 .5 .8 .5 -1.2 .5 0 .5 .2 .5 .9 .5 .3 .5 -.1 .5 -1 .5 -.9 .5 .9 .5 .3 .5 -.5 .5 .5 .5 1 .5 -.2 .5 -.2 .5 .1 .5 0 .5 -1 .5 1.1 .5 -.2 .5 -.2 .5 .1 .5 -.3 .5 -.1 .5 -.4 .5 1.8 .5 -1.3 .5 -.2 .5 .3 .5 .4 .5 -.5 .5 1.1 .5 -1.5 .5 1.1 .5 0 .5 .1 .5 -1.1 .5 1.4 .5 .1 .5 -1.7 .5 .2 .5 1.4 .5 -.7 .5 -.4 .5 -.4 .5 1.5 .5 -1.4 .5 1.3 .5 -3.6 .5 1.9 .5 1.4 .5 -.2 .5 -.1 .5 -1.6 .5 -.1 .5 .9 .5 .9 .5 -1.5 .5 1.3 .5 .5 .5 -.2 .5 -.2 .5 .9 .5 .1 .5 -.7 .5 -.9 .5 .8 .5 .1 .5 .6 .5 -.1 .5 -2.3 .5 .7 .5 1.4 .5 -.5 .5 .1 .5 -.2 .5 .3 .5 .1 .5 .2 .5 -.6 .5 -.6 .5 1.2 .5 -1.2 .5 -.5 .5 1.2 .5 -1.5 .5 .7 .5 -1.3 .5 -.9 .5 -3.5 .5 .1 .5 -3.8 .5 -2.2 .5 -5.7 .5 -3 .5 -4.9 .5 -5.4 .5 -3.5 .5 .9 .5 .6 .5 4.1 .5 2.3 .5 5.9 .5 4.5 .5 3.9 .5 4.7 .5 3.1 .5 1.3 .5 1 .5 .2 .5 1.5 .5 -.1 .5 .6 .5 .1 .5 -.7 .5 1.1 .5 -2.3 .5 .9 .5 -.3 .5 1.5 .5 -.3 .5 -.6 .5 -.3 .5 .9 .5 -3 .5 1.9 .5 .6 .5 -.1 .5 1.3 .5 -.2 .5 .5 .5 -1.4 .5 1.3 .5 -.7 .5 1.3 .5 -1.5 .5 -.9 .5 1.4 .5 -.7 .5 1.7 .5 .1 .5 0 .5 -.4 .5 -1 .5 0 .5 .5 .5 -.5 .5 0 .5 1.4 .5 -.3 .5 -1.8 .5 2.2 .5 -.5 .5 -1.6 .5 -.1 .5 -.2 .5 -6.1 .5 5.2 .5 3.2 .5 -1.8 .5 .4 .5 -1.7 .5 2.6 .5 -.1 .5 -2.1 .5 1 .5 -.9 .5 2.9 .5 .2 .5 -.2 .5 -.6 .5 .8 .5 -.8 .5 0 .5 -.3 .5 .2 .5 .7 .5 .2 .5 0 .5 -.9 .5 .8 .5 -.6 .5 .2 .5 0 .5 -1.7 .5 .7 .5 1.1 .5 -.6 .5 .4 .5 -1 .5 -.6 .5 1.1 .5 -.3 .5 .6 .5 -.7 .5 -.1 .5 .4 .5 -1.4 .5 1.7 .5 .1 .5 -.4 .5 .2 .5 -.9 .5 .5 .5 -.5 .5 .2 .5 .2 .5 -1.1 .5 1.9 .5 -2.9 .5 3.2 .5 .1 .5 -6 .5 4.2 .5 1.4 .5 -1.3 .5 1.1 .5 .1 .5 -.4 .5 -.9 .5 .9 .5 -2.3 .5 1.6 .5 -1.1 .5 1.3 .5 -1.2 .5 -1.4 .5 1.5 .5 -1.1 .5 1.7 .5 -1.7 .5 1.1 .5 .8 .5 -1.1 .5 -.5 .5 -1.3 .5 1.9 .5 1.5 .5 -1.3 .5 -.7 .5 2.1 .5 -1.8 .5 2 .5 -1.4 .5 -1 .5 1.5 .5 -.7 .5 1.4 .5 -.5 .5 .3 .5 -.1 .5 -.1 .5 0 .5 -1.4 .5 1.6 .5 -1.1 .5 1 .5 -.7 .5 -1.1 .5 .5 .5 .3 .5 -1.3 .5 .2 .5 .7 .5 .2 .5 -1.6 .5 2.1 .5 -1.6 .5 -1.1 .5 2.9 .5 -1.1 .5 .3 .5 -1.3 .5 1.9 .5 .4 .5 .1 .5 -.8 .5 0 .5 -.9 .5 1.2 .5 0 .5 .4 .5 -1.1 .5 1.1 .5 -.4 .5 -.3 .5 -.4 .5 .9 .5 .3 .5 -1.1 .5 -2.7 .5 3.9 .5 -1.1 .5 0 .5 -.8 .5 2.6 .5 .2 .5 -.3 .5 -1.3 .5 .9 .5 .2 .5 .6 .5 -1.1 .5 -.3 .5 .7 .5 1 .5 -1.1 .5 .2 .5 -.1 .5 .7 .5 -.4 .5 .2 .5 -1.9 .5 .6 .5 -.2 .5 -1.6 .5 -.9 .5 1.1 .5 -2.3 .5 -.2 .5 1.2 .5 -.5 .5 1.5 .5 1.8 .5 .6 .5 -.9 .5 .1 .5 .9 .5 1.1 .5 -.3 .5 .9 .5 -.9 .5 .8 .5 -1.6 .5 1.7 .5 -2.8 .5 1.7 .5 .2 .5 -1.2 .5 .6 .5 -1.6 .5 -3.9 .5 -2.1 .5 -4.6 .5 -6.8 .5 -3.9 .5 .1 .5 2.1 .5 5.4 .5 3.8 .5 4.6 .5 3.7 .5 1.5 .5 1.7 .5 -1.8 .5 2.3 .5 .7 .5 -1.9 .5 -.1 .5 .7 .5 1.4 .5 .1 .5 -.5 .5 .5 .5 .2 .5 0 .5 -3.4 .5 1.3 .5 .9 .5 1.1 .5 .5 .5 -.7 .5 .4 .5 -1.7 .5 -.5 .5 .7 .5 1.6 .5 -.7 .5 -1.2 .5 1 .5 -1.4 .5 2.7 .5 -.7 .5 -1.8 .5 1.3 .5 .9 .5 -.3 .5 0 .5 -1.9 .5 -.9 .5 2.5 .5 .1 .5 -.1 .5 -.5 .5 -1 .5 .1 .5 .8 .5 -2 .5 1.5 .5 -.4 .5 -.4 .5 1.5 .5 -.1 .5 -1.6 .5 1.6 .5 -.3 .5 0 .5 -.3 .5 -.7 .5 1.3 .5 -2.8 .5 1.1 .5 1.1 .5 -1.6 .5 .9 .5 -.9 .5 -1.2 .5 -1.5 .5 0 .5 0 .5 -1.5 .5 2.3 .5 -1.4 .5 1.1 .5 .7 .5 1.5 .5 -1.1 .5 .9 .5 1.4 .5 .3 .5 .1 .5 0 .5 -1.2 .5 1.2 .5 1.5 .5 -1.6 .5 1.2 .5 0 .5 .9 .5 -1.2 .5 1.1 .5 -5.9 .5 5 .5 -.6 .5 0 .5 1 .5 -6.1 .5 3.5 .5 .5 .5 2.1 .5 -.2 .5 -.8 .5 .4 .5 -1.4 .5 1.7 .5 -.9 .5 -.1 .5 .4 .5 -.3 .5 -.6 .5 1.2 .5 .6 .5 -.8 .5 -1.6 .5 .9 .5 1.4 .5 -.8 .5 -1.4 .5 .5 .5 1.7 .5 .1 .5 -1.6 .5 2 .5 -1 .5 -1.2 .5 -.2 .5 2.2 .5 -1.5 .5 -.2 .5 .6 .5 -1.8 .5 3 .5 -.3 .5 .3 .5 -4.6 .5 2.5 .5 1.8 .5 -1.8 .5 1.1 .5 -1.8 .5 1.1 .5 0 .5 .7 .5 .6 .5 -8.4 .5 7.6 .5 -.9 .5 1.7 .5 -.3 .5 -1.6 .5 .6 .5 .2 .5 .3 .5 1 .5 -2.1 .5 1.4 .5 .3 .5 .1 .5 -1.7 .5 1.7 .5 -.5 .5 .7 .5 .2 .5 -.4 .5 -1.2 .5 .8 .5 .1 .5 -1.2 .5 -.6 .5 1.9 .5 -2.7 .5 1.4 .5 .8 .5 -1.7 .5 1 .5 -.7 .5 .9 .5 1 .5 -1.2 .5 .8 .5 -.1 .5 -2.3 .5 1.6 .5 -.5 .5 1.1 .5 -2 .5 .9 .5 -3.4 .5 2.5 .5 1.1 .5 -2.4 .5 1.4 .5 1 .5 -1 .5 1.1 .5 -.9 .5 -1.2 .5 2.2 .5 -2.4 .5 -.2 .5 2.1 .5 1.1 .5 -1.1 .5 .3 .5 -.1 .5 .3 .5 .6 .5 -1.3 .5 -.4 .5 0 .5 .2 .5 1.4 .5 .8 .5 .1 .5 -2.5 .5 1.9 .5 -.9 .5 1 .5 .3 .5 -2.2 .5 2 .5 -1.8 .5 .8 .5 .6 .5 -1.3 .5 1.4 .5 -.1 .5 -.3 .5 -1.1 .5 -.6 .5 1.7 .5 .7 .5 -3.2 .5 3.6 .5 -.1 .5 .5 .5 -2.4 .5 .6 .5 .3 .5 .7 .5 -.6 .5 -.4 .5 1.2 .5 0 .5 -.9 .5 .9 .5 -2.3 .5 2.9 .5 -.3 .5 -.7 .5 .5 .5 -.9 .5 1.2 .5 -.1 .5 .6 .5 -1.6 .5 1.8 .5 -1 .5 -1.6 .5 2.2 .5 -.2 .5 -.4 .5 -.7 .5 1.2 .5 -1 .5 .8 .5 -.3 .5 -.5 .5 .9 .5 -1.9 .5 .4 .5 .8 .5 -1.4 .5 1.7 .5 0 .5 -2 .5 .5 .5 .3 .5 -.4 .5 -.7 .5 -.1 .5 .2 .5 -.6 .5 -.1 .5 -.8 .5 -1.4 .5 -3.8 .5 -.8 .5 -3.8 .5 -2.6 .5 -2.2 .5 -1.4 .5 -.5 .5 .8 .5 1.8 .5 3 .5 2.1 .5 -.3 .5 5.3 .5 1.6 .5 2.4 .5 -.8 .5 2.1 .5 -.7 .5 -.1 .5 1.4 .5 .9 .5 -1.5 .5 1 .5 .2 .5 -.7 .5 .6 .5 .6 .5 -.7 .5 -.4 .5 .6 .5 -.8 .5 1.6 .5 -1.8 .5 1.6 .5 -.8 .5 -.4 .5 -.9 .5 1.9 .5 -.1 .5 -1.1 .5 1.3 .5 .6 .5 -.5 .5 -.6 .5 1 .5 .2 .5 -.5 .5 -.1 .5 -1.2 .5 .4 .5 .3 .5 -1 .5 1.4 .5 -.1 .5 0 .5 -.3 .5 1 .5 -.8 .5 .1 .5 -2 .5 1.1 .5 .5 .5 -.4 .5 -1.3 .5 .8 .5 .3 .5 -.4 .5 -.8 .5 .1 .5 -.8 .5 -1.2 .5 .4 .5 -.1 .5 .4 .5 .6 .5 -.7 .5 2.7 .5 -.6 .5 -.3 .5 .2 .5 1.8 .5 .6 .5 -.2 .5 -2.3 .5 -.5 .5 .1 .5 1.1 .5 .8 .5 1.1 .5 -.9 .5 1.2 .5 -.9 .5 .2 .5 .6 .5 -2.2 .5 1.3 .5 .8 .5 -.1 .5 0 .5 -1.1 .5 -.2 .5 1.4 .5 -1.5 .5 1.3 .5 -1.9 .5 2.1 .5 -.2 .5 -.2 .5 .3 .5 -.4 .5 -1.3 .5 .4 .5 1.4 .5 -1.9 .5 2.3 .5 -2.7 .5 2.6 .5 -.1 .5 .1 .5 -2.1 .5 1.5 .5 .1 .5 -.3 .5 -.2 .5 .8 .5 -1.6 .5 -.6 .5 -.7 .5 3.5 .5 .1 .5 -.7 .5 .1 .5 -1.6 .5 2 .5 -.6 .5 .2 .5 -.5 .5 -.9 .5 1.5 .5 -1.9 .5 .4 .5 1.1 .5 -.3 .5 -1.1 .5 1.2 .5 .1 .5 -.1 .5 .3 .5 -.4 .5 .2 .5 -.2 .5 .2 .5 -.2 .5 -1.1 .5 1 .5 -.1 .5 .2 .5 1.1 .5 -.9 .5 .5 .5 -.2 .5 -2 .5 1.1 .5 .5 .5 .6 .5 -1.7 .5 .6 .5 .8 .5 -.3 .5 -1.2 .5 -.2 .5 .2 .5 .5 .5 -.5 .5 -.7 .5 .1 .5 -.9 .5 -1 .5 -2.3 .5 -4.2 .5 -2.8 .5 -5.9 .5 -8.8 .5 -7.2 .5 -8.5 .5 -10.6 .5 -9.1 .5 -6.5 .5 0 .5 2.1 .5 6.3 .5 10.3 .5 9.3 .5 9.1 .5 7.8 .5 7.5 .5 4.9 .5 3.1 .5 1.8 .5 3.1 .5 .2 .5 .1 .5 2.4 .5 -1.1 .5 .4 .5 -1.7 .5 3.1 .5 .1 .5 .1 .5 .3 .5 -1.2 .5 1.1 .5 .9 .5 -2.1 .5 2.2 .5 .4 .5 -.3 .5 -.1 .5 -1.1 .5 1.4 .5 .1 .5 -1 .5 .3 .5 .7 .5 -1.1 .5 -1.1 .5 .8 .5 -.8 .5 .9 .5 1.3 .5 -.6 .5 -.3 .5 .4 .5 .8 .5 -.5 .5 .4 .5 -.4 .5 -.2 .5 -1.6 .5 .4 .5 1.4 .5 .1 .5 0 .5 -.9 .5 .4 .5 -.6 .5 -.6 .5 1.4 .5 -1.8 .5 1.8 .5 -1.1 .5 .4 .5 -.8 .5 .2 .5 -.1 .5 1.1 .5 -.4 .5 -1 .5 1.1 .5 -.7 .5 1.1 .5 -2 .5 1.7 .5 .4 .5 .5 .5 -1.5 .5 1.4 .5 -.6 .5 .1 .5 -.3 .5 0 .5 .6 .5 -.9 .5 .3 .5 -.2 .5 .1 .5 .1 .5 .8 .5 -.3 .5 -1.3 .5 1.4 .5 .2 .5 .5 .5 -3.7 .5 2.4 .5 0 .5 .8 .5 -1.3 .5 .9 .5 .5 .5 -.2 .5 0 .5 .4 .5 -1 .5 -1.3 .5 1.1 .5 -1.4 .5 1.6 .5 .2 .5 -.2 .5 1 .5 -.2 .5 -1.3 .5 1.2 .5 .2 .5 -3.8 .5 2.5 .5 .5 .5 -2.9 .5 2 .5 -.1 .5 -1 .5 1.8 .5 -.6 .5 -.6 .5 -.6 .5 1.4 .5 -1.4 .5 -.8 .5 1.1 .5 .5 .5 .4 .5 -2.2 .5 3 .5 -.4 .5 .1 .5 0 .5 -.2 .5 -4.1 .5 4.6 .5 -2 .5 2 .5 -1.3 .5 1.1 .5 -.2 .5 .2 .5 -1.3 .5 1.2 .5 -.2 .5 .1 .5 -.1 .5 .4 .5 -.4 .5 -.7 .5 -1.4 .5 1.7 .5 .7 .5 -1.1 .5 .8 .5 -.8 .5 -.3 .5 .5 .5 .1 .5 .2 .5 0 .5 .1 .5 -.2 .5 .4 .5 -.9 .5 -1.8 .5 2 .5 .4 .5 -1.4 .5 1.3 .5 -.4 .5 .6 .5 -1.9 .5 .9 .5 -.7 .5 1.9 .5 0 .5 .1 .5 -.4 .5 .7 .5 -1.6 .5 1.1 .5 -.7 .5 -1.4 .5 .9 .5 .3 .5 1 .5 -1.5 .5 2 .5 -.2 .5 -.9 .5 .6 .5 .2 .5 -1.4 .5 .6 .5 .1 .5 .4 .5 -.4 .5 -.7 .5 1.1 .5 .2 .5 -.2 .5 -1 .5 -1.3 .5 .5 .5 1.2 .5 -4 .5 1.1 .5 2.7 .5 -.7 .5 1 .5 -.4 .5 -1.1 .5 2.2 .5 -2.1 .5 2.1 .5 0 .5 -1 .5 1 .5 -3.3 .5 2.3 .5 1 .5 -1.9 .5 2 .5 -1.6 .5 -.6 .5 1.9 .5 .2 .5 -.3 .5 .7 .5 -1.6 .5 1.4 .5 -1.8 .5 -.3 .5 1.1 .5 -.2 .5 .8 .5 -1.3 .5 .6 .5 .7 .5 -.6 .5 -.3 .5 1.4 .5 -.5 .5 -1.5 .5 .5 .5 .8 .5 -.3 .5 .3 .5 .3 .5 -.2 .5 -1.3 .5 .1 .5 .4 .5 -1.3 .5 .4 .5 .8 .5 .5 .5 -.9 .5 1.7 .5 -.8 .5 -.1 .5 -.2 .5 .5 .5 .3 .5 -.2 .5 -2 .5 2.3 .5 -3.4 .5 .4 .5 2.2 .5 .5 .5 -.3 .5 -1 .5 -.2 .5 -.4 .5 -.8 .5 .1 .5 -2.4 .5 -1.6 .5 -2 .5 -1.9 .5 -4.8 .5 -5.3 .5 -6.3 .5 -7.3 .5 -9.5 .5 -5 .5 -4.6 .5 -.6 .5 2.8 .5 5.1 .5 6.4 .5 8.4 .5 5.1 .5 6.4 .5 6.3 .5 3.7 .5 3.2 .5 -.4 .5 1.4 .5 2.8 .5 .6 .5 -.3 .5 .8 .5 -1.4 .5 2.3 .5 -1.7 .5 .9 .5 -.3 .5 .3 .5 -2 .5 -.2 .5 2.3 .5 0 .5 -.9 .5 0 .5 -.9 .5 -1.4 .5 -1 .5 -4.5 .5 -4.9 .5 -5.6 .5 -6.9 .5 .5 .5 2.4 .5 3.8 .5 5.5 .5 5.8 .5 3.3 .5 2.3 .5 .3 .5 2.5 .5 .7 .5 -1.9 .5 1.5 .5 -1.6 .5 1.8 .5 1.1 .5 -.6 .5 .1 .5 .2 .5 -.1 .5 -1.3 .5 -.9 .5 1.8 .5 1 .5 -3.8 .5 3.4 .5 .8 .5 .5 .5 -1.1 .5 .9 .5 -.6 .5 .5 .5 .1 .5 -.3 .5 .8 .5 -1.5 .5 -.2 .5 1.4 .5 -1.5 .5 1.2 .5 .1 .5 -2 .5 1.2 .5 1 .5 -.7 .5 -.9 .5 1.3 .5 -.2 .5 -.4 .5 -.2 .5 .7 .5 .5 .5 -.1 .5 -2.4 .5 2.1 .5 -.7 .5 .4 .5 -2 .5 1.4 .5 -.7 .5 2 .5 -.6 .5 0 .5 .4 .5 -.9 .5 .7 .5 -1 .5 .1 .5 -.1 .5 .3 .5 .8 .5 -.2 .5 -1.4 .5 1.1 .5 -1 .5 1.1 .5 -.1 .5 -.1 .5 .4 .5 -.4 .5 -1.1 .5 -.3 .5 -2.4 .5 1.9 .5 .8 .5 -1.9 .5 2.7 .5 -.8 .5 .7 .5 -.5 .5 .2 .5 1.4 .5 -.5 .5 .3 .5 .2 .5 -1.7 .5 .8 .5 .9 .5 -.6 .5 -.5 .5 .3 .5 -.3 .5 .4 .5 .3 .5 -.2 .5 .5 .5 -1.2 .5 -.9 .5 1.9 .5 -1.1 .5 .6 .5 -2 .5 1.8 .5 .2 .5 -2 .5 1.9 .5 -2.6 .5 2.2 .5 -2.4 .5 1.9 .5 -.5 .5 0 .5 .2 .5 -.2 .5 -1.4 .5 2 .5 -1.5 .5 .7 .5 .5 .5 -.1 .5 .1 .5 -.3 .5 -.9 .5 .5 .5 .2 .5 -1.2 .5 -2.1 .5 3.2 .5 -1.7 .5 2 .5 -.7 .5 .4 .5 -1.6 .5 .6 .5 1.3 .5 -.2 .5 -1 .5 -.7 .5 1.9 .5 -.1 .5 .5 .5 .3 .5 -.6 .5 -1.1 .5 .2 .5 1 .5 -1 .5 -.9 .5 -4 .5 6.2 .5 .1 .5 -.7 .5 0 .5 .4 .5 -1.3 .5 1.6 .5 -1 .5 .7 .5 -.4 .5 .8 .5 .2 .5 -.2 .5 -.5 .5 -.5 .5 .7 .5 .5 .5 -.4 .5 -.9 .5 1 .5 .2 .5 -.4 .5 -1.3 .5 1.7 .5 -1.1 .5 .1 .5 -.4 .5 -.2 .5 1 .5 -1.1 .5 .8 .5 .1 .5 -.2 .5 1 .5 -1 .5 .4 .5 -.5 .5 .4 .5 -.1 .5 -.1 .5 -1.7 .5 2.3 .5 -1.2 .5 -.8 .5 .9 .5 .1 .5 .5 .5 -.2 .5 .4 .5 0 .5 -1.2 .5 -.9 .5 2.7 .5 -.3 .5 -1.6 .5 1 .5 .3 .5 .2 .5 -.3 .5 .6 .5 -.1 .5 -.3 .5 .2 .5 -.3 .5 .3 .5 -.2 .5 -.8 .5 -1.1 .5 1.3 .5 -1.5 .5 .3 .5 -.5 .5 2.5 .5 -.4 .5 -1.7 .5 -.1 .5 1 .5 1.1 .5 -.2 .5 -.5 .5 -.6 .5 -.3 .5 -.3 .5 1.4 .5 -3.4 .5 2 .5 1 .5 -.4 .5 .2 .5 .3 .5 -.2 .5 -.6 .5 .7 .5 .2 .5 .6 .5 -.9 .5 -.6 .5 -.4 .5 1.5 .5 .3 .5 -1.6 .5 .4 .5 -.7 .5 .3 .5 -2 .5 -1.3 .5 -2.8 .5 -4.1 .5 -4.5 .5 -4.6 .5 -.3 .5 .4 .5 2.9 .5 5.9 .5 4.7 .5 3.7 .5 1.9 .5 .8 .5 .1 .5 -.5 .5 1 .5 -.3 .5 .6 .5 -.7 .5 1 .5 -2.3 .5 2 .5 -.9 .5 1.4 .5 -.5 .5 0 .5 0 .5 .6 .5 -.6 .5 -.3 .5 -1.2 .5 2.4 .5 .2 .5 -3.1 .5 2.9 .5 -.5 .5 .6 .5 .2 .5 -.3 .5 -.4 .5 -1.8 .5 .7 .5 -.2 .5 2 .5 .2 .5 -.6 .5 1 .5 .2 .5 -.5 .5 .2 .5 .1 .5 -.5 .5 .2 .5 .1 .5 -1.1 .5 .6 .5 -.3 .5 -.3 .5 -1.9 .5 -.5 .5 .4 .5 -2.5 .5 1.4 .5 -1.2 .5 -1.4 .5 .2 .5 -3.9 .5 2.7 .5 .6 .5 2.3 .5 -1.1 .5 -.1 .5 3.5 .5 -.5 .5 .8 .5 .8 .5 .1 .5 -.3 .5 .1 .5 1.2 .5 -.7 .5 -.5 .5 .8 .5 -2.4 .5 2.1 .5 -1.4 .5 .7 .5 .3 .5 -.2 .5 -1.3 .5 -.4 .5 3 .5 -4.6 .5 3.7 .5 .9 .5 -1.7 .5 2.1 .5 -.6 .5 -.8 .5 .7 .5 .3 .5 -.1 .5 -.2 .5 -2.1 .5 2.3 .5 -1.2 .5 .3 .5 .4 .5 0 .5 -1.5 .5 -.2 .5 1.6 .5 -.4 .5 .5 .5 -1 .5 -1.3 .5 1.1 .5 .4 .5 .8 .5 0 .5 -.5 .5 -.4 .5 .8 .5 -.4 .5 -1.7 .5 -.2 .5 1.6 .5 0 .5 -.5 .5 -.2 .5 .9 .5 .3 .5 -.6 .5 -.3 .5 -2.3 .5 .3 .5 1.5 .5 -2.7 .5 1.6 .5 -1.1 .5 -1.8 .5 -1.7 .5 2.1 .5 -.3 .5 -.7 .5 2.4 .5 1 .5 .7 .5 -1.5 .5 1.6 .5 0 .5 .5 .5 -.2 .5 -1.3 .5 2.4 .5 -2.2 .5 1.6 .5 .4 .5 .4 .5 -.1 .5 .1 .5 0 .5 -.8 .5 .5 .5 -1.1 .5 1.5 .5 .3 .5 -2.1 .5 1.6 .5 0 .5 -.2 .5 -.8 .5 .4 .5 -1.1 .5 1.7 .5 -1.3 .5 -.2 .5 1.4 .5 .3 .5 -.3 .5 .2 .5 -.4 .5 -.6 .5 -.4 .5 .8 .5 .5 .5 -.4 .5 -.7 .5 .5 .5 -.2 .5 -.3 .5 .6 .5 -1.8 .5 1.7 .5 -.2 .5 .2 .5 -.8 .5 .6 .5 -.4 .5 .5 .5 -.6 .5 -1 .5 1.4 .5 -.2 .5 -1.2 .5 .4 .5 .8 .5 -1.6 .5 1.2 .5 -.7 .5 1.2 .5 .7 .5 -1.5 .5 -2.4 .5 3.2 .5 1 .5 .3 .5 -.5 .5 -1.1 .5 1.5 .5 0 .5 -1.6 .5 1 .5 1.4 .5 0 .5 -3.8 .5 2.5 .5 -.9 .5 2 .5 -.1 .5 -.2 .5 .5 .5 .7 .5 -.9 .5 -.6 .5 .7 .5 -.5 .5 .7 .5 -.1 .5 -1.1 .5 -.2 .5 -.7 .5 .1 .5 .4 .5 -1.8 .5 1.6 .5 -.5 .5 0 .5 .6 .5 .7 .5 .3 .5 -.9 .5 -.7 .5 1.1 .5 -.2 .5 -.5 .5 -1.1 .5 -1.1 .5 -1 .5 1.2 .5 3 .5 -2.1 .5 1.1 .5 1.3 .5 -1.4 .5 -.3 .5 1.2 .5 0 .5 -.7 .5 .3 .5 0 .5 .1 .5 -1.2 .5 1.9 .5 -.8 .5 .3 .5 -.3 .5 -2.6 .5 2.4 .5 .3 .5 -2.6 .5 2.2 .5 -.8 .5 2.1 .5 -.2 .5 .1 .5 -2 .5 2.2 .5 -1 .5 -.2 .5 .6 .5 -.9 .5 -1.2 .5 -2.8 .5 1.5 .5 -1.2 .5 -1 .5 -1.5 .5 -.1 .5 .9 .5 .5 .5 .7 .5 1.6 .5 -.3 .5 1.3 .5 1.4 .5 -1.2 .5 2.8 .5 -1.2 .5 -.4 .5 1.7 .5 -1.8 .5 .8 .5 1.6 .5 -.1 .5 .2 .5 -.3 .5 -.7 .5 1.2 .5 -.4 .5 .8 .5 -.6 .5 -1.9 .5 2.4 .5 -.6 .5 -.8 .5 .5 .5 .1 .5 .4 .5 -.1 .5 -.1 .5 .2 .5 .8 .5 -.9 .5 .1 .5 -2.4 .5 1.1 .5 .2 .5 .2 .5 -3.4 .5 3.9 .5 -.2 .5 -.5 .5 -2 .5 3.3 .5 -1.3 .5 .2 .5 .9 .5 .1 .5 -1.3 .5 1.1 .5 .5 .5 -1.5 .5 .2 .5 .9 .5 .3 .5 -.7 .5 .8 .5 -.7 .5 0 .5 .3 .5 -.5 .5 -.4 .5 1.2 .5 0 .5 -2.7 .5 2.8 .5 .1 .5 -2.1 .5 .6 .5 -.2 .5 -.2 .5 1.3 .5 -.1 .5 .4 .5 -1.1 .5 .7 .5 .9 .5 -.9 .5 .7 .5 -.2 .5 -1.6 .5 .7 .5 1.5 .5 -.2 .5 .4 .5 .1 .5 -.6 .5 0 .5 -.5 .5 -.7 .5 1 .5 -1 .5 1.3 .5 -.1 .5 -1.8 .5 1.5 .5 -.2 .5 .1 .5 .6 .5 -.6 .5 -1.6 .5 -.9 .5 1.9 .5 -.2 .5 1.5 .5 .2 .5 -.6 .5 -1.4 .5 1.8 .5 .2 .5 -.6 .5 -.1 .5 -1.2 .5 .9 .5 .2 .5 .3 .5 -1.8 .5 -1.3 .5 2.1 .5 -.3 .5 1.9 .5 -2.8 .5 1.4 .5 -.9 .5 .5 .5 .5 .5 -1.9 .5 1.8 .5 -1.2 .5 .1 .5 -.2 .5 .9 .5 -.2 .5 -.3 .5 .9 .5 -.5 .5 .8 .5 -.9 .5 .1 .5 -.3 .5 .9 .5 -.5 .5 -.8 .5 1.5 .5 .2 .5 -.2 .5 -1.4 .5 1.6 .5 -2.3 .5 2.1 .5 -.6 .5 -.4 .5 .7 .5 -.1 .5 -2.8 .5 1.4 .5 1.6 .5 .4 .5 -.8 .5 .4 .5 -.1 .5 -.2 .5 -.1 .5 .7 .5 .3 .5 -.8 .5 .3 .5 -1.1 .5 .4 .5 .2 .5 -.9 .5 -.5 .5 .8 .5 -.2 .5 -.8 .5 2.1 .5 .2 .5 -2.2 .5 2.5 .5 -.8 .5 -.5 .5 1 .5 -2.5 .5 1.8 .5 .6 .5 -1.7 .5 .6 .5 -.7 .5 1.8 .5 -1.5 .5 0 .5 -.7 .5 -5.8 .5 8.1 .5 -.4 .5 -.8 .5 0 .5 -.8 .5 .8 .5 .8 .5 -1.2 .5 1.4 .5 -.4 .5 -.5 .5 .1 .5 -.1 .5 -.7 .5 -.5 .5 1.2 .5 -1 .5 1.6 .5 -1.2 .5 .7 .5 .3 .5 -.1 .5 -2.2 .5 2.2 .5 .3 .5 0 .5 -1.3 .5 -.6 .5 -.6 .5 .9 .5 .2 .5 .4 .5 .9 .5 -.6 .5 -.5 .5 .7 .5 0 .5 -1 .5 1.4 .5 -.7 .5 -1 .5 .1 .5 .5 .5 .5 .5 -.1 .5 -.4 .5 0 .5 -.6 .5 1 .5 -.2 .5 -.7 .5 1 .5 -.9 .5 .7 .5 0 .5 -.4 .5 .2 .5 .6 .5 -.1 .5 .4 .5 .6 .5 -.4 .5 -.4 .5 -2.3 .5 2.9 .5 -1.2 .5 .7 .5 -1.9 .5 -.2 .5 1 .5 -.2 .5 .3 .5 -.2 .5 -.6 .5 1.7 .5 -.2 .5 0 .5 -.6 .5 -.7 .5 .1 .5 1.4 .5 -1 .5 1 .5 -4.3 .5 4.6 .5 -2.3 .5 2.1 .5 -.8 .5 1.2 .5 -.9 .5 .3 .5 -.2 .5 .3 .5 -.6 .5 .2 .5 -.3 .5 -.3 .5 .6 .5 .3 .5 0 .5 0 .5 -2.3 .5 1.8 .5 .7 .5 .6 .5 -1.7 .5 .2 .5 -.4 .5 .7 .5 .5 .5 -.1 .5 -.1 .5 .8 .5 .6 .5 -.8 .5 .2 .5 .4 .5 -.7 .5 .5 .5 -1.5 .5 .5 .5 -.2 .5 -.6 .5 1.6 .5 -2 .5 2.1 .5 -1.1 .5 -1.7 .5 2.3 .5 -.6 .5 .8 .5 1.3 .5 -.8 .5 -.3 .5 .7 .5 -.3 .5 -2.3 .5 2.2 .5 -.1 .5 -1.4 .5 1.1 .5 -.4 .5 1.3 .5 -.7 .5 -1.6 .5 0 .5 .7 .5 1.1 .5 -1.7 .5 .5 .5 1.3 .5 -.3 .5 .4 .5 -2.4 .5 .1 .5 .7 .5 .2 .5 -.7 .5 -.4 .5 .4 .5 1.1 .5 .2 .5 -1.4 .5 .8 .5 -1.5 .5 -.7 .5 1.2 .5 .5 .5 -.7 .5 .8 .5 -1 .5 1.9 .5 -.2 .5 0 .5 -2.4 .5 .1 .5 2.7 .5 -1.5 .5 -1.3 .5 1.3 .5 1.6 .5 -.2 .5 -.5 .5 .4 .5 .8 .5 -.9 .5 -1.1 .5 .8 .5 .7 .5 -1.6 .5 1.5 .5 -.1 .5 -2.3 .5 2.9 .5 0 .5 -1 .5 -.6 .5 .4 .5 1.4 .5 -.7 .5 .5 .5 -.3 .5 -.1 .5 .4 .5 -1 .5 .4 .5 -.7 .5 -1.2 .5 1.5 .5 -.4 .5 1.2 .5 -.1 .5 .2 .5 -.7 .5 .3 .5 -.1 .5 -.5 .5 -1.8 .5 1.5 .5 .9 .5 -.4 .5 -.9 .5 .4 .5 -.2 .5 .9 .5 -.7 .5 .1 .5 -1 .5 1.4 .5 .4 .5 -2.5 .5 0 .5 1.7 .5 -.2 .5 1.5 .5 .1 .5 -2.5 .5 2.3 .5 -1.8 .5 -1.9 .5 2 .5 .3 .5 .7 .5 .3 .5 -1.9 .5 1.7 .5 -1 .5 1.6 .5 -2.2 .5 2.2 .5 .1 .5 .2 .5 -.1 .5 -1.7 .5 1.5 .5 -1.1 .5 .2 .5 0 .5 0 .5 -1.3 .5 .2 .5 1.5 .5 -1.6 .5 2.1 .5 -.4 .5 -.3 .5 -1 .5 .9 .5 .1 .5 -1.2 .5 1 .5 -1.1 .5 1.3 .5 -.6 .5 .1 .5 .7 .5 0 .5 .3 .5 -2.8 .5 -.7 .5 .8 .5 1.9 .5 -2.3 .5 1.6 .5 .1 .5 -.4 .5 .8 .5 -1.1 .5 .4 .5 -.9 .5 .9 .5 -1.5 .5 .9 .5 1.7 .5 -3.4 .5 3.2 .5 -1.5 .5 2.1 .5 -1.7 .5 .2 .5 1 .5 .3 .5 0 .5 -1.4 .5 .5 .5 .8 .5 -.1 .5 -1 .5 0 .5 1 .5 .1 .5 -.5 .5 .5 .5 -1.3 .5 1 .5 .1 .5 -.9 .5 0 .5 -.9 .5 .7 .5 2 .5 .2 .5 -1 .5 .2 .5 -1 .5 .8 .5 -.4 .5 .7 .5 -2.3 .5 2.6 .5 .4 .5 -.3 .5 .2 .5 -.6 .5 .2 .5 -1 .5 .8 .5 0 .5 -1.9 .5 .8 .5 1.6 .5 -2.3 .5 1.6 .5 -.6 .5 -.4 .5 -1.8 .5 3.4 .5 -.4 .5 -.4 .5 -1.3 .5 -.2 .5 -.2 .5 2.2 .5 0 .5 -.5 .5 -.5 .5 0 .5 1.2 .5 -2 .5 1.6 .5 .6 .5 -.1 .5 .6 .5 -1.3 .5 -.7 .5 1.6 .5 -.4 .5 -.4 .5 .8 .5 -1.7 .5 1.4 .5 .1 .5 -2.6 .5 2.5 .5 -1.4 .5 1.1 .5 .4 .5 -.3 .5 -2.2 .5 1.9 .5 -.4 .5 .8 .5 -2.3 .5 1.4 .5 .9 .5 -1.4 .5 2.3 .5 .2 .5 -1.5 .5 1.4 .5 -.1 .5 -1.1 .5 -.2 .5 -.5 .5 1.6 .5 .1 .5 0 .5 -.6 .5 -.4 .5 -1 .5 1.5 .5 0 .5 -1.7 .5 1 .5 -.3 .5 -1.3 .5 2 .5 -.1 .5 .5 .5 -.1 .5 -2.5 .5 .9 .5 1.4 .5 1.3 .5 -.6 .5 .1 .5 .6 .5 -1.1 .5 -.7 .5 -2.8 .5 3.6 .5 .2 .5 -.8 .5 -.4 .5 1.9 .5 -.9 .5 .5 .5 -1.9 .5 0 .5 .7 .5 .1 .5 -.6 .5 0 .5 .7 .5 .3 .5 -.1 .5 -1.1 .5 1 .5 -.3 .5 .3 .5 -2.3 .5 2.2 .5 -.7 .5 .5 .5 .1 .5 -.1 .5 .3 .5 .1 .5 .7 .5 -.1 .5 -.3 .5 -3.3 .5 3.7 .5 -1.6 .5 .5 .5 -1.2 .5 1.4 .5 .2 .5 -1.9 .5 -1.1 .5 .4 .5 2.4 .5 -.6 .5 -.9 .5 1.2 .5 .4 .5 -.4 .5 0 .5 -.4 .5 1 .5 -.1 .5 -.9 .5 1.8 .5 -.5 .5 .4 .5 -.1 .5 -.8 .5 .7 .5 -.1 .5 -.7 .5 .5 .5 -1 .5 -1 .5 1.3 .5 -.6 .5 -1.4 .5 .6 .5 .7 .5 -1.1 .5 1.9 .5 -.5 .5 .2 .5 -4.1 .5 2.7 .5 1.1 .5 .1 .5 0 .5 .3 .5 .3 .5 -.3 .5 -.9 .5 2.1 .5 -1.5 .5 2 .5 -.9 .5 .8 .5 -.3 .5 -.6 .5 .2 .5 .4 .5 .1 .5 -.4 .5 -.4 .5 -.4 .5 -.7 .5 1.7 .5 -2.3 .5 2.4 .5 -1.8 .5 2 .5 -.4 .5 -1.1 .5 1.1 .5 -.2 .5 -2.3 .5 1.9 .5 -.4 .5 1.8 .5 .2 .5 -.7 .5 -.9 .5 -1 .5 1.7 .5 .1 .5 1 .5 -.9 .5 .1 .5 -2.7 .5 2.2 .5 -.7 .5 -.5 .5 1.9 .5 -1.3 .5 .8 .5 .8 .5 0 .5 -.1 .5 .2 .5 -1.3 .5 .9 .5 -.3 .5 -2.3 .5 -.8 .5 2.4 .5 -.2 .5 -.8 .5 .3 .5 -.8 .5 .7 .5 -.8 .5 1.4 .5 -.8 .5 1 .5 -.1 .5 -2.6 .5 1.5 .5 1.3 .5 -2.6 .5 2.4 .5 -1.1 .5 .6 .5 -.1 .5 .2 .5 -3.7 .5 3.5 .5 -.6 .5 .9 .5 -1.9 .5 1.7 .5 -1.6 .5 2.6 .5 .1 .5 -1.5 .5 1.4 .5 -1.5 .5 -.1 .5 -1.1 .5 -.1 .5 2 .5 1.2 .5 -.9 .5 -.6 .5 .9 .5 -.6 .5 -.4 .5 .6 .5 -.4 .5 -1.1 .5 .3 .5 .7 .5 -.8 .5 -.1 .5 1.8 .5 0 .5 -.5 .5 .1 .5 -.9 .5 0 .5 -.3 .5 1.2 .5 -1.2 .5 .1 .5 -2.1 .5 1.5 .5 -1.3 .5 -1.5 .5 -2 .5 .6 .5 -1.1 .5 -1.3 .5 -2.7 .5 .9 .5 -1 .5 -.9 .5 -.1 .5 -.8 .5 0 .5 2.1 .5 2 .5 .9 .5 1.8 .5 -.7 .5 2.9 .5 .7 .5 0 .5 .9 .5 1.7 .5 -.4 .5 .6 .5 .3 .5 0 .5 .1 .5 -.2 .5 .5 .5 0 .5 -.7 .5 -.5 .5 1.8 .5 -1.7 .5 .7 .5 -1.2 .5 1.1 .5 -1.3 .5 1.1 .5 1 .5 .1 .5 -.5 .5 -1.6 .5 .6 .5 .5 .5 1.2 .5 -.9 .5 -1 .5 -.5 .5 .4 .5 -.1 .5 .8 .5 -.7 .5 -.5 .5 1.1" fill="none" stroke="#0000ff" stroke-width="2.6" stroke-linejoin="round"/>
<path d="M84.6 4437.8l1 .3 1 -.7 1 -.7 1 -.4 1 1.1 1 -1 1 2 1 -.9 1 -1.1 1 1.1 1 -1.4 1 2.2 1 -1.5 1 .9 1 -1.4 1 2.7 1 -1.7 1 -.4 1 .3 1 .1 1 -.4 1 2.2 1 -1.4 1 -.5 1 1 1 -1.9 1 .6 1 .1 1 1.2 1 -1.5 1 -.4 1 .5 1 .2 1 1 1 .8 1 -.6 1 -.6 1 .3 1 -.6 1 .7 1 -1.4 1 .5 1 1.1 1 .7 1 -2 1 1.4 1 .4 1 -.1 1 -1.3 1 1.3 1 -.9 1 .4 1 1 1 0 1 -.2 1 -.8 1 .2 1 -.2 1 -.4 1 0 1 0 1 .8 1 -1 1 .4 1 -.1 1 .5 1 .2 1 -.9 1 .5 1 0 1 -.1 1 .1 1 .3 1 -.3 1 -.9 1 .2 1 1 1 -2 1 1.7 1 -.1 1 -.2 1 -1.2 1 1.4 1 .8 1 -.7 1 .6 1 -.3 1 -.2 1 -.7 1 -1 1 1.5 1 -.6 1 -.9 1 .8 1 .4 1 .4 1 -.6 1 .5 1 -.7 1 .6 1 1.2 1 -1.3 1 .4 1 -2 1 1.4 1 .5 1 0 1 -.6 1 -.7 1 1.4 1 -1.2 1 -.7 1 1.6 1 -1.2 1 1 1 0 1 .1 1 -.2 1 .3 1 -.7 1 .2 1 -.8 1 1.4 1 -1.7 1 .7 1 .4 1 -1.5 1 2.5 1 -1.4 1 .1 1 .4 1 -1.1 1 .1 1 .6 1 -.4 1 -.1 1 1.2 1 -1.1 1 .2 1 1 1 -1.8 1 .7 1 .3 1 .3 1 -.5 1 .1 1 -.1 1 -.2 1 0 1 .1 1 -1.3 1 .9 1 .5 1 -.8 1 .5 1 .6 1 .1 1 -.1 1 -.2 1 -.1 1 .4 1 .9 1 -1.2 1 .7 1 -.4 1 -.1 1 -.1 1 .4 1 -.3 1 1 1 -1.2 1 .6 1 -.6 1 .6 1 1.3 1 -2.4 1 1.8 1 -2.1 1 1 1 -2.3 1 2.9 1 -.9 1 1.5 1 -2.3 1 2.5 1 .5 1 -1.2 1 .4 1 -1.1 1 1.4 1 -1.1 1 .5 1 -.2 1 1.2 1 -1.3 1 .6 1 -.7 1 1.1 1 -1.8 1 2.7 1 -2.2 1 1.2 1 .9 1 -.8 1 -2.1 1 1 1 .2 1 -.3 1 -.3 1 .9 1 -.4 1 .1 1 -.1 1 -.1 1 -.6 1 .5 1 2 1 -1.4 1 -.3 1 1.4 1 -.8 1 -.8 1 .6 1 -.4 1 0 1 -1.3 1 1.2 1 1 1 -1 1 1.2 1 .2 1 -.2 1 -1.5 1 1.1 1 -1 1 .9 1 .7 1 -.7 1 0 1 .9 1 -.6 1 -.4 1 .2 1 .2 1 -.6 1 1.1 1 -.7 1 -.6 1 0 1 .4 1 -.8 1 0 1 -.3 1 1.3 1 .1 1 .5 1 -.8 1 -.7 1 -.3 1 .9 1 -1.2 1 .6 1 -.6 1 .4 1 -.1 1 -.9 1 .9 1 -.4 1 .2 1 .9 1 0 1 -1.2 1 -.3 1 .4 1 -.2 1 1.1 1 -.4 1 -1.5 1 1.1 1 1.3 1 -1.3 1 .2 1 -1.4 1 1.5 1 .4 1 -.7 1 0 1 -.2 1 .7 1 -.3 1 -1.1 1 1 1 -1.3 1 .8 1 -.5 1 1.5 1 -1.3 1 .4 1 -.9 1 1.1 1 .1 1 -.3 1 -.5 1 1 1 1 1 -1.1 1 .3 1 -.7 1 .7 1 -1.4 1 .4 1 2.5 1 -.8 1 -.2 1 .7 1 -.9 1 .1 1 .5 1 0 1 1.2 1 -2.3 1 .9 1 1.4 1 -.5 1 -1.2 1 -.1 1 .2 1 1.2 1 -1.5 1 0 1 .6 1 -.3 1 -.3 1 .7 1 -.5 1 -.8 1 .8 1 -1.2 1 .2 1 1 1 -1.5 1 .1 1 -.8 1 1.6 1 -2.1 1 1.4 1 -1.4 1 -.8 1 -1.4 1 -3.6 1 -1.5 1 -.3 1 2.1 1 3.5 1 1.2 1 1.2 1 .9 1 -.2 1 .5 1 -.3 1 .1 1 .5 1 .5 1 .1 1 .2 1 -.1 1 -.2 1 .9 1 -1.2 1 .2 1 .5 1 .3 1 -1.8 1 2.4 1 -.7 1 -.4 1 -.2 1 1 1 -1 1 .4 1 .5 1 -.6 1 -.6 1 .8 1 .9 1 -1 1 -.2 1 .7 1 -.9 1 .5 1 .4 1 -.6 1 -.1 1 -.3 1 1.7 1 -1 1 .9 1 -.9 1 1.4 1 -.9 1 .1 1 -1.1 1 1.6 1 -.9 1 -.3 1 .1 1 .9 1 -.7 1 -.4 1 .2 1 -.4 1 1 1 -.2 1 1.6 1 -1.2 1 .3 1 -.5 1 -.1 1 .1 1 1.2 1 -.8 1 .7 1 -1.3 1 .2 1 -.9 1 .3 1 .6 1 -1.3 1 .9 1 -.3 1 0 1 .4 1 -.2 1 .8 1 -.6 1 -.5 1 .9 1 -.7 1 .4 1 .7 1 -.9 1 -.7 1 .8 1 .4 1 .5 1 -1 1 -1 1 .8 1 -1.2 1 .1 1 -1.1 1 -.2 1 -.8 1 .1 1 .4 1 -.1 1 1.2 1 -.3 1 1 1 .8 1 .1 1 1.4 1 -.6 1 .5 1 -1 1 -.2 1 .6 1 .5 1 -3.9 1 3.2 1 .5 1 -1.7 1 .4 1 1.4 1 -1.1 1 -.7 1 1.2 1 -.5 1 -.9 1 .9 1 .7 1 .4 1 .1 1 -1.8 1 .7 1 -.4 1 .6 1 -.6 1 0 1 -.1 1 .7 1 .1 1 -1.1 1 0 1 .6 1 -.3 1 -.6 1 .4 1 .3 1 -1.8 1 1.2 1 -.4 1 -.2 1 -.1 1 0 1 1.7 1 -2 1 .7 1 -.3 1 -.4 1 .8 1 .7 1 -.8 1 .1 1 -.9 1 .4 1 -.2 1 1 1 -.3 1 -1 1 1.2 1 -.7 1 -1.3 1 .9 1 .6 1 0 1 1.4 1 -.6 1 -.1 1 -.1 1 .2 1 -.3 1 .1 1 -.9 1 0 1 -.4 1 .6 1 -.3 1 .1 1 -1.6 1 1 1 -4 1 -1.2 1 -4 1 -2.4 1 1.4 1 1.5 1 2.2 1 3.5 1 1.9 1 1.8 1 1.7 1 -.8 1 .2 1 -1.5 1 1.9 1 -.4 1 .7 1 -.9 1 .2 1 .6 1 0 1 -.1 1 -.7 1 1.9 1 -1.1 1 .7 1 -1.7 1 .6 1 -.5 1 .3 1 -.9 1 -.1 1 -.3 1 -.4 1 .2 1 .3 1 1.1 1 .3 1 -.8 1 .8 1 .3 1 -.8 1 1.4 1 -.6 1 .9 1 -.2 1 -1.1 1 .4 1 1.2 1 -1.8 1 .6 1 -1.3 1 1 1 .6 1 -.3 1 .1 1 .9 1 -1.9 1 1.4 1 -.5 1 -.1 1 -.4 1 .2 1 1.4 1 -1.7 1 1.2 1 -.3 1 -.8 1 -1 1 1 1 .8 1 .3 1 -.6 1 .7 1 -.5 1 .8 1 -1.3 1 .6 1 -.7 1 .6 1 -.3 1 .1 1 -.6 1 .1 1 -.1 1 .5 1 .6 1 -.6 1 .3 1 -.3 1 .1 1 -.2 1 1.5 1 -1.6 1 .5 1 -.8 1 .2 1 -.2 1 -.8 1 1.5 1 0 1 -.9 1 -.4 1 -.3 1 .5 1 -1.6 1 2.1 1 -1.5 1 .5 1 -1.3 1 1 1 -1 1 .8 1 -.2 1 -1.9 1 0 1 -3.3 1 -4.5 1 -10 1 -13.1 1 -14.7 1 -6.4 1 5.2 1 17 1 13.9 1 9 1 5 1 .9 1 1.5 1 1 1 .1 1 .1 1 1.2 1 -1.3 1 .7 1 .6 1 -2.4 1 1.2 1 .5 1 -.1 1 .4 1 -.7 1 .8 1 -.2 1 -.6 1 .6 1 .6 1 -.2 1 -.1 1 -1.1 1 .4 1 .2 1 -.5 1 -1.8 1 1.3 1 1.6 1 .3 1 -.4 1 -.4 1 .4 1 -1.3 1 .7 1 -.6 1 -.2 1 -1 1 -1.5 1 -5.1 1 -14.4 1 -16.7 1 -17.2 1 1.6 1 15.9 1 19.7 1 9.2 1 7.1 1 1.1 1 .5 1 0 1 1.6 1 -.2 1 .8 1 -.5 1 .3 1 .2 1 .1 1 -.1 1 .2 1 1.8 1 -1.7 1 -.3 1 1.6 1 -.2 1 -1.2 1 .4 1 .6 1 -.7 1 -.2 1 .8 1 -.5 1 -.2 1 1.4 1 -1.4 1 .7 1 -.8 1 .4 1 .3 1 -.4 1 .4 1 -.2 1 .5 1 -.2 1 .3 1 -1.2 1 .8 1 -.8 1 1.1 1 -.2 1 .1 1 -.7 1 -.2 1 2.3 1 -.5 1 -.8 1 .6 1 -2.5 1 .8 1 -.2 1 -2 1 -.7 1 -1.7 1 2.3 1 -.2 1 1.3 1 -2.2 1 2.2 1 -2.3 1 -5.3 1 -13.4 1 -14.4 1 .9 1 16.3 1 11.2 1 2.3 1 3.8 1 .7 1 -.9 1 -.9 1 1 1 .7 1 .1 1 -.4 1 -.1 1 -2.5 1 .2 1 -.4 1 -4 1 -2.3 1 -10.6 1 -20.6 1 -32.6 1 -42.6 1 -33.5 1 2 1 32.9 1 38.6 1 27.8 1 16.4 1 9.5 1 6.5 1 6.6 1 3.8 1 2 1 1.1 1 .7 1 -.1 1 .5 1 1.5 1 -.3 1 -2.7 1 2.1 1 .6 1 -1.5 1 -.4 1 0 1 -1.4 1 -9.5 1 -24.6 1 -37.6 1 -22.7 1 27.7 1 38.6 1 21.4 1 6.4 1 2 1 1.3 1 -.6 1 1.7 1 -.4 1 1.4 1 -1.7 1 .6 1 -1.7 1 -.5 1 -4.8 1 -.8 1 1.7 1 2.8 1 2.2 1 .7 1 .7 1 .2 1 .6 1 1 1 -1.2 1 1.4 1 -1 1 0 1 0 1 1 1 -1.2 1 .6 1 .8 1 -2.1 1 1.9 1 -.1 1 -.4 1 .9 1 -1.4 1 -.5 1 .4 1 -.4 1 1.5 1 -1 1 -.2 1 1 1 .9 1 -1.5 1 -.4 1 -.3 1 .9 1 .2 1 -.6 1 -1.6 1 2.3 1 -.9 1 -1.2 1 1.5 1 -.5 1 -2.9 1 1.9 1 0 1 -1.1 1 0 1 -.8 1 -1.2 1 -.9 1 .1 1 .2 1 1.1 1 .8 1 .9 1 .3 1 2 1 -.7 1 -.8 1 1.5 1 .4 1 -1.8 1 0 1 -.3 1 .2 1 .9 1 .1 1 -.3 1 0 1 -1.4 1 .7 1 -.6 1 .1 1 .2 1 -.4 1 .9 1 -.1 1 -1.8 1 2.4 1 -.6 1 -.5 1 .3 1 .5 1 .6 1 -.6 1 0 1 .2 1 -.4 1 -1.2 1 1.4 1 -.4 1 1 1 -1.5 1 1.3 1 -.5 1 -.7 1 1 1 .4 1 .2 1 -.3 1 -.1 1 .1 1 -1.6 1 1 1 -.4 1 -.4 1 2.1 1 -1.8 1 .7 1 -1.2 1 .5 1 1.2 1 -1.9 1 1.7 1 .3 1 -1.3 1 -.2 1 .5 1 .7 1 -.4 1 0 1 .4 1 .8 1 -.7 1 -.9 1 -.1 1 .9 1 -1.5 1 -.1 1 -.1 1 1.2 1 -.7 1 -.2 1 1.5 1 -.3 1 -.4 1 -.2 1 1.6 1 -1.2 1 -.3 1 .1 1 -.8 1 .9 1 -.7 1 .7 1 .9 1 -.8 1 0 1 -.1 1 .3 1 -.9 1 -2.6 1 -2.4 1 -4.9 1 -4.4 1 -4.4 1 -1.6 1 2.6 1 3.5 1 4.9 1 5.1 1 2.1 1 1.5 1 .9 1 .8 1 -1 1 1.1 1 -1.6 1 .3 1 -.2 1 1 1 .7 1 -.9 1 -.3 1 .4 1 .6 1 -1.2 1 1.7 1 -.6 1 -1.4 1 2.6 1 -1 1 1.8 1 -2.5 1 1.4 1 -1.2 1 0 1 -.6 1 1.4 1 -.8 1 .1 1 -.3 1 .1 1 .2 1 .6 1 -1 1 .6 1 -.6 1 -1 1 .5 1 -.3 1 .5 1 -.4 1 1.7 1 -.4 1 -.9 1 .8 1 -.6 1 .7 1 -.9 1 1.4 1 -1.4 1 .5 1 .7 1 -.5 1 .4 1 .4 1 -1.1 1 .9 1 -1.6 1 1.6 1 -.7 1 -1.5 1 .1 1 .6 1 -.1 1 .2 1 -.2 1 -.2 1 -2.8 1 2.4 1 1 1 .2 1 0 1 -.9 1 1.2 1 -.3 1 -.9 1 1.4 1 -.4 1 .2 1 .3 1 0 1 -.3 1 -.2 1 .3 1 .1 1 .9 1 -1.2 1 .8 1 -1.5 1 1.1 1 -.1 1 -.1 1 -1.7 1 2 1 -.3 1 .6 1 -.5 1 -.6 1 .2 1 .4 1 -.6 1 -.9 1 -.5 1 1.6 1 -1.1 1 1.8 1 -1.2 1 .2 1 1.1 1 -1.2 1 .2 1 -.7 1 -.4 1 -.6 1 .3 1 -4 1 -6.9 1 -6.1 1 -4.7 1 4.9 1 7.5 1 6.1 1 2.8 1 2.5 1 .1 1 .4 1 .2 1 -.6 1 -.9 1 .1 1 1.5 1 -1.1 1 -.5 1 .4 1 -.8 1 .8 1 .6 1 -.8 1 -1.6 1 2.3 1 -.6 1 -1 1 -.4 1 -.1 1 .4 1 .2 1 .1 1 .6 1 -1.5 1 1.1 1 -.2 1 0 1 -1.1 1 .8 1 -2.2 1 -4.7 1 4.5 1 1 1 .5 1 -.1 1 1.5 1 .2 1 -.8 1 2.3 1 -.9 1 -.4 1 -.1 1 -2.3 1 3.4 1 -.8 1 -1.7 1 1.3 1 .2 1 1.1 1 -.8 1 -.2 1 -.2 1 -.4 1 .4 1 .1 1 .9 1 .4 1 -1.6 1 .5 1 -.6 1 1.5 1 -.7 1 .8 1 -.3 1 .9 1 -1.7 1 .7 1 -1.5 1 1.2 1 -.7 1 .9 1 -.6 1 -.3 1 .5 1 .9 1 -1.3 1 1.1 1 -.1 1 -.2 1 .3 1 1.1 1 -.6 1 -1.4 1 1 1 .9 1 -1.5 1 -.2 1 -.9 1 1.2 1 -.1 1 -2.4 1 2.4 1 -.4 1 -.1 1 .7 1 -1.3 1 .4 1 -.8 1 1.7 1 -.1 1 -.4 1 .2 1 .9 1 0 1 .2 1 .2 1 -.1 1 -.3 1 0 1 -.1 1 0 1 .1 1 .4 1 .6 1 -1.3 1 .5 1 .5 1 .2 1 -1.1 1 -.7 1 .9 1 -1.2 1 .3 1 .7 1 .5 1 .2 1 -1.2 1 1.1 1 -1.4 1 .2 1 -.1 1 -.4 1 1.1 1 -.5 1 0 1 -.4 1 -1.3 1 -4.5 1 -.3 1 -3.6 1 -3.4 1 -2.6 1 .3 1 3.8 1 2.4 1 1.9 1 2.9 1 3.5 1 .2 1 .7 1 -.1 1 .3 1 .1 1 1.3 1 -.3 1 -1.2 1 1.1 1 .5 1 -1 1 .7 1 .9 1 -.8 1 .3 1 0 1 -.6 1 1 1 -1.1 1 1 1 -.8 1 .7 1 .6 1 -1.5 1 .5 1 -.4 1 1.4 1 -1.2 1 -1 1 1.6 1 .7 1 -.7 1 -.2 1 -1.1 1 1.1 1 1.4 1 -2.2 1 .2 1 .1 1 -.2 1 .6 1 .3 1 -.4 1 -.7 1 1 1 -2.2 1 3.3 1 -2.5 1 1 1 -.4 1 -.2 1 1.5 1 -.4 1 .1 1 -1.8 1 1.2 1 1.1 1 -1.2 1 0 1 -.8 1 2.2 1 -1 1 -.5 1 .7 1 -1.2 1 .4 1 1.1 1 -.3 1 -1.4 1 .9 1 .3 1 .2 1 -1.8 1 .2 1 -.9 1 -.1 1 .3 1 -2.4 1 -1.3 1 -3.4 1 -7.7 1 -14.1 1 -19.8 1 -21.7 1 -8.1 1 10.6 1 22 1 20.4 1 13.9 1 5.3 1 3.4 1 .7 1 .8 1 -.3 1 1.1 1 .9 1 -.7 1 1.7 1 -1.2 1 1.2 1 -.4 1 .3 1 .2 1 -1 1 .1 1 1.9 1 .2 1 -.8 1 .5 1 .3 1 -1.4 1 .4 1 .4 1 0 1 -2 1 2.7 1 -1 1 -1.3 1 0 1 .1 1 1.2 1 .1 1 0 1 -.1 1 .4 1 -.6 1 -.7 1 1.9 1 -1.3 1 -.2 1 -.2 1 -1.2 1 1.4 1 -.3 1 0 1 .6 1 -1.1 1 1.9 1 -1 1 -.8 1 .8 1 -.3 1 -1.2 1 1.1 1 1.6 1 -.4 1 .2 1 -1.2 1 1.4 1 -.9 1 .3 1 -.2 1 .2 1 -.1 1 .6 1 -.6 1 .7 1 .2 1 0 1 .2 1 -.3 1 -.2 1 .2 1 .6 1 -1.2 1 -.1 1 .5 1 2.2 1 -2.9 1 0 1 -.7 1 1.5 1 1.1 1 -.4 1 -.7 1 -.7 1 -.3 1 -.3 1 -.9 1 .5 1 .1 1 .4 1 1.2 1 -.2 1 -.2 1 .3 1 -.2 1 .6 1 .6 1 -.6 1 -.9 1 1.1 1 -2.4 1 .9 1 .6 1 .1 1 -.7 1 1.2 1 0 1 -1.4 1 1.3 1 -.7 1 .7 1 -1.4 1 0 1 -.5 1 1 1 1.6 1 -1.6 1 -.5 1 1 1 -.1 1 -1.4 1 1.4 1 -.3 1 1 1 -1.1 1 -1.4 1 1.2 1 -.7 1 0 1 .2 1 -.7 1 .3 1 .1 1 -1.7 1 -6 1 -2.7 1 -7.7 1 -9.3 1 -14.2 1 -7.7 1 1.9 1 8.2 1 11.8 1 11.1 1 7.7 1 3.6 1 1.2 1 2.1 1 .3 1 1.3 1 .4 1 -1.2 1 -.1 1 -.8 1 -2.4 1 -7.2 1 -13.6 1 -6.2 1 8.2 1 12.6 1 5.9 1 4.5 1 -.3 1 .1 1 .5 1 1.3 1 .6 1 -.9 1 -1 1 1.4 1 -.4 1 -.3 1 .4 1 -.1 1 -.4 1 .2 1 .1 1 .1 1 .7 1 -.8 1 .4 1 .3 1 -.1 1 -.2 1 -.5 1 1.4 1 -.5 1 -.1 1 -.9 1 .7 1 .5 1 -1.5 1 .7 1 0 1 -.3 1 .5 1 0 1 .6 1 -.9 1 .4 1 -1.8 1 1.4 1 .5 1 -.5 1 .4 1 -1.2 1 .9 1 -1.5 1 1.9 1 -1.6 1 .3 1 -.3 1 .6 1 .9 1 .3 1 .3 1 -.8 1 -.4 1 .3 1 -.3 1 .4 1 -.7 1 .4 1 -.2 1 1 1 -1.5 1 -.7 1 1.2 1 -.1 1 -2.7 1 -1.6 1 .3 1 1 1 1.4 1 0 1 2.4 1 -1 1 .7 1 .4 1 .4 1 -.4 1 -.1 1 -.5 1 .2 1 -1.4 1 1.1 1 .8 1 -1.5 1 1.7 1 -1.1 1 .6 1 .3 1 -.5 1 .4 1 .4 1 .9 1 -3.7 1 1.5 1 .1 1 -.2 1 1 1 -.8 1 0 1 .5 1 .6 1 -1 1 .9 1 -1.9 1 1.6 1 1.2 1 -1.5 1 1.4 1 -.5 1 -1.3 1 1.9 1 .5 1 -1.4 1 -.3 1 -1.2 1 2.1 1 -.4 1 -.2 1 .5 1 -.7 1 -.1 1 -.9 1 -1.5 1 1.2 1 -1.6 1 -6.6 1 -11 1 -4.5 1 6.7 1 8.7 1 5.1 1 3.6 1 .3 1 .1 1 -.5 1 1.7 1 -1 1 .2 1 -.4 1 .6 1 -1.6 1 .8 1 .4 1 .1 1 -.7 1 .5 1 -.1 1 -.2 1 .4 1 -.4 1 -.2 1 .2 1 -1.1 1 -.5 1 -3 1 -3 1 -4.5 1 .7 1 3.9 1 5.4 1 -.1 1 2.5 1 -.6 1 .1 1 -.2 1 .6 1 -.8 1 .9 1 0 1 -.5 1 -1.2 1 1.4 1 .4 1 -.4 1 .4 1 -.4 1 -.1 1 -.1 1 -2.1 1 2.4 1 .8 1 -1.5 1 1.7 1 .4 1 -.1 1 -.4 1 -.5 1 -.7 1 -.5 1 .6 1 -2.8 1 2.2 1 -.9 1 0 1 -1 1 -2.3 1 -.4 1 .8 1 1.5 1 2.4 1 .8 1 -.4 1 -.4 1 -1 1 1.1 1 -1.3 1 1.7 1 -.2 1 -.3 1 -.2 1 .5 1 .9 1 -1.3 1 -1.4 1 -.6 1 2.9 1 -1.4 1 1.6 1 -1.3 1 .3 1 .2 1 -.5 1 -.4 1 .5 1 -.2 1 .6 1 -.6 1 .3 1 -.2 1 .3 1 -1.6 1 .5 1 .2 1 -.5 1 .8 1 .7 1 .1 1 1 1 .3 1 -2.1 1 1.5 1 -.5 1 -.6 1 1.5 1 -.9 1 -.9 1 2.1 1 -1.4 1 -.1 1 -.9 1 -.6 1 -.2 1 1.4 1 -.9 1 -.3 1 1.4 1 .3 1 -.5 1 .9 1 -.6 1 -.5 1 -.1 1 1.1 1 -1.6 1 1.1 1 .5 1 -1.1 1 1.1 1 -.8 1 -1.3 1 -1.7 1 -1.9 1 -.9 1 -1.9 1 -.2 1 .8 1 3.1 1 2.1 1 -.3 1 2.4 1 -.8 1 1.2 1 -.8 1 .8 1 .3 1 -.1 1 -.5 1 .4 1 .1 1 .9 1 -1 1 1.2 1 -.2 1 -2 1 2.6 1 -.9 1 0 1 -.8 1 -.3 1 .5 1 .2 1 .1 1 -.9 1 -.9 1 .1 1 2.7 1 -1.1 1 -.6 1 1.1 1 -.9 1 -.7 1 .3 1 -.2 1 .8 1 -1.8 1 1.3 1 -.6 1 -.2 1 .2 1 1.7 1 -2.2 1 .6 1 .7 1 -1.1 1 .9 1 -1.6 1 .3 1 -.3 1 .5 1 0 1 .6 1 .1 1 .3 1 -.9 1 -1.4 1 3.5 1 -.6 1 -1.3 1 .5 1 .2 1 -.7 1 1.5 1 0 1 0 1 -.9 1 1.4 1 -1 1 .3 1 -1.3 1 1.3 1 0 1 .6 1 -1.3 1 .4 1 -.1 1 -.9 1 1.6 1 -.5 1 -.3 1 .2 1 .1 1 -.3 1 2.6 1 -1.3 1 -.1 1 .9 1 -.6 1 0 1 -.8 1 0 1 -.3 1 1.6 1 -1.1 1 .9 1 -.7 1 .3 1 -1.3 1 2.1 1 -.8 1 -.8 1 1.9 1 -.8 1 -.7 1 .6 1 -.2 1 .2 1 -1.9 1 2 1 -.3 1 -.6 1 -.3 1 1.1 1 -1 1 0 1 .4 1 -.8 1 1.1 1 .3 1 -.1 1 -1 1 .2 1 0 1 1.1 1 -.3 1 -1.4 1 1.9 1 -2 1 .6 1 .3 1 .4 1 -.5 1 -.8 1 -.4 1 1.6 1 -1 1 -.4 1 -.2 1 0 1 .9 1 -.7 1 -.4 1 .8 1 -.6 1 1.1 1 .1 1 .8 1 .2 1 -1.7 1 .2 1 1.5 1 -1.6 1 .5 1 -.6 1 .8 1 -.2 1 -.1 1 .5 1 .5 1 -.2 1 1 1 -1.7 1 .6 1 .5 1 -1.2 1 .7 1 -.8 1 .9 1 -.3 1 .1 1 .9 1 -.1 1 -1.1 1 0 1 .9 1 .1 1 .2 1 -1 1 -.3 1 .4 1 .5 1 -1.1 1 .5 1 .3 1 -.5 1 .5 1 -.3 1 -.2 1 -.5 1 -.5 1 .8 1 -1.2 1 1.2 1 -.1 1 .4 1 -.9 1 .4 1 -.1 1 -.7 1 -.1 1 1.1 1 0 1 -1.1 1 1.2 1 0 1 -.1 1 .9 1 -1.4 1 1.1 1 -1.9 1 1.2 1 -.2 1 1.2 1 -.1 1 -.3 1 .1 1 -1.5 1 0 1 .8 1 .1 1 .6 1 -1.2 1 1.3 1 -1.8 1 .8 1 .3 1 1.2 1 -.4 1 .1 1 -.5 1 .6 1 -1.2 1 1.2 1 -.1 1 -.8 1 .8 1 1.1 1 -1.3 1 1.4 1 -.8 1 0 1 0 1 -.5 1 1.4 1 -1.6 1 .8 1 -1.7 1 1.8 1 .1 1 -.4 1 -.8 1 .4 1 -.6 1 .7 1 -1.1 1 .4 1 .7 1 -.7 1 .2 1 .6 1 -.6 1 1.1 1 -2.3 1 2.2 1 -.8 1 1.1 1 -.4 1 -.1 1 -.2 1 -1.4 1 1.8 1 -3.4 1 3.3 1 -.5 1 -1.1 1 .1 1 .9 1 -.6 1 -.4 1 .6 1 -1.4 1 1.2 1 .6 1 0 1 -.7 1 -.2 1 .8 1 -.2 1 -.5 1 .4 1 -.8 1 .2 1 .7 1 -1.1 1 -.7 1 .8 1 .8 1 -.6 1 .8 1 -1 1 1.4 1 -.2 1 -.7 1 -.2 1 1.2 1 -1 1 1.4 1 -.2 1 -.4 1 -1.8 1 1 1 -.2 1 .6 1 -.3 1 .6 1 .6 1 -2.3 1 1 1 -.4 1 .9 1 .9 1 -2.3 1 .7 1 .4 1 -.4 1 1.5 1 -.1 1 0 1 .3 1 -.3 1 -.9 1 .3 1 .7 1 -.9 1 .8 1 -.7 1 -.9 1 1.5 1 -.4 1 -.8 1 1.3 1 -.7 1 .6 1 .6 1 -2.1 1 2.3 1 .2 1 -.4 1 -.5 1 .1 1 0 1 .5 1 -.9 1 0 1 -.3 1 .9 1 -1.1 1 .1 1 .7 1 -.4 1 .1 1 -.4 1 -.1 1 -.2 1 .8 1 -1.8 1 .9 1 .7 1 .7 1 -1.4 1 1 1 -1.6 1 1.8 1 -.2 1 -.3 1 -.2 1 .4 1 -1 1 0 1 -.1 1 .6 1 -.7 1 .8 1 -.9 1 .2 1 .5 1 -1 1 1.3 1 -.4 1 .4 1 -.8 1 -.3 1 .3 1 .9 1 -1.4 1 1.1 1 -.2 1 -1.6 1 -.6 1 -1 1 -1.9 1 -2.3 1 -1.4 1 -1.2 1 .1 1 1.3 1 2.9 1 2 1 2 1 1.3 1 -.1 1 1.6 1 -1.1 1 -.8 1 .1 1 -.2 1 -1.3 1 -2.2 1 -1.6 1 .1 1 -.4 1 1.3 1 2.7 1 2.2 1 .3 1 .4 1 .4 1 -1.5" fill="none" stroke="#ff0000" stroke-width="2.8" stroke-linejoin="round"/>
<path d="M84.6 4611.9l.5 -.3 .5 .1 .5 .4 .5 -1.5 .5 -.7 .5 1.5 .5 1.1 .5 -.3 .5 -.8 .5 .8 .5 0 .5 .9 .5 -2.1 .5 2.3 .5 -2.2 .5 1 .5 .2 .5 .4 .5 .2 .5 -2.2 .5 -.5 .5 2.1 .5 -2.3 .5 1.9 .5 -.5 .5 1.1 .5 -3 .5 2.6 .5 -.7 .5 1.3 .5 -.5 .5 -.9 .5 -.2 .5 .2 .5 1 .5 -.9 .5 -.7 .5 1.2 .5 .4 .5 -.5 .5 -.7 .5 -.7 .5 .6 .5 1.1 .5 -4.2 .5 2.9 .5 1.3 .5 .1 .5 -.3 .5 .6 .5 -1.4 .5 1.8 .5 -1.1 .5 1 .5 -.4 .5 0 .5 0 .5 -.5 .5 .1 .5 .4 .5 -.3 .5 -.1 .5 .2 .5 .1 .5 -1.6 .5 .7 .5 -1.4 .5 1.2 .5 .1 .5 .7 .5 -.3 .5 -.2 .5 -1 .5 -.9 .5 1.4 .5 -.2 .5 .4 .5 -.1 .5 -.2 .5 -1.1 .5 -.4 .5 .5 .5 .8 .5 .5 .5 -2 .5 .8 .5 1.7 .5 -.3 .5 -.5 .5 -6.3 .5 6.9 .5 -1.3 .5 .4 .5 .9 .5 -1.6 .5 1.3 .5 -.6 .5 0 .5 1.1 .5 .8 .5 -1.5 .5 -1.2 .5 1.6 .5 .7 .5 -2.4 .5 2.4 .5 -1.7 .5 .7 .5 .6 .5 -1.2 .5 1 .5 -.3 .5 .7 .5 -2.6 .5 .3 .5 2.5 .5 -.9 .5 .9 .5 -2.3 .5 2.3 .5 -.7 .5 1.1 .5 -2.3 .5 2 .5 -.4 .5 -1.8 .5 3 .5 -.9 .5 -1.6 .5 1.1 .5 1.2 .5 -1.2 .5 1.4 .5 -.8 .5 .6 .5 -1.1 .5 -.5 .5 0 .5 .3 .5 -.4 .5 .8 .5 -1.6 .5 -1.5 .5 2.8 .5 -2.4 .5 .6 .5 .6 .5 .3 .5 -1.8 .5 .2 .5 1.1 .5 -.2 .5 -.7 .5 2 .5 -.4 .5 -.5 .5 -.4 .5 1.6 .5 .3 .5 -.4 .5 -1.2 .5 1.7 .5 -1.4 .5 .2 .5 .5 .5 -2.9 .5 2.6 .5 -1.4 .5 1.1 .5 .3 .5 -1.1 .5 .8 .5 .1 .5 1 .5 -1.6 .5 -1.7 .5 -1.4 .5 3 .5 -.3 .5 .6 .5 .9 .5 -2.3 .5 1.5 .5 -.2 .5 -.9 .5 .2 .5 1.8 .5 -2.1 .5 1.4 .5 -2 .5 1.1 .5 .2 .5 -.3 .5 2 .5 -2.4 .5 1.5 .5 .3 .5 -1.8 .5 -.5 .5 1.7 .5 .7 .5 -1.1 .5 .8 .5 -.7 .5 .5 .5 .3 .5 -.5 .5 -1 .5 .9 .5 .9 .5 -1.7 .5 -1.7 .5 .6 .5 1.6 .5 -.4 .5 .5 .5 -1.3 .5 1.1 .5 -1.6 .5 -.7 .5 2.1 .5 .8 .5 -.7 .5 .3 .5 -2.5 .5 1.3 .5 1.2 .5 -.5 .5 -2.5 .5 2.7 .5 -1.3 .5 1.3 .5 -1 .5 .5 .5 .1 .5 .3 .5 .9 .5 .2 .5 -1.1 .5 .6 .5 -1.5 .5 1.2 .5 1 .5 0 .5 .3 .5 -1 .5 -1.1 .5 1.5 .5 0 .5 -.1 .5 -1.9 .5 1.6 .5 -.8 .5 .2 .5 1.2 .5 -1.2 .5 .2 .5 -.4 .5 .3 .5 1.4 .5 -.4 .5 .6 .5 .2 .5 -1 .5 -.3 .5 1.2 .5 0 .5 -3.1 .5 1.9 .5 -.6 .5 1.2 .5 -.6 .5 .9 .5 -1.7 .5 -.9 .5 2.1 .5 -.6 .5 1.2 .5 .2 .5 -1.1 .5 -1.1 .5 1.5 .5 -.1 .5 -.6 .5 -1.2 .5 1.8 .5 -2.2 .5 1.8 .5 1.3 .5 -.8 .5 -1.2 .5 -1 .5 3.2 .5 0 .5 -2.4 .5 1.2 .5 -.1 .5 0 .5 .7 .5 .8 .5 -.1 .5 .5 .5 -.2 .5 -3.1 .5 .9 .5 .5 .5 -.7 .5 1.7 .5 -.7 .5 -1.7 .5 2.5 .5 -.2 .5 .9 .5 -.7 .5 -.1 .5 .8 .5 -1.2 .5 -.3 .5 -1.1 .5 1 .5 -.1 .5 -.6 .5 -.8 .5 3.3 .5 -1.8 .5 .1 .5 0 .5 -1.5 .5 2.4 .5 .8 .5 -.9 .5 .6 .5 -2.2 .5 3 .5 -.8 .5 .2 .5 .3 .5 -2.2 .5 -.8 .5 2.9 .5 -3 .5 2.3 .5 .6 .5 -1 .5 -.3 .5 .9 .5 -3.3 .5 2.2 .5 -.8 .5 -.1 .5 2.7 .5 -1.8 .5 1.9 .5 -5.6 .5 4.8 .5 -.1 .5 -1 .5 -.2 .5 .9 .5 -.4 .5 0 .5 -1.7 .5 2.9 .5 -2.2 .5 2.5 .5 -.2 .5 -.5 .5 .4 .5 -.5 .5 .2 .5 .1 .5 .1 .5 .4 .5 .2 .5 -1.7 .5 1.3 .5 .7 .5 .3 .5 -2 .5 -.7 .5 1.5 .5 -.4 .5 .7 .5 -.4 .5 -1.1 .5 1.8 .5 -1.5 .5 -.4 .5 .6 .5 .9 .5 1 .5 -4.8 .5 3.6 .5 .9 .5 -.6 .5 -2 .5 2.3 .5 -.1 .5 -.8 .5 -.5 .5 -1.4 .5 1.4 .5 -.9 .5 .4 .5 -1 .5 1.5 .5 .8 .5 -.5 .5 .5 .5 -.8 .5 .5 .5 0 .5 -.1 .5 -.5 .5 .3 .5 -1 .5 .3 .5 -.2 .5 -1.9 .5 3.1 .5 -.2 .5 -.4 .5 .7 .5 -2.1 .5 .9 .5 .1 .5 .1 .5 -.3 .5 .5 .5 -.6 .5 2 .5 -.9 .5 -2.5 .5 2.6 .5 -1 .5 1.1 .5 .1 .5 .7 .5 -.4 .5 .2 .5 -3.6 .5 3.4 .5 .3 .5 -1.2 .5 .8 .5 -1.6 .5 .5 .5 -.9 .5 2.6 .5 .1 .5 -2.7 .5 .6 .5 1.6 .5 0 .5 .1 .5 -.5 .5 -.4 .5 -.4 .5 .9 .5 -2.1 .5 .4 .5 2 .5 -1.4 .5 1.8 .5 .3 .5 -1.2 .5 -6.4 .5 7.1 .5 .6 .5 -.2 .5 -1.1 .5 1.2 .5 .4 .5 -.2 .5 0 .5 -1.9 .5 .9 .5 -3 .5 3.7 .5 .3 .5 -2 .5 1 .5 -1.4 .5 1.5 .5 -1.9 .5 0 .5 .8 .5 1.1 .5 -3.1 .5 3.3 .5 -2.4 .5 2.7 .5 -3.1 .5 1.9 .5 -1.4 .5 2.1 .5 -.4 .5 .8 .5 -3 .5 0 .5 -.8 .5 1.2 .5 1.5 .5 -1.5 .5 -1.1 .5 .3 .5 1.7 .5 .3 .5 -3.1 .5 1 .5 1 .5 .6 .5 -.5 .5 1.3 .5 -.9 .5 .1 .5 -.7 .5 .8 .5 -1.4 .5 1.1 .5 .4 .5 1.1 .5 .5 .5 -1.9 .5 .9 .5 -1 .5 1.9 .5 -.2 .5 -1.2 .5 .5 .5 -.6 .5 1.1 .5 -.2 .5 -1.9 .5 .1 .5 1.1 .5 .6 .5 -.2 .5 -.5 .5 .1 .5 -1.1 .5 .5 .5 .9 .5 -.8 .5 .6 .5 .2 .5 .3 .5 -.6 .5 -2.7 .5 3.7 .5 -1 .5 1.1 .5 -1.3 .5 -1.6 .5 2.5 .5 -.5 .5 .4 .5 -.1 .5 -3 .5 2.9 .5 -1.2 .5 1.6 .5 -.2 .5 -1.1 .5 -2.3 .5 1.5 .5 .5 .5 -.1 .5 1.1 .5 .5 .5 -1.7 .5 -.9 .5 .8 .5 1.8 .5 -.2 .5 -2.6 .5 2.3 .5 1.3 .5 -.6 .5 1.1 .5 -.9 .5 -1.2 .5 1.8 .5 -1.6 .5 -1.4 .5 3.1 .5 -.7 .5 -.1 .5 -.2 .5 -1 .5 1.6 .5 -.8 .5 1 .5 -3.8 .5 3.6 .5 -2.9 .5 1.2 .5 0 .5 -.1 .5 1 .5 0 .5 .3 .5 -1.2 .5 -1 .5 2.4 .5 -.6 .5 .4 .5 -.4 .5 -3.9 .5 3.5 .5 -.3 .5 -1.7 .5 .4 .5 .3 .5 .3 .5 0 .5 1.1 .5 -.4 .5 .8 .5 -.4 .5 -1.1 .5 -.8 .5 1.8 .5 -.2 .5 -.7 .5 .6 .5 1.5 .5 -1.2 .5 -1.1 .5 1.4 .5 -1.1 .5 .3 .5 .9 .5 -.6 .5 0 .5 .6 .5 -1.3 .5 -.8 .5 1.6 .5 -1.7 .5 1.8 .5 -.9 .5 1.9 .5 -.4 .5 .3 .5 -2.2 .5 2.1 .5 -.9 .5 -.7 .5 2.2 .5 -1.1 .5 -.7 .5 1.7 .5 -2 .5 2 .5 -1.7 .5 1.7 .5 -.4 .5 -1 .5 .3 .5 .1 .5 -1.1 .5 1.6 .5 -.5 .5 .6 .5 -1.1 .5 -.2 .5 .2 .5 -.4 .5 .1 .5 -3.5 .5 -1 .5 5.1 .5 -.3 .5 .9 .5 -1.6 .5 2.1 .5 -.7 .5 .5 .5 -.2 .5 -.5 .5 .2 .5 -2.2 .5 3 .5 -1.7 .5 -.8 .5 3 .5 -1 .5 -.4 .5 -1.5 .5 1 .5 -.1 .5 -.1 .5 .4 .5 .2 .5 -1 .5 -2.2 .5 .2 .5 -2.8 .5 -1 .5 -1.1 .5 -1.7 .5 .2 .5 1.1 .5 .8 .5 1.5 .5 .8 .5 2.8 .5 1.7 .5 .5 .5 -2 .5 .1 .5 2.6 .5 -.1 .5 -1.2 .5 1.3 .5 .9 .5 -.4 .5 -.3 .5 .5 .5 -.5 .5 -2.2 .5 2 .5 -1.3 .5 .7 .5 -.8 .5 .2 .5 .5 .5 .2 .5 -1.7 .5 1.1 .5 -4.8 .5 3.4 .5 1 .5 -.6 .5 1.2 .5 -.6 .5 1.3 .5 -1.5 .5 0 .5 -.9 .5 2.9 .5 -1.1 .5 .5 .5 -.8 .5 .1 .5 .7 .5 -1.2 .5 .3 .5 .2 .5 -.6 .5 .5 .5 .1 .5 -2.8 .5 2.5 .5 1.4 .5 -2.2 .5 .6 .5 .4 .5 1.5 .5 -.1 .5 0 .5 -.6 .5 .8 .5 -.2 .5 -.6 .5 -1.6 .5 -.4 .5 1.2 .5 1 .5 -1.3 .5 .6 .5 -1.3 .5 1.1 .5 1.1 .5 -.1 .5 .6 .5 -2.1 .5 2 .5 .1 .5 -.4 .5 -.2 .5 .4 .5 .5 .5 -.4 .5 -.2 .5 -.1 .5 .4 .5 -.1 .5 -2.9 .5 3 .5 -.3 .5 -.1 .5 .1 .5 -.9 .5 0 .5 1.4 .5 -.1 .5 -1.3 .5 1 .5 -.1 .5 .3 .5 -2.9 .5 2.8 .5 -.3 .5 -.2 .5 -1.3 .5 -.7 .5 1.9 .5 .8 .5 -1.6 .5 1.3 .5 .3 .5 -1.3 .5 .2 .5 .7 .5 .5 .5 -.7 .5 -1.6 .5 -.9 .5 3.1 .5 -1.5 .5 .9 .5 .6 .5 0 .5 -2.2 .5 1.7 .5 -.6 .5 -.8 .5 1 .5 .3 .5 0 .5 -1.3 .5 -1.2 .5 1 .5 -.4 .5 1.1 .5 -.5 .5 .4 .5 .9 .5 -1.8 .5 -.5 .5 1.3 .5 -2.3 .5 .3 .5 1.1 .5 1 .5 -1.3 .5 1.9 .5 -.6 .5 -1.2 .5 1.6 .5 -.5 .5 -.9 .5 -.6 .5 .8 .5 1.5 .5 -.7 .5 .6 .5 -2.4 .5 1.4 .5 1.3 .5 -.8 .5 .8 .5 -.5 .5 .4 .5 -1 .5 -1.3 .5 .2 .5 1.9 .5 -2 .5 1.9 .5 -4.9 .5 3.5 .5 .8 .5 .8 .5 .5 .5 -1.1 .5 .8 .5 -.2 .5 .1 .5 -1.6 .5 1.7 .5 -.3 .5 .6 .5 0 .5 -1.6 .5 -1.3 .5 .6 .5 1 .5 -.2 .5 -1.7 .5 1.2 .5 .9 .5 -.4 .5 -1.7 .5 1.4 .5 -2.1 .5 -.3 .5 1.2 .5 -1.2 .5 -.4 .5 -3.2 .5 3 .5 -2.1 .5 1.5 .5 -.2 .5 .6 .5 .1 .5 -.1 .5 .7 .5 -.4 .5 .1 .5 1.8 .5 -.2 .5 .6 .5 -.1 .5 1.1 .5 -2.9 .5 2.6 .5 -.3 .5 1 .5 -1.4 .5 1 .5 -.3 .5 -.3 .5 -.1 .5 2 .5 -2 .5 1.2 .5 1 .5 -1.6 .5 -.4 .5 1 .5 1 .5 -2.2 .5 2.3 .5 -1.8 .5 1.3 .5 .2 .5 -1.4 .5 .7 .5 -2.1 .5 2 .5 1.4 .5 -1 .5 1 .5 -.9 .5 -1.1 .5 1.9 .5 -.1 .5 .5 .5 -2.4 .5 -.1 .5 1.9 .5 -1.3 .5 -.1 .5 2.2 .5 .2 .5 -1.1 .5 1.1 .5 -.6 .5 -2.8 .5 2.8 .5 .9 .5 -1 .5 -.3 .5 1.1 .5 -1.2 .5 1.3 .5 -1.2 .5 -1 .5 .8 .5 0 .5 -1.4 .5 -.4 .5 1.7 .5 -.5 .5 .2 .5 .4 .5 -.8 .5 .4 .5 -.7 .5 -.5 .5 1.5 .5 .5 .5 -1.4 .5 -.5 .5 1.6 .5 -.2 .5 -2.5 .5 2.2 .5 -.2 .5 -2 .5 2.1 .5 -.4 .5 .2 .5 -1.9 .5 2.5 .5 -3.4 .5 3.5 .5 -.6 .5 -.1 .5 .2 .5 0 .5 -1.7 .5 2.3 .5 -.4 .5 -2.5 .5 -.2 .5 2.9 .5 .2 .5 -3 .5 -.2 .5 2.1 .5 -.4 .5 .8 .5 -2.1 .5 2.5 .5 -1.5 .5 .7 .5 -2 .5 2.1 .5 1 .5 -2.2 .5 1.1 .5 -1.1 .5 1.1 .5 .3 .5 -.4 .5 -1 .5 1.3 .5 -.8 .5 -.1 .5 1.7 .5 -3.2 .5 .9 .5 -1.5 .5 -2.3 .5 5.7 .5 -.6 .5 -1.6 .5 2.6 .5 -1.1 .5 .3 .5 -.2 .5 -.3 .5 .9 .5 .2 .5 -2 .5 1.9 .5 -.8 .5 .7 .5 -.5 .5 .7 .5 -2.1 .5 -.2 .5 .9 .5 1.5 .5 .6 .5 -.7 .5 .5 .5 -2.1 .5 -.1 .5 1.9 .5 -2.1 .5 1.6 .5 -1.1 .5 .5 .5 -1 .5 0 .5 -.6 .5 1.6 .5 -1.1 .5 .6 .5 .2 .5 -.8 .5 -.2 .5 -.6 .5 1.5 .5 -1.3 .5 -2.3 .5 -2.8 .5 -.2 .5 -1.1 .5 -2.8 .5 .2 .5 -3.1 .5 -.5 .5 -1 .5 3.8 .5 1.3 .5 3.6 .5 1.2 .5 -1.1 .5 4.2 .5 .1 .5 1.6 .5 -1.1 .5 2.1 .5 -.9 .5 .6 .5 .6 .5 -2.3 .5 1.5 .5 .4 .5 .2 .5 .9 .5 -1.6 .5 .6 .5 -.3 .5 1.3 .5 -1.7 .5 -.2 .5 1.8 .5 .5 .5 -.7 .5 .3 .5 .8 .5 -1.6 .5 -1 .5 1.6 .5 -.5 .5 .3 .5 -.4 .5 0 .5 -.4 .5 .9 .5 .4 .5 -2.5 .5 -.6 .5 .5 .5 2 .5 -.8 .5 1 .5 .3 .5 -.1 .5 .1 .5 -2.1 .5 -.1 .5 -.4 .5 .4 .5 -2.4 .5 -.1 .5 1.1 .5 -.9 .5 -.9 .5 1.5 .5 .5 .5 .8 .5 .9 .5 -1 .5 1.3 .5 -.6 .5 .1 .5 1.3 .5 -3.6 .5 2.8 .5 -.5 .5 -1.9 .5 1.8 .5 -.5 .5 1.1 .5 .4 .5 -1.4 .5 -.5 .5 1.7 .5 -.6 .5 1 .5 -1.2 .5 1.2 .5 -.4 .5 -.2 .5 -.5 .5 .3 .5 .4 .5 -.3 .5 .1 .5 -1.4 .5 -2.1 .5 4.4 .5 -.3 .5 .2 .5 .1 .5 -.1 .5 -1.5 .5 .4 .5 .5 .5 -.8 .5 -.1 .5 1.9 .5 -1 .5 1.4 .5 -.5 .5 -.3 .5 .3 .5 .7 .5 -1.9 .5 -5.7 .5 7.5 .5 -.1 .5 -2.8 .5 2 .5 -1.8 .5 2.4 .5 -2.2 .5 1.1 .5 .2 .5 -1.5 .5 1.4 .5 .1 .5 -1.4 .5 -.3 .5 1 .5 1.1 .5 -1.8 .5 2.5 .5 .1 .5 -.2 .5 -1.3 .5 1.1 .5 -1.3 .5 -.7 .5 2 .5 -.4 .5 -.6 .5 1.3 .5 -.2 .5 -1.5 .5 .2 .5 .3 .5 -.1 .5 .5 .5 .5 .5 -1.2 .5 -.8 .5 1.3 .5 .6 .5 -2.5 .5 -.1 .5 2.1 .5 -2.7 .5 3.2 .5 -.8 .5 .6 .5 -.9 .5 -1.4 .5 1.7 .5 -.4 .5 -.2 .5 .1 .5 .1 .5 -1.3 .5 2.1 .5 -1.5 .5 1.2 .5 -1.5 .5 -1 .5 1.7 .5 -.3 .5 1 .5 .3 .5 -1.2 .5 1.5 .5 -.1 .5 -.5 .5 .4 .5 -2.1 .5 1.6 .5 -8 .5 8 .5 .6 .5 -1.5 .5 1.1 .5 -.9 .5 1.5 .5 .3 .5 -1.4 .5 .9 .5 -.1 .5 0 .5 .6 .5 -.6 .5 .6 .5 -2.4 .5 -.2 .5 .5 .5 1.5 .5 -.5 .5 -2.2 .5 1.1 .5 1.1 .5 -.2 .5 -2 .5 1.1 .5 -11.4 .5 11.3 .5 .5 .5 -1.4 .5 .5 .5 -.9 .5 .7 .5 -1.8 .5 0 .5 2.2 .5 0 .5 -1.9 .5 .1 .5 0 .5 -1.3 .5 -1 .5 -2.8 .5 -3.5 .5 -4 .5 -3.1 .5 -6.6 .5 -7.3 .5 -6.6 .5 -5.3 .5 -6.6 .5 -.2 .5 2.7 .5 2.5 .5 7.8 .5 5.5 .5 8.5 .5 5.4 .5 4.7 .5 4.6 .5 1.7 .5 1.1 .5 2.2 .5 1.3 .5 .1 .5 .6 .5 -1.8 .5 1.6 .5 .4 .5 -2.3 .5 1.7 .5 0 .5 .5 .5 -.7 .5 .9 .5 .6 .5 .5 .5 0 .5 -3.5 .5 .8 .5 1 .5 1.3 .5 1 .5 -.1 .5 -.2 .5 -.4 .5 0 .5 1.6 .5 -1.7 .5 -.9 .5 2.5 .5 -.8 .5 -.9 .5 .5 .5 .2 .5 1 .5 -1.3 .5 -.2 .5 2 .5 -1.1 .5 1.2 .5 -1.3 .5 .6 .5 -2.3 .5 1.1 .5 .7 .5 1 .5 -.3 .5 -.6 .5 -.3 .5 1.6 .5 -2.2 .5 .3 .5 1.6 .5 -.1 .5 -1.1 .5 1.1 .5 .2 .5 -1 .5 .5 .5 -2.3 .5 3.2 .5 -.7 .5 -1.2 .5 1.1 .5 0 .5 -3.3 .5 1.2 .5 .5 .5 -1.3 .5 1.4 .5 .9 .5 -.1 .5 -.6 .5 -2 .5 3.1 .5 -.3 .5 -4.1 .5 .7 .5 -1.4 .5 1 .5 -3.7 .5 -1.5 .5 -6.7 .5 -9.9 .5 -12.9 .5 -14.9 .5 -12.9 .5 -4.2 .5 3.9 .5 16.1 .5 16 .5 11.1 .5 9 .5 6.7 .5 1.9 .5 3.7 .5 -.2 .5 .8 .5 1 .5 .5 .5 .2 .5 .1 .5 -.3 .5 -2.1 .5 3 .5 -1.1 .5 .5 .5 -2.4 .5 1.2 .5 1.7 .5 -.5 .5 -1.8 .5 .8 .5 .2 .5 -.8 .5 .6 .5 -1.7 .5 1.5 .5 1.2 .5 -1.5 .5 1.5 .5 -3.8 .5 4.1 .5 -.4 .5 .1 .5 -1.3 .5 1.7 .5 0 .5 .1 .5 -.4 .5 -.2 .5 -2.2 .5 3.5 .5 -3 .5 2.3 .5 -1.1 .5 0 .5 -.3 .5 -.6 .5 1.6 .5 .5 .5 .1 .5 -.9 .5 1.1 .5 -.8 .5 .7 .5 -1 .5 1.6 .5 -2 .5 1.9 .5 -1.2 .5 .8 .5 -.1 .5 -.9 .5 .1 .5 .6 .5 -.8 .5 -.3 .5 1 .5 -.3 .5 -.8 .5 1.4 .5 -.2 .5 .9 .5 -.4 .5 .1 .5 -1 .5 1 .5 .1 .5 -1.2 .5 -2.1 .5 2 .5 -.2 .5 1.5 .5 -.2 .5 -3.7 .5 .7 .5 .5 .5 .1 .5 .8 .5 .6 .5 .3 .5 .8 .5 0 .5 -.5 .5 -.6 .5 .9 .5 -1.1 .5 .8 .5 -.2 .5 .1 .5 -.4 .5 .6 .5 -1.6 .5 1 .5 -.5 .5 .4 .5 .4 .5 -.4 .5 -1.2 .5 -.3 .5 .2 .5 -1 .5 -1.2 .5 1.3 .5 -1.1 .5 -.5 .5 0 .5 -.9 .5 -1.3 .5 1.4 .5 -.1 .5 1.4 .5 1.1 .5 -3.4 .5 3.6 .5 -2.8 .5 2.2 .5 -.3 .5 -.1 .5 -1.6 .5 -4.2 .5 -8.1 .5 -4 .5 -10 .5 -11.5 .5 -9.9 .5 -2 .5 4.4 .5 11.2 .5 9 .5 10 .5 7.9 .5 4.3 .5 2.2 .5 1.2 .5 1.7 .5 -1 .5 .7 .5 1.7 .5 -.4 .5 .6 .5 -.8 .5 .5 .5 -.2 .5 .2 .5 0 .5 -.1 .5 .1 .5 -1.8 .5 1 .5 .1 .5 -1.8 .5 1.3 .5 -2.2 .5 1.6 .5 -.7 .5 -3.2 .5 2.2 .5 -2.8 .5 -.3 .5 -2.8 .5 -7.3 .5 -2.8 .5 -7.8 .5 -12 .5 -13.8 .5 -20 .5 -20.1 .5 -20.6 .5 -21.5 .5 -12.3 .5 -4 .5 7 .5 14.1 .5 19.4 .5 19 .5 18.8 .5 17 .5 7.9 .5 13.5 .5 8.1 .5 5.9 .5 4.8 .5 2.6 .5 .5 .5 4.7 .5 1.6 .5 2.1 .5 1.3 .5 -1.1 .5 2.5 .5 .7 .5 0 .5 .7 .5 .1 .5 -1.4 .5 1.6 .5 -.8 .5 .6 .5 -1.3 .5 -.4 .5 2.1 .5 -.9 .5 1.3 .5 -.3 .5 .4 .5 -1.3 .5 -.1 .5 -.6 .5 1.6 .5 -2.8 .5 1.8 .5 -1.3 .5 -1.4 .5 -1.3 .5 -.8 .5 -4.4 .5 -8.7 .5 -11.5 .5 -16.9 .5 -24.9 .5 -28.6 .5 -20.8 .5 -6.6 .5 10.5 .5 25.3 .5 26.6 .5 23 .5 17.1 .5 11.6 .5 4 .5 2.2 .5 4.5 .5 .9 .5 -2.7 .5 1.5 .5 -.1 .5 1.4 .5 2.2 .5 -.9 .5 1.6 .5 .8 .5 -.2 .5 .6 .5 -.7 .5 .1 .5 -.1 .5 -.8 .5 .4 .5 -1.2 .5 -.3 .5 0 .5 -1.8 .5 -.8 .5 -3 .5 -.5 .5 -1.6 .5 -1.4 .5 2.3 .5 -1.4 .5 4.7 .5 .6 .5 2.4 .5 .4 .5 1.2 .5 .4 .5 -7.2 .5 7.6 .5 -1.9 .5 1.1 .5 -2.3 .5 1.1 .5 -6.3 .5 5.8 .5 2.7 .5 -2.3 .5 2.1 .5 -.8 .5 1.1 .5 -.1 .5 -2.2 .5 1.4 .5 1.1 .5 -2.2 .5 1.8 .5 -2.1 .5 2.9 .5 -3.4 .5 2.9 .5 -.7 .5 0 .5 1.6 .5 -1.5 .5 1.9 .5 -.9 .5 .7 .5 -2.9 .5 2.4 .5 .3 .5 -.4 .5 .4 .5 .1 .5 -.5 .5 -3.7 .5 3.6 .5 -.4 .5 .8 .5 -.6 .5 .2 .5 -3.3 .5 3.4 .5 -.9 .5 0 .5 .9 .5 -3.1 .5 2 .5 1.5 .5 -1.5 .5 -.8 .5 1.9 .5 -2.2 .5 -.2 .5 2.1 .5 .6 .5 -.4 .5 -.8 .5 1.3 .5 -.3 .5 -.3 .5 -1.3 .5 -.9 .5 2.1 .5 -.3 .5 -.7 .5 .2 .5 .1 .5 .9 .5 .1 .5 -.1 .5 -.9 .5 .1 .5 -.6 .5 .9 .5 -2.9 .5 3.1 .5 -1.7 .5 2.2 .5 -.2 .5 -.2 .5 -.1 .5 0 .5 -.2 .5 -1.1 .5 -1.1 .5 .2 .5 -.8 .5 -1.1 .5 -1.4 .5 -.3 .5 .8 .5 .5 .5 -1.3 .5 1.5 .5 1.1 .5 .1 .5 -.7 .5 .9 .5 .5 .5 -.6 .5 2.2 .5 -2.8 .5 2.9 .5 .6 .5 .3 .5 -.4 .5 -.3 .5 -1.4 .5 2.6 .5 -.8 .5 .3 .5 -.2 .5 -.7 .5 1 .5 .4 .5 -1.5 .5 1.2 .5 -.5 .5 -.5 .5 -.7 .5 1.4 .5 0 .5 -1.2 .5 1.3 .5 -1.3 .5 -.7 .5 .2 .5 .7 .5 .8 .5 -1 .5 .1 .5 .1 .5 .4 .5 .9 .5 -1.9 .5 1.6 .5 -.1 .5 -1.1 .5 1.6 .5 -.1 .5 -1 .5 1.5 .5 -.6 .5 .7 .5 -1.7 .5 -1.2 .5 2.1 .5 .7 .5 -3.1 .5 .7 .5 2.5 .5 -.1 .5 -2.2 .5 1.8 .5 .1 .5 .7 .5 -1.5 .5 0 .5 -.5 .5 1.8 .5 .1 .5 -2.5 .5 2 .5 -.5 .5 1.1 .5 -1.1 .5 -1.1 .5 .7 .5 -.1 .5 1.2 .5 -.8 .5 -1.3 .5 .6 .5 .3 .5 -1.8 .5 .5 .5 1.6 .5 -2.1 .5 2 .5 0 .5 -.5 .5 -.7 .5 1.4 .5 -2.9 .5 2.2 .5 -2.2 .5 2.3 .5 -1.5 .5 2.7 .5 -2.4 .5 2.2 .5 0 .5 .5 .5 -.6 .5 .5 .5 .6 .5 -.4 .5 -.5 .5 -.6 .5 -.7 .5 1.4 .5 .3 .5 .4 .5 -2.3 .5 1.2 .5 1.5 .5 -2 .5 .2 .5 -.2 .5 1.2 .5 -1 .5 .5 .5 .1 .5 -.1 .5 -1.9 .5 1.5 .5 1.1 .5 -1.8 .5 2.6 .5 -.4 .5 -.8 .5 -.4 .5 1.9 .5 -.4 .5 -1.1 .5 -.7 .5 1.5 .5 -1.1 .5 1.8 .5 -.8 .5 .2 .5 -.7 .5 -.8 .5 -1 .5 2.7 .5 -.5 .5 .3 .5 -1 .5 -.3 .5 -.5 .5 1.6 .5 1 .5 0 .5 -3.5 .5 2.6 .5 .3 .5 -1.1 .5 .9 .5 .6 .5 -1.5 .5 -.7 .5 1.2 .5 1.1 .5 .4 .5 -1.2 .5 -1.3 .5 1.5 .5 -.2 .5 .4 .5 0 .5 -1.1 .5 .9 .5 -.8 .5 1.4 .5 -1.6 .5 1.3 .5 -2.5 .5 1.6 .5 -1 .5 .2 .5 -.1 .5 .1 .5 -1.9 .5 3.1 .5 -1.5 .5 -.4 .5 1 .5 -.6 .5 1.2 .5 -1.2 .5 1 .5 -.9 .5 -1.6 .5 1.7 .5 -1.8 .5 1.5 .5 -1.9 .5 1.8 .5 -2.4 .5 -1.4 .5 -.3 .5 -1.5 .5 .1 .5 -3.7 .5 -4.1 .5 .8 .5 -4.6 .5 -2.9 .5 -1 .5 -4.2 .5 -.1 .5 2.4 .5 1.5 .5 2.9 .5 2.4 .5 1 .5 4.8 .5 2.8 .5 -.3 .5 3 .5 .4 .5 2.2 .5 2 .5 -.5 .5 0 .5 1.1 .5 .5 .5 -2.9 .5 3.4 .5 -.6 .5 -1.9 .5 1.3 .5 1.1 .5 -.2 .5 -1.1 .5 .5 .5 -.5 .5 1 .5 .5 .5 .8 .5 -.7 .5 -.7 .5 1.1 .5 -2.1 .5 1 .5 1.8 .5 -.9 .5 -1.9 .5 2.7 .5 -1 .5 .1 .5 -.1 .5 1.6 .5 -3.7 .5 1.4 .5 2 .5 -1.6 .5 1.5 .5 -.3 .5 -.8 .5 .2 .5 -1.5 .5 .4 .5 1.5 .5 -.9 .5 1.5 .5 -.1 .5 -1.2 .5 -1.7 .5 1.3 .5 .4 .5 .9 .5 .6 .5 -.6 .5 -.1 .5 .5 .5 -2.5 .5 2.3 .5 -.4 .5 -.6 .5 .1 .5 .9 .5 -2.1 .5 2.6 .5 -2 .5 1.6 .5 -3 .5 3.3 .5 .2 .5 -1.5 .5 .7 .5 .8 .5 -2.1 .5 -3 .5 3.2 .5 .8 .5 .2 .5 -2.5 .5 2.8 .5 -1.5 .5 1.5 .5 -.5 .5 .3 .5 -.4 .5 -1.1 .5 1.6 .5 -1.1 .5 .2 .5 .4 .5 -1.3 .5 1.2 .5 .4 .5 -1.3 .5 1 .5 .2 .5 -.1 .5 .7 .5 .1 .5 .1 .5 -1.1 .5 1.5 .5 -1.3 .5 1.8 .5 -1.7 .5 .5 .5 .7 .5 0 .5 -2.6 .5 3 .5 -2 .5 2.2 .5 -.1 .5 -.7 .5 -2.2 .5 1 .5 1.8 .5 -.1 .5 -3 .5 2.5 .5 .3 .5 -1.1 .5 1 .5 .6 .5 0 .5 .2 .5 -.2 .5 -.2 .5 -.2 .5 -.9 .5 .6 .5 -.1 .5 -.4 .5 .6 .5 -1.4 .5 .9 .5 -.5 .5 .9 .5 .1 .5 -.3 .5 -2.9 .5 -1.3 .5 3.8 .5 -.3 .5 1 .5 -.2 .5 -.7 .5 .5 .5 -1.5 .5 -2.2 .5 3.7 .5 .5 .5 -.4 .5 .3 .5 -.6 .5 -.6 .5 .1 .5 -.3 .5 -.7 .5 .6 .5 .4 .5 -.5 .5 .5 .5 -.3 .5 -1.2 .5 1.8 .5 -.3 .5 -6.3 .5 5.3 .5 1.4 .5 -.4 .5 -.9 .5 .7 .5 -3.5 .5 2.3 .5 1.2 .5 -.2 .5 .5 .5 -2.6 .5 1.5 .5 .7 .5 -1.5 .5 .6 .5 1.4 .5 -.9 .5 -.7 .5 1.9 .5 -.9 .5 .7 .5 -1 .5 -2.7 .5 3.1 .5 .6 .5 .1 .5 .2 .5 -.3 .5 -1.7 .5 1.1 .5 -1.4 .5 2.1 .5 -1.3 .5 .4 .5 .8 .5 .2 .5 -.4 .5 .4 .5 -1 .5 .6 .5 .7 .5 -1.3 .5 1 .5 .3 .5 -.5 .5 -.9 .5 1.5 .5 -.6 .5 -.7 .5 -.2 .5 .7 .5 0 .5 -.3 .5 -2.2 .5 2.2 .5 .2 .5 -.5 .5 -1.1 .5 .3 .5 0 .5 0 .5 -1.2 .5 .4 .5 -.5 .5 -.4 .5 -1.2 .5 .3 .5 -4.1 .5 -3.1 .5 -2.8 .5 -8.1 .5 -6.8 .5 -6.5 .5 -2.9 .5 2.8 .5 8.4 .5 6.3 .5 8 .5 4.4 .5 1.4 .5 2.7 .5 1 .5 .4 .5 0 .5 -.6 .5 1.3 .5 -1.5 .5 1.8 .5 .5 .5 -1 .5 .7 .5 .6 .5 .7 .5 -2.1 .5 .4 .5 1.6 .5 -1.1 .5 .4 .5 1 .5 .5 .5 -1.2 .5 1.3 .5 -.2 .5 .1 .5 .1 .5 -.6 .5 .6 .5 -.7 .5 -.2 .5 -2.5 .5 3 .5 -.2 .5 -.5 .5 -.2 .5 -.3 .5 1.2 .5 -.1 .5 -1.8 .5 2.2 .5 -.8 .5 -2.2 .5 .9 .5 .6 .5 .8 .5 -.9 .5 1.2 .5 -1.3 .5 -1 .5 2.5 .5 -.6 .5 -1 .5 -1 .5 .7 .5 .1 .5 1.6 .5 -1.3 .5 .7 .5 -.2 .5 -.1 .5 1.4 .5 -1.6 .5 1.8 .5 -2.1 .5 1.6 .5 -.8 .5 1.6 .5 -.3 .5 .2 .5 -.2 .5 -1.1 .5 1.7 .5 -1.7 .5 -.2 .5 -.3 .5 2 .5 -.8 .5 .6 .5 -1.4 .5 1.2 .5 -2.3 .5 .1 .5 1.8 .5 -.2 .5 -.9 .5 -.1 .5 2 .5 -1.8 .5 .8 .5 -1.3 .5 1.2 .5 .1 .5 .6 .5 -.7 .5 0 .5 -.3 .5 -.9 .5 1.7 .5 .3 .5 .5 .5 -3.3 .5 -1.5 .5 4 .5 -.7 .5 .9 .5 -.3 .5 -.2 .5 .5 .5 -1.5 .5 1.1 .5 -1.4 .5 1.8 .5 -1.4 .5 1.5 .5 -2.3 .5 -.1 .5 -.1 .5 2.5 .5 .2 .5 -.3 .5 .3 .5 -2.6 .5 1.8 .5 -.9 .5 .9 .5 -1.6 .5 1.1 .5 .8 .5 -.3 .5 -.9 .5 -2.6 .5 3.9 .5 .6 .5 -1.9 .5 1.8 .5 .3 .5 -.1 .5 -1.3 .5 .7 .5 -.6 .5 .1 .5 -2.1 .5 3.5 .5 -.5 .5 .2 .5 -5.3 .5 5.5 .5 -.2 .5 -.3 .5 -1.2 .5 -.2 .5 .4 .5 -1.8 .5 .4 .5 1.9 .5 -.3 .5 -2.3 .5 1.5 .5 .8 .5 -1.5 .5 1.1 .5 -1 .5 .8 .5 .4 .5 .2 .5 -.7 .5 .3 .5 -3.6 .5 3.9 .5 -.5 .5 -1.2 .5 0 .5 .5 .5 -.1 .5 0 .5 .2 .5 -.4 .5 1.4 .5 -2.4 .5 1.5 .5 -.2 .5 0 .5 .4 .5 -.9 .5 -.9 .5 2.2 .5 -.2 .5 .7 .5 -1.7 .5 2.1 .5 -.9 .5 .6 .5 -.9 .5 .6 .5 .3 .5 -1 .5 .4 .5 .3 .5 -1.5 .5 1.4 .5 -1.2 .5 -2 .5 3.2 .5 -2.6 .5 .5 .5 -1.5 .5 3.4 .5 -.5 .5 -1.5 .5 1.8 .5 -.9 .5 -.7 .5 .9 .5 -1.7 .5 2 .5 -1.4 .5 .9 .5 .3 .5 -1.4 .5 -.6 .5 1.5 .5 0 .5 -.8 .5 -.3 .5 1.6 .5 1.2 .5 0 .5 -1.3 .5 .6 .5 1.1 .5 -2.8 .5 1 .5 -.3 .5 1.5 .5 .3 .5 -1.3 .5 1 .5 .5 .5 -.7 .5 -.1 .5 -2.6 .5 1.4 .5 -3.7 .5 5.5 .5 -.1 .5 .1 .5 -2.6 .5 3.1 .5 .1 .5 -.2 .5 -3.5 .5 4 .5 -1.3 .5 .9 .5 -.2 .5 -1.3 .5 -.6 .5 -1.1 .5 2.8 .5 -1.9 .5 -2 .5 4 .5 -1.9 .5 .5 .5 .3 .5 -2.8 .5 3.1 .5 -.7 .5 .4 .5 .2 .5 -3.3 .5 1.3 .5 .6 .5 1.5 .5 -1.1 .5 0 .5 -1.1 .5 -1 .5 -1.9 .5 .7 .5 -1.9 .5 -.9 .5 1.2 .5 -4.6 .5 1.9 .5 -3.2 .5 1.8 .5 -3.4 .5 -.1 .5 2.7 .5 -4.6 .5 3.2 .5 2.3 .5 1.2 .5 -2.3 .5 2.9 .5 2.4 .5 .4 .5 1.4 .5 -1.8 .5 3.1 .5 .4 .5 .2 .5 1.5 .5 -2.3 .5 1.7 .5 -.1 .5 .3 .5 -.6 .5 -1 .5 2 .5 1.1 .5 -1 .5 1 .5 -1.5 .5 -2 .5 2.1 .5 .6 .5 -.5 .5 1 .5 -.7 .5 -.5 .5 .6 .5 -.1 .5 -1.2 .5 2 .5 -.9 .5 -.9 .5 .5 .5 .6 .5 .3 .5 -1.9 .5 2.3 .5 -1.8 .5 1.4 .5 0 .5 -.5 .5 .6 .5 -1.3 .5 .4 .5 0 .5 1.4 .5 -2.3 .5 1.1 .5 1.1 .5 -.5 .5 .8 .5 0 .5 .3 .5 -.1 .5 0 .5 .2 .5 -1.5 .5 -2 .5 3.7 .5 -3.3 .5 2.4 .5 0 .5 -.2 .5 -.2 .5 -.2 .5 -1 .5 1.6 .5 -.3 .5 .5 .5 -.5 .5 1 .5 -.9 .5 .6 .5 -1.1 .5 .2 .5 -.2 .5 .6 .5 -1.4 .5 1 .5 -.9 .5 1.4 .5 -1.9 .5 1.6 .5 .1 .5 0 .5 -.3 .5 0 .5 -2 .5 .7 .5 -1.8 .5 2.7 .5 .8 .5 -2 .5 1.3 .5 -1.9 .5 1.5 .5 .7 .5 0 .5 -1.7 .5 -.4 .5 1.8 .5 -.1 .5 -.5 .5 -.9 .5 .2 .5 1.5 .5 -1.2 .5 .3 .5 -1.2 .5 2 .5 -.7 .5 .9 .5 -.5 .5 .4 .5 .5 .5 .1 .5 -1.8 .5 .5 .5 -5.3 .5 7.2 .5 -1.8 .5 2.3 .5 .1 .5 -1.6 .5 1.4 .5 -.3 .5 -.4 .5 -1 .5 -1.8 .5 2.3 .5 .2 .5 -1 .5 .6 .5 1 .5 -.4 .5 -.3 .5 .5 .5 .1 .5 0 .5 -2.7 .5 .8 .5 -.8 .5 2.1 .5 0 .5 .6 .5 -.1 .5 .7 .5 -1 .5 -1.1 .5 1.7 .5 -1.4 .5 1.5 .5 -.3 .5 -1.5 .5 1.3 .5 -1.6 .5 .1 .5 .6 .5 -1.8 .5 -.2 .5 .1 .5 .6 .5 -1 .5 -.7 .5 -1.2 .5 -2.5 .5 -1.1 .5 -1.8 .5 -6.3 .5 -5.2 .5 -9 .5 -10.9 .5 -9 .5 -11.8 .5 -10.1 .5 -6.3 .5 -2.5 .5 3 .5 7.1 .5 10.8 .5 11.1 .5 11.3 .5 9.6 .5 7.3 .5 6.8 .5 3.9 .5 3.3 .5 2 .5 0 .5 .8 .5 2.7 .5 -.7 .5 .7 .5 .2 .5 -.1 .5 -.6 .5 .3 .5 .6 .5 -.8 .5 1.9 .5 .2 .5 -3.1 .5 2.4 .5 -.6 .5 1 .5 -.2 .5 -.3 .5 .8 .5 -.3 .5 -2.4 .5 2.3 .5 -.6 .5 .8 .5 .2 .5 -1 .5 -3.5 .5 3.8 .5 -2.6 .5 2.9 .5 -1.4 .5 -.7 .5 -.8 .5 2.3 .5 .1 .5 .1 .5 -.9 .5 -.7 .5 .1 .5 2 .5 -.5 .5 .8 .5 -3.6 .5 3.3 .5 -1.2 .5 -1.9 .5 2.6 .5 -1.9 .5 2.1 .5 -1.2 .5 .7 .5 -.3 .5 1.5 .5 -4.1 .5 1.3 .5 2.8 .5 .4 .5 0 .5 -.9 .5 .2 .5 -2.3 .5 2.8 .5 -1.7 .5 1.9 .5 -.6 .5 -.3 .5 -.1 .5 .9 .5 -.2 .5 -.2 .5 .1 .5 0 .5 -1.3 .5 .8 .5 -.9 .5 .2 .5 -.6 .5 -.3 .5 .9 .5 -1.8 .5 2.4 .5 -1.2 .5 -1.5 .5 0 .5 2.3 .5 -1.3 .5 1 .5 -1.4 .5 2.9 .5 -.4 .5 -1.2 .5 -.3 .5 -1.6 .5 3.3 .5 -.8 .5 -.9 .5 .3 .5 .6 .5 .3 .5 .4 .5 -1.7 .5 .1 .5 .4 .5 1.5 .5 -.7 .5 .4 .5 -.5 .5 0 .5 -1.2 .5 1.1 .5 -1.5 .5 2.1 .5 -3.1 .5 3.8 .5 -3.6 .5 3.6 .5 -1.2 .5 -.8 .5 -.4 .5 1.3 .5 -.7 .5 1.1 .5 -.9 .5 .8 .5 -.4 .5 -1.9 .5 .7 .5 -.3 .5 1.9 .5 -2.5 .5 3.7 .5 -1.6 .5 1.6 .5 -.6 .5 -.5 .5 -.2 .5 -.8 .5 .7 .5 .5 .5 -1.4 .5 1 .5 -.9 .5 1 .5 -1.2 .5 0 .5 1.7 .5 -.6 .5 .9 .5 -.9 .5 -.3 .5 .4 .5 -1.3 .5 -.1 .5 1.6 .5 -.1 .5 1 .5 -1 .5 .5 .5 -.5 .5 -2.1 .5 2.6 .5 -.4 .5 .1 .5 0 .5 -.8 .5 1.7 .5 -2.3 .5 1.6 .5 -.5 .5 -1.6 .5 3 .5 -2.3 .5 1.4 .5 -1.7 .5 2 .5 .5 .5 -2.2 .5 .1 .5 .9 .5 .4 .5 .2 .5 .6 .5 .5 .5 -1.5 .5 1.1 .5 .2 .5 -2.6 .5 2.1 .5 -.2 .5 .5 .5 -.4 .5 .5 .5 -.1 .5 -.3 .5 -.6 .5 -.9 .5 1.1 .5 -1 .5 1.1 .5 -3.4 .5 2.8 .5 -2.2 .5 2 .5 .1 .5 -.9 .5 -.3 .5 1.2 .5 -.3 .5 .2 .5 -.5 .5 -2.3 .5 1.3 .5 -.1 .5 1 .5 .2 .5 -2.4 .5 1.8 .5 -.8 .5 -.1 .5 .9 .5 1.2 .5 -2 .5 1.9 .5 .5 .5 -.1 .5 .1 .5 -1.4 .5 -2.6 .5 1.6 .5 2.1 .5 -1.5 .5 1.5 .5 -1.5 .5 1.2 .5 0 .5 -.1 .5 -1.9 .5 2.7 .5 -.4 .5 -.2 .5 .7 .5 -.7 .5 .2 .5 .3 .5 -.7 .5 -1.2 .5 1.2 .5 -1.9 .5 1.2 .5 -.8 .5 -.6 .5 1.3 .5 -1 .5 .9 .5 1 .5 -.1 .5 -.9 .5 1.2 .5 -.3 .5 -1.8 .5 .9 .5 -.8 .5 .9 .5 -.6 .5 -.8 .5 1.3 .5 -1.2 .5 -.3 .5 -2.2 .5 1.2 .5 -.4 .5 -1.5 .5 -2.5 .5 -2.9 .5 -3.8 .5 -5.3 .5 -5.2 .5 -6.1 .5 -5.5 .5 -7.5 .5 -4.1 .5 -5.2 .5 .9 .5 -.5 .5 5.7 .5 4.7 .5 8.3 .5 2.4 .5 8.7 .5 4.7 .5 4.7 .5 3.6 .5 .4 .5 5.1 .5 -7.4 .5 8 .5 1.8 .5 .3 .5 -.7 .5 1.2 .5 -2.6 .5 1.8 .5 1.4 .5 -.7 .5 -1.6 .5 -.4 .5 1.4 .5 0 .5 1 .5 -1.1 .5 -.5 .5 -2.3 .5 -4.9 .5 -5.9 .5 -7.7 .5 -7 .5 -9 .5 -.1 .5 1.2 .5 9.9 .5 8 .5 7.3 .5 6.8 .5 1.7 .5 -.8 .5 5.4 .5 -8.9 .5 7.7 .5 2.3 .5 -4.4 .5 2.9 .5 -.1 .5 1.6 .5 -.2 .5 -1.6 .5 2.3 .5 -.6 .5 -.1 .5 -1.4 .5 1.1 .5 -3 .5 .9 .5 1.2 .5 0 .5 -.3 .5 -1.5 .5 2.7 .5 -.1 .5 -.7 .5 .7 .5 -1.7 .5 .9 .5 .6 .5 .7 .5 -.2 .5 0 .5 -3.8 .5 3.9 .5 .4 .5 0 .5 -.4 .5 -1.9 .5 0 .5 .5 .5 .3 .5 .2 .5 -2.2 .5 2.4 .5 .6 .5 -2.4 .5 2.1 .5 -3.6 .5 3.6 .5 -2.1 .5 2.4 .5 -1.8 .5 1.8 .5 -.8 .5 -.8 .5 1.4 .5 0 .5 -.1 .5 -1 .5 -3.6 .5 4.7 .5 .5 .5 .3 .5 -3.3 .5 2.1 .5 1.2 .5 -1.5 .5 .2 .5 .3 .5 1.3 .5 -.6 .5 -.1 .5 -1.8 .5 1 .5 .2 .5 .6 .5 -1.2 .5 1 .5 0 .5 -1.4 .5 1.7 .5 -2 .5 .5 .5 -1.1 .5 2.6 .5 -3 .5 1.2 .5 1.7 .5 -1.2 .5 -1.2 .5 1.9 .5 -1.4 .5 1.3 .5 .5 .5 -1.2 .5 1.6 .5 -1.1 .5 .7 .5 -2 .5 2.2 .5 .7 .5 -1.8 .5 -.2 .5 -.1 .5 .9 .5 -1.2 .5 -.1 .5 .5 .5 -.9 .5 1.7 .5 -.2 .5 0 .5 -1.1 .5 -.3 .5 .4 .5 1.1 .5 -2.5 .5 2.7 .5 -.6 .5 -2 .5 2 .5 1 .5 -.2 .5 -.1 .5 -3.3 .5 1.8 .5 .7 .5 -.9 .5 .7 .5 .3 .5 -1.3 .5 .1 .5 1 .5 -4.8 .5 5 .5 -.5 .5 -.4 .5 -1.2 .5 1.9 .5 .2 .5 -.5 .5 -.1 .5 -.7 .5 1.9 .5 -.8 .5 1.1 .5 -.4 .5 .8 .5 -2.6 .5 1.4 .5 1.4 .5 -.8 .5 .1 .5 0 .5 .2 .5 -1.1 .5 .4 .5 -1.1 .5 1.8 .5 -1.7 .5 1.6 .5 .5 .5 -2.5 .5 1.9 .5 -.2 .5 -1.8 .5 1.5 .5 -.1 .5 -1 .5 1.9 .5 -1.9 .5 1.1 .5 -1.3 .5 1 .5 -.9 .5 .7 .5 1.1 .5 -.8 .5 -1.3 .5 1.9 .5 .1 .5 -1.5 .5 1 .5 .2 .5 -1.1 .5 .3 .5 -.9 .5 -1.3 .5 2.2 .5 .1 .5 -2 .5 2.2 .5 .9 .5 -1.2 .5 1.4 .5 -.7 .5 .3 .5 -1.6 .5 -2.2 .5 3.1 .5 -.5 .5 -2.1 .5 3 .5 -2 .5 -.8 .5 -.5 .5 -2 .5 3.4 .5 1.8 .5 -3.9 .5 3.1 .5 -.1 .5 .6 .5 -1.4 .5 .5 .5 -2.1 .5 .7 .5 -.9 .5 2.4 .5 .1 .5 -.7 .5 .2 .5 -1.2 .5 -.2 .5 1.9 .5 -.9 .5 .3 .5 .3 .5 .3 .5 -4.9 .5 4.3 .5 .5 .5 -.3 .5 -.7 .5 -1.5 .5 2.7 .5 -1.3 .5 .3 .5 -1.4 .5 1.3 .5 .3 .5 -2.6 .5 2.4 .5 -1 .5 -.2 .5 2 .5 -1.3 .5 1 .5 -1.4 .5 .5 .5 -.6 .5 -.9 .5 1.9 .5 -1.3 .5 -.4 .5 -3 .5 .3 .5 -3.6 .5 -7.5 .5 -4.9 .5 -9.4 .5 -4.2 .5 -5.8 .5 7.1 .5 5.9 .5 7.6 .5 6.8 .5 4.8 .5 4.7 .5 -.2 .5 .9 .5 .1 .5 1.7 .5 -.4 .5 .8 .5 .6 .5 -.2 .5 0 .5 -2.7 .5 -.4 .5 1.1 .5 .9 .5 .7 .5 -1.7 .5 .6 .5 1.2 .5 -.9 .5 -.3 .5 -.8 .5 1.9 .5 -1.3 .5 2.2 .5 -2.4 .5 2.2 .5 -.4 .5 -.3 .5 0 .5 .5 .5 -.1 .5 .1 .5 -1.8 .5 .1 .5 .7 .5 .5 .5 .1 .5 .2 .5 -1.9 .5 2 .5 -.6 .5 -.9 .5 -.5 .5 1.7 .5 -1.4 .5 1.2 .5 -.3 .5 -.9 .5 -.7 .5 -4.2 .5 -.2 .5 -3.6 .5 -5.3 .5 -1.9 .5 -2 .5 .7 .5 3 .5 4.4 .5 2.4 .5 5.1 .5 .3 .5 2.6 .5 -2.5 .5 2.8 .5 .4 .5 -.2 .5 -2.5 .5 2.9 .5 -.4 .5 .8 .5 -1 .5 .5 .5 -.9 .5 -.6 .5 -.2 .5 -1.9 .5 2.9 .5 .3 .5 -.5 .5 -.1 .5 .2 .5 .7 .5 -.4 .5 1.5 .5 -3.1 .5 2.7 .5 -.1 .5 -1.6 .5 1 .5 -.5 .5 -1.1 .5 .7 .5 1.4 .5 -.5 .5 .9 .5 -.9 .5 -1.8 .5 2.9 .5 -2.1 .5 1.7 .5 .7 .5 -2.3 .5 .6 .5 -.5 .5 2 .5 .1 .5 -.2 .5 -.2 .5 -2 .5 1.5 .5 .8 .5 -1.5 .5 .8 .5 -2 .5 2 .5 .2 .5 .4 .5 -.8 .5 .2 .5 -.7 .5 -.5 .5 0 .5 -.6 .5 -.3 .5 -.5 .5 -1.7 .5 -.3 .5 -.4 .5 -2 .5 .4 .5 2.2 .5 .6 .5 .7 .5 -.8 .5 1.1 .5 -.6 .5 .9 .5 -.7 .5 1.9 .5 -.7 .5 .3 .5 1.4 .5 -.3 .5 .4 .5 -1 .5 .4 .5 -.2 .5 -.5 .5 -1.2 .5 1.3 .5 .9 .5 -.3 .5 1 .5 -2.4 .5 .9 .5 .4 .5 .9 .5 -.4 .5 -1.7 .5 1.8 .5 .3 .5 -1.3 .5 1.6 .5 -.6 .5 -.9 .5 -.1 .5 -2 .5 2.9 .5 -.6 .5 .7 .5 0 .5 -.2 .5 -.5 .5 .9 .5 -.9 .5 .2 .5 1.1 .5 -2.4 .5 1.5 .5 -.9 .5 .8 .5 -.8 .5 2.1 .5 -.4 .5 -2.1 .5 -.8 .5 3.2 .5 -1.2 .5 .7 .5 -1.5 .5 .7 .5 -.6 .5 -.3 .5 1.5 .5 .3 .5 -2.1 .5 1.1 .5 .9 .5 -.3 .5 -3.6 .5 3.5 .5 -1.4 .5 1.9 .5 -2.8 .5 2.4 .5 -.4 .5 -.1 .5 -3.2 .5 3.9 .5 -1.4 .5 .1 .5 -3.8 .5 4.1 .5 .6 .5 0 .5 -.6 .5 .6 .5 -.2 .5 0 .5 .4 .5 -2.7 .5 1.6 .5 1 .5 -1.4 .5 .4 .5 0 .5 .4 .5 1 .5 -1.8 .5 .8 .5 -.2 .5 .7 .5 1.4 .5 -.1 .5 -.1 .5 -1.1 .5 1.2 .5 .4 .5 0 .5 -1.2 .5 .5 .5 -1.1 .5 -.2 .5 .5 .5 -1 .5 .7 .5 -.3 .5 -1 .5 2.8 .5 -1.1 .5 1 .5 -2.8 .5 2.9 .5 -2.5 .5 1.9 .5 -.9 .5 -4.2 .5 3.8 .5 1.3 .5 .4 .5 .2 .5 -3.6 .5 2.8 .5 .6 .5 -.1 .5 .7 .5 -1 .5 -1.2 .5 1.2 .5 1 .5 -1.7 .5 .9 .5 .6 .5 -1.2 .5 -.6 .5 1.1 .5 -3.9 .5 3.8 .5 -1.1 .5 .6 .5 -2 .5 -.1 .5 -.9 .5 1.1 .5 -.8 .5 -1.2 .5 .5 .5 -1.3 .5 1.2 .5 -.9 .5 1.3 .5 -.6 .5 2 .5 -.8 .5 .4 .5 1.7 .5 .8 .5 -2.7 .5 3 .5 -1.8 .5 1.9 .5 -.6 .5 .5 .5 -2.4 .5 1.1 .5 2.1 .5 -1.8 .5 1.1 .5 -.1 .5 -1.7 .5 2 .5 -3 .5 3.3 .5 -1.2 .5 -.6 .5 2.2 .5 -2.5 .5 1.7 .5 .2 .5 -.5 .5 .2 .5 .6 .5 -.1 .5 -1.2 .5 1 .5 -.7 .5 0 .5 -.1 .5 -.1 .5 -6.1 .5 5.5 .5 1.7 .5 0 .5 -1.5 .5 .2 .5 1.2 .5 -.5 .5 .6 .5 -.4 .5 -.7 .5 1 .5 .1 .5 -2.9 .5 1.6 .5 1.1 .5 -.4 .5 -.8 .5 -.6 .5 2 .5 -1.4 .5 .1 .5 1.9 .5 -1.5 .5 .7 .5 -.9 .5 .8 .5 .5 .5 .3 .5 -1.1 .5 0 .5 1 .5 -.2 .5 -.8 .5 -.2 .5 -.4 .5 1.3 .5 -.6 .5 -2.1 .5 1.9 .5 1 .5 -.1 .5 -1.7 .5 1.1 .5 -.5 .5 .8 .5 -.5 .5 -.2 .5 -.1 .5 -.4 .5 .6 .5 -.8 .5 -.1 .5 1.2 .5 .1 .5 0 .5 -.7 .5 1.7 .5 -.5 .5 .5 .5 -.6 .5 -.4 .5 -1.1 .5 1.3 .5 -1.8 .5 -.6 .5 1.3 .5 -.1 .5 -2.6 .5 3.7 .5 -1.8 .5 1.9 .5 -2.8 .5 2 .5 1.1 .5 -.5 .5 -1.9 .5 2.4 .5 -2.1 .5 .2 .5 -.9 .5 2.8 .5 -3.9 .5 3.7 .5 -.1 .5 .6 .5 -1.2 .5 -.5 .5 0 .5 .4 .5 .1 .5 -1.4 .5 0 .5 1.3 .5 -.2 .5 -.7 .5 -.9 .5 1.6 .5 -2.7 .5 3.4 .5 -.5 .5 0 .5 -2.2 .5 1.6 .5 .4 .5 -.5 .5 -.9 .5 1.2 .5 -2 .5 -.4 .5 2.1 .5 -1.4 .5 1.1 .5 .9 .5 -1.7 .5 1.4 .5 -.4 .5 1.1 .5 -.2 .5 -1.8 .5 1.3 .5 -1.2 .5 -1.4 .5 3.4 .5 -.1 .5 -.1 .5 .4 .5 -.1 .5 -4.1 .5 3.7 .5 -1 .5 1 .5 .4 .5 -.9 .5 1.1 .5 -1 .5 1 .5 -.3 .5 -2.1 .5 1.9 .5 -.3 .5 .6 .5 -1 .5 .9 .5 .6 .5 -.3 .5 0 .5 .2 .5 -.1 .5 -.7 .5 .6 .5 -.4 .5 -1.2 .5 -.6 .5 2.8 .5 .6 .5 -1.3 .5 .7 .5 -.1 .5 -.9 .5 .5 .5 .3 .5 .1 .5 -.1 .5 .5 .5 -1.2 .5 -.2 .5 .3 .5 -1.2 .5 -.1 .5 .1 .5 1 .5 -.4 .5 .2 .5 .4 .5 -.2 .5 -.8 .5 .3 .5 -6.4 .5 4.5 .5 -.7 .5 2.9 .5 .8 .5 .1 .5 -2.1 .5 .7 .5 -.2 .5 1.9 .5 -2.1 .5 1.4 .5 -.1 .5 -1.2 .5 1 .5 .5 .5 -1.9 .5 1.7 .5 -.4 .5 -.1 .5 -1 .5 1.1 .5 1.3 .5 -1.2 .5 -1.8 .5 1.7 .5 1 .5 .4 .5 -1.1 .5 .1 .5 -.4 .5 -.1 .5 -1.4 .5 1.2 .5 .6 .5 1.5 .5 -2.4 .5 1.5 .5 .3 .5 .2 .5 -3 .5 2.7 .5 -1.8 .5 1.8 .5 .3 .5 -.6 .5 -3.1 .5 2.8 .5 -.4 .5 -.2 .5 .2 .5 -.1 .5 .9 .5 -.3 .5 .4 .5 .3 .5 -1.9 .5 1.4 .5 0 .5 -.5 .5 .9 .5 -1.8 .5 1.9 .5 .1 .5 .1 .5 -2.8 .5 1.3 .5 1.3 .5 -.8 .5 .1 .5 .8 .5 -.6 .5 -1.8 .5 1.9 .5 .3 .5 -.5 .5 -.2 .5 .4 .5 -.2 .5 .6 .5 -.3 .5 -.4 .5 -.7 .5 -.5 .5 -1.7 .5 2.2 .5 .2 .5 -.8 .5 .7 .5 .2 .5 0 .5 .7 .5 -2.1 .5 2.1 .5 -1.3 .5 -.2 .5 1.2 .5 .4 .5 -.7 .5 -.6 .5 -.1 .5 .1 .5 1.3 .5 -1.1 .5 -.4 .5 .9 .5 -1.3 .5 1.1 .5 -2.1 .5 2.3 .5 -.3 .5 1.1 .5 -1.4 .5 -.5 .5 -1.5 .5 .1 .5 1.5 .5 -.2 .5 1.9 .5 -.3 .5 -.2 .5 -1.6 .5 1.5 .5 -2.1 .5 .8 .5 -.6 .5 1.6 .5 -1.7 .5 1.5 .5 .1 .5 -2.1 .5 -.9 .5 2.1 .5 .8 .5 .4 .5 -.1 .5 -.4 .5 -1 .5 1.3 .5 -1.7 .5 -.8 .5 .4 .5 2.2 .5 -.9 .5 -3.1 .5 3.8 .5 1 .5 -.3 .5 -.2 .5 -.7 .5 -.8 .5 2 .5 -1.4 .5 .9 .5 .4 .5 .2 .5 -1.6 .5 -4 .5 4.8 .5 -.2 .5 -2.5 .5 2 .5 -.6 .5 .3 .5 1.1 .5 -.6 .5 -1.1 .5 1.4 .5 .7 .5 .6 .5 -.1 .5 -1.5 .5 -.1 .5 1.5 .5 -.3 .5 -.8 .5 -.1 .5 0 .5 .3 .5 1 .5 -1.4 .5 -1.6 .5 1.4 .5 -1.2 .5 2.1 .5 -.8 .5 -.6 .5 .6 .5 -1.2 .5 1.5 .5 -1.9 .5 2.5 .5 -.3 .5 0 .5 -1 .5 -.7 .5 1.7 .5 -.1 .5 -3.1 .5 3 .5 .2 .5 -1 .5 .6 .5 -.9 .5 .6 .5 .4 .5 .3 .5 -2.2 .5 1.8 .5 -.3 .5 -.5 .5 1.1 .5 -1.2 .5 .4 .5 1.2 .5 -1.1 .5 -.9 .5 1.8 .5 1.2 .5 -2.6 .5 1.7 .5 1.3 .5 -.6 .5 -2.8 .5 3.3 .5 -3.7 .5 2.1 .5 .3 .5 -.4 .5 -.6 .5 2 .5 .3 .5 -2.7 .5 2.2 .5 .6 .5 .4 .5 -.5 .5 -.2 .5 .2 .5 .5 .5 -.8 .5 .1 .5 -.5 .5 .1 .5 -.5 .5 -.4 .5 -.4 .5 -2.1 .5 3.9 .5 .3 .5 -1.6 .5 .8 .5 -1.2 .5 .9 .5 0 .5 -1 .5 1.3 .5 .2 .5 -.6 .5 .4 .5 .5 .5 -1.8 .5 .2 .5 .4 .5 .2 .5 -.5 .5 -.4 .5 1.1 .5 -.8 .5 .5 .5 -.1 .5 1.1 .5 -.5 .5 .2 .5 -2.5 .5 2.7 .5 -1.9 .5 1.8 .5 -1.3 .5 .4 .5 .5 .5 -3 .5 1.4 .5 .4 .5 .9 .5 -2 .5 1 .5 .4 .5 -.1 .5 -2.1 .5 2.3 .5 1.1 .5 -.3 .5 -.1 .5 -.4 .5 -.7 .5 1.6 .5 -1.7 .5 -1.5 .5 0 .5 2.3 .5 -.8 .5 1.5 .5 -2.1 .5 .7 .5 .2 .5 -1.9 .5 2.9 .5 -3.3 .5 1.2 .5 1.7 .5 -.8 .5 -.4 .5 1.3 .5 -1 .5 -.2 .5 -.3 .5 -.7 .5 1.5 .5 .8 .5 -.2 .5 -1 .5 .8 .5 -.4 .5 1.3 .5 .1 .5 -.7 .5 -.9 .5 1.4 .5 .7 .5 -.1 .5 -1.7 .5 1.5 .5 -.3 .5 -.5 .5 .1 .5 .2 .5 -.4 .5 .3 .5 .1 .5 .1 .5 -1 .5 1.1 .5 -2.5 .5 1.6 .5 -.1 .5 -.2 .5 -.2 .5 .6 .5 .3 .5 -3.8 .5 .3 .5 1.9 .5 1.4 .5 -.1 .5 .4 .5 -.7 .5 0 .5 -7.7 .5 8 .5 -1 .5 -2.9 .5 2.3 .5 -1.4 .5 2.4 .5 .8 .5 -.2 .5 -.8 .5 1.1 .5 -2.1 .5 -.4 .5 2 .5 -.3 .5 -1.4 .5 1.1 .5 -.1 .5 -.1 .5 -1.3 .5 .8 .5 -.8 .5 1.3 .5 .1 .5 .3 .5 -1.3 .5 -.8 .5 1.7 .5 -1.4 .5 1.9 .5 -1.3 .5 .8 .5 -2.5 .5 1.8 .5 .9 .5 -.5 .5 -1.2 .5 .4 .5 1 .5 .8 .5 -2.2 .5 .5 .5 0 .5 .4 .5 1.5 .5 .3 .5 0 .5 -.7 .5 0 .5 1 .5 -3.3 .5 3.4 .5 -1.9 .5 1.5 .5 .2 .5 -1 .5 0 .5 .9 .5 -1.4 .5 1.5 .5 -.7 .5 -.8 .5 1.3 .5 .1 .5 -1.2 .5 .3 .5 .8 .5 .6 .5 -.6 .5 .7 .5 -1 .5 -1.9 .5 .5 .5 .2 .5 .7 .5 1.2 .5 -1.8 .5 1.3 .5 -.3 .5 -.4 .5 -.8 .5 .6 .5 -.3 .5 -.9 .5 1.2 .5 -.1 .5 -1.7 .5 -.4 .5 0 .5 -1.1 .5 .5 .5 -.9 .5 .4 .5 .1 .5 .2 .5 1.1 .5 .5 .5 -.4 .5 .5 .5 .1 .5 -1.1 .5 1.9 .5 -2.8 .5 2.8 .5 .3 .5 -1.7 .5 1.5 .5 -2 .5 3.1 .5 -1.6 .5 .5 .5 .6 .5 -.1 .5 .8 .5 -.1 .5 -.4 .5 .1 .5 -.8 .5 -.2 .5 .2 .5 -1.2 .5 .1 .5 .3 .5 -.1 .5 .4 .5 .1 .5 .1 .5 .4 .5 .7 .5 .2 .5 -1.8 .5 -.8 .5 1.2 .5 .3 .5 -.9 .5 -.7 .5 1.7 .5 -.4 .5 -.8 .5 1.7 .5 -1.2 .5 -1.2 .5 2.6 .5 -.1 .5 .3 .5 -.7 .5 -2.2 .5 2.9 .5 -.7 .5 -1.4 .5 .5 .5 -.6 .5 1.3 .5 .2 .5 -1.6 .5 1.1 .5 .2 .5 -.4 .5 .9 .5 -.3 .5 -.7 .5 1.5 .5 -1.1 .5 .8 .5 -.5 .5 -1.6 .5 -1.7 .5 3.3 .5 -2.1 .5 1.4 .5 .2 .5 -1 .5 1.3 .5 -2.2 .5 .3 .5 1.1 .5 -.3 .5 .1 .5 -.7 .5 1.4 .5 -.6 .5 0 .5 .1 .5 -.5 .5 .5 .5 -.7 .5 -.3 .5 .9 .5 1 .5 .4 .5 -.1 .5 .7 .5 .1 .5 -1.4 .5 .2 .5 .9 .5 .3 .5 -1.3 .5 .8 .5 -2.5 .5 2.9 .5 0 .5 -1.2 .5 .3 .5 .2 .5 -1.9 .5 .7 .5 .2 .5 1.3 .5 -1.9 .5 1.1 .5 .7 .5 0 .5 -3.4 .5 1.9 .5 1.5 .5 -.5 .5 -.2 .5 .4 .5 -1 .5 .6 .5 .3 .5 -.3 .5 -1.5 .5 .7 .5 -1.1 .5 -1.4 .5 2.9 .5 -1.1 .5 1.5 .5 -.1 .5 -1.7 .5 .2 .5 .9 .5 -.4 .5 -.2 .5 -2.4 .5 .6 .5 -.5 .5 -1.6 .5 -1.2 .5 -.3 .5 -1.7 .5 .9 .5 -.3 .5 0 .5 .8 .5 .7 .5 -.4 .5 1.4 .5 .5 .5 1.9 .5 -1.7 .5 2.6 .5 -.2 .5 .3 .5 1.4 .5 -1.3 .5 .5 .5 -1.3 .5 2.3 .5 -2.9 .5 3.3 .5 -2 .5 1 .5 1.2 .5 -1.2 .5 .9 .5 .3 .5 -1.5 .5 1.1 .5 .3 .5 .4 .5 -.8 .5 -.3 .5 .3 .5 -2.1 .5 1.9 .5 -1.1 .5 1.7 .5 -.8 .5 1 .5 0 .5 -.7 .5 -.1 .5 .4 .5 -.1 .5 .3 .5 -.8 .5 .5 .5 -2.2 .5 .6" fill="none" stroke="#000000" stroke-width="2.4" stroke-linejoin="round"/>
<g fill="#000" font-family="'DejaVu Sans', sans-serif">
<text transform="translate(605.0 3795.0) scale(1.001 1)" x="-13.9" y="8.2" font-size="31.8">●</text>
<text transform="translate(630.0 3784.0) scale(1.030 1)" x="-24.3" y="19.8" font-size="54.2">♦</text>
<text transform="translate(744.5 3742.5) scale(1.075 1)" x="-24.3" y="19.8" font-size="54.2">♣</text>
<text transform="translate(797.5 3746.5) scale(0.999 1)" x="-22.6" y="18.4" font-size="50.4">♥</text>
<text transform="translate(870.5 3748.5) scale(1.141 1)" x="-23.7" y="19.2" font-size="52.8">♠</text>
<text transform="translate(882.2 3606.5) scale(1.075 1)" x="-24.3" y="19.8" font-size="54.2">♣</text>
<text transform="translate(916.5 3699.0) scale(0.999 1)" x="-22.6" y="18.4" font-size="50.4">♥</text>
<text transform="translate(1076.5 3745.0) scale(1.075 1)" x="-24.3" y="19.8" font-size="54.2">♣</text>
<text transform="translate(1080.0 3778.5) scale(1.001 1)" x="-13.9" y="8.2" font-size="31.8">●</text>
<text transform="translate(1200.5 3777.5) scale(1.141 1)" x="-23.7" y="19.2" font-size="52.8">♠</text>
<text transform="translate(1353.5 3737.5) scale(1.030 1)" x="-24.3" y="19.8" font-size="54.2">♦</text>
<text transform="translate(1352.5 3782.5) scale(1.075 1)" x="-24.3" y="19.8" font-size="54.2">♣</text>
<text transform="translate(1444.0 3676.0) scale(1.001 1)" x="-13.9" y="8.2" font-size="31.8">●</text>
<text transform="translate(1440.0 3722.5) scale(1.075 1)" x="-24.3" y="19.8" font-size="54.2">♣</text>
<text transform="translate(1594.0 3730.0) scale(1.075 1)" x="-24.3" y="19.8" font-size="54.2">♣</text>
<text transform="translate(1626.5 3767.5) scale(1.141 1)" x="-23.7" y="19.2" font-size="52.8">♠</text>
<text transform="translate(1741.5 3780.0) scale(0.999 1)" x="-22.6" y="18.4" font-size="50.4">♥</text>
<text transform="translate(596.5 4012.5) scale(1.001 1)" x="-13.9" y="8.2" font-size="31.8">●</text>
<text transform="translate(621.5 4001.0) scale(1.030 1)" x="-24.3" y="19.8" font-size="54.2">♦</text>
<text transform="translate(741.0 3942.5) scale(1.075 1)" x="-24.3" y="19.8" font-size="54.2">♣</text>
<text transform="translate(795.0 3972.5) scale(0.999 1)" x="-22.6" y="18.4" font-size="50.4">♥</text>
<text transform="translate(849.0 3984.0) scale(1.141 1)" x="-23.7" y="19.2" font-size="52.8">♠</text>
<text transform="translate(910.5 3932.5) scale(0.999 1)" x="-22.6" y="18.4" font-size="50.4">♥</text>
<text transform="translate(1073.5 3942.5) scale(1.075 1)" x="-24.3" y="19.8" font-size="54.2">♣</text>
<text transform="translate(1077.5 3980.0) scale(1.001 1)" x="-13.9" y="8.2" font-size="31.8">●</text>
<text transform="translate(1204.0 3992.5) scale(1.141 1)" x="-23.7" y="19.2" font-size="52.8">♠</text>
<text transform="translate(1367.5 3948.5) scale(1.030 1)" x="-24.3" y="19.8" font-size="54.2">♦</text>
<text transform="translate(1361.5 3992.5) scale(1.075 1)" x="-24.3" y="19.8" font-size="54.2">♣</text>
<text transform="translate(1445.5 3890.0) scale(1.001 1)" x="-13.9" y="8.2" font-size="31.8">●</text>
<text transform="translate(1443.5 3937.5) scale(1.075 1)" x="-24.3" y="19.8" font-size="54.2">♣</text>
<text transform="translate(1589.0 3938.5) scale(1.075 1)" x="-24.3" y="19.8" font-size="54.2">♣</text>
<text transform="translate(1629.0 3982.5) scale(1.141 1)" x="-23.7" y="19.2" font-size="52.8">♠</text>
<text transform="translate(1734.0 3997.5) scale(0.999 1)" x="-22.6" y="18.4" font-size="50.4">♥</text>
<text transform="translate(596.5 4228.5) scale(1.001 1)" x="-13.9" y="8.2" font-size="31.8">●</text>
<text transform="translate(621.5 4217.5) scale(1.030 1)" x="-24.3" y="19.8" font-size="54.2">♦</text>
<text transform="translate(746.0 4167.5) scale(1.075 1)" x="-24.3" y="19.8" font-size="54.2">♣</text>
<text transform="translate(795.0 4172.5) scale(0.999 1)" x="-22.6" y="18.4" font-size="50.4">♥</text>
<text transform="translate(857.0 4196.0) scale(1.141 1)" x="-23.7" y="19.2" font-size="52.8">♠</text>
<text transform="translate(913.0 4130.0) scale(0.999 1)" x="-22.6" y="18.4" font-size="50.4">♥</text>
<text transform="translate(1087.5 4175.0) scale(1.075 1)" x="-24.3" y="19.8" font-size="54.2">♣</text>
<text transform="translate(1091.0 4214.0) scale(1.001 1)" x="-13.9" y="8.2" font-size="31.8">●</text>
<text transform="translate(1204.0 4210.0) scale(1.141 1)" x="-23.7" y="19.2" font-size="52.8">♠</text>
<text transform="translate(1359.0 4164.0) scale(1.030 1)" x="-24.3" y="19.8" font-size="54.2">♦</text>
<text transform="translate(1352.5 4207.5) scale(1.075 1)" x="-24.3" y="19.8" font-size="54.2">♣</text>
<text transform="translate(1444.0 4115.0) scale(1.001 1)" x="-13.9" y="8.2" font-size="31.8">●</text>
<text transform="translate(1440.0 4162.5) scale(1.075 1)" x="-24.3" y="19.8" font-size="54.2">♣</text>
<text transform="translate(1593.0 4175.0) scale(1.075 1)" x="-24.3" y="19.8" font-size="54.2">♣</text>
<text transform="translate(1625.5 4205.0) scale(1.141 1)" x="-23.7" y="19.2" font-size="52.8">♠</text>
<text transform="translate(1741.5 4204.0) scale(0.999 1)" x="-22.6" y="18.4" font-size="50.4">♥</text>
<text transform="translate(599.0 4394.0) scale(1.001 1)" x="-13.9" y="8.2" font-size="31.8">●</text>
<text transform="translate(624.0 4382.5) scale(1.030 1)" x="-24.3" y="19.8" font-size="54.2">♦</text>
<text transform="translate(747.5 4359.0) scale(1.075 1)" x="-24.3" y="19.8" font-size="54.2">♣</text>
<text transform="translate(792.5 4351.5) scale(0.999 1)" x="-22.6" y="18.4" font-size="50.4">♥</text>
<text transform="translate(862.0 4377.5) scale(1.141 1)" x="-23.7" y="19.2" font-size="52.8">♠</text>
<text transform="translate(911.5 4307.5) scale(0.999 1)" x="-22.6" y="18.4" font-size="50.4">♥</text>
<text transform="translate(1084.0 4347.5) scale(1.075 1)" x="-24.3" y="19.8" font-size="54.2">♣</text>
<text transform="translate(1087.5 4385.0) scale(1.001 1)" x="-13.9" y="8.2" font-size="31.8">●</text>
<text transform="translate(1206.5 4389.0) scale(1.141 1)" x="-23.7" y="19.2" font-size="52.8">♠</text>
<text transform="translate(1350.0 4361.0) scale(1.030 1)" x="-24.3" y="19.8" font-size="54.2">♦</text>
<text transform="translate(1359.0 4399.0) scale(1.075 1)" x="-24.3" y="19.8" font-size="54.2">♣</text>
<text transform="translate(1445.5 4286.0) scale(1.001 1)" x="-13.9" y="8.2" font-size="31.8">●</text>
<text transform="translate(1442.5 4325.0) scale(1.075 1)" x="-24.3" y="19.8" font-size="54.2">♣</text>
<text transform="translate(1591.5 4357.5) scale(1.075 1)" x="-24.3" y="19.8" font-size="54.2">♣</text>
<text transform="translate(1624.0 4377.5) scale(1.141 1)" x="-23.7" y="19.2" font-size="52.8">♠</text>
<text transform="translate(1741.5 4390.0) scale(0.999 1)" x="-22.6" y="18.4" font-size="50.4">♥</text>
<text transform="translate(600.9 4574.8) scale(1.001 1)" x="-13.9" y="8.2" font-size="31.8">●</text>
<text transform="translate(625.6 4562.8) scale(1.030 1)" x="-24.3" y="19.8" font-size="54.2">♦</text>
<text transform="translate(735.4 4534.4) scale(1.075 1)" x="-24.3" y="19.8" font-size="54.2">♣</text>
<text transform="translate(795.6 4517.1) scale(0.999 1)" x="-22.6" y="18.4" font-size="50.4">♥</text>
<text transform="translate(862.5 4536.2) scale(1.141 1)" x="-23.7" y="19.2" font-size="52.8">♠</text>
<text transform="translate(908.5 4462.5) scale(0.999 1)" x="-22.6" y="18.4" font-size="50.4">♥</text>
<text transform="translate(1073.5 4525.0) scale(1.075 1)" x="-24.3" y="19.8" font-size="54.2">♣</text>
<text transform="translate(1085.0 4567.5) scale(1.001 1)" x="-13.9" y="8.2" font-size="31.8">●</text>
<text transform="translate(1210.0 4555.0) scale(1.141 1)" x="-23.7" y="19.2" font-size="52.8">♠</text>
<text transform="translate(1351.0 4522.5) scale(1.030 1)" x="-24.3" y="19.8" font-size="54.2">♦</text>
<text transform="translate(1347.5 4569.0) scale(1.075 1)" x="-24.3" y="19.8" font-size="54.2">♣</text>
<text transform="translate(1444.0 4467.5) scale(1.001 1)" x="-13.9" y="8.2" font-size="31.8">●</text>
<text transform="translate(1437.5 4505.0) scale(1.075 1)" x="-24.3" y="19.8" font-size="54.2">♣</text>
<text transform="translate(1582.5 4529.0) scale(1.075 1)" x="-24.3" y="19.8" font-size="54.2">♣</text>
<text transform="translate(1624.0 4547.5) scale(1.141 1)" x="-23.7" y="19.2" font-size="52.8">♠</text>
<text transform="translate(1733.5 4561.0) scale(0.999 1)" x="-22.6" y="18.4" font-size="50.4">♥</text>
</g>
</svg>
</body></html>
